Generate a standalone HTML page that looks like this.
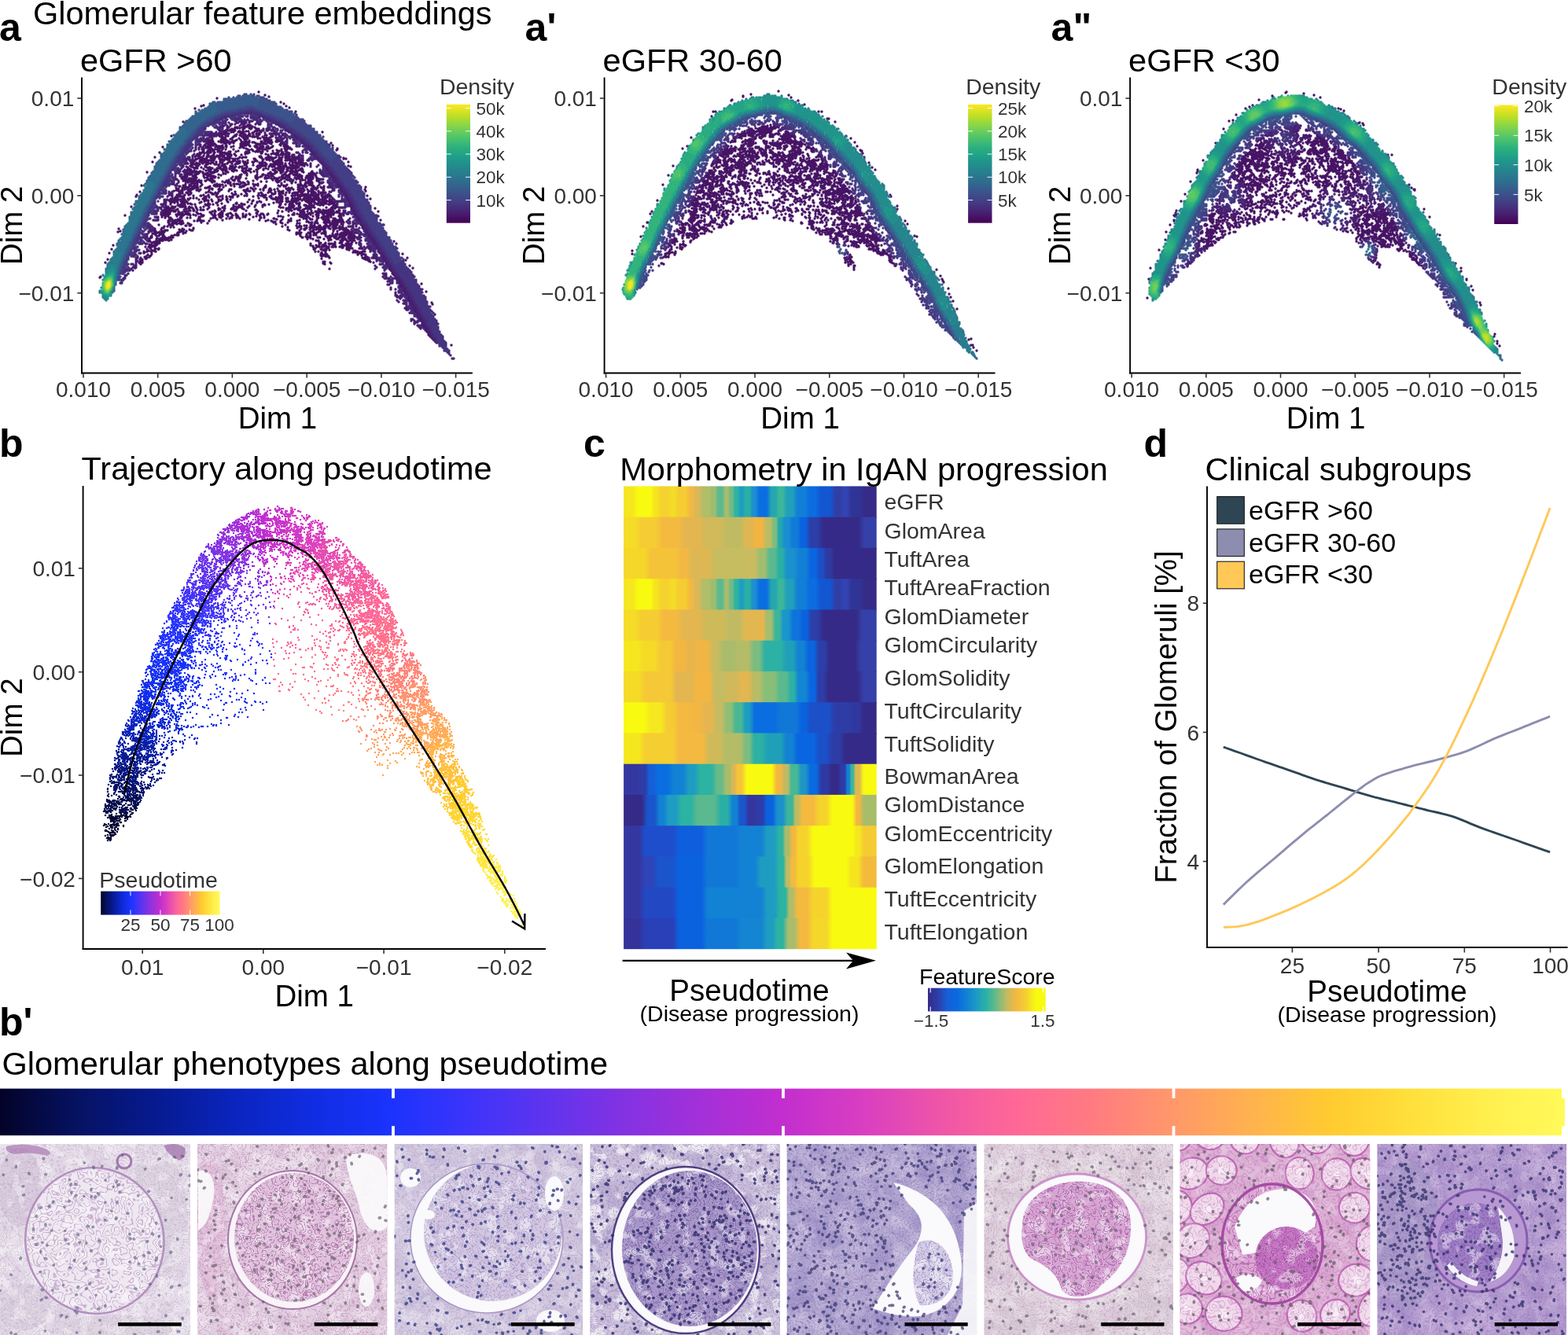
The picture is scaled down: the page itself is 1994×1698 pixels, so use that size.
<!DOCTYPE html><html><head><meta charset="utf-8"><style>html,body{margin:0;padding:0;background:#fff;overflow:hidden}svg{display:block}</style></head><body><svg width="1994" height="1698" viewBox="0 0 1994 1698" font-family='&quot;Liberation Sans&quot;, Arial, sans-serif'><defs><linearGradient id="vir" x1="0" y1="1" x2="0" y2="0"><stop offset="0%" stop-color="#440154"/><stop offset="9.1%" stop-color="#482173"/><stop offset="18.2%" stop-color="#433E85"/><stop offset="27.3%" stop-color="#38588C"/><stop offset="36.4%" stop-color="#2D708E"/><stop offset="45.5%" stop-color="#25858E"/><stop offset="54.5%" stop-color="#1E9B8A"/><stop offset="63.6%" stop-color="#2BB07F"/><stop offset="72.7%" stop-color="#51C56A"/><stop offset="81.8%" stop-color="#85D54A"/><stop offset="90.9%" stop-color="#C2DF23"/><stop offset="100%" stop-color="#FDE725"/></linearGradient></defs><rect width="1994" height="1698" fill="#fff"/><text x="-1" y="52" font-size="50" font-weight="bold">a</text><text x="667.6" y="52" font-size="50" font-weight="bold">a'</text><text x="1336.6" y="52" font-size="50" font-weight="bold">a"</text><text x="42" y="31.1" font-size="41.5">Glomerular feature embeddings</text><g stroke-linecap="round" fill="none"><path d="M329 117h0m8 4h0m5 2h0m-66 2h0m-20 10h0m3-1h0m98-4h0m4 2h0m-113 6h0m116-3h0m4 2h0m8 5h0m-143 13h0m62 9h0m1 1h0m2-1h0m1-2h0m0 1h0m0 0h0m2-1h0m1 0h0m0 1h0m3 0h0m3-1h0m1 0h0m1-1h0m0-1h0m0 1h0m1 1h0m0 1h0m1-2h0m0 0h0m1 0h0m1 0h0m1-2h0m1 0h0m1 2h0m0 2h0m1-4h0m0 4h0m1 0h0m0 1h0m1-2h0m0 1h0m1-2h0m3 1h0m1 1h0m2 1h0m2 0h0m-52 7h0m1-1h0m1-1h0m2 0h0m0 1h0m0-2h0m2 0h0m1-1h0m0 2h0m1 0h0m0-2h0m1 1h0m0 0h0m0-1h0m0 1h0m1 2h0m0 0h0m1-1h0m0-3h0m0 1h0m1-1h0m1 4h0m0 0h0m0 0h0m1 0h0m0-4h0m2-1h0m1 2h0m0 1h0m1-3h0m0 0h0m1 2h0m1-2h0m0 3h0m2-2h0m2 5h0m2-3h0m1-1h0m1 1h0m0-1h0m1 1h0m0 2h0m1 0h0m2-2h0m0-2h0m0-1h0m1 6h0m0-3h0m2 3h0m1-4h0m3 0h0m1 4h0m0-1h0m4-1h0m1 0h0m2-2h0m2-1h0m0 0h0m0 5h0m0-1h0m1-5h0m0 2h0m2 3h0m1 1h0m0-5h0m0 3h0m0-3h0m0 5h0m2-3h0m5 1h0m73-1h0m-192 5h0m51 2h0m1 1h0m2-3h0m1 0h0m1-1h0m1 1h0m4-2h0m0 2h0m2 1h0m1 0h0m0-1h0m0 4h0m1-6h0m0 3h0m0 3h0m1-2h0m1 2h0m1-6h0m0 5h0m0-1h0m1-3h0m1 1h0m2 0h0m3 4h0m2-1h0m1-1h0m1-1h0m1-1h0m1-1h0m1 1h0m4 3h0m1-4h0m2 1h0m1 1h0m1 0h0m0 0h0m1-2h0m0 1h0m0 3h0m1-3h0m1 3h0m0-2h0m0-1h0m1 0h0m2 2h0m0 1h0m0-3h0m1-1h0m2-1h0m0 2h0m3 1h0m0 0h0m1-2h0m0-1h0m0 1h0m1 2h0m1 0h0m3 0h0m1 2h0m0-1h0m0-2h0m3 3h0m0 0h0m3-2h0m1 1h0m1 1h0m0-1h0m1-3h0m1 4h0m1-1h0m0-3h0m2 5h0m1-1h0m1-1h0m2-1h0m0 0h0m1-1h0m1 0h0m4 2h0m1 1h0m0 1h0m0 0h0m-89 4h0m0 1h0m0-1h0m1 1h0m0-2h0m0 1h0m1-2h0m1 2h0m1 1h0m0-4h0m0 2h0m0-1h0m1 1h0m1 1h0m1 2h0m0-2h0m0-3h0m1 2h0m0 2h0m0 0h0m7-2h0m3 1h0m0 0h0m0-1h0m0-2h0m1 3h0m0 0h0m0 0h0m1-2h0m1 1h0m0-3h0m1 5h0m0 0h0m0-3h0m1-1h0m1 2h0m0-3h0m0 1h0m0 4h0m0-1h0m2 0h0m0-2h0m1 2h0m1-1h0m0 1h0m1 2h0m1-6h0m1 4h0m1-1h0m1-1h0m1 3h0m0 0h0m1-2h0m1-1h0m0 0h0m2-1h0m5 0h0m0 5h0m1 0h0m0-3h0m0 2h0m1 0h0m0 1h0m1-2h0m0 0h0m1 2h0m1-5h0m0 4h0m1-2h0m0 0h0m1-1h0m0 4h0m0-5h0m2 3h0m1 2h0m0-1h0m1-1h0m0-2h0m0 1h0m4 1h0m2 0h0m2 1h0m7-2h0m1 2h0m0-2h0m0 1h0m0 0h0m0 0h0m2 1h0m1-4h0m1 5h0m0-3h0m1 3h0m1-4h0m0-1h0m1 0h0m0 2h0m0 0h0m1 1h0m0-2h0m1 2h0m0 0h0m0-3h0m1 1h0m0 0h0m0 3h0m1 0h0m0-2h0m0-1h0m0 1h0m0-1h0m1 4h0m0-5h0m1 3h0m5-1h0m1 0h0m0-2h0m1 2h0m0-2h0m1 1h0m0-1h0m0 0h0m1 0h0m0 1h0m1-1h0m0 1h0m1 4h0m0 0h0m0-3h0m2 2h0m0-1h0m1 2h0m61-1h0m-214 5h0m51 1h0m2-3h0m1 0h0m0-1h0m1 4h0m0 0h0m1 0h0m1-1h0m0-1h0m0 2h0m0-1h0m1 0h0m0 0h0m0 1h0m0-4h0m1 4h0m0-4h0m0 5h0m1 0h0m0-2h0m0-2h0m0 1h0m0-2h0m1 4h0m0-3h0m0 1h0m1 3h0m2-6h0m0 2h0m1-1h0m1-1h0m1 1h0m0 3h0m1-2h0m1 1h0m1 0h0m2 2h0m0-2h0m0 1h0m1 1h0m1 0h0m0-2h0m2-1h0m0 3h0m0-1h0m1 1h0m3-2h0m0-3h0m1 4h0m0-2h0m6 2h0m3-1h0m8 2h0m1-3h0m1 0h0m1 2h0m1-1h0m0 1h0m1 1h0m1-3h0m2 4h0m0-4h0m1-1h0m1-1h0m1 0h0m1 2h0m1 1h0m6 0h0m0 0h0m1 1h0m1-3h0m0 0h0m0 1h0m1 3h0m0-2h0m1-3h0m0 5h0m2 0h0m0-4h0m0 5h0m1-3h0m0-3h0m1 6h0m0-2h0m1 2h0m1-3h0m0-1h0m1 2h0m4 2h0m0-2h0m0-4h0m2 5h0m0-2h0m3 2h0m2-1h0m1-1h0m9-2h0m0 0h0m0 0h0m1 1h0m4 1h0m1-1h0m0-2h0m0 6h0m1-1h0m0-4h0m1 3h0m0-3h0m0 4h0m1-3h0m0 3h0m1-2h0m1 2h0m1 0h0m1 0h0m0 0h0m20-2h0m34-1h0m6 4h0m-226 5h0m51 0h0m0 0h0m3-4h0m0 4h0m1-1h0m1 0h0m0-3h0m0-1h0m0 1h0m0 2h0m1 3h0m3-1h0m0 0h0m1 0h0m0-2h0m0 3h0m0-3h0m1 2h0m1-4h0m0-1h0m0 5h0m1-2h0m0-2h0m1 0h0m0 4h0m0-2h0m2-2h0m1 2h0m1 3h0m0-3h0m0 1h0m0 2h0m0-3h0m1-2h0m0 4h0m3-4h0m1 3h0m0-3h0m0-1h0m1 1h0m0-1h0m0 3h0m0 0h0m1 1h0m0-1h0m0-3h0m2 3h0m0 1h0m2 1h0m0-5h0m0 1h0m3 4h0m0 1h0m1 0h0m0-5h0m2 5h0m2-2h0m2 0h0m4-3h0m3 3h0m3-1h0m9 2h0m1-5h0m0 4h0m2 2h0m0-5h0m0 3h0m0 2h0m2-4h0m0 3h0m3-4h0m1 1h0m0 0h0m1 1h0m3 1h0m2-2h0m0 0h0m1 2h0m1-3h0m1 0h0m1 3h0m0 0h0m1 0h0m0 2h0m0-1h0m1 1h0m1-5h0m0 3h0m0-1h0m3-2h0m0 0h0m3 2h0m2-3h0m5 3h0m0 0h0m4 3h0m1-4h0m0 4h0m1-1h0m0-2h0m0 2h0m1 0h0m1-2h0m0 0h0m3-2h0m0 2h0m0 3h0m1 0h0m1-1h0m3-2h0m1 3h0m0-3h0m0-3h0m1 1h0m1-1h0m0 0h0m0 5h0m2 1h0m1-6h0m2 1h0m57 1h0m1-1h0m-232 10h0m51-1h0m2-1h0m1 0h0m0-2h0m2 5h0m0-2h0m1-4h0m0 2h0m0 2h0m0 1h0m1-4h0m2 4h0m2-2h0m4 1h0m0 2h0m1-4h0m0-1h0m1 0h0m0 3h0m0-3h0m2 3h0m2 0h0m1-1h0m0 3h0m1-2h0m0 1h0m0 0h0m1-4h0m0 2h0m2 2h0m2-2h0m1 1h0m2 1h0m0 1h0m0-3h0m0 2h0m1-3h0m0-1h0m1 1h0m0 1h0m1 0h0m1 1h0m0 0h0m0-1h0m0-3h0m2 3h0m0 2h0m3-4h0m1 4h0m0-3h0m1 0h0m0-1h0m0 1h0m1 0h0m0 1h0m1-2h0m0 3h0m0-4h0m0 5h0m1-4h0m1 1h0m0 1h0m4-2h0m1 1h0m1 1h0m5 2h0m2-3h0m2 3h0m3-4h0m0 4h0m0 0h0m1 0h0m17-1h0m1 0h0m0 1h0m1-1h0m6-3h0m0 5h0m2-1h0m1-3h0m0 3h0m0 0h0m1 0h0m0-1h0m2 1h0m0 0h0m1 0h0m0-4h0m2-1h0m1 0h0m1 6h0m1-5h0m1 4h0m1-3h0m2 0h0m1 3h0m0 0h0m2-3h0m2 3h0m1-5h0m0 2h0m3-1h0m0 3h0m1-2h0m0 2h0m0-1h0m2 2h0m1-3h0m0 4h0m0-2h0m0 1h0m1-1h0m0-3h0m3 3h0m1-2h0m0 3h0m2 0h0m0-3h0m2 3h0m0 0h0m1 0h0m1 1h0m2 0h0m0-2h0m0 1h0m0 0h0m0-2h0m1 2h0m0 1h0m16-5h0m40 5h0m-243 5h0m49 1h0m2-2h0m1 2h0m1-2h0m0-1h0m0 0h0m0 0h0m2-2h0m0 1h0m2-1h0m3 3h0m1-2h0m0 0h0m0 1h0m1 2h0m1 1h0m0-3h0m0-3h0m2 1h0m0 2h0m1-2h0m0 1h0m0 3h0m1-3h0m0-1h0m1 3h0m0 2h0m1-4h0m0 2h0m1 1h0m1-1h0m1-1h0m2 0h0m0-3h0m1 5h0m0-3h0m1 2h0m1 2h0m0-4h0m1 1h0m1-2h0m2 4h0m4-4h0m1 3h0m0-3h0m0 4h0m1 0h0m0-2h0m0 2h0m1-4h0m0 5h0m2-3h0m1-1h0m0 1h0m1-3h0m1 1h0m1 0h0m0-1h0m1 2h0m1 0h0m1-1h0m1 3h0m0-3h0m1-1h0m0 5h0m3-4h0m0 3h0m1 0h0m0-2h0m1 0h0m1-1h0m0 2h0m2 2h0m1-4h0m1 3h0m1 0h0m0-4h0m1 6h0m0-2h0m3-4h0m1 4h0m1 2h0m1 0h0m1-1h0m3-2h0m6 2h0m1 1h0m1-5h0m1 3h0m0-2h0m0-1h0m0 1h0m1 0h0m2 2h0m5 2h0m1-6h0m1 5h0m0-2h0m1-1h0m4 0h0m1 0h0m2-1h0m0 0h0m1 2h0m0-3h0m3 2h0m0-1h0m1 3h0m0-3h0m0-1h0m0 2h0m2-2h0m0 5h0m0-5h0m0 0h0m2 4h0m0 1h0m2 1h0m0-2h0m0-1h0m0 1h0m1 1h0m0-1h0m1 2h0m0-2h0m0-3h0m1 2h0m0 3h0m0-6h0m1 6h0m1-5h0m0 2h0m0-1h0m5-2h0m0 3h0m0 0h0m2 0h0m1-2h0m1 1h0m1-2h0m1 3h0m0-1h0m0 0h0m0 2h0m2-1h0m0 1h0m0-3h0m0 3h0m0 0h0m1 1h0m0-3h0m1-1h0m0-1h0m0 3h0m1-2h0m0 0h0m1 5h0m0-4h0m0-1h0m1 4h0m0-2h0m0-1h0m1 4h0m2-5h0m1 0h0m0 1h0m0 2h0m0 0h0m2-3h0m0 1h0m0 4h0m1-1h0m0-3h0m1 2h0m0 0h0m0 0h0m1-1h0m52-2h0m3 0h0m3 4h0m-201 5h0m1-3h0m0 4h0m1-3h0m0 3h0m1-3h0m1 0h0m0 4h0m0-4h0m0-1h0m0 1h0m2 0h0m2 0h0m0 3h0m0-2h0m0-3h0m0 4h0m0-1h0m1 1h0m1 0h0m1-3h0m1 1h0m2 4h0m2-5h0m3 3h0m0 1h0m1-3h0m0 3h0m2-3h0m0-1h0m1 0h0m0-1h0m0 1h0m3 0h0m5 1h0m2-1h0m0 1h0m3 1h0m0 1h0m1 2h0m0-4h0m3 2h0m1-2h0m0-2h0m1 3h0m0 1h0m1 2h0m1-4h0m0 0h0m1 3h0m2-4h0m0 0h0m1-1h0m3 5h0m0-1h0m0 2h0m1 0h0m1-5h0m1 4h0m0-1h0m2 2h0m1-4h0m1 3h0m1-4h0m1 0h0m1 0h0m2 4h0m3 0h0m3-2h0m0-2h0m1 1h0m1 1h0m1-2h0m0 4h0m1-5h0m7 3h0m5 2h0m1-1h0m0 0h0m2-1h0m0-3h0m1 4h0m0-3h0m1 0h0m0-1h0m0 1h0m1 3h0m0-1h0m1 0h0m0-3h0m0 4h0m1-1h0m1 1h0m1-4h0m1 2h0m0-1h0m0 0h0m0 1h0m0 2h0m1-2h0m3 3h0m0 0h0m1-1h0m1-2h0m1 2h0m0-2h0m1 3h0m1-3h0m0 3h0m2-5h0m0 4h0m1-3h0m1 1h0m1-2h0m0 1h0m1 1h0m1 2h0m1-4h0m1 1h0m0 2h0m1-1h0m0 0h0m0 3h0m1-4h0m1-1h0m0 1h0m0 0h0m1 3h0m2 0h0m1-3h0m0 1h0m0-1h0m1 3h0m0 1h0m4-4h0m1 2h0m1 1h0m0 2h0m1-1h0m0-2h0m1-3h0m1 6h0m0-3h0m1 1h0m0 0h0m0 1h0m1-1h0m0 0h0m0 1h0m0 0h0m0-5h0m1 4h0m1-2h0m0 2h0m0-3h0m1 0h0m0 3h0m2 1h0m0-5h0m0 1h0m0 0h0m1 1h0m1 0h0m0-1h0m1 2h0m1-3h0m1 3h0m0-3h0m0 2h0m2 1h0m0 1h0m0-3h0m1 1h0m1-1h0m54 3h0m3 1h0m-259 7h0m48-1h0m2 0h0m1-2h0m0 1h0m1-4h0m0 3h0m1 0h0m0 0h0m1 0h0m0 1h0m0 2h0m0-4h0m1 3h0m1 0h0m0-1h0m0-1h0m0 1h0m3-4h0m0 5h0m1-4h0m0 3h0m2-3h0m0-1h0m1 5h0m0 0h0m1-4h0m2 5h0m1-1h0m0 0h0m1 0h0m4-3h0m3 2h0m1-4h0m2 1h0m0 0h0m0 2h0m1-1h0m0 3h0m0-5h0m1 0h0m0 0h0m1 3h0m0 3h0m0 0h0m1-5h0m1 0h0m1 5h0m0 0h0m2-3h0m0 1h0m1 1h0m1-2h0m0 2h0m1-2h0m0-2h0m0 4h0m0-2h0m1 1h0m2-3h0m1-1h0m1 2h0m2 0h0m0 0h0m0 2h0m2-1h0m1 0h0m1 2h0m1-2h0m0 2h0m0-4h0m2 5h0m2-5h0m0 1h0m1-1h0m0 0h0m1 0h0m1-1h0m0 4h0m1-3h0m1 4h0m0-4h0m0 1h0m1-1h0m0 0h0m1 2h0m2 1h0m3-4h0m4 4h0m0-3h0m1 1h0m1 3h0m1-4h0m0 5h0m1-1h0m0-4h0m1 0h0m0 3h0m1-4h0m0 4h0m2 0h0m1-2h0m0 2h0m2-2h0m0 4h0m4-1h0m3-2h0m1 0h0m1-1h0m1-1h0m2-1h0m4 3h0m0-1h0m3-1h0m3 1h0m6 1h0m2 1h0m1 2h0m0-5h0m0 1h0m1-1h0m0 4h0m1 1h0m1-5h0m1-1h0m0 3h0m0-1h0m2 2h0m0-3h0m2 2h0m1-2h0m0 4h0m1 0h0m1-3h0m0-2h0m0 2h0m4 0h0m0 2h0m1 0h0m0-3h0m0 3h0m1-4h0m0 1h0m2 4h0m0-4h0m1 3h0m0-3h0m0 1h0m1 0h0m0-2h0m1 6h0m0-3h0m0-2h0m0 3h0m0-2h0m1-1h0m2 4h0m0 1h0m1-2h0m0 1h0m0-3h0m0 4h0m1-1h0m0-4h0m2 3h0m0-4h0m2 3h0m1-1h0m0 0h0m0 1h0m1 0h0m1 2h0m0-4h0m1 2h0m1 3h0m10 0h0m1-1h0m0 0h0m0 1h0m18-3h0m-180 8h0m0-2h0m0 1h0m0-3h0m0 1h0m0 1h0m1-1h0m0-1h0m0-1h0m0 2h0m0-1h0m0 1h0m2 1h0m0 0h0m0 2h0m0 1h0m0-5h0m1 0h0m0 0h0m2 2h0m1 0h0m1-1h0m0-1h0m1 1h0m1 3h0m1-5h0m0 6h0m1-2h0m1-1h0m1-2h0m0-1h0m0 4h0m1-3h0m1 1h0m1 0h0m1-1h0m1-1h0m0 0h0m4 0h0m0 1h0m1 4h0m0-2h0m2-1h0m1 0h0m0 1h0m2 2h0m0 1h0m0-5h0m0 0h0m1 4h0m0-2h0m0 1h0m1-1h0m1 1h0m0-1h0m1-1h0m0 1h0m2 2h0m0-5h0m1 1h0m1 4h0m0 0h0m1-5h0m5 3h0m3 1h0m3-2h0m0-1h0m3 1h0m9 4h0m4 0h0m5-2h0m1 2h0m1-3h0m3-3h0m1 1h0m2 0h0m1 1h0m0 2h0m0 0h0m11 1h0m2-2h0m0-3h0m6 5h0m1-2h0m0 1h0m1-1h0m3 1h0m0 1h0m0 0h0m3-1h0m0 0h0m0-2h0m1 3h0m1-4h0m1-1h0m0 2h0m1 3h0m1-2h0m0 1h0m0-2h0m1 3h0m2-3h0m0 0h0m1-1h0m7-1h0m0 1h0m0-1h0m1 0h0m1 4h0m0-4h0m1 4h0m1-1h0m2-2h0m1 3h0m0-4h0m3 4h0m1 1h0m0-2h0m1-1h0m2-1h0m2 2h0m0 0h0m2 1h0m1-2h0m1-2h0m1 1h0m0 3h0m0 1h0m1-1h0m2-1h0m0 3h0m0-1h0m1-1h0m2 1h0m6 0h0m2-1h0m1-2h0m0 3h0m1-3h0m0 3h0m1 0h0m1-1h0m0-2h0m0-2h0m1 4h0m0-3h0m0 4h0m0-4h0m1 1h0m0-1h0m0 5h0m2-3h0m0-1h0m1 2h0m0-1h0m1 2h0m17-2h0m2 2h0m-190 3h0m0-2h0m1 2h0m1-1h0m0-1h0m0 5h0m0-2h0m1-1h0m0 1h0m0 1h0m0-3h0m1 0h0m0 1h0m0 0h0m1 0h0m0 1h0m0-2h0m1 2h0m1 1h0m0 0h0m0 2h0m1 0h0m0-2h0m1-1h0m1-1h0m1 3h0m0-1h0m1-1h0m0-1h0m1 1h0m0 1h0m1 1h0m0 0h0m1-3h0m0-2h0m0 4h0m1 1h0m0-4h0m1 0h0m0 0h0m0 3h0m1-2h0m0-1h0m0 3h0m0-4h0m1 6h0m0-5h0m0 4h0m3-1h0m0 1h0m3 0h0m4-4h0m1 4h0m1 0h0m1-4h0m1 2h0m1 0h0m1 1h0m2-3h0m0-1h0m0 2h0m0 3h0m1 0h0m0-1h0m0 2h0m1-3h0m0 3h0m0-3h0m0-2h0m2-1h0m0 5h0m1-4h0m1-1h0m4 1h0m10 5h0m0-1h0m2 0h0m1-1h0m3-2h0m2 2h0m2 1h0m1-2h0m2-3h0m0 1h0m2 4h0m0-2h0m0 2h0m0-1h0m1-4h0m1 2h0m8 0h0m9 3h0m3-4h0m1 1h0m1-2h0m0 3h0m0-2h0m1 0h0m3-1h0m6 2h0m0-1h0m1 0h0m1 1h0m0 0h0m2-1h0m1 0h0m3 1h0m2 2h0m0-1h0m2-2h0m1 1h0m1 2h0m0 1h0m1-3h0m1 1h0m0 3h0m1-1h0m1 1h0m0-5h0m2 3h0m1-4h0m0 3h0m2-2h0m1 1h0m2-2h0m1 3h0m1 0h0m1 1h0m0 0h0m0-4h0m2 1h0m1 2h0m0 2h0m1-2h0m2 3h0m1-2h0m2-3h0m2 2h0m1-2h0m1-1h0m0 1h0m1 1h0m0-2h0m2 0h0m0 6h0m0-2h0m2-2h0m0 0h0m1 2h0m0 0h0m3 0h0m1-3h0m1 0h0m2 0h0m0 1h0m0 3h0m0 1h0m0-1h0m0-1h0m1-3h0m0 0h0m0 4h0m0-4h0m0 3h0m1 1h0m0-4h0m0 1h0m1 2h0m0 2h0m0-4h0m1 2h0m0 0h0m0-3h0m0 2h0m1-1h0m1 0h0m4-2h0m1 3h0m0-1h0m0 3h0m0-3h0m0 1h0m0 0h0m1-1h0m0 1h0m1 2h0m0 0h0m1-2h0m0 0h0m0 2h0m0 0h0m19 0h0m-245 6h0m49 1h0m4-1h0m2 0h0m0 1h0m1-3h0m0-3h0m3 1h0m2 3h0m0-4h0m0 5h0m1-1h0m1-1h0m1-2h0m0-1h0m1 2h0m1-2h0m0 2h0m1 0h0m0 2h0m1-2h0m2-1h0m0 4h0m1 0h0m0-5h0m0 3h0m2-3h0m2 6h0m0 0h0m0-5h0m1 1h0m0 0h0m1 2h0m13-3h0m2 4h0m0 0h0m1-1h0m0-4h0m1 6h0m0-2h0m1 0h0m1-1h0m0 3h0m0-2h0m1 1h0m2-1h0m0 0h0m1 0h0m3-4h0m0 4h0m3-3h0m1 4h0m3-4h0m0 1h0m1-1h0m2 0h0m0 3h0m0-1h0m0 1h0m1 1h0m3-2h0m1 0h0m0 3h0m3-3h0m2 0h0m2 1h0m0-4h0m2 2h0m1 4h0m1-5h0m0 4h0m1 0h0m0 1h0m1-4h0m1 2h0m1 0h0m2-4h0m1 1h0m0 2h0m6 0h0m1 3h0m2-2h0m3 1h0m0-2h0m4-3h0m6 5h0m1-5h0m13 0h0m1 1h0m1 4h0m1-5h0m1 6h0m2-4h0m0 2h0m3 2h0m0-1h0m0 1h0m1-6h0m2 5h0m1-1h0m6-2h0m0-1h0m5 0h0m0 0h0m3 3h0m1 1h0m2-1h0m0-2h0m1 2h0m1 1h0m3 0h0m1-1h0m0-1h0m1-2h0m1 1h0m2-1h0m1 0h0m0 3h0m0-2h0m1 2h0m0 0h0m1-3h0m0 2h0m0 0h0m0-2h0m1 4h0m1-3h0m0 3h0m0-4h0m1 4h0m6 1h0m2-2h0m0-3h0m1 1h0m2 0h0m20 3h0m-205 6h0m0-3h0m1 2h0m1 1h0m1 1h0m0-3h0m0 1h0m1-4h0m2 6h0m1-1h0m1-1h0m0-2h0m0 3h0m3-4h0m0 1h0m0 2h0m1-3h0m0-1h0m0 2h0m1-1h0m1 2h0m0-1h0m0 0h0m1 3h0m1-2h0m0 0h0m0-2h0m1-1h0m0 6h0m0 0h0m2-2h0m0-1h0m1 0h0m0 1h0m0-4h0m2 0h0m0 2h0m0 1h0m0 0h0m0-1h0m2-2h0m0 2h0m2 3h0m0 0h0m0-4h0m0 1h0m0-1h0m1 0h0m0 3h0m1-2h0m1 4h0m1-1h0m0 0h0m0 0h0m1-1h0m6-2h0m2 0h0m2-1h0m1 4h0m0-3h0m1-2h0m2 3h0m1 0h0m0 1h0m8 0h0m1-1h0m0-3h0m1 5h0m0-5h0m2 4h0m2-3h0m7 5h0m1-2h0m2 0h0m11-3h0m2 0h0m3 4h0m1 1h0m1-1h0m1 1h0m1-2h0m0 0h0m1-1h0m0 2h0m3 1h0m1-4h0m2 1h0m1 1h0m1-4h0m2 3h0m6 1h0m4 1h0m0-2h0m0 1h0m1-2h0m1-2h0m1 1h0m0-1h0m0 0h0m4 5h0m1-2h0m1 0h0m1 2h0m4-1h0m4-1h0m2 3h0m1-6h0m7 0h0m1 3h0m2 2h0m1 0h0m0-3h0m1 3h0m1 0h0m0-2h0m0 0h0m2-1h0m2 2h0m6 0h0m0-3h0m1 5h0m1-5h0m0 2h0m0-3h0m0 1h0m1 4h0m0 0h0m0 0h0m1-2h0m2 0h0m0 0h0m0-2h0m0 1h0m1 1h0m1 2h0m2-4h0m1-1h0m0 0h0m1 4h0m5 0h0m0-1h0m0 1h0m0 2h0m1-1h0m1-3h0m0 1h0m0 2h0m0-1h0m1-4h0m0 2h0m0-1h0m0 2h0m2-1h0m0 1h0m1 1h0m2-2h0m4-1h0m1 1h0m2 0h0m0 3h0m1 0h0m0-5h0m0 2h0m19-1h0m2 4h0m31-1h0m1 2h0m0-5h0m-291 10h0m4-4h0m43-1h0m4 6h0m0-1h0m1 0h0m0 0h0m1-5h0m0 5h0m0 0h0m1-4h0m0 2h0m1 1h0m0 1h0m0-2h0m3-3h0m0 1h0m0 2h0m3 2h0m2-3h0m2 1h0m0 0h0m0-1h0m1 3h0m0 0h0m0-1h0m2 0h0m0-3h0m1 1h0m0 1h0m3 3h0m9 0h0m1 0h0m3-1h0m3-3h0m3 3h0m0 1h0m0-5h0m3 1h0m2 1h0m0 1h0m0 0h0m2 0h0m2-2h0m1 1h0m1 1h0m1-1h0m1-2h0m1-1h0m4 6h0m12-3h0m2 2h0m2-4h0m0 3h0m1 0h0m7 0h0m4 2h0m1-6h0m0 1h0m1 2h0m1 1h0m2-4h0m7 0h0m5 6h0m1-3h0m0 2h0m3 1h0m0-4h0m1 1h0m2 2h0m3 0h0m3-3h0m3-1h0m2 2h0m2 1h0m2-3h0m0 2h0m4-3h0m1 2h0m0-1h0m0 3h0m1-3h0m1 2h0m1-2h0m1 1h0m1 1h0m0-3h0m3 5h0m1-3h0m4 0h0m4 4h0m0-3h0m2-1h0m1 3h0m1-3h0m2 3h0m0-3h0m0 0h0m0 1h0m1 2h0m1 0h0m0-4h0m1-1h0m2 2h0m0-2h0m0 5h0m0-2h0m0 0h0m2-2h0m0 3h0m1-4h0m1 5h0m1-1h0m1 1h0m2 0h0m0 0h0m0-1h0m1 0h0m0-3h0m1-1h0m2 5h0m0 1h0m1-4h0m1-2h0m0 3h0m1 0h0m1-1h0m0 3h0m0 1h0m0-5h0m2 5h0m0-4h0m1 4h0m0-2h0m3-4h0m0 5h0m0-4h0m0 3h0m3-2h0m0 1h0m1 1h0m0-1h0m1 3h0m0-1h0m1-2h0m0 0h0m0-2h0m2 2h0m1 3h0m0-4h0m2 3h0m0 0h0m1 0h0m1 0h0m0-1h0m1 1h0m16-4h0m-262 6h0m42 5h0m2-2h0m2-3h0m0 5h0m0-2h0m1 1h0m0 1h0m1-2h0m1 1h0m0-1h0m1-2h0m1 3h0m1 0h0m0-1h0m0-2h0m1 3h0m0-1h0m0 0h0m0-3h0m0 3h0m2-3h0m1 0h0m0 4h0m0 0h0m2 0h0m0-4h0m1 3h0m0-1h0m0 1h0m1 0h0m1-2h0m0 4h0m0-6h0m0 4h0m1 1h0m4-1h0m1 1h0m2-2h0m4 0h0m4 0h0m3 2h0m5-1h0m0 0h0m0 0h0m2 1h0m0-3h0m0 2h0m2-3h0m0 1h0m0 2h0m1 2h0m2 0h0m1-4h0m3 3h0m6-5h0m1 1h0m1 1h0m1 3h0m1 0h0m1-4h0m3 3h0m0-1h0m5-2h0m0 4h0m0-3h0m1 2h0m3-3h0m1 4h0m1-3h0m1-1h0m1 1h0m6-1h0m1-1h0m11 0h0m3 5h0m5-4h0m0 5h0m7-3h0m6-2h0m1 1h0m0 0h0m0-2h0m1 1h0m0 0h0m2 2h0m0 2h0m4-4h0m2-1h0m0 3h0m1 0h0m1 1h0m1 0h0m2 0h0m1-2h0m0 3h0m2-2h0m1 1h0m1-3h0m1 2h0m1-2h0m0-1h0m1 0h0m1 1h0m0 2h0m0 1h0m5 0h0m0-1h0m2 0h0m0 1h0m5 1h0m0-5h0m0 6h0m0-6h0m1 3h0m0 2h0m3-5h0m0 3h0m0 2h0m0 1h0m2-1h0m1-1h0m0-1h0m1-2h0m0 2h0m0 3h0m0-3h0m0-2h0m1 4h0m0-5h0m0 4h0m1-4h0m1 1h0m0 3h0m3-4h0m1 4h0m1 1h0m0-2h0m1-1h0m0-1h0m1 1h0m1-1h0m0 5h0m0-5h0m0 4h0m0-2h0m1 2h0m0-2h0m1 2h0m0-3h0m1-1h0m0 3h0m1 0h0m1-2h0m0 3h0m0-4h0m1 5h0m1-2h0m1-4h0m0 4h0m1-3h0m1 4h0m0-4h0m0 0h0m0 0h0m0 2h0m0 2h0m1-2h0m1-2h0m0 3h0m1-1h0m0 1h0m0-3h0m0 2h0m0 2h0m1 0h0m1-3h0m0 3h0m0 0h0m1-1h0m1 1h0m2-5h0m0 5h0m1-4h0m0 1h0m0-2h0m1 4h0m1-1h0m0-2h0m0 5h0m1-1h0m0-4h0m0 3h0m0 1h0m1-2h0m0-2h0m2 1h0m1-2h0m0 1h0m2 3h0m1-3h0m0-1h0m1 5h0m18-4h0m2 4h0m26-5h0m4 4h0m-260 8h0m4-6h0m1 1h0m1 2h0m0 0h0m0 2h0m0-5h0m1 0h0m1 2h0m2-1h0m1 1h0m0 1h0m1-2h0m2-1h0m0 1h0m1 2h0m0-3h0m0 3h0m2 3h0m2-1h0m0-4h0m1 5h0m0-4h0m1 0h0m0 2h0m1-3h0m2 2h0m0 2h0m2-4h0m0 0h0m1 1h0m1 2h0m3 0h0m2 1h0m4 0h0m6-2h0m2-1h0m4-1h0m1 4h0m0 0h0m0-5h0m1 6h0m2-1h0m1 1h0m0-3h0m2 2h0m3-4h0m1 4h0m4-2h0m1 0h0m1 3h0m1-5h0m3-1h0m1 4h0m7-3h0m1 1h0m10 2h0m1-1h0m0 1h0m3 2h0m3-2h0m2 1h0m2 0h0m0 0h0m4-3h0m5 2h0m1-3h0m6 2h0m0-1h0m3-1h0m2 1h0m4 3h0m1 1h0m5-1h0m6-2h0m4-1h0m1-2h0m2 3h0m1 3h0m0-5h0m0 0h0m1-1h0m0 5h0m1-3h0m1-1h0m4 4h0m1-4h0m1 1h0m0 0h0m2-1h0m1 4h0m1-3h0m0 1h0m1 3h0m0 0h0m0-3h0m2 1h0m0-3h0m1 1h0m0 0h0m3 0h0m1 2h0m0-3h0m2-1h0m0 4h0m2 0h0m0-1h0m3-3h0m0 0h0m3 6h0m1 0h0m1-5h0m0 5h0m2-4h0m0-1h0m1 1h0m0-2h0m0 2h0m1 0h0m0 2h0m1 1h0m1-4h0m0 1h0m0 0h0m0-1h0m1 3h0m0-1h0m0 3h0m2-5h0m0-1h0m1 0h0m1 2h0m0 1h0m2 1h0m2 1h0m1-3h0m0 3h0m0-2h0m1-2h0m1 5h0m1-3h0m1 2h0m0-3h0m1 3h0m1-1h0m0-4h0m0 6h0m0-3h0m0-1h0m1 1h0m0 0h0m0 1h0m1-2h0m0-1h0m0 3h0m1-4h0m0 3h0m0 0h0m1-3h0m0 4h0m1-3h0m2 4h0m0-4h0m1 3h0m0 1h0m0-3h0m1 2h0m0-3h0m0 3h0m1 0h0m0-4h0m1 1h0m2 4h0m0-2h0m1-1h0m0 3h0m0 0h0m1-3h0m1 4h0m1-1h0m15-4h0m2 4h0m-278 3h0m42 4h0m2-4h0m0 0h0m0 3h0m0-5h0m0 3h0m1 2h0m1-2h0m0 1h0m0 1h0m1-3h0m0 0h0m1 4h0m0 0h0m0-2h0m1 2h0m0-1h0m2 1h0m0-2h0m0-1h0m0 2h0m0 1h0m1-4h0m0 0h0m1 0h0m1 2h0m2-2h0m3 3h0m0-5h0m2 1h0m1 1h0m2 0h0m1 0h0m1-2h0m0 1h0m1 5h0m0-6h0m0 2h0m1-2h0m0 1h0m0 1h0m1 2h0m0-2h0m1 3h0m3-2h0m0 1h0m1 0h0m0-2h0m3 1h0m1 1h0m1 1h0m3-3h0m1 2h0m0 0h0m5 2h0m0-3h0m4-1h0m5 3h0m1-4h0m0-1h0m1 3h0m12 3h0m0-2h0m1 1h0m1 0h0m3-2h0m1 0h0m1 3h0m1-5h0m0 3h0m8 1h0m1 0h0m0-1h0m2-2h0m0-1h0m0-1h0m1 5h0m2-3h0m1 3h0m2-3h0m0 1h0m2-1h0m1-1h0m1 2h0m1 1h0m0-2h0m2 3h0m5-2h0m2-2h0m7 1h0m1-2h0m9 2h0m0-2h0m21 2h0m2 1h0m3 0h0m4 1h0m3-1h0m0 2h0m1-4h0m1 0h0m0 2h0m0 3h0m1-2h0m1-2h0m0-2h0m2 3h0m0-3h0m1 1h0m0 4h0m1 0h0m2-1h0m2 2h0m1-3h0m0-2h0m0 5h0m0-2h0m0 2h0m0-1h0m1-1h0m0-2h0m0-1h0m1 2h0m5 2h0m2-4h0m0 3h0m1-3h0m0 3h0m1-2h0m1 3h0m0 0h0m1-4h0m1 2h0m0 1h0m1 1h0m0-2h0m1-1h0m0 1h0m1-1h0m0 0h0m1 0h0m0 0h0m1-2h0m1 3h0m5 2h0m2 1h0m0 0h0m4 0h0m4-3h0m4 3h0m2-2h0m0 1h0m1-2h0m1-1h0m0 0h0m0 0h0m0 2h0m0 0h0m2-3h0m1 3h0m1-1h0m0-3h0m1 1h0m1 1h0m16-1h0m2 2h0m0 2h0m30-1h0m-271 6h0m1 0h0m0-1h0m0 2h0m1-4h0m0 3h0m1-2h0m0 2h0m1-3h0m0-1h0m0 0h0m1 4h0m1-2h0m0 3h0m2-4h0m0 2h0m1 0h0m0 0h0m1 2h0m0-5h0m1 0h0m0 2h0m1-1h0m3 1h0m0-1h0m2 1h0m1-2h0m1 6h0m2-3h0m0 1h0m0-2h0m1 1h0m2 2h0m1 0h0m0-1h0m1-1h0m0 0h0m0 1h0m3-2h0m0 0h0m1 3h0m0 0h0m1-2h0m0 2h0m0-3h0m0 2h0m0-2h0m2 2h0m1-3h0m1 4h0m1-4h0m4 0h0m1 0h0m3 2h0m1 1h0m0-4h0m1 5h0m3 0h0m1 1h0m1-6h0m2 0h0m8 3h0m2 2h0m1-3h0m3 2h0m0-3h0m1 1h0m4 4h0m2-2h0m2-2h0m1 3h0m0-1h0m2-3h0m5 4h0m3-1h0m1 1h0m4-4h0m2 4h0m0-4h0m9 4h0m0 0h0m4-4h0m4 4h0m8-5h0m1 0h0m0 4h0m1 1h0m1-3h0m4 3h0m2 0h0m6 1h0m1-1h0m12-1h0m1-3h0m5 1h0m5-2h0m3 2h0m4-1h0m3 3h0m0 2h0m4-1h0m0 0h0m3 1h0m1-5h0m0 0h0m0 2h0m1 3h0m1-4h0m0 0h0m1-2h0m0 4h0m0-1h0m0-2h0m0 4h0m1-5h0m0 2h0m1 1h0m2 3h0m2-4h0m0 4h0m1-1h0m2-1h0m1 2h0m1-5h0m0 3h0m0 0h0m2 0h0m3-2h0m1 0h0m1 2h0m0-2h0m1 4h0m0-3h0m0-1h0m1 2h0m0-2h0m0 2h0m1-4h0m1 3h0m0-1h0m1 0h0m1 1h0m1 2h0m0-1h0m1-3h0m1 2h0m0 1h0m0 1h0m1-4h0m1 0h0m1 3h0m0-3h0m0 0h0m0 1h0m0-1h0m1 0h0m0 4h0m1-1h0m0 2h0m0-4h0m1 0h0m0 4h0m0-6h0m0 4h0m1-3h0m0 2h0m1-3h0m0 4h0m1-3h0m0 3h0m0 2h0m1-6h0m1 4h0m1-2h0m0-1h0m0 1h0m1 2h0m0 0h0m3-1h0m0 0h0m0 0h0m0-1h0m1 1h0m0 0h0m1 0h0m1 0h0m0-2h0m0-1h0m1 1h0m0 5h0m1-1h0m16-4h0m0 2h0m2 2h0m30-3h0m-322 5h0m46-1h0m1 3h0m1-2h0m0 0h0m1-1h0m2 4h0m0-4h0m0 2h0m0 0h0m1 0h0m3 0h0m0-2h0m1 4h0m2 1h0m0-1h0m0 1h0m0 0h0m0 1h0m2 0h0m5-6h0m1 2h0m1 4h0m1-6h0m2 4h0m0 1h0m1-3h0m0-1h0m1 3h0m0-3h0m1 0h0m1 0h0m1-1h0m4 4h0m0 0h0m1-4h0m3 4h0m0-3h0m4-1h0m3 1h0m3 5h0m1-3h0m1 3h0m1-3h0m3-2h0m0 1h0m1-1h0m9 4h0m3-1h0m0-3h0m0 0h0m1 2h0m0-1h0m1-2h0m1 4h0m0-3h0m2 5h0m3-3h0m1-3h0m1 0h0m0 4h0m1-2h0m1 0h0m5-2h0m0 5h0m2-3h0m2 3h0m2-2h0m1 1h0m1-3h0m4 0h0m1 3h0m1-1h0m0-2h0m1 2h0m2 2h0m4-4h0m0 2h0m3 0h0m0-1h0m1-1h0m0-1h0m5 0h0m0 0h0m4 3h0m4-1h0m4-1h0m1 1h0m0 2h0m1 0h0m3-4h0m1 4h0m0-2h0m12 3h0m1 0h0m5-3h0m3 0h0m2 4h0m1-3h0m7-2h0m3 4h0m2-5h0m9 2h0m2 0h0m0 1h0m2 0h0m1-1h0m0 3h0m0-2h0m0 0h0m1-3h0m0 1h0m1 1h0m1 3h0m0 0h0m1-2h0m2 0h0m2 2h0m1 1h0m3-4h0m4-2h0m1 0h0m0 3h0m0 3h0m1-3h0m1-3h0m0 4h0m0-3h0m4 3h0m1-1h0m1 0h0m0 3h0m1-5h0m0 1h0m0 3h0m0-2h0m1 0h0m0 2h0m1 1h0m1-4h0m1 3h0m1-2h0m1-3h0m0 5h0m0-5h0m2 0h0m0 2h0m0-2h0m1 1h0m0 2h0m3-3h0m0 5h0m2 0h0m5-3h0m1 4h0m0-3h0m1 2h0m0-1h0m0 2h0m0-1h0m1-2h0m0-2h0m1 5h0m16-5h0m2 2h0m2 2h0m26-3h0m-267 6h0m0 2h0m0 0h0m1-3h0m0 3h0m0 0h0m1-2h0m3 1h0m2-1h0m0 3h0m0-2h0m1 1h0m0-2h0m1 1h0m0 1h0m0 1h0m0-4h0m1 3h0m1 2h0m0-3h0m2-2h0m0 0h0m1 4h0m0-3h0m0 3h0m1-2h0m0-1h0m1 1h0m0 3h0m1 0h0m0-4h0m1 1h0m0-1h0m0 1h0m1 2h0m6 0h0m2 1h0m6-4h0m4 0h0m2-1h0m2 0h0m0 1h0m1 2h0m1-2h0m2 0h0m5 3h0m2-3h0m17-1h0m34-1h0m13 1h0m8 1h0m3-1h0m4 1h0m2 1h0m1 1h0m2-1h0m2-3h0m5 3h0m0 1h0m0-2h0m2 3h0m7-1h0m1-3h0m1 1h0m2-2h0m0 2h0m8 0h0m0 3h0m3-4h0m0 4h0m9-5h0m0 3h0m2 0h0m0 0h0m1 1h0m3 0h0m1-4h0m0 4h0m4 0h0m0-1h0m0 0h0m0 1h0m1 0h0m1-4h0m0 2h0m1 3h0m8-1h0m0-3h0m0 0h0m1 0h0m0 0h0m1 4h0m0-1h0m1-2h0m0 2h0m0 1h0m1-4h0m1 2h0m1 1h0m0-1h0m0 1h0m1-2h0m0 0h0m0 2h0m2 1h0m0 0h0m2-3h0m0 0h0m0 1h0m1 1h0m1-3h0m0 3h0m0-3h0m0 2h0m0 0h0m1 1h0m0-4h0m0 2h0m1 0h0m0-2h0m1 4h0m0-1h0m0-1h0m1 3h0m1-1h0m0-2h0m0-1h0m1 2h0m0-1h0m0 0h0m1-1h0m1 1h0m1-1h0m0 2h0m0 2h0m0-4h0m1-1h0m1 2h0m1 2h0m18-3h0m2 2h0m27-2h0m-333 11h0m51-5h0m4 4h0m0 0h0m2 0h0m1-2h0m4 0h0m2-2h0m2 0h0m0 3h0m1-4h0m0 2h0m0 0h0m2-1h0m1 3h0m15-2h0m1 0h0m4-1h0m0 1h0m1 0h0m1-1h0m3 4h0m105-5h0m8 3h0m4-2h0m3 3h0m11-2h0m1 3h0m0 0h0m1-1h0m2-2h0m1 2h0m0-1h0m1 0h0m0 3h0m0 0h0m4-4h0m0 4h0m2-1h0m1 0h0m0-3h0m4 2h0m1 1h0m0-4h0m1 4h0m0-5h0m1 3h0m0-1h0m0 0h0m1 2h0m1 1h0m1-5h0m0 2h0m0-2h0m0 2h0m2 2h0m2 2h0m1-2h0m0-1h0m0 3h0m1-4h0m0 4h0m1-4h0m0 3h0m1-1h0m0 1h0m2 0h0m2-2h0m0 0h0m1 3h0m0-2h0m0 1h0m1 0h0m0-1h0m0-3h0m0 4h0m0-2h0m0-2h0m0 1h0m1 0h0m1 0h0m1 1h0m1 2h0m0-2h0m0 0h0m2-2h0m0 5h0m0-4h0m2-2h0m1 4h0m1-2h0m0-2h0m0 2h0m1 1h0m0 0h0m0-3h0m1 5h0m0-1h0m0-3h0m0 1h0m1-1h0m0 2h0m1 2h0m0-4h0m1 0h0m2 4h0m1-2h0m1 1h0m1-4h0m1 4h0m1-3h0m0 3h0m3 2h0m1-1h0m19-4h0m2 2h0m0 2h0m27-4h0m-338 9h0m3-1h0m42-1h0m1 1h0m0-1h0m1 3h0m0-5h0m1 3h0m2 2h0m2 0h0m1-1h0m0 1h0m1 0h0m1-4h0m0 3h0m2-1h0m0 2h0m1 0h0m0-1h0m1 0h0m0-1h0m1-1h0m1 0h0m2 0h0m13 3h0m1 0h0m1-4h0m0 3h0m1-1h0m0 1h0m2-1h0m0-1h0m1-2h0m1 3h0m0 1h0m0-3h0m1 0h0m2 4h0m1-2h0m4-2h0m2 1h0m2 0h0m1-2h0m120 1h0m2 1h0m9 3h0m2 0h0m1 0h0m1-3h0m1 3h0m1 0h0m4-4h0m1 0h0m4 4h0m2-4h0m0 5h0m1-2h0m2-1h0m1-1h0m1 3h0m0-4h0m0 3h0m3-3h0m1 4h0m2-1h0m1-2h0m0-2h0m0 1h0m1 2h0m1-2h0m3 0h0m0 4h0m1-4h0m0 5h0m0-2h0m1-2h0m0 0h0m1 2h0m0 2h0m0-1h0m10-3h0m0 1h0m0-2h0m2-1h0m3 3h0m3-3h0m0 1h0m0 0h0m1 5h0m0-6h0m2 0h0m0 5h0m0 1h0m0 0h0m0-1h0m1-5h0m0 1h0m0-1h0m1 0h0m0 5h0m0-4h0m1-1h0m0 4h0m0-3h0m1 3h0m0-2h0m0-2h0m1 2h0m0 0h0m0 1h0m1-2h0m0 4h0m0-2h0m1 0h0m1 1h0m0-2h0m0 3h0m0-1h0m1 1h0m1-1h0m0 0h0m0 1h0m0 1h0m2-2h0m16-3h0m2 4h0m-273 6h0m0-1h0m1 1h0m0-1h0m0-1h0m1-3h0m3 1h0m1 0h0m1 2h0m1 3h0m2-3h0m1-1h0m3-1h0m1 5h0m0-3h0m0 2h0m1-3h0m1 2h0m1 1h0m2 1h0m3-1h0m2 0h0m1-2h0m1 0h0m1 2h0m2-3h0m3-1h0m0 1h0m1 0h0m0-2h0m1 2h0m6-2h0m144 1h0m1-1h0m3 1h0m0 0h0m1 2h0m0-1h0m2 3h0m0 0h0m1 0h0m4-1h0m1 1h0m0-4h0m0 1h0m1 2h0m0 1h0m3-3h0m0 3h0m0-2h0m1-2h0m0 2h0m0 3h0m4-4h0m0-1h0m1 0h0m1-1h0m1 2h0m2 3h0m2 0h0m0 0h0m1 0h0m2-5h0m5 1h0m0 2h0m2 1h0m3-1h0m1 0h0m1 1h0m2-2h0m0-2h0m1 3h0m1 0h0m0 2h0m1 0h0m1-4h0m0 0h0m0 0h0m0 3h0m0 0h0m1-1h0m0-1h0m1-1h0m0-1h0m1 6h0m0 0h0m1-1h0m1-3h0m0 3h0m1-2h0m0-1h0m1 2h0m0 0h0m1-2h0m0-1h0m1 0h0m0 0h0m0 4h0m1-2h0m0-2h0m1 1h0m0-2h0m0 3h0m1 3h0m1-4h0m1-1h0m1-1h0m1 4h0m0 1h0m0-1h0m1-3h0m1 2h0m0 2h0m0-3h0m0 3h0m1-2h0m1 0h0m0-2h0m0 0h0m0 4h0m1 0h0m1-2h0m0-2h0m0 0h0m0-1h0m0 2h0m1 3h0m0 0h0m1-2h0m0 2h0m16-4h0m2 2h0m0 2h0m-280 5h0m0-1h0m1-2h0m0 1h0m0-1h0m1 3h0m0-4h0m4 5h0m1 0h0m1 0h0m1-1h0m0 2h0m0 0h0m1-3h0m0-2h0m1 3h0m0 0h0m0 0h0m1 0h0m1 1h0m0-2h0m0 0h0m1 3h0m0-5h0m1 2h0m1-3h0m1 3h0m1-2h0m0 2h0m1-1h0m1-1h0m1 1h0m1 0h0m2 0h0m0-2h0m1 0h0m0 2h0m1 1h0m0 0h0m2-3h0m1 2h0m173-1h0m0 0h0m7 0h0m4 2h0m3 0h0m0 1h0m2 2h0m1 0h0m4-5h0m5-1h0m1 0h0m0 3h0m1-1h0m0-2h0m1 1h0m1 1h0m5 3h0m1-5h0m1 1h0m0 0h0m2 0h0m2 5h0m1-3h0m0 0h0m2 2h0m0-4h0m1 2h0m1-1h0m3 0h0m1 1h0m1 3h0m1-2h0m0-4h0m2 1h0m0 2h0m1-3h0m0 2h0m1 1h0m0-1h0m0 1h0m1 0h0m0-3h0m0 1h0m0 4h0m2-4h0m1 2h0m20-2h0m2 4h0m28-1h0m-357 5h0m45 2h0m1 0h0m0-3h0m0 0h0m1 1h0m0 3h0m0 0h0m2-1h0m0-3h0m0 1h0m0 1h0m0-4h0m1 4h0m1 0h0m1-1h0m0 1h0m1 0h0m0-2h0m0-1h0m0 1h0m1-1h0m1 2h0m2-2h0m194 0h0m0 2h0m3 2h0m0-1h0m1 2h0m3-3h0m1 2h0m0-1h0m3-1h0m0 2h0m0-4h0m1 0h0m1-1h0m1 5h0m1-2h0m1 0h0m0 2h0m1-3h0m1 0h0m0 2h0m1-1h0m0-3h0m1 5h0m0-1h0m2 2h0m1-1h0m0 1h0m0-5h0m0 5h0m1-4h0m1-1h0m0 0h0m2 0h0m0 4h0m2 0h0m0-1h0m0-1h0m1-2h0m1 1h0m0-2h0m0 3h0m0-2h0m1 4h0m5 0h0m2-5h0m0 4h0m1 0h0m0-2h0m0 4h0m1-2h0m0 2h0m0-2h0m1-1h0m0 1h0m0-1h0m3-2h0m0 2h0m1-1h0m0 3h0m1-4h0m0 4h0m0 1h0m1-3h0m0-1h0m1-1h0m0 5h0m0-1h0m0-1h0m2 0h0m1-4h0m0 2h0m6-2h0m4 2h0m1 1h0m1 2h0m16-4h0m2 2h0m27-2h0m-362 7h0m41 4h0m0-1h0m4 0h0m0-3h0m2 2h0m2-3h0m1 4h0m1-2h0m0 2h0m3-1h0m1-2h0m0-1h0m0 2h0m0-2h0m1 4h0m0-4h0m3 1h0m0 0h0m1-1h0m0 0h0m0 1h0m197 0h0m1 0h0m1 3h0m0-4h0m4 4h0m3-3h0m1 0h0m2 1h0m2 1h0m0-2h0m1 4h0m0-2h0m1-3h0m0 2h0m1-2h0m2-1h0m1 3h0m17-3h0m5 2h0m0-1h0m1 1h0m2 1h0m1-2h0m1-1h0m2 1h0m1 5h0m0 0h0m1-2h0m0 1h0m0 0h0m2-1h0m1 1h0m0 0h0m2 0h0m2-4h0m2 5h0m0-5h0m0-1h0m0 1h0m1 5h0m0-5h0m1 4h0m0-4h0m3 4h0m15-4h0m2 4h0m-342 2h0m44 0h0m1-1h0m2 5h0m0 1h0m2-3h0m2 2h0m0 1h0m2-2h0m1-2h0m215 0h0m0 2h0m1-4h0m0 5h0m1-3h0m1 2h0m0 0h0m1 0h0m1-1h0m1-1h0m0 3h0m0 0h0m1 0h0m0-3h0m0 1h0m1 0h0m0 0h0m1 2h0m1 0h0m34-5h0m3 2h0m0 1h0m0-2h0m1-1h0m1 1h0m1-1h0m0 1h0m2 3h0m0-2h0m2 0h0m2 1h0m1 2h0m0-2h0m18-2h0m2 4h0m27-3h0m-375 7h0m41 0h0m1 1h0m1 0h0m0 0h0m1-1h0m0 2h0m3-5h0m1 2h0m1 0h0m1-1h0m222 1h0m4 4h0m6-5h0m42 0h0m2 0h0m0 1h0m1-1h0m1 2h0m1 0h0m0-2h0m1 0h0m0-1h0m0 2h0m1 2h0m0-1h0m1-1h0m0 1h0m0 2h0m1-1h0m1 2h0m16-5h0m0 2h0m2 2h0m27-1h0m2-3h0m-384 6h0m43 0h0m0 0h0m1-1h0m0 2h0m1 1h0m2-3h0m0 1h0m230-1h0m0 2h0m2 1h0m7-2h0m1 1h0m70 1h0m2 2h0m28 0h0m-349 3h0m247 1h0m76-2h0m0 2h0m2 2h0m28-3h0m-26 7h0m0-2h0m2 4h0m-374 3h0m1-1h0m375 2h0m2 2h0m2 2h0m0 2h0m2 2h0m27-1h0m-27 3h0m2 0h0m0 2h0m2 2h0m0 2h0m2 2h0m0 2h0m27-3h0m-25 5h0m2 2h0m0 2h0m0 2h0m2 2h0m0-2h0m2 4h0m26-1h0m-26 3h0m2 4h0m0-2h0m25-3h0m-23 7h0m0 2h0m2 2h0m0-2h0m2 4h0m0 2h0m2 2h0m20-4h0m-20 6h0m2 0h0m0 2h0m2 2h0m0 2h0m0 2h0m2 0h0m0 2h0m2 2h0m0 2h0m2 2h0m2 4h0m0-2h0m2 4h0m27 11h0" stroke="#461365" stroke-width="3.4"/><path d="M303 146h0m10-2h0m6 0h0m2 0h0m4 2h0m-44 6h0m6-2h0m8-2h0m20 4h0m14-4h0m2 0h0m4 2h0m4 2h0m2 0h0m-64 2h0m10 4h0m6 0h0m2 0h0m4 0h0m2-2h0m2 0h0m2-2h0m2 2h0m0 2h0m0-4h0m2 0h0m0 4h0m0-2h0m2 2h0m0-2h0m0-2h0m2 0h0m0 2h0m4-2h0m0 2h0m2-2h0m2 0h0m4 4h0m2-2h0m2 0h0m0 2h0m2 0h0m12-4h0m2 0h0m2 2h0m2 0h0m2 2h0m2 0h0m2 0h0m-94 6h0m16 0h0m2 0h0m0-2h0m2 0h0m2 0h0m0 2h0m0-4h0m2 0h0m4 4h0m0-4h0m0 2h0m2 0h0m2-2h0m12 0h0m14 0h0m16 4h0m4 0h0m2-2h0m0 2h0m2 0h0m4 0h0m8-4h0m4 2h0m4 2h0m-96 6h0m2-2h0m0 2h0m2 0h0m2 0h0m2 0h0m0-2h0m4 2h0m0-4h0m2 0h0m0 2h0m2 0h0m4-2h0m46 0h0m2 0h0m4 0h0m2 0h0m2 4h0m2 0h0m0-4h0m2 4h0m0-4h0m2 4h0m0-2h0m0-2h0m2 2h0m0 2h0m2 0h0m2 0h0m8-4h0m2 0h0m2 0h0m0 2h0m2 0h0m2 2h0m-112 6h0m4-4h0m0 4h0m2-4h0m0 4h0m2-4h0m0 2h0m2 0h0m0-2h0m2 0h0m2 0h0m2 0h0m70 0h0m6 0h0m2 4h0m2-4h0m0 2h0m2 2h0m0-2h0m2-2h0m0 4h0m2-4h0m0 4h0m2-2h0m2 2h0m8-4h0m2 0h0m0 2h0m2 0h0m0 2h0m2 0h0m-124 4h0m2-2h0m2 2h0m2-2h0m0 2h0m2 0h0m0-2h0m94 0h0m0 2h0m2 0h0m0-2h0m2 4h0m2-2h0m2-2h0m0 2h0m0 2h0m8 0h0m8-4h0m2 2h0m0-2h0m2 4h0m0-2h0m2 2h0m-138 6h0m4-4h0m0 4h0m2-4h0m0 2h0m2 2h0m2-2h0m2-2h0m116 0h0m0 2h0m2 0h0m8-2h0m2 0h0m2 2h0m2 0h0m0 2h0m-146 4h0m2-2h0m4 0h0m124 4h0m2 0h0m6 0h0m0-2h0m8-2h0m2 2h0m0-2h0m2 2h0m0 2h0m2 0h0m-158 6h0m4-2h0m0 2h0m2-4h0m134 0h0m2 2h0m2 0h0m0 2h0m14-4h0m2 0h0m0 2h0m0 2h0m2 0h0m-166 6h0m0-2h0m2-2h0m2 0h0m0 2h0m2 0h0m0 2h0m2-4h0m0 2h0m138-2h0m2 0h0m0 2h0m6 0h0m2-2h0m0 2h0m10-2h0m2 2h0m0-2h0m2 4h0m0-2h0m2 2h0m-176 6h0m0-2h0m2-2h0m2 0h0m0 4h0m2-4h0m150 0h0m2 2h0m4 0h0m0-2h0m0 4h0m8 0h0m6-4h0m2 0h0m0 2h0m2 0h0m0 2h0m2 0h0m-186 6h0m0-2h0m2-2h0m2 4h0m2-2h0m172 0h0m0 2h0m8-4h0m2 2h0m0-2h0m0 4h0m2 0h0m-192 2h0m2 2h0m0 2h0m2-2h0m4-2h0m168 0h0m4 0h0m2 0h0m0 2h0m2 2h0m0-2h0m2 2h0m6-4h0m2 0h0m0 2h0m2 0h0m0 2h0m2 0h0m-202 4h0m2 0h0m2 2h0m180-2h0m2 0h0m2 0h0m6 2h0m6-4h0m2 2h0m0-2h0m2 2h0m0 2h0m-208 4h0m2-2h0m0 2h0m2 2h0m2 0h0m0-2h0m2-2h0m182 0h0m2 0h0m6 0h0m2 2h0m0 2h0m0-4h0m2 4h0m6-4h0m2 2h0m0-2h0m2 2h0m0 2h0m2 0h0m-16 2h0m2 0h0m2 0h0m2 4h0m0-2h0m0-2h0m2 2h0m0 2h0m8-2h0m0-2h0m2 2h0m0-2h0m0 4h0m2 0h0m-222 6h0m0-4h0m0 2h0m2 0h0m0 2h0m2-2h0m0-2h0m0 4h0m200-4h0m2 0h0m16 0h0m0 2h0m2-2h0m0 2h0m0 2h0m2-2h0m0 2h0m-232 6h0m2 0h0m2-4h0m0 4h0m208-4h0m2 2h0m0 2h0m2 0h0m6-4h0m4 4h0m6-4h0m0 2h0m2 0h0m0 2h0m0-4h0m2 4h0m-240 6h0m2 0h0m2-4h0m0 4h0m0-2h0m2-2h0m0 2h0m216-2h0m2 2h0m0-2h0m0 4h0m2-4h0m2 0h0m2 0h0m10 2h0m0-2h0m2 2h0m0 2h0m-244 4h0m2 0h0m0 2h0m2-4h0m2 2h0m222 0h0m2 0h0m2 0h0m2 0h0m2 0h0m8-2h0m2 2h0m0 2h0m0-4h0m-250 10h0m6 0h0m0-2h0m2 0h0m0-2h0m228 4h0m2 0h0m0-2h0m0-2h0m2 2h0m0-2h0m2 4h0m2-2h0m0 2h0m8-2h0m0-2h0m2 4h0m0-2h0m-256 6h0m2 0h0m2 2h0m0-2h0m236-2h0m8 4h0m8-4h0m2 2h0m0-2h0m2 2h0m0 2h0m-262 2h0m2 0h0m2 0h0m2 0h0m240 2h0m2 2h0m0-4h0m2 4h0m0-2h0m4 0h0m0 2h0m2 0h0m6-4h0m2 4h0m0-4h0m0 2h0m2 2h0m-270 6h0m2-2h0m2 2h0m248-2h0m2 0h0m2 0h0m2 2h0m0-2h0m0-2h0m4 2h0m8-2h0m2 0h0m0 4h0m0-2h0m2 2h0m-276 6h0m0-2h0m2 0h0m0-2h0m2 2h0m0-2h0m254 0h0m2 2h0m2-2h0m0 4h0m2 0h0m0-4h0m0 2h0m2 2h0m0-4h0m2 2h0m2 2h0m6-4h0m0 2h0m2-2h0m0 4h0m0-2h0m2 2h0m-284 6h0m2-4h0m0 4h0m0-2h0m262-2h0m4 4h0m2 0h0m2-4h0m0 4h0m0-2h0m2-2h0m0 4h0m10-4h0m2 2h0m0 2h0m0-4h0m2 4h0m-290 6h0m2-4h0m2 2h0m2-2h0m266 0h0m2 4h0m0-4h0m2 2h0m6 0h0m8-2h0m0 2h0m2-2h0m0 2h0m0 2h0m2-2h0m0 2h0m-296 2h0m4 4h0m0-4h0m2 0h0m270 0h0m2 0h0m0 2h0m4 2h0m4-4h0m0 4h0m2-2h0m0 2h0m2 0h0m6-4h0m2 0h0m0 4h0m0-2h0m2 2h0m-18 4h0m2-2h0m4 0h0m2 2h0m0-2h0m0 4h0m2-2h0m8 0h0m0-2h0m2 4h0m0-4h0m0 2h0m2 2h0m-310 6h0m2-4h0m2 0h0m296 4h0m0-2h0m2 0h0m0 2h0m2 0h0m6-4h0m0 2h0m2 2h0m0-4h0m0 2h0m2 2h0m-316 6h0m0-2h0m0-2h0m2 4h0m0-4h0m4 0h0m290 0h0m4 0h0m2 0h0m2 0h0m2 4h0m0-4h0m0 2h0m2 0h0m8-2h0m0 2h0m2 2h0m0-4h0m0 2h0m2 2h0m-324 4h0m2 2h0m2-2h0m0-2h0m0 4h0m302-4h0m2 4h0m6-2h0m2 0h0m6-2h0m2 2h0m0-2h0m2 4h0m0-2h0m2 2h0m-332 6h0m2-2h0m2 2h0m0-4h0m2 0h0m2 0h0m304 2h0m2-2h0m8 0h0m2 2h0m0 2h0m8-4h0m0 2h0m2 2h0m0-2h0m-336 6h0m324 0h0m2 0h0m0 2h0m2 0h0m0-2h0m10-2h0m0 2h0m2 2h0m0-2h0m-16 4h0m2 2h0m2 0h0m0-2h0m2 2h0m2 0h0m0 2h0m2 0h0m6-4h0m2 0h0m0 2h0m2-2h0m0 4h0m0-2h0m2 2h0m-16 6h0m0-4h0m2 4h0m0-4h0m2 2h0m2 0h0m0-2h0m10 2h0m0-2h0m2 2h0m0-2h0m0 4h0m2 0h0m-16 6h0m0-2h0m6 2h0m10-2h0m0-2h0m2 4h0m0-2h0m-12 8h0m0-2h0m4-2h0m0 2h0m2 0h0m6-2h0m2 2h0m0 2h0m0-4h0m2 4h0m0-2h0m-16 4h0m2 0h0m0 2h0m2 0h0m2 2h0m0-4h0m0 2h0m2 0h0m0-2h0m8 0h0m2 2h0m0 2h0m0-4h0m2 4h0m-18 2h0m2 2h0m6-2h0m0 4h0m2 0h0m0-2h0m8-2h0m0 2h0m2 2h0m0-4h0m0 2h0m2 2h0m-12 6h0m2-4h0m0 4h0m0-2h0m2 2h0m6-4h0m2 2h0m0-2h0m0 4h0m2 0h0m0-2h0m-12 4h0m2 0h0m2 4h0m8-4h0m2 2h0m0 2h0m0-4h0m2 4h0m0 4h0m0-2h0m2 2h0m0 2h0m2 0h0m-14 2h0m0 2h0m2-2h0m2 2h0m0 2h0m2 0h0m8-4h0m0 2h0m2 0h0m0 2h0m-12 2h0m4 2h0m2 2h0m6-4h0m2 2h0m0-2h0m0 4h0m2 0h0m-8 2h0m8 0h0m0 2h0m2-2h0m0 4h0m0-2h0m2 2h0m0 4h0m0-2h0m2 4h0m0-2h0m0 4h0m2 0h0m0 2h0m2 2h0m0-2h0m2 4h0" stroke="#481e70" stroke-width="3.4"/><path d="M295 146h0m2 0h0m2 0h0m2 0h0m4-2h0m2 0h0m2 0h0m2 0h0m2-2h0m2 2h0m0-2h0m2 0h0m0 2h0m2-2h0m4 2h0m2 0h0m2 0h0m0 2h0m2 0h0m2 0h0m2 0h0m-56 6h0m2 0h0m2-2h0m2 0h0m2 0h0m0-2h0m2 0h0m2 0h0m0 4h0m2-4h0m2 0h0m2 4h0m2 0h0m2 0h0m0-2h0m2 2h0m0-2h0m2 2h0m0-2h0m2 2h0m0-2h0m2-2h0m0 4h0m2-4h0m2 4h0m2-4h0m2 0h0m4 2h0m0-2h0m2 0h0m0 2h0m2 0h0m0-2h0m0 4h0m2 0h0m0-2h0m2 2h0m0-2h0m2 0h0m2 2h0m2-4h0m2 0h0m2 2h0m0-2h0m2 2h0m2 0h0m2 2h0m2 0h0m2 0h0m-80 6h0m2 0h0m2-2h0m2 0h0m0-2h0m2 0h0m4 2h0m0 2h0m2-2h0m2 0h0m0 2h0m2-2h0m0-2h0m2 0h0m0 2h0m4 0h0m8-2h0m2 0h0m26 0h0m2 0h0m2 2h0m0-2h0m2 0h0m8 4h0m0-2h0m2 2h0m2 0h0m2-4h0m2 0h0m2 2h0m0-2h0m2 2h0m2 0h0m2 2h0m2 0h0m-100 6h0m2-2h0m4-2h0m8 2h0m2-2h0m0 2h0m2 0h0m4-2h0m60 0h0m2 2h0m2-2h0m2 2h0m2 0h0m2 2h0m2 0h0m4-4h0m2 0h0m2 0h0m0 2h0m2 0h0m2 2h0m2 0h0m-114 6h0m2-2h0m2-2h0m4 4h0m0-2h0m2 2h0m0-2h0m2 0h0m0 2h0m2-2h0m86-2h0m4 0h0m0 2h0m2-2h0m0 4h0m2 0h0m2 0h0m6-4h0m2 2h0m0-2h0m2 4h0m0-2h0m2 2h0m-128 6h0m2-2h0m2-2h0m4 4h0m2 0h0m0-4h0m2 2h0m0-2h0m2 0h0m102 0h0m2 0h0m2 2h0m2 2h0m0-2h0m2 0h0m2 2h0m0-2h0m2 2h0m2-4h0m2 0h0m0 2h0m2 0h0m0 2h0m2 0h0m-140 6h0m2-4h0m4 4h0m2-2h0m0-2h0m2 0h0m0 4h0m0-2h0m2-2h0m118 0h0m2 4h0m0-2h0m0-2h0m2 4h0m0-2h0m0-2h0m2 4h0m0-4h0m2 2h0m2 2h0m2-4h0m2 2h0m0-2h0m2 2h0m0 2h0m2 0h0m-152 4h0m2-2h0m4 4h0m4-2h0m0-2h0m2 0h0m130 2h0m0-2h0m4 2h0m2 0h0m2 2h0m2 0h0m0-4h0m2 0h0m2 4h0m0-2h0m2 2h0m-164 6h0m2-2h0m2-2h0m2 4h0m2-2h0m2-2h0m0 2h0m144-2h0m2 4h0m0-4h0m0 2h0m2-2h0m0 4h0m6-4h0m2 2h0m2 2h0m0-2h0m2 2h0m-174 6h0m2-2h0m4 2h0m2-4h0m2 4h0m156-4h0m0 4h0m2-2h0m2 0h0m0 2h0m4-4h0m0 2h0m2 2h0m0-2h0m2 2h0m-180 4h0m4 2h0m2-4h0m0 2h0m0 2h0m2-4h0m0 4h0m0-2h0m2-2h0m158 0h0m2 2h0m0-2h0m2 0h0m2 0h0m6 0h0m2 2h0m0-2h0m2 4h0m0-2h0m2 2h0m-190 4h0m6 0h0m0-2h0m2 0h0m0 4h0m0-2h0m174 0h0m6 2h0m2-4h0m2 0h0m0 2h0m2 0h0m0 2h0m2 0h0m-200 4h0m2-2h0m4 2h0m0 2h0m2 0h0m0-2h0m0-2h0m182 4h0m2 0h0m0-2h0m0-2h0m2 2h0m0-2h0m0 4h0m2 0h0m4-2h0m0-2h0m2 0h0m0 4h0m0-2h0m2 2h0m-208 6h0m2-4h0m6 2h0m0 2h0m0-4h0m2 0h0m186 0h0m2 2h0m0-2h0m2 2h0m0-2h0m0 4h0m2-4h0m0 2h0m0 2h0m6-4h0m2 2h0m0-2h0m2 4h0m-214 4h0m4 2h0m2 0h0m0-4h0m2 2h0m0 2h0m0-4h0m2 0h0m196 4h0m0-4h0m0 2h0m2-2h0m0 2h0m2 0h0m0 2h0m4-4h0m2 0h0m0 2h0m0 2h0m2-2h0m0 2h0m-222 6h0m0-2h0m2-2h0m4 4h0m0-2h0m2 0h0m2-2h0m202 2h0m0-2h0m2 0h0m0 2h0m0 2h0m2 0h0m0-4h0m2 4h0m0-2h0m4-2h0m2 0h0m0 2h0m2 2h0m0-2h0m2 2h0m-232 6h0m2-4h0m4 4h0m216-4h0m2 0h0m2 4h0m6-2h0m0-2h0m2 2h0m0 2h0m2 0h0m-238 4h0m6 0h0m0-2h0m2 2h0m0-2h0m220 4h0m0-4h0m2 2h0m0-2h0m2 2h0m0 2h0m2 0h0m4-4h0m2 2h0m0 2h0m2 0h0m-246 4h0m2-2h0m6 0h0m228 2h0m0-2h0m2 4h0m2-2h0m0 2h0m6-4h0m0 2h0m2 0h0m0 2h0m2 0h0m-254 6h0m2-2h0m240-2h0m2 2h0m0-2h0m0 4h0m2-4h0m0 4h0m2-2h0m0 2h0m4-4h0m2 0h0m0 4h0m0-2h0m2 2h0m-252 4h0m0-2h0m2 2h0m0 2h0m238-4h0m2 0h0m2 0h0m8 0h0m0 2h0m0 2h0m2-2h0m0 2h0m-264 6h0m2-2h0m0-2h0m4 4h0m2-2h0m0 2h0m0-4h0m2 2h0m0-2h0m2 0h0m244 2h0m2 2h0m0-4h0m0 2h0m2 2h0m4-4h0m2 0h0m0 2h0m0 2h0m2 0h0m-270 4h0m2-2h0m260 2h0m2 0h0m2 2h0m4-4h0m2 4h0m0-4h0m0 2h0m2 2h0m-278 6h0m2-2h0m4 2h0m262-4h0m2 4h0m0-4h0m0 2h0m2 2h0m0-2h0m2 2h0m4-4h0m0 2h0m2 2h0m0-2h0m2 2h0m-282 2h0m4 2h0m0 2h0m2-2h0m0-2h0m0 4h0m2-2h0m0-2h0m262 0h0m4 4h0m8-4h0m0 2h0m2 2h0m0-2h0m0-2h0m2 4h0m-284 2h0m278 2h0m6 0h0m0-2h0m2 0h0m0 2h0m0 2h0m2 0h0m-298 6h0m2-4h0m4 4h0m2 0h0m0-2h0m0-2h0m2 2h0m0-2h0m276 0h0m2 0h0m0 2h0m2 0h0m0-2h0m2 2h0m0 2h0m6-2h0m0-2h0m2 2h0m0 2h0m2 0h0m-304 4h0m6 0h0m0-2h0m0 4h0m2-2h0m284-2h0m2 0h0m0 2h0m2 0h0m0-2h0m0 4h0m2 0h0m0-2h0m6-2h0m2 4h0m0-2h0m2 2h0m-310 2h0m4 4h0m2-4h0m2 0h0m290 0h0m2 2h0m2 2h0m0-4h0m0 2h0m2 2h0m0-2h0m2 2h0m4-2h0m0-2h0m2 4h0m0-2h0m2 2h0m-318 6h0m2-4h0m4 2h0m0 2h0m2-2h0m2 0h0m296-2h0m2 0h0m0 2h0m0 2h0m2 0h0m0-4h0m0 2h0m8-2h0m0 2h0m2 2h0m0-2h0m2 2h0m-324 4h0m4 2h0m2-2h0m0 2h0m0-4h0m2 2h0m304-2h0m2 2h0m10-2h0m0 2h0m2 2h0m0-2h0m-330 8h0m2-4h0m318 0h0m2 2h0m0 2h0m0-4h0m2 0h0m0 4h0m0-2h0m2 2h0m6-4h0m0 2h0m2 0h0m0 2h0m18-2h0m0 2h0m-346 4h0m320 0h0m0-2h0m2 4h0m2 0h0m4-4h0m2 2h0m0-2h0m2 2h0m0 2h0m16-2h0m-358 4h0m4 4h0m0-2h0m2-2h0m0 4h0m2-2h0m324-2h0m2 0h0m0 2h0m2-2h0m6 0h0m2 0h0m0 2h0m0 2h0m2 0h0m0-2h0m16 0h0m2 2h0m-362 2h0m0 4h0m2 0h0m342-4h0m2 2h0m0 2h0m0-4h0m2 2h0m0 2h0m16-4h0m0 2h0m2 2h0m-370 6h0m2 0h0m0-2h0m2-2h0m0 2h0m338-2h0m2 2h0m0 2h0m2-2h0m8 0h0m0-2h0m2 2h0m0 2h0m2 0h0m12-4h0m2 0h0m2 4h0m-376 4h0m2-2h0m0 2h0m350-2h0m0 2h0m8 0h0m0-2h0m2 2h0m0 2h0m14-4h0m-22 8h0m0-2h0m2 4h0m0-2h0m2 2h0m4-4h0m2 2h0m0-2h0m0 4h0m2-2h0m0 2h0m14-4h0m0 2h0m2 2h0m2 0h0m-28 2h0m2 0h0m0 4h0m0-2h0m2 2h0m6-4h0m2 4h0m0-4h0m0 2h0m2 2h0m0-2h0m12-2h0m2 2h0m-24 4h0m2 0h0m0 2h0m2 0h0m0 2h0m6-4h0m0 2h0m2 0h0m0-2h0m0 4h0m2 0h0m12-4h0m2 4h0m0-2h0m-26 4h0m2 0h0m0 4h0m0-2h0m4 2h0m6-2h0m0-2h0m2 2h0m0 2h0m12-4h0m2 2h0m-24 6h0m2 0h0m0-2h0m0 4h0m2 0h0m0-2h0m6-2h0m2 0h0m0 2h0m0 2h0m2 0h0m12-2h0m2 0h0m-24 6h0m0-2h0m0 4h0m2-4h0m0 4h0m0-2h0m2 2h0m6-4h0m0 2h0m2 2h0m0-4h0m0 2h0m2 2h0m10-4h0m2 2h0m2 2h0m-24 4h0m0-2h0m2 2h0m0-2h0m2 4h0m4-4h0m2 0h0m0 2h0m2 2h0m0-2h0m2 2h0m10-2h0m-20 8h0m0-2h0m2 0h0m6-2h0m2 2h0m0 2h0m0-4h0m2 2h0m0 2h0m10-4h0m2 2h0m0 2h0m-22 4h0m2 0h0m0 2h0m2 0h0m6-4h0m0 2h0m2 0h0m0 2h0m2 0h0m8-4h0m2 0h0m0 4h0m-18 2h0m8 0h0m0 2h0m2 0h0m0 2h0m0 2h0m2 4h0m0-4h0m0 2h0m2 2h0m8-2h0m2 2h0m-10 2h0m2 0h0m0 4h0m0-2h0m8-2h0m2 4h0m-8 2h0m2 4h0m8-4h0m0 2h0m4 8h0m-2 2h0m2 2h0m0-2h0m2 4h0m2 4h0m2 0h0" stroke="#472978" stroke-width="3.4"/><path d="M313 140h0m4 0h0m2 0h0m2 0h0m2 0h0m-36 6h0m2 0h0m2 0h0m2 0h0m2-2h0m2 0h0m2 0h0m2 0h0m2 0h0m0-2h0m2 4h0m0-4h0m2 0h0m0 4h0m2-4h0m2 0h0m0 4h0m4 0h0m4 0h0m2-4h0m0 4h0m2-4h0m0 4h0m2-4h0m2 0h0m2 2h0m0-2h0m2 2h0m2 0h0m2 2h0m2 0h0m-64 6h0m2 0h0m2-2h0m2 0h0m2-2h0m2 0h0m0 4h0m4 0h0m6-2h0m2 0h0m2-2h0m0 2h0m2-2h0m4 0h0m2 0h0m20 0h0m2 0h0m8 4h0m2 0h0m2-4h0m2 0h0m2 2h0m0-2h0m2 2h0m2 0h0m2 2h0m2 0h0m-86 6h0m2-2h0m2 0h0m2-2h0m0 4h0m2 0h0m2-2h0m2 0h0m2-2h0m4 0h0m56 0h0m2 0h0m4 2h0m8-2h0m2 0h0m2 2h0m2 0h0m2 2h0m2 0h0m-106 4h0m0 2h0m2-2h0m2-2h0m2 0h0m8 0h0m86 2h0m4 2h0m2-4h0m2 2h0m0-2h0m2 2h0m2 2h0m0-2h0m2 2h0m2 0h0m-122 6h0m2-4h0m0 2h0m2-2h0m0 4h0m2 0h0m0-2h0m2 0h0m0-2h0m114 0h0m2 0h0m0 2h0m2 0h0m0 2h0m2 0h0m2 0h0m-136 6h0m2-2h0m2-2h0m0 4h0m2-2h0m0 2h0m2-4h0m2 0h0m116 0h0m10 0h0m2 0h0m0 2h0m2 0h0m0 2h0m2-2h0m0 2h0m2 0h0m-148 6h0m2-2h0m6 0h0m0-2h0m140 0h0m2 2h0m0-2h0m2 4h0m0-2h0m2 2h0m20 0h0m-180 6h0m2-2h0m0 2h0m2-4h0m0 4h0m2 0h0m0-2h0m2 0h0m0-2h0m2 0h0m150 0h0m2 2h0m0-2h0m2 4h0m0-2h0m18-2h0m2 2h0m0-2h0m4 4h0m-190 4h0m2-2h0m0 4h0m2 0h0m0-2h0m2 0h0m0-2h0m160 0h0m2 0h0m2 0h0m0 2h0m2 2h0m18-4h0m2 4h0m-198 6h0m2-2h0m2-2h0m0 4h0m2-4h0m0 4h0m0-2h0m2 0h0m170-2h0m2 0h0m0 2h0m2 0h0m0 2h0m2 0h0m18-2h0m2 2h0m0-2h0m2 2h0m-210 6h0m2-2h0m0 2h0m2 0h0m0-4h0m2 2h0m0-2h0m0 4h0m2-2h0m0-2h0m180 0h0m2 2h0m0-2h0m2 4h0m0-2h0m2 2h0m-198 6h0m2 0h0m2-4h0m0 4h0m2-2h0m2-2h0m190 0h0m2 2h0m2 2h0m16-4h0m-220 10h0m0-2h0m2-2h0m2 2h0m2 2h0m0-4h0m0 2h0m2-2h0m198 0h0m0 2h0m2 0h0m0 2h0m2 0h0m14-4h0m2 2h0m2 2h0m-232 6h0m2-4h0m0 2h0m2 2h0m2-2h0m0 2h0m208-4h0m0 2h0m2 0h0m0-2h0m0 4h0m2 0h0m14-4h0m2 0h0m0 2h0m2 2h0m-238 4h0m0 2h0m2-4h0m0 4h0m2-2h0m0-2h0m0 4h0m2-2h0m214-2h0m2 2h0m0 2h0m2 0h0m16-4h0m2 4h0m-246 6h0m2-4h0m2 2h0m0 2h0m2-2h0m0 2h0m0-4h0m2 0h0m220 0h0m2 2h0m0-2h0m2 4h0m16-4h0m2 4h0m-254 6h0m2-2h0m2 2h0m2-2h0m0 2h0m2-4h0m228 0h0m2 0h0m0 2h0m2 2h0m0-2h0m2 2h0m14-4h0m0 2h0m-258 6h0m0 2h0m2-4h0m2 2h0m2-2h0m0 2h0m236-2h0m2 2h0m0-2h0m2 4h0m0-2h0m16 0h0m0 2h0m-266 6h0m2-4h0m4 2h0m0-2h0m2 0h0m242 0h0m2 0h0m0 2h0m2 2h0m16 0h0m-272 4h0m2 2h0m0-4h0m4 0h0m250 2h0m0-2h0m2 0h0m0 4h0m0-2h0m2 2h0m12-4h0m2 2h0m0 2h0m-278 6h0m0-2h0m2 0h0m0-2h0m2 4h0m0-2h0m2-2h0m0 2h0m256-2h0m2 2h0m0 2h0m0-4h0m2 4h0m14-4h0m0 2h0m-282 6h0m4 0h0m0 2h0m0-4h0m2 2h0m0-2h0m262 2h0m0-2h0m2 0h0m0 4h0m0-2h0m2 2h0m-276 6h0m2-4h0m2 4h0m2 0h0m270-4h0m0 2h0m2 2h0m0-4h0m0 2h0m2 2h0m12-4h0m2 0h0m0 2h0m0 2h0m-296 4h0m2-2h0m0 4h0m2 0h0m0-4h0m276 0h0m2 0h0m0 2h0m2 2h0m0-2h0m16 2h0m-304 6h0m2-2h0m0-2h0m2 4h0m2-2h0m0-2h0m2 0h0m282 2h0m0-2h0m2 0h0m0 4h0m0-2h0m14-2h0m2 0h0m0 4h0m-310 4h0m0 2h0m2-4h0m0 4h0m2 0h0m0-2h0m2 0h0m290-2h0m0 2h0m2-2h0m0 2h0m0 2h0m2 0h0m14 0h0m-316 4h0m2 2h0m0-2h0m2 2h0m2-4h0m294 0h0m2 2h0m0-2h0m2 4h0m0-2h0m2 2h0m14 0h0m-324 6h0m2-4h0m2 2h0m0 2h0m0-4h0m2 4h0m0-4h0m302 0h0m2 2h0m0-2h0m2 2h0m0 2h0m2 0h0m-316 6h0m0-2h0m2 2h0m2-4h0m0 4h0m310-4h0m2 2h0m0-2h0m2 2h0m0 2h0m2 0h0m14 0h0m-336 4h0m4 2h0m0-4h0m0 2h0m2-2h0m314 0h0m2 2h0m0-2h0m2 4h0m0-2h0m12-2h0m2 0h0m-342 10h0m2-4h0m2 2h0m0 2h0m2-2h0m0-2h0m322 0h0m2 2h0m0-2h0m0 4h0m2 0h0m0-2h0m12-2h0m-346 8h0m334-2h0m2 2h0m0-2h0m0 4h0m2-2h0m0 2h0m12-4h0m0 4h0m-354 6h0m2-2h0m2 0h0m0 2h0m2-2h0m336-2h0m2 4h0m0-4h0m0 2h0m2 0h0m0 2h0m2-2h0m0 2h0m2-4h0m0 2h0m0 2h0m2-2h0m0-2h0m0 4h0m2-2h0m0-2h0m0 4h0m2-2h0m0 2h0m0-4h0m2 4h0m-360 6h0m2 0h0m2-2h0m0-2h0m0 4h0m344-4h0m2 4h0m0-2h0m0-2h0m2 4h0m0-2h0m0-2h0m2 2h0m0-2h0m0 4h0m2 0h0m0-2h0m0-2h0m2 0h0m0 2h0m0 2h0m2 0h0m0-4h0m0 2h0m2-2h0m0 4h0m0-2h0m2 2h0m-364 4h0m2 0h0m0-2h0m350 0h0m2 0h0m0 2h0m0 2h0m2 0h0m0-2h0m0-2h0m2 2h0m0-2h0m0 4h0m2-2h0m0 2h0m0-4h0m2 2h0m0 2h0m0-4h0m2 0h0m0 4h0m0-2h0m2-2h0m0 4h0m0-2h0m2 2h0m-370 6h0m358-4h0m2 0h0m0 2h0m2 0h0m0 2h0m0-4h0m2 0h0m0 4h0m0-2h0m2 2h0m0-4h0m0 2h0m2-2h0m0 2h0m0 2h0m2-2h0m0-2h0m0 4h0m2 0h0m0-2h0m2 2h0m-12 2h0m2 0h0m0 2h0m0 2h0m2-2h0m0-2h0m0 4h0m2-4h0m0 4h0m0-2h0m2 0h0m0-2h0m0 4h0m2-4h0m0 4h0m0-2h0m2 2h0m0-2h0m0-2h0m2 2h0m0 2h0m2 0h0m-12 2h0m2 2h0m0 2h0m0-4h0m2 0h0m0 4h0m0-2h0m2 2h0m0-2h0m0-2h0m2 4h0m0-2h0m0-2h0m2 0h0m0 4h0m0-2h0m2 2h0m0-2h0m0-2h0m2 4h0m-10 2h0m2 2h0m0-2h0m0 4h0m2 0h0m0-4h0m0 2h0m2 0h0m0 2h0m0-4h0m2 2h0m0-2h0m0 4h0m2 0h0m0-2h0m0-2h0m2 2h0m0 2h0m-8 4h0m0-2h0m2 0h0m0 4h0m0-2h0m2-2h0m0 4h0m0-2h0m2 0h0m0-2h0m0 4h0m2-2h0m0-2h0m0 4h0m2-4h0m0 2h0m0 2h0m2-2h0m0 2h0m-10 2h0m2 4h0m0-4h0m0 2h0m2 0h0m0 2h0m0-4h0m2 2h0m0-2h0m0 4h0m2-4h0m0 2h0m0 2h0m2 0h0m0-2h0m0-2h0m2 2h0m0 2h0m2 0h0m-10 2h0m0 2h0m2-2h0m0 4h0m0-2h0m2-2h0m0 2h0m0 2h0m2 0h0m0-2h0m0-2h0m2 4h0m0-2h0m0-2h0m2 0h0m0 2h0m0 2h0m2 0h0m-8 2h0m0 2h0m2-2h0m0 2h0m0 2h0m2 0h0m0-2h0m0-2h0m2 2h0m0-2h0m0 4h0m2-4h0m0 2h0m0 2h0m2-2h0m0 2h0m-8 2h0m2 2h0m0-2h0m2 0h0m0 4h0m0-2h0m2-2h0m0 2h0m0 2h0m2 0h0m0-2h0m0-2h0m2 2h0m0 2h0m0-4h0m2 4h0m-8 2h0m2 4h0m0-2h0m0-2h0m2 2h0m0-2h0m0 4h0m2-2h0m0 2h0m0-4h0m2 4h0m0-2h0m0-2h0m2 2h0m0 2h0m-8 2h0m2 0h0m0 2h0m2 0h0m0-2h0m0 4h0m2-4h0m0 4h0m0-2h0m2 0h0m0-2h0m0 4h0m2-2h0m0 2h0m-6 2h0m2 4h0m0-4h0m0 2h0m2 2h0m0-4h0m0 2h0m2 2h0m0-4h0m0 2h0m2 2h0m0-2h0m0-2h0m2 4h0m-6 2h0m0 2h0m2-2h0m0 4h0m0-2h0m2-2h0m0 4h0m0-2h0m2-2h0m0 2h0m0 2h0m2 0h0m-4 2h0m0 4h0m0-2h0m2 0h0m0-2h0m0 4h0m2-2h0m0 2h0m0-4h0m2 4h0m0-2h0m-4 4h0m0 2h0m2 0h0m0-2h0m0 4h0m2-2h0m0 2h0m0-4h0m2 4h0m0-2h0m0-2h0m2 4h0m-4 2h0m2 2h0m0-2h0m0 4h0m2 0h0m0-4h0m0 2h0m2 2h0m0-2h0" stroke="#45347f" stroke-width="3.4"/><path d="M303 140h0m2 0h0m2 0h0m2 0h0m2 0h0m4 0h0m0-2h0m2 0h0m2 0h0m2 0h0m2 0h0m2 2h0m2 0h0m38 0h0m-84 6h0m2 0h0m2-2h0m0 2h0m2-2h0m2 0h0m2 0h0m2 0h0m2-2h0m2 0h0m2 0h0m2 0h0m30 0h0m2 0h0m2 2h0m2 0h0m2 0h0m0 2h0m2 0h0m2 0h0m26-4h0m2 0h0m4 2h0m2 2h0m-106 6h0m2-2h0m2 0h0m2-2h0m2 0h0m66 0h0m2 0h0m2 0h0m0 2h0m2 0h0m2 2h0m2 0h0m2 0h0m28 0h0m-124 6h0m2-2h0m0 2h0m2-2h0m2-2h0m2 0h0m88 0h0m2 0h0m2 0h0m0 2h0m2 0h0m2 2h0m0-2h0m2 2h0m20-4h0m-134 10h0m2 0h0m0-2h0m4-2h0m108 0h0m2 0h0m2 0h0m0 2h0m2 0h0m2 2h0m18-4h0m2 0h0m4 4h0m-150 6h0m2-2h0m0-2h0m126 0h0m2 0h0m0 2h0m2 0h0m2 2h0m2 0h0m18-2h0m-160 8h0m2-2h0m2-2h0m138 0h0m2 0h0m2 2h0m2 2h0m2 0h0m14-4h0m4 2h0m-172 6h0m0 2h0m2-2h0m0-2h0m2 0h0m150 0h0m2 0h0m0 2h0m2 2h0m0-2h0m2 2h0m14-2h0m2 0h0m-182 8h0m2-2h0m2-2h0m162 0h0m2 0h0m0 2h0m0 2h0m2-2h0m0 2h0m2 0h0m-176 6h0m2 0h0m0-2h0m2-2h0m172 2h0m0-2h0m2 2h0m0 2h0m2 0h0m-184 6h0m2-2h0m2-2h0m180 0h0m2 2h0m0-2h0m2 2h0m0 2h0m2 0h0m12 0h0m2 0h0m-206 4h0m2-2h0m190 0h0m2 0h0m0 2h0m2 0h0m0 2h0m2 0h0m2 0h0m0-2h0m2-2h0m0 2h0m0 2h0m2-4h0m0 2h0m0 2h0m2-4h0m0 4h0m0-2h0m2 2h0m0-4h0m0 2h0m2 2h0m0-2h0m2 2h0m-216 4h0m2 0h0m0-2h0m198 0h0m2 0h0m0 2h0m2 0h0m0-2h0m0 4h0m2 0h0m0-2h0m0-2h0m2 2h0m0 2h0m0-4h0m2 0h0m0 4h0m0-2h0m2 0h0m0 2h0m0-4h0m2 4h0m0-2h0m0-2h0m2 0h0m0 2h0m0 2h0m2-2h0m0 2h0m2 0h0m-224 6h0m2-4h0m208 0h0m2 0h0m0 2h0m2 0h0m0 2h0m0-4h0m2 4h0m0-2h0m0-2h0m2 0h0m0 4h0m0-2h0m2-2h0m0 4h0m0-2h0m2-2h0m0 4h0m0-2h0m2-2h0m0 4h0m0-2h0m2 0h0m0 2h0m2 0h0m-232 6h0m2-2h0m218 0h0m0-2h0m2 2h0m0-2h0m0 4h0m2-4h0m0 2h0m0 2h0m2-4h0m0 4h0m0-2h0m2-2h0m0 2h0m0 2h0m2-2h0m0-2h0m0 4h0m2-4h0m0 4h0m0-2h0m2 2h0m0-2h0m2 2h0m-238 6h0m0-2h0m2-2h0m222 0h0m2 0h0m0 2h0m2-2h0m0 4h0m0-2h0m2-2h0m0 4h0m0-2h0m2 0h0m0-2h0m0 4h0m2-4h0m0 4h0m0-2h0m2-2h0m0 4h0m0-2h0m2 0h0m0 2h0m0-4h0m2 4h0m0-2h0m2 2h0m-246 6h0m2-4h0m0 2h0m232-2h0m0 2h0m2-2h0m0 2h0m0 2h0m2-4h0m0 4h0m0-2h0m2 0h0m0 2h0m0-4h0m2 4h0m0-2h0m0-2h0m2 0h0m0 4h0m0-2h0m2 2h0m0-2h0m0-2h0m2 0h0m0 4h0m0-2h0m2 2h0m-252 4h0m2-2h0m2 2h0m236-2h0m2 0h0m0 2h0m2 2h0m0-2h0m0-2h0m2 0h0m0 4h0m0-2h0m2 0h0m0 2h0m0-4h0m2 4h0m0-2h0m0-2h0m2 2h0m0 2h0m0-4h0m2 2h0m0-2h0m0 4h0m2 0h0m-260 6h0m2-4h0m2 4h0m244-4h0m2 2h0m0-2h0m0 4h0m2-2h0m0-2h0m0 4h0m2-2h0m0 2h0m0-4h0m2 2h0m0-2h0m0 4h0m2-2h0m0 2h0m0-4h0m2 0h0m0 4h0m0-2h0m2 2h0m0-4h0m0 2h0m-264 6h0m0-2h0m254 0h0m0 2h0m2 0h0m0-2h0m0 4h0m2-2h0m0 2h0m0-4h0m2 0h0m0 2h0m0 2h0m2-2h0m0-2h0m0 4h0m2-2h0m0-2h0m0 4h0m2-2h0m0-2h0m0 4h0m2 0h0m-272 6h0m0-2h0m2-2h0m260 0h0m0 2h0m2 2h0m0-2h0m0-2h0m2 4h0m0-4h0m0 2h0m2-2h0m0 2h0m0 2h0m2-4h0m0 2h0m0 2h0m2 0h0m0-2h0m0-2h0m2 2h0m0 2h0m-278 6h0m2-4h0m2 4h0m2-4h0m262 0h0m0 2h0m2 0h0m0-2h0m0 4h0m2 0h0m0-4h0m0 2h0m2 2h0m0-2h0m0-2h0m2 4h0m0-2h0m0-2h0m2 4h0m0-4h0m0 2h0m2 0h0m0 2h0m0-4h0m2 4h0m-284 6h0m0-2h0m2-2h0m272 2h0m0-2h0m2 0h0m0 2h0m0 2h0m2-4h0m0 2h0m0 2h0m2-2h0m0 2h0m0-4h0m2 2h0m0 2h0m0-4h0m2 2h0m0-2h0m0 4h0m2-2h0m0 2h0m2 0h0m-290 4h0m2 2h0m278-4h0m0 2h0m2 0h0m0 2h0m0-4h0m2 2h0m0 2h0m0-4h0m2 4h0m0-2h0m0-2h0m2 2h0m0-2h0m0 4h0m2-4h0m0 4h0m0-2h0m2 2h0m0-2h0m-296 8h0m0-2h0m2-2h0m284 0h0m2 0h0m0 2h0m0 2h0m2 0h0m0-4h0m0 2h0m2 2h0m0-2h0m0-2h0m2 2h0m0 2h0m0-4h0m2 2h0m0-2h0m0 4h0m2-4h0m0 4h0m0-2h0m2 2h0m-302 4h0m4 0h0m290-2h0m0 2h0m0 2h0m2-2h0m0-2h0m0 4h0m2-2h0m0 2h0m0-4h0m2 0h0m0 4h0m0-2h0m2-2h0m0 2h0m0 2h0m2-2h0m0-2h0m0 4h0m2-2h0m0 2h0m-310 6h0m2-4h0m300 2h0m0-2h0m2 4h0m0-4h0m0 2h0m2 2h0m0-2h0m0-2h0m2 2h0m0 2h0m0-4h0m2 2h0m0-2h0m0 4h0m2-2h0m0 2h0m0-4h0m2 4h0m0-2h0m-316 6h0m0 2h0m2-4h0m304 0h0m2 2h0m0-2h0m2 4h0m0-4h0m0 2h0m2 0h0m0 2h0m0-4h0m2 0h0m0 2h0m0 2h0m2-4h0m0 4h0m0-2h0m2 2h0m0-4h0m0 2h0m2 2h0m-322 2h0m0 2h0m2 2h0m310-4h0m2 0h0m0 2h0m2 2h0m0-2h0m0-2h0m2 2h0m0-2h0m0 4h0m2-2h0m0 2h0m0-4h0m2 2h0m0-2h0m0 4h0m2-4h0m0 2h0m0 2h0m2-2h0m0 2h0m-328 2h0m2 2h0m316-2h0m2 2h0m0-2h0m2 2h0m0-2h0m0 4h0m2 0h0m0-4h0m0 2h0m2-2h0m0 2h0m0 2h0m2-4h0m0 4h0m0-2h0m2 0h0m0 2h0m0-4h0m2 4h0m-336 6h0m0-2h0m2-2h0m324 0h0m2 4h0m0-2h0m0-2h0m2 0h0m0 2h0m0 2h0m2-2h0m0 2h0m0-4h0m2 0h0m0 4h0m0-2h0m2-2h0m0 2h0m0 2h0m2 0h0m0-2h0m2 2h0m-342 2h0m0 2h0m4-2h0m328 0h0m2 4h0m0-4h0m0 2h0m2 2h0m0-4h0m0 2h0m2 2h0m0-4h0m0 2h0m2 0h0m0 2h0m0-4h0m2 2h0m0 2h0m0-4h0m2 4h0m0-2h0m-348 8h0m2-4h0m2 2h0m336-2h0m2 0h0m0 4h0m0-2h0m2 0h0m0-2h0m0 4h0m2 0h0m0-2h0m0-2h0m2 0h0m0 4h0m0-2h0m2 0h0m0 2h0m0-4h0m-352 8h0m2-2h0m2 0h0m342 0h0m2 0h0m-350 8h0m2 0h0m-4 6h0m0-2h0m2 0h0m-4 8h0m0 2h0m2-4h0" stroke="#433e85" stroke-width="3.4"/><path d="M303 122h0m2 0h0m4 0h0m2-2h0m2 0h0m6 0h0m2 2h0m2 0h0m0-2h0m4 2h0m2 0h0m-42 4h0m4-2h0m6 0h0m34 0h0m2 0h0m2 0h0m2 2h0m2 0h0m2 2h0m2 0h0m4 2h0m2 0h0m2 2h0m-58 8h0m2 0h0m2 0h0m2 0h0m2 0h0m4-2h0m2 0h0m2 0h0m2-2h0m0 2h0m2 0h0m0-2h0m2 0h0m2 0h0m2 0h0m2 0h0m2 0h0m2 2h0m2 0h0m2 0h0m0 2h0m2 0h0m2 0h0m2 0h0m-58 6h0m2 0h0m2-2h0m2 0h0m4-2h0m2 0h0m2 0h0m2 0h0m42 0h0m2 0h0m2 0h0m2 2h0m2 0h0m2 2h0m0-2h0m2 2h0m2 0h0m-82 6h0m2-2h0m0 2h0m2-2h0m2-2h0m2 0h0m76 0h0m2 0h0m0 2h0m2-2h0m0 2h0m2 0h0m2 2h0m0-2h0m2 2h0m14 0h0m0-2h0m2 2h0m0-2h0m0-2h0m2 2h0m0 2h0m2 0h0m2 0h0m-126 6h0m2 0h0m2-2h0m2-2h0m2 0h0m98 0h0m2 0h0m2 2h0m2 0h0m0 2h0m2 0h0m0-2h0m2 0h0m0-2h0m0 4h0m2 0h0m0-2h0m0-2h0m2 4h0m0-2h0m0-2h0m2 4h0m0-2h0m0-2h0m2 0h0m0 4h0m0-2h0m2 0h0m0 2h0m0-4h0m2 0h0m0 4h0m0-2h0m2 0h0m0 2h0m2 0h0m-138 6h0m2-2h0m2-2h0m2 0h0m116 0h0m2 0h0m0 2h0m2 2h0m0-2h0m0-2h0m2 0h0m0 2h0m0 2h0m2-2h0m0-2h0m0 4h0m2-4h0m0 2h0m0 2h0m2-2h0m0 2h0m0-4h0m2 2h0m0-2h0m0 4h0m2-2h0m0-2h0m0 4h0m2-2h0m0-2h0m0 4h0m2-2h0m0 2h0m2-2h0m0 2h0m2 0h0m-152 6h0m2-2h0m0 2h0m2-2h0m0-2h0m132 0h0m2 0h0m0 2h0m2 0h0m0-2h0m2 2h0m0-2h0m0 4h0m2-2h0m0-2h0m0 4h0m2 0h0m0-2h0m0-2h0m2 2h0m0-2h0m0 4h0m2 0h0m0-4h0m0 2h0m2 2h0m0-4h0m0 2h0m2 2h0m0-2h0m0-2h0m2 2h0m0 2h0m2 0h0m-162 6h0m2-2h0m2-2h0m144 0h0m2 2h0m0-2h0m2 0h0m0 2h0m2 2h0m0-4h0m0 2h0m2 0h0m0-2h0m0 4h0m2-2h0m0-2h0m0 4h0m2-4h0m0 4h0m0-2h0m2-2h0m0 2h0m0 2h0m2 0h0m0-2h0m0-2h0m2 2h0m0 2h0m2 0h0m-172 4h0m0 2h0m2-4h0m158 0h0m2 2h0m0-2h0m2 4h0m0-4h0m0 2h0m2 0h0m0-2h0m0 4h0m2-4h0m0 2h0m0 2h0m2 0h0m0-4h0m0 2h0m2-2h0m0 2h0m0 2h0m2-4h0m0 4h0m0-2h0m2 2h0m-182 6h0m2-2h0m2-2h0m168 0h0m2 2h0m0-2h0m2 4h0m0-4h0m0 2h0m2 0h0m0 2h0m0-4h0m2 0h0m0 2h0m0 2h0m2-4h0m0 4h0m0-2h0m2 2h0m0-2h0m0-2h0m2 2h0m0 2h0m2 0h0m-190 4h0m2-2h0m176 0h0m2 2h0m0-2h0m2 4h0m0-2h0m0-2h0m2 0h0m0 2h0m0 2h0m2-2h0m0 2h0m0-4h0m2 0h0m0 2h0m0 2h0m2 0h0m0-4h0m0 2h0m2 2h0m0-2h0m0-2h0m2 4h0m0-2h0m-200 8h0m2-2h0m2-2h0m186 0h0m2 2h0m0-2h0m2 0h0m0 2h0m0 2h0m2-4h0m0 2h0m0 2h0m2-4h0m0 4h0m0-2h0m2 2h0m0-2h0m0-2h0m2 2h0m0 2h0m0-4h0m2 0h0m0 2h0m-206 6h0m0 2h0m2-4h0m196 0h0m2 0h0m0 2h0m2-2h0m-206 10h0m2-4h0m-6 10h0m2-2h0m-4 6h0m2-2h0m-6 10h0m2-4h0m-4 8h0m-4 6h0m0 2h0m2-4h0m-6 10h0m2-2h0m-4 8h0m0-2h0m-4 8h0m2-4h0m-4 8h0m-4 8h0m2-4h0m-4 10h0m0-2h0m2-2h0m-8 14h0m0 2h0m2-4h0m-4 8h0m-4 8h0m2-4h0m-4 8h0m0 2h0m-2 6h0m0-2h0m-2 4h0m-4 10h0m0-2h0m-4 8h0m2-2h0m-4 8h0m2-4h0m-4 10h0m2-4h0m-4 12h0" stroke="#3f4888" stroke-width="3.4"/><path d="M285 126h0m46 2h0m0-2h0m2 2h0m0-2h0m2 0h0m0 2h0m2 0h0m2 0h0m-72 4h0m2 0h0m2-2h0m2 0h0m40 4h0m2 0h0m2 0h0m2 0h0m2 0h0m2 0h0m6-2h0m0-2h0m0 4h0m2-4h0m0 4h0m0-2h0m2 2h0m0-4h0m0 2h0m2-2h0m0 4h0m0-2h0m2 0h0m0 2h0m0-4h0m2 2h0m0 2h0m0-4h0m2 2h0m0 2h0m0-4h0m2 0h0m0 2h0m0 2h0m2-4h0m0 4h0m0-2h0m2 2h0m0-2h0m2 2h0m0-2h0m2 2h0m-98 6h0m34 0h0m2 0h0m2 0h0m4-2h0m2 0h0m2 0h0m2 0h0m2 0h0m0-2h0m2 0h0m2 0h0m2 0h0m16 0h0m2 0h0m2 0h0m2 2h0m0-2h0m2 0h0m0 2h0m2-2h0m0 2h0m2 0h0m0 2h0m0-4h0m2 2h0m0-2h0m0 4h0m2 0h0m0-2h0m0-2h0m2 2h0m0-2h0m0 4h0m2-2h0m0-2h0m0 4h0m2 0h0m0-2h0m0-2h0m2 2h0m0 2h0m0-4h0m2 2h0m0 2h0m0-4h0m2 2h0m0-2h0m0 4h0m2-4h0m0 2h0m0 2h0m2-2h0m0-2h0m0 4h0m2-2h0m0 2h0m2 0h0m2 0h0m-114 4h0m0-2h0m24 4h0m2 0h0m2-2h0m2 0h0m2-2h0m2 0h0m2 0h0m56 0h0m2 0h0m2 0h0m2 0h0m0 2h0m2 0h0m0-2h0m2 2h0m0 2h0m0-4h0m2 0h0m0 4h0m0-2h0m2-2h0m0 2h0m0 2h0m2-4h0m0 2h0m0 2h0m2 0h0m0-4h0m0 2h0m2 2h0m0-4h0m0 2h0m2 2h0m0-2h0m0-2h0m2 2h0m0 2h0m0-4h0m2 0h0m0 2h0m0 2h0m2-2h0m0 2h0m2 0h0m0-2h0m2 2h0m-128 2h0m18 4h0m2 0h0m2-2h0m2-2h0m2 0h0m86 0h0m2 0h0m2 2h0m0-2h0m2 4h0m0-2h0m0-2h0m2 0h0m0 4h0m0-2h0m2 0h0m0 2h0m0-4h0m2 0h0m0 4h0m0-2h0m2-2h0m0 2h0m0 2h0m2-2h0m0-2h0m0 4h0m2-4h0m-140 10h0m0-2h0m2-2h0m18 4h0m2-2h0m2 0h0m2-2h0m106 0h0m2 0h0m2 0h0m-140 8h0m2-2h0m16 4h0m2-2h0m2-2h0m-10 10h0m2-2h0m2-2h0m-8 10h0m2-2h0m2-2h0m-8 10h0m0-2h0m2-2h0m-8 10h0m2-2h0m2-2h0m-6 8h0m0 2h0m2-4h0m-6 8h0m2-2h0m-6 10h0m0-2h0m2-2h0m-6 10h0m2-2h0m0-2h0m-4 8h0m2-2h0m-6 10h0m2-4h0m-6 10h0m2-4h0m0 2h0m-4 8h0m0-2h0m2-2h0m-6 10h0m2-4h0m-4 8h0m2-2h0m-6 10h0m0-2h0m2-2h0m-6 10h0m2-4h0m0 2h0m-4 6h0m0 2h0m2-4h0m-6 10h0m2-2h0m-4 8h0m0-2h0m2-2h0m-4 10h0m0-2h0m2-2h0m-6 10h0m2-4h0m-4 10h0m2-4h0m-6 10h0m2-4h0m0 2h0m-4 8h0m2-4h0m-4 10h0m0-2h0m2-2h0m-4 10h0m0-2h0m-4 8h0m2-4h0m-4 8h0m2-2h0m-4 8h0m0-2h0m-2 6h0m0 2h0m-2 8h0m0-2h0m0-2h0m-2 10h0m-2 6h0m-2 8h0" stroke="#3b528a" stroke-width="3.4"/><path d="M311 122h0m2 0h0m2 0h0m2 0h0m2 0h0m-34 6h0m2 0h0m2 0h0m0-2h0m2 2h0m0-2h0m2 0h0m0 2h0m2-2h0m0 2h0m2-2h0m0 2h0m2-2h0m0 2h0m2-2h0m0 2h0m0-4h0m2 4h0m0-2h0m0-2h0m2 4h0m0-2h0m0-2h0m2 0h0m0 4h0m0-2h0m2-2h0m0 2h0m0 2h0m2-4h0m0 2h0m0 2h0m2 0h0m0-2h0m0-2h0m2 2h0m0 2h0m0-4h0m2 0h0m0 4h0m0-2h0m2 0h0m0 2h0m0-4h0m2 0h0m0 4h0m0-2h0m2-2h0m0 4h0m0-2h0m2-2h0m0 2h0m0 2h0m2-4h0m0 2h0m0 2h0m2 0h0m0-2h0m-56 6h0m2 2h0m0-2h0m2-2h0m0 2h0m0 2h0m2 0h0m0-2h0m0-2h0m2 0h0m0 4h0m0-2h0m2-2h0m0 2h0m0 2h0m2-4h0m0 2h0m0 2h0m2 0h0m0-2h0m0-2h0m2 2h0m0-2h0m0 4h0m2-2h0m0 2h0m0-4h0m2 4h0m0-2h0m0-2h0m2 4h0m0-2h0m0-2h0m2 2h0m0 2h0m0-4h0m2 4h0m0-2h0m0-2h0m2 4h0m0-2h0m0-2h0m2 2h0m0-2h0m0 4h0m2-2h0m0-2h0m0 4h0m2-4h0m0 4h0m0-2h0m2 2h0m0-2h0m0-2h0m2 4h0m0-4h0m0 2h0m2-2h0m0 2h0m2-2h0m0 2h0m2 0h0m0-2h0m2 0h0m0 2h0m2-2h0m0 2h0m2-2h0m0 2h0m2 0h0m0-2h0m0 4h0m2 0h0m0-2h0m0-2h0m-52 6h0m0 2h0m2 2h0m0-4h0m0 2h0m2-2h0m0 4h0m0-2h0m2 0h0m0-2h0m0 4h0m2 0h0m0-4h0m0 2h0m2 2h0m0-4h0m0 2h0m2 0h0m0-2h0m2 2h0m0-2h0m2 2h0m0-2h0m2 0h0m0 2h0m2-2h0m2 0h0m2 0h0m2 0h0m-32 10h0m2 0h0m2-2h0m2-2h0m0 2h0m2-2h0m2 0h0m-18 10h0m2-2h0m2 0h0m0-2h0m2 0h0m-14 10h0m2-2h0m2-2h0m2 0h0m-30 8h0m0 2h0m18 0h0m2-2h0m2-2h0m-24 8h0m16 0h0m2-2h0m-24 6h0m2 0h0m14 4h0m2-2h0m2-2h0m-26 8h0m2 0h0m16 2h0m2-4h0m-22 8h0m0-2h0m16 2h0m2-2h0m-22 6h0m14 4h0m2-2h0m0 2h0m2-4h0m-22 6h0m0 2h0m16 2h0m2-4h0m-22 10h0m2-2h0m14 2h0m0-2h0m2-2h0m-22 10h0m2-2h0m0-2h0m14 4h0m2-2h0m-20 8h0m2-4h0m14 4h0m0-2h0m2-2h0m-22 10h0m2-4h0m14 4h0m2-2h0m0-2h0m-22 10h0m2-2h0m0-2h0m14 4h0m2-2h0m-22 8h0m2-2h0m2-2h0m14 4h0m0-2h0m2-2h0m-6 10h0m2-4h0m0 2h0m-4 8h0m0-2h0m2-2h0m-20 6h0m14 4h0m2-4h0m-4 8h0m-4 8h0m0-2h0m2-2h0m-4 8h0m2-2h0m-6 10h0m2-4h0m-4 10h0m2-4h0m-4 8h0m-4 8h0m2-4h0m0 2h0m-4 6h0m-4 8h0m2-2h0m-4 8h0m2-4h0m-4 10h0m0-2h0m2-2h0m-4 8h0m0-2h0m-4 10h0m2-4h0m-4 10h0m-2 6h0m-2 8h0m0 2h0" stroke="#375b8c" stroke-width="3.4"/><path d="M267 134h0m2 0h0m2 0h0m0-2h0m2 2h0m-16 6h0m2 0h0m2 0h0m0-2h0m2 0h0m0 2h0m2-4h0m0 4h0m0-2h0m2 2h0m0-4h0m0 2h0m2 0h0m0 2h0m0-4h0m2 0h0m0 4h0m0-2h0m2 2h0m0-2h0m0-2h0m2 4h0m-26 6h0m2-2h0m0 2h0m2 0h0m0-2h0m2 0h0m0-2h0m0 4h0m2-2h0m0 2h0m0-4h0m2 4h0m0-2h0m0-2h0m2 2h0m0 2h0m0-4h0m2 4h0m0-2h0m0-2h0m2 2h0m0 2h0m0-4h0m2 0h0m0 4h0m0-2h0m2-2h0m0 2h0m2 0h0m0-2h0m2 0h0m-32 10h0m2 0h0m0-2h0m2 0h0m0 2h0m2 0h0m0-4h0m0 2h0m2-2h0m0 4h0m0-2h0m2 2h0m0-4h0m0 2h0m2 2h0m0-4h0m0 2h0m2 0h0m0 2h0m0-4h0m2 4h0m0-4h0m0 2h0m2 0h0m0 2h0m0-4h0m2 0h0m0 2h0m2-2h0m-26 8h0m0 2h0m2 0h0m0-4h0m0 2h0m2 0h0m0-2h0m0 4h0m2 0h0m0-4h0m0 2h0m2 0h0m0 2h0m0-4h0m2 2h0m0 2h0m0-4h0m2 0h0m0 2h0m0 2h0m2-4h0m0 2h0m0 2h0m2-2h0m0-2h0m2 0h0m-22 8h0m2-2h0m0 4h0m0-2h0m2-2h0m0 4h0m0-2h0m2-2h0m0 4h0m0-2h0m2 0h0m0-2h0m0 4h0m2-4h0m0 2h0m0 2h0m2 0h0m0-2h0m0-2h0m2 2h0m0-2h0m2 0h0m-12 6h0m2 4h0m0-4h0m0 2h0m2-2h0m0 4h0m0-2h0m2-2h0m-8 10h0m2-2h0m0-2h0m2 0h0m-8 10h0m2-2h0m0-2h0m-6 8h0m0 2h0m2-4h0m-6 8h0m2-2h0m-6 10h0m0-2h0m2 0h0m0-2h0m-6 10h0m2-4h0m-6 10h0m2-2h0m2-2h0m-6 10h0m0-2h0m2-2h0m-6 10h0m2-2h0m0-2h0m-4 8h0m2-2h0m-6 10h0m2-4h0m-6 10h0m2-2h0m-4 8h0m0-2h0m2-2h0m-6 10h0m2-2h0m-20 8h0m2-4h0m0 2h0m14 2h0m2-4h0m-20 10h0m2-2h0m12 2h0m2-4h0m-18 10h0m0-2h0m14 2h0m0-2h0m2-2h0m-18 8h0m14 0h0m-4 8h0m2-2h0m0-2h0m-18 10h0m0-2h0m14 2h0m0-2h0m2-2h0m-18 8h0m0-2h0m14 0h0m0 2h0m-16 4h0m12 4h0m2-4h0m-18 10h0m0-2h0m2-2h0m12 2h0m2-2h0m-18 8h0m0-2h0m14 2h0m-18 8h0m14 0h0m2-4h0m-4 8h0m0 2h0m-16 4h0m14 0h0m-2 6h0m0-2h0m-2 6h0m0 2h0m-2 8h0m-2 10h0m-2 8h0m0-2h0" stroke="#33648d" stroke-width="3.4"/><path d="M231 164h0m2 0h0m-8 6h0m2 0h0m2 0h0m0-4h0m0 2h0m2 2h0m0-4h0m0 2h0m2-2h0m0 4h0m0-2h0m2 2h0m0-4h0m0 2h0m2 2h0m0-2h0m-16 8h0m2-2h0m0 2h0m2 0h0m0-4h0m0 2h0m2 2h0m0-4h0m0 2h0m2 0h0m0-2h0m0 4h0m2 0h0m0-4h0m0 2h0m2 0h0m0-2h0m0 4h0m2-2h0m0-2h0m-18 10h0m2 0h0m0-2h0m0-2h0m2 0h0m0 2h0m0 2h0m2-4h0m0 4h0m0-2h0m2 2h0m0-2h0m0-2h0m2 2h0m0 2h0m0-4h0m2 0h0m0 2h0m0 2h0m2-4h0m0 2h0m-18 8h0m2-4h0m0 4h0m0-2h0m2-2h0m0 2h0m0 2h0m2 0h0m0-4h0m0 2h0m2-2h0m0 2h0m0 2h0m2-4h0m0 2h0m0 2h0m2-2h0m0-2h0m0 4h0m2-4h0m-18 10h0m2 0h0m0-2h0m0-2h0m2 2h0m0 2h0m0-4h0m2 4h0m0-2h0m0-2h0m2 4h0m0-4h0m0 2h0m2-2h0m0 4h0m0-2h0m2 2h0m0-2h0m0-2h0m2 0h0m-18 10h0m2-2h0m0 2h0m0-4h0m2 4h0m0-4h0m0 2h0m2-2h0m0 4h0m0-2h0m2-2h0m0 2h0m0 2h0m2-4h0m0 2h0m0 2h0m2 0h0m0-2h0m0-2h0m2 0h0m-16 10h0m2-2h0m0 2h0m0-4h0m2 0h0m0 2h0m0 2h0m2-4h0m0 2h0m0 2h0m2-4h0m0 4h0m0-2h0m2 2h0m0-2h0m0-2h0m2 0h0m0 2h0m-16 8h0m2-4h0m0 4h0m0-2h0m2-2h0m0 2h0m0 2h0m2-2h0m0-2h0m0 4h0m2-4h0m0 2h0m0 2h0m2-2h0m0 2h0m0-4h0m2 2h0m0-2h0m2 0h0m-16 8h0m0 2h0m2-2h0m0-2h0m0 4h0m2-2h0m0-2h0m0 4h0m2 0h0m0-2h0m0-2h0m2 4h0m0-4h0m0 2h0m2 0h0m0-2h0m0 4h0m2-4h0m-16 8h0m0 2h0m2-4h0m0 2h0m0 2h0m2-4h0m0 4h0m0-2h0m2 0h0m0-2h0m0 4h0m2 0h0m0-2h0m0-2h0m2 4h0m0-2h0m0-2h0m2 2h0m0-2h0m-16 10h0m2-4h0m0 4h0m0-2h0m2-2h0m0 4h0m0-2h0m2 2h0m0-2h0m0-2h0m2 4h0m0-2h0m0-2h0m2 4h0m0-4h0m0 2h0m2 0h0m0-2h0m0 4h0m2-4h0m-8 6h0m2 0h0m0 4h0m0-2h0m2 0h0m0-2h0m-4 8h0m2-2h0m-6 10h0m2-4h0m-4 8h0m2-2h0m-6 10h0m2-4h0m0 2h0m-4 6h0m-2 4h0m-4 10h0m0-2h0m2-2h0m-4 8h0m-4 8h0m2-4h0m-4 10h0m0-2h0m-2 6h0m0-2h0m-4 10h0m2-4h0m-4 10h0m0-2h0m2-2h0m-4 8h0m0-2h0m-4 10h0m2-4h0m-4 10h0m2-4h0m-18 8h0m0 2h0m2-4h0m12 2h0m0 2h0m-16 6h0m0-2h0m2-2h0m12 4h0m0-2h0m0 6h0m0-2h0m-2 10h0m0 2h0" stroke="#2f6c8e" stroke-width="3.4"/><path d="M187 234h0m0 2h0m2 0h0m0-2h0m0-2h0m2 2h0m0 2h0m0-4h0m2 2h0m0-2h0m0 4h0m2-2h0m0 2h0m-12 6h0m2 0h0m0-4h0m0 2h0m2 0h0m0 2h0m0-4h0m2 2h0m0 2h0m0-4h0m2 2h0m0-2h0m0 4h0m2 0h0m0-2h0m0-2h0m2 0h0m-16 10h0m2 0h0m0-2h0m2 0h0m0 2h0m0-4h0m2 2h0m0-2h0m0 4h0m2-4h0m0 2h0m0 2h0m2 0h0m0-4h0m0 2h0m2-2h0m0 2h0m-14 8h0m0-2h0m2 2h0m0-4h0m0 2h0m2 0h0m0-2h0m0 4h0m2-2h0m0 2h0m0-4h0m2 4h0m0-2h0m0-2h0m2 2h0m0-2h0m0 4h0m2-4h0m-14 6h0m0 4h0m0-2h0m2 0h0m0 2h0m0-4h0m2 4h0m0-2h0m0-2h0m2 4h0m0-2h0m0-2h0m2 0h0m0 4h0m0-2h0m2-2h0m0 2h0m-14 8h0m2-2h0m0 2h0m0-4h0m2 4h0m0-4h0m0 2h0m2 2h0m0-2h0m0-2h0m2 0h0m0 4h0m0-2h0m2 2h0m0-4h0m0 2h0m2-2h0m-14 10h0m0-2h0m2 2h0m0-2h0m0-2h0m2 0h0m0 2h0m0 2h0m2 0h0m0-4h0m0 2h0m2 0h0m0 2h0m0-4h0m2 4h0m0-4h0m0 2h0m-14 8h0m2 0h0m0-4h0m0 2h0m2 0h0m0 2h0m0-4h0m2 2h0m0-2h0m0 4h0m2-4h0m0 4h0m0-2h0m2 0h0m0-2h0m0 4h0m2-4h0m-14 10h0m2-4h0m0 4h0m0-2h0m2 0h0m0-2h0m0 4h0m2-4h0m0 4h0m0-2h0m2 0h0m0-2h0m0 4h0m2-2h0m0-2h0m0 4h0m2-4h0m-14 8h0m0 2h0m0-4h0m2 2h0m0 2h0m0-4h0m2 0h0m0 4h0m0-2h0m2-2h0m0 2h0m0 2h0m2-4h0m0 4h0m0-2h0m2 0h0m0-2h0m-14 10h0m2 0h0m0-2h0m0-2h0m2 4h0m0-2h0m0-2h0m2 4h0m0-4h0m0 2h0m2 0h0m0 2h0m0-4h0m2 2h0m0-2h0m0 4h0m2-4h0m-14 10h0m2 0h0m0-2h0m0-2h0m2 0h0m0 2h0m0 2h0m2 0h0m0-2h0m0-2h0m2 2h0m0 2h0m0-4h0m2 4h0m0-4h0m0 2h0m-12 8h0m2-4h0m0 4h0m0-2h0m2-2h0m0 2h0m0 2h0m2-2h0m0-2h0m0 4h0m2 0h0m0-4h0m0 2h0m2-2h0m0 2h0m-12 8h0m0-2h0m0-2h0m2 2h0m0-2h0m0 4h0m2-4h0m0 4h0m0-2h0m2-2h0m0 2h0m0 2h0m2-4h0m0 4h0m0-2h0m2-2h0m-14 8h0m2 0h0m0-2h0m2 2h0m0-2h0m0 4h0m2-4h0m0 4h0m0-2h0m2 2h0m0-4h0m0 2h0m2-2h0m0 4h0m0-2h0m-2 6h0m-4 8h0m2-2h0m0-2h0m-4 10h0m2-4h0m-2 6h0m-18 10h0m16 2h0m0 2h0m-20 18h0m16-2h0m0 2h0m-12 6h0m2 2h0" stroke="#2b758e" stroke-width="3.4"/><path d="M147 320h0m2 0h0m-4 4h0m0 2h0m0-4h0m2 4h0m0-4h0m0 2h0m2 2h0m0-4h0m0 2h0m2 0h0m0 2h0m0-4h0m2 2h0m0 2h0m0-4h0m2 0h0m-14 10h0m2-4h0m0 4h0m0-2h0m2-2h0m0 4h0m0-2h0m2 2h0m0-2h0m0-2h0m2 0h0m0 2h0m0 2h0m2-4h0m0 2h0m-12 6h0m2-2h0m0 2h0m2-2h0m0 2h0m2-2h0m0 2h0m2 0h0m0-2h0m2 2h0m0-2h0m-2 8h0m0 8h0m0-2h0m0-2h0m-2 18h0m-18 6h0" stroke="#287c8e" stroke-width="3.4"/><path d="M139 338h0m2 0h0m2 0h0m2 0h0m2 0h0m-10 4h0m2 0h0m0-2h0m2 0h0m2 0h0m2 0h0m2 0h0m0 4h0m-16 12h0m14 6h0m0-2h0m-16 6h0m6 16h0" stroke="#25848e" stroke-width="3.4"/><path d="M137 344h0m2 0h0m2-2h0m0 2h0m2-2h0m2 2h0m0-2h0m-10 4h0m0 2h0m2-2h0m8 0h0m0 8h0m0-2h0m-2 16h0m-2 6h0m0-2h0m-10 4h0m2 2h0m2 0h0m0 2h0m2 0h0m4-4h0" stroke="#238c8d" stroke-width="3.4"/><path d="M143 344h0m-8 6h0m2-2h0m2-2h0m2 0h0m4 4h0m0-2h0m-12 4h0m12 4h0m0 2h0m-16 14h0m2 2h0m10-4h0m-8 6h0m2 0h0m2 2h0" stroke="#20948b" stroke-width="3.4"/><path d="M137 350h0m2-2h0m2 0h0m2-2h0m-10 8h0m10 12h0m-14 4h0m2 2h0m2 2h0m4 2h0m2 0h0" stroke="#1f9c89" stroke-width="3.4"/><path d="M139 350h0m4-2h0m0 2h0m-8 2h0m-4 18h0m4 4h0m4 0h0m0-2h0" stroke="#23a485" stroke-width="3.4"/><path d="M141 350h0m-6 4h0m2-2h0m6 0h0m0 12h0m-10 8h0m4 2h0" stroke="#28ab81" stroke-width="3.4"/><path d="M133 356h0m6-4h0m2 0h0m2 2h0m0 2h0m-12 6h0m0-2h0m12-2h0m-12 10h0m2 2h0" stroke="#31b37c" stroke-width="3.4"/><path d="M135 356h0m2-2h0m6 6h0m-12 4h0m0 2h0m10 2h0m-6 4h0m4-2h0" stroke="#3fbb74" stroke-width="3.4"/><path d="M141 354h0m-8 4h0m10 4h0m-10 6h0m8-2h0m-4 6h0" stroke="#4dc36c" stroke-width="3.4"/><path d="M137 356h0m2-2h0m-6 6h0m2-2h0m-2 8h0m2 4h0" stroke="#5ec962" stroke-width="3.4"/><path d="M139 356h0m2 0h0m-8 6h0m0 2h0m6 4h0m-2 2h0" stroke="#71cf56" stroke-width="3.4"/><path d="M141 358h0m0 6h0" stroke="#84d54b" stroke-width="3.4"/><path d="M137 358h0m4 4h0m0-2h0m-6 8h0" stroke="#9ad83c" stroke-width="3.4"/><path d="M135 362h0m0-2h0m0 6h0m2 2h0m2-2h0" stroke="#b1dc2e" stroke-width="3.4"/><path d="M139 358h0m-4 6h0" stroke="#c7e023" stroke-width="3.4"/><path d="M137 360h0" stroke="#dde324" stroke-width="3.4"/><path d="M137 362h0m2 0h0m0-2h0m-2 6h0m0-2h0m2 0h0" stroke="#f2e625" stroke-width="3.4"/></g><line x1="104" y1="98.5" x2="104" y2="475.4" stroke="#000" stroke-width="1.9"/><line x1="103.1" y1="474.5" x2="600.9" y2="474.5" stroke="#000" stroke-width="1.9"/><line x1="98.3" y1="125" x2="103.2" y2="125" stroke="#333333" stroke-width="1.6"/><text x="94.3" y="135.1" font-size="28" text-anchor="end" fill="#333333">0.01</text><line x1="98.3" y1="248.8" x2="103.2" y2="248.8" stroke="#333333" stroke-width="1.6"/><text x="94.3" y="258.9" font-size="28" text-anchor="end" fill="#333333">0.00</text><line x1="98.3" y1="372.7" x2="103.2" y2="372.7" stroke="#333333" stroke-width="1.6"/><text x="94.3" y="382.8" font-size="28" text-anchor="end" fill="#333333">−0.01</text><line x1="106" y1="475.3" x2="106" y2="480.6" stroke="#333333" stroke-width="1.6"/><text x="106" y="505.4" font-size="28" text-anchor="middle" fill="#333333">0.010</text><line x1="200.7" y1="475.3" x2="200.7" y2="480.6" stroke="#333333" stroke-width="1.6"/><text x="200.7" y="505.4" font-size="28" text-anchor="middle" fill="#333333">0.005</text><line x1="295.4" y1="475.3" x2="295.4" y2="480.6" stroke="#333333" stroke-width="1.6"/><text x="295.4" y="505.4" font-size="28" text-anchor="middle" fill="#333333">0.000</text><line x1="390.2" y1="475.3" x2="390.2" y2="480.6" stroke="#333333" stroke-width="1.6"/><text x="390.2" y="505.4" font-size="28" text-anchor="middle" fill="#333333">−0.005</text><line x1="484.9" y1="475.3" x2="484.9" y2="480.6" stroke="#333333" stroke-width="1.6"/><text x="484.9" y="505.4" font-size="28" text-anchor="middle" fill="#333333">−0.010</text><line x1="579.6" y1="475.3" x2="579.6" y2="480.6" stroke="#333333" stroke-width="1.6"/><text x="579.6" y="505.4" font-size="28" text-anchor="middle" fill="#333333">−0.015</text><text x="102" y="91.2" font-size="41.5">eGFR &gt;60</text><text x="353" y="545" font-size="38.5" text-anchor="middle">Dim 1</text><text x="27.9" y="286.8" font-size="38.5" text-anchor="middle" transform="rotate(-90 27.9 286.8)">Dim 2</text><rect x="567.8" y="132.8" width="30.2" height="150.8" fill="url(#vir)"/><line x1="567.8" y1="137.6" x2="573.8" y2="137.6" stroke="#fff" stroke-width="1.1" opacity="0.85"/><line x1="592" y1="137.6" x2="598" y2="137.6" stroke="#fff" stroke-width="1.1" opacity="0.85"/><text x="605.6" y="145.7" font-size="22.5" fill="#333333">50k</text><line x1="567.8" y1="166.8" x2="573.8" y2="166.8" stroke="#fff" stroke-width="1.1" opacity="0.85"/><line x1="592" y1="166.8" x2="598" y2="166.8" stroke="#fff" stroke-width="1.1" opacity="0.85"/><text x="605.6" y="174.9" font-size="22.5" fill="#333333">40k</text><line x1="567.8" y1="196" x2="573.8" y2="196" stroke="#fff" stroke-width="1.1" opacity="0.85"/><line x1="592" y1="196" x2="598" y2="196" stroke="#fff" stroke-width="1.1" opacity="0.85"/><text x="605.6" y="204.1" font-size="22.5" fill="#333333">30k</text><line x1="567.8" y1="225.3" x2="573.8" y2="225.3" stroke="#fff" stroke-width="1.1" opacity="0.85"/><line x1="592" y1="225.3" x2="598" y2="225.3" stroke="#fff" stroke-width="1.1" opacity="0.85"/><text x="605.6" y="233.4" font-size="22.5" fill="#333333">20k</text><line x1="567.8" y1="254.5" x2="573.8" y2="254.5" stroke="#fff" stroke-width="1.1" opacity="0.85"/><line x1="592" y1="254.5" x2="598" y2="254.5" stroke="#fff" stroke-width="1.1" opacity="0.85"/><text x="605.6" y="262.6" font-size="22.5" fill="#333333">10k</text><text x="558.9" y="119.5" font-size="28.5" fill="#333333">Density</text><g stroke-linecap="round" fill="none"><path d="M990 116h0m-45 7h0m0-1h0m10-2h0m48 1h0m-73 7h0m1-1h0m75-3h0m9 4h0m8 5h0m-116 9h0m0 0h0m3 0h0m131 0h0m4 0h0m-140 6h0m147 3h0m2 0h0m8 4h0m-108 9h0m1 0h0m0 0h0m1 0h0m5-1h0m3 1h0m2-1h0m1 0h0m1 1h0m1-2h0m0-1h0m2 0h0m0 3h0m1 0h0m0-3h0m0 0h0m0 0h0m0 2h0m1-1h0m0 2h0m0-3h0m1 1h0m1 1h0m0 1h0m1 0h0m0-4h0m0 2h0m2 2h0m0 0h0m2-5h0m0 3h0m0 2h0m0-2h0m0 2h0m1 1h0m0-3h0m1 1h0m1 1h0m1-1h0m0-1h0m0 0h0m0 0h0m0-1h0m1-1h0m0 1h0m0 2h0m1 0h0m0 0h0m1-2h0m0 1h0m1-1h0m2 1h0m6 2h0m-53 7h0m0-1h0m1 0h0m2-1h0m0 0h0m1-2h0m0 3h0m0-3h0m1 3h0m2-1h0m1-1h0m1 2h0m0-5h0m1 1h0m0 4h0m0 0h0m0-1h0m0 2h0m1 0h0m1-5h0m1 4h0m0-2h0m1-2h0m0 2h0m0 2h0m1-4h0m0 5h0m1-3h0m0-1h0m0 3h0m1-1h0m1-1h0m1-1h0m1 0h0m3-1h0m0 2h0m1 0h0m0 0h0m0 2h0m1-3h0m0 0h0m0-2h0m1 5h0m0-2h0m0-3h0m0 4h0m0 1h0m1-2h0m0-1h0m1 1h0m0-2h0m0 3h0m1 0h0m0-2h0m0 0h0m1-1h0m1 3h0m0 1h0m0-3h0m0 0h0m0-1h0m1 3h0m0-1h0m0-2h0m0-1h0m1 2h0m1 1h0m0 0h0m1-2h0m0-1h0m0 1h0m1 2h0m0 1h0m0-1h0m0-2h0m0 2h0m1-2h0m0 3h0m1 2h0m0-4h0m1 4h0m0 0h0m3 0h0m2-1h0m2 0h0m1-3h0m1 3h0m0-4h0m1-1h0m1 1h0m1-1h0m3 6h0m2-3h0m0 0h0m1 3h0m0-4h0m1 2h0m0-1h0m1 0h0m0 1h0m0 1h0m2 0h0m1 0h0m4 1h0m-130 4h0m54 1h0m1 0h0m2-2h0m1 1h0m3-3h0m0 3h0m0-4h0m1 2h0m1 1h0m0 0h0m1 0h0m0 2h0m1-5h0m2 1h0m0 1h0m1-2h0m0 0h0m1 2h0m0-1h0m4 0h0m0 0h0m1 0h0m0 5h0m1-5h0m1 0h0m0 1h0m1-1h0m1 2h0m0-1h0m0-1h0m1 1h0m0-1h0m1 5h0m0 0h0m1-2h0m1 1h0m1-3h0m0-1h0m2-1h0m1 0h0m1 3h0m0 0h0m0 1h0m2 1h0m1-3h0m0 0h0m0-1h0m1 0h0m0 2h0m3-1h0m0-1h0m6 0h0m0 0h0m0 2h0m1-2h0m1 2h0m0-2h0m0-1h0m1 0h0m0 0h0m1 2h0m0 1h0m2-3h0m5 0h0m1 6h0m2-4h0m2 1h0m0 1h0m1 0h0m0-2h0m0 3h0m1-1h0m0 1h0m1-3h0m0-2h0m1 1h0m0 1h0m1 1h0m0 3h0m0-5h0m0 4h0m0-2h0m0-3h0m1 2h0m0 0h0m0 3h0m1-4h0m0 3h0m1 1h0m0-1h0m0-3h0m1 3h0m0 1h0m0 0h0m0-4h0m1-1h0m1 3h0m0-3h0m2 1h0m1 2h0m0-1h0m1 2h0m0 0h0m0-3h0m1 3h0m0 0h0m0-1h0m0 0h0m65-1h0m6 3h0m-153 5h0m2-2h0m0 1h0m1 0h0m0 0h0m1 0h0m0 0h0m2 0h0m0-2h0m9 3h0m1-1h0m3 0h0m0-2h0m0 4h0m1 1h0m1-4h0m2 2h0m0-2h0m0-1h0m0 0h0m0 0h0m0 5h0m1-2h0m0-1h0m0 1h0m0-1h0m1 0h0m0-3h0m1 6h0m0-3h0m1 1h0m0-4h0m0 2h0m1 3h0m0-2h0m1 0h0m0 3h0m3-1h0m10-2h0m0-1h0m0 1h0m1-1h0m0 3h0m1 0h0m2-2h0m0 2h0m4 0h0m1 0h0m2 0h0m1-3h0m0 0h0m2 3h0m0 0h0m1 0h0m2 0h0m1-2h0m1 3h0m1-6h0m1 5h0m1 0h0m1-5h0m1 1h0m0 4h0m0-4h0m1 3h0m1-3h0m1 0h0m0 0h0m0 4h0m2-2h0m1-3h0m0 4h0m0-4h0m0 3h0m0 0h0m0 0h0m0-2h0m1 4h0m0-2h0m0 1h0m0 1h0m1-5h0m0 1h0m1 2h0m0-3h0m0 2h0m1-1h0m0 1h0m0 4h0m1-3h0m0-1h0m0 2h0m0-1h0m0 2h0m0-4h0m1 1h0m1 2h0m1 0h0m0-1h0m0 1h0m1 1h0m1-4h0m0 1h0m0 2h0m0-2h0m1 2h0m0-1h0m1 2h0m0-1h0m0 2h0m0-3h0m2 3h0m0-2h0m2 0h0m1 1h0m0 0h0m0-2h0m1 1h0m0 2h0m1 0h0m67-2h0m-219 8h0m6-3h0m48 3h0m0-1h0m2 0h0m0-3h0m1 1h0m0 2h0m1-2h0m4 0h0m5 1h0m1 1h0m6 0h0m0 0h0m1-3h0m0 3h0m1-1h0m0 0h0m1 1h0m0-3h0m1-1h0m0 1h0m5 1h0m1-2h0m0-1h0m0 1h0m2 2h0m1-1h0m1 4h0m0-4h0m5 3h0m0-1h0m1 1h0m0 0h0m1-1h0m1 1h0m0 0h0m1-1h0m0 1h0m0-1h0m9-3h0m0 5h0m0-2h0m2-1h0m1 2h0m0-2h0m0 2h0m0-1h0m2 0h0m2-3h0m2 5h0m0-5h0m1 1h0m2 0h0m1-1h0m0 1h0m0-2h0m1 3h0m2 0h0m0-2h0m0 1h0m2 2h0m0 0h0m0 2h0m0-4h0m0 2h0m1 1h0m0-4h0m4 5h0m0-3h0m1 0h0m1 1h0m1-2h0m0 2h0m1-1h0m6 0h0m1 3h0m0 0h0m1-2h0m0 1h0m0-1h0m1-3h0m0 4h0m0-2h0m1 1h0m0 1h0m0-3h0m1 3h0m0 0h0m1-5h0m0 4h0m1 1h0m1 0h0m1-4h0m0 0h0m0 0h0m1 1h0m0 1h0m1-3h0m1 2h0m0 0h0m0 1h0m2-3h0m3 1h0m2 3h0m2-2h0m0 3h0m1-1h0m5 1h0m56-2h0m-172 7h0m1 1h0m0 0h0m0-1h0m1 1h0m0-1h0m2-1h0m0-2h0m0 4h0m0-3h0m1 3h0m0-3h0m0 3h0m1-1h0m1 1h0m0-3h0m1 4h0m1-2h0m0-1h0m0 3h0m1-5h0m0 4h0m0-2h0m0 1h0m1-4h0m0 3h0m0 0h0m1 2h0m1 0h0m0-1h0m0-3h0m1 2h0m0-3h0m0 0h0m1 1h0m1-1h0m0 1h0m1 1h0m0 1h0m0-2h0m4 0h0m1 0h0m1 1h0m0 3h0m2 0h0m0 0h0m1-4h0m1 3h0m2-1h0m0-1h0m0-1h0m1-1h0m1 4h0m0 1h0m2-2h0m2 2h0m0-5h0m1 2h0m0 1h0m0 1h0m1-3h0m0 3h0m1-2h0m1-2h0m0 6h0m0-3h0m0 2h0m1-2h0m1 2h0m0-2h0m0 1h0m1 1h0m0 1h0m4-1h0m2-3h0m2-1h0m0 3h0m0-4h0m1 6h0m1-5h0m1 4h0m1-2h0m1 3h0m0-1h0m1-3h0m0 3h0m0-4h0m5 4h0m0-3h0m1 3h0m0-3h0m1 1h0m0 2h0m1 1h0m1-1h0m6-5h0m1 5h0m0 0h0m1 0h0m1 1h0m0 0h0m3-1h0m2-4h0m1 0h0m6 3h0m2-1h0m1 0h0m1 3h0m0-5h0m0 1h0m1 0h0m1 1h0m0-1h0m0-1h0m1 3h0m0 1h0m0-2h0m0 2h0m1-1h0m0-1h0m1 3h0m1-1h0m1 0h0m0-3h0m0 0h0m1 0h0m0 4h0m0-1h0m0-5h0m0 2h0m0 4h0m1-2h0m0-3h0m1 1h0m0 4h0m0-2h0m3 1h0m4-4h0m6-1h0m1 1h0m0 2h0m0 0h0m1-3h0m0 4h0m1-2h0m0-2h0m0 2h0m1 1h0m0 1h0m0-3h0m59 1h0m1 1h0m1 0h0m-184 9h0m1-1h0m2-3h0m1 0h0m1 1h0m1-3h0m1 4h0m1-1h0m0-2h0m1 5h0m1-5h0m1 4h0m0 0h0m0 0h0m0-3h0m1-1h0m0 0h0m1 1h0m1 0h0m0 2h0m0-2h0m1-2h0m2 0h0m1 0h0m0 0h0m3 4h0m1-1h0m2 1h0m2-3h0m1 2h0m2-2h0m0 3h0m1-1h0m0 2h0m1-1h0m1-1h0m0 1h0m1-2h0m0 3h0m2 0h0m1-4h0m0-1h0m1 2h0m0 2h0m1-2h0m1 2h0m1-2h0m1 2h0m0-3h0m1 4h0m1 1h0m0-3h0m1 2h0m1-3h0m0 4h0m1 0h0m0-1h0m1-1h0m1 0h0m1-2h0m0 0h0m1 4h0m0-1h0m1-4h0m0 1h0m0 1h0m2 2h0m3-5h0m1 1h0m1 2h0m0 0h0m1-1h0m0-1h0m1 1h0m1-2h0m1 4h0m1-2h0m0 1h0m0 0h0m0 2h0m0-3h0m5 3h0m3-3h0m0-1h0m0 4h0m0-4h0m1 3h0m0-1h0m1-2h0m1 0h0m1 3h0m1-2h0m1 2h0m0 2h0m0-3h0m1-2h0m2-1h0m0 3h0m2 1h0m0 0h0m1 2h0m1-5h0m0 2h0m0-1h0m1 0h0m1 1h0m0 1h0m1 1h0m0 0h0m1-1h0m2 0h0m0-1h0m1 1h0m0 2h0m0-2h0m1-3h0m0 2h0m0-1h0m0 3h0m1 1h0m0-3h0m1-2h0m1 0h0m0 1h0m0 2h0m1 0h0m0 0h0m0-2h0m0-1h0m1 0h0m1 3h0m0-4h0m2 1h0m0 0h0m0 5h0m0-4h0m1 1h0m0-3h0m2 0h0m1 1h0m1 0h0m0 0h0m4 2h0m1 2h0m0-1h0m5-3h0m1 2h0m1 3h0m9-1h0m2-1h0m1-2h0m0 2h0m2-3h0m1 4h0m0-2h0m0-1h0m0 0h0m1 3h0m0-2h0m52-3h0m2 5h0m-192 6h0m2 1h0m0 0h0m2-2h0m0 2h0m1-4h0m0 1h0m0 3h0m1-1h0m1 0h0m0-3h0m1 3h0m1-2h0m0 3h0m4-3h0m1 2h0m1-4h0m0-1h0m0 1h0m0 4h0m0-2h0m0-1h0m2 3h0m2-1h0m0-1h0m1-1h0m1 0h0m0-1h0m1 0h0m0 1h0m1 1h0m0-1h0m0-1h0m0 4h0m1-3h0m0 2h0m2 0h0m1-2h0m0 3h0m0-2h0m1 2h0m3 1h0m1-1h0m0 0h0m1-2h0m1 1h0m0-1h0m0-1h0m0 1h0m0 2h0m1-5h0m0 2h0m1-1h0m0 0h0m1 0h0m0 4h0m0 0h0m1-3h0m1 1h0m1 1h0m0-1h0m4-2h0m0 5h0m1 0h0m0-1h0m0 0h0m1 0h0m1-2h0m2 0h0m1-1h0m1 2h0m1-1h0m1 2h0m0-1h0m2-3h0m2-1h0m2 6h0m4-2h0m0 1h0m2 1h0m2-4h0m1 2h0m2 0h0m1-1h0m4-3h0m0 1h0m2 2h0m2-1h0m1 1h0m0-1h0m1 4h0m1-1h0m1-3h0m0 0h0m1 0h0m1 2h0m1-3h0m1 0h0m1 1h0m0 1h0m0 1h0m1-1h0m0 1h0m1-3h0m2 2h0m2 2h0m1-2h0m1-1h0m0-2h0m0 6h0m0-5h0m0-1h0m1 4h0m0 0h0m1 0h0m0 1h0m1-2h0m0 3h0m1-4h0m0-1h0m1 0h0m3 4h0m0-5h0m7 0h0m0 3h0m0-3h0m0 3h0m0-2h0m1 2h0m0 0h0m0-1h0m1 1h0m0 1h0m1 0h0m1-1h0m0-1h0m2 2h0m1 1h0m1-4h0m2 3h0m1 2h0m0-2h0m0-1h0m0 2h0m1 1h0m1-1h0m1-1h0m1-1h0m0 0h0m1 3h0m1-4h0m0 3h0m2-2h0m1 0h0m2 0h0m0 0h0m1-1h0m4 0h0m1 3h0m1-2h0m1 0h0m0 0h0m1-1h0m1 2h0m55 2h0m-249 4h0m49 0h0m0-1h0m1-2h0m1-1h0m0 2h0m1 4h0m3-1h0m0-2h0m1-3h0m3 5h0m3-2h0m2 1h0m1-3h0m0 0h0m0 2h0m0-3h0m0 1h0m1 0h0m0-1h0m1 4h0m0 2h0m0-4h0m0-1h0m1 5h0m0 0h0m0-4h0m0 4h0m0-4h0m0-2h0m1 6h0m0-3h0m0-1h0m4 4h0m1-1h0m0-1h0m0 2h0m1-3h0m1 1h0m0 1h0m3-2h0m0 0h0m0 3h0m1-4h0m1 4h0m1-3h0m0-1h0m0-1h0m1-1h0m1 6h0m0-3h0m1 0h0m0-3h0m2 3h0m0 1h0m0 0h0m1 1h0m0-4h0m1 0h0m1 5h0m0-4h0m1 0h0m0 2h0m1 0h0m0-2h0m1-2h0m1 3h0m1-3h0m0 0h0m1 1h0m0 0h0m2-1h0m1 1h0m0 0h0m0 0h0m2 3h0m3 1h0m3-4h0m0 1h0m1-2h0m3 2h0m3 0h0m0 0h0m2 0h0m7-2h0m2 1h0m2-1h0m0 1h0m1 2h0m0 2h0m3-5h0m0 5h0m3-3h0m1-1h0m4 4h0m2 0h0m0-2h0m0-2h0m0 4h0m0-2h0m1 3h0m0-4h0m0-1h0m0 2h0m1-1h0m0 3h0m2 0h0m0-3h0m1-1h0m0 3h0m2-1h0m0 1h0m0-4h0m1 3h0m1-2h0m0 0h0m2 0h0m0-1h0m1 2h0m3 4h0m0-3h0m2 0h0m0-2h0m3 2h0m2-2h0m1 3h0m3 2h0m3-1h0m0-5h0m1 3h0m0-2h0m1 1h0m1 0h0m1-1h0m0 3h0m0-1h0m1 2h0m0-3h0m0-1h0m1 3h0m0-3h0m0-1h0m0 3h0m1 2h0m2-3h0m0-1h0m0 5h0m0-2h0m0 1h0m0-5h0m0 1h0m1 5h0m1-3h0m0 0h0m0-2h0m1 2h0m3 2h0m1 1h0m0-1h0m1 0h0m0-3h0m0 3h0m1 1h0m0-3h0m1 1h0m0-1h0m0-2h0m0 3h0m0-1h0m1 1h0m0 1h0m0-4h0m1 3h0m1 0h0m1 0h0m0-3h0m0 3h0m1 0h0m1-3h0m0 3h0m2-1h0m56 3h0m-207 4h0m1 0h0m1 2h0m1-2h0m3-3h0m0 1h0m2 2h0m2-4h0m1 0h0m2 5h0m2 0h0m4-3h0m1 3h0m0-2h0m1 1h0m0 0h0m1-2h0m0 2h0m0-3h0m1 1h0m0 3h0m0 1h0m1 0h0m1-6h0m0 6h0m1-5h0m0 4h0m0-1h0m0-4h0m2 4h0m1-2h0m0 2h0m0-2h0m2 1h0m4-2h0m1-1h0m1 0h0m1 1h0m0 4h0m0 1h0m2-2h0m0-2h0m1-2h0m1 3h0m2 0h0m0-2h0m0 3h0m1-3h0m0 4h0m1 0h0m0 0h0m1-1h0m6-1h0m2-2h0m1 1h0m2 1h0m0 1h0m0-3h0m1 3h0m0 1h0m3-3h0m0 2h0m0-1h0m14 2h0m11 0h0m0 0h0m2-3h0m7 0h0m0 2h0m1 0h0m2-3h0m0 5h0m1-3h0m1 3h0m4-3h0m1 3h0m2-1h0m0-3h0m1 4h0m1-2h0m0 1h0m0-4h0m1 1h0m1 2h0m0 0h0m1-2h0m1-2h0m2 5h0m0-3h0m3-1h0m1 4h0m0-4h0m1 4h0m1-3h0m0 2h0m1 1h0m0-4h0m1 0h0m0 1h0m1-1h0m0 0h0m3 4h0m1-3h0m0 2h0m1-3h0m0 0h0m0-1h0m0 0h0m1 4h0m0-1h0m0 0h0m1-2h0m1 1h0m0 0h0m1 0h0m0-2h0m2 1h0m1 4h0m0-1h0m1-1h0m0-1h0m1 1h0m2-3h0m0 4h0m0-3h0m2 1h0m1-1h0m2 4h0m0 0h0m0-4h0m0 1h0m1-2h0m1 6h0m1 0h0m0-3h0m0 1h0m0 1h0m1-5h0m0 2h0m8 4h0m0-2h0m1 1h0m0 0h0m1 0h0m0 1h0m51-3h0m-263 7h0m47 1h0m0 1h0m1-2h0m1 2h0m1-3h0m1-1h0m0 2h0m0 2h0m0-5h0m2 1h0m0-2h0m1 1h0m0 0h0m1 1h0m1 3h0m0-1h0m1 1h0m0 1h0m0-6h0m1 0h0m0 3h0m4 2h0m3-3h0m0-1h0m1 1h0m1 3h0m1-5h0m0 4h0m2 2h0m0-5h0m1 5h0m1 0h0m1-2h0m1-3h0m0 5h0m3-3h0m1 0h0m0 0h0m1 1h0m0-3h0m3 5h0m2-1h0m1-1h0m0 1h0m0 1h0m4 0h0m1-2h0m1 1h0m1-3h0m1 2h0m0-4h0m1 4h0m2 2h0m0-3h0m1-2h0m0 0h0m1 4h0m1-4h0m4 1h0m1 0h0m7 2h0m1 0h0m1-3h0m3 1h0m5 0h0m0-1h0m2 0h0m2 2h0m2-3h0m0 2h0m2 0h0m0 1h0m5 1h0m0-3h0m0 5h0m2-4h0m1 1h0m2 2h0m0 0h0m2-1h0m4 1h0m2 0h0m1 1h0m6-5h0m2 3h0m1-4h0m1 5h0m0-4h0m2 5h0m1-5h0m1 4h0m1 1h0m2 0h0m1-4h0m1 2h0m0 0h0m0 2h0m0-2h0m1-3h0m0 4h0m0-5h0m0 1h0m1 1h0m0-1h0m1-1h0m3 4h0m3 1h0m2 1h0m0-2h0m1 0h0m1 1h0m2-3h0m0 0h0m4 0h0m0 3h0m1-3h0m0 3h0m0-1h0m1 0h0m1 0h0m0-1h0m0 1h0m1-1h0m0-2h0m0 3h0m1 0h0m0 0h0m2 0h0m5-2h0m2-2h0m2 5h0m2-4h0m1 2h0m0 2h0m1-3h0m0 0h0m2 2h0m1 0h0m0-3h0m1-1h0m0 1h0m3 2h0m0 1h0m0 1h0m1-3h0m0 1h0m0-1h0m-170 10h0m0-1h0m1-3h0m0 3h0m2 0h0m2 1h0m1-2h0m0-3h0m0 0h0m1 1h0m1-1h0m1 0h0m0 1h0m0-2h0m1 3h0m2 1h0m0-4h0m2 2h0m0-1h0m0 3h0m2-2h0m0-1h0m1 5h0m0-6h0m1 3h0m1 3h0m0-1h0m0-5h0m1 0h0m2 4h0m0 0h0m1-1h0m0 3h0m0-1h0m0-5h0m1 5h0m0-1h0m0-3h0m1 1h0m1 3h0m0-3h0m1 2h0m0-3h0m10 1h0m8 0h0m2 1h0m3 3h0m2-4h0m0-2h0m1 2h0m4 0h0m4 2h0m5 1h0m6-2h0m1-2h0m7 5h0m1-3h0m1 2h0m1 0h0m1-3h0m1 4h0m0-1h0m2-5h0m1 1h0m1 1h0m1 2h0m1-4h0m0 3h0m2 1h0m0 0h0m1 1h0m0-1h0m1-1h0m1 0h0m1 0h0m1-1h0m1 3h0m2 0h0m0-5h0m1 2h0m3-1h0m0 3h0m2 2h0m0-1h0m2-2h0m1-3h0m1 0h0m0 0h0m0 5h0m1 0h0m0-1h0m3 0h0m0 1h0m1-1h0m0 1h0m1-1h0m0-3h0m0-1h0m1 3h0m1-1h0m0 1h0m1 2h0m1-4h0m0 4h0m2-4h0m0 3h0m0-2h0m1 4h0m1-3h0m0-1h0m1 3h0m1 0h0m1-1h0m3-1h0m1 0h0m0-2h0m1 0h0m1 2h0m1-2h0m1 1h0m1 0h0m0 3h0m0-1h0m2 0h0m0 1h0m2-4h0m1 4h0m1-2h0m1-1h0m1-1h0m1 1h0m1 0h0m2-1h0m2 4h0m0-2h0m1-1h0m1 3h0m0-1h0m0 0h0m1 0h0m0-1h0m0 2h0m3-2h0m1 1h0m0-3h0m1 0h0m0 3h0m0 1h0m1 0h0m0 0h0m0-4h0m1 0h0m0 0h0m0 5h0m0-1h0m1-4h0m0 1h0m2 0h0m3-2h0m0 5h0m0-5h0m1 3h0m4-1h0m1 0h0m0 0h0m0 2h0m1-2h0m1 2h0m1 2h0m1-1h0m-228 5h0m47 1h0m3 0h0m0 0h0m0 0h0m1-1h0m0-4h0m1 5h0m0-4h0m1 0h0m1 4h0m0-1h0m0 0h0m1-2h0m0 1h0m0-1h0m1 2h0m0-3h0m0 0h0m1-1h0m0 2h0m1 1h0m0 0h0m0 0h0m1 1h0m1-2h0m0 2h0m1 1h0m2-5h0m0 4h0m0-2h0m2-2h0m2 5h0m1-2h0m0 1h0m0-3h0m1 5h0m0-6h0m0 4h0m0-2h0m0 1h0m3 2h0m1-1h0m1-3h0m1 3h0m1 1h0m0 1h0m7-6h0m0 2h0m1-2h0m1 4h0m1 2h0m1-2h0m2-1h0m0-1h0m2 1h0m2 1h0m0 1h0m2-5h0m0 4h0m1 0h0m1-2h0m0 2h0m1-1h0m0-1h0m1-1h0m0-1h0m1 1h0m0 2h0m2 2h0m0-2h0m1-2h0m0 4h0m1 1h0m1-3h0m1-2h0m1 1h0m1 0h0m0 3h0m1-3h0m0 4h0m1 0h0m4-4h0m6-1h0m2-1h0m0 1h0m2 1h0m2 4h0m3-2h0m6-2h0m0 2h0m5-3h0m1 3h0m2-3h0m4 1h0m1 2h0m0-1h0m1-2h0m1 4h0m3-2h0m0-1h0m2 1h0m1 2h0m3 1h0m1-5h0m2-1h0m0 4h0m2 0h0m1-2h0m0 0h0m1 3h0m0-3h0m1-2h0m0 1h0m3 0h0m0 1h0m2 0h0m5 2h0m0 0h0m1-1h0m0-1h0m1 3h0m0-2h0m1 0h0m1-1h0m9 2h0m0-4h0m0 1h0m0 3h0m1 1h0m0-3h0m0 3h0m1 1h0m0-5h0m2 3h0m0-4h0m1 1h0m0 2h0m1 0h0m0 2h0m0-2h0m1 0h0m0-2h0m0 3h0m2-4h0m1 1h0m1 1h0m0 3h0m0 1h0m2-5h0m1 5h0m0-1h0m1 0h0m1-2h0m0 1h0m0-4h0m0 2h0m2 0h0m2 2h0m1-2h0m0-1h0m0 1h0m1 0h0m0 2h0m1-1h0m1-2h0m1 5h0m1-1h0m2-1h0m0-2h0m1 4h0m2-5h0m1 1h0m0 4h0m1-4h0m1-1h0m1 2h0m1 1h0m0 1h0m1-4h0m0 4h0m2 0h0m1 0h0m0-1h0m2 2h0m-188 6h0m1 0h0m1-5h0m0-1h0m0 1h0m2 0h0m0 4h0m1 0h0m0-5h0m0 0h0m1 0h0m0 3h0m0 1h0m1-2h0m0 0h0m4 0h0m3 2h0m0 2h0m0-2h0m1-3h0m0 4h0m1-5h0m0 4h0m1-4h0m0 2h0m0 0h0m0 1h0m1 2h0m0-3h0m1 0h0m1-1h0m0 2h0m3-3h0m6 3h0m0 0h0m1 2h0m0 1h0m1-5h0m1 1h0m1 0h0m0 2h0m0 1h0m0 0h0m0-1h0m0-1h0m1 0h0m0 0h0m1 2h0m2-2h0m1 2h0m0 0h0m3-4h0m1-1h0m1 3h0m0 0h0m6-2h0m1 0h0m0 3h0m0 2h0m1-3h0m1 3h0m0-1h0m0 0h0m8-3h0m0 4h0m1-3h0m1-3h0m0 2h0m2 4h0m2-1h0m0-4h0m6-1h0m4 5h0m3 0h0m1 1h0m0-1h0m8-3h0m6-2h0m1 3h0m4 1h0m2-2h0m1 3h0m1-3h0m0-1h0m2 2h0m4 0h0m2 1h0m3 2h0m5-2h0m1-1h0m2 1h0m0-3h0m0 2h0m2 2h0m1 1h0m5-6h0m3 2h0m2 0h0m1-1h0m1 4h0m2 0h0m1 0h0m0 0h0m2-4h0m0 1h0m1-1h0m1 4h0m0-5h0m0 1h0m3 2h0m1 3h0m1 0h0m0-1h0m1 0h0m6 0h0m1-4h0m1 1h0m1 1h0m1-2h0m1 2h0m1-1h0m1 4h0m4-1h0m1 0h0m1-1h0m1 0h0m1 0h0m0-2h0m0 1h0m0 1h0m1 0h0m1-4h0m0 5h0m3 1h0m2-4h0m0 1h0m0 1h0m0 0h0m1 1h0m0-2h0m0 2h0m0-1h0m0 1h0m1-2h0m0 0h0m0 1h0m1 2h0m0-2h0m2 0h0m0-1h0m0 1h0m1-4h0m0 1h0m0 0h0m1 3h0m0 1h0m0 0h0m0-3h0m0 1h0m1 0h0m0-3h0m1 2h0m0-1h0m0 4h0m0-4h0m0 1h0m0 1h0m1 3h0m0-2h0m1 0h0m1 0h0m0-1h0m1 2h0m0-1h0m2 2h0m-195 5h0m1-3h0m1 0h0m0-1h0m1 1h0m1-2h0m1 0h0m0 2h0m1 0h0m2-1h0m1 5h0m1-1h0m0-3h0m0 3h0m0-5h0m1 5h0m0 0h0m1-1h0m1-1h0m0 0h0m1 0h0m1 3h0m1-6h0m0 6h0m1-5h0m0 4h0m0-1h0m1 1h0m0 0h0m1-2h0m1-1h0m1 1h0m1 0h0m2 2h0m0-3h0m2 3h0m0-2h0m0 1h0m1 0h0m2 1h0m0-4h0m3 1h0m0 0h0m1 2h0m1-3h0m1 3h0m0-3h0m4 2h0m0 1h0m1 0h0m2 0h0m1 1h0m0-5h0m2 4h0m1-3h0m1 3h0m0 0h0m1-1h0m0 0h0m4-1h0m0 0h0m0-2h0m11 3h0m6 2h0m0-2h0m2 0h0m5-1h0m0 1h0m1 2h0m1-4h0m2 2h0m1 3h0m2-3h0m6-2h0m2 0h0m4 0h0m0 0h0m3 4h0m8-4h0m3 2h0m2-1h0m1 3h0m0 0h0m0-3h0m0 0h0m1 2h0m2-3h0m3 2h0m2 2h0m1-1h0m2-4h0m1 0h0m3 3h0m1-3h0m1 3h0m11 1h0m3-4h0m5 4h0m0 2h0m1-1h0m2-2h0m1-3h0m2 1h0m0 0h0m1 4h0m2-3h0m3 4h0m0-1h0m2-4h0m0 1h0m2-1h0m1 3h0m0 2h0m1-6h0m0 2h0m0 1h0m1 0h0m0 2h0m1-1h0m0-4h0m1 0h0m0 4h0m0 1h0m0-4h0m0 2h0m1-1h0m0-1h0m1 2h0m1 1h0m2-2h0m1 3h0m0 0h0m0 0h0m0 1h0m1-5h0m0 3h0m0-1h0m0-1h0m1 1h0m0 0h0m2 0h0m1 1h0m0-2h0m0-1h0m2 3h0m1-2h0m0 4h0m1-2h0m1-1h0m0-1h0m1-1h0m0 0h0m0 4h0m1-3h0m1 0h0m1 4h0m1-5h0m0 4h0m3-4h0m2 1h0m0 1h0m1-3h0m0 0h0m51 5h0m-296 7h0m45 0h0m1-4h0m0 1h0m0 1h0m1-2h0m0 1h0m1 1h0m0 0h0m0-1h0m0 3h0m2-2h0m0 1h0m1-1h0m0 2h0m0-2h0m0 2h0m1-5h0m2 3h0m0-2h0m2 2h0m0 0h0m3-4h0m0 2h0m0-1h0m0 1h0m0 1h0m0-2h0m4 3h0m1 0h0m1-3h0m0 2h0m1-1h0m1 2h0m1-3h0m0 4h0m2-5h0m0 5h0m2-4h0m3 2h0m0-1h0m3 1h0m0 0h0m1 0h0m0 2h0m0-5h0m1 5h0m0-2h0m1 0h0m4-1h0m1 4h0m5-2h0m2 0h0m1-3h0m2 3h0m1 2h0m1 0h0m1 0h0m2-5h0m2 3h0m0 1h0m4-2h0m1 3h0m0-2h0m1 0h0m8 0h0m1-2h0m0 0h0m6 1h0m2 2h0m7-5h0m16 6h0m3 0h0m3-2h0m0 1h0m3-3h0m0 0h0m2-2h0m1 2h0m1 3h0m1 0h0m0-4h0m3 4h0m0 0h0m3-5h0m3 1h0m0 0h0m3 1h0m0 3h0m1-1h0m2 1h0m0-1h0m3-1h0m1 2h0m1 0h0m2-5h0m1 3h0m1-2h0m0 0h0m1 0h0m0 2h0m2-1h0m3-1h0m0 4h0m1-4h0m0 2h0m0 0h0m3-3h0m1 6h0m9-2h0m3 0h0m4-1h0m0-2h0m0 0h0m2 2h0m3 1h0m3 1h0m1-2h0m0-2h0m1 0h0m0 3h0m1 1h0m2-4h0m0 3h0m2 0h0m2-2h0m1 1h0m2 1h0m0-4h0m1 1h0m0 0h0m1 2h0m0 3h0m1-5h0m0 3h0m2-4h0m0 1h0m0 4h0m2-5h0m0 3h0m0-2h0m1 3h0m0 1h0m1-2h0m0-1h0m3 3h0m0 1h0m0-3h0m0-2h0m0 0h0m0 4h0m1-4h0m0 1h0m0 2h0m0-1h0m0-3h0m0 5h0m1 1h0m0-1h0m1-1h0m0 0h0m0-1h0m3 3h0m45-5h0m-257 11h0m2-2h0m1 0h0m0-3h0m1 3h0m0-3h0m1 0h0m0 1h0m1-2h0m1 6h0m0-2h0m2 1h0m0-2h0m1 3h0m1-2h0m0-3h0m0 2h0m2 1h0m2 2h0m0 0h0m1-1h0m1-1h0m0-1h0m1 2h0m1 0h0m0-2h0m1 0h0m2 2h0m2-1h0m4-2h0m1 0h0m1 2h0m0 2h0m1-4h0m1 2h0m1 0h0m0-1h0m1-2h0m1 1h0m1-2h0m1 5h0m4 1h0m1-5h0m1 0h0m1 3h0m0-3h0m4 3h0m0-1h0m1-2h0m1 1h0m1 0h0m1 0h0m3 0h0m1 1h0m1 0h0m2-3h0m0 1h0m1 3h0m2 1h0m4-1h0m2-4h0m1 4h0m1-2h0m2 4h0m1-1h0m5-2h0m5-1h0m4 2h0m1-2h0m0 3h0m1 0h0m0-2h0m5-1h0m3 1h0m3 0h0m8 1h0m0-1h0m0 3h0m1-1h0m5 0h0m1 0h0m1-4h0m3 1h0m0 1h0m2 0h0m8 3h0m3-1h0m2-4h0m2 2h0m2-2h0m3 0h0m1 4h0m1-4h0m0 0h0m1 1h0m3 3h0m0-4h0m1 2h0m0 0h0m10-1h0m1 1h0m8 0h0m1-1h0m0 3h0m0-1h0m1 0h0m0-3h0m2 2h0m0 3h0m1 0h0m0 0h0m1 0h0m0 0h0m1-4h0m1-2h0m0 3h0m3-1h0m0 4h0m0-1h0m1-4h0m1 2h0m0 1h0m2 0h0m3 0h0m0-3h0m3-1h0m1 2h0m2-2h0m4 3h0m2 2h0m1-2h0m0 2h0m1-3h0m0-1h0m3 4h0m2 0h0m1-1h0m1 1h0m0-4h0m1 1h0m0 3h0m0-3h0m0 2h0m1-2h0m0-1h0m3 3h0m0 0h0m1-2h0m1 0h0m1 4h0m-214 1h0m0-1h0m0 2h0m2-2h0m2 4h0m1-4h0m1 4h0m1-3h0m0 0h0m1 4h0m0-5h0m0 1h0m0 0h0m1 3h0m0-3h0m0 0h0m1 4h0m0-5h0m1 1h0m0-1h0m3 5h0m0-3h0m1 1h0m0 2h0m1-1h0m2 0h0m0 1h0m0-1h0m1-1h0m0 1h0m1 2h0m1 0h0m0-6h0m1 0h0m1 2h0m1 0h0m2-1h0m1 3h0m2 0h0m1-2h0m1 0h0m1 1h0m1-3h0m0 1h0m1 1h0m0 2h0m1 1h0m0-4h0m1-1h0m0 2h0m1-1h0m0 0h0m2 2h0m2 3h0m0-6h0m1 2h0m2 2h0m0-1h0m12 2h0m0-4h0m0 0h0m1 2h0m5 0h0m0 3h0m1-2h0m5-3h0m0 0h0m7-1h0m1 5h0m3-1h0m5 1h0m6-1h0m0 2h0m1-6h0m3 4h0m8-3h0m2 2h0m1 0h0m3 1h0m3-1h0m2-2h0m0 1h0m7 3h0m0-3h0m2 4h0m3-3h0m1 1h0m1 0h0m2 1h0m7-1h0m1 0h0m7 2h0m0-1h0m6 0h0m2-4h0m0 4h0m2-3h0m1-1h0m3 5h0m1-5h0m0 0h0m5 1h0m6-1h0m1 0h0m2 0h0m2 0h0m0 0h0m0 0h0m0 1h0m0 0h0m1 1h0m1-2h0m1 0h0m1 2h0m0 1h0m0-4h0m2 2h0m1 0h0m1 1h0m0-1h0m1 2h0m2 0h0m2-1h0m1 1h0m1 0h0m0 1h0m1 1h0m1-1h0m0-2h0m2-1h0m0 2h0m0 0h0m2-4h0m0 1h0m1 0h0m0 0h0m1 3h0m0-3h0m0 2h0m0-2h0m1 3h0m1 2h0m1-5h0m1 0h0m1-1h0m2 3h0m0-2h0m0 1h0m0 0h0m0-1h0m1 0h0m0 0h0m1 1h0m0-1h0m2-1h0m3 4h0m0-1h0m1 1h0m1-2h0m1 0h0m0 3h0m0-2h0m1-1h0m0 4h0m0 0h0m1-2h0m0-1h0m1 1h0m47-3h0m0 4h0m-314 6h0m2-3h0m43 1h0m4-2h0m0 1h0m2 0h0m0 3h0m1-2h0m1 2h0m0-2h0m1 0h0m1 2h0m0-3h0m0 3h0m1 0h0m0-5h0m0 2h0m0-1h0m0 2h0m1-2h0m0 4h0m1-2h0m0-2h0m1 1h0m5-2h0m3 3h0m1-1h0m2 2h0m3 1h0m1-2h0m1 0h0m1-3h0m1 0h0m3 0h0m1 0h0m3 0h0m1 3h0m3 1h0m0-3h0m4 3h0m0 1h0m1-2h0m0-1h0m1 4h0m2-5h0m0 0h0m1 3h0m1-2h0m1-1h0m0 5h0m3-4h0m3 4h0m4-4h0m2-1h0m8 1h0m7 0h0m3 2h0m0-4h0m7 5h0m6-5h0m1 4h0m6-2h0m0 1h0m0 1h0m10-4h0m1 3h0m3-2h0m3 1h0m3-1h0m3 4h0m3-5h0m1 1h0m1-1h0m2 1h0m1 2h0m5-1h0m2-2h0m1 1h0m5 4h0m0 1h0m2-4h0m2 1h0m5 0h0m1 1h0m7-2h0m0 3h0m1-5h0m1 1h0m2 1h0m0 3h0m0-5h0m1 3h0m1 3h0m1 0h0m2-6h0m0 2h0m0 0h0m3-1h0m2 2h0m0-2h0m2 3h0m5 1h0m0-4h0m1 3h0m0 1h0m0-2h0m1-2h0m1 4h0m1-3h0m0 1h0m1 0h0m1-2h0m2 3h0m0 0h0m1 1h0m1-2h0m0 2h0m1-5h0m2 3h0m0 1h0m3-1h0m0 1h0m0-1h0m0 1h0m1 0h0m0-1h0m1-2h0m0 0h0m0 4h0m0-1h0m1 0h0m0-3h0m1 3h0m0 1h0m1 1h0m1 0h0m0-1h0m2-1h0m0 1h0m0-2h0m0 0h0m1-2h0m0 3h0m0-2h0m1 2h0m1 0h0m1-1h0m0 0h0m0-1h0m2 3h0m0-4h0m1 0h0m0 3h0m2-2h0m0-1h0m0 3h0m0 0h0m0 1h0m2-1h0m0-2h0m0 0h0m1 3h0m0-1h0m0-3h0m2 3h0m0 2h0m-219 6h0m1-1h0m0 1h0m1-3h0m0-2h0m0 5h0m0-1h0m0-5h0m1 1h0m1 5h0m0-4h0m0 3h0m0-2h0m1-3h0m0 4h0m0-3h0m0 4h0m0 1h0m1-1h0m0-4h0m0 0h0m1 3h0m0 1h0m2-4h0m1 3h0m1-3h0m0 2h0m4-2h0m0 3h0m3-3h0m1 1h0m5-2h0m3 3h0m0-1h0m1 3h0m4 0h0m3-4h0m2 3h0m0-4h0m4 1h0m1 1h0m0 0h0m2 3h0m1-2h0m0 1h0m0 0h0m1-1h0m1 2h0m1-2h0m0-1h0m15-2h0m4 3h0m0 2h0m2-4h0m1 3h0m3-1h0m0 0h0m2-2h0m2 2h0m2-2h0m0 1h0m0-1h0m1 4h0m2 0h0m2-2h0m1 2h0m22-1h0m3-1h0m0 0h0m1-2h0m3 4h0m3-5h0m3 4h0m1 0h0m6-2h0m0-2h0m2 5h0m0-4h0m2 1h0m16 1h0m1 1h0m4 0h0m0-3h0m1 3h0m6 1h0m1-3h0m3 1h0m0 1h0m0 0h0m4 1h0m2-2h0m1-1h0m1-1h0m2 4h0m1-1h0m6 1h0m8-1h0m1 0h0m1 2h0m1-6h0m1 4h0m0 0h0m1 2h0m1-5h0m2 0h0m1 4h0m0-2h0m1 2h0m0-2h0m1 0h0m1 0h0m2 3h0m0-3h0m0-2h0m0 2h0m0-2h0m0 4h0m1-3h0m1-1h0m1 2h0m0-1h0m0 3h0m1-3h0m0 0h0m4 4h0m0-5h0m0 5h0m1-2h0m1-3h0m0 0h0m0-1h0m1 2h0m0-2h0m1 1h0m0-1h0m3 1h0m2 4h0m2-4h0m0 4h0m1 0h0m1 0h0m0-1h0m1 1h0m-278 5h0m1 0h0m43 1h0m5 0h0m2 0h0m0 0h0m2-4h0m1 1h0m0 0h0m1 1h0m2 1h0m0-1h0m0 2h0m0 0h0m2-3h0m1-1h0m3 4h0m2-2h0m1 0h0m1-1h0m1 2h0m1-2h0m3 0h0m1 0h0m0 1h0m0-3h0m7 5h0m1-2h0m0 1h0m2-1h0m0-2h0m1 3h0m2 0h0m0-2h0m1-1h0m8 3h0m1-2h0m2 1h0m0-2h0m2 4h0m6 0h0m1 0h0m0-3h0m0-1h0m2 2h0m65-3h0m1 1h0m7 0h0m3 1h0m11 3h0m0-1h0m1 1h0m9-2h0m1 3h0m0-4h0m0-1h0m1 2h0m1 1h0m1-2h0m0 1h0m1 0h0m0 2h0m1-1h0m4 0h0m4 0h0m2-2h0m1 2h0m0 0h0m3-3h0m2 3h0m2-3h0m7 3h0m1 0h0m1-3h0m8 4h0m0 1h0m0-6h0m0 5h0m1-2h0m0-1h0m0 3h0m1-3h0m0 1h0m1-1h0m1 2h0m0-4h0m0 6h0m3-1h0m2 1h0m2-4h0m0-1h0m0 0h0m6 0h0m2 0h0m1 4h0m7 1h0m5-4h0m0 0h0m2 3h0m0-1h0m1 2h0m46-4h0m-333 7h0m47 2h0m2-4h0m0-1h0m1 0h0m0 2h0m0-2h0m0 4h0m1-4h0m0 3h0m1 2h0m1 0h0m1-4h0m4 1h0m0-1h0m1 5h0m0-4h0m0 3h0m3 0h0m0 1h0m0-2h0m1-1h0m0-1h0m0 2h0m1 0h0m0 0h0m1-2h0m0 0h0m1 3h0m0-4h0m2 0h0m2-1h0m1 3h0m0 0h0m0-1h0m1 2h0m0 0h0m1 2h0m2-1h0m0-1h0m2 0h0m1-3h0m1 0h0m1 4h0m1-4h0m0 0h0m1 1h0m2 0h0m0-2h0m1 1h0m0 0h0m0-1h0m3 3h0m6-3h0m2 4h0m1 0h0m0-3h0m2 3h0m0-2h0m1 0h0m1-1h0m5 0h0m103 4h0m0 0h0m2-5h0m3 1h0m0 2h0m0 2h0m1 1h0m0-4h0m1 3h0m0-2h0m4 2h0m3 1h0m1 0h0m7-3h0m2 3h0m0-5h0m6 5h0m2-5h0m2 0h0m3 3h0m1-3h0m1 4h0m1-4h0m4 3h0m0 2h0m1-3h0m0-3h0m3 5h0m0-2h0m0 3h0m1-3h0m1-2h0m1-1h0m3 3h0m2-3h0m1 3h0m0-1h0m0-1h0m1 0h0m0 4h0m1-2h0m0-2h0m2 3h0m0-2h0m0 1h0m1 1h0m1-4h0m0 5h0m0-2h0m1 3h0m1-3h0m0 1h0m0 0h0m1-2h0m0 0h0m1 3h0m2-5h0m3 6h0m2-2h0m0-3h0m1 4h0m1 1h0m0-4h0m1 2h0m0 0h0m1 0h0m1 0h0m0-3h0m2 3h0m1 2h0m0-1h0m45-5h0m-293 9h0m1-1h0m1 1h0m0 1h0m0-1h0m1 1h0m0-1h0m1 2h0m0-1h0m0 0h0m1 1h0m1-5h0m0 5h0m0 0h0m1-2h0m0 1h0m1-1h0m0-1h0m0-1h0m1 4h0m1-3h0m3 4h0m3-5h0m0-1h0m0 6h0m1 0h0m1-5h0m0 0h0m0-1h0m1 2h0m0-2h0m2 3h0m0-2h0m0-1h0m1 1h0m0 1h0m1 0h0m0 0h0m1 3h0m0-2h0m0 1h0m0-4h0m0 5h0m1-1h0m0 1h0m1-3h0m1 0h0m1 0h0m2 4h0m0-6h0m2 0h0m2 1h0m0-1h0m1 2h0m0-1h0m0 2h0m2 0h0m2-2h0m2 2h0m0 0h0m3 1h0m3-4h0m127 1h0m3 4h0m2-3h0m0 0h0m2 0h0m0 3h0m0-1h0m0 0h0m3-1h0m1-1h0m0 2h0m0-1h0m0-1h0m3 0h0m0 3h0m0-3h0m3 2h0m0-1h0m1-3h0m1 5h0m1-1h0m0 0h0m0-3h0m1 3h0m1 2h0m0-3h0m1-2h0m0 4h0m1-1h0m0-4h0m2 2h0m1 4h0m1 0h0m3-1h0m1-5h0m1 3h0m3 1h0m2-1h0m1 0h0m0-3h0m3 2h0m0 0h0m1 1h0m1 3h0m1-3h0m0-2h0m3 4h0m0-4h0m0 2h0m1 0h0m2 3h0m1-2h0m0 1h0m0-3h0m1 2h0m0 2h0m2-2h0m0 2h0m0-6h0m1 1h0m1 2h0m0-3h0m1 0h0m0 3h0m4 2h0m1 0h0m0-4h0m1 3h0m1-4h0m1 2h0m0-1h0m3 0h0m1 0h0m1 1h0m2 1h0m1-3h0m0 1h0m0-1h0m1 5h0m0-5h0m0 2h0m1 1h0m-296 7h0m43 2h0m5-5h0m5 3h0m0-1h0m0 3h0m1-3h0m0-1h0m4-1h0m0 1h0m1 3h0m1-1h0m0-2h0m0 2h0m1-1h0m0 2h0m2-3h0m2-1h0m0 3h0m2 0h0m0 2h0m0-1h0m0-5h0m1 3h0m0-2h0m0 5h0m0-5h0m1 4h0m1-4h0m1 4h0m1-4h0m0 1h0m1 1h0m5-3h0m3 0h0m147 1h0m2 0h0m5 0h0m2 0h0m3 0h0m1 1h0m0 4h0m0-3h0m1 1h0m6 0h0m1 1h0m0-3h0m1 0h0m1-1h0m1 2h0m1-3h0m1 2h0m0-2h0m0 0h0m1 4h0m1-1h0m0-1h0m1 2h0m0-1h0m3 2h0m1-1h0m2 0h0m1-4h0m1 0h0m1 1h0m3 0h0m1 1h0m1 0h0m0 3h0m1-5h0m1 2h0m1 2h0m0 0h0m1-2h0m0 0h0m1 0h0m0-1h0m0 0h0m0 2h0m1-2h0m0-1h0m0 4h0m1-1h0m0 0h0m2-2h0m0-1h0m0 4h0m2-1h0m0 1h0m1-3h0m0-1h0m0 3h0m1 2h0m0-3h0m2 0h0m1 1h0m1-1h0m0 1h0m0 0h0m0 1h0m0-1h0m1-2h0m2 2h0m0 2h0m1-2h0m0 1h0m2-1h0m0 0h0m1 1h0m0-3h0m0 0h0m0 3h0m1-2h0m0 3h0m1-4h0m0 0h0m0 0h0m0 2h0m1 2h0m0-1h0m0 2h0m2-3h0m0-1h0m0 4h0m0 0h0m48-3h0m3 1h0m-313 6h0m1 1h0m0-3h0m0 1h0m0 2h0m1-2h0m1 2h0m0-2h0m0-1h0m1 3h0m0 0h0m1 0h0m0-2h0m1-1h0m1-1h0m1 3h0m0 0h0m8 0h0m9 0h0m0 1h0m1-2h0m3-2h0m174 3h0m3-3h0m0 5h0m1-5h0m0 4h0m0 0h0m0-1h0m1-3h0m1 1h0m0-2h0m1 1h0m0 1h0m0-1h0m2 0h0m0 2h0m8-2h0m3 3h0m1-2h0m1 1h0m0-2h0m4 3h0m2 1h0m2-1h0m2 2h0m0-1h0m2 0h0m1-4h0m1 1h0m1 2h0m0 1h0m1 1h0m0-2h0m1 1h0m0-3h0m1 1h0m1-3h0m0 3h0m1-1h0m0 0h0m1 4h0m0-1h0m0-2h0m1-1h0m0 0h0m1 0h0m1 3h0m0 0h0m0 1h0m1-5h0m0 2h0m0 2h0m0-3h0m1 4h0m0-3h0m1 1h0m2 0h0m1-3h0m0-1h0m1 1h0m1 1h0m0 0h0m2 0h0m0 0h0m0-2h0m1 3h0m0-1h0m0 3h0m0-1h0m1-2h0m1 2h0m1-4h0m1 1h0m0 0h0m0 1h0m1 1h0m1-1h0m-268 7h0m1 0h0m0-1h0m1 2h0m1 1h0m1-5h0m3 2h0m3 4h0m4-2h0m0-2h0m0 4h0m0 0h0m1 0h0m1 0h0m1-4h0m1-1h0m0 0h0m1 2h0m1 0h0m0 1h0m1-1h0m212-3h0m0 2h0m2 2h0m0 0h0m1-3h0m1 0h0m1 3h0m0 1h0m0-3h0m1 3h0m0-2h0m2 2h0m0-1h0m10-1h0m1 1h0m1 0h0m2-2h0m0 1h0m2-3h0m0 1h0m1 2h0m0-1h0m0 2h0m1-2h0m1 4h0m1-2h0m2-3h0m0-1h0m0 0h0m0 4h0m1 1h0m2-2h0m4 0h0m-317 7h0m47 1h0m1-2h0m1 3h0m0-4h0m1 0h0m5 3h0m2-5h0m4 1h0m2 1h0m1-2h0m237 2h0m1-1h0m1 1h0m1 0h0m2-2h0m0 2h0m1 0h0m0 2h0m0-1h0m2 0h0m1 1h0m1-3h0m0 4h0m0-5h0m1 1h0m1 0h0m0 3h0m5 2h0m1-2h0m0 1h0m0-2h0m1 1h0m1 2h0m0-2h0m0 2h0m0-1h0m-321 3h0m40 4h0m2-2h0m0-2h0m1 0h0m0 3h0m1-4h0m0 0h0m1 0h0m0 0h0m1 0h0m0 4h0m1-3h0m0-1h0m4-1h0m3 2h0m0 1h0m0-2h0m1 0h0m221 4h0m1-1h0m0 1h0m35-4h0m1 0h0m2-1h0m0 2h0m0-2h0m1 3h0m1-1h0m0 1h0m0 0h0m1-2h0m1-1h0m0 3h0m2-2h0m1 0h0m1 0h0m0 1h0m0 0h0m1 0h0m2 2h0m2 0h0m-285 2h0m3 0h0m225 4h0m0-2h0m1 1h0m1 0h0m1 3h0m1-4h0m2 3h0m0-3h0m0 2h0m0 2h0m1-2h0m1 1h0m0-5h0m48 1h0m0 3h0m1 1h0m0 1h0m0-4h0m0 3h0m0-3h0m1-2h0m0 5h0m0-1h0m1 0h0m-293 4h0m1 0h0m2 1h0m231-2h0m4 4h0m0-2h0m3 0h0m1-3h0m2 1h0m1 4h0m1 0h0m47-4h0m2 1h0m2 3h0m1 0h0m-53 1h0m0 2h0m0 2h0m105 0h0m5 8h0m2 4h0m1 2h0m1 2h0m6 8h0m1 7h0m2 4h0m3 5h0m5 10h0m15 39h0m3-1h0m0 8h0m2 0h0m1 3h0m4 4h0" stroke="#461365" stroke-width="3.4"/><path d="M1064 306h0m1 3h0m9-1h0m-14 1h0m14 0h0m5 4h0m4-1h0m-6 15h0m4-3h0m0 2h0m-7 2h0" stroke="#481e70" stroke-width="3.4"/><path d="M964 158h0m2 0h0m4 0h0m1 0h0m13 0h0m0-2h0m1 0h0m0 2h0m3 0h0m1 0h0m-37 4h0m8-2h0m27 0h0m4 0h0m3 4h0m1-2h0m1 2h0m2-2h0m1 0h0m0 2h0m3 0h0m1 0h0m-65 6h0m6-2h0m6-2h0m56 4h0m2-2h0m1 2h0m2-2h0m-78 6h0m3 0h0m1 0h0m1-2h0m80 4h0m-96 6h0m4-2h0m0-2h0m94 0h0m2 0h0m1 0h0m0 2h0m3 2h0m2-4h0m1 4h0m2 0h0m-114 6h0m3-2h0m2 2h0m0-2h0m1-2h0m1 2h0m104-2h0m3 0h0m2 0h0m-119 10h0m1-4h0m0 4h0m2 0h0m0-4h0m0 2h0m2-2h0m117 0h0m2 2h0m0-2h0m1 2h0m3 2h0m2 0h0m0-2h0m-136 8h0m2 0h0m0-2h0m134-2h0m1 2h0m4 2h0m-141 6h0m0-2h0m2 0h0m0-2h0m137 0h0m2 2h0m0-2h0m2 4h0m5 4h0m0 2h0m4 0h0m0-2h0m2 2h0m4 6h0m-168 2h0m1 0h0m166 0h0m3 2h0m1 0h0m2 2h0m-181 6h0m1 0h0m1-2h0m1-2h0m1 2h0m2-2h0m175 2h0m2 0h0m-184 4h0m1 4h0m186-4h0m2 0h0m0 2h0m-194 6h0m2-2h0m0 2h0m1 0h0m193-2h0m4 2h0m-201 4h0m199 0h0m1 0h0m2 2h0m2 0h0m-210 6h0m2-2h0m1 2h0m0 2h0m2-4h0m0 2h0m206 0h0m0-2h0m3 4h0m-215 2h0m1 0h0m1 4h0m1-4h0m213 0h0m1 4h0m-222 4h0m3-2h0m2 0h0m218 2h0m-226 8h0m1 0h0m3-2h0m0-2h0m227 4h0m3-2h0m1 2h0m-240 6h0m3-4h0m2 2h0m0 2h0m1-4h0m232 4h0m4-2h0m0 2h0m-244 6h0m0-2h0m2-2h0m1 2h0m2 0h0m238 0h0m0-2h0m2 4h0m-242 2h0m244 2h0m2 2h0m1 0h0m3 0h0m-256 4h0m3-2h0m250 2h0m3 2h0m-262 6h0m1-2h0m3-2h0m0 2h0m1 0h0m0-2h0m257 0h0m2 0h0m2 4h0m0-4h0m1 4h0m1-2h0m-268 8h0m0-2h0m2 0h0m211 3h0m55-3h0m2-2h0m1 2h0m-275 8h0m2 0h0m0-4h0m214 0h0m1 1h0m60-1h0m-279 8h0m1-2h0m231 5h0m50-3h0m1 2h0m1-4h0m1 2h0m0 2h0m2 0h0m-55 3h0m54 1h0m2 2h0m0-4h0m-292 6h0m294 0h0m1 0h0m-299 10h0m300-2h0m2 0h0m6 4h0m0 2h0m2 2h0m3 8h0m2 2h0m0 2h0m3 0h0m1 2h0m1 2h0m2 2h0m-1 2h0m5 4h0m2 6h0m2 2h0m2 4h0m1 0h0m1 4h0m2 4h0m4 4h0m4 8h0m26 24h0" stroke="#472978" stroke-width="3.4"/><path d="M976 152h0m4 0h0m8 0h0m10-2h0m6 2h0m-54 6h0m6 0h0m0-2h0m1 0h0m1 2h0m1 0h0m2-2h0m3-2h0m2 0h0m0 2h0m1 0h0m2 0h0m4 0h0m0-2h0m2 0h0m3 0h0m5 0h0m5 0h0m0 2h0m1-2h0m3 4h0m2 0h0m1 0h0m5 0h0m7-4h0m4 2h0m-71 8h0m6-4h0m3 0h0m49 0h0m1 0h0m2 0h0m0 2h0m2-2h0m1 2h0m1 2h0m1-2h0m1 0h0m0 2h0m2 0h0m9-4h0m8 4h0m-97 6h0m2 0h0m3 0h0m76-4h0m2 0h0m1 0h0m3 2h0m0-2h0m2 2h0m0-2h0m1 4h0m1-2h0m2 2h0m12 0h0m-111 6h0m2-2h0m1 2h0m6-4h0m90 0h0m1 0h0m1 2h0m2 0h0m0-2h0m2 4h0m2 0h0m1 0h0m5-4h0m4 2h0m2 2h0m-124 6h0m2 0h0m1-4h0m3 0h0m106 0h0m1 2h0m1-2h0m1 0h0m1 4h0m0-2h0m4 2h0m12 0h0m-137 4h0m1 2h0m2-4h0m1 2h0m129 2h0m5-4h0m3 2h0m2 2h0m-148 6h0m2 0h0m1 0h0m0-4h0m2 2h0m133-2h0m2 0h0m2 2h0m-147 8h0m3-2h0m2-2h0m0 2h0m146 2h0m0-2h0m1 0h0m1 2h0m5-4h0m2 2h0m2 2h0m-11 2h0m2 0h0m5 4h0m7-4h0m1 2h0m-173 8h0m2-2h0m1-2h0m161 0h0m2 2h0m0-2h0m1 0h0m1 2h0m2 0h0m8 0h0m-182 8h0m1-2h0m2 2h0m1-2h0m0-2h0m1 0h0m170 2h0m1-2h0m1 4h0m2-2h0m7-2h0m2 2h0m2 2h0m-191 6h0m2-2h0m0-2h0m177 0h0m1 2h0m2 2h0m2 0h0m10 0h0m-199 6h0m1-2h0m1 2h0m201 0h0m-207 6h0m2-4h0m2 0h0m1 0h0m194 2h0m2 0h0m-203 6h0m1 0h0m2-2h0m202 4h0m3 0h0m0-2h0m0-2h0m10 4h0m-223 6h0m1-2h0m1 0h0m0 2h0m1-4h0m1 0h0m208 0h0m3 4h0m2-2h0m1 2h0m7-4h0m2 2h0m-227 6h0m0-2h0m1 4h0m216-4h0m13 2h0m1 2h0m-235 2h0m1 4h0m0-2h0m2-2h0m222 0h0m2 2h0m0-2h0m2 2h0m0-2h0m8 2h0m-241 8h0m1-4h0m1 2h0m241-2h0m1 2h0m1 2h0m-249 6h0m1-2h0m1 2h0m0-2h0m1-2h0m238 0h0m2 0h0m2 4h0m5-2h0m2 2h0m-256 6h0m2-4h0m1 4h0m1-2h0m244 2h0m1-2h0m2 2h0m8-2h0m-259 4h0m1 2h0m0 2h0m253 0h0m7-4h0m-267 10h0m271-4h0m2 4h0m-275 6h0m1-2h0m1-2h0m264 0h0m5 4h0m5-4h0m2 2h0m1 2h0m-280 4h0m1-2h0m2 0h0m271 4h0m8-4h0m2 4h0m-288 6h0m2 0h0m0-4h0m0 2h0m275-2h0m3 2h0m2-2h0m0 4h0m1-2h0m-285 6h0m1 0h0m0-2h0m1 4h0m2-4h0m219 1h0m6 1h0m1-1h0m1 1h0m53-2h0m2 2h0m2 2h0m1-2h0m6-2h0m3 4h0m-302 6h0m1-4h0m3 0h0m287 0h0m3 0h0m1 2h0m9-2h0m-306 8h0m2 0h0m1 0h0m233 0h0m1-1h0m2-2h0m59 1h0m1 4h0m3 0h0m2-2h0m5-2h0m-312 6h0m5 0h0m301 0h0m10 0h0m0 2h0m-7 6h0m2 0h0m0-2h0m3 4h0m7-2h0m2 2h0m-328 6h0m318-2h0m1-2h0m2 0h0m1 2h0m7 0h0m2 2h0m-5 4h0m1 2h0m5-4h0m3 4h0m-9 4h0m1 2h0m1-4h0m2 2h0m7 0h0m3 2h0m-11 4h0m0-2h0m5 4h0m2 0h0m6-2h0m1 2h0m-9 2h0m1 0h0m0 4h0m3 0h0m0-2h0m8 0h0m-10 4h0m6 2h0m5-2h0m-4 8h0m0-2h0m1 4h0m1 0h0m6-4h0m2 4h0m-10 2h0m3 2h0m0-2h0m1 2h0m2 2h0m6-2h0m-8 4h0m2 2h0m0-2h0m1 4h0m1 0h0m0-2h0m7-2h0m1 4h0m-7 4h0m2-2h0m0 4h0m1 0h0m7-2h0m-8 4h0m2 2h0m1 2h0m0-2h0m2 2h0m4-4h0m3 2h0m-7 4h0m2 4h0m7-4h0m1 2h0m-3 6h0m6-2h0m2 4h0m1 2h0m1 2h0m1 2h0m3 4h0" stroke="#45347f" stroke-width="3.4"/><path d="M968 146h0m1 0h0m7-2h0m1 0h0m3 0h0m2 0h0m2 0h0m2 0h0m3 2h0m-45 6h0m1 0h0m6-2h0m6-2h0m3 0h0m12 2h0m6 0h0m9 0h0m2 2h0m5-4h0m6 2h0m2 0h0m3 2h0m-71 6h0m8-4h0m5 2h0m3 0h0m4 0h0m0-2h0m2 0h0m1 0h0m2 0h0m2 0h0m34 0h0m2 2h0m1-2h0m1 2h0m1-2h0m1 2h0m3 2h0m1 0h0m2 0h0m2-4h0m4 2h0m3 2h0m2 0h0m-93 6h0m3-2h0m5 2h0m3 0h0m5-4h0m3 0h0m61 0h0m3 0h0m1 2h0m1-2h0m1 2h0m9-2h0m1 0h0m3 2h0m3 2h0m-110 6h0m3-2h0m8 2h0m6-4h0m85 0h0m3 2h0m0-2h0m1 2h0m1 2h0m1-2h0m0 2h0m3 0h0m2-4h0m2 2h0m2 0h0m1 2h0m-111 4h0m2-2h0m102 0h0m1 0h0m0 2h0m4 2h0m1-2h0m4-2h0m-121 6h0m0 2h0m124 2h0m1-2h0m2 2h0m2-4h0m2 2h0m-142 4h0m6 2h0m0 2h0m1-4h0m131 0h0m1 0h0m0 2h0m2 0h0m2 0h0m1 2h0m-142 2h0m0 2h0m2-2h0m144 2h0m1 2h0m3-4h0m2 2h0m1 2h0m-161 6h0m1 0h0m3-2h0m2-2h0m149 0h0m2 2h0m1-2h0m0 4h0m6-4h0m-166 8h0m2 0h0m0-2h0m164 2h0m0 2h0m8 0h0m-179 6h0m2-4h0m2 0h0m173 4h0m4-4h0m2 2h0m1 2h0m-187 6h0m0-2h0m4-2h0m176 0h0m2 0h0m2 0h0m6 0h0m-192 6h0m1 2h0m190 0h0m3 2h0m2-4h0m2 2h0m-208 6h0m6 0h0m0 2h0m1-2h0m1-2h0m195 2h0m1-2h0m2 4h0m4-4h0m1 2h0m-209 6h0m0 2h0m1-2h0m0-2h0m206 4h0m1-2h0m4-2h0m1 2h0m2 2h0m-219 6h0m1-2h0m2-2h0m213 4h0m4-4h0m1 2h0m3 2h0m-226 6h0m2-4h0m218 2h0m1 2h0m1-4h0m0 2h0m2 2h0m6 0h0m-241 6h0m7 0h0m3-4h0m227 4h0m1 0h0m0-2h0m5-2h0m-240 10h0m1 0h0m0-2h0m1-2h0m233 0h0m1 2h0m2-2h0m4 0h0m1 4h0m1-2h0m-246 8h0m1-2h0m1-2h0m238 0h0m2 2h0m5-2h0m2 4h0m-258 4h0m5 2h0m2-2h0m245-2h0m2 0h0m0 2h0m1 2h0m4-4h0m-256 8h0m1-2h0m1 2h0m252 0h0m2 2h0m0-2h0m4-2h0m1 4h0m-263 2h0m258 0h0m2 0h0m6 0h0m0 2h0m2 2h0m-272 6h0m0-2h0m2 0h0m264 0h0m0-2h0m1 0h0m6 0h0m1 2h0m2 2h0m-284 4h0m6 2h0m0-4h0m2 0h0m280 4h0m-287 6h0m283-2h0m2 2h0m4-2h0m2 2h0m-293 4h0m0 2h0m1-4h0m288 0h0m4 0h0m2 2h0m1 2h0m-298 6h0m1-2h0m223 2h0m69-4h0m1 0h0m1 2h0m6 0h0m1 2h0m-306 6h0m239-2h0m0 1h0m64-3h0m0 2h0m2 2h0m3-4h0m1 2h0m1 2h0m-311 6h0m0-2h0m2-2h0m236 0h0m67 0h0m2 0h0m0 2h0m0 2h0m3 0h0m3-2h0m2 2h0m-318 2h0m1 2h0m312 0h0m2 2h0m0-2h0m6 0h0m0 2h0m-330 4h0m6 0h0m319 0h0m0-2h0m3 4h0m0-2h0m1 2h0m3-4h0m1 2h0m-331 8h0m2-4h0m328 4h0m3-4h0m-335 10h0m1-4h0m331 0h0m2 0h0m0 2h0m1 0h0m0 2h0m4-4h0m2 2h0m-346 8h0m3-4h0m0 2h0m0 2h0m338-4h0m1 0h0m1 2h0m2 2h0m2 0h0m1-4h0m-349 8h0m0 2h0m2-4h0m346 2h0m1 2h0m5-4h0m1 2h0m-357 4h0m354 4h0m2-2h0m3-2h0m3 4h0m-6 2h0m3 2h0m5 0h0m-2 8h0m0-2h0m2 2h0m4-2h0m-6 4h0m1 0h0m1 2h0m2 2h0m4-4h0m2 4h0m-4 4h0m6 0h0m-4 6h0m0-2h0m2 2h0m0 2h0m2 0h0m2-4h0m2 4h0m-6 2h0m1 2h0m1-2h0m2 2h0m0 2h0m5 0h0m-5 2h0m1 2h0m1 2h0m1 0h0m6 0h0m-6 2h0m2 0h0m1 4h0m2 0h0m4-2h0m-2 6h0m7 4h0m3 4h0" stroke="#433e85" stroke-width="3.4"/><path d="M962 146h0m2 0h0m2 0h0m5-2h0m3 0h0m8-2h0m6 2h0m4 2h0m2 0h0m-47 4h0m2 0h0m1 2h0m5-4h0m1 4h0m4-2h0m13-2h0m3 0h0m1 0h0m3 0h0m9 0h0m1 2h0m1 0h0m3 0h0m2-2h0m1 0h0m1 4h0m1 0h0m1-4h0m3 2h0m-65 6h0m2 2h0m0-4h0m2 4h0m2-2h0m2 0h0m1-2h0m2 0h0m55 0h0m2 2h0m1 0h0m3 2h0m2-4h0m1 4h0m3-2h0m3 2h0m-95 6h0m5 0h0m1-4h0m1 4h0m1-2h0m2 0h0m1-2h0m2 0h0m76 0h0m3 2h0m0-2h0m4 2h0m0 2h0m2 0h0m4-2h0m4 2h0m-109 2h0m1 4h0m1 0h0m5-4h0m96 0h0m4 2h0m2 2h0m1 0h0m1-4h0m3 2h0m2 2h0m-126 6h0m2-2h0m2-2h0m2 4h0m2-4h0m0 2h0m3-2h0m109 0h0m3 0h0m2 2h0m3-2h0m0 4h0m3-2h0m1 0h0m1 2h0m-137 6h0m3-4h0m5 0h0m125 0h0m1 0h0m2 2h0m2 2h0m2-4h0m1 4h0m1-2h0m3 2h0m-149 4h0m5 2h0m139-4h0m4 2h0m1 2h0m1 0h0m1-4h0m2 2h0m2 2h0m-158 4h0m3 2h0m1-2h0m1 0h0m1-2h0m149 2h0m1-2h0m1 2h0m1 2h0m2-4h0m2 2h0m1 2h0m-169 6h0m1-2h0m1-2h0m163 0h0m1 2h0m1 2h0m1-2h0m1 2h0m3-2h0m1 2h0m-172 4h0m3-2h0m166 0h0m1 0h0m1 2h0m2 2h0m1-4h0m0 4h0m3-2h0m1 2h0m-185 4h0m2 2h0m2-2h0m0 2h0m1-4h0m179 2h0m1 2h0m2-4h0m2 2h0m2 2h0m-195 4h0m1-2h0m3 4h0m187-4h0m1 2h0m2 2h0m3-4h0m1 2h0m2 2h0m-205 6h0m7-4h0m194 0h0m1 0h0m1 2h0m4-2h0m2 4h0m-206 6h0m1-4h0m201 0h0m3 4h0m2-4h0m2 4h0m-214 4h0m2-2h0m209 0h0m5 0h0m-223 10h0m2-4h0m3 0h0m2 0h0m214 0h0m3 0h0m0 2h0m2 2h0m2-4h0m2 2h0m-232 6h0m2 2h0m1 0h0m227-4h0m0 2h0m4-2h0m2 2h0m1 2h0m-241 4h0m2-2h0m2 4h0m1-4h0m0 2h0m235 2h0m0-2h0m4 0h0m0 2h0m-247 2h0m4 0h0m240 0h0m3 4h0m2-4h0m1 4h0m-253 4h0m6-2h0m244 0h0m0 2h0m5 0h0m-259 8h0m1-4h0m3 4h0m2-2h0m251 0h0m0-2h0m3 4h0m2-2h0m0-2h0m2 4h0m-267 4h0m6-2h0m257 0h0m2 4h0m4-2h0m-271 4h0m4 0h0m1 2h0m264-2h0m1 2h0m1 2h0m4-2h0m1 2h0m-275 4h0m1-2h0m270 0h0m2 4h0m5-2h0m-286 8h0m288-4h0m1 2h0m-291 8h0m3 0h0m287-2h0m2 2h0m2-4h0m2 2h0m-299 6h0m5 0h0m0 2h0m0-4h0m295 0h0m3 2h0m-306 8h0m1-2h0m1-2h0m231 4h0m71-2h0m0-2h0m2 2h0m0 2h0m1-4h0m2 2h0m-312 8h0m311-2h0m6 0h0m1 2h0m-319 4h0m3 2h0m238-4h0m74 2h0m0-2h0m2 4h0m1-2h0m1 2h0m1-4h0m1 2h0m-325 8h0m2-4h0m1 4h0m2-2h0m1-2h0m316 0h0m2 2h0m0-2h0m2 4h0m2-4h0m1 2h0m1 2h0m-329 2h0m0 2h0m325-2h0m2 0h0m1 4h0m5 0h0m-340 6h0m0-2h0m1-2h0m335 0h0m2 4h0m4-2h0m1 2h0m-345 4h0m4 0h0m0 2h0m339 0h0m1-2h0m2 2h0m3 0h0m-352 4h0m1-2h0m1 4h0m3-2h0m0-2h0m344 0h0m2 0h0m0 2h0m4 0h0m1 2h0m-356 6h0m0-2h0m3-2h0m350 0h0m2 0h0m4 0h0m1 4h0m-361 2h0m0 2h0m359-2h0m1 2h0m0 2h0m2 0h0m2-2h0m2 2h0m-4 2h0m4 0h0m1 2h0m1 2h0m-2 4h0m0-2h0m1 2h0m0 2h0m2-4h0m3 4h0m-4 2h0m1 2h0m1-2h0m4 2h0m-3 6h0m2 0h0m2-2h0m3 4h0m-4 2h0m2 2h0m0-2h0m1 4h0m3-2h0m2 4h0m2 2h0m1 2h0m-4 2h0m2 4h0m1-2h0m2-2h0m2 2h0m-3 6h0m3 0h0m0 2h0m1-4h0m3 4h0m-3 2h0m1 2h0m2 2h0m2-2h0m2 2h0m1 4h0m2 4h0" stroke="#3f4888" stroke-width="3.4"/><path d="M958 146h0m1 0h0m6-2h0m2 0h0m2 0h0m5 2h0m2 0h0m2 0h0m0-4h0m2 0h0m4 0h0m2 0h0m4 2h0m2 0h0m3 2h0m-54 6h0m5-2h0m1 2h0m3-4h0m1 0h0m2 2h0m1-2h0m8 0h0m30 0h0m9 0h0m1 4h0m3-2h0m3 2h0m2 0h0m-78 6h0m3-2h0m1 2h0m2 0h0m2-2h0m1 0h0m2-2h0m63 0h0m4 2h0m4-2h0m4 2h0m2 0h0m1 2h0m-100 6h0m5-2h0m2 2h0m1-2h0m5-2h0m87 2h0m3 2h0m0-4h0m1 0h0m3 2h0m-113 8h0m3-2h0m1 2h0m1-4h0m108 0h0m2 2h0m4-2h0m-120 10h0m2 0h0m1-2h0m1-2h0m120 2h0m4-2h0m4 4h0m2 0h0m-142 6h0m2-2h0m4-2h0m132 0h0m1 2h0m5-2h0m1 2h0m3 2h0m-152 6h0m2-4h0m152 0h0m2 2h0m1 2h0m-162 6h0m1-2h0m1 2h0m0-4h0m2 2h0m0 2h0m159 0h0m-164 6h0m2-2h0m168-2h0m1 2h0m3 2h0m-181 6h0m1-2h0m2-2h0m2 2h0m0-2h0m2 0h0m172 2h0m3-2h0m2 2h0m-188 8h0m3-4h0m2 2h0m181-2h0m4 4h0m2-4h0m-196 10h0m5 0h0m198-2h0m2 2h0m-207 4h0m2-2h0m0 4h0m2-4h0m1 2h0m204 0h0m-212 8h0m2 0h0m0-4h0m2 2h0m2-2h0m210 2h0m-220 8h0m1-2h0m2 2h0m1-2h0m1-2h0m216 4h0m3-2h0m1 2h0m-227 4h0m3 0h0m1-2h0m228 4h0m-236 6h0m1-4h0m237 0h0m2 2h0m-242 4h0m1 4h0m1-2h0m2-2h0m240 0h0m1 4h0m1-2h0m-251 8h0m5-2h0m0-2h0m247 0h0m1 2h0m-252 8h0m253-4h0m3 4h0m-262 4h0m2 2h0m1-4h0m1 2h0m259 0h0m-265 4h0m1 2h0m2-2h0m261 0h0m4 0h0m2 4h0m-275 6h0m275 0h0m1-4h0m-279 10h0m1-2h0m3 2h0m2-4h0m278 0h0m1 2h0m1 2h0m-287 2h0m1 4h0m287-4h0m2 4h0m-294 4h0m2 2h0m2-4h0m292 0h0m3 4h0m-302 6h0m2-4h0m1 2h0m298 2h0m3-4h0m2 4h0m-304 2h0m305 0h0m3 4h0m-315 4h0m3 2h0m233 0h0m77-2h0m1 2h0m3-4h0m1 2h0m-321 8h0m2 0h0m1 0h0m237-4h0m83 0h0m3 4h0m-329 4h0m2 2h0m1-2h0m2-2h0m328 4h0m-337 6h0m3-4h0m2 2h0m0-2h0m332 0h0m2 2h0m-339 8h0m340-4h0m2 2h0m-347 8h0m2-4h0m1 4h0m1-4h0m343 2h0m2-2h0m2 2h0m-353 8h0m2 0h0m2-2h0m0-2h0m352 0h0m1 2h0m2 2h0m-359 6h0m0-2h0m1-2h0m360 2h0m-363 6h0m366-2h0m4 6h0m2 4h0m2 4h0m1 2h0m1 2h0m1 4h0m3 4h0m2 4h0m2 4h0m1 2h0m2 2h0m4 8h0m2 4h0m3 4h0m1 2h0m3 4h0m1 4h0m2 4h0" stroke="#3b528a" stroke-width="3.4"/><path d="M981 140h0m-27 6h0m1 0h0m8-2h0m5-2h0m4 0h0m1 0h0m2 0h0m13 0h0m6 2h0m4 2h0m-58 6h0m4-2h0m4-2h0m56 0h0m3 2h0m5 2h0m2 0h0m-85 6h0m5-2h0m2-2h0m1 0h0m79 0h0m7 4h0m-99 4h0m3-2h0m101 0h0m1 2h0m3 2h0m2 0h0m1 2h0m3 2h0m2 2h0m2 0h0m-132 6h0m1-2h0m2-2h0m2 2h0m129-2h0m1 2h0m-139 6h0m2-2h0m145 2h0m2 2h0m-155 6h0m2-2h0m-6 8h0m166-4h0m1 2h0m3 2h0m-174 6h0m2-2h0m173-2h0m2 2h0m2 2h0m-183 6h0m4-2h0m181-2h0m3 4h0m-192 6h0m1-2h0m194 0h0m3 2h0m-200 4h0m1-2h0m201 0h0m2 2h0m1 2h0m-210 6h0m3-4h0m2 2h0m206-2h0m1 4h0m1-2h0m-214 6h0m0-2h0m3 0h0m212 0h0m3 4h0m-222 4h0m2-2h0m2 0h0m220 0h0m2 2h0m2 2h0m-232 6h0m4-2h0m228-2h0m2 2h0m2 2h0m-238 4h0m1 2h0m239-4h0m2 4h0m-247 6h0m-2 4h0m1-2h0m2 2h0m251 2h0m1-2h0m-259 8h0m1-2h0m1-2h0m0 4h0m3-4h0m255 0h0m1 2h0m-262 4h0m263 0h0m2 4h0m-270 6h0m3 0h0m2-4h0m267 0h0m1 2h0m2 2h0m-276 4h0m278 0h0m2 2h0m-283 2h0m1 4h0m2-4h0m281 0h0m3 4h0m-291 4h0m292-2h0m1 2h0m2 2h0m-298 6h0m1-4h0m298 0h0m1 2h0m1 2h0m-303 4h0m1 2h0m3-4h0m302 2h0m2 2h0m-311 4h0m1-2h0m311 2h0m2 2h0m-317 6h0m2-4h0m1 2h0m1-2h0m234 3h0m1-2h0m-240 5h0m324 2h0m-329 8h0m2-4h0m330 0h0m2 2h0m-336 6h0m337-2h0m2 4h0m4 6h0m-349 4h0m354 2h0m-356 4h0m358-2h0m1 2h0m-361 6h0m2-2h0m362 0h0m1 2h0m0 2h0m-367 6h0m2-4h0m368 0h0m0 2h0m2 2h0m2 4h0m1 2h0m1 2h0m4 8h0m1 4h0m3 4h0m2 4h0m2 2h0m1 2h0m3 6h0m2 2h0m2 4h0m2 4h0m1 2h0m3 4h0m2 4h0m2 4h0m1 2h0m1 2h0" stroke="#375b8c" stroke-width="3.4"/><path d="M973 140h0m2 0h0m3 0h0m1 0h0m5 0h0m2 0h0m-36 6h0m2 0h0m8-2h0m1 0h0m9-2h0m20 0h0m2 0h0m4 2h0m4 2h0m1 0h0m-63 6h0m4-2h0m1-2h0m3 0h0m60 0h0m1 0h0m2 2h0m3 0h0m3 2h0m-88 6h0m91-4h0m1 0h0m3 2h0m4 2h0m-107 6h0m3-2h0m3-2h0m104 0h0m3 2h0m-118 8h0m1-2h0m3-2h0m122 2h0m3 2h0m-131 2h0m134 0h0m2 2h0m1 2h0m-145 6h0m148-4h0m-150 6h0m155 0h0m3 2h0m2 2h0m-164 2h0m165 0h0m3 2h0m2 2h0m-177 4h0m3-2h0m175 0h0m3 2h0m-183 4h0m187 2h0m2 2h0m-192 2h0m193 0h0m3 2h0m2 2h0m-205 6h0m206-4h0m2 2h0m-209 6h0m212-2h0m-216 10h0m0-2h0m219 0h0m3 2h0m2 2h0m-230 8h0m1-2h0m233 0h0m2 2h0m2 2h0m-242 6h0m2-4h0m242 2h0m2 2h0m-250 6h0m2-2h0m248-2h0m2 2h0m0 2h0m-255 6h0m1-2h0m256-2h0m-260 10h0m1-4h0m263 4h0m-267 6h0m1-2h0m267 0h0m-271 8h0m2-2h0m274 0h0m-278 8h0m1-4h0m279 0h0m2 2h0m-284 6h0m0-2h0m287 2h0m-291 8h0m1-4h0m295 2h0m2 2h0m-300 4h0m302 0h0m-306 8h0m308-4h0m2 2h0m-312 8h0m314-4h0m1 2h0m3 4h0m2 2h0m0 2h0m-326 6h0m1-2h0m327-2h0m2 4h0m-332 4h0m336 2h0m2 4h0m-345 8h0m1-2h0m1-2h0m345 0h0m2 2h0m1 2h0m1 2h0m1 2h0m2 2h0m-357 2h0m362 4h0m-365 6h0m366-4h0m3 4h0m2 4h0m1 2h0m1 2h0m3 6h0m1 2h0m2 2h0m-1 2h0m7 12h0m2 2h0m3 6h0m1 2h0m2 2h0m2 4h0m1 2h0m1 2h0m4 6h0m2 4h0m2 4h0m4 8h0m13 4h0m3 8h0m1 0h0m1 2h0m1 2h0m1 2h0m2 2h0" stroke="#33648d" stroke-width="3.4"/><path d="M967 140h0m3 0h0m1 0h0m7-2h0m8 0h0m2 2h0m2 0h0m-42 6h0m6-2h0m3 0h0m5-2h0m1 0h0m2 0h0m29 0h0m3 2h0m6 2h0m-64 4h0m71-2h0m3 2h0m5 2h0m-88 4h0m1 0h0m2-2h0m89 0h0m2 2h0m1 0h0m3 2h0m1 0h0m-111 6h0m6-4h0m108 0h0m2 2h0m2 2h0m2 0h0m-124 4h0m2-2h0m122 0h0m2 0h0m2 2h0m4 2h0m-138 6h0m2-2h0m137-2h0m3 2h0m2 2h0m-148 4h0m2-2h0m148 0h0m2 2h0m2 2h0m-158 4h0m159-2h0m2 2h0m2 2h0m-169 6h0m2-2h0m172 0h0m-179 8h0m3-4h0m182 4h0m-189 6h0m2-2h0m1-2h0m187 0h0m3 2h0m2 2h0m-196 4h0m198-2h0m2 2h0m2 2h0m-206 4h0m1-2h0m209 4h0m-214 6h0m215-2h0m1 2h0m2 2h0m-225 10h0m1-2h0m1-2h0m229 2h0m1 2h0m-235 6h0m238-4h0m2 2h0m1 2h0m-243 4h0m243-2h0m3 2h0m-250 6h0m1-2h0m251 0h0m1 2h0m1 2h0m-258 6h0m259-2h0m1 2h0m2 2h0m0 2h0m-266 4h0m268 0h0m2 4h0m-273 2h0m277 4h0m-281 4h0m283-2h0m2 4h0m-288 6h0m289-4h0m2 2h0m1 2h0m2 2h0m-300 10h0m1-4h0m303 0h0m1 2h0m1 2h0m-307 2h0m309 0h0m1 2h0m1 2h0m1 2h0m3 4h0m-321 4h0m323-2h0m2 4h0m-328 4h0m1-2h0m328 0h0m1 2h0m1 2h0m1 2h0m1 0h0m0 2h0m2 2h0m-341 6h0m0-2h0m1-2h0m340 0h0m2 2h0m1 2h0m-350 12h0m2-4h0m354 0h0m2 2h0m16 0h0m0-2h0m-376 10h0m362-4h0m2 2h0m16 0h0m2 2h0m-382 2h0m383 4h0m3 0h0m-388 4h0m372-2h0m17 4h0m0-2h0m-13 4h0m0 2h0m2 2h0m14-2h0m-12 6h0m15 0h0m1 2h0m-14 4h0m0 2h0m17-2h0m-15 4h0m0 2h0m1 2h0m15-4h0m0 2h0m2 2h0m-13 6h0m14-4h0m1 4h0m0-2h0m-10 8h0m11-4h0m1 2h0m1 2h0m-11 4h0m11-2h0m3 4h0m-10 4h0m0 2h0m10-4h0m-9 6h0m2 4h0m11-2h0m1 2h0m-10 4h0m10-2h0m-7 6h0m1 2h0m1 2h0m9 0h0m-7 4h0" stroke="#2f6c8e" stroke-width="3.4"/><path d="M966 140h0m5-2h0m4 0h0m5 0h0m1 0h0m3 0h0m3 0h0m4 2h0m-48 6h0m3 0h0m6-2h0m3 0h0m5-2h0m39 2h0m2 0h0m5 2h0m2 0h0m-72 6h0m2-2h0m4-2h0m70 0h0m3 2h0m2 0h0m3 2h0m-95 6h0m3-2h0m4-2h0m92 0h0m4 2h0m3 2h0m-112 4h0m2-2h0m113 0h0m2 2h0m23-2h0m2 2h0m5 2h0m-154 6h0m130-4h0m2 2h0m-137 6h0m3-2h0m140 0h0m1 2h0m3 2h0m-152 6h0m153-4h0m4 4h0m19-4h0m2 4h0m-183 6h0m3-4h0m182 0h0m4 4h0m-191 2h0m171 0h0m4 4h0m18-4h0m0 2h0m2 2h0m-200 4h0m181-2h0m2 2h0m3 2h0m16-4h0m3 0h0m0 4h0m1-2h0m-19 4h0m2 2h0m2 2h0m18-4h0m0 2h0m1 2h0m-218 6h0m1-4h0m201 0h0m2 2h0m15-2h0m4 4h0m1-2h0m-228 8h0m210-4h0m1 2h0m17-2h0m-231 8h0m2-2h0m214 0h0m3 4h0m16-4h0m-238 10h0m2-4h0m221 0h0m1 2h0m1 2h0m3 2h0m1 2h0m3 2h0m18 0h0m0-2h0m2 2h0m-257 2h0m239 0h0m18 0h0m0 2h0m-262 8h0m2-4h0m245 0h0m3 4h0m15-4h0m1 2h0m0 2h0m-15 2h0m3 4h0m14-4h0m1 0h0m-275 8h0m1-2h0m258 0h0m2 2h0m1 2h0m-265 4h0m266 0h0m1 2h0m16-2h0m2 2h0m0-2h0m-288 8h0m272-2h0m17 0h0m1-2h0m-292 8h0m0-2h0m276 0h0m1 2h0m2 2h0m17 0h0m0-2h0m1 2h0m-301 6h0m2-4h0m284 2h0m2 2h0m14-4h0m2 4h0m-306 4h0m292-2h0m2 4h0m14-4h0m1 2h0m1 2h0m-313 4h0m1-2h0m297 2h0m1-2h0m2 4h0m14-2h0m1 2h0m1-2h0m-320 6h0m305-2h0m3 4h0m14-2h0m2 2h0m-327 4h0m315 2h0m15-2h0m0 2h0m-332 4h0m1-2h0m318 0h0m0 2h0m2 2h0m14-2h0m0-2h0m-338 10h0m2-4h0m324 2h0m1 2h0m14-2h0m-11 6h0m13-2h0m3 2h0m-353 8h0m2-4h0m338 2h0m15 0h0m2 2h0m-12 6h0m13-4h0m1 2h0m1 2h0m-366 6h0m2-4h0m349 0h0m2 2h0m1 2h0m14-4h0m0 2h0m-369 6h0m359 2h0m-361 4h0m363-2h0m3 4h0m1 2h0m1 2h0m1 2h0m-371 2h0m374 2h0m2 2h0m-379 2h0m1 2h0m380 0h0m2 4h0m2 6h0m2 4h0m13-2h0m-11 6h0m1 4h0m3 2h0m1 2h0m1 2h0m2 2h0m2 4h0m1 2h0m1 2h0m2 2h0m1 4h0m3 4h0m2 4h0m2 4h0m1 2h0m3 6h0m2 4h0m1 2h0" stroke="#2b758e" stroke-width="3.4"/><path d="M972 122h0m2 0h0m2-2h0m1 2h0m1-2h0m8 2h0m8 0h0m16 8h0m2 0h0m4 2h0m1 2h0m3 0h0m1 0h0m-58 6h0m7-2h0m3 0h0m2-2h0m5 0h0m1 0h0m3 0h0m1 0h0m9 4h0m34-2h0m1 2h0m-81 4h0m1 0h0m7-2h0m2 0h0m38 0h0m2 0h0m6 2h0m5 2h0m27-4h0m2 2h0m3 2h0m-107 6h0m5-4h0m75 0h0m2 0h0m6 4h0m24-4h0m2 4h0m-125 6h0m102-4h0m5 2h0m22-2h0m2 2h0m-139 8h0m3-2h0m117-2h0m3 2h0m2 2h0m24 0h0m-154 6h0m2-2h0m2-2h0m129 0h0m2 2h0m2 2h0m23 0h0m-165 6h0m2-4h0m145 0h0m1 2h0m21 0h0m2 0h0m-174 6h0m1-2h0m155 2h0m-160 6h0m163-2h0m3 2h0m2 2h0m-174 6h0m1-2h0m174-2h0m3 2h0m2 2h0m-184 6h0m186-4h0m2 2h0m2 2h0m-195 6h0m3-2h0m193-2h0m2 2h0m-199 6h0m203-2h0m3 4h0m-209 2h0m210 0h0m3 4h0m1 4h0m2 2h0m-223 4h0m226 0h0m1 2h0m-232 6h0m1-2h0m1-2h0m-4 8h0m1-2h0m242 2h0m2 2h0m-248 4h0m249-2h0m1 2h0m2 2h0m-256 6h0m2-4h0m256 2h0m1 4h0m-265 10h0m2-4h0m265 0h0m3 4h0m-273 4h0m273-2h0m1 4h0m-277 6h0m279-4h0m-282 8h0m287-2h0m1 2h0m2 2h0m-292 2h0m294 2h0m2 2h0m-300 6h0m302-2h0m2 2h0m-305 2h0m308 2h0m-310 4h0m312 0h0m2 2h0m1 2h0m-320 6h0m322-2h0m2 4h0m3 2h0m1 4h0m2 2h0m1 2h0m-339 4h0m342 2h0m-345 6h0m1-4h0m345 0h0m1 2h0m-349 6h0m352-2h0m-354 6h0m358 0h0m2 2h0m2 2h0m-364 2h0m365 2h0m3 2h0m1 4h0m3 4h0m2 2h0m1 4h0m3 4h0m1 4h0m1 2h0m1 4h0m0-2h0m3 6h0m2 4h0m2 2h0m4 6h0m2 4h0m1 2h0m5 8h0m1 2h0m0-2h0m2 2h0m1-2h0m1 0h0m1 2h0m0-4h0m1 4h0m0-2h0m-5 4h0m1 4h0m1-2h0m0-2h0m1 0h0m1 2h0m0 2h0m2-2h0m0-2h0m0 4h0m2 0h0m0-2h0m0-2h0m1 4h0m-6 2h0m0 2h0m2 0h0m0 2h0m1-4h0m1 0h0m0 2h0m1 2h0m1 0h0m1-4h0m0 2h0m1 2h0m1-2h0m-4 6h0m0 2h0m0-4h0m2 0h0m0 2h0m0 2h0m1 0h0m1-4h0m0 2h0m1 2h0m0-2h0m1-2h0m-5 6h0m1 2h0m1 0h0m1-2h0m0 4h0m2-4h0m0 2h0m0 2h0m1-4h0m1 4h0m0-2h0m1 2h0m-3 2h0m2 4h0m0-4h0m0 2h0m2-2h0m0 4h0m0-2h0m1 2h0m1-2h0m-2 4h0m1 0h0m3 2h0m2 2h0" stroke="#287c8e" stroke-width="3.4"/><path d="M944 128h0m5-2h0m5 0h0m2-2h0m2 0h0m4 0h0m39 2h0m5 2h0m2 0h0m-80 6h0m1 0h0m5-2h0m5-2h0m21 10h0m2 0h0m3-2h0m2 0h0m5-2h0m1 0h0m5 0h0m9 0h0m2 2h0m-49 8h0m1 0h0m5-2h0m7-2h0m52 2h0m3 0h0m4 2h0m2 0h0m-78 4h0m2-2h0m80 0h0m1 2h0m2 0h0m3 2h0m1 0h0m-103 6h0m3-2h0m5-2h0m98 0h0m1 0h0m3 2h0m2 2h0m-121 6h0m3-2h0m3-2h0m119 0h0m1 2h0m2 2h0m-129 2h0m135 2h0m3 2h0m-145 4h0m148-2h0m3 4h0m-156 6h0m2-4h0m155 0h0m3 2h0m1 2h0m-166 6h0m3-4h0m170 4h0m-176 4h0m2-2h0m176 0h0m2 2h0m2 2h0m-184 2h0m186 0h0m-192 8h0m2-2h0m195 0h0m2 2h0m1 2h0m2 0h0m-207 6h0m3-4h0m205 2h0m2 2h0m-213 6h0m1-2h0m214 0h0m3 2h0m-221 6h0m2-4h0m219 0h0m1 2h0m-225 8h0m2-4h0m226 0h0m1 2h0m-231 4h0m234 0h0m2 2h0m1 0h0m1 2h0m1 0h0m-244 6h0m245-4h0m1 2h0m-249 8h0m2-4h0m252 2h0m-256 6h0m257-2h0m3 4h0m-265 6h0m2-4h0m264 2h0m1 2h0m-268 4h0m269 0h0m-273 8h0m1-4h0m274 0h0m1 2h0m1 2h0m-279 4h0m281 0h0m3 2h0m-286 2h0m288 0h0m6 4h0m1 0h0m1-2h0m1 2h0m0-2h0m1-2h0m1 0h0m0 4h0m1-2h0m1 0h0m1 2h0m-307 6h0m1-2h0m296-2h0m1 2h0m1-2h0m1 2h0m0 2h0m0-4h0m2 2h0m1-2h0m0 4h0m2 0h0m0-4h0m0 2h0m1 0h0m0-2h0m1 4h0m1-4h0m0 2h0m0 2h0m3 0h0m-313 4h0m303-2h0m1 0h0m0 2h0m2 0h0m0 2h0m1-4h0m1 4h0m0-2h0m1-2h0m2 4h0m0-2h0m0-2h0m1 2h0m0-2h0m1 4h0m1-2h0m0 2h0m1-4h0m1 4h0m-319 6h0m309-4h0m2 0h0m1 4h0m0-2h0m1-2h0m0 2h0m1 2h0m1-4h0m1 2h0m0 2h0m1-2h0m0-2h0m0 4h0m3-4h0m0 2h0m0 2h0m1-4h0m1 2h0m0 2h0m1 0h0m-326 6h0m1-2h0m316-2h0m1 0h0m0 2h0m2 2h0m0-4h0m1 2h0m1 2h0m1-2h0m0-2h0m2 4h0m0-4h0m0 2h0m1 2h0m1-2h0m0-2h0m1 2h0m1-2h0m0 4h0m1 0h0m-331 4h0m0-2h0m322 0h0m1 0h0m1 2h0m0 2h0m2-2h0m0 2h0m0-4h0m1 0h0m1 2h0m0 2h0m1-2h0m1-2h0m0 4h0m1-2h0m1 2h0m0-4h0m1 2h0m0 2h0m1-4h0m1 4h0m-337 4h0m327-2h0m3 4h0m0-2h0m0-2h0m1 4h0m0-2h0m1-2h0m1 4h0m0-4h0m1 2h0m1 0h0m0-2h0m0 4h0m2-2h0m1 2h0m0-4h0m2 2h0m0 2h0m1 0h0m-346 6h0m2-4h0m335 0h0m1 2h0m1-2h0m0 4h0m1 0h0m0-2h0m1-2h0m2 2h0m0-2h0m0 4h0m1 0h0m1-4h0m0 2h0m1 0h0m1-2h0m2 2h0m-10 4h0m2 2h0m0-2h0m-346 8h0m348-2h0m-352 10h0m1-4h0m355 2h0m2 2h0m12 0h0m-372 6h0m361-4h0m5 4h0m1 0h0m2-2h0m1 2h0m1-4h0m0 4h0m1-2h0m2-2h0m0 2h0m0 2h0m2 0h0m-10 2h0m2 0h0m0 2h0m1-2h0m1 4h0m0-2h0m1-2h0m1 2h0m0 2h0m1 0h0m0-2h0m1-2h0m1 2h0m0-2h0m1 4h0m2-2h0m0-2h0m0 4h0m-381 6h0m373-4h0m1 0h0m0 4h0m1-2h0m1 2h0m1-4h0m0 2h0m1 2h0m1-4h0m0 2h0m2-2h0m0 2h0m0 2h0m1-4h0m1 2h0m0 2h0m2 0h0m-387 6h0m379-4h0m1 0h0m1 2h0m0 2h0m1-2h0m1-2h0m0 4h0m1-2h0m0 2h0m1-4h0m1 4h0m1-2h0m0-2h0m1 4h0m0-4h0m0 2h0m2 2h0m-8 4h0m1-2h0m1 0h0m1 4h0m0-2h0m1-2h0m1 2h0m0 2h0m1 0h0m1-2h0m0-2h0m1 2h0m1 2h0m0-4h0m1 0h0m1 2h0m0 2h0m1 0h0m-9 2h0m2 0h0m0 2h0m0 2h0m1-4h0m2 0h0m2 0h0m0 2h0m2-2h0m1 2h0m1 0h0m1 2h0m-8 6h0m8-4h0m1 2h0m1-2h0m0 4h0m-8 4h0m1 2h0m7 0h0m0-4h0m0 2h0m1 0h0m1-2h0m0 4h0m1 0h0m-7 4h0m1 0h0m1-2h0m0 4h0m1-4h0m0 4h0m1-2h0m1-2h0m0 2h0m1 2h0m1-4h0m0 4h0m1-2h0m2 2h0m0-2h0m-7 6h0m1-2h0m1 2h0m1 2h0m0-4h0m1 0h0m1 4h0m0-2h0m1-2h0m0 4h0m0-2h0m3 2h0m0-4h0m0 2h0m2 2h0m-6 4h0m0-2h0m0 4h0m1 0h0m1-4h0m0 2h0m2-2h0m0 2h0m0 2h0m1-4h0m1 2h0m0 2h0m1-2h0m1 2h0m-7 2h0m3 0h0m2 0h0" stroke="#25848e" stroke-width="3.4"/><path d="M978 134h0m2 0h0m1 0h0m3 0h0m-63 6h0m0-2h0m3 0h0m2-2h0m31 4h0m13-4h0m19 0h0m3 2h0m1 0h0m3 2h0m-86 6h0m2-2h0m3-2h0m3 0h0m23 2h0m2 0h0m3-2h0m2 0h0m2 0h0m2 0h0m48 0h0m2 0h0m2 0h0m6 2h0m2 0h0m4 2h0m-113 6h0m3-2h0m26 2h0m2-2h0m85-2h0m5 2h0m3 2h0m-127 6h0m24-2h0m3-2h0m106 2h0m3 2h0m-142 4h0m0 2h0m2-2h0m1-2h0m20 0h0m125 2h0m2 2h0m16-2h0m-152 8h0m1-2h0m137-2h0m4 2h0m1 2h0m-148 6h0m3-4h0m150 2h0m2 2h0m20 6h0m-182 4h0m168-2h0m1 2h0m11 0h0m0 2h0m1-4h0m1 4h0m0-2h0m1 2h0m0-2h0m1-2h0m1 4h0m1-2h0m2 2h0m-195 6h0m185-2h0m0-2h0m2 4h0m0-4h0m0 2h0m1-2h0m1 4h0m0-2h0m1 0h0m1-2h0m0 4h0m1-2h0m0-2h0m0 4h0m2 0h0m1-4h0m0 2h0m1 2h0m0-2h0m1-2h0m2 4h0m-202 6h0m1-2h0m191 0h0m0-2h0m2 0h0m0 2h0m0 2h0m2 0h0m0-2h0m0-2h0m2 0h0m0 4h0m0-2h0m1 2h0m1-4h0m0 2h0m1 0h0m0-2h0m1 4h0m2 0h0m0-2h0m0-2h0m1 4h0m1-2h0m1 0h0m0 2h0m-211 6h0m202-4h0m1 2h0m1-2h0m1 4h0m1-4h0m0 2h0m2 0h0m0 2h0m0-4h0m2 2h0m0-2h0m0 4h0m1-2h0m1-2h0m0 4h0m2 0h0m0-4h0m0 2h0m1 2h0m1-2h0m-218 6h0m208-2h0m1 0h0m1 2h0m1-2h0m0 2h0m1 2h0m1-2h0m0 2h0m1-4h0m1 4h0m1-2h0m0-2h0m2 2h0m0-2h0m0 4h0m1-4h0m1 2h0m0 2h0m1-2h0m1 2h0m2 0h0m-228 4h0m2-2h0m213 0h0m2 0h0m1 2h0m1 0h0m1-2h0m2 2h0m0-2h0m2 2h0m0-2h0m2 0h0m0 2h0m0 2h0m1-4h0m1 2h0m0 2h0m2-2h0m0 2h0m2 0h0m-235 4h0m222-2h0m3 4h0m5-4h0m2 4h0m1-4h0m0 2h0m2 0h0m0 2h0m0-4h0m1 2h0m1 2h0m2 0h0m-242 4h0m231 2h0m2 0h0m3-4h0m0 4h0m0-2h0m2 2h0m0-4h0m0 2h0m1-2h0m1 2h0m0 2h0m1 0h0m1-4h0m0 2h0m1-2h0m0 4h0m1-2h0m2 2h0m-250 6h0m238-4h0m2 0h0m1 2h0m1-2h0m2 0h0m0 2h0m0 2h0m1 0h0m1-4h0m0 2h0m2 0h0m0-2h0m0 4h0m1-4h0m1 2h0m0 2h0m2 0h0m0-4h0m0 2h0m2 2h0m-258 6h0m1-2h0m247-2h0m2 4h0m0-2h0m0-2h0m2 0h0m0 4h0m0-2h0m1 2h0m1-2h0m0-2h0m1 4h0m1-2h0m0-2h0m2 0h0m0 2h0m0 2h0m1-2h0m1-2h0m0 4h0m2 0h0m-264 4h0m253-2h0m2 4h0m1-2h0m0-2h0m1 4h0m1-2h0m0-2h0m1 2h0m1 2h0m0-4h0m1 0h0m1 4h0m0-2h0m2 0h0m0-2h0m0 4h0m2 0h0m0-2h0m-270 8h0m2-4h0m260 0h0m0 2h0m1 2h0m1-4h0m0 2h0m1 0h0m0 2h0m1-4h0m2 4h0m0-4h0m0 2h0m2-2h0m0 2h0m0 2h0m1-4h0m0 2h0m1 2h0m1 0h0m-275 4h0m266-2h0m1 2h0m1-2h0m0 4h0m1 0h0m1-2h0m0-2h0m1 4h0m1-4h0m0 2h0m1 0h0m0-2h0m1 4h0m1-2h0m0 2h0m1-4h0m1 0h0m1 2h0m0 2h0m-283 6h0m3-4h0m270 0h0m1 0h0m1 2h0m0 2h0m2-4h0m2 0h0m1 0h0m1 2h0m2-2h0m0 2h0m2 2h0m0-2h0m0-2h0m1 4h0m-288 4h0m288-2h0m0 2h0m1 2h0m1-4h0m1 2h0m0 2h0m-294 6h0m283-4h0m2 2h0m2 2h0m2 0h0m0-2h0m1-2h0m1 0h0m1 2h0m0 2h0m1 0h0m1-2h0m0-2h0m2 2h0m0-2h0m0 4h0m2-2h0m0 2h0m-301 6h0m1-2h0m292-2h0m0 2h0m2-2h0m0 4h0m0-2h0m1-2h0m1 2h0m2-2h0m-305 16h0m1-2h0m1-2h0m-4 8h0m-1 4h0m-6 16h0m1-4h0m-3 8h0m346 2h0m1 0h0m2 0h0m-354 6h0m1-2h0m2-2h0m343 2h0m1 2h0m0-4h0m1 0h0m1 4h0m0-2h0m2 2h0m0-2h0m0-2h0m1 4h0m1-4h0m0 2h0m1 0h0m0-2h0m1 4h0m1 0h0m-359 6h0m1-4h0m351 0h0m0 2h0m0 2h0m8-4h0m1 0h0m1 2h0m1 2h0m-365 4h0m355-2h0m5 4h0m2 0h0m1 0h0m1-2h0m1-2h0m1 4h0m0-2h0m1-2h0m1 2h0m0 2h0m-370 4h0m364-2h0m0 2h0m2-2h0m0 2h0m1-2h0m1 2h0m2-2h0m-372 8h0m0 6h0m0-2h0m-3 16h0m-9 6h0m398-2h0m0 2h0m2 0h0m0-2h0m2 2h0m2 0h0m-7 4h0m1-2h0m2 0h0m0 2h0m1-2h0m1 4h0m0-2h0m2 2h0m0-4h0m0 2h0m1 0h0m1 2h0m-7 2h0m3 2h0m0-2h0m1 0h0m1 4h0m0-2h0m1-2h0m0 4h0m0-2h0m-2 4h0" stroke="#238c8d" stroke-width="3.4"/><path d="M976 122h0m3 0h0m3 0h0m2 0h0m-17 2h0m3 2h0m0 2h0m0-4h0m2 2h0m0 2h0m0-4h0m1 4h0m1-2h0m0-2h0m1 0h0m1 2h0m0 2h0m1-4h0m1 2h0m0 2h0m1-2h0m1-2h0m0 4h0m1-4h0m0 4h0m1-2h0m1 2h0m1-2h0m0-2h0m1 0h0m0 4h0m1-2h0m1-2h0m1 2h0m0 2h0m1-4h0m1 2h0m1-2h0m3 0h0m-23 6h0m1 4h0m0-2h0m2 0h0m0-2h0m0 4h0m1-4h0m0 4h0m1-2h0m1 0h0m1-2h0m1 0h0m1 2h0m1 0h0m1-2h0m1 2h0m1-2h0m2 0h0m0 2h0m0 2h0m2-4h0m0 2h0m0 2h0m24-2h0m2 2h0m1 0h0m-61 6h0m1 0h0m6-2h0m2 0h0m3-2h0m2 0h0m30 4h0m2 0h0m12-2h0m0 2h0m1-4h0m1 4h0m0-2h0m1 2h0m1-2h0m0-2h0m1 4h0m1-2h0m0-2h0m1 4h0m1-2h0m0-2h0m1 2h0m1 2h0m2 0h0m0-2h0m2 2h0m2 0h0m-90 6h0m1-2h0m5-2h0m62 0h0m6 0h0m2 0h0m0 2h0m2-2h0m0 2h0m1 0h0m1-2h0m0 4h0m1-2h0m0-2h0m0 4h0m2-2h0m1-2h0m0 4h0m1-2h0m0-2h0m1 4h0m1-4h0m1 2h0m0 2h0m1-2h0m1-2h0m0 4h0m1-4h0m0 4h0m1-2h0m1-2h0m0 2h0m1 2h0m1 0h0m1-4h0m0 2h0m1 2h0m1-2h0m2 2h0m1 0h0m-109 6h0m6-4h0m85 0h0m2 0h0m2 0h0m1 2h0m1-2h0m1 2h0m1 0h0m1 2h0m0-4h0m1 2h0m1 2h0m0-4h0m1 0h0m1 4h0m0-2h0m1 0h0m0 2h0m1-4h0m1 0h0m0 4h0m1-2h0m1 2h0m1-2h0m0-2h0m1 4h0m1-2h0m0-2h0m1 4h0m1-2h0m1 2h0m-125 6h0m2-2h0m109-2h0m3 0h0m1 0h0m0 2h0m2-2h0m0 4h0m1-2h0m2 2h0m0-4h0m0 2h0m1 2h0m1-4h0m0 2h0m1-2h0m1 4h0m0-2h0m1 0h0m1-2h0m0 4h0m1-4h0m0 2h0m1 2h0m1 0h0m0-4h0m0 2h0m2 2h0m0-2h0m3 2h0m-143 6h0m2-2h0m3-2h0m123 0h0m2 0h0m2 2h0m1-2h0m1 2h0m0-2h0m1 4h0m1-2h0m0 2h0m1-4h0m1 0h0m0 4h0m0-2h0m2-2h0m0 4h0m1-2h0m1 0h0m0-2h0m1 4h0m1-4h0m1 4h0m0-2h0m1 2h0m1-4h0m0 2h0m2 2h0m1 0h0m-173 6h0m20-2h0m2-2h0m138 0h0m2 0h0m1 0h0m0 2h0m2 2h0m1-4h0m0 2h0m1 0h0m1-2h0m0 4h0m2-2h0m0-2h0m0 4h0m1-2h0m1-2h0m0 4h0m2-4h0m0 2h0m0 2h0m2-2h0m0-2h0m0 4h0m1-2h0m1 2h0m1 0h0m1-2h0m-182 4h0m16 4h0m1-2h0m152-2h0m3 2h0m0-2h0m1 2h0m1-2h0m2 0h0m2 0h0m2 0h0m2 0h0m1 0h0m1 2h0m1 2h0m0-4h0m0 2h0m3 2h0m-176 6h0m1-2h0m1-2h0m160 0h0m1 2h0m3 2h0m8 0h0m1 0h0m1-2h0m0-2h0m2 4h0m0-2h0m0-2h0m2 2h0m-202 8h0m0-2h0m18 2h0m2-4h0m170 0h0m2 2h0m1 2h0m1-2h0m2-2h0m0 2h0m0 2h0m2-2h0m0 2h0m0-4h0m1 0h0m-204 10h0m4-4h0m16 0h0m181 0h0m-203 8h0m1-2h0m17 0h0m-21 10h0m1-4h0m15 2h0m2-2h0m-21 8h0m15 2h0m2-4h0m216 10h0m1 0h0m2 0h0m-228 6h0m2-4h0m225 0h0m0 2h0m1-2h0m0 4h0m1-2h0m1 0h0m1 2h0m0-4h0m1 2h0m1 2h0m-252 6h0m2-2h0m13 2h0m233-4h0m1 0h0m1 2h0m2 0h0m0-2h0m-254 10h0m16-2h0m-21 6h0m0 2h0m17-2h0m2-2h0m-20 8h0m13 2h0m3-4h0m-4 8h0m-20 8h0m1 0h0m15 0h0m-18 6h0m2-4h0m14 2h0m275 2h0m1-2h0m1 0h0m1 2h0m2 0h0m1 0h0m-300 6h0m1-2h0m15-2h0m278 0h0m1 2h0m2 0h0m0 2h0m0-4h0m1 2h0m1-2h0m0 4h0m1-2h0m0-2h0m1 4h0m1-2h0m1-2h0m0 4h0m-305 4h0m16-2h0m285 0h0m2 2h0m0-2h0m-306 10h0m2-4h0m-6 10h0m15 0h0m2-4h0m-19 10h0m2-2h0m-4 6h0m15-2h0m-15 6h0m12 4h0m-2 6h0m-2 4h0m-19 6h0m15 2h0m1-4h0m-22 16h0m1-4h0m1 2h0m1-2h0m12 2h0m353 0h0m1-2h0m0 4h0m1-2h0m1-2h0m0 4h0m1-4h0m1 2h0m0 2h0m1 0h0m0-2h0m3 2h0m-380 6h0m2 0h0m0-2h0m1-2h0m371 2h0m0-2h0m2 2h0m0-2h0m2 0h0m0 2h0m1-2h0m-381 10h0m2 0h0m0-2h0m12 2h0m0 6h0m-18 12h0m2 6h0m12-4h0m391 16h0" stroke="#20948b" stroke-width="3.4"/><path d="M962 126h0m1 2h0m1-2h0m1 0h0m0-2h0m1 4h0m1-2h0m0 2h0m23 0h0m1 0h0m1-2h0m1 2h0m0-2h0m3 0h0m2 0h0m1 0h0m-63 6h0m2 0h0m27-2h0m0 2h0m1 2h0m1 0h0m0-4h0m1 2h0m1-2h0m1 4h0m0-2h0m19-2h0m1 2h0m0 2h0m2-4h0m15 0h0m2 2h0m1 2h0m2 0h0m-62 6h0m2 0h0m8-2h0m3-2h0m28 0h0m4 2h0m13 2h0m2 0h0m0-2h0m0-2h0m1 0h0m-69 6h0m65 0h0m3 0h0m-79 8h0m3-2h0m-17 10h0m8-4h0m-20 16h0m3-4h0m-5 6h0m157 4h0m2-2h0m0 2h0m1-2h0m1 2h0m1 0h0m1-2h0m2 0h0m0 2h0m2 0h0m-188 2h0m0 2h0m1-2h0m179 0h0m3 4h0m2-2h0m0 2h0m1-4h0m1 4h0m0-4h0m1 2h0m2-2h0m0 2h0m-195 6h0m16 0h0m174-2h0m3 0h0m-181 8h0m-6 8h0m2-2h0m1-2h0m-6 10h0m-19 6h0m16-2h0m-16 4h0m12 4h0m3-4h0m-22 10h0m1 0h0m16-2h0m-2 4h0m-6 10h0m-9 18h0m2-4h0m-4 8h0m1-2h0m-5 10h0m2-4h0m-5 10h0m1-2h0m-2 6h0m-4 8h0m2-4h0m-4 8h0m0-2h0m-4 10h0m1-4h0m-4 10h0m-15 4h0m14 0h0m-18 8h0m2-2h0m0-2h0m14 2h0m0-2h0m-18 8h0m2-2h0m12 4h0m-7 12h0m3-4h0m-9 16h0m3-4h0m-4 8h0m1-2h0m-2 6h0m-2 14h0m-14 4h0m12 2h0m1 2h0m0 2h0" stroke="#1f9c89" stroke-width="3.4"/><path d="M948 128h0m2 0h0m2 0h0m4 0h0m2-2h0m0 2h0m1 0h0m1-2h0m1 2h0m35 0h0m1 0h0m2 0h0m3 0h0m2 0h0m-71 6h0m3 0h0m2 0h0m2 0h0m0-2h0m2 2h0m0-4h0m0 2h0m1-2h0m1 2h0m0 2h0m1 0h0m0-2h0m1-2h0m1 0h0m12 0h0m2 0h0m1 4h0m0-2h0m1-2h0m1 4h0m0-2h0m27 2h0m1-2h0m2 0h0m0-2h0m1 0h0m11 2h0m0-2h0m1 4h0m1-2h0m-81 6h0m1-2h0m1 2h0m1-2h0m2 2h0m0-2h0m1 4h0m0-4h0m1 2h0m1 0h0m0 2h0m1-4h0m1 2h0m1-2h0m0 4h0m2-4h0m0 2h0m0 2h0m1-4h0m1 2h0m0 2h0m1-4h0m0 2h0m1 2h0m1-2h0m1-2h0m0 4h0m2 0h0m10-2h0m4-2h0m32 0h0m7 4h0m3 0h0m1-2h0m1 2h0m1-4h0m1 2h0m-72 8h0m0-4h0m1 0h0m0 2h0m2-2h0m-33 10h0m2 0h0m0-2h0m1 2h0m1-4h0m0 2h0m18 2h0m2-2h0m-27 4h0m3 0h0m1 2h0m1-2h0m1 0h0m6 4h0m3-2h0m1 0h0m4-2h0m-13 10h0m1-2h0m3-2h0m-10 10h0m-4 6h0m1-2h0m1-2h0m-6 10h0m1-2h0m166-2h0m1 2h0m2-2h0m0 2h0m-175 8h0m-4 6h0m-3 4h0m-2 4h0m-7 10h0m-17 6h0m2-2h0m13 0h0m-18 6h0m3-2h0m12 4h0m1-4h0m-3 8h0m-4 6h0m1-2h0m-6 10h0m2-4h0m-4 8h0m-3 6h0m-4 8h0m-2 4h0m-7 14h0m2-4h0m-3 8h0m0-2h0m-5 10h0m-1 4h0m-3 6h0m1-2h0m-2 6h0m-5 12h0m-4 8h0m-4 6h0m-4 8h0m2-4h0m-3 8h0m-18 20h0m-1 4h0m15-2h0" stroke="#23a485" stroke-width="3.4"/><path d="M953 128h0m-6 6h0m0-2h0m2 2h0m1-4h0m0 2h0m1 0h0m1-2h0m2 2h0m0-2h0m1 2h0m0-2h0m2 0h0m0 2h0m1 2h0m2 0h0m0-2h0m34 2h0m2 0h0m0-2h0m1-2h0m1 2h0m2-2h0m2 0h0m0 2h0m1 0h0m1 2h0m0-4h0m2 4h0m-83 6h0m2-2h0m1 2h0m2 0h0m2 0h0m2 0h0m15-2h0m1-2h0m1 2h0m1-2h0m2 2h0m1 0h0m3 0h0m1-2h0m3 0h0m36 0h0m1 2h0m2 0h0m3 0h0m2 0h0m0-2h0m1 0h0m-92 10h0m2-2h0m0 2h0m2 0h0m0-2h0m3-2h0m0 2h0m1-2h0m3 0h0m6 0h0m2 0h0m2 0h0m0 2h0m0 2h0m2-2h0m-25 8h0m0-2h0m1-2h0m2 0h0m0 4h0m0-2h0m2 0h0m0 2h0m0-4h0m1 4h0m0-4h0m8 4h0m7-4h0m-31 10h0m2-2h0m1 2h0m1-2h0m0 2h0m2 0h0m3-2h0m0 2h0m1 0h0m0-2h0m1-2h0m1 2h0m0 2h0m1-4h0m2 2h0m0-2h0m1 0h0m5 0h0m-26 10h0m1-2h0m0 2h0m2-4h0m0 2h0m0 2h0m3-2h0m0-2h0m0 4h0m2-2h0m0-2h0m0 4h0m1-2h0m1-2h0m0 4h0m1-4h0m0 2h0m0 2h0m3-4h0m0 2h0m1-2h0m-21 10h0m2 0h0m1-2h0m1 2h0m0-4h0m1 0h0m0 2h0m0 2h0m3-2h0m0 2h0m0-4h0m1 4h0m0-4h0m1 2h0m1 0h0m1 2h0m0-4h0m2 2h0m0-2h0m1 2h0m0-2h0m-12 6h0m2 4h0m1-2h0m0-2h0m1 4h0m1-2h0m0-2h0m1 0h0m1 2h0m-4 6h0m1-2h0m-3 6h0m-20 10h0m2 0h0m11-2h0m3-2h0m-21 10h0m3-2h0m0 2h0m0-4h0m1 4h0m0-4h0m1 2h0m1 2h0m0-2h0m1-2h0m1 2h0m1-2h0m0 4h0m1-2h0m1-2h0m0 4h0m2 0h0m0-2h0m-14 6h0m0 2h0m1 0h0m1-2h0m0-2h0m1 4h0m1-2h0m0-2h0m2 2h0m0-2h0m0 4h0m1-2h0m1-2h0m0 4h0m1 0h0m0-2h0m1-2h0m2 2h0m0-2h0m-11 6h0m2 0h0m1 2h0m1-2h0m0 4h0m1-2h0m1-2h0m1 2h0m2-2h0m-4 6h0m-9 16h0m2-4h0m-5 10h0m-3 4h0m-4 8h0m1-2h0m2-2h0m-6 10h0m-2 4h0m2-2h0m-6 10h0m-3 6h0m1-2h0m1-2h0m-3 8h0m-5 8h0m-1 4h0m-4 8h0m-2 6h0m-2 6h0m-3 6h0m-1 4h0m-5 8h0m3-4h0m-7 10h0m3-4h0m-5 8h0m-3 8h0m2-4h0m-3 6h0m-1 8h0m0-2h0m-11 26h0m3 2h0m0-2h0m2 0h0m0 2h0" stroke="#28ab81" stroke-width="3.4"/><path d="M952 134h0m2 0h0m2 0h0m41 0h0m2 0h0m0-2h0m3 2h0m-50 2h0m2 0h0m2 0h0m42 0h0m2 0h0m2 0h0m-82 10h0m1 0h0m1-2h0m1 0h0m3 0h0m0-2h0m1 0h0m1 2h0m1 0h0m2 2h0m1-2h0m-14 6h0m1-2h0m0 2h0m1 2h0m2-4h0m1 4h0m4-2h0m-8 4h0m-32 20h0m2 2h0m1-4h0m0 2h0m1 2h0m1-4h0m0 2h0m1 0h0m1 2h0m-2 2h0m1 2h0m1 2h0m0-4h0m2 0h0m-18 10h0m12 0h0m1-2h0m-15 6h0m1-2h0m1 4h0m0-2h0m1 2h0m1-2h0m0-2h0m2 4h0m0-2h0m2 0h0m0 2h0m1 0h0m1-2h0m-4 4h0m2 0h0m-20 16h0m1 0h0m0-2h0m0-2h0m2 4h0m0-4h0m1 2h0m1 2h0m1-2h0m2 2h0m-6 2h0m1 2h0m1-2h0m1 2h0m1-2h0m0 4h0m1 0h0m0-2h0m1-2h0m-4 10h0m1-4h0m1 2h0m-17 8h0m3 0h0m2 0h0m2 0h0m2 0h0m1 0h0m2-2h0m-13 6h0m0 2h0m1-4h0m1 4h0m0-2h0m1-2h0m0 4h0m1-2h0m1-2h0m1 4h0m0-2h0m1 0h0m1-2h0m0 4h0m1-4h0m1 2h0m1-2h0m-15 10h0m0-2h0m1 2h0m1-2h0m0-2h0m1 4h0m0-4h0m1 2h0m2 0h0m0-2h0m0 4h0m1-4h0m1 4h0m0-2h0m1 0h0m0 2h0m1-4h0m2 0h0m-16 10h0m1-2h0m1 2h0m1-4h0m1 2h0m0 2h0m1-2h0m1 2h0m0-4h0m1 4h0m1-2h0m0-2h0m1 4h0m1-4h0m0 2h0m1-2h0m-13 8h0m0 2h0m2 0h0m0-4h0m0 2h0m1 0h0m0 2h0m1-4h0m1 2h0m1 2h0m0-4h0m2 2h0m0-2h0m0 4h0m1-4h0m1 2h0m2-2h0m-14 10h0m0-4h0m0 2h0m1 2h0m1-2h0m0-2h0m1 2h0m1-2h0m0 4h0m1 0h0m0-2h0m1-2h0m1 0h0m1 2h0m0 2h0m1-4h0m-13 10h0m0-2h0m2-2h0m0 2h0m0 2h0m1-2h0m0 2h0m0-4h0m2 2h0m1 2h0m0-4h0m1 2h0m0-2h0m1 4h0m2-2h0m0-2h0m2 0h0m-15 8h0m0 2h0m1-4h0m1 2h0m0-2h0m1 4h0m1 0h0m0-4h0m1 2h0m1-2h0m0 2h0m1 2h0m1 0h0m0-4h0m1 2h0m1-2h0m-13 10h0m1-2h0m1 2h0m0-4h0m1 0h0m1 4h0m0-2h0m2 0h0m0-2h0m0 4h0m1-4h0m1 2h0m0 2h0m1 0h0m0-2h0m0-2h0m2 0h0m-14 8h0m1 2h0m1-2h0m1-2h0m0 4h0m1 0h0m1-4h0m0 2h0m1-2h0m0 4h0m1-2h0m1 0h0m1 2h0m0-4h0m1 2h0m1-2h0m-12 6h0m0 4h0m0-2h0m1-2h0m1 4h0m0-2h0m1-2h0m1 2h0m0 2h0m1-2h0m0-2h0m1 4h0m1-4h0m1 4h0m0-2h0m2-2h0m-15 10h0m2-4h0m0 4h0m1-2h0m2 0h0m0-2h0m0 4h0m2-2h0m0-2h0m0 4h0m1-2h0m1 2h0m0-4h0m1 2h0m1-2h0m1 0h0m-13 8h0m0 2h0m1-4h0m1 2h0m0 2h0m1-2h0m1-2h0m0 4h0m1-2h0m0 2h0m1-4h0m2 0h0m0 4h0m0-2h0m1 0h0m1-2h0m-10 6h0m1 0h0m2 0h0m1 2h0m1 0h0m0-2h0m2 2h0m1-2h0m-2 8h0m-4 8h0m-13 4h0m1 2h0m0-4h0m2 2h0m0 2h0m2 0h0m2 0h0m2 0h0m1-2h0m-13 8h0m1-2h0m0-2h0m1 4h0m1-4h0m1 2h0m0 2h0m1 0h0m0-4h0m1 2h0m1-2h0m0 4h0m1-2h0m2-2h0m0 2h0m-12 8h0m1 0h0m1-2h0m0-2h0m1 4h0m1-4h0m0 2h0m1-2h0m1 2h0m0 2h0m1-4h0m1 4h0m0-2h0m2-2h0m-13 8h0m1 2h0m1-4h0m0 2h0m1 2h0m1-4h0m0 4h0m1-2h0m2 2h0m0-4h0m0 2h0m2-2h0m0 2h0m-11 6h0m0 2h0m2-2h0m1-2h0m2 2h0m0-2h0m2 0h0m0 2h0m1 2h0m0-2h0m1-2h0m0 10h0m-1 6h0m1-4h0m-3 10h0m-12 4h0m3 2h0m8-2h0m0 2h0m-8 2h0m1 0h0m3 0h0m2 0h0m2 2h0m0-2h0" stroke="#31b37c" stroke-width="3.4"/><path d="M924 146h0m2 0h0m1 0h0m3 0h0m-9 4h0m1 2h0m1-4h0m0 2h0m3 0h0m0-2h0m1 0h0m2 0h0m-44 28h0m3 0h0m-3 2h0m3 0h0m1 4h0m1-2h0m0-2h0m1 2h0m0 2h0m-12 6h0m0-4h0m1 2h0m1 2h0m0-2h0m3 2h0m1 0h0m2 0h0m0-2h0m2 0h0m1-2h0m1 0h0m-9 6h0m2 0h0m2 0h0m2 0h0m-25 26h0m1-2h0m2 4h0m0-2h0m2 2h0m-2 4h0m0 2h0m0-4h0m1 0h0m0 2h0m-12 6h0m1-2h0m2 0h0m0 2h0m1 0h0m1-2h0m1 0h0m1 2h0m1-2h0m1 2h0m1-2h0m-48 80h0m0 2h0m3-2h0m0 2h0m1-2h0m1 2h0m2 0h0m2 0h0m-10 2h0m7 0h0m2 0h0m-14 10h0m2 0h0m10-4h0m-11 6h0m1 0h0m0 2h0m3 0h0m0-2h0m2 0h0m0 2h0m2-2h0m-18 28h0m1 0h0m3 0h0m-8 2h0m9 8h0m-11 12h0m2 2h0m2 0h0m2 0h0m2-4h0" stroke="#3fbb74" stroke-width="3.4"/><path d="M881 182h0m2 0h0m1-2h0m1 2h0m1-2h0m2 0h0m0 2h0m-6 2h0m1 2h0m1-2h0m1 2h0m1-2h0m1 0h0m-27 34h0m2 0h0m0-2h0m2 2h0m-7 6h0m1-2h0m1-2h0m1 2h0m0 2h0m1 0h0m0-4h0m1 2h0m1 2h0m0-2h0m1-2h0m-50 94h0m2 0h0m0-2h0m1 2h0m1-4h0m0 2h0m1 0h0m1-2h0m2 4h0m0-2h0m0-2h0m1 2h0m1 2h0m-10 4h0m0-2h0m1 0h0m1 2h0m0 2h0m1 0h0m0-2h0m2 2h0m1-2h0m2 0h0m0-2h0m-24 38h0m1-2h0m0 2h0m2-2h0m3 0h0m2 0h0m-12 16h0m12-2h0m-11 4h0m2 2h0" stroke="#4dc36c" stroke-width="3.4"/><path d="M820 314h0m-2 2h0m1 0h0m-22 40h0m-1 2h0m-1 8h0m2 4h0m3 2h0m2 0h0" stroke="#5ec962" stroke-width="3.4"/><path d="M801 354h0m3 0h0m2 0h0m-10 8h0m0-2h0m0 4h0m0 4h0m8 0h0m-5 2h0m3 0h0" stroke="#71cf56" stroke-width="3.4"/><path d="M799 356h0m3 0h0m3 0h0m-8 2h0m9 0h0m0 2h0m0 2h0m-9 6h0m8-4h0" stroke="#84d54b" stroke-width="3.4"/><path d="M797 362h0m0-2h0m0 6h0" stroke="#9ad83c" stroke-width="3.4"/><path d="M804 356h0m-4 2h0m-2 6h0m2 4h0m4-2h0" stroke="#b1dc2e" stroke-width="3.4"/><path d="M799 360h0m3-2h0m-3 8h0m2 2h0m3-4h0" stroke="#c7e023" stroke-width="3.4"/><path d="M800 362h0m3-4h0" stroke="#dde324" stroke-width="3.4"/><path d="M801 360h0m1 2h0m1-2h0m0 2h0m-3 2h0m1 2h0m1-2h0" stroke="#f2e625" stroke-width="3.4"/></g><line x1="768.6" y1="98.5" x2="768.6" y2="475.4" stroke="#000" stroke-width="1.9"/><line x1="767.7" y1="474.5" x2="1265.5" y2="474.5" stroke="#000" stroke-width="1.9"/><line x1="762.9" y1="125" x2="767.8" y2="125" stroke="#333333" stroke-width="1.6"/><text x="758.9" y="135.1" font-size="28" text-anchor="end" fill="#333333">0.01</text><line x1="762.9" y1="248.8" x2="767.8" y2="248.8" stroke="#333333" stroke-width="1.6"/><text x="758.9" y="258.9" font-size="28" text-anchor="end" fill="#333333">0.00</text><line x1="762.9" y1="372.7" x2="767.8" y2="372.7" stroke="#333333" stroke-width="1.6"/><text x="758.9" y="382.8" font-size="28" text-anchor="end" fill="#333333">−0.01</text><line x1="770.6" y1="475.3" x2="770.6" y2="480.6" stroke="#333333" stroke-width="1.6"/><text x="770.6" y="505.4" font-size="28" text-anchor="middle" fill="#333333">0.010</text><line x1="865.3" y1="475.3" x2="865.3" y2="480.6" stroke="#333333" stroke-width="1.6"/><text x="865.3" y="505.4" font-size="28" text-anchor="middle" fill="#333333">0.005</text><line x1="960" y1="475.3" x2="960" y2="480.6" stroke="#333333" stroke-width="1.6"/><text x="960" y="505.4" font-size="28" text-anchor="middle" fill="#333333">0.000</text><line x1="1054.8" y1="475.3" x2="1054.8" y2="480.6" stroke="#333333" stroke-width="1.6"/><text x="1054.8" y="505.4" font-size="28" text-anchor="middle" fill="#333333">−0.005</text><line x1="1149.5" y1="475.3" x2="1149.5" y2="480.6" stroke="#333333" stroke-width="1.6"/><text x="1149.5" y="505.4" font-size="28" text-anchor="middle" fill="#333333">−0.010</text><line x1="1244.2" y1="475.3" x2="1244.2" y2="480.6" stroke="#333333" stroke-width="1.6"/><text x="1244.2" y="505.4" font-size="28" text-anchor="middle" fill="#333333">−0.015</text><text x="766.6" y="91.2" font-size="41.5">eGFR 30-60</text><text x="1017.6" y="545" font-size="38.5" text-anchor="middle">Dim 1</text><text x="692.5" y="286.8" font-size="38.5" text-anchor="middle" transform="rotate(-90 692.5 286.8)">Dim 2</text><rect x="1231.1" y="132.8" width="30.4" height="150.8" fill="url(#vir)"/><line x1="1231.1" y1="137.6" x2="1237.1" y2="137.6" stroke="#fff" stroke-width="1.1" opacity="0.85"/><line x1="1255.5" y1="137.6" x2="1261.5" y2="137.6" stroke="#fff" stroke-width="1.1" opacity="0.85"/><text x="1269.1" y="145.7" font-size="22.5" fill="#333333">25k</text><line x1="1231.1" y1="166.8" x2="1237.1" y2="166.8" stroke="#fff" stroke-width="1.1" opacity="0.85"/><line x1="1255.5" y1="166.8" x2="1261.5" y2="166.8" stroke="#fff" stroke-width="1.1" opacity="0.85"/><text x="1269.1" y="174.9" font-size="22.5" fill="#333333">20k</text><line x1="1231.1" y1="196" x2="1237.1" y2="196" stroke="#fff" stroke-width="1.1" opacity="0.85"/><line x1="1255.5" y1="196" x2="1261.5" y2="196" stroke="#fff" stroke-width="1.1" opacity="0.85"/><text x="1269.1" y="204.1" font-size="22.5" fill="#333333">15k</text><line x1="1231.1" y1="225.3" x2="1237.1" y2="225.3" stroke="#fff" stroke-width="1.1" opacity="0.85"/><line x1="1255.5" y1="225.3" x2="1261.5" y2="225.3" stroke="#fff" stroke-width="1.1" opacity="0.85"/><text x="1269.1" y="233.4" font-size="22.5" fill="#333333">10k</text><line x1="1231.1" y1="254.5" x2="1237.1" y2="254.5" stroke="#fff" stroke-width="1.1" opacity="0.85"/><line x1="1255.5" y1="254.5" x2="1261.5" y2="254.5" stroke="#fff" stroke-width="1.1" opacity="0.85"/><text x="1269.1" y="262.6" font-size="22.5" fill="#333333">5k</text><text x="1228.2" y="119.5" font-size="28.5" fill="#333333">Density</text><g stroke-linecap="round" fill="none"><path d="M1636 117h0m-18 5h0m17-4h0m23 1h0m13 2h0m-70 6h0m18-3h0m0 0h0m60 0h0m-86 10h0m0 0h0m-9 4h0m5-2h0m113 2h0m3 1h0m4 2h0m-137 5h0m-4 7h0m-5 1h0m86 5h0m78-2h0m2-1h0m4 1h0m1 2h0m-178 5h0m92-5h0m1 1h0m0 1h0m3 1h0m0-2h0m0 1h0m2-1h0m-3 6h0m10 0h0m0-1h0m2 1h0m0 0h0m7 1h0m2 2h0m4 2h0m0 0h0m0 0h0m-73 5h0m1 1h0m1-1h0m2 0h0m2-4h0m1 0h0m2 1h0m42 3h0m0 0h0m2 0h0m1-1h0m1-1h0m0-2h0m1 3h0m1 1h0m1-4h0m0 3h0m0-2h0m1 0h0m0 1h0m0-1h0m0 0h0m1 2h0m1-1h0m1-2h0m1 2h0m1-1h0m6 3h0m2 0h0m0-3h0m0 0h0m1 1h0m0-1h0m1 1h0m0 1h0m0 1h0m0-4h0m0 4h0m1-1h0m0-1h0m0-2h0m1 2h0m1-1h0m1 2h0m1 2h0m0-1h0m0-1h0m1 1h0m0 1h0m1-2h0m-138 7h0m52-3h0m1 1h0m0-2h0m2 0h0m2 0h0m0 0h0m0 5h0m1-1h0m0-1h0m2 2h0m2-1h0m0-3h0m1 2h0m1-2h0m0 2h0m0-1h0m0 1h0m1-1h0m2 1h0m42-3h0m1 0h0m5 3h0m2-1h0m0 2h0m1-3h0m0-1h0m0 2h0m0 0h0m1-2h0m1 3h0m0-4h0m2 4h0m1 0h0m1 0h0m0 1h0m1-3h0m0 4h0m1-3h0m2 2h0m0-2h0m0-1h0m1 3h0m0-4h0m1 5h0m1-3h0m1 0h0m0 0h0m1-3h0m1 3h0m0 2h0m0-5h0m0 3h0m1 2h0m1-4h0m0 3h0m0-2h0m0 2h0m1-4h0m1 5h0m0-4h0m0 2h0m1-1h0m0 0h0m1 2h0m1-1h0m5 0h0m1 2h0m-96 3h0m1-1h0m1 1h0m2 2h0m0 2h0m1-5h0m0 2h0m0-1h0m1 0h0m0-2h0m0 4h0m0-1h0m1 2h0m0-3h0m0 0h0m1-2h0m0 4h0m1-3h0m0 0h0m0 5h0m1-4h0m2 3h0m0 1h0m1-2h0m1 0h0m0-2h0m1 0h0m0-1h0m0 1h0m1 2h0m0 1h0m1 1h0m0-3h0m2 3h0m36-6h0m2 2h0m1 2h0m1 0h0m7-4h0m4 2h0m1 0h0m0-1h0m1 2h0m0 0h0m1 0h0m1-1h0m1-1h0m0 4h0m0-4h0m1 4h0m4-3h0m0 0h0m3-1h0m0 0h0m1 1h0m1-2h0m0 1h0m1-1h0m1 1h0m0 0h0m0 2h0m0-2h0m1 2h0m0 1h0m0-2h0m1-1h0m0 1h0m0 1h0m0-2h0m0 4h0m0 0h0m0-2h0m1-1h0m1-2h0m0 4h0m0-2h0m1 1h0m0 0h0m2 3h0m6-2h0m1-2h0m0 1h0m0 3h0m1-2h0m0 1h0m-115 7h0m2 0h0m3-1h0m1-1h0m0-3h0m0 3h0m1 0h0m0 2h0m0-3h0m1 0h0m0 0h0m1-1h0m1 2h0m0 0h0m2-3h0m0 2h0m0 1h0m0 0h0m1-4h0m0 5h0m1 0h0m0 0h0m0 1h0m2-1h0m1-1h0m1-4h0m1 3h0m1 2h0m0-1h0m1 0h0m3-3h0m2 1h0m1 1h0m1 3h0m2-3h0m31 0h0m1 0h0m4 2h0m0-1h0m2-1h0m3-3h0m1 4h0m2-2h0m1-1h0m0 1h0m4 4h0m0-1h0m1-2h0m1 2h0m1 0h0m0-4h0m0 4h0m0-2h0m0-2h0m1 2h0m2-3h0m0 2h0m1 0h0m0 3h0m0-1h0m0 1h0m0-1h0m1-1h0m0 1h0m1-1h0m0-1h0m0-1h0m1 4h0m0-4h0m0 1h0m2 1h0m1 1h0m0 2h0m1-1h0m1 0h0m1-3h0m0 4h0m1-5h0m1 3h0m0 2h0m1-3h0m0 2h0m1-2h0m0-1h0m0-2h0m1 1h0m0 3h0m0-1h0m0 1h0m1-3h0m0 0h0m0 0h0m1 2h0m0-1h0m0 3h0m1-3h0m0 2h0m0 2h0m2-5h0m0 0h0m2 0h0m3 2h0m1-2h0m2-1h0m0 3h0m0 1h0m0-3h0m1 0h0m0-1h0m3 3h0m0 3h0m1-5h0m0 3h0m1 0h0m0-1h0m0 0h0m0 0h0m1 1h0m0-1h0m0 2h0m0-2h0m1-1h0m0 4h0m0-3h0m0-1h0m2 3h0m0-2h0m0 0h0m0 3h0m1-1h0m0 0h0m0 0h0m-128 6h0m1-1h0m0 1h0m0 1h0m2-1h0m0 0h0m1-2h0m0-2h0m1-1h0m0 2h0m2-1h0m0 3h0m0-4h0m0 2h0m3-1h0m2 2h0m0 3h0m1-5h0m1 2h0m0-2h0m0 4h0m2-4h0m1 3h0m1 0h0m0-1h0m1 0h0m0 2h0m2-5h0m0 1h0m0 1h0m0-1h0m1 4h0m0-2h0m0 1h0m2 1h0m0-4h0m0 3h0m1-3h0m0 4h0m1-5h0m0 3h0m1-1h0m0-2h0m0 5h0m2-5h0m1 2h0m3 1h0m3 0h0m1-2h0m1 4h0m2-4h0m1 0h0m4 2h0m1 3h0m4-3h0m1 1h0m0 1h0m2-3h0m0 2h0m1 1h0m0 1h0m3-5h0m1 3h0m2-3h0m1 3h0m4 1h0m1 1h0m0 0h0m1 0h0m0-3h0m2 3h0m0-1h0m0-4h0m1 4h0m2-4h0m0-1h0m10 6h0m2-5h0m2 0h0m1 0h0m4 0h0m3 0h0m1 1h0m1 2h0m1-1h0m1 1h0m1 1h0m3 0h0m0 0h0m3-2h0m1-2h0m1 3h0m0-4h0m0 4h0m0 2h0m2-5h0m0 2h0m1 1h0m7-2h0m1 4h0m1-5h0m2 0h0m1-1h0m0 5h0m1-1h0m0-2h0m0 0h0m1 1h0m0-3h0m0 3h0m1-1h0m0 4h0m0-4h0m1 0h0m0-1h0m0 3h0m1-1h0m0-2h0m0 2h0m1 2h0m0-3h0m0-2h0m1 3h0m0 3h0m1-3h0m1 0h0m0 0h0m4 2h0m0 1h0m50-4h0m5 0h0m-240 7h0m46 2h0m2 1h0m1-4h0m0-1h0m1 5h0m0-5h0m0 5h0m0-2h0m0-4h0m0 1h0m1 3h0m0 1h0m1-4h0m0 3h0m0 1h0m1-2h0m0 3h0m0-1h0m0-4h0m0 0h0m1 4h0m0-4h0m1 1h0m0 0h0m0-1h0m1 3h0m2-2h0m1 2h0m1 0h0m0-1h0m2 0h0m1-1h0m0 3h0m0-2h0m0-3h0m1 5h0m0-3h0m0-1h0m1-1h0m2 1h0m2 4h0m1-3h0m2 2h0m1-3h0m0-1h0m0 2h0m2 0h0m0 0h0m0 0h0m1-2h0m4 6h0m0-6h0m0 5h0m0-1h0m1-1h0m0-2h0m1-1h0m0 3h0m2-2h0m4 4h0m0 1h0m2-1h0m0-5h0m2 4h0m2-4h0m0 1h0m0 2h0m0-2h0m2 1h0m7 0h0m1 1h0m1 1h0m1 2h0m2-3h0m1-1h0m0 4h0m0-6h0m0 6h0m1-6h0m1 4h0m1 1h0m0-4h0m1 2h0m1 2h0m0-3h0m2 3h0m1-3h0m0 2h0m1-2h0m0 3h0m0-1h0m1 1h0m2-4h0m0 0h0m1 0h0m0 0h0m2-1h0m1 3h0m0-2h0m2 2h0m3 0h0m0 1h0m5 0h0m0-3h0m0 0h0m2 3h0m0 0h0m0 0h0m1-1h0m1-1h0m0-1h0m0 1h0m0-1h0m1 4h0m4-4h0m2 3h0m0-1h0m0-1h0m0 0h0m2-1h0m2 0h0m0 3h0m1 1h0m1-3h0m1 1h0m2 1h0m2-2h0m0-2h0m0 3h0m1 1h0m0 0h0m1-3h0m3 3h0m1-3h0m0 3h0m2-2h0m0 1h0m1 2h0m0 1h0m0 0h0m0-4h0m1 0h0m2 2h0m0-3h0m1 4h0m1 1h0m0 0h0m1-1h0m2-5h0m1 5h0m1-5h0m1 1h0m0 4h0m2-3h0m1 0h0m1 0h0m0-2h0m0 2h0m0 4h0m1-2h0m1 2h0m0-3h0m1 1h0m0 2h0m1-2h0m0-4h0m0 5h0m0-5h0m1 1h0m0 0h0m0 0h0m0 2h0m0-1h0m2 2h0m0 2h0m1-2h0m0 1h0m-146 6h0m1-3h0m1 1h0m0 1h0m1-1h0m0 0h0m0 0h0m1-2h0m0 3h0m1 2h0m0-4h0m1 2h0m0-1h0m0 1h0m0-1h0m0 0h0m0-1h0m1 3h0m2-4h0m1 1h0m1-1h0m0 3h0m0-3h0m1 4h0m1-1h0m1 1h0m1-2h0m1-1h0m0 3h0m1-5h0m1 0h0m1 2h0m1-2h0m1 1h0m1 3h0m0-3h0m1 0h0m0 3h0m0 1h0m2 0h0m0-2h0m1-1h0m0 1h0m0 0h0m1-1h0m1-1h0m0 4h0m2-2h0m1 1h0m1-4h0m0 3h0m0-1h0m1-1h0m1 0h0m0 4h0m0-2h0m2 0h0m0 2h0m0-1h0m1 0h0m0-3h0m1 3h0m0-3h0m1 1h0m0-1h0m0 2h0m0 3h0m0 0h0m1-1h0m1 0h0m3-4h0m1 5h0m1-2h0m0-1h0m1-1h0m4-2h0m1 5h0m0-1h0m1 1h0m2-4h0m0 3h0m1-1h0m0 3h0m1-2h0m0-3h0m4 1h0m2-2h0m1 3h0m5 2h0m1-4h0m0 1h0m1 0h0m1 2h0m1-2h0m1 1h0m6 0h0m0 0h0m0 3h0m1-3h0m1-1h0m0 0h0m1-1h0m2-1h0m1 5h0m2-1h0m0 1h0m1-1h0m1-3h0m0 1h0m2 4h0m0-2h0m4-3h0m0 0h0m3 1h0m6-2h0m0 5h0m0 1h0m1-6h0m0 2h0m2 0h0m0 1h0m1 1h0m1 1h0m6-1h0m0 1h0m0-4h0m1 4h0m1 0h0m1-1h0m1 0h0m0 2h0m0-5h0m1 0h0m0 2h0m0 2h0m1-3h0m0 0h0m1 3h0m0-3h0m1-1h0m0 5h0m1-1h0m1 0h0m0 0h0m0-2h0m2 0h0m0 0h0m1 2h0m3 1h0m1-1h0m0 0h0m1-1h0m0-4h0m1 1h0m0 5h0m0-2h0m3-4h0m2 2h0m0 0h0m0 1h0m2-3h0m3 0h0m2 4h0m0-3h0m0 0h0m0 0h0m1 4h0m0-4h0m0 1h0m0 1h0m0-2h0m1 4h0m1-2h0m0 1h0m0 2h0m0-1h0m0-1h0m1 2h0m-201 5h0m0-2h0m47 3h0m2-3h0m1 0h0m1 0h0m1 2h0m1-1h0m0-4h0m0 1h0m1 3h0m0-2h0m0 3h0m1-4h0m0 1h0m1 1h0m0 2h0m0-1h0m1-2h0m0 0h0m3 4h0m0-1h0m2-4h0m0 0h0m0 4h0m1-1h0m0-1h0m0 1h0m1-1h0m0-2h0m0 3h0m0 0h0m1 0h0m1 0h0m0-1h0m1 0h0m0 2h0m1 1h0m0-2h0m5-3h0m2 2h0m1-1h0m0-2h0m0 4h0m0-4h0m1 4h0m2 0h0m3-1h0m0 2h0m0-2h0m1 1h0m1-3h0m1 3h0m0-3h0m2 4h0m0-5h0m1 4h0m8-1h0m1-1h0m0 1h0m1-2h0m0 1h0m1-2h0m1 1h0m0 4h0m1-2h0m0-1h0m0 1h0m0-2h0m0 1h0m1 3h0m1 0h0m0-3h0m1 4h0m0 0h0m0 0h0m3-5h0m0 2h0m0 2h0m0-5h0m1 1h0m1 1h0m2-1h0m2 1h0m0 0h0m3 1h0m1 1h0m2-2h0m0 2h0m0-2h0m1 2h0m0 1h0m1-2h0m13-1h0m1 2h0m0 1h0m0-1h0m1-2h0m1-1h0m0 5h0m1-6h0m1 0h0m0 5h0m0-3h0m0 1h0m1 1h0m0 0h0m1 0h0m1-2h0m1 2h0m0 1h0m3-3h0m2-2h0m2 4h0m1 0h0m10-2h0m2 2h0m3-2h0m0 2h0m0-2h0m1 4h0m1-2h0m0-3h0m0 3h0m0 0h0m0-2h0m1 2h0m0 0h0m1-2h0m0-2h0m1 2h0m0-1h0m1 4h0m1-2h0m0 2h0m2-4h0m0 4h0m1-2h0m0-3h0m0 4h0m1 0h0m3-3h0m0 1h0m0 1h0m0 3h0m0-1h0m0 1h0m1-3h0m1-3h0m1 1h0m1 0h0m1 3h0m0-4h0m3 5h0m1 0h0m3-1h0m3 1h0m0-2h0m1-1h0m3-1h0m0 3h0m1-2h0m0 3h0m1-3h0m1 3h0m1 0h0m1 0h0m1 1h0m0 0h0m0 0h0m-206 1h0m44 5h0m1-4h0m1 2h0m1-1h0m0 2h0m0-4h0m1 2h0m2 2h0m1 0h0m1 0h0m0 1h0m1-1h0m0-1h0m1-3h0m0 0h0m0 0h0m1 1h0m0 0h0m0 0h0m0 0h0m3 2h0m0-3h0m0 3h0m1-3h0m1 2h0m0-1h0m1 0h0m0-2h0m5 6h0m1 0h0m1-2h0m1 1h0m1-4h0m0 2h0m1 0h0m0 0h0m1 0h0m1 2h0m7 0h0m1-1h0m1 0h0m0-2h0m1 3h0m3-4h0m3 5h0m0 0h0m2-6h0m2 4h0m6 2h0m1-2h0m1 1h0m2-2h0m2-2h0m2 3h0m1-1h0m0-2h0m1 0h0m0 3h0m0-4h0m1 3h0m0 1h0m0 0h0m1-1h0m0 2h0m1-4h0m0 2h0m1-1h0m4 0h0m2-2h0m0 3h0m1 2h0m1-3h0m0 2h0m2-1h0m1-1h0m0 4h0m9-4h0m1-1h0m2 1h0m2 0h0m1 3h0m3-1h0m0-1h0m1 3h0m3-4h0m1 2h0m0 1h0m1-1h0m2-3h0m1 1h0m0-1h0m2 4h0m4 0h0m3 0h0m1 0h0m1 1h0m1-1h0m1-1h0m1 0h0m0 1h0m1-2h0m0-1h0m1-1h0m9 5h0m2-4h0m0-1h0m0 1h0m2 0h0m1 3h0m1-3h0m0 4h0m3-4h0m0 3h0m0-5h0m0 1h0m0 5h0m1-1h0m1-1h0m1-1h0m0-1h0m1 0h0m1-2h0m1 5h0m0 1h0m0-1h0m0 0h0m4 1h0m1-3h0m2-2h0m0 5h0m1-3h0m4-2h0m1 3h0m2-2h0m1 0h0m-215 10h0m54-5h0m1 0h0m1 2h0m0-2h0m1-1h0m2 3h0m1 1h0m2 1h0m2-1h0m0-2h0m2 0h0m0 4h0m0-3h0m0 1h0m2-4h0m1 1h0m1 2h0m1-1h0m1 0h0m0-2h0m2 2h0m1 2h0m0-4h0m1 0h0m1 3h0m1 3h0m1 0h0m1-1h0m0-1h0m1 1h0m0-4h0m2 0h0m1 1h0m0 1h0m1 0h0m2 0h0m1 2h0m1-3h0m1 0h0m1 1h0m0 1h0m2 1h0m0-2h0m2 3h0m0-1h0m1-2h0m0-2h0m1 3h0m0 1h0m1-1h0m2 0h0m0-3h0m4 2h0m2-2h0m1 1h0m1 2h0m6-1h0m2-1h0m2 0h0m5 1h0m0 0h0m1 1h0m11 1h0m1-1h0m3 2h0m3-1h0m2-2h0m1 0h0m1 2h0m2-5h0m0 0h0m1 0h0m1 2h0m0 2h0m0 1h0m4-5h0m1 3h0m1-1h0m2-1h0m1 0h0m2 1h0m2 3h0m2 1h0m2-5h0m3 0h0m2-1h0m0 4h0m0-1h0m2 2h0m0 0h0m2-5h0m0 5h0m2-5h0m1 2h0m7 4h0m1 0h0m2-2h0m0-3h0m2 2h0m2 0h0m0 0h0m2-2h0m1-1h0m0 5h0m1-5h0m0 2h0m4 4h0m4-5h0m2 5h0m0-4h0m0 0h0m0 2h0m1 0h0m2 2h0m1-2h0m0-2h0m1 3h0m0-3h0m0 0h0m0 4h0m1 0h0m0-3h0m0-2h0m0 5h0m1-4h0m0-2h0m0 3h0m1 2h0m0-1h0m2-4h0m-152 6h0m0 1h0m1-1h0m2 3h0m0 3h0m1-1h0m1-1h0m0 1h0m0-1h0m2-1h0m1 1h0m1 0h0m1-1h0m1-1h0m1 0h0m0 3h0m0-2h0m3 2h0m0-1h0m1 0h0m0-3h0m1 4h0m0-2h0m1-2h0m0 3h0m1-2h0m1 3h0m0-2h0m0 2h0m1 0h0m0-3h0m2 2h0m0 2h0m1-3h0m1-3h0m2 0h0m1 1h0m0 1h0m2 2h0m1 0h0m1 1h0m0-5h0m0 4h0m5-1h0m1-2h0m1 3h0m5-4h0m0 4h0m5-2h0m2-2h0m0 0h0m3 1h0m1 5h0m2-2h0m1-2h0m3 0h0m2-1h0m0-1h0m4 2h0m1 0h0m1-1h0m1 0h0m2 4h0m3-3h0m1-1h0m0 4h0m5-5h0m0 2h0m1 0h0m1 1h0m8-2h0m3 3h0m0-4h0m1 3h0m0 0h0m1 0h0m0 1h0m0 1h0m0-4h0m1 1h0m1-2h0m1 4h0m0 1h0m4-4h0m0 4h0m1-4h0m0 1h0m1 3h0m0-5h0m1 1h0m1 0h0m1 5h0m0-2h0m0-4h0m1 1h0m1 4h0m0-2h0m1 1h0m0 0h0m1-1h0m0 0h0m1-1h0m2 3h0m4-2h0m0 1h0m1 1h0m0-2h0m0 3h0m6-2h0m1 2h0m4-5h0m1 2h0m1-3h0m2 4h0m1 2h0m0-2h0m0-2h0m1 2h0m0 0h0m1-1h0m1 2h0m4-4h0m4 4h0m0-1h0m1-4h0m1 1h0m64 3h0m-208 7h0m0-5h0m1 3h0m0 0h0m3 0h0m0-2h0m1 4h0m1-2h0m2 1h0m1-3h0m1 3h0m0 0h0m5-3h0m0 2h0m1 1h0m1-1h0m1 1h0m1-3h0m0-1h0m2 1h0m7-1h0m2 5h0m1 0h0m0-3h0m1-2h0m1 5h0m2-5h0m3 3h0m3 3h0m1 0h0m3-1h0m1-2h0m0 2h0m2-4h0m0-1h0m4 5h0m1-4h0m2-1h0m10 5h0m3 1h0m4-4h0m1 2h0m1 0h0m0 1h0m3 1h0m3 0h0m4 0h0m8-5h0m2 0h0m3 4h0m3-3h0m0 3h0m0-2h0m1 1h0m1-3h0m8-1h0m3 2h0m0-1h0m1 2h0m0 2h0m1 1h0m2 0h0m1-1h0m8-2h0m0 3h0m1-4h0m1-1h0m1 2h0m2-1h0m0 2h0m4-2h0m1 1h0m0 1h0m2 0h0m0-1h0m1 3h0m0-4h0m7 0h0m65 0h0m3 2h0m1 0h0m0 1h0m-292 5h0m79-1h0m4 2h0m2-4h0m5 1h0m0-1h0m1 4h0m0-4h0m1-1h0m6 4h0m2 0h0m3-2h0m9 3h0m3-3h0m1 2h0m4 1h0m1-1h0m6-1h0m0 1h0m0-2h0m1 0h0m1 2h0m0-1h0m1 1h0m1 0h0m6 0h0m2-2h0m2 3h0m1-4h0m5 0h0m2 3h0m2-1h0m3-3h0m0 6h0m1-5h0m0 1h0m1 1h0m1 1h0m1-4h0m12 6h0m2-5h0m6 0h0m2-1h0m16 1h0m7 3h0m1-3h0m1 2h0m0 1h0m0 0h0m4-2h0m0-2h0m3 3h0m1 3h0m1-4h0m0 1h0m1 1h0m1-3h0m0 2h0m2 3h0m0-4h0m5 3h0m2 0h0m-147 6h0m1-1h0m2-4h0m1 1h0m1 5h0m0-3h0m1 1h0m1-3h0m1 0h0m0 0h0m13-1h0m2 0h0m1 2h0m1 3h0m1-2h0m0-2h0m0 1h0m2 4h0m0-4h0m2-2h0m0 2h0m1 2h0m1 1h0m0-5h0m1 1h0m3 4h0m0-5h0m0 0h0m2 1h0m6 2h0m0 0h0m2 3h0m0-4h0m3-2h0m4 2h0m1 1h0m2 3h0m1-5h0m1 0h0m0 3h0m1-1h0m3-3h0m10 1h0m2-1h0m2 4h0m0 0h0m2-1h0m0-1h0m1 3h0m2-3h0m1 4h0m0-1h0m50-2h0m4-2h0m6 5h0m0-5h0m9 5h0m-234 1h0m83 1h0m0-1h0m2 4h0m0-1h0m0-2h0m3 0h0m0-2h0m1 6h0m1-4h0m0 2h0m0-3h0m1 4h0m2 0h0m2-1h0m3-2h0m3 0h0m1 4h0m0-5h0m1 1h0m0-2h0m0 1h0m0 3h0m1-4h0m2 6h0m0-4h0m2 3h0m1-4h0m0 3h0m1-2h0m0 0h0m0-1h0m1 0h0m1 4h0m1 0h0m0-3h0m2 0h0m2 3h0m0 0h0m1-3h0m2 2h0m2 0h0m4 0h0m0-3h0m2 1h0m6 0h0m3 3h0m8-5h0m2 3h0m2 0h0m0 1h0m1 0h0m0-1h0m3-2h0m5 2h0m11 3h0m0-5h0m0 0h0m1-1h0m51 6h0m1-3h0m5 0h0m11 1h0m-197 8h0m4-3h0m37 2h0m0-5h0m2 4h0m1-3h0m2 0h0m2 0h0m2 3h0m4-1h0m2 0h0m0-2h0m3 2h0m1-1h0m0 1h0m1 2h0m0-2h0m2 0h0m2-3h0m1 3h0m2 3h0m1 0h0m5-5h0m4 2h0m9-3h0m0 3h0m2-1h0m4 1h0m5-2h0m2 3h0m0 0h0m2-1h0m1-3h0m0 0h0m3 1h0m9 4h0m1 1h0m0-1h0m3 1h0m1-2h0m0 1h0m2-1h0m0 0h0m1-2h0m2 0h0m1-1h0m52 1h0m1 0h0m6 3h0m0 0h0m2-3h0m0 2h0m2-1h0m1 1h0m1-2h0m0-1h0m3 2h0m4 0h0m2-1h0m3 4h0m7-1h0m0-1h0m3 0h0m3 1h0m52 0h0m-316 5h0m1-3h0m45 0h0m0 4h0m1 0h0m2 0h0m1 0h0m3-4h0m0 0h0m1 2h0m0 0h0m1-1h0m1 2h0m3 1h0m1-1h0m6 2h0m8-1h0m2 0h0m2-2h0m4 2h0m8-1h0m1 2h0m4-6h0m1 2h0m1-1h0m3 3h0m0-2h0m0 0h0m0 1h0m0-1h0m8 0h0m6 0h0m5 2h0m1-2h0m0-1h0m3 2h0m1-1h0m2 2h0m1 1h0m1 1h0m0-4h0m1-1h0m0 3h0m0 2h0m0-4h0m1 2h0m6-3h0m2 2h0m3-2h0m3 1h0m3 2h0m11 1h0m4 1h0m0-2h0m1-2h0m0 3h0m0-3h0m3 0h0m1 4h0m4-5h0m57-1h0m0 2h0m3-2h0m1 6h0m2-3h0m1 1h0m1-1h0m0 3h0m1-2h0m1-2h0m1-1h0m0 2h0m1-1h0m1 0h0m1 4h0m1 0h0m1-5h0m0 4h0m0-3h0m3 4h0m1-6h0m1 2h0m1 2h0m0-1h0m1 2h0m0-2h0m2 1h0m0 1h0m0 1h0m0-2h0m1 0h0m0 1h0m1-1h0m0 2h0m0-5h0m1 2h0m0 0h0m1 2h0m0 0h0m2-1h0m0-1h0m1 2h0m1-4h0m0 2h0m1-2h0m0 0h0m1 4h0m0 1h0m1-4h0m1 1h0m1 2h0m0 0h0m0-4h0m0 3h0m2 2h0m0-2h0m2-4h0m0 3h0m1 1h0m1 2h0m-274 1h0m1 1h0m2-2h0m42 5h0m0-4h0m0 1h0m1 2h0m0-3h0m0 2h0m1 1h0m0 2h0m1-2h0m0-3h0m0 5h0m0 0h0m1-5h0m1 1h0m0 4h0m1-6h0m6 4h0m2-2h0m1-1h0m0-1h0m0 4h0m1-1h0m4 1h0m0-2h0m2-1h0m1 1h0m2 2h0m3-4h0m0 4h0m2 1h0m1-2h0m0 2h0m1 1h0m1-3h0m4 0h0m3 1h0m2 1h0m2-4h0m2 3h0m3 2h0m2-1h0m0-3h0m0-1h0m1 1h0m0 3h0m3 1h0m2-1h0m0-2h0m4 3h0m1-2h0m1 2h0m0 0h0m1-3h0m1-3h0m2 5h0m1 1h0m2 0h0m2-3h0m3-3h0m3 6h0m2 0h0m5-3h0m9 3h0m1 0h0m19-4h0m2-1h0m0 0h0m4 1h0m1-1h0m2 4h0m1-4h0m8 1h0m52-1h0m2 4h0m0-3h0m1 3h0m0 0h0m1-2h0m1 0h0m0-1h0m2 4h0m0-4h0m5 3h0m1-4h0m1 1h0m2 3h0m0-2h0m0 0h0m0-1h0m1-1h0m0 1h0m1 2h0m1 2h0m0-4h0m0 0h0m1-1h0m1 0h0m0 2h0m0-1h0m0 0h0m2 0h0m1 3h0m1-5h0m1 1h0m0 0h0m0 1h0m1-1h0m1 1h0m0 1h0m2-1h0m0 0h0m1 3h0m1 0h0m0-2h0m1 3h0m0-6h0m1 1h0m0 2h0m0-2h0m1-1h0m1 5h0m0 0h0m1-2h0m0-2h0m0 2h0m1 0h0m1-1h0m0-2h0m0 1h0m0 2h0m0 3h0m0-2h0m1-1h0m0-2h0m0 3h0m0-3h0m1-1h0m1 5h0m0-5h0m54 3h0m-325 5h0m0-1h0m40 5h0m5-6h0m1 2h0m1 1h0m0-3h0m1 3h0m0-1h0m0 2h0m1 0h0m0-2h0m0 3h0m0-1h0m1-1h0m4 1h0m0-3h0m2 0h0m1 2h0m0-1h0m1 0h0m1 0h0m0 1h0m3-1h0m0 3h0m0-3h0m0-1h0m2 1h0m0-1h0m1-1h0m2 4h0m1-3h0m2 4h0m5-4h0m2 4h0m0-5h0m1 2h0m0-1h0m1 3h0m3 0h0m0-4h0m3 3h0m2 0h0m1 1h0m0-2h0m3-2h0m2 3h0m0 1h0m1 2h0m2-1h0m5-3h0m0 2h0m1 1h0m0 1h0m1-4h0m0 4h0m3-4h0m2 2h0m6-3h0m0 0h0m1 1h0m54-1h0m59 1h0m1 1h0m2 2h0m0-4h0m1 5h0m0 0h0m1-1h0m1-1h0m1-3h0m0 1h0m5-2h0m1 1h0m1 4h0m1-2h0m0-2h0m2 3h0m0 1h0m0 1h0m1-4h0m1 4h0m5-1h0m4-5h0m1 2h0m1 2h0m1-2h0m0 3h0m0-2h0m1-1h0m1 1h0m1 0h0m0 0h0m0-2h0m0 0h0m2 4h0m2-3h0m1-1h0m0 1h0m0 2h0m0 0h0m0 0h0m1 1h0m0-1h0m2-3h0m0 3h0m1-1h0m1 3h0m2-1h0m1 0h0m0 0h0m1-3h0m1 0h0m0 4h0m0-3h0m0 1h0m0-4h0m1 2h0m0 4h0m1-3h0m0 1h0m2 1h0m-286 2h0m44 0h0m0 0h0m0 1h0m1-2h0m1 2h0m0-1h0m1 5h0m0-5h0m5 2h0m1 0h0m0 0h0m3 0h0m0-1h0m0 0h0m1 3h0m0-1h0m1-1h0m1 1h0m0 2h0m0-1h0m0-4h0m1 1h0m0-1h0m1 0h0m0 4h0m1 0h0m0-5h0m0 0h0m3 2h0m1 2h0m0 1h0m1 0h0m6-4h0m1 2h0m0 1h0m1 1h0m1-1h0m1-3h0m2 1h0m2 2h0m0 0h0m2-2h0m1 0h0m0-2h0m1 4h0m3 0h0m0-3h0m1 2h0m9-1h0m127 3h0m9-1h0m1-4h0m1 0h0m0 2h0m1 4h0m0-5h0m0 0h0m1 1h0m0 2h0m2-3h0m2 1h0m1 1h0m1-3h0m0 5h0m1-2h0m3-3h0m2 2h0m0-2h0m0 4h0m1-2h0m1 0h0m0-1h0m2 0h0m2 0h0m0-1h0m1 5h0m1-2h0m1 2h0m0 0h0m1-2h0m1 3h0m0-1h0m0-3h0m1-1h0m0 2h0m0-1h0m1 2h0m1-1h0m0 1h0m0-3h0m0 0h0m0 1h0m1 2h0m0-2h0m0 3h0m0-4h0m1 2h0m0 0h0m1-1h0m5 0h0m0 3h0m1 0h0m1 1h0m1-1h0m1 0h0m0-3h0m0 2h0m0-1h0m1 2h0m0-4h0m1 4h0m0-2h0m0-3h0m0 1h0m1 0h0m0 4h0m0-3h0m0 1h0m1-3h0m0 5h0m1-1h0m1 1h0m0 1h0m0-2h0m0-3h0m0 3h0m2 0h0m1 0h0m0-3h0m1 5h0m0-2h0m0-1h0m1 0h0m2 2h0m0-1h0m0 2h0m-294 4h0m44 2h0m0-1h0m1-1h0m0 1h0m1-2h0m0 2h0m5 0h0m1 1h0m0-4h0m1 2h0m1-2h0m1 3h0m0 0h0m0-2h0m1-2h0m0 1h0m1 3h0m0-1h0m1-3h0m0 2h0m1 0h0m1 1h0m0-2h0m0 4h0m0-1h0m0-2h0m2 0h0m1-2h0m1 4h0m4-5h0m1 3h0m0 0h0m2 0h0m0 0h0m0 1h0m1-1h0m0 1h0m2-1h0m1 0h0m6-2h0m0 4h0m5-1h0m2 0h0m137-1h0m4 0h0m2 1h0m4-2h0m2 3h0m4-4h0m3 2h0m0 3h0m0-3h0m0 0h0m1-3h0m0 3h0m4 0h0m0-2h0m2 3h0m0-2h0m2 3h0m1-2h0m1 0h0m0 0h0m1 3h0m0-4h0m1 2h0m1-3h0m1 2h0m0 0h0m2 1h0m1-3h0m0 4h0m0-4h0m0 1h0m1 3h0m1-3h0m0-1h0m1-1h0m2 3h0m0 0h0m0-3h0m1 3h0m0 0h0m1-2h0m2 0h0m1 0h0m0 0h0m0 0h0m0 1h0m1 1h0m3 2h0m0-2h0m0 1h0m0 2h0m1-2h0m0-4h0m1 5h0m0 0h0m0-3h0m1 1h0m1-2h0m1 2h0m0 1h0m1-2h0m0 0h0m1-2h0m0 6h0m2-3h0m2-2h0m1 5h0m0 0h0m0 0h0m0-3h0m0-2h0m1 0h0m1 0h0m1 1h0m2 3h0m1-3h0m-243 7h0m1-2h0m1 2h0m0-3h0m3 5h0m0-5h0m0 2h0m0 2h0m0-3h0m2 0h0m0 3h0m0 2h0m1-1h0m0-1h0m3 0h0m4 2h0m4-1h0m1-4h0m1 4h0m1-2h0m2-2h0m5-1h0m164 4h0m2-2h0m2 3h0m0-2h0m0 1h0m1-3h0m0 3h0m0-4h0m1 3h0m0-2h0m1 1h0m0 4h0m4 0h0m1-5h0m1 0h0m0 4h0m1-5h0m0 1h0m2 3h0m2 0h0m3 1h0m0-4h0m0 3h0m0-2h0m0 2h0m1 1h0m0-4h0m1 0h0m0 3h0m0 2h0m4-1h0m0-1h0m1-1h0m1 0h0m0 0h0m0 1h0m1-3h0m0 2h0m0 0h0m1 0h0m0-1h0m1 0h0m0 1h0m0-1h0m1 0h0m0 0h0m1-1h0m0-1h0m1 4h0m0-2h0m0 0h0m1 1h0m0 0h0m0 1h0m1 1h0m1-1h0m0 0h0m1 0h0m0-2h0m1 0h0m2 0h0m0 0h0m0-2h0m1 0h0m1 6h0m1-5h0m1 5h0m0-3h0m2-1h0m0 0h0m2 3h0m0-3h0m3 2h0m1-2h0m1 0h0m1 0h0m48 0h0m-349 6h0m44 2h0m1-1h0m1-3h0m1 3h0m0-1h0m1 1h0m1 2h0m0-4h0m3 3h0m0-2h0m1 3h0m2-3h0m0 2h0m0-3h0m0 4h0m0-5h0m0 3h0m1-2h0m2 3h0m0-3h0m3 3h0m0 0h0m1 0h0m0 0h0m1 2h0m1-1h0m1-4h0m2 1h0m1 0h0m1-2h0m174 1h0m0 3h0m0-4h0m0 1h0m5 0h0m0 1h0m6-2h0m9 1h0m2-1h0m0 2h0m0 0h0m1 1h0m2 1h0m0-1h0m1-2h0m0-1h0m2 5h0m0-4h0m1 0h0m0 5h0m1-1h0m1-3h0m0-1h0m2 2h0m0 2h0m1-3h0m1 1h0m0 2h0m1 0h0m1-1h0m0 1h0m1-5h0m3 1h0m1 1h0m0-1h0m0-1h0m1 3h0m1 0h0m0 2h0m1-4h0m0-1h0m0 0h0m3 3h0m0-2h0m1 2h0m0 2h0m1-2h0m1 2h0m2 0h0m1-1h0m0 0h0m1-3h0m0 5h0m0-4h0m0 2h0m1-2h0m0 0h0m1 2h0m1-1h0m-252 8h0m2-1h0m1 2h0m1-2h0m0-1h0m0 1h0m0-3h0m0 4h0m1-3h0m1 2h0m0 0h0m0-4h0m2 3h0m1 0h0m0-1h0m1-1h0m1 2h0m3-3h0m210 1h0m1 1h0m1 3h0m1-2h0m0-2h0m1 3h0m1-3h0m1 1h0m0 1h0m1 2h0m2-1h0m1 1h0m0-3h0m2 3h0m1-3h0m3 1h0m4-2h0m1-1h0m3 1h0m0 1h0m0 0h0m1-1h0m0 0h0m1 2h0m0 0h0m0-2h0m0 4h0m0-5h0m1 4h0m1-1h0m0-2h0m0 2h0m0-3h0m1 2h0m0 1h0m1-1h0m-311 7h0m61-2h0m0 0h0m242 1h0m1 1h0m0-1h0m1 2h0m1-2h0m0 1h0m1-2h0m1 0h0m0 0h0m1 0h0m2 3h0m4 1h0m4 6h0m0-2h0m0 0h0m0-1h0m1-2h0m1 6h0m0-3h0m2-2h0m0 2h0m1-2h0m2 3h0m1 1h0m-53 6h0m1-1h0m1-3h0m45-1h0m1 3h0m1 0h0m1-2h0m0 2h0m0 0h0m1 0h0m1 1h0m0-1h0m1 2h0m0-1h0m1-3h0m-292 10h0m241-2h0m1-2h0m0 0h0m2 2h0m1 1h0m47-3h0m1 0h0m1 2h0m0 0h0m1 0h0m0-1h0m0 2h0m3 1h0m43-3h0m-388 6h0m291-1h0m0-1h0m56 2h0m48 0h0m0 4h0m-397 10h0m404 1h0m0-1h0m6 9h0m2 5h0m-414 10h0m423 6h0m1 3h0m17 40h0m1-3h0m3 9h0m0 3h0m3 3h0" stroke="#461365" stroke-width="3.4"/><path d="M1650 159h0m-16 3h0m1-1h0m0 1h0m2 0h0m1 0h0m2 0h0m1-1h0m1 0h0m1 0h0m0 1h0m1 1h0m1 1h0m0-4h0m0 0h0m0 3h0m1-1h0m0-3h0m0 4h0m0 0h0m1-2h0m0 1h0m0 2h0m0 0h0m0-3h0m1-1h0m1 5h0m1-5h0m0 1h0m0 3h0m2-1h0m1 0h0m-42 7h0m2 0h0m0-1h0m1 0h0m0 0h0m1 1h0m0-1h0m0 1h0m1-2h0m1 2h0m0-3h0m1 0h0m0 1h0m0-1h0m0 0h0m3 0h0m1 1h0m22-3h0m1 2h0m1 1h0m1-1h0m1-1h0m0 2h0m1 2h0m0-1h0m0-2h0m-38 5h0m2 0h0m1 5h0m1-5h0m0-1h0m2 2h0m1-1h0m29 5h0m1-5h0m0 4h0m1-3h0m0 4h0m1-2h0m0-4h0m1 2h0m3 4h0m5-4h0m1 3h0m2-2h0m-54 6h0m3 0h0m1 0h0m0 2h0m1 0h0m1 1h0m0-2h0m1-2h0m0 2h0m1-2h0m0 0h0m1-2h0m1 2h0m1 2h0m0-2h0m1 2h0m1-2h0m0 0h0m1-1h0m26 2h0m0 0h0m1-2h0m1 4h0m2-1h0m2-1h0m3 2h0m-45 6h0m0-3h0m1-2h0m0 5h0m1 0h0m0-2h0m1-1h0m1 1h0m0-1h0m1 1h0m1 1h0m0-3h0m1 0h0m1 4h0m10 0h0m14-2h0m0 0h0m1 1h0m2-2h0m2-1h0m1-1h0m-37 11h0m3-5h0m1 4h0m5-1h0m2 2h0m2 0h0m1-1h0m2 1h0m1-5h0m0 5h0m1-2h0m0-2h0m0 1h0m0 4h0m3-1h0m0-1h0m2-1h0m0 0h0m1-2h0m1 1h0m0 1h0m4-1h0m0 3h0m2-1h0m2 1h0m1-4h0m0 4h0m5-1h0m2 0h0m-32 3h0m4 2h0m2-2h0m2 2h0m0-2h0m0 0h0m1 1h0m0 0h0m7-2h0m2 2h0m4 0h0m0-2h0m1 1h0m4 0h0m-12 5h0m-71 23h0m1 0h0m4 1h0m1-1h0m154 1h0m4 0h0m-168 5h0m2-2h0m5-1h0m1 0h0m3 2h0m1 1h0m149-1h0m3 0h0m2 0h0m4-4h0m2 5h0m1 0h0m1 1h0m2-3h0m-176 4h0m13 3h0m1-4h0m0 0h0m0 5h0m0-5h0m0 1h0m1 0h0m0 2h0m0 1h0m2 0h0m0 0h0m1 1h0m0-4h0m2-1h0m1 6h0m140-1h0m3-1h0m1 1h0m0 0h0m2-2h0m0 0h0m0-2h0m1 0h0m0 4h0m1-1h0m2 1h0m0-1h0m0 0h0m1-1h0m0-2h0m2 3h0m3-2h0m0 0h0m-163 9h0m0-3h0m0-1h0m2-1h0m3 1h0m4 4h0m0-2h0m1 0h0m2 0h0m2 0h0m0 3h0m95 0h0m1-3h0m10 2h0m1 1h0m16-1h0m14 0h0m4-5h0m1 1h0m0 1h0m1 0h0m1 0h0m0 1h0m4 1h0m-156 3h0m2 0h0m1-1h0m94 5h0m4-1h0m2-2h0m2 1h0m0-2h0m1 2h0m0 1h0m9 0h0m6 1h0m4-4h0m1 4h0m1-1h0m2-3h0m4 1h0m2 4h0m1-3h0m1 1h0m1-1h0m1 1h0m1 0h0m1-1h0m0 1h0m5 0h0m3 1h0m5 1h0m-155 1h0m0 0h0m0-1h0m0 5h0m5-5h0m1 0h0m1 3h0m0-3h0m2 1h0m0 0h0m0 2h0m83 2h0m5-1h0m1-2h0m0 3h0m1-4h0m0 0h0m0 1h0m3 2h0m0-2h0m2-1h0m24 1h0m0 2h0m2-1h0m2 0h0m2-1h0m0 1h0m2 1h0m0-4h0m3 1h0m7 1h0m3 2h0m1-3h0m0 0h0m3 0h0m0 3h0m2-1h0m2-1h0m0 4h0m0-3h0m4 0h0m0-2h0m0 5h0m1-1h0m1 0h0m1-1h0m-198 6h0m4 0h0m26-2h0m2 1h0m0 0h0m1 1h0m1 1h0m0-1h0m1-4h0m1 0h0m0 6h0m0-3h0m1-1h0m4 2h0m82 1h0m6-2h0m2 1h0m36-3h0m1 4h0m2 0h0m0-3h0m1 0h0m0 0h0m0-1h0m0 1h0m2 1h0m1-2h0m1 1h0m11 4h0m1-6h0m4 2h0m0 4h0m0-3h0m0-2h0m5 0h0m0 0h0m1 3h0m4 0h0m0-2h0m1 1h0m4 2h0m1 1h0m0-1h0m1 1h0m2-1h0m1 0h0m1-1h0m-215 4h0m0 0h0m1 0h0m1 0h0m2 1h0m0-2h0m2 5h0m0-4h0m2 0h0m0 2h0m1 0h0m1 0h0m0 2h0m2-3h0m6 3h0m14-1h0m2-4h0m2 1h0m3-2h0m0 4h0m0-2h0m89-1h0m1 0h0m44 4h0m0 0h0m2 1h0m0-6h0m1 1h0m0 0h0m0 4h0m3 0h0m2 0h0m8-5h0m7 5h0m3-4h0m2 1h0m6 3h0m2-2h0m1-1h0m0-1h0m1 2h0m0-2h0m0 3h0m0-1h0m1 2h0m1-3h0m0-2h0m2 2h0m1-2h0m2 5h0m-215 3h0m2-2h0m1 4h0m0-4h0m3 2h0m0 2h0m0 1h0m0-5h0m0 4h0m1-1h0m2 1h0m1-3h0m0 0h0m1 2h0m0 1h0m1 0h0m1-1h0m0-3h0m0 2h0m0-1h0m1 1h0m1-1h0m2 1h0m1-2h0m3 2h0m1 0h0m1-2h0m3 2h0m0 3h0m0-2h0m2 1h0m4-1h0m0 0h0m90 2h0m5-1h0m1 1h0m47-2h0m5-1h0m11 0h0m7 0h0m1 2h0m5 0h0m1-2h0m0 1h0m2 0h0m1 1h0m4-2h0m-203 6h0m2-2h0m0 3h0m8-1h0m1 3h0m1-5h0m0 1h0m3 0h0m99 3h0m2-1h0m0-2h0m1 3h0m45 0h0m1 1h0m2-1h0m1 0h0m0 1h0m0-1h0m1-3h0m2 3h0m0 0h0m-48 5h0m2 2h0m2 1h0m32-3h0m1 1h0m3-1h0m0-1h0m4-1h0m1 4h0m2-3h0m-17 9h0m1-3h0m5-1h0m0-1h0m7 1h0m1 2h0m-21 4h0m5 0h0m5-1h0m0 1h0m0 0h0m1-1h0m34 11h0m36-5h0m1 2h0m1 0h0m0 0h0m2 4h0m0 0h0m-261 3h0m0 3h0m0-3h0m1 2h0m4-1h0m1 0h0m202 0h0m2-3h0m1 1h0m1-1h0m0 1h0m1 1h0m1-2h0m3 0h0m5 2h0m1 2h0m0 0h0m31-4h0m1 3h0m1 1h0m1 0h0m3-3h0m0 1h0m2-2h0m0 0h0m0 2h0m2 3h0m-267 1h0m1 2h0m0-2h0m0 0h0m1 3h0m0 1h0m2-3h0m0 2h0m6 1h0m197-5h0m24 4h0m39-1h0m1 0h0m-268 7h0m2-2h0m1 1h0m0 1h0m1 2h0m0-5h0m0 4h0m0 0h0m2-3h0m2 0h0m0 2h0m1-3h0m218 4h0m36-2h0m4-3h0m1 5h0m-269 3h0m0-1h0m2 3h0m225 0h0m45-2h0m-284 9h0m5 1h0m227-3h0m1 2h0m3-1h0m1-3h0m-238 11h0m0-1h0m0-3h0m1 1h0m1-2h0m2 1h0m232-1h0" stroke="#481e70" stroke-width="3.4"/><path d="M1626 164h0m2 1h0m7-2h0m1 0h0m0 0h0m0-1h0m1 2h0m0-1h0m1-2h0m0 1h0m2 1h0m0 2h0m1 0h0m1-1h0m1-1h0m-25 6h0m0-2h0m2 1h0m0 0h0m1 2h0m0-2h0m2 2h0m0-4h0m2 2h0m4-3h0m1 1h0m0 4h0m1-2h0m0-1h0m2 4h0m4-3h0m3 2h0m1-4h0m0 0h0m0 1h0m0 1h0m0 2h0m1 0h0m0-4h0m0 3h0m1-2h0m0 0h0m1 2h0m1 1h0m0 1h0m-27 1h0m1 0h0m2 4h0m0 0h0m1 0h0m14 0h0m5-1h0m0-2h0m1 0h0m1-1h0m1 0h0m1 0h0m0 0h0m0 4h0m0-5h0m0 1h0m1 2h0m0 2h0m1-4h0m1 0h0m-31 6h0m3 2h0m1-3h0m0 3h0m2-1h0m0-1h0m1 4h0m0-2h0m4 2h0m3 1h0m3-4h0m1 0h0m3 0h0m2 2h0m0 1h0m0-1h0m1-1h0m0-1h0m0 3h0m1 0h0m1-1h0m0-1h0m2-1h0m0-2h0m1 1h0m-20 6h0m2 0h0m1 0h0m0 3h0m1-1h0m0-1h0m1-1h0m2 4h0m1 1h0m2-5h0m5 3h0m1-2h0m5 0h0m-14 4h0m-72 47h0m1 0h0m1 0h0m2-4h0m0 4h0m7 0h0m2-1h0m164-1h0m3 2h0m0 1h0m2-4h0m0 1h0m0 3h0m0 0h0m-186 4h0m0-1h0m0-1h0m0-1h0m0 3h0m1 1h0m0-2h0m5-2h0m1-1h0m1 2h0m0-1h0m6 1h0m1 0h0m1 0h0m0 0h0m2-1h0m0 4h0m1 0h0m0-1h0m2 1h0m160-1h0m0-1h0m2 2h0m0-4h0m0 4h0m0 0h0m1-2h0m1 1h0m0-1h0m1 0h0m0 1h0m0 1h0m1-2h0m0 2h0m0-3h0m0-2h0m1 3h0m0-3h0m-193 12h0m1-2h0m0 1h0m2 0h0m1-2h0m18-3h0m0 3h0m0-1h0m1 1h0m1 1h0m1-2h0m1 4h0m0-5h0m161 0h0m1 2h0m0-2h0m2 0h0m0 4h0m1-1h0m1-3h0m1 4h0m2-2h0m0 0h0m5 1h0m-204 7h0m3-1h0m0-3h0m1 5h0m0-4h0m23 0h0m1 4h0m1-5h0m0 4h0m2-1h0m112-2h0m0 3h0m3-4h0m2 4h0m10-2h0m1 3h0m1 0h0m0-3h0m1 0h0m28-3h0m1 1h0m7 2h0m0 1h0m0-3h0m2 2h0m1 2h0m4-1h0m1-3h0m2 3h0m1 1h0m-208 6h0m0-5h0m2 0h0m1 2h0m1-2h0m1 0h0m1 0h0m7 5h0m1 1h0m4-3h0m3-1h0m6-2h0m1 0h0m0 3h0m1-1h0m2-1h0m1 0h0m98 1h0m2 3h0m29-5h0m3 4h0m1-1h0m0 1h0m0 1h0m0 0h0m30-4h0m12-1h0m-200 6h0m1 2h0m1 2h0m0 1h0m1-1h0m0-2h0m1 1h0m1-2h0m1 2h0m1-2h0m0 1h0m1 0h0m0 3h0m1-1h0m116-2h0m0 2h0m0-1h0m-122 4h0m117 0h0m2 4h0m2-1h0m1 0h0m0 0h0m33 1h0m5-1h0m-41 2h0m34 5h0m-29 4h0m2 2h0m0-1h0m1-1h0m3 2h0m18 1h0m0-1h0m5-1h0m1-1h0m0 1h0m-24 4h0m9 3h0m1-1h0m33 20h0m5-3h0m1 1h0m0-1h0m3 1h0m-220 5h0m1 3h0m2-4h0m209-2h0m17 2h0m-229 9h0m0 0h0m1-1h0m0 1h0m1 0h0m0-4h0m0 1h0m1 1h0m1-3h0m0 3h0m226 0h0m0-1h0m1 2h0m0-2h0m-233 5h0m2 3h0m1 1h0m1-3h0m1 1h0m0 2h0m224 1h0m2-3h0m1-2h0m0 1h0m0 0h0m-236 6h0m0 0h0m0 4h0m1 0h0m0-2h0m0-2h0m0-1h0m0 3h0m0 1h0m1-2h0m1 0h0m1 1h0m0-3h0m1 0h0m221 0h0m1 2h0m4-3h0" stroke="#472978" stroke-width="3.4"/><path d="M1648 156h0m2 2h0m24-4h0m8 4h0m2 0h0m-32 2h0m12 4h0m0-4h0m0 2h0m2 2h0m2 0h0m0-2h0m2 2h0m4 0h0m12-4h0m8 4h0m-94 6h0m4-2h0m4 0h0m2 0h0m0 2h0m2 0h0m0-2h0m17 2h0m5-3h0m1 4h0m0-3h0m1 3h0m2-1h0m1 0h0m27-4h0m4 0h0m4 4h0m0-2h0m2 0h0m2 2h0m0-2h0m6 0h0m0 2h0m-90 6h0m4-4h0m0 4h0m2 0h0m0-4h0m2 4h0m2-4h0m2 0h0m0 2h0m19 2h0m5-4h0m1 1h0m1 3h0m1-1h0m1-1h0m0 0h0m2-1h0m2 3h0m1-4h0m1 3h0m1 0h0m37-3h0m2 0h0m2 0h0m0 2h0m2 0h0m2-2h0m2 0h0m0 2h0m2-2h0m0 2h0m0 2h0m2-2h0m2 2h0m2 0h0m-108 6h0m2 0h0m0-2h0m8-2h0m29 1h0m4-1h0m2 2h0m1 0h0m1 3h0m0-4h0m1 0h0m0-2h0m0 0h0m2 2h0m1 1h0m49-2h0m6 2h0m2-2h0m0 2h0m2 0h0m0 2h0m2 0h0m0-2h0m2 2h0m-130 6h0m12 0h0m2 0h0m0-4h0m0 2h0m2 2h0m0-4h0m2 0h0m0 2h0m2-2h0m104 0h0m2 0h0m4 4h0m0-4h0m0 2h0m4-2h0m-138 8h0m2-2h0m12 4h0m2 0h0m130 0h0m2 0h0m-152 4h0m2-2h0m10 4h0m0-2h0m2 0h0m136 0h0m0-2h0m2 0h0m0 2h0m2-2h0m2 2h0m0 2h0m2 0h0m8-4h0m2 2h0m2 2h0m-160 2h0m2 0h0m162 2h0m-172 8h0m2 0h0m2-4h0m2 2h0m152 2h0m2-4h0m0 4h0m2-2h0m0 2h0m2-2h0m2 2h0m-168 6h0m0-4h0m0 2h0m2 0h0m0-2h0m2 0h0m2 0h0m160 2h0m0 2h0m0-4h0m2 0h0m0 2h0m2 0h0m0 2h0m12-4h0m2 2h0m-180 4h0m164 0h0m2 0h0m0 2h0m2 0h0m-172 4h0m192 2h0m2 2h0m-202 11h0m2 0h0m2 1h0m1 1h0m8 0h0m1 0h0m172-1h0m1-2h0m1-1h0m0-1h0m1 4h0m-192 5h0m1-1h0m1 2h0m0 1h0m1-1h0m1 0h0m1-2h0m0 2h0m0-1h0m0-2h0m0 3h0m0-5h0m1 4h0m0-2h0m0 0h0m0 0h0m1 1h0m0-2h0m0 3h0m1-4h0m0 2h0m0 1h0m6-2h0m1 1h0m0 4h0m1-4h0m0 3h0m1-5h0m1 1h0m0 2h0m0 2h0m179-3h0m18-1h0m-214 11h0m0-3h0m1 1h0m0 0h0m0-3h0m0 2h0m0-1h0m1 4h0m1-5h0m0-1h0m1 0h0m1 1h0m4 3h0m0 0h0m1 0h0m0-1h0m0 2h0m2-2h0m0 3h0m0 0h0m1-1h0m0 0h0m0-1h0m1 1h0m1-1h0m1-1h0m0-2h0m0 3h0m2-2h0m0-1h0m120 3h0m0 1h0m2-1h0m1 1h0m-139 2h0m4 4h0m5-3h0m1-1h0m2-1h0m0 0h0m1 1h0m1 0h0m118 4h0m1-1h0m2-2h0m12 0h0m-161 7h0m0 2h0m21-4h0m120-1h0m81 3h0m2 2h0m14 0h0m-256 4h0m10 2h0m0-2h0m4-2h0m142 0h0m1 2h0m2 2h0m28 0h0m57-2h0m0-2h0m0 4h0m2 0h0m2-2h0m10 0h0m-252 8h0m2 0h0m0-4h0m2 0h0m0 4h0m2-4h0m146 2h0m1 1h0m1-2h0m84-1h0m2 4h0m2 0h0m0-4h0m2 0h0m12 4h0m-258 2h0m2 0h0m2 0h0m2 0h0m152 3h0m2 2h0m10-1h0m7-3h0m2-1h0m69 4h0m2-4h0m0 4h0m2 0h0m8-4h0m-264 10h0m2-2h0m2 0h0m0 2h0m246-4h0m4 2h0m0 2h0m2 0h0m2 0h0m10-4h0m-280 8h0m10 0h0m2 0h0m0-2h0m0 4h0m2-4h0m272 4h0m-290 6h0m2-4h0m12 2h0m0-2h0m2 0h0m0 2h0m260 0h0m16-2h0m2 4h0m-296 6h0m0-2h0m16-2h0m218 5h0m0-1h0m66 0h0m-302 4h0m0-2h0m239-1h0m4 3h0m61-2h0m2 4h0m-310 6h0m2-4h0m16 0h0m3 3h0m227 1h0m48-2h0m-282 7h0m1-3h0m0 1h0m2-1h0m1 0h0m230-1h0m0 2h0m0-2h0m56 3h0m12-2h0m-322 10h0m20-5h0m2 0h0m290 5h0m0-2h0m2 0h0m0 2h0m2-2h0m0 2h0m12 0h0m-318 6h0m302-4h0m2 0h0m2 4h0m2 0h0m0-2h0m2 0h0m0 2h0m10-2h0m-320 4h0m2 0h0m306 2h0m2-2h0m-318 10h0m2-4h0m316 0h0m2 2h0m0-2h0m2 4h0m2-2h0m0 2h0m2 0h0m-338 4h0m8 2h0m4-4h0m324 0h0m2 2h0m0-2h0m2 2h0m0-2h0m2 4h0m0 6h0m2-4h0m0 4h0m2-2h0m-2 4h0m4 0h0m0 4h0m2-2h0m0 2h0m2 6h0m0-2h0m2 2h0m-2 4h0m2 0h0m2 0h0m0 6h0m14 0h0m-12 4h0m2 4h0m2-2h0m0-2h0m0 4h0m10-4h0m-6 10h0m0 2h0m2 0h0m0 2h0m2 0h0" stroke="#45347f" stroke-width="3.4"/><path d="M1656 146h0m-42 6h0m4-2h0m2 0h0m42-2h0m6 2h0m4 2h0m-68 6h0m6-4h0m8 4h0m2 0h0m2 0h0m8 0h0m2-2h0m0 2h0m2-2h0m0 2h0m2-2h0m2 2h0m0-4h0m0 2h0m2 0h0m2 2h0m2 0h0m0-2h0m2 2h0m16-4h0m2 2h0m2 0h0m2 2h0m0-2h0m2 2h0m6-4h0m4 2h0m2 0h0m4 2h0m-94 6h0m4-2h0m8 2h0m6-2h0m4 0h0m2 0h0m0-2h0m0 4h0m2-4h0m0 4h0m0-2h0m4 2h0m0-2h0m2 0h0m0-2h0m2 2h0m2 0h0m6-2h0m2 0h0m2 0h0m2 0h0m4 0h0m26 0h0m2 0h0m2 2h0m2-2h0m4 2h0m4 2h0m4-4h0m4 2h0m4 2h0m-110 6h0m2-2h0m2-2h0m4 4h0m4 0h0m0-2h0m2 0h0m2-2h0m0 2h0m2-2h0m2 0h0m2 0h0m2 0h0m2 0h0m2 0h0m6 0h0m64 0h0m2 2h0m0-2h0m2 4h0m2-2h0m2 2h0m6-4h0m2 2h0m2 2h0m-122 6h0m2-2h0m8 2h0m0-2h0m2 0h0m2 0h0m2-2h0m96 0h0m2 2h0m4 2h0m2 0h0m2 0h0m2-4h0m4 2h0m2 2h0m-134 6h0m8 0h0m2-4h0m2 0h0m112 0h0m2 2h0m2 2h0m4 0h0m8-2h0m2 2h0m-148 6h0m2-2h0m2-2h0m4 4h0m2 0h0m4-4h0m126 0h0m2 0h0m2 2h0m6-2h0m2 2h0m2 2h0m-158 6h0m10-2h0m2 0h0m2-2h0m136 0h0m2 2h0m0 2h0m2 0h0m0-2h0m2 2h0m4-4h0m2 2h0m2 2h0m-168 6h0m2-4h0m6 4h0m0-2h0m150-2h0m4 4h0m0-2h0m8-2h0m-174 10h0m2-4h0m0 2h0m168 2h0m2 0h0m0-2h0m2 2h0m4-4h0m4 4h0m-184 4h0m2-2h0m6 2h0m0 2h0m168-2h0m0-2h0m2 4h0m2 0h0m6-4h0m2 2h0m-192 6h0m2-2h0m6 2h0m2 0h0m0 2h0m0-4h0m172 0h0m2 2h0m0-2h0m2 4h0m0-4h0m0 2h0m2 2h0m10 0h0m-202 6h0m2-4h0m188 2h0m0-2h0m14 0h0m2 4h0m-210 6h0m2-2h0m8 0h0m2 2h0m0-2h0m2 2h0m2 0h0m178-4h0m4 4h0m0-4h0m14 0h0m-214 8h0m2-2h0m14 0h0m202 0h0m2 4h0m-224 6h0m2-4h0m224 0h0m2 2h0m-230 6h0m24 1h0m1 2h0m209-3h0m2 2h0m-240 6h0m2-4h0m6 4h0m2 0h0m4 0h0m13-3h0m1-1h0m1 0h0m1 1h0m0-2h0m1 3h0m2 2h0m1-1h0m206-3h0m2 4h0m0-2h0m-244 6h0m0-2h0m12 0h0m0 4h0m149 0h0m1 0h0m6-2h0m2 1h0m1 0h0m1 2h0m60-5h0m2 0h0m0 2h0m4 2h0m8-4h0m2 4h0m-252 6h0m0-2h0m6 2h0m2 0h0m0-4h0m152 4h0m6-4h0m10 0h0m1 0h0m1 1h0m1 0h0m61-1h0m2 0h0m2 4h0m2-2h0m8 0h0m-258 8h0m2-4h0m4 4h0m2 0h0m0-2h0m2 2h0m0-2h0m2-2h0m150 0h0m23 1h0m0 0h0m65-1h0m2 0h0m0 4h0m2 0h0m6-4h0m2 4h0m-264 4h0m6 0h0m2-2h0m0 4h0m0-2h0m2-2h0m156 3h0m2 0h0m88-1h0m0-2h0m10 2h0m2 2h0m-272 6h0m2-4h0m6 2h0m0 2h0m2-2h0m161-2h0m3 0h0m1 2h0m6 1h0m0-1h0m1-2h0m1-1h0m0 1h0m81 2h0m2 2h0m2 0h0m6-2h0m2 2h0m-278 4h0m6 2h0m2 0h0m0-2h0m2-2h0m0 2h0m258 0h0m2 2h0m0-4h0m10 2h0m0 2h0m-284 6h0m2-4h0m6 4h0m0-2h0m2-2h0m264 0h0m2 2h0m10-2h0m2 2h0m-280 4h0m0 4h0m2-4h0m0 4h0m266-4h0m2 4h0m14-2h0m-296 4h0m10 0h0m2 0h0m0 4h0m2-2h0m266-2h0m2 0h0m16 0h0m2 2h0m-76 8h0m4-3h0m62 3h0m2 0h0m12-2h0m-62 3h0m48 1h0m4 2h0m0-2h0m0 4h0m6 0h0m6-4h0m2 2h0m-71 8h0m61-4h0m2 2h0m2 2h0m2 0h0m8-2h0m-324 6h0m2-2h0m10 4h0m304-4h0m2 2h0m0 2h0m0-4h0m4 4h0m4-4h0m-328 8h0m6 2h0m4 0h0m6-2h0m310 0h0m0 2h0m8 0h0m-338 6h0m10-4h0m320 0h0m2 4h0m2-2h0m0 2h0m6-2h0m-342 6h0m6 2h0m2 0h0m2-4h0m326 2h0m2 0h0m0 2h0m8-2h0m-348 4h0m4 4h0m2 0h0m0-2h0m0-2h0m2 0h0m0 2h0m2-2h0m332 2h0m2-2h0m2 4h0m-348 2h0m4 4h0m2-4h0m2 0h0m342 2h0m2 2h0m6-2h0m-6 4h0m2 4h0m0-4h0m2 4h0m6-2h0m-6 4h0m2 0h0m0 4h0m0-2h0m6-2h0m2 2h0m0 2h0m-6 2h0m0 2h0m2 0h0m6-2h0m2 4h0m-6 6h0m10 0h0m-8 4h0m0-2h0m2 2h0m0-2h0m2 4h0m6 0h0m-8 2h0m2 2h0m0 2h0m8-4h0m0 2h0m2 2h0m-6 4h0m0-2h0m0 4h0m2-2h0m0 2h0m2 2h0m2 6h0m0 2h0m2 0h0m0-2h0m2 4h0" stroke="#433e85" stroke-width="3.4"/><path d="M1638 146h0m2 0h0m6-2h0m2 0h0m2 0h0m2 0h0m2 0h0m4 2h0m2 0h0m-48 6h0m4-2h0m10-2h0m2 0h0m4 4h0m2 0h0m2 0h0m2-2h0m0 2h0m2 0h0m2-2h0m6-2h0m10 2h0m2 2h0m2 0h0m2-4h0m2 0h0m4 2h0m4 2h0m-72 6h0m2-2h0m2 0h0m4 2h0m4-2h0m0 2h0m2 0h0m0-2h0m2 0h0m2-2h0m0 2h0m2 0h0m0-2h0m2 0h0m2 2h0m2 0h0m0-2h0m4 0h0m2 0h0m2 0h0m32 0h0m2 2h0m8 2h0m0-4h0m2 0h0m4 2h0m4 2h0m-94 4h0m4-2h0m0 4h0m2 0h0m2 0h0m4-4h0m0 2h0m2-2h0m70 0h0m2 0h0m2 0h0m2 2h0m4 2h0m2-4h0m2 0h0m2 2h0m4 2h0m-112 4h0m2-2h0m8 2h0m0-2h0m92 0h0m2 0h0m2 2h0m2 0h0m6-2h0m2 2h0m2 2h0m-120 2h0m2 4h0m2-2h0m0-2h0m112 2h0m2 0h0m2 2h0m2-4h0m-132 10h0m2-2h0m2-2h0m4 2h0m130 2h0m2-4h0m0 4h0m-142 2h0m4 4h0m142 0h0m2 0h0m4-2h0m2 2h0m-162 6h0m2-2h0m2-2h0m2 4h0m2-2h0m2 0h0m2-2h0m144 0h0m4 4h0m2 0h0m2-4h0m2 2h0m2 2h0m-170 4h0m4 2h0m2 0h0m156-4h0m2 0h0m2 2h0m6 0h0m2 2h0m-174 6h0m2-2h0m0-2h0m0 4h0m2-2h0m166 0h0m2 2h0m4-4h0m2 2h0m-186 8h0m2-4h0m4 4h0m0-2h0m2-2h0m172 0h0m2 0h0m2 4h0m2 0h0m4-4h0m2 4h0m-188 4h0m2-2h0m180 0h0m2 2h0m2 2h0m4-4h0m2 2h0m-202 6h0m4 2h0m2-4h0m0 4h0m2-2h0m186-2h0m2 2h0m0 2h0m0-4h0m2 4h0m0-2h0m8 0h0m-208 4h0m6 4h0m192 0h0m0-2h0m14 0h0m-218 8h0m2-4h0m8 0h0m0 2h0m4 0h0m192-2h0m16 2h0m2 2h0m-226 4h0m6 2h0m2 0h0m2 0h0m0-4h0m2 0h0m0 4h0m0-2h0m2 0h0m0-2h0m2 2h0m0-2h0m2 0h0m212 2h0m0 2h0m-234 6h0m0-2h0m2-2h0m4 4h0m2 0h0m0-2h0m2 2h0m0-2h0m0-2h0m2 4h0m0-4h0m2 2h0m0-2h0m2 0h0m4 0h0m198 2h0m4 2h0m2 0h0m12-4h0m2 2h0m-240 6h0m0-2h0m4 4h0m4-4h0m2 0h0m2 0h0m212 2h0m0-2h0m2 0h0m2 2h0m0 2h0m4-2h0m0 2h0m2 0h0m2 0h0m6-4h0m2 4h0m-248 6h0m4 0h0m2 0h0m160 1h0m76-5h0m0 2h0m2 2h0m2 0h0m4-2h0m-254 8h0m2-4h0m2 4h0m2 0h0m0-2h0m2-2h0m159 4h0m3-5h0m4 1h0m1 3h0m2-3h0m0 1h0m71-1h0m2 0h0m2 4h0m0-2h0m4-2h0m-258 8h0m4 2h0m0-2h0m2 0h0m2-2h0m159 4h0m11 1h0m2-4h0m3 1h0m0 1h0m71-3h0m2 0h0m2 4h0m4-2h0m2 2h0m-268 6h0m2-4h0m4 2h0m0-2h0m2 0h0m164 0h0m0 1h0m0 0h0m7 2h0m2 1h0m1 0h0m2 0h0m78-4h0m0 2h0m2 2h0m0-2h0m4-2h0m2 2h0m-272 6h0m4 2h0m2 0h0m0-4h0m262 0h0m0 2h0m2 2h0m0-2h0m4-2h0m-278 10h0m0-2h0m2-2h0m6 2h0m0-2h0m266 0h0m0 2h0m2 2h0m0-2h0m6-2h0m2 4h0m-286 4h0m6-2h0m272 0h0m0 2h0m10-2h0m2 4h0m-294 6h0m2-2h0m0-2h0m6 2h0m0 2h0m274-4h0m2 0h0m14 4h0m-300 6h0m10 0h0m2-2h0m290-2h0m2 4h0m-306 6h0m18-2h0m212 2h0m1-1h0m8-2h0m4 2h0m55-1h0m0 2h0m10-4h0m2 4h0m-312 4h0m0-2h0m246 0h0m1 2h0m55-2h0m2 0h0m2 2h0m2 2h0m6-4h0m2 2h0m0 2h0m-320 6h0m2-4h0m12 4h0m230-1h0m68-3h0m10 0h0m2 4h0m-328 6h0m2-4h0m10 4h0m0-4h0m2 2h0m2 0h0m0-2h0m2 2h0m306 0h0m2 2h0m4-2h0m2 2h0m-334 6h0m0-2h0m2-2h0m2 4h0m324-4h0m2 4h0m0-2h0m2 2h0m2-4h0m2 2h0m-340 8h0m2-2h0m0-2h0m6 4h0m0-2h0m328-2h0m2 2h0m0 2h0m4-4h0m2 4h0m-346 6h0m2-4h0m4 4h0m0-4h0m-8 10h0m0-2h0m4 0h0m0 2h0m344-2h0m0-2h0m2 4h0m0-2h0m2 2h0m2-2h0m2 2h0m-358 6h0m4-2h0m0 2h0m2-2h0m348 0h0m0-2h0m2 4h0m0-2h0m2 2h0m4 0h0m-358 2h0m354 0h0m2 4h0m2 0h0m2-4h0m2 4h0m-368 2h0m364 0h0m0 2h0m2 0h0m0 2h0m6 0h0m-6 2h0m2 0h0m0 2h0m6 0h0m-4 4h0m0 2h0m2 2h0m0-2h0m4-2h0m-2 6h0m0 2h0m2 2h0m0-2h0m4-2h0m0 2h0m2 2h0m-4 2h0m2 4h0m0 2h0m2 0h0m0 2h0m0 2h0m2 0h0m2-2h0m-2 4h0m0 2h0m2 2h0m0-2h0m2 2h0m0-4h0m0 6h0m0 2h0m2 0h0m2 4h0m2 4h0" stroke="#3f4888" stroke-width="3.4"/><path d="M1634 146h0m2 0h0m8-2h0m10 2h0m2-2h0m2 0h0m4 2h0m-52 6h0m4-2h0m4 2h0m2-4h0m2 0h0m0 4h0m2-2h0m0 2h0m0-4h0m2 4h0m0-2h0m2 0h0m6-2h0m0 2h0m2-2h0m0 2h0m2-2h0m2 0h0m2 0h0m14 0h0m4 0h0m4 2h0m2 0h0m0 2h0m2-4h0m0 4h0m4-2h0m2 0h0m2 2h0m-76 6h0m8-4h0m2 2h0m4-2h0m2 0h0m66 0h0m4 2h0m4 2h0m-98 4h0m2 2h0m2 0h0m0-4h0m2 2h0m2 0h0m4-2h0m86 4h0m2 0h0m4-2h0m-112 8h0m4 0h0m2 0h0m4-4h0m108 0h0m2 2h0m-126 8h0m2-2h0m2-2h0m0 4h0m2 0h0m0-2h0m2 0h0m0-2h0m116 0h0m4 4h0m0-2h0m2 2h0m0-4h0m2 2h0m2 2h0m-2 2h0m2 0h0m0 2h0m4 2h0m4 0h0m-152 6h0m2-2h0m4 0h0m0 2h0m144-4h0m4 0h0m0 4h0m2-4h0m-156 10h0m160 0h0m2-4h0m-170 10h0m0-2h0m2-2h0m166 0h0m2 2h0m2 2h0m2-4h0m2 2h0m2 2h0m-182 6h0m2-2h0m0-2h0m2 4h0m174-4h0m0 2h0m2 0h0m0 2h0m2 0h0m4 0h0m2 0h0m-190 4h0m6-2h0m178 0h0m2 2h0m0-2h0m6 2h0m2 2h0m-198 6h0m2-4h0m0 4h0m2 0h0m188-4h0m2 2h0m2 2h0m4-4h0m2 4h0m-206 6h0m4 0h0m2-4h0m194 0h0m2 2h0m0 2h0m0-4h0m-206 10h0m2-2h0m0-2h0m4 2h0m200-2h0m12 4h0m-222 6h0m2-2h0m4 2h0m2 0h0m0-4h0m0 2h0m2-2h0m200 0h0m2 4h0m2 0h0m10-4h0m-226 10h0m2-4h0m2 4h0m2 0h0m0-2h0m0-2h0m2 2h0m2-2h0m204 0h0m4 4h0m0-2h0m2 2h0m10-4h0m2 0h0m2 4h0m-232 6h0m0-2h0m2-2h0m2 0h0m212 0h0m2 0h0m0 2h0m2-2h0m2 4h0m2-2h0m10-2h0m2 4h0m-244 6h0m4-2h0m2-2h0m2 0h0m228 2h0m2 0h0m2 2h0m0-2h0m2 2h0m4-4h0m0 2h0m-248 6h0m2 2h0m242-4h0m0 2h0m2 0h0m4-2h0m-254 8h0m4-2h0m0 2h0m2-2h0m248 2h0m0 2h0m4-2h0m0 2h0m-262 6h0m2-4h0m2 4h0m2-4h0m165 5h0m0-4h0m1 1h0m0-3h0m88 3h0m0-2h0m2 4h0m-264 4h0m2 2h0m2-4h0m176 1h0m84-1h0m2 0h0m0 2h0m4-2h0m2 4h0m-276 6h0m2-4h0m2 4h0m0-2h0m2-2h0m266 0h0m2 2h0m0 2h0m4-2h0m2 2h0m-282 2h0m2 4h0m2-4h0m2 0h0m270 0h0m2 0h0m0 2h0m0 2h0m6-2h0m2 2h0m-290 6h0m2-4h0m4 0h0m276 0h0m0 2h0m2 0h0m0 2h0m8-2h0m-294 6h0m4 2h0m0-2h0m2 2h0m0-2h0m282 2h0m8-4h0m2 2h0m2 2h0m-302 4h0m0-2h0m6 0h0m0 4h0m2-4h0m0 4h0m0-2h0m296 0h0m0-2h0m2 4h0m-308 4h0m0-2h0m8 2h0m0-2h0m0 4h0m2-2h0m0-2h0m2 2h0m231 2h0m57-2h0m2 2h0m8-4h0m0 2h0m2 2h0m-316 6h0m12-4h0m235 4h0m1 0h0m0-4h0m0 5h0m0-4h0m60-1h0m2 2h0m0-2h0m2 4h0m8 0h0m-322 4h0m4 2h0m4-2h0m0 2h0m2 0h0m0-2h0m2 0h0m4-2h0m229 2h0m73 0h0m2 2h0m4-2h0m2 2h0m-322 2h0m2 0h0m316 0h0m2 2h0m2-2h0m2 2h0m-336 8h0m2-4h0m4 0h0m328 0h0m0 2h0m2 2h0m2-4h0m2 4h0m-342 4h0m4 0h0m336 0h0m4-2h0m0 2h0m-346 6h0m2 2h0m2 0h0m0-4h0m0 2h0m340-2h0m2 4h0m2-4h0m2 4h0m-352 2h0m2 4h0m348-4h0m2 2h0m2-2h0m0 4h0m-356 4h0m2 0h0m2-2h0m352 0h0m2 0h0m0 2h0m2-2h0m2 2h0m2 2h0m-366 6h0m362-4h0m2 2h0m2 2h0m2-2h0m-2 4h0m2 2h0m2-2h0m2 2h0m-2 6h0m4-2h0m2 2h0m0 2h0m-2 4h0m0 2h0m2 0h0m2-4h0m0 2h0m2 2h0m-4 2h0m2 2h0m0 2h0m4-2h0m-2 6h0m2 2h0m2-2h0m0 6h0m0-2h0m2 0h0m0 4h0m2 0h0m-2 2h0m2 2h0m2 2h0m0 2h0m2 2h0m4 8h0m0-2h0m2 4h0m2 2h0" stroke="#3b528a" stroke-width="3.4"/><path d="M1628 146h0m2 0h0m2 0h0m8-2h0m2 2h0m0-2h0m8-2h0m10 2h0m4 2h0m-52 4h0m4 2h0m0-4h0m2 0h0m4 2h0m8-2h0m40 0h0m0 4h0m6-2h0m2 2h0m2 0h0m-78 4h0m4-2h0m78 0h0m2 0h0m2 2h0m4 2h0m-102 6h0m100-2h0m4-2h0m2 0h0m2 2h0m2 2h0m-116 4h0m2-2h0m120 4h0m8 6h0m-142 6h0m2-2h0m2-2h0m140 0h0m2 2h0m4 2h0m-154 4h0m2-2h0m156 2h0m2 2h0m-166 6h0m2-2h0m2-2h0m166 2h0m2 2h0m-176 6h0m178-4h0m2 2h0m2 2h0m-184 4h0m184-2h0m2 2h0m-188 4h0m188 2h0m4-2h0m2 2h0m2 2h0m-200 4h0m202 0h0m-206 6h0m2-2h0m2 2h0m202 2h0m2-4h0m2 4h0m-214 4h0m216-2h0m2 2h0m-220 4h0m4 2h0m208-2h0m2 0h0m2 4h0m8-2h0m2 2h0m-230 4h0m4 0h0m216 0h0m0-2h0m2 4h0m0-2h0m2 2h0m2 0h0m8-2h0m-238 8h0m2-4h0m2 4h0m2-4h0m222 0h0m6 4h0m2 0h0m6-2h0m2 2h0m-246 4h0m240-2h0m2 2h0m6 2h0m-252 6h0m2-4h0m246 0h0m6 4h0m0-2h0m-258 8h0m2-4h0m254 0h0m6 4h0m-264 4h0m264-2h0m2 2h0m2 2h0m-272 6h0m2-4h0m272 2h0m2 2h0m-280 6h0m2-2h0m278-2h0m2 2h0m-284 8h0m282-2h0m0 2h0m4-4h0m2 2h0m-290 6h0m0-2h0m284 0h0m2 4h0m8 0h0m-298 6h0m2-4h0m288 2h0m10-2h0m-302 10h0m-2 6h0m6-2h0m2-2h0m233 3h0m61-3h0m2 2h0m0-2h0m2 4h0m0-2h0m2 2h0m6-2h0m2 2h0m-318 4h0m6-2h0m2 0h0m2 0h0m0 2h0m237-2h0m65 0h0m2 2h0m2 2h0m2-4h0m-322 10h0m2-4h0m4 2h0m2 0h0m235 0h0m3 0h0m80-2h0m2 2h0m-330 6h0m332-2h0m2 4h0m-338 4h0m340 0h0m4 8h0m-350 6h0m2-4h0m350 2h0m-354 8h0m358-2h0m-358 4h0m-2 8h0m368-2h0m2 2h0m0 2h0m2 2h0m2 4h0m2 2h0m2 4h0m2 4h0m2 4h0m2 6h0m2 4h0m12 24h0" stroke="#375b8c" stroke-width="3.4"/><path d="M1622 146h0m2 0h0m2 0h0m12-2h0m8-2h0m2 0h0m4 0h0m2 0h0m2 0h0m2 0h0m4 2h0m4 2h0m2 0h0m-60 6h0m2-2h0m4-2h0m58 0h0m6 2h0m4 2h0m2 0h0m-86 6h0m6-4h0m86 2h0m4 2h0m-106 6h0m2-2h0m4-2h0m106 2h0m2 2h0m-120 6h0m122-4h0m2 2h0m2 2h0m-130 4h0m2-2h0m130 0h0m2 2h0m6 4h0m2 2h0m-154 8h0m160-4h0m2 2h0m2 2h0m-168 4h0m2-2h0m170 2h0m2 2h0m-178 4h0m2-2h0m178 0h0m-184 10h0m2-4h0m186 0h0m2 2h0m2 2h0m-194 6h0m196-4h0m-198 6h0m202 0h0m2 4h0m-210 6h0m212-2h0m2 2h0m-218 6h0m2-4h0m212 4h0m2 0h0m4-4h0m2 4h0m-226 6h0m2-2h0m0-2h0m220 0h0m0 4h0m0-2h0m2 2h0m4-4h0m2 2h0m2 2h0m-234 6h0m2-4h0m222 0h0m2 2h0m0-2h0m2 0h0m0 2h0m2 0h0m0 2h0m6-4h0m2 4h0m-240 4h0m234-2h0m8 0h0m-246 10h0m2-4h0m248 2h0m-252 6h0m254-2h0m-258 8h0m260-2h0m2 2h0m-266 8h0m2-4h0m266 0h0m-270 8h0m274-2h0m2 2h0m-280 6h0m2-2h0m280 0h0m-286 10h0m2-2h0m288-2h0m-292 10h0m0-2h0m288 0h0m0-2h0m2 4h0m4-4h0m4 4h0m-300 4h0m292 0h0m0-2h0m2 2h0m0 2h0m8-2h0m2 2h0m-306 4h0m0-2h0m298 0h0m2 4h0m8-2h0m2 2h0m-312 4h0m0-2h0m4 4h0m237 0h0m65-4h0m2 2h0m6-2h0m-318 10h0m2-4h0m320 0h0m0 2h0m2 2h0m-326 4h0m248-2h0m80 0h0m2 4h0m-334 6h0m2-4h0m334 2h0m-340 8h0m2-4h0m340 0h0m2 4h0m-346 6h0m0-2h0m2-2h0m346 2h0m-350 6h0m0-2h0m352 0h0m2 4h0m-356 4h0m0-2h0m358 0h0m2 4h0m-362 6h0m364-4h0m2 2h0m-366 4h0m372 4h0m-374 2h0m376 2h0m4 6h0m2 4h0m2 4h0m2 4h0m0 2h0m2 4h0m2 6h0m2 6h0m2 4h0m10 16h0" stroke="#33648d" stroke-width="3.4"/><path d="M1654 140h0m-36 6h0m2 0h0m14-2h0m2 0h0m4-2h0m2 0h0m2 0h0m16 0h0m4 2h0m-58 8h0m6-4h0m62 0h0m6 2h0m6 2h0m-90 6h0m2-2h0m2 0h0m88-2h0m2 0h0m2 2h0m4 2h0m-110 6h0m2-2h0m4-2h0m106 0h0m4 2h0m2 2h0m-122 4h0m2-2h0m124 2h0m-132 8h0m136-4h0m4 4h0m-146 6h0m2-2h0m2-2h0m148 2h0m2 2h0m-160 6h0m2-2h0m2-2h0m164 4h0m-172 6h0m172-4h0m6 4h0m-182 6h0m2-4h0m182 2h0m2 2h0m-188 4h0m190-2h0m2 2h0m2 2h0m-196 4h0m198 0h0m2 2h0m-204 6h0m0-2h0m206 0h0m-210 6h0m2-2h0m210 0h0m-216 8h0m222 0h0m2 2h0m2 2h0m2 2h0m2 2h0m-236 4h0m0-2h0m238 2h0m2 2h0m-244 6h0m2-4h0m244 2h0m-248 6h0m250-2h0m2 4h0m-256 6h0m2-4h0m256 2h0m0 2h0m-262 6h0m2-4h0m264 4h0m-268 4h0m270 0h0m2 2h0m-276 6h0m2-4h0m278 4h0m-284 6h0m2-4h0m284 2h0m0 2h0m-288 4h0m2-2h0m290 4h0m2 2h0m0 2h0m-300 8h0m2-4h0m294 0h0m2 4h0m6-4h0m-4 6h0m2 2h0m6-2h0m2 2h0m2 2h0m-316 6h0m318-2h0m2 2h0m-322 4h0m324 0h0m2 2h0m-330 6h0m2-4h0m330 2h0m-334 6h0m336-2h0m2 2h0m0 2h0m-342 4h0m344 0h0m2 2h0m-348 2h0m348 0h0m2 4h0m-354 6h0m356-2h0m4 6h0m-362 6h0m0-2h0m366 0h0m2 4h0m-370 6h0m372-4h0m-372 8h0m376-2h0m2 2h0m0 2h0m2 2h0m2 4h0m2 4h0m2 4h0m2 4h0m0 2h0m2 6h0m2 6h0m4 8h0m2 4h0m4 6h0m28 28h0m2 0h0m0 2h0m0 2h0m2 2h0" stroke="#2f6c8e" stroke-width="3.4"/><path d="M1646 140h0m4 0h0m2 0h0m4 0h0m-40 6h0m8-2h0m2 0h0m2 0h0m2 0h0m2 0h0m30-2h0m4 2h0m4 2h0m2 0h0m-64 4h0m68-2h0m2 0h0m4 2h0m6 2h0m-94 6h0m8-4h0m90 0h0m2 2h0m2 0h0m2 2h0m-108 2h0m110 0h0m-120 10h0m126-4h0m4 4h0m-136 6h0m2-2h0m2-2h0m136 2h0m-146 8h0m2-2h0m2-2h0m148 0h0m4 2h0m2 2h0m-164 6h0m4-4h0m162 0h0m2 2h0m-172 8h0m2-2h0m2-2h0m172 0h0m2 2h0m-180 6h0m184-2h0m2 2h0m2 2h0m-192 6h0m2-4h0m192 0h0m-196 10h0m2-4h0m198 0h0m2 2h0m-206 8h0m208-4h0m2 4h0m-214 6h0m216-2h0m2 2h0m-222 6h0m2-4h0m222 0h0m2 2h0m2 2h0m-232 6h0m2-2h0m254 2h0m-258 6h0m0-2h0m240-2h0m2 2h0m2 2h0m-246 4h0m246-2h0m2 2h0m0 2h0m2 4h0m-256 6h0m258-2h0m2 6h0m-268 10h0m2-4h0m270 0h0m2 2h0m2 2h0m-280 6h0m2-2h0m0-2h0m278 0h0m2 2h0m-284 6h0m286-2h0m2 4h0m-292 6h0m2-4h0m292 2h0m-296 8h0m2-4h0m298 2h0m2 2h0m-304 4h0m306 0h0m2 2h0m16-2h0m2-2h0m-328 10h0m0-2h0m0-2h0m312 0h0m18 0h0m2 4h0m-334 4h0m318-2h0m2 2h0m18 2h0m-98 6h0m2-3h0m80-1h0m16 0h0m2 0h0m0 2h0m-346 6h0m332-2h0m2 2h0m0 2h0m14-4h0m2 2h0m0 2h0m-354 6h0m2-4h0m338 0h0m2 4h0m14-4h0m-360 10h0m346-4h0m-348 8h0m0 2h0m352-2h0m-354 6h0m0-2h0m356 0h0m2 4h0m-360 4h0m0 2h0m364 0h0m4 4h0m2 2h0m16 0h0m-388 4h0m374 0h0m2 2h0m16-2h0m0 2h0m-14 2h0m2 4h0m2 4h0m14-2h0m0 2h0m2 0h0m0 2h0m-14 2h0m2 2h0m0 2h0m14-2h0m2 0h0m-14 6h0m2 6h0m0 2h0m4 12h0m6 10h0m2 2h0m2 4h0m24 18h0m0 2h0" stroke="#2b758e" stroke-width="3.4"/><path d="M1690 134h0m-42 6h0m10 0h0m2 0h0m32-4h0m2 2h0m0-2h0m2 2h0m2 2h0m0-2h0m-86 8h0m2 0h0m6-2h0m2 0h0m14-2h0m2 0h0m30 2h0m34-2h0m4 2h0m2 0h0m2 2h0m-106 6h0m6-4h0m70 0h0m4 2h0m2 0h0m4 2h0m22-4h0m2 0h0m0 2h0m2 0h0m-124 8h0m8-4h0m94 0h0m4 2h0m2 2h0m-116 6h0m2-2h0m2-2h0m114 0h0m2 2h0m2 2h0m-126 4h0m2-2h0m126 0h0m2 2h0m2 2h0m2 2h0m2 2h0m2 2h0m-170 6h0m4-4h0m170 0h0m24 0h0m2 4h0m2 0h0m-204 4h0m18 0h0m166-2h0m2 2h0m2 2h0m16-4h0m2 0h0m-210 8h0m16 0h0m2-2h0m176 0h0m2 2h0m2 2h0m18-2h0m-204 8h0m0-2h0m2-2h0m188 2h0m18 0h0m0-2h0m2 4h0m0-2h0m2 2h0m-214 4h0m196 0h0m2 2h0m16-4h0m-216 8h0m202-2h0m2 4h0m-228 6h0m22-4h0m208 2h0m-232 8h0m2-4h0m16 2h0m2-2h0m214 0h0m20 0h0m4 4h0m-260 2h0m16 2h0m246-2h0m-250 8h0m2-2h0m232 0h0m2 2h0m2 2h0m2 2h0m16 0h0m2 0h0m-14 6h0m2 4h0m-254 6h0m2-4h0m252 0h0m2 4h0m16-4h0m2 2h0m-16 8h0m16-4h0m-298 10h0m16 0h0m2-2h0m266 0h0m2 2h0m-290 6h0m2-4h0m14 4h0m2-2h0m0-2h0m294 2h0m-314 6h0m2 0h0m14 0h0m282-2h0m2 4h0m14-4h0m2 2h0m-318 8h0m2-4h0m12 4h0m2-4h0m288 2h0m-292 6h0m294-2h0m2 2h0m0 2h0m18 0h0m-332 6h0m2-4h0m0 2h0m14 0h0m300-2h0m20 0h0m0 2h0m0 2h0m-324 6h0m2-4h0m306 0h0m2 2h0m2 2h0m2 4h0m2 2h0m-320 6h0m2-4h0m320 0h0m2 4h0m-326 6h0m2-4h0m326 0h0m0 2h0m2 2h0m-348 4h0m0 2h0m14 0h0m338 0h0m-356 6h0m16-2h0m342 0h0m14 0h0m-374 6h0m0 2h0m14-2h0m2-2h0m346 0h0m0 2h0m16-2h0m2 2h0m0 2h0m-368 2h0m352 0h0m2 4h0m16-2h0m-386 6h0m2-2h0m370 2h0m18-2h0m0 2h0m-378 4h0m362 0h0m2 2h0m18-2h0m0 2h0m-384 8h0m0 2h0m374 0h0m2 2h0m2 2h0m2 4h0m2 4h0m2 4h0m4 8h0m14 0h0m0 2h0m-12 4h0m2 8h0m0 2h0m6 12h0m6 8h0m22 18h0m0 2h0" stroke="#287c8e" stroke-width="3.4"/><path d="M1656 122h0m2 0h0m16 4h0m-68 4h0m2 0h0m72 0h0m-38 10h0m2 0h0m4-2h0m2 0h0m2 0h0m2 0h0m2 0h0m-76 6h0m30 2h0m6-2h0m2 0h0m14-2h0m2 0h0m30 0h0m6 2h0m4 2h0m2 0h0m2 0h0m-104 4h0m28 2h0m4-2h0m2-2h0m74 0h0m2 0h0m4 2h0m4 2h0m24 0h0m-144 2h0m18 4h0m6-2h0m100-2h0m26 0h0m-140 10h0m2-2h0m122 0h0m-128 8h0m2-4h0m156 0h0m-182 8h0m0-2h0m2 0h0m16 4h0m2-2h0m2-2h0m144 4h0m20-4h0m-174 10h0m2-2h0m2-2h0m156 2h0m2 2h0m-168 6h0m2-2h0m2-2h0m170 2h0m-194 8h0m16 0h0m2-4h0m180 0h0m2 2h0m-204 6h0m2 0h0m2-2h0m202 0h0m4 4h0m-194 2h0m196 0h0m2 2h0m2 2h0m16 0h0m-220 6h0m2-4h0m204 2h0m16-2h0m2 0h0m0 2h0m2 2h0m-230 6h0m2-2h0m210-2h0m2 4h0m16-4h0m2 2h0m-236 8h0m220-2h0m2 2h0m-226 6h0m0-2h0m2-2h0m226 0h0m2 2h0m2 2h0m-248 2h0m12 4h0m2-4h0m236 0h0m4 4h0m-242 2h0m244 2h0m2 2h0m-250 6h0m2-4h0m250 2h0m2 6h0m-260 8h0m2-4h0m260 2h0m2 2h0m-268 4h0m2-2h0m266 0h0m2 2h0m-274 6h0m276-2h0m2 2h0m-282 8h0m2-4h0m284 2h0m-288 6h0m290-2h0m2 4h0m14-4h0m2 2h0m0 2h0m-312 6h0m2-4h0m312 2h0m-316 8h0m0-2h0m2-2h0m302 2h0m-320 8h0m0-2h0m14 0h0m-2 8h0m316-4h0m2 2h0m2 2h0m-322 4h0m324 0h0m2 2h0m-344 6h0m16-2h0m332 2h0m-348 2h0m12 2h0m2-2h0m334 0h0m2 2h0m-342 8h0m2-4h0m342 0h0m2 4h0m-350 6h0m2-4h0m350 4h0m-354 6h0m0-2h0m356-2h0m0 2h0m-370 8h0m12 0h0m0-2h0m360-2h0m2 4h0m4 6h0m-368 4h0m370-2h0m2 2h0m2 2h0m2 2h0m2 2h0m2 4h0m2 4h0m-392 6h0m394-2h0m-394 4h0m396 0h0m2 4h0m2 2h0m0 2h0m0 2h0m14 2h0m2 2h0m0-2h0m2 4h0m-16 2h0m2 8h0m2 4h0m10 18h0m22 20h0" stroke="#25848e" stroke-width="3.4"/><path d="M1652 122h0m-40 6h0m64 0h0m-78 6h0m2 0h0m-14 6h0m52 0h0m2 0h0m6-2h0m12 0h0m2 0h0m2 2h0m-80 4h0m26 2h0m4-2h0m2 0h0m6-2h0m2 0h0m2 0h0m2 0h0m2 0h0m2 0h0m36 0h0m2 0h0m4 2h0m2 0h0m6 2h0m-76 4h0m82-2h0m2 0h0m2 2h0m4 2h0m-126 4h0m0 2h0m26-2h0m4-2h0m100 0h0m2 2h0m2 2h0m22 0h0m0-2h0m2 2h0m-140 2h0m118 0h0m4 4h0m22-2h0m0-2h0m2 4h0m2 0h0m-176 4h0m20 0h0m132-2h0m2 2h0m2 2h0m20-4h0m-16 8h0m6 4h0m6 4h0m-170 4h0m172-2h0m4 4h0m-180 4h0m184-2h0m2 4h0m-206 6h0m16 0h0m2-4h0m190 0h0m2 2h0m2 2h0m-198 6h0m200-4h0m4 6h0m2 4h0m-210 2h0m212 2h0m-218 6h0m2-2h0m218 0h0m2 2h0m-228 8h0m250 0h0m-266 4h0m14 0h0m240 0h0m2 0h0m6 2h0m2-2h0m0-2h0m0 4h0m2-4h0m0 2h0m0 2h0m2-4h0m0 4h0m0-2h0m2 2h0m-258 6h0m246-4h0m2 2h0m-250 6h0m252-2h0m2 4h0m-256 4h0m256-2h0m2 4h0m-278 2h0m0 4h0m0-2h0m16 0h0m262-2h0m-268 10h0m274 0h0m-278 6h0m282-2h0m0 2h0m-284 4h0m286-2h0m2 4h0m-292 6h0m0-2h0m2-2h0m292 2h0m-296 6h0m298-2h0m2 4h0m-304 6h0m308 0h0m-308 2h0m310 0h0m2 2h0m2 2h0m8 0h0m2 0h0m0-2h0m2 2h0m-342 4h0m2-2h0m12 2h0m0-2h0m318 0h0m2 2h0m0-2h0m2 4h0m0-2h0m0-2h0m2 2h0m0-2h0m0 4h0m2-4h0m0 2h0m0 2h0m2 0h0m0-2h0m0-2h0m2 4h0m0-4h0m0 2h0m2 2h0m-350 6h0m16-4h0m324 0h0m2 2h0m0-2h0m2 2h0m0-2h0m0 4h0m2 0h0m0-4h0m0 2h0m2-2h0m0 2h0m0 2h0m2-2h0m0 2h0m0-4h0m2 4h0m0-4h0m0 2h0m2 2h0m-354 4h0m12 2h0m2-4h0m330 0h0m0 2h0m2-2h0m0 2h0m2 0h0m0-2h0m0 4h0m2-4h0m0 2h0m0 2h0m2 0h0m0-2h0m0-2h0m2 2h0m0-2h0m0 4h0m2-2h0m0 2h0m2 0h0m-10 2h0m2 4h0m0-2h0m0-2h0m2 4h0m0-4h0m0 2h0m2-2h0m0 2h0m0 2h0m2 0h0m0-4h0m0 2h0m2 0h0m0 2h0m0-4h0m2 2h0m0 2h0m-354 4h0m346-2h0m0 2h0m2-2h0m2 0h0m2 0h0m2 0h0m2 0h0m-360 8h0m352 0h0m0-2h0m-354 6h0m358 4h0m-360 2h0m362 2h0m-376 6h0m0 2h0m12-2h0m366-2h0m2 2h0m2 2h0m-384 2h0m14 0h0m372 0h0m2 2h0m2 2h0m10 0h0m-6 6h0m2 0h0m0-2h0m2 2h0m0-2h0m0-2h0m2 4h0m0-4h0m0 2h0m2 2h0m0-4h0m0 2h0m2 0h0m0 2h0m-404 6h0m12-4h0m384 2h0m0-2h0m2 2h0m0 2h0m0-4h0m2 2h0m0-2h0m0 4h0m2 0h0m0-4h0m0 2h0m2 2h0m0-4h0m0 2h0m2-2h0m0 2h0m0 2h0m2 0h0m-10 2h0m2 2h0m0 2h0m0-4h0m2 0h0m0 2h0m0 2h0m2 0h0m0-4h0m0 2h0m2-2h0m0 2h0m0 2h0m2-4h0m0 4h0m0-2h0m2 2h0m-8 2h0m0 2h0m2 0h0m0 2h0m0-4h0m2 0h0m0 4h0m0-2h0m2 0h0m0-2h0m0 4h0m2-4h0m0 4h0m0-2h0m2 2h0m0-4h0m0 2h0m2 2h0m-8 6h0m0-4h0m0 8h0m0-2h0m0 4h0m14 0h0m2 2h0m-14 6h0m2 4h0m18 2h0m-14 6h0m2 2h0m4 8h0m2 4h0m16 14h0m2 0h0m-2 2h0m2 0h0m2 0h0" stroke="#238c8d" stroke-width="3.4"/><path d="M1618 126h0m2-2h0m-30 14h0m2 0h0m2-2h0m2 0h0m54 0h0m2 0h0m2 0h0m2 0h0m2 0h0m6 4h0m24-4h0m2 0h0m0 4h0m0-2h0m2 0h0m0 2h0m2 0h0m2 0h0m-78 2h0m58 2h0m6 2h0m2 0h0m2 0h0m2-4h0m0 2h0m0 2h0m2 0h0m0-2h0m0-2h0m2 2h0m0 2h0m0-4h0m2 0h0m0 2h0m0 2h0m2 0h0m0-4h0m0 2h0m2-2h0m0 2h0m0 2h0m2-4h0m0 2h0m0 2h0m2 0h0m0-2h0m2 0h0m0 2h0m2 0h0m-106 6h0m6-4h0m84 0h0m2 2h0m0-2h0m2 0h0m0 2h0m2 0h0m0-2h0m0 4h0m2-2h0m0 2h0m0-4h0m2 4h0m0-4h0m0 2h0m2 0h0m0 2h0m0-4h0m2 2h0m0 2h0m0-4h0m2 0h0m0 4h0m0-2h0m2 0h0m0 2h0m0-4h0m2 0h0m0 2h0m2 0h0m-124 8h0m2-2h0m2 0h0m4-2h0m104 0h0m2 0h0m0 2h0m2-2h0m0 2h0m0 2h0m2-4h0m-142 8h0m2-2h0m14 4h0m2-2h0m2-2h0m122 0h0m2 2h0m2 2h0m-134 6h0m136-4h0m-142 10h0m146-4h0m2 0h0m2 2h0m2 2h0m20 0h0m-192 6h0m2-2h0m0 2h0m2 0h0m0-2h0m0-2h0m2 4h0m2 0h0m6 0h0m2-2h0m2-2h0m158 0h0m2 2h0m2 0h0m8 2h0m2 0h0m0-2h0m0-2h0m2 2h0m0 2h0m0-4h0m2 0h0m0 2h0m0 2h0m2-2h0m0 2h0m-200 6h0m2 0h0m0-2h0m0-2h0m2 0h0m0 4h0m0-2h0m2 0h0m0 2h0m0-4h0m2 2h0m0 2h0m0-4h0m2 0h0m0 4h0m0-2h0m2 0h0m0 2h0m0-4h0m2 0h0m2 0h0m172 0h0m2 2h0m2-2h0m0 4h0m0-2h0m2 2h0m0-4h0m0 2h0m2 2h0m0-4h0m0 2h0m2-2h0m0 2h0m0 2h0m2-2h0m0-2h0m0 4h0m2-4h0m0 4h0m0-2h0m2 0h0m0 2h0m2 0h0m-208 4h0m0-2h0m2 0h0m0 2h0m2 0h0m0-2h0m0 4h0m2 0h0m0-4h0m0 2h0m2-2h0m0 2h0m0 2h0m2-4h0m0 4h0m0-2h0m2-2h0m186 2h0m0-2h0m2 0h0m0 2h0m0 2h0m2-4h0m0 2h0m0 2h0m2-2h0m0 2h0m0-4h0m2 4h0m0-4h0m0 2h0m2 2h0m0-2h0m0-2h0m2 2h0m0 2h0m0-4h0m2 4h0m2 0h0m-206 2h0m0 2h0m194-2h0m2 0h0m0 2h0m2 2h0m0-2h0m0-2h0m2 2h0m0 2h0m0-4h0m2 4h0m0-2h0m0-2h0m2 4h0m0-2h0m0-2h0m2 2h0m0 2h0m0-4h0m2 0h0m0 2h0m0 2h0m2 0h0m-228 6h0m16-2h0m202 0h0m0-2h0m2 4h0m0-2h0m0-2h0m2 2h0m0-2h0m2 0h0m2 0h0m2 0h0m2 0h0m-232 6h0m0 2h0m14 2h0m2-2h0m0-2h0m208 2h0m4 8h0m-234 6h0m12 0h0m226 0h0m14 0h0m2 0h0m-256 2h0m2 0h0m2 0h0m2 2h0m2 2h0m4-4h0m230 0h0m2 2h0m2 2h0m2 0h0m2 0h0m2 0h0m0-2h0m2 0h0m0 2h0m0-4h0m2 4h0m0-4h0m0 2h0m2-2h0m0 4h0m0-2h0m-266 8h0m2 0h0m12 0h0m2-4h0m240 0h0m2 0h0m2 0h0m0 4h0m0-2h0m2 2h0m0-4h0m0 2h0m2 0h0m0-2h0m-264 6h0m14 0h0m0 2h0m248-2h0m2 0h0m0 4h0m0-2h0m2 0h0m0-2h0m0 4h0m2-2h0m0 2h0m0-4h0m2 0h0m0 4h0m0-2h0m2 2h0m0-4h0m0 2h0m2 0h0m0 2h0m2 0h0m0-2h0m-264 4h0m254 0h0m0 2h0m2 0h0m0-2h0m2 0h0m2 0h0m2 0h0m2 0h0m2 0h0m-270 10h0m2-4h0m258 2h0m-276 4h0m12 4h0m266-2h0m-282 8h0m14-4h0m270 0h0m2 2h0m10 2h0m0-2h0m2 0h0m0 2h0m2 0h0m-302 6h0m0-2h0m2-2h0m0 2h0m0 2h0m2 0h0m0-2h0m0-2h0m2 4h0m0-4h0m0 2h0m2 2h0m0-2h0m2 0h0m2-2h0m278 0h0m4 4h0m0-2h0m2 2h0m0-2h0m0-2h0m2 4h0m0-2h0m0-2h0m2 2h0m0-2h0m0 4h0m2 0h0m0-4h0m0 2h0m2 2h0m0-2h0m2 2h0m-310 6h0m2-2h0m0 2h0m0-4h0m2 4h0m0-4h0m0 2h0m2 2h0m0-4h0m0 2h0m2-2h0m0 4h0m0-2h0m2 0h0m0-2h0m0 4h0m2-4h0m288 0h0m0 2h0m2 2h0m0-4h0m0 2h0m2-2h0m0 2h0m2-2h0m0 2h0m2-2h0m0 2h0m2-2h0m-312 10h0m0-2h0m2 0h0m0 2h0m0-4h0m2 4h0m0-2h0m0-2h0m2 2h0m0-2h0m0 4h0m2 0h0m0-4h0m0 2h0m2-2h0m294 0h0m2 4h0m-308 4h0m0 2h0m2-2h0m0 2h0m0-4h0m2 2h0m0-2h0m0 4h0m2-4h0m0 4h0m0-2h0m2 2h0m0-4h0m0 2h0m2-2h0m300 2h0m-314 8h0m2-2h0m0-2h0m0 4h0m2-2h0m0 2h0m0-4h0m2 0h0m0 4h0m0-2h0m2 2h0m0-2h0m0-2h0m2 2h0m0-2h0m2 0h0m304 0h0m2 2h0m2 2h0m10 0h0m0-2h0m2 0h0m0 2h0m-330 2h0m2 0h0m2 0h0m0 2h0m2-2h0m0 4h0m0-2h0m314-2h0m2 2h0m2 2h0m0-2h0m0-2h0m2 2h0m0 2h0m0-4h0m2 4h0m0-2h0m0-2h0m2 2h0m0-2h0m2 0h0m-328 10h0m-14 2h0m0 2h0m2-2h0m8 8h0m-4 8h0m2-4h0m-16 10h0m2-4h0m0 4h0m0-2h0m2 2h0m0-4h0m0 2h0m2 2h0m0-2h0m2 2h0m0-2h0m2 2h0m0-2h0m2-2h0m348 2h0m0 2h0m2-2h0m0 2h0m2 0h0m0-2h0m2 2h0m0-2h0m2 2h0m0-2h0m2 2h0m-372 6h0m0-2h0m2-2h0m0 2h0m0 2h0m2-4h0m0 4h0m0-2h0m2 0h0m0-2h0m0 4h0m2 0h0m0-2h0m0-2h0m2 0h0m354 4h0m0-2h0m0-2h0m2 0h0m2 0h0m0 2h0m2-2h0m2 0h0m0 2h0m2 0h0m0-2h0m2 4h0m-378 6h0m0-4h0m0 2h0m2 0h0m0 2h0m0-4h0m2 2h0m0-2h0m0 4h0m2 0h0m0-4h0m0 2h0m2-2h0m0 4h0m0-2h0m360 0h0m12-2h0m-382 8h0m2-2h0m0 2h0m2 0h0m0-2h0m2 0h0m0 2h0m2 0h0m0 2h0m0-4h0m364 0h0m2 4h0m14 0h0m-380 6h0m0-4h0m370 2h0m8 2h0m2-4h0m0 2h0m0 2h0m2-2h0m0-2h0m0 4h0m2 0h0m-398 4h0m390 0h0m2-2h0m0 4h0m0-2h0m2 2h0m0-4h0m0 2h0m2-2h0m0 2h0m0 2h0m2-2h0m0 2h0m0-4h0m2 2h0m-388 8h0m380-4h0m2 2h0m0-2h0m2 0h0m-384 8h0m0 2h0m394 16h0m2-2h0m0 4h0m0-2h0m2-2h0m0 4h0m0-2h0m2-2h0m0 2h0m2 0h0m0-2h0m2 4h0m-8 8h0m0 2h0m0 2h0m18 4h0m-14 6h0m2 2h0m14-2h0m0 2h0m-10 6h0m2 4h0m18 8h0m-2 12h0m2-2h0" stroke="#20948b" stroke-width="3.4"/><path d="M1642 122h0m-22 4h0m2 0h0m36-2h0m2 0h0m2 0h0m22 10h0m-50 6h0m2 0h0m6-2h0m2 0h0m4-2h0m12 0h0m2 2h0m4 2h0m18-4h0m0 2h0m0 2h0m2 0h0m0-4h0m0 2h0m2 2h0m0-2h0m-82 8h0m4-2h0m2-2h0m2 0h0m2 0h0m54 0h0m2 0h0m6 2h0m2 0h0m2 0h0m2 0h0m0-2h0m2 2h0m0-2h0m-112 10h0m2-2h0m0 2h0m2-4h0m20 4h0m4-2h0m2-2h0m106 4h0m2 0h0m2 0h0m-128 6h0m8-4h0m112 4h0m0-2h0m2 0h0m0-2h0m0 4h0m2-4h0m0 4h0m0-2h0m2 0h0m0-2h0m2 0h0m2 0h0m2 0h0m-136 6h0m126 0h0m-132 8h0m2-2h0m138 4h0m22 0h0m-184 6h0m2 0h0m16-2h0m2-2h0m150 4h0m14 0h0m0-4h0m0 2h0m2 0h0m0 2h0m-184 4h0m0-2h0m2 0h0m0 2h0m2 0h0m0 2h0m2 0h0m170 0h0m2 0h0m2 0h0m0-2h0m0-2h0m2 2h0m0-2h0m-2 6h0m-194 10h0m2 0h0m2 0h0m-4 2h0m2 0h0m2 0h0m0 2h0m2-2h0m0 2h0m2 2h0m0-4h0m0 2h0m0 4h0m206 4h0m2 0h0m0-2h0m2 0h0m0 2h0m2-2h0m0 2h0m2-2h0m0 2h0m2-2h0m0 2h0m-10 2h0m2 4h0m0-4h0m-230 10h0m14 0h0m2-2h0m214-2h0m18 4h0m-250 4h0m2 2h0m0-4h0m0 2h0m2 0h0m0 2h0m0-4h0m2 4h0m0-2h0m2 2h0m2 0h0m4-4h0m222 0h0m2 2h0m2 2h0m8 0h0m2-2h0m0 2h0m0-4h0m2 2h0m-256 8h0m2-2h0m0 2h0m2 0h0m0-2h0m2 2h0m0-2h0m2-2h0m0 4h0m2-2h0m0-2h0m2 2h0m0-2h0m234 0h0m2 2h0m2 0h0m0-2h0m2 2h0m0-2h0m2 0h0m-252 6h0m2 0h0m2 0h0m0 2h0m2 0h0m0-2h0m-14 8h0m12 2h0m-2 6h0m258 0h0m2 0h0m0-2h0m2 2h0m0-2h0m2 2h0m0-2h0m2 2h0m0-2h0m2 0h0m0 2h0m-270 4h0m260-2h0m8 0h0m2 0h0m2 0h0m0 2h0m2 2h0m-278 4h0m2-2h0m264 0h0m2 4h0m10 0h0m0-4h0m0 2h0m2 0h0m0 2h0m-294 6h0m0-2h0m2 0h0m0 2h0m2 0h0m2 0h0m2 0h0m2-2h0m274-2h0m2 4h0m2 0h0m2-2h0m0 2h0m2-2h0m0 2h0m0-4h0m2 0h0m-290 6h0m2 0h0m282 0h0m2 0h0m6 10h0m2 0h0m2 0h0m2 0h0m0-2h0m2 0h0m0 2h0m2 0h0m-10 2h0m0 2h0m2 0h0m0-2h0m2 0h0m2 0h0m2 0h0m2 0h0m2 2h0m-10 4h0m2 4h0m10 0h0m2 0h0m-6 6h0m2 0h0m0-2h0m2 2h0m0-2h0m0-2h0m2 0h0m0 4h0m0-2h0m2-2h0m-332 8h0m2 0h0m0-2h0m0 4h0m2 0h0m0-2h0m2 0h0m0 2h0m2 0h0m318-4h0m-320 6h0m2 0h0m0 2h0m-2 8h0m-16 12h0m0-2h0m2 2h0m0-2h0m2 2h0m2 0h0m2 0h0m2-2h0m-8 4h0m2 0h0m2 0h0m354 8h0m0 2h0m2 0h0m2-2h0m0 2h0m2 0h0m2 0h0m-8 2h0m2 0h0m4 0h0m2 0h0m2 2h0m0-2h0m0 4h0m2 0h0m0-2h0m2 2h0m-384 6h0m2 0h0m2 0h0m2 0h0m368-2h0m8 0h0m0-2h0m2 0h0m0 4h0m0-2h0m2-2h0m0 2h0m0 2h0m-388 2h0m378 0h0m4 4h0m2 0h0m2-4h0m0 4h0m0-2h0m2 0h0m0-2h0m-4 6h0m2 0h0m-390 8h0m12 0h0m0 10h0m400 16h0m2 0h0m-6 4h0m0 2h0m0-4h0m6 0h0m2 0h0m-6 14h0m20 12h0m4 24h0m2 0h0m2-2h0" stroke="#1f9c89" stroke-width="3.4"/><path d="M1630 122h0m8 0h0m16 0h0m-28 2h0m2 0h0m26 0h0m0 2h0m2-2h0m0 4h0m0-2h0m2 2h0m0-2h0m2 0h0m0 2h0m2-2h0m0 2h0m2-2h0m0 2h0m2 0h0m0-2h0m2 2h0m0-2h0m2 2h0m-66 6h0m0-2h0m2 2h0m0-2h0m2 0h0m0 2h0m2-2h0m0-2h0m0 4h0m2-4h0m0 2h0m40 2h0m2 0h0m2 0h0m0-4h0m2 2h0m0-2h0m2 0h0m2 0h0m16 0h0m2 2h0m0 2h0m2 0h0m0-2h0m-66 8h0m2 0h0m6 0h0m8 0h0m8-2h0m4-2h0m2 0h0m16 0h0m2 2h0m4 2h0m12 0h0m0-2h0m2 2h0m0-4h0m0 2h0m-74 6h0m66-2h0m6 0h0m2 0h0m-104 10h0m0-2h0m2-2h0m0 4h0m0-2h0m20 0h0m-28 6h0m2 0h0m0-2h0m2 0h0m0 2h0m2 0h0m0 2h0m0-4h0m2 4h0m0-4h0m0 2h0m2 0h0m0 2h0m2 0h0m4-2h0m4-2h0m120 4h0m2 0h0m0-2h0m2 0h0m2 0h0m2 0h0m-142 8h0m2-2h0m0-2h0m130 2h0m0-2h0m2 4h0m0-4h0m2 8h0m20 0h0m2 2h0m-180 4h0m2 0h0m0-2h0m0 4h0m2 0h0m10-2h0m2-2h0m150 2h0m4 2h0m8 0h0m0-2h0m2 0h0m0-2h0m0 4h0m-176 2h0m2 0h0m0 2h0m2 0h0m0-2h0m2 0h0m162 0h0m4 0h0m0 2h0m2 0h0m0-2h0m-194 20h0m2 0h0m2 0h0m2 2h0m2 0h0m0 6h0m0-2h0m0-2h0m-2 8h0m212 0h0m2 0h0m0-2h0m2 0h0m2 0h0m2 2h0m0-2h0m2 0h0m0 2h0m2 0h0m0 2h0m2 0h0m-242 4h0m0-2h0m0 4h0m2 0h0m12-4h0m216 0h0m0 2h0m2 2h0m10 0h0m0-2h0m0-2h0m2 4h0m0-2h0m-242 4h0m2 2h0m0-2h0m2 2h0m2 0h0m226-2h0m6 4h0m2-4h0m0 4h0m0-2h0m2 0h0m0-2h0m-4 6h0m-250 8h0m2-2h0m0 2h0m2 0h0m0 2h0m2-2h0m0 2h0m2 0h0m-14 6h0m14-2h0m0-2h0m-16 6h0m14 2h0m-16 4h0m14 0h0m262 0h0m0 4h0m0-2h0m2 0h0m0-2h0m0 4h0m2-4h0m0 2h0m0 2h0m2 0h0m0-2h0m2 0h0m0 2h0m2 0h0m-278 6h0m270-2h0m4-2h0m0 4h0m0-2h0m2-2h0m0 2h0m0 2h0m2-2h0m0-2h0m0 4h0m-290 2h0m2 0h0m2 2h0m0-2h0m2 2h0m2 0h0m278 0h0m0-2h0m2 0h0m0 2h0m2-2h0m8 22h0m2-2h0m0 2h0m2-2h0m0 2h0m2-2h0m0 2h0m2 0h0m0-2h0m2 2h0m-8 2h0m0 2h0m2 0h0m0-2h0m0 4h0m2 0h0m0-4h0m2 4h0m0-4h0m0 2h0m2 0h0m0 2h0m0-4h0m2 0h0m0 2h0m-8 4h0m2 2h0m0-2h0m2 0h0m0 2h0m2-2h0m-326 10h0m0 2h0m2 0h0m2 2h0m0-2h0m2 4h0m0-2h0m0 6h0m0-2h0m-14 10h0m10 0h0m2-4h0m-12 6h0m2 0h0m0 2h0m2-2h0m0 2h0m2 0h0m0-2h0m2 0h0m352 22h0m0-2h0m2-2h0m0 2h0m2 2h0m0-2h0m2 2h0m0-2h0m-4 4h0m2 4h0m2-4h0m2 2h0m0-2h0m0 4h0m2 0h0m-384 4h0m2-2h0m2 0h0m2 0h0m2 0h0m0 2h0m372-2h0m2 2h0m0-2h0m2 2h0m0-2h0m-376 10h0m0-2h0m0 4h0m-2 6h0m-6 8h0m2 0h0m0 2h0m2 0h0m402 14h0m2 0h0m0 2h0m2 0h0m2 0h0m2 0h0m-6 16h0m4 6h0m6 12h0m2 4h0m12-4h0m0 2h0m-10 4h0m12 4h0m-4 2h0m2 0h0" stroke="#23a485" stroke-width="3.4"/><path d="M1648 122h0m2 0h0m-34 6h0m14-4h0m20 0h0m0 2h0m2-2h0m0 4h0m0-2h0m2 2h0m18 0h0m-70 6h0m10 0h0m2 0h0m0-4h0m0 2h0m2-2h0m32 4h0m2 0h0m2-4h0m0 2h0m2-2h0m0 2h0m2 0h0m2 2h0m2 0h0m0-2h0m2 0h0m0 2h0m2-2h0m0 2h0m0-4h0m2 0h0m0 2h0m2-2h0m2 0h0m2 0h0m2 0h0m0 2h0m2 0h0m0-2h0m2 2h0m0 2h0m-78 2h0m2 0h0m2 0h0m2 0h0m0 2h0m2-2h0m0 2h0m0 2h0m2-2h0m0 2h0m0-4h0m2 0h0m0 4h0m0-2h0m2 2h0m0-4h0m0 2h0m6 2h0m2 0h0m4 0h0m2 0h0m2 0h0m8-2h0m28 0h0m4 2h0m8-4h0m0 2h0m0 2h0m2-4h0m-98 10h0m2 0h0m0-2h0m26-2h0m66 0h0m2 0h0m-96 8h0m0-2h0m0 4h0m2 0h0m12 0h0m-26 6h0m2 0h0m2 0h0m2 0h0m6-4h0m2 2h0m0-2h0m2 2h0m4-2h0m126 4h0m2 0h0m2 0h0m2 0h0m-148 2h0m2 0h0m0 2h0m2 0h0m0-2h0m134 2h0m2 0h0m0-2h0m2 0h0m2 0h0m6 0h0m2 0h0m2 2h0m2 2h0m-170 6h0m14 0h0m2-4h0m138 0h0m2 2h0m2 2h0m14 0h0m0-2h0m0-2h0m2 4h0m-174 4h0m0-2h0m2 4h0m0-2h0m2 2h0m2 0h0m2 0h0m152-4h0m8 4h0m2 0h0m2-4h0m0 4h0m0-2h0m2-2h0m-4 6h0m-192 22h0m2 0h0m2 0h0m2 0h0m-6 2h0m2 0h0m4 0h0m2 0h0m-14 10h0m12 0h0m216 0h0m2 0h0m0-2h0m2 2h0m0-2h0m2 2h0m2 0h0m-236 2h0m0 2h0m2 2h0m0-2h0m2 2h0m4 0h0m2-2h0m220-2h0m4 0h0m2 2h0m0 2h0m0-4h0m2 4h0m0-4h0m0 2h0m-234 4h0m2 0h0m228 2h0m2 0h0m0-2h0m0 4h0m2-2h0m0-2h0m-250 16h0m2 0h0m0 2h0m2 0h0m2 2h0m0-2h0m0 4h0m-2 6h0m2-4h0m-4 10h0m-14 4h0m0 2h0m2 0h0m2 0h0m8-4h0m268 0h0m2 4h0m0-2h0m0-2h0m-278 6h0m2 0h0m2 0h0m294 26h0m-324 18h0m0 2h0m2 0h0m0-2h0m2 2h0m0-2h0m2 2h0m-2 2h0m0 2h0m2 2h0m0-4h0m0 2h0m-10 8h0m0-2h0m2 2h0m0-2h0m2 0h0m0 2h0m2-2h0m0 2h0m2-4h0m0 2h0m352 26h0m2 4h0m0-2h0m2 2h0m0 2h0m-378 4h0m2 0h0m2 0h0m2 2h0m0 2h0m-2 10h0m0 4h0m-8 4h0m6 2h0m2 0h0m400 18h0m6 2h0m2 0h0m-8 6h0m10-4h0m-10 6h0m4 8h0m4 6h0m2 4h0m14 4h0m2 12h0m-4 2h0" stroke="#28ab81" stroke-width="3.4"/><path d="M1646 122h0m-28 6h0m28-4h0m2 0h0m0 2h0m2 2h0m-34 6h0m0-2h0m2-2h0m0 2h0m0 2h0m28 0h0m4-4h0m0 2h0m16 2h0m2 0h0m0-2h0m2 2h0m0-2h0m2 2h0m0-2h0m2 2h0m2 0h0m-86 6h0m6-2h0m2-2h0m2 2h0m2 0h0m2 2h0m0-2h0m2 2h0m10-4h0m0 2h0m2 0h0m0-2h0m16 2h0m2 0h0m6-2h0m22 0h0m2 0h0m2 2h0m0-2h0m2 0h0m2 4h0m0-4h0m2 2h0m0 2h0m0-4h0m2 0h0m0 4h0m0-2h0m-90 8h0m0-4h0m0 2h0m2-2h0m16 4h0m2-4h0m0 2h0m2-2h0m-24 6h0m0 2h0m2 0h0m0-2h0m0 4h0m12-2h0m4-2h0m-16 6h0m2 0h0m-22 8h0m2-2h0m2 0h0m0 2h0m2 0h0m0-2h0m2 4h0m0-2h0m2 2h0m138 0h0m2 0h0m0-2h0m2 0h0m2 0h0m0-2h0m2 2h0m0-2h0m2 2h0m2 0h0m0 2h0m2 0h0m-166 4h0m0-2h0m0 4h0m10 0h0m2-2h0m142-2h0m12 0h0m2 4h0m0-4h0m0 2h0m-168 4h0m2 2h0m2 0h0m2 0h0m154-2h0m2 2h0m2 0h0m2 0h0m0-2h0m2 2h0m0-2h0m-194 34h0m2-2h0m2 0h0m2-2h0m0 2h0m2 0h0m0 2h0m2-2h0m0 2h0m-12 4h0m0 2h0m0-4h0m12 0h0m-12 6h0m2 2h0m0-2h0m2 4h0m0-2h0m2 0h0m222 0h0m2-2h0m0 2h0m0 2h0m2-2h0m0 2h0m0 2h0m-248 18h0m2 0h0m2 2h0m2 2h0m0-2h0m-2 12h0m-12 6h0m0-2h0m2 2h0m2 0h0m0 2h0m2-2h0m0 2h0m2-2h0m-34 54h0m0 2h0m2-4h0m0 4h0m0-2h0m2 2h0m0-4h0m0 2h0m2 2h0m-8 2h0m2 0h0m2 0h0m2 0h0m-22 40h0m2 0h0m2 0h0m2 0h0m-6 2h0m-4 12h0m0 2h0m2 2h0m2 0h0m6 0h0m-6 2h0m2 0h0m2 0h0m2 0h0m400 22h0m2 0h0m2 0h0m-4 4h0m0-2h0m8 0h0m-6 10h0m4 6h0m2 2h0m2 4h0m2 6h0m2 4h0m4 6h0m2 2h0m4 0h0m2-2h0" stroke="#31b37c" stroke-width="3.4"/><path d="M1644 122h0m-24 6h0m24-4h0m2 4h0m0-2h0m2 2h0m-28 2h0m0 4h0m0-2h0m28 0h0m0-2h0m-56 10h0m2 0h0m0-2h0m4 2h0m0-2h0m2 2h0m2 0h0m18-2h0m0-2h0m2 2h0m2 0h0m2 0h0m4 0h0m10-2h0m30 2h0m2 0h0m-84 8h0m0-2h0m2-2h0m12 0h0m0 4h0m2-4h0m0 2h0m-16 6h0m0-2h0m0 4h0m4 0h0m2 0h0m2-2h0m4-2h0m-36 16h0m2 0h0m2 0h0m0-2h0m2 2h0m2 0h0m146 0h0m2 0h0m2 0h0m2 0h0m-160 2h0m0 4h0m0-2h0m2 0h0m0-2h0m0 4h0m2 0h0m0-4h0m2 4h0m0-2h0m0-2h0m2 2h0m0-2h0m2 0h0m144 0h0m0 2h0m2 2h0m0-4h0m2 0h0m2 2h0m0-2h0m0 4h0m2 0h0m0-4h0m0 2h0m2 0h0m0 2h0m-164 2h0m2 0h0m2 0h0m2 0h0m154 0h0m2 0h0m-188 34h0m2 0h0m2 0h0m-6 2h0m0 2h0m0 2h0m2-2h0m0-2h0m0 4h0m2-4h0m0 4h0m0-2h0m2 2h0m0-4h0m0 2h0m2 0h0m0-2h0m-6 6h0m2 0h0m2 0h0m-24 26h0m2 0h0m2 2h0m0 2h0m2 2h0m0-2h0m-14 10h0m10 0h0m-8 2h0m2 0h0m2 0h0m2 0h0m-54 106h0m0-2h0m4-2h0m-6 10h0m10-2h0m-8 4h0m0 2h0m4 2h0m2 0h0m404 26h0m2 0h0m2 0h0m4 2h0m2 2h0m-10 4h0m10-2h0m2 2h0m0 2h0m-10 2h0m12 2h0m0 2h0m2 2h0m-2 16h0m6 6h0m4-4h0" stroke="#3fbb74" stroke-width="3.4"/><path d="M1622 128h0m20-4h0m2 4h0m0-2h0m-22 4h0m0 4h0m0-2h0m22 2h0m2-4h0m0 2h0m-50 8h0m26-4h0m6 2h0m4 0h0m6-2h0m-48 10h0m0-2h0m2-2h0m0 2h0m2-2h0m2 0h0m2 0h0m2 2h0m0-2h0m2 2h0m-12 8h0m0-2h0m0-2h0m-22 20h0m152 0h0m2 2h0m0-2h0m-206 74h0m2 0h0m2 0h0m-2 2h0m2 2h0m0-2h0m0 4h0m2-2h0m0 2h0m-10 2h0m0 2h0m0 2h0m2-2h0m0 2h0m2 0h0m0-2h0m2 0h0m0 2h0m2-2h0m0-2h0m2 0h0m-56 110h0m4-2h0m0 2h0m2-2h0m0 4h0m0-2h0m-8 8h0m0-4h0m0 2h0m8-2h0m-6 6h0m0 2h0m2 0h0m2-2h0m0 2h0m410 30h0m2 2h0m-8 2h0m10 2h0m2 4h0m0 2h0m0 2h0m-4 4h0m6-2h0m2 2h0m2 2h0m-8 4h0m14 8h0m-6 4h0m4 0h0" stroke="#4dc36c" stroke-width="3.4"/><path d="M1624 128h0m2-2h0m8-2h0m2 0h0m2 0h0m2 0h0m0 2h0m2 2h0m0-2h0m-18 8h0m0-4h0m0 2h0m18-2h0m0 4h0m2-2h0m0-2h0m-20 6h0m12 0h0m-44 10h0m2 0h0m0-2h0m2 2h0m0-2h0m2 0h0m0 2h0m2 0h0m-8 2h0m0 2h0m2-2h0m0 2h0m2-2h0m2 0h0m-86 100h0m2 0h0m0-2h0m2 0h0m0-2h0m0 4h0m2 0h0m0-2h0m-4 4h0m2 0h0m2 0h0m-52 112h0m2-2h0m0 2h0m-2 4h0m0 2h0m0-4h0m4 4h0m-2 2h0m406 32h0m0 2h0m2-2h0m2 0h0m2 2h0m-4 6h0m6-4h0m2 4h0m-6 4h0m2 2h0m4-4h0m2 6h0m2 2h0m-4 4h0m2 6h0m8 8h0m2-2h0" stroke="#5ec962" stroke-width="3.4"/><path d="M1626 128h0m2-2h0m0 2h0m2-2h0m2 0h0m0-2h0m2 2h0m2 0h0m2 0h0m2 2h0m-14 2h0m0 2h0m0 2h0m14 0h0m0-4h0m0 2h0m2 0h0m-16 4h0m2 0h0m2 0h0m2 0h0m2 0h0m-164 226h0m-2 6h0m0-2h0m0-2h0m2 0h0m0 2h0m408 38h0m2 2h0m2 4h0m0-2h0m2 6h0m0 2h0m-2 2h0m2 0h0m0 4h0m0-2h0m2 2h0m0-2h0m2 2h0m2 0h0m2 2h0m4 10h0m-6 2h0m4 0h0" stroke="#71cf56" stroke-width="3.4"/><path d="M1630 128h0m2 0h0m2 0h0m2 0h0m2 0h0m-10 6h0m0-2h0m0-2h0m2 4h0m0-4h0m0 2h0m6-2h0m2 4h0m0-2h0m0-2h0m238 274h0m2 8h0m2 2h0m2-2h0m0 2h0m0 2h0m4 8h0m0 4h0m4-4h0m4 2h0m0 2h0m-6 4h0m8-2h0m0 2h0m-4 4h0" stroke="#84d54b" stroke-width="3.4"/><path d="M1632 132h0m0 2h0m0-4h0m2 2h0m0-2h0m0 4h0m2 0h0m0-2h0m240 274h0m0 2h0m2-2h0m2 2h0m0 2h0m0 2h0m8 12h0m4 2h0m0 8h0m2-4h0m0 4h0m0-2h0" stroke="#9ad83c" stroke-width="3.4"/><path d="M1878 410h0m0-2h0m8 18h0m2 0h0m2 0h0m2 2h0m-4 2h0m2 4h0m2-4h0m0 2h0" stroke="#b1dc2e" stroke-width="3.4"/><path d="M1888 428h0m2 0h0m0 4h0m0-2h0" stroke="#c7e023" stroke-width="3.4"/></g><line x1="1437.1" y1="98.5" x2="1437.1" y2="475.4" stroke="#000" stroke-width="1.9"/><line x1="1436.2" y1="474.5" x2="1934" y2="474.5" stroke="#000" stroke-width="1.9"/><line x1="1431.4" y1="125" x2="1436.3" y2="125" stroke="#333333" stroke-width="1.6"/><text x="1427.4" y="135.1" font-size="28" text-anchor="end" fill="#333333">0.01</text><line x1="1431.4" y1="248.8" x2="1436.3" y2="248.8" stroke="#333333" stroke-width="1.6"/><text x="1427.4" y="258.9" font-size="28" text-anchor="end" fill="#333333">0.00</text><line x1="1431.4" y1="372.7" x2="1436.3" y2="372.7" stroke="#333333" stroke-width="1.6"/><text x="1427.4" y="382.8" font-size="28" text-anchor="end" fill="#333333">−0.01</text><line x1="1439.1" y1="475.3" x2="1439.1" y2="480.6" stroke="#333333" stroke-width="1.6"/><text x="1439.1" y="505.4" font-size="28" text-anchor="middle" fill="#333333">0.010</text><line x1="1533.8" y1="475.3" x2="1533.8" y2="480.6" stroke="#333333" stroke-width="1.6"/><text x="1533.8" y="505.4" font-size="28" text-anchor="middle" fill="#333333">0.005</text><line x1="1628.5" y1="475.3" x2="1628.5" y2="480.6" stroke="#333333" stroke-width="1.6"/><text x="1628.5" y="505.4" font-size="28" text-anchor="middle" fill="#333333">0.000</text><line x1="1723.3" y1="475.3" x2="1723.3" y2="480.6" stroke="#333333" stroke-width="1.6"/><text x="1723.3" y="505.4" font-size="28" text-anchor="middle" fill="#333333">−0.005</text><line x1="1818" y1="475.3" x2="1818" y2="480.6" stroke="#333333" stroke-width="1.6"/><text x="1818" y="505.4" font-size="28" text-anchor="middle" fill="#333333">−0.010</text><line x1="1912.7" y1="475.3" x2="1912.7" y2="480.6" stroke="#333333" stroke-width="1.6"/><text x="1912.7" y="505.4" font-size="28" text-anchor="middle" fill="#333333">−0.015</text><text x="1435.1" y="91.2" font-size="41.5">eGFR &lt;30</text><text x="1686.1" y="545" font-size="38.5" text-anchor="middle">Dim 1</text><text x="1361" y="286.8" font-size="38.5" text-anchor="middle" transform="rotate(-90 1361 286.8)">Dim 2</text><rect x="1900.2" y="133.5" width="30.3" height="151.5" fill="url(#vir)"/><line x1="1900.2" y1="134.6" x2="1906.2" y2="134.6" stroke="#fff" stroke-width="1.1" opacity="0.85"/><line x1="1924.5" y1="134.6" x2="1930.5" y2="134.6" stroke="#fff" stroke-width="1.1" opacity="0.85"/><text x="1938.1" y="142.7" font-size="22.5" fill="#333333">20k</text><line x1="1900.2" y1="172.3" x2="1906.2" y2="172.3" stroke="#fff" stroke-width="1.1" opacity="0.85"/><line x1="1924.5" y1="172.3" x2="1930.5" y2="172.3" stroke="#fff" stroke-width="1.1" opacity="0.85"/><text x="1938.1" y="180.4" font-size="22.5" fill="#333333">15k</text><line x1="1900.2" y1="209.6" x2="1906.2" y2="209.6" stroke="#fff" stroke-width="1.1" opacity="0.85"/><line x1="1924.5" y1="209.6" x2="1930.5" y2="209.6" stroke="#fff" stroke-width="1.1" opacity="0.85"/><text x="1938.1" y="217.7" font-size="22.5" fill="#333333">10k</text><line x1="1900.2" y1="247.4" x2="1906.2" y2="247.4" stroke="#fff" stroke-width="1.1" opacity="0.85"/><line x1="1924.5" y1="247.4" x2="1930.5" y2="247.4" stroke="#fff" stroke-width="1.1" opacity="0.85"/><text x="1938.1" y="255.5" font-size="22.5" fill="#333333">5k</text><text x="1897.3" y="119.5" font-size="28.5" fill="#333333">Density</text><g stroke-linecap="round" fill="none"><path d="M134 1037h0m3 3h0m2-3h0m0 2h0m1 1h0m1 0h0m0-1h0m0 0h0m0-2h0m1 2h0m0 0h0m0-1h0m0 3h0m0-1h0m0-2h0m0-2h0m1 4h0m1 1h0m0 0h0m0-2h0m2 1h0m1 0h0m0-2h0m1-3h0m0 6h0m0-1h0m1 0h0m0 0h0m0-2h0m2 0h0m1 2h0m0-1h0m1-1h0m1-2h0m1 3h0m0-2h0m0 1h0m1-1h0m1 0h0m2 4h0m0-3h0m1-2h0m0 3h0m0-2h0m0-1h0m1-1h0m0 3h0m0 2h0m0-1h0m0-2h0m0 1h0m2 1h0m2-1h0m1 1h0m0-3h0m2-1h0m-28 6h0m1 4h0m0-2h0m1-1h0m0 0h0m1 2h0m0-3h0m0 3h0m0-1h0m1 2h0m0-4h0m1 1h0m0 4h0m0-3h0m0-1h0m1 3h0m0 0h0m0 1h0m0-4h0m0 0h0m2 1h0m0 1h0m1 3h0m1-6h0m0 3h0m2 0h0m0-1h0m1 3h0m0-4h0m1 4h0m5-5h0m0 3h0m1 0h0m2-3h0m0 1h0m-30 8h0m1-2h0m0 1h0m2 3h0m0-3h0m0 3h0m2-1h0m1-3h0m0 0h0m2 2h0m1 2h0m0-3h0m0 1h0m1 3h0m0-3h0m1 2h0m0-3h0m1-1h0m1 1h0m0-2h0m0 0h0m0 3h0m1-1h0m1 3h0m0 0h0m1-2h0m0-2h0m0 2h0m0 0h0m0 2h0m1-3h0m0 0h0m0-2h0m1 3h0m0-1h0m0-2h0m0 1h0m1 2h0m6 1h0m0-1h0m-23 7h0m0-1h0m0 0h0m1 0h0m1 1h0m0 0h0m2 1h0m1-4h0m2 5h0m1-3h0m0-3h0m1 0h0m0 5h0m1 0h0m0-1h0m0 1h0m2-5h0m0 2h0m1 1h0m2 2h0m1-4h0m0 1h0m-16 8h0m3-1h0m1 3h0m1-6h0m1 1h0m0 2h0m1 3h0m0-3h0m0 1h0m1 0h0m0-4h0m0 3h0m1 0h0m1-3h0m0 4h0m0 0h0m0-1h0m1 0h0m1-3h0m0 2h0m0-2h0m1 2h0m-11 5h0m1 3h0m0-4h0m1 2h0m0-1h0m0-1h0m1 1h0m1 2h0m0-2h0m0 3h0m0-2h0m1 1h0m0 0h0m0-2h0" stroke="#040635" stroke-width="2.5"/><path d="M136 1017h0m2-4h0m12 3h0m1-3h0m1 1h0m0-1h0m1 4h0m1-1h0m1 1h0m1-1h0m1-2h0m1 3h0m2-2h0m0-2h0m1 1h0m1-1h0m0 0h0m0 1h0m0 0h0m0 0h0m0 1h0m1-1h0m1 1h0m0 1h0m1 1h0m1-1h0m0-3h0m1 4h0m0-2h0m2 1h0m0 0h0m0-1h0m1-1h0m0-1h0m1 2h0m0-1h0m0 1h0m0-2h0m1 0h0m1 3h0m0 0h0m0-1h0m1-2h0m0 0h0m0 1h0m1 2h0m1 1h0m0-2h0m1 0h0m0-1h0m0 2h0m0-3h0m-41 6h0m0-1h0m1 2h0m1-2h0m1 0h0m0 3h0m0-2h0m0 0h0m1 0h0m1 1h0m0 1h0m1 1h0m0-2h0m1-1h0m0 3h0m1-4h0m1 2h0m0 2h0m1 1h0m0-1h0m0-4h0m1 5h0m1-2h0m0-2h0m1 1h0m1-1h0m0 3h0m0 0h0m1 0h0m0-2h0m0-1h0m1 3h0m0-1h0m2 2h0m0-3h0m1 0h0m0-1h0m1-2h0m1 1h0m2 0h0m1 0h0m0 4h0m1-3h0m1-2h0m0 1h0m2 0h0m1 1h0m2 4h0m0-4h0m0 2h0m1-3h0m2 1h0m0-1h0m0 3h0m0-1h0m0 2h0m0 0h0m2-1h0m0-2h0m0 1h0m1-1h0m0-1h0m0 2h0m2 1h0m0-3h0m0 5h0m1-2h0m2-1h0m-44 7h0m0-4h0m0 2h0m0-1h0m1 3h0m1-2h0m0 4h0m2-5h0m0 2h0m0 2h0m0-2h0m0-1h0m1 0h0m0-2h0m1 2h0m1 1h0m0 1h0m0 2h0m1-2h0m0-3h0m0 1h0m1 1h0m0-3h0m1 5h0m1-5h0m0 2h0m0 4h0m1-1h0m0-3h0m1-2h0m0 0h0m1 1h0m0 1h0m0 3h0m1-2h0m2-3h0m0 0h0m1 4h0m0-4h0m0 4h0m0-4h0m3 4h0m0 1h0m1 1h0m0-4h0m2 3h0m0-4h0m0 0h0m1 5h0m0-1h0m1-1h0m0 0h0m1 1h0m1-1h0m1-3h0m2 0h0m1 4h0m1 0h0m2-3h0m1 1h0m0-1h0m0 1h0m1-3h0m0 5h0m1 1h0m0-1h0m0-2h0m0-1h0m0 2h0m1 1h0m0-2h0m0-1h0m0 3h0m0-5h0m0 2h0m1-1h0m0-1h0m0 1h0m0 4h0m0 0h0m0-4h0m1 0h0m1-1h0m-44 9h0m1-1h0m0 0h0m0-2h0m1 3h0m0-1h0m0 1h0m1 1h0m0-1h0m0 2h0m1-5h0m1 3h0m0 2h0m1-3h0m1 1h0m1-3h0m0 2h0m0-1h0m0 1h0m1 2h0m0-3h0m0 1h0m0-2h0m1 2h0m1 0h0m0 0h0m4-1h0m5 3h0m0-3h0m1 4h0m0-2h0m1 0h0m0 2h0m0-4h0m0 1h0m0 3h0m0-4h0m1 1h0m0 2h0m0-1h0m1-2h0m0 0h0m1 3h0m0-3h0m0 2h0m1 1h0m1-3h0m0 4h0m0 0h0m0-2h0m0 2h0m0 1h0m1-3h0m0-3h0m1 1h0m0 3h0m1-3h0m0 4h0m1-4h0m2 2h0m1 0h0m0-3h0m0 3h0m1-3h0m1 1h0m0 4h0m1 0h0m0 0h0m0-4h0m0 4h0m0-4h0m4 1h0m-15 4h0m1 0h0" stroke="#050d50" stroke-width="2.5"/><path d="M140 991h0m10 1h0m4 1h0m-16 5h0m2-4h0m2-1h0m0 3h0m1-1h0m0 1h0m2 0h0m0-2h0m1 5h0m0-4h0m1 3h0m1 0h0m0-3h0m1 4h0m1-4h0m0 0h0m0 3h0m0 0h0m1-1h0m0-2h0m0 4h0m1-6h0m1 3h0m0 0h0m1-3h0m1 4h0m1 1h0m2-2h0m1-1h0m1 4h0m1-4h0m1 2h0m0-2h0m2 2h0m0-1h0m0 1h0m1 1h0m0-1h0m0 1h0m1 0h0m2 0h0m1-1h0m1 2h0m0-2h0m6 1h0m-39 6h0m0-1h0m4-3h0m4 1h0m0 0h0m0 1h0m0 3h0m0-1h0m1-5h0m0 4h0m0-1h0m0 1h0m0 0h0m1 1h0m0-2h0m0-2h0m1 4h0m0-2h0m0-3h0m0 5h0m0-2h0m1-1h0m0 0h0m0 1h0m3 0h0m0 1h0m0-2h0m1 3h0m1-4h0m0-1h0m1 2h0m0-2h0m1 4h0m0 0h0m1-1h0m1-1h0m0 3h0m1 0h0m0-1h0m1 1h0m2 0h0m0-4h0m0 3h0m1 1h0m0-2h0m1-1h0m1 2h0m0-1h0m1 3h0m0-1h0m0-1h0m1-4h0m1 3h0m0-2h0m0 0h0m0 4h0m1 0h0m0-4h0m0 5h0m0 0h0m0-5h0m1 4h0m0-1h0m0 2h0m0-4h0m1 2h0m0-2h0m0-1h0m0 3h0m1 2h0m0-3h0m0-1h0m0-2h0m0 2h0m1 2h0m0-1h0m0 1h0m1 1h0m4-4h0m1 3h0m0-3h0m1 2h0m1 2h0m0-2h0m1 3h0m1-2h0m2-2h0m1 2h0m1 0h0m0-1h0m1-1h0m1 1h0m1 1h0m-53 4h0m1 3h0m7-1h0m0 1h0m1-5h0m0 3h0m1-2h0m4 1h0m2 0h0m2 0h0m0-1h0m1 1h0m0 2h0m1 0h0m1 1h0m0 0h0m0-4h0m1-1h0m0 2h0m1 0h0m0-1h0m1 0h0m1 1h0m0-2h0m0 0h0m0 4h0m0 0h0m0-4h0m1 2h0m0 0h0m0 0h0m1 3h0m0-4h0m1 2h0m0 3h0m0-3h0m1-2h0m0 4h0m0-5h0m0 5h0m0-5h0m1 5h0m1 1h0m1-4h0m0 1h0m0-2h0m1 5h0m0-6h0m0 1h0m0 4h0m0-1h0m1-4h0m1 4h0m0-1h0m0 1h0m0-4h0m1 6h0m0-4h0m0-1h0m0 0h0m2 5h0m0-4h0m0-1h0m0 0h0m2 1h0m1 1h0m2 0h0m0-2h0m1 2h0m0 0h0m1 2h0m1-2h0m0-1h0m-46 5h0m5 0h0m6-1h0m10 0h0m1 1h0m3-1h0m0 1h0m1 0h0m0 0h0m0 0h0m0 0h0m2 0h0m4 0h0m3 0h0m1-1h0m5 0h0m0 5h0m1-3h0m0 2h0m1 0h0m2-3h0m-3 6h0" stroke="#061368" stroke-width="2.5"/><path d="M146 972h0m1 0h0m0 1h0m1 2h0m1-1h0m1-2h0m2 3h0m0-1h0m0 0h0m2-1h0m0 0h0m1 2h0m4-1h0m1 0h0m-17 4h0m1 3h0m2-5h0m0 2h0m1 1h0m1-3h0m0 1h0m1-1h0m1 0h0m0 4h0m0-5h0m1 4h0m0-1h0m0 0h0m0 2h0m0 1h0m0-1h0m1 0h0m0-2h0m0 1h0m1 2h0m0-1h0m0-3h0m0-1h0m2 1h0m0 3h0m0-3h0m0 1h0m0 1h0m1-1h0m0 2h0m0-2h0m1-2h0m0 4h0m0-2h0m0 1h0m0-2h0m0 0h0m1 2h0m1-2h0m0 2h0m0 0h0m0-2h0m0 3h0m0-1h0m1-1h0m1-2h0m0 0h0m0 0h0m0 3h0m1-1h0m0 2h0m0 0h0m0-2h0m1 3h0m0-4h0m1-1h0m1 2h0m0 1h0m1-2h0m0-1h0m0 3h0m0 0h0m2 1h0m1-3h0m1 3h0m0 1h0m1-3h0m0 2h0m0-3h0m1 1h0m2 3h0m0 0h0m0-2h0m1 0h0m0-1h0m2 3h0m2-1h0m5 1h0m1 0h0m-45 5h0m2-1h0m6 2h0m1-2h0m1-3h0m1 5h0m0-1h0m1-5h0m0 1h0m0 0h0m1 0h0m0 1h0m0 2h0m0-4h0m1 3h0m0-3h0m1 0h0m0 1h0m0-1h0m2 6h0m0-2h0m0 1h0m0-2h0m0 2h0m0-1h0m1-4h0m0 2h0m0 3h0m1-2h0m1 2h0m0-3h0m1 2h0m0-3h0m0 3h0m1-3h0m1 1h0m0 2h0m1-2h0m2 0h0m1 0h0m1 0h0m0 0h0m1-1h0m0 2h0m0-1h0m0 0h0m1 2h0m0-2h0m0-2h0m0 5h0m1 0h0m1-3h0m0 4h0m0 0h0m1-6h0m1 6h0m0-2h0m0 1h0m0-2h0m1-1h0m0 2h0m0 0h0m0-3h0m0 4h0m0-1h0m2-2h0m0-2h0m2 0h0m0 4h0m1 1h0m0-3h0m2-1h0m0 4h0m1-4h0m1 2h0m0-1h0m1 1h0m9 1h0m-54 4h0m1-2h0m2 1h0m0 1h0m1 0h0m0-1h0m0 2h0m2-2h0m2 1h0m0-2h0m0 2h0m2 2h0m1-2h0m0 0h0m0 3h0m0-3h0m1 3h0m0-3h0m0-1h0m0 0h0m2 2h0m0 1h0m0 0h0m0 1h0m0-1h0m1-4h0m0 1h0m0 4h0m1-3h0m1 3h0m0-4h0m1 2h0m0 2h0m0-5h0m0 1h0m3 3h0m2 1h0m0 0h0m1-1h0m0-1h0m0 2h0m1-3h0m0 2h0m1-3h0m0 4h0m0-5h0m1 0h0m0 2h0m0 4h0m1-3h0m0-2h0m0 2h0m1 0h0m0 1h0m0-3h0m1 4h0m0 0h0m1-3h0m0 0h0m0-1h0m1 4h0m0-2h0m0 3h0m0 0h0m0-4h0m0 0h0m1 0h0m0 2h0m2-3h0m5 1h0m9-1h0m1 1h0m2 0h0m1 3h0m0-2h0m0 0h0m1-1h0m1-1h0m1 3h0m4 0h0m1 1h0m2-2h0m2 0h0m-45 4h0m3 1h0m2-1h0m1 0h0m1 0h0m1 1h0m0 0h0m1-2h0m0 0h0m0 0h0m0 2h0m2-1h0m0 0h0m1-1h0m0 2h0m0 1h0m1 0h0m1-1h0m0 2h0m0-1h0m0 0h0m0-2h0m0 1h0m1 0h0m0 2h0m1-1h0m3 1h0m0-1h0m0 0h0m1-2h0m0 3h0m1 2h0m2-4h0m1 3h0m4 0h0m1 1h0m1 0h0m1-1h0m0 0h0m0-1h0m1-3h0m3 5h0m2-4h0m2-2h0m-7 7h0m0 0h0" stroke="#06177d" stroke-width="2.5"/><path d="M148 955h0m3 1h0m0-3h0m3 3h0m0 0h0m1-2h0m0 3h0m2-3h0m0 1h0m1-2h0m0 0h0m1 0h0m3 1h0m1 1h0m1 0h0m4 1h0m-19 1h0m0 2h0m1 2h0m1-4h0m0 4h0m1 1h0m1 0h0m0 0h0m1-2h0m0 3h0m0-3h0m1 0h0m0 0h0m1 3h0m0-4h0m0 3h0m0 0h0m1-2h0m0-1h0m0 3h0m0-5h0m0 1h0m0 3h0m1-1h0m0 1h0m0-3h0m1 0h0m0 4h0m1-1h0m0 2h0m0-3h0m0 0h0m0-2h0m0 4h0m1-2h0m0 3h0m0-3h0m0 1h0m2 1h0m2-2h0m2-1h0m0-1h0m1 0h0m0 5h0m1-5h0m1 1h0m1 0h0m1 0h0m1 1h0m1 1h0m1 1h0m0-2h0m1 0h0m1 2h0m0-3h0m2 4h0m1-3h0m0 1h0m1 0h0m0 1h0m3 0h0m0 1h0m1 0h0m3 0h0m-42 1h0m0 3h0m2-2h0m2-1h0m1 2h0m0 0h0m0-3h0m0 5h0m1-1h0m0-1h0m3-2h0m0 1h0m1 0h0m0 3h0m1-2h0m0-1h0m0 2h0m0 0h0m0-1h0m1 1h0m0 1h0m0-1h0m0-2h0m0-1h0m0 3h0m0 2h0m1-3h0m0 1h0m0-1h0m1-1h0m0-2h0m0 1h0m1 0h0m0 1h0m0 0h0m0-1h0m0 5h0m0-5h0m1 4h0m0-5h0m0 4h0m1-3h0m0 2h0m0 0h0m0-1h0m1 0h0m0 1h0m2 3h0m0-2h0m0-3h0m0 1h0m2 0h0m2 3h0m1 1h0m0-4h0m0 4h0m1 0h0m2-3h0m0-2h0m0 0h0m1 0h0m0 4h0m0-3h0m0-2h0m0 1h0m1 0h0m1 3h0m0-3h0m0 3h0m1 2h0m0-3h0m0-3h0m0 2h0m1 0h0m0 3h0m2 0h0m1-2h0m0-2h0m0 0h0m0 1h0m1-2h0m0 1h0m0 0h0m0 1h0m1 1h0m1 1h0m0 0h0m1-1h0m0-2h0m1 5h0m0-5h0m1 2h0m0-2h0m0 3h0m0-3h0m1-1h0m2 6h0m0-1h0m1 0h0m1 0h0m0 0h0m2-1h0m0-2h0m5 2h0m-50 3h0m1-1h0m0 3h0m2-1h0m0 0h0m0-1h0m1 1h0m2-2h0m0 0h0m0 3h0m2 0h0m0-1h0m1 1h0m0-2h0m0 0h0m0 0h0m0 2h0m0-2h0m1 3h0m0 0h0m0-1h0m2 2h0m0 0h0m0-5h0m3 3h0m1-1h0m0-1h0m1 4h0m1-4h0m2 4h0m0-1h0m0-1h0m1 2h0m0-4h0m0 2h0m1 2h0m0-3h0m0 4h0m0-5h0m1 0h0m0-1h0m0 4h0m1 0h0m0-4h0m1 2h0m3 0h0m1 1h0m2-3h0m4 1h0m2 2h0m1-1h0m0 0h0m1-1h0m2 0h0m1 3h0m1-3h0m1 0h0m0 4h0m1-5h0m1 1h0m0 0h0m0 3h0m0 0h0m2 0h0m0-1h0m2-2h0m0 2h0m1-2h0m0 1h0m1-1h0m1-1h0m0 0h0m4 4h0m1 0h0m1-1h0m1 2h0m0 0h0m-45 1h0m7 1h0m1 0h0m1 1h0m0-1h0m0 0h0m0 1h0m1 0h0m0 0h0m0-1h0m1 1h0m3 0h0m3 1h0m2-1h0m1 1h0m1 2h0m0 0h0m1-1h0m0 1h0m0-4h0m1 1h0m0-1h0m3 0h0m0 0h0m2 3h0m0 0h0m0-3h0m3 2h0m6 2h0m5 0h0m-17 1h0m0 0h0m1 0h0m9 3h0m2 0h0m1-2h0m3 1h0m3 0h0" stroke="#061a92" stroke-width="2.5"/><path d="M156 932h0m0-1h0m-2 7h0m2-4h0m1-1h0m1 2h0m2 4h0m0-3h0m0-3h0m1 1h0m1 1h0m0-1h0m1 2h0m2-1h0m0 0h0m0-1h0m2 3h0m1-1h0m2 0h0m0 1h0m0 0h0m1 2h0m2-1h0m0 0h0m1 1h0m2 0h0m-25 5h0m1-1h0m0 2h0m0-3h0m0 2h0m1-4h0m0 0h0m1-1h0m1 0h0m1 2h0m2 3h0m0-1h0m1 2h0m7-6h0m0 1h0m2 2h0m1-2h0m0 0h0m0 2h0m0-3h0m1 3h0m1 0h0m0-3h0m0 1h0m1 3h0m0-3h0m1 2h0m0 1h0m1 0h0m0-2h0m0-1h0m0 4h0m0-3h0m1 1h0m0 0h0m1 2h0m0-1h0m0-2h0m1 2h0m0-1h0m0-1h0m0 3h0m0-4h0m0 0h0m0 0h0m1 2h0m0 2h0m0-1h0m0 0h0m1 0h0m0-2h0m0-1h0m1 0h0m0 4h0m1-3h0m0 3h0m1 1h0m1-2h0m0 2h0m1-1h0m0-2h0m0 0h0m0 1h0m0-1h0m2 0h0m0 1h0m0 1h0m1 0h0m2-1h0m0 1h0m2 0h0m-42 5h0m2 1h0m0-4h0m1 4h0m1-5h0m0 3h0m2-1h0m1 0h0m0-1h0m0 2h0m1 1h0m0 2h0m3-1h0m3-4h0m4 5h0m0-1h0m2-1h0m0 1h0m0-1h0m1 0h0m0 0h0m1 2h0m0-3h0m1 0h0m0 1h0m0-3h0m1 2h0m1 1h0m1-2h0m1 4h0m1-2h0m0 0h0m0-3h0m0 5h0m0-1h0m1-4h0m0 4h0m1-1h0m0 2h0m0-3h0m1-1h0m2 1h0m1-1h0m0-1h0m0 4h0m0-2h0m1 1h0m0 1h0m0 0h0m1-1h0m0-1h0m0 1h0m0-2h0m0-1h0m1 2h0m0 2h0m0-4h0m0 2h0m0 0h0m1 3h0m0-4h0m0 3h0m0-1h0m1-4h0m1 5h0m0 0h0m0-1h0m0-3h0m1 4h0m1 0h0m0-5h0m1 5h0m0-2h0m1 1h0m0-1h0m0 2h0m0-2h0m1-2h0m0-1h0m0 1h0m0 4h0m1 1h0m0-2h0m0 0h0m0 1h0m1-3h0m0 1h0m-35 5h0m2 0h0m0-1h0m2 0h0m1 0h0m0 1h0m0 1h0m1-3h0m1 1h0m0 4h0m0-2h0m1 0h0m0-2h0m0 0h0m0 3h0m0-1h0m1-1h0m0 1h0m0-2h0m1-1h0m1 2h0m1 3h0m1 0h0m0 0h0m1-3h0m1 2h0m0-3h0m1-1h0m0 1h0m0 4h0m1-1h0m0-2h0m0-2h0m0 2h0m2-1h0m0 1h0m0 1h0m1-3h0m0 2h0m2 0h0m1-1h0m0 1h0m0-1h0m1 1h0m2-1h0m0 3h0m0-3h0m0 0h0m1 3h0m1 1h0m0 0h0m0-4h0m1 2h0m1 0h0m1 2h0m1-4h0m0 0h0m0 1h0m2-1h0m0 3h0m1 2h0m0-4h0m1-1h0m1 4h0m1 1h0m6-4h0m3 0h0m2 0h0m0 0h0m-36 5h0m3 0h0m2 0h0m0 1h0m5 2h0m2-3h0m0 1h0m1 3h0m1-2h0m0-2h0m1 2h0m0 1h0m0 1h0m1-1h0m1 1h0m0-2h0m1-3h0m1 4h0m0-1h0m1 0h0m0 2h0m2-1h0m1 1h0m1-2h0m0 0h0m1-1h0m0 0h0m2 1h0m3 0h0m0-2h0m1 2h0m0 0h0m1-1h0m2-2h0m10 0h0m1 3h0m1-1h0m-22 5h0m8-1h0m6 2h0m0-1h0m1 0h0" stroke="#0820a7" stroke-width="2.5"/><path d="M161 920h0m2-4h0m1 1h0m3 0h0m0 2h0m0 0h0m1 0h0m1-1h0m1 1h0m0-1h0m1 3h0m0-1h0m1 1h0m2 0h0m-14 2h0m0-1h0m2 2h0m1-2h0m1 1h0m0 3h0m1-1h0m1 0h0m0-1h0m1-2h0m0 4h0m0-2h0m0 2h0m0 1h0m0-6h0m0 6h0m0-3h0m0 1h0m1 1h0m0-2h0m0 0h0m1-1h0m0-1h0m1 3h0m0-4h0m0 6h0m0-6h0m1 2h0m0 0h0m1 0h0m1-1h0m0 1h0m1-1h0m4 1h0m1 3h0m7 0h0m0 1h0m1-1h0m1 0h0m-30 5h0m1-3h0m1 2h0m0 0h0m0 1h0m0 0h0m0 0h0m1-1h0m1-3h0m0 4h0m1 2h0m0-3h0m0 2h0m0 0h0m1 0h0m0-4h0m0 2h0m0-3h0m1 0h0m0 4h0m1-2h0m2-2h0m0 1h0m1 0h0m1 0h0m0 4h0m6-1h0m0 1h0m1-2h0m1 2h0m1 1h0m0-1h0m2-4h0m0 3h0m1-2h0m0 0h0m0 3h0m1-3h0m0-1h0m0 0h0m0-1h0m1 6h0m0-5h0m0 2h0m0-2h0m0 2h0m1 2h0m0 0h0m0-3h0m0-2h0m0 3h0m1 1h0m0-1h0m0-1h0m0 2h0m0 2h0m0-1h0m1-3h0m1 0h0m0 1h0m0 1h0m0-2h0m1 2h0m0-3h0m2 4h0m3-3h0m1 2h0m4 0h0m-36 2h0m2 0h0m0 1h0m2-1h0m1 0h0m1 2h0m0-1h0m1-1h0m2 1h0m3 0h0m3 1h0m0 1h0m0 1h0m0 1h0m1 1h0m1-5h0m0 4h0m0-4h0m1 2h0m0 0h0m0 1h0m1-2h0m0 2h0m0-4h0m0 2h0m1 0h0m0 2h0m0-3h0m1 0h0m0-1h0m1 4h0m0 2h0m0-3h0m1 0h0m0 3h0m1-2h0m0 2h0m0-5h0m0 0h0m1 4h0m0 0h0m1 1h0m0-3h0m0 1h0m1 1h0m0-1h0m0 0h0m0 1h0m0 1h0m1-1h0m1-4h0m0 2h0m0 0h0m1 0h0m1 1h0m0-2h0m0 4h0m0-6h0m1 0h0m0 3h0m0-2h0m1-1h0m0 0h0m1 4h0m0 0h0m2 1h0m0-1h0m0-4h0m0 2h0m4 1h0m3 0h0m3 2h0m1-3h0m9 3h0m-37 2h0m1 0h0m1 0h0m3 1h0m1-1h0m1 3h0m0-3h0m1 3h0m2-1h0m0-3h0m0 0h0m0 5h0m1-1h0m1-1h0m1 1h0m2-1h0m1 2h0m0-4h0m0 4h0m1 1h0m0-5h0m0 1h0m3 2h0m1-3h0m0 0h0m5 4h0m5-1h0m1-1h0m1-3h0m3 5h0m2-2h0m2 0h0m2 1h0m5 0h0m0 1h0m4 1h0m-37 1h0m0 0h0m3 0h0m7 1h0m1 1h0m0 1h0m1-1h0m0 0h0m2 3h0m0 0h0m2-4h0m0 3h0m1-2h0m2-3h0m3 2h0m1-1h0m13 5h0m1-5h0m-21 6h0m6 3h0m1-4h0m0 3h0m1 1h0m4-1h0" stroke="#0a24bc" stroke-width="2.5"/><path d="M169 901h0m3 1h0m4 1h0m-8 5h0m0-4h0m1 1h0m0 2h0m2-2h0m0 4h0m1-1h0m0 0h0m0-1h0m0 2h0m1-1h0m0-4h0m0 3h0m0-3h0m1 1h0m0 3h0m2-1h0m1 2h0m0-5h0m0 1h0m0 1h0m0 0h0m2 1h0m1-2h0m1 0h0m1 0h0m1 2h0m3 0h0m1 0h0m0 1h0m0-1h0m1 2h0m-22 3h0m3 3h0m0-2h0m1 2h0m0-4h0m1 2h0m0-2h0m1 0h0m1-1h0m1 3h0m0-1h0m0 3h0m0-1h0m0-1h0m1 1h0m1-2h0m1 2h0m1-4h0m0-1h0m1 4h0m0-1h0m1-3h0m1 5h0m0-4h0m0 2h0m1 3h0m1-2h0m0 0h0m1 1h0m0-3h0m0 1h0m1 1h0m0 0h0m1-2h0m0 0h0m1 3h0m0-4h0m3 1h0m0 3h0m1-5h0m0 0h0m0 3h0m0-2h0m1-1h0m0 0h0m1 2h0m0-1h0m0 1h0m0 2h0m1-3h0m0 2h0m0-1h0m0-1h0m0 1h0m1 0h0m1 0h0m1 1h0m-30 3h0m1 1h0m1-1h0m2 1h0m0 1h0m2 0h0m0-2h0m0 2h0m0 0h0m0-1h0m1 1h0m2 0h0m0 0h0m0 2h0m1-1h0m0 1h0m1-2h0m0-1h0m1 0h0m0 0h0m0 2h0m0-2h0m1-1h0m0 5h0m1-4h0m1-1h0m1 3h0m0-3h0m0 2h0m1 2h0m0-2h0m0 0h0m1-1h0m0 0h0m2 0h0m3 4h0m0-4h0m1 4h0m0 0h0m3 0h0m1-2h0m2 0h0m5 1h0m1 0h0m1-4h0m0 2h0m0 1h0m0 0h0m0 2h0m1 0h0m1-3h0m1-1h0m0 3h0m1-1h0m0 0h0m0 0h0m1 1h0m1 0h0m4 0h0m2 0h0m-30 5h0m0-2h0m1-1h0m2 3h0m1 0h0m0 2h0m1-1h0m0-3h0m0 3h0m0-1h0m1 2h0m1-1h0m0-1h0m1-3h0m0 5h0m1-2h0m1-1h0m4-1h0m1 2h0m1 0h0m0 1h0m0 0h0m0-2h0m0-1h0m0 1h0m1 1h0m1-1h0m1 0h0m0-1h0m1 2h0m0-2h0m0 4h0m1-1h0m0-1h0m0 0h0m0 0h0m1 1h0m1 2h0m0-1h0m0-2h0m0-3h0m0 5h0m1 0h0m2-3h0m1 4h0m0-1h0m1-5h0m2 4h0m0-2h0m8 0h0m0 3h0m0-1h0m2 1h0m5 0h0m-35 2h0m3 1h0m10 3h0m5-1h0m2-1h0m6-1h0m2-1h0m3-1h0m0 4h0m1-2h0m1-2h0m2 1h0m1 0h0m0 0h0m-5 5h0m6 1h0m2 2h0m6 2h0m3-3h0m4 4h0m-16 4h0m3-2h0m12-1h0m3 4h0m1-5h0m-1 7h0" stroke="#0c28cd" stroke-width="2.5"/><path d="M176 890h0m0-5h0m0 3h0m0 2h0m2 0h0m1-1h0m0 0h0m0-2h0m1-1h0m3 3h0m0 1h0m1 0h0m0-2h0m0 1h0m1 2h0m1-2h0m1 1h0m1-1h0m-15 5h0m1-1h0m0-1h0m1 1h0m0 4h0m1-5h0m0 1h0m0 0h0m0 1h0m0-1h0m1 2h0m0-3h0m0 2h0m0 1h0m1-2h0m0 4h0m0-1h0m1-1h0m1-2h0m0 2h0m0-1h0m0 3h0m0-5h0m2 4h0m1 1h0m0-1h0m0-2h0m1 3h0m0 0h0m1-6h0m0 4h0m0 2h0m0-2h0m0-3h0m1-1h0m0 3h0m1 1h0m0-2h0m0-2h0m0 2h0m0 0h0m1-2h0m1 4h0m0-1h0m0 1h0m0 0h0m0 2h0m1-1h0m0-3h0m0 1h0m1 2h0m1 0h0m1-2h0m6 2h0m2 0h0m2 0h0m-30 1h0m2 0h0m0 1h0m1 0h0m0 0h0m0 2h0m2-1h0m1-1h0m0 2h0m0-1h0m0 2h0m0-4h0m1 2h0m0 1h0m1 3h0m0-1h0m0-2h0m1 1h0m0 0h0m1-1h0m0-2h0m0 4h0m0 1h0m0-1h0m0 0h0m0-1h0m1 1h0m0-3h0m0 0h0m0 3h0m0-2h0m1-2h0m1 2h0m0 1h0m0 1h0m0-2h0m1 0h0m0-1h0m0 3h0m1-1h0m0 1h0m0 1h0m1-3h0m0 2h0m1-1h0m0-4h0m0 1h0m1 1h0m0 2h0m0 2h0m1-5h0m2 4h0m2 0h0m2 1h0m1-3h0m1 2h0m5-5h0m1 5h0m0 0h0m3-2h0m5 1h0m4 1h0m1 1h0m-40 1h0m1 0h0m5 2h0m0-3h0m1 2h0m1 1h0m1-2h0m1 0h0m0 1h0m1 3h0m1-1h0m0-4h0m0 2h0m0-1h0m1 3h0m0 2h0m1 0h0m0-4h0m1 3h0m0-5h0m0 2h0m1 1h0m0 3h0m1-4h0m0 1h0m0 2h0m1-4h0m2 2h0m0 2h0m1-1h0m1-2h0m1 3h0m0-4h0m4-1h0m1 1h0m1 0h0m1 2h0m2 1h0m1-2h0m0-1h0m1 1h0m1 3h0m2-5h0m0 2h0m2 3h0m1-3h0m0 0h0m1-1h0m1 0h0m0 2h0m0 1h0m1 1h0m2 1h0m1-3h0m5 2h0m-37 1h0m1 1h0m1 0h0m2 1h0m0-1h0m1-1h0m1 0h0m0 1h0m7 4h0m1 0h0m0-1h0m2-4h0m3 6h0m2-3h0m2 2h0m1 0h0m0-4h0m0-1h0m2 2h0m1 0h0m0 2h0m3 1h0m0-4h0m0 4h0m0-5h0m1 5h0m0-3h0m0 1h0m0-2h0m2 2h0m1 3h0m0-4h0m1 3h0m2-3h0m-22 4h0m0 0h0m2 0h0m5 2h0m3-1h0m0 0h0m6 0h0m0 1h0m2 1h0m10-2h0m-14 5h0m3 0h0m0 2h0m2 0h0m0 0h0m4 0h0m3 1h0m3 1h0m1 0h0m1-2h0m0 1h0m4 1h0m0 0h0m3-1h0m3-2h0m4 3h0m3-1h0m2 0h0m6 0h0" stroke="#0f2cdd" stroke-width="2.5"/><path d="M186 855h0m-1 1h0m1 4h0m2-2h0m4 0h0m0-2h0m1 4h0m0 0h0m0-1h0m1-1h0m0 1h0m1 0h0m2 1h0m0-1h0m1 1h0m1 0h0m0 1h0m1 0h0m0-1h0m-19 6h0m1 0h0m3-2h0m4 1h0m0 0h0m0 1h0m4 1h0m0-6h0m1 3h0m0-2h0m0 1h0m0 2h0m0-1h0m1-2h0m1 3h0m0 1h0m1-3h0m0 0h0m1 0h0m0 0h0m0 1h0m1-1h0m0 0h0m1 1h0m0 0h0m2-3h0m0 1h0m1 4h0m1-4h0m0 3h0m2-3h0m0 1h0m1 4h0m3-1h0m-30 5h0m2-3h0m1 2h0m0-1h0m1 3h0m0-2h0m1-1h0m0 1h0m1 1h0m0 2h0m0-5h0m0 0h0m1 3h0m1-1h0m0-2h0m0 1h0m0 4h0m0-1h0m1-1h0m0 1h0m0-1h0m0 0h0m1 2h0m0-5h0m1 2h0m0-2h0m1 1h0m0 1h0m0-2h0m1-1h0m0 5h0m1-1h0m0 0h0m0-2h0m0 4h0m0-2h0m0-2h0m1 3h0m0-5h0m1 2h0m0-2h0m2 2h0m1 0h0m2 0h0m0 1h0m0 1h0m0 0h0m2 0h0m0-2h0m0 3h0m0-1h0m1 1h0m0-1h0m0 0h0m0 2h0m0-4h0m1-2h0m0 4h0m1-1h0m0 0h0m0-1h0m0 2h0m1-2h0m0 4h0m0-4h0m1-1h0m1 2h0m1-2h0m0 3h0m1 1h0m0-1h0m1 2h0m0-5h0m1 2h0m0 0h0m0 0h0m1-2h0m1 2h0m0-1h0m0 1h0m1-1h0m1-1h0m1 2h0m2 3h0m2-3h0m1 0h0m0 2h0m1 0h0m1-1h0m2 1h0m-47 6h0m1-4h0m0 5h0m1-5h0m1 3h0m0 0h0m1 0h0m0 0h0m0-3h0m1 5h0m1-1h0m0-3h0m0-2h0m0 6h0m0-1h0m0-4h0m0 0h0m1 1h0m3 0h0m1 1h0m1 3h0m0-1h0m0 0h0m0 1h0m3-4h0m2 1h0m0-2h0m1 4h0m0 0h0m0-1h0m1-3h0m2 3h0m1-1h0m0-1h0m1-2h0m2 2h0m0 1h0m1 1h0m0-2h0m1 2h0m0-1h0m1-1h0m0 2h0m2-1h0m0-3h0m2 2h0m2 0h0m2 1h0m1-2h0m2 0h0m1 0h0m0 3h0m0 2h0m1-1h0m0-5h0m0 3h0m2 1h0m0 1h0m1-4h0m0 4h0m1-4h0m0 1h0m0 2h0m1 2h0m1-2h0m0-3h0m3 2h0m0 2h0m1 1h0m0-2h0m1 0h0m0-1h0m1 3h0m0-3h0m3 1h0m0 0h0m-60 2h0m1 0h0m1 4h0m0 1h0m1 0h0m0 1h0m0-2h0m1-1h0m1-3h0m0 3h0m0 0h0m1-1h0m0 0h0m0 0h0m1-1h0m0 1h0m0 3h0m1-2h0m0 2h0m0 1h0m1-6h0m0 3h0m0-1h0m1 4h0m0-3h0m0 2h0m0-1h0m0 1h0m0-2h0m0-2h0m0 4h0m1-5h0m1 4h0m0-2h0m0 2h0m0-3h0m1 1h0m0-1h0m0-1h0m0 5h0m0-5h0m1 3h0m1-1h0m0 0h0m0 0h0m0 4h0m0-1h0m0 0h0m1 1h0m0-6h0m0 4h0m1-2h0m0 3h0m1-5h0m0 6h0m2-5h0m1 3h0m0 2h0m1-5h0m0 3h0m4-1h0m1 1h0m1-2h0m1 3h0m0 1h0m1-3h0m1 2h0m0-4h0m1 4h0m1 0h0m0-3h0m3-2h0m2 3h0m3 0h0m10-2h0m2 4h0m0-2h0m16 3h0m8 0h0m-71 1h0m1-1h0m0 2h0m1 0h0m0-1h0m1-1h0m0 1h0m1-1h0m0 2h0m1 1h0m1 0h0m0-2h0m0 2h0m1 0h0m0-1h0m1-1h0m3 1h0m1 2h0m0-1h0m1-2h0m1 2h0m1-2h0m2 2h0m2-1h0m1 4h0m1-6h0m2 1h0m3 3h0m0 1h0m1-4h0m0 1h0m1 3h0m0-4h0m2 5h0m1-1h0m1-4h0m6 2h0m1 1h0m1 1h0m6-5h0m3 1h0m0 2h0m5-3h0m3 4h0m2-3h0m4 0h0m10 2h0m10 2h0m-65 4h0m2-1h0m0 1h0m0-1h0m1 2h0m1-1h0m1-3h0m0 4h0m1-3h0m1 3h0m0 1h0m1-1h0m0 1h0m0-5h0m1 1h0m0-1h0m0 0h0m2 3h0m1-1h0m0-1h0m0 4h0m0-3h0m1 0h0m2 4h0m0-2h0m14 1h0m1-2h0m0 2h0m2-2h0m1 1h0m2-4h0m1 2h0m1 2h0m5-3h0m3 3h0m0 2h0m3-3h0m0 2h0m-36 2h0m2 0h0m1 1h0m3-2h0m0 1h0m0-1h0m0 1h0m0 0h0m0 2h0m0-2h0m1 1h0m0-1h0m1-1h0m6 0h0m1 5h0m1 0h0m0 0h0m1-1h0m0-4h0m1 2h0m1 0h0m0 0h0m2 0h0m1 2h0m5 0h0m2-1h0m0 0h0m2-1h0m8-2h0m7 2h0m2 1h0m3-3h0m2 4h0m19 2h0m-56 3h0m4 2h0m6-2h0m4 0h0m8 2h0m49 1h0m-54 4h0m22-1h0m3-3h0m7 1h0m11 3h0m1 0h0m9-2h0m5 1h0m-22 8h0m0-4h0m-12 5h0m2 2h0m1-1h0m3 1h0m0-1h0m16 0h0" stroke="#142feb" stroke-width="2.5"/><path d="M198 820h0m3 0h0m0 4h0m1 0h0m0 0h0m0-2h0m2 0h0m3 2h0m0 0h0m1 0h0m1 1h0m-15 6h0m2-5h0m0 4h0m2-2h0m0-3h0m1 1h0m1 3h0m4 0h0m0 1h0m6-2h0m2-1h0m0 4h0m1-3h0m0 3h0m0-2h0m1-1h0m0-1h0m0 1h0m1 0h0m0 2h0m0-3h0m1 4h0m2-3h0m1 0h0m2 2h0m-28 5h0m0 0h0m0 2h0m1-3h0m0-2h0m1 0h0m0 1h0m0 1h0m2 2h0m0-1h0m1 1h0m0 0h0m0-3h0m0 3h0m2 0h0m0-4h0m0 3h0m1-3h0m0 2h0m1 2h0m0-1h0m0-3h0m1 0h0m0 1h0m2-1h0m1 1h0m1 0h0m0 4h0m1 0h0m0-1h0m2-4h0m0 0h0m1 4h0m0 0h0m2-4h0m0 2h0m0 3h0m0-6h0m0 1h0m1 1h0m1-2h0m0 3h0m0-1h0m0-1h0m1 1h0m1 3h0m0 0h0m0 0h0m1-5h0m0 4h0m0-3h0m0 1h0m1-1h0m0 4h0m0-3h0m0 1h0m0 1h0m1-1h0m1-3h0m0 5h0m0-4h0m1 0h0m1 1h0m2-1h0m4 5h0m3-2h0m-40 6h0m1-3h0m0 2h0m0-3h0m0 4h0m0-3h0m1 0h0m0-1h0m0 1h0m1 4h0m1-1h0m1 0h0m0 1h0m0-2h0m1 1h0m0 0h0m1 2h0m0-5h0m1 5h0m0-4h0m0 3h0m1-1h0m1 0h0m0-2h0m0 2h0m1-1h0m0 3h0m1-3h0m1-2h0m0 4h0m0-4h0m0 0h0m1 5h0m0-4h0m1 0h0m0 3h0m0 1h0m0-3h0m0 3h0m0-2h0m1 1h0m0 0h0m0-5h0m1 5h0m0-2h0m1 2h0m0 0h0m1-2h0m0 0h0m0-3h0m1 2h0m1 1h0m0 3h0m1-2h0m0-2h0m1 3h0m2-1h0m1-4h0m0 0h0m2 2h0m0 4h0m2-6h0m0 2h0m1 3h0m0-3h0m2 4h0m1 0h0m0-3h0m1 3h0m0-1h0m0-1h0m1 1h0m1 0h0m0-1h0m1 2h0m1-4h0m1 1h0m1 2h0m0-1h0m0-1h0m0-1h0m1 3h0m4-4h0m1 1h0m5 3h0m-56 6h0m2-1h0m0 1h0m1 0h0m3 0h0m0-1h0m1-2h0m0-1h0m1 4h0m0-3h0m0 1h0m0 0h0m1 0h0m1 3h0m0 0h0m0-6h0m1 3h0m0 2h0m1-4h0m0 0h0m0 2h0m1-2h0m0 2h0m0-1h0m0 0h0m1 1h0m0-2h0m0 4h0m0-4h0m1 3h0m1 0h0m2 1h0m1-2h0m0-2h0m0 0h0m1 1h0m1-1h0m0 2h0m1 0h0m0-3h0m0 3h0m0-1h0m0 0h0m1-2h0m0 5h0m0 0h0m0 0h0m1 0h0m0 0h0m0-5h0m0 2h0m1-2h0m0 4h0m1 1h0m1-4h0m0-1h0m1 3h0m0 0h0m0 0h0m1 1h0m1-4h0m0 1h0m0 4h0m0 1h0m1-2h0m2-2h0m1-1h0m0 5h0m0-4h0m0 2h0m0 0h0m2 0h0m0 0h0m0 0h0m0 0h0m0-1h0m2-2h0m0 1h0m1 1h0m2-2h0m0 2h0m0-2h0m1 3h0m0-1h0m0 0h0m0 3h0m0-4h0m0-1h0m1 4h0m1-1h0m0 1h0m0-3h0m0 2h0m0-3h0m0 0h0m0 0h0m1-1h0m0 3h0m0 3h0m0-2h0m1 0h0m0-4h0m0 1h0m1 0h0m0 4h0m0-2h0m0 1h0m0-1h0m1-1h0m0-2h0m0 3h0m1 0h0m2-1h0m0 2h0m0-1h0m2 0h0m1 0h0m0 1h0m1 2h0m1 0h0m2-5h0m3 2h0m0 1h0m5-1h0m-68 6h0m1-1h0m2-1h0m0-1h0m0 0h0m2 5h0m0-4h0m1 3h0m0 1h0m0-5h0m0 2h0m1 0h0m0 2h0m1-1h0m0-1h0m2 3h0m0-1h0m0-1h0m1 0h0m1 2h0m0 1h0m0-1h0m1 0h0m1-3h0m1 0h0m0 1h0m1 2h0m0 0h0m1-3h0m1-1h0m0 1h0m2 3h0m0-1h0m0 0h0m0-1h0m1 0h0m0 1h0m2-2h0m1-2h0m0 4h0m0-3h0m0 3h0m0 1h0m0-4h0m1 0h0m1 1h0m0 1h0m0 3h0m1-4h0m0 3h0m0 0h0m0 0h0m0-2h0m1 0h0m0 1h0m0 2h0m0-2h0m0-1h0m0-2h0m0 3h0m1-2h0m0 1h0m0 3h0m0-3h0m0 1h0m0 2h0m0-1h0m1-3h0m0 3h0m0-3h0m1-2h0m0 4h0m0 0h0m1-1h0m0 3h0m0-5h0m1 3h0m0-2h0m0 2h0m1-4h0m0 5h0m0-3h0m0-2h0m1 5h0m0 1h0m0 0h0m1-3h0m0 0h0m1 2h0m0 0h0m0-1h0m0-1h0m0 0h0m1-3h0m1 0h0m0 5h0m0-1h0m1-2h0m0 1h0m0-1h0m1 0h0m0 3h0m1-1h0m0-4h0m1 4h0m2-1h0m1-2h0m2 0h0m0-1h0m2 0h0m1 0h0m2 2h0m0-2h0m5 1h0m3 0h0m6 0h0m4 2h0m3-3h0m1 1h0m1 4h0m-68 3h0m1 0h0m2-1h0m0 0h0m1 2h0m0-3h0m1 1h0m2 0h0m0 1h0m0 1h0m1 0h0m1 0h0m1-2h0m1 1h0m0-1h0m0-1h0m0 5h0m0-2h0m1 1h0m0-2h0m0 2h0m0 0h0m1-3h0m0 5h0m1-4h0m1 2h0m0 2h0m0-2h0m1-2h0m0-2h0m0 3h0m0 2h0m0-4h0m1 2h0m1 1h0m0-3h0m1 3h0m1-4h0m0 0h0m1 4h0m2-3h0m0 0h0m1-1h0m0 1h0m0 1h0m1 0h0m1-1h0m1 0h0m1 4h0m0-1h0m1-3h0m0 1h0m0 1h0m0-3h0m1 4h0m1 1h0m0-3h0m0 1h0m0 2h0m1-1h0m0 0h0m1-4h0m0 0h0m1 1h0m0 5h0m0-4h0m2-1h0m5 0h0m4 2h0m1 1h0m1 1h0m5 0h0m15-2h0m6 2h0m3-2h0m4 2h0m-69 1h0m3 1h0m2 0h0m0 1h0m0-1h0m1 0h0m2 3h0m1-4h0m2 1h0m0-1h0m1 4h0m0 0h0m1-3h0m0 1h0m3 3h0m1 1h0m0-5h0m1 3h0m1-1h0m1 1h0m0-2h0m1 1h0m0 1h0m0-1h0m0 0h0m1 0h0m1-2h0m0 3h0m1-2h0m0 2h0m0-2h0m1-1h0m0 4h0m0 0h0m0-5h0m1 4h0m1 2h0m1-6h0m1 5h0m1-2h0m1 0h0m0 1h0m0-1h0m1-3h0m1 2h0m1 4h0m0-4h0m1 1h0m0 2h0m0-2h0m1-3h0m0 0h0m2 5h0m0 0h0m2 0h0m0-3h0m0 4h0m0-6h0m5 6h0m2-1h0m0-4h0m1 0h0m1 1h0m6-1h0m8 0h0m18 1h0m-67 5h0m4-1h0m0 1h0m2 1h0m0 0h0m1 1h0m0-1h0m0 0h0m1-1h0m0 3h0m1-3h0m0 3h0m0 0h0m1-4h0m1 3h0m0 3h0m0-5h0m1 0h0m0 0h0m1 5h0m0-5h0m0 4h0m0-4h0m1 0h0m0 5h0m1-3h0m1 1h0m1 2h0m1-2h0m2-4h0m6 4h0m2-2h0m2 0h0m1-1h0m2 4h0m1-4h0m1 3h0m3 1h0m18-1h0m-41 4h0m2 0h0m7-1h0m0 4h0m3 0h0m0 0h0m2-4h0m2 0h0m0 2h0m2-3h0m0 1h0m24 2h0m4-2h0m4 2h0m14 0h0m17 2h0m-67 2h0m6 3h0m14 0h0m5 0h0m7-3h0m2 3h0m11-3h0m8 2h0m7 0h0m15 0h0m-55 7h0m7-2h0m3-1h0m3 5h0m11-6h0m1 1h0m8 4h0m3 0h0m3-3h0m5 2h0m-27 7h0m2-2h0m1 0h0m7-1h0m16-1h0m1 1h0m2 1h0m10-2h0m1 1h0m6 0h0m3 2h0m5-2h0m-33 9h0m6-2h0m1 3h0m7-6h0m-16 9h0m4 0h0m27-3h0m-20 9h0" stroke="#1932f7" stroke-width="2.5"/><path d="M215 787h0m0 1h0m1-2h0m1 0h0m1 1h0m0 1h0m1 1h0m0-1h0m-10 5h0m3-2h0m0-1h0m6 5h0m1-3h0m0-2h0m1 0h0m0 5h0m0-1h0m1 0h0m0-3h0m0 0h0m0 2h0m0 0h0m1 1h0m1 1h0m0-4h0m0-2h0m0 4h0m1-3h0m0 4h0m0-4h0m0 4h0m0-4h0m1 1h0m0 3h0m0 0h0m0 1h0m1-4h0m1 1h0m1 1h0m0 0h0m0-1h0m1 2h0m1 0h0m-23 5h0m5 0h0m2-1h0m1 0h0m2 2h0m1-2h0m1-3h0m0 2h0m0 0h0m0-2h0m0 3h0m1 1h0m0-1h0m0 1h0m0-1h0m2 2h0m0-3h0m0 0h0m0 1h0m1 3h0m0-5h0m0 0h0m1 4h0m0 1h0m1-4h0m0 0h0m0 1h0m1-1h0m0-2h0m0 4h0m1-3h0m0-1h0m2 2h0m0 4h0m1-4h0m1-1h0m1 0h0m2 1h0m2 3h0m2-3h0m5 3h0m-37 4h0m0 0h0m1 3h0m1-1h0m0-2h0m0 2h0m1-4h0m0 5h0m0-3h0m4 1h0m3 0h0m0-2h0m0 3h0m1 0h0m0-1h0m0 2h0m0-2h0m1-1h0m1 0h0m1-3h0m0 4h0m0 1h0m0-2h0m0-1h0m1 1h0m1 0h0m0-2h0m0 5h0m1-1h0m0-1h0m1-3h0m0-1h0m2 4h0m0 2h0m0-1h0m0 1h0m0-3h0m1 2h0m0 0h0m0-2h0m0 2h0m1-2h0m0 2h0m1 1h0m0-5h0m0 5h0m0-1h0m0 0h0m1 0h0m0-2h0m3 0h0m0 0h0m2 2h0m2-4h0m0 4h0m0-4h0m1 5h0m1-1h0m1-4h0m0 2h0m0-2h0m1 1h0m1 3h0m0-3h0m1-2h0m2 3h0m1 0h0m2 2h0m1 0h0m0-3h0m1 4h0m3-1h0m-50 3h0m1 3h0m0-1h0m1-2h0m1 4h0m0-3h0m0 1h0m1-2h0m0 4h0m0-3h0m1 2h0m0 0h0m0-3h0m2 0h0m0 2h0m0-3h0m0 2h0m0 1h0m0 0h0m1 2h0m0-5h0m0 1h0m0 0h0m1-2h0m0 2h0m1-1h0m1 3h0m0-1h0m0 2h0m0-5h0m0 3h0m0 1h0m1 1h0m1-2h0m0 3h0m0-3h0m1 0h0m1-1h0m0 1h0m0-2h0m2 5h0m0-5h0m3 3h0m0-1h0m0 1h0m0 1h0m0-3h0m1 3h0m1 0h0m0 0h0m0-2h0m0 0h0m1-2h0m0 4h0m1-2h0m0 0h0m1 1h0m0-4h0m1 5h0m0-3h0m0 1h0m1 0h0m0-3h0m0 2h0m0 3h0m1-4h0m0 0h0m0 4h0m1-2h0m0-2h0m0 1h0m0 3h0m2-2h0m1-1h0m0 3h0m1-1h0m0 0h0m0-4h0m1 4h0m0 0h0m0-4h0m1 1h0m0 5h0m0-3h0m1-3h0m0 3h0m1 0h0m0-3h0m1 4h0m0-4h0m0 1h0m1 4h0m0-1h0m1-2h0m0 2h0m0-2h0m0 1h0m1 2h0m0-2h0m1-2h0m1 0h0m0 1h0m0-1h0m0 4h0m2 0h0m1-4h0m2 0h0m7 2h0m9 2h0m-67 7h0m0-1h0m1 1h0m1-4h0m1 3h0m0 0h0m1 1h0m1-1h0m0-2h0m0 3h0m1-3h0m0-2h0m1 1h0m0 1h0m0-2h0m0-1h0m1 4h0m0-4h0m1 1h0m2-1h0m0 4h0m1 1h0m0-5h0m0 0h0m0 6h0m0-1h0m1-1h0m1-1h0m1 2h0m0-5h0m0 4h0m0 1h0m0-3h0m0-2h0m0 6h0m0-6h0m1 2h0m0 1h0m1-1h0m0-2h0m0 3h0m2-1h0m1 4h0m1-5h0m1 2h0m0-2h0m1 2h0m1 2h0m1-1h0m0-3h0m0 3h0m1-2h0m0-1h0m0 0h0m1 4h0m0-3h0m1 0h0m1 0h0m1 1h0m0-2h0m1 2h0m0-2h0m2 0h0m1 3h0m0 1h0m0-3h0m0 1h0m1-2h0m1 2h0m0-3h0m1 0h0m0 0h0m0 3h0m0 2h0m1-4h0m1 1h0m1 3h0m0-5h0m0 0h0m0 4h0m1-1h0m0 2h0m0-5h0m0 4h0m1 0h0m0-3h0m1 4h0m0 0h0m1-3h0m0-1h0m1 3h0m1 0h0m1-1h0m2-1h0m4-1h0m0-1h0m0 5h0m4-1h0m1-2h0m6 0h0m0 3h0m2 0h0m0 0h0m1-4h0m6 2h0m0 1h0m-72 3h0m5 1h0m0-1h0m1 0h0m0 0h0m1 3h0m1-2h0m0-1h0m1 0h0m1 1h0m1-1h0m2 4h0m0-4h0m0 4h0m0 0h0m0-2h0m1 0h0m0-1h0m0-2h0m1 6h0m1 0h0m1-3h0m1-1h0m13-1h0m0 0h0m1 5h0m2-1h0m0-4h0m1 0h0m0 3h0m2-2h0m1 4h0m0 0h0m1-3h0m0-2h0m0 0h0m0 0h0m1 3h0m0-2h0m1 1h0m0 3h0m1-2h0m0 0h0m0 1h0m0-1h0m1 1h0m0-2h0m0-2h0m1 3h0m8-3h0m2 1h0m2 2h0m1-1h0m3 1h0m1 0h0m1 2h0m3-4h0m0 2h0m2 1h0m0 1h0m1-5h0m1 2h0m0-2h0m2 4h0m4-4h0m0 4h0m1-5h0m1 4h0m3-1h0m0-1h0m3 3h0m-69 2h0m0 0h0m4 2h0m0-2h0m4 2h0m0 2h0m0 0h0m0-3h0m1 2h0m0 1h0m0-3h0m1 2h0m1-4h0m0 4h0m2 2h0m0-5h0m0 2h0m1 0h0m0 1h0m0-2h0m1 3h0m1 1h0m1-1h0m0 1h0m1-1h0m2-1h0m1 1h0m1-3h0m1 0h0m0 2h0m1-3h0m0 2h0m1-2h0m0 1h0m0-1h0m1 4h0m0-2h0m0 0h0m1-1h0m1 1h0m0 2h0m1-2h0m0 1h0m0-1h0m1-2h0m0 2h0m1 0h0m0 1h0m3 0h0m1 0h0m1-4h0m2 4h0m2 0h0m4-3h0m3 3h0m2-3h0m3 3h0m2-4h0m0 1h0m1-1h0m5 2h0m1 2h0m7-3h0m0 3h0m5-3h0m-57 7h0m2-1h0m0 1h0m1-1h0m0 1h0m0 0h0m1-2h0m0 1h0m1 2h0m1-2h0m0 2h0m1 0h0m1 1h0m1-4h0m1 3h0m0 1h0m1 1h0m0-5h0m0 3h0m2 2h0m4-1h0m7-4h0m9 0h0m8 2h0m4-1h0m1 2h0m9 3h0m1-3h0m1 2h0m1-2h0m-49 4h0m3 2h0m1 1h0m3 0h0m1-1h0m1 3h0m8-1h0m4-3h0m19-2h0m7 2h0m1-1h0m5 2h0m1 1h0m8-2h0m10 3h0m4-2h0m-61 6h0m2-1h0m4 0h0m2 2h0m6-2h0m2 2h0m3 2h0m2-5h0m2 4h0m2-1h0m29-2h0m0 1h0m10-1h0m7-2h0m-54 11h0m5-5h0m1 3h0m3 0h0m0 0h0m13 0h0m31 0h0m-41 6h0m2-2h0m1 2h0m1-2h0m11 1h0m1 3h0m6-1h0m5-1h0m14-1h0m0-2h0m-33 7h0m3-1h0m1 5h0m1-2h0m2 1h0m1-2h0m0-2h0m3 4h0m14-2h0m2 2h0m2 1h0m13-1h0m3-3h0m-11 8h0m12-1h0m5 0h0" stroke="#2333fc" stroke-width="2.5"/><path d="M225 765h0m-3 2h0m0 3h0m1 0h0m2 1h0m0-1h0m0-4h0m0 3h0m0 1h0m2-4h0m0 4h0m1-2h0m0-1h0m0 4h0m1-5h0m0 4h0m2 0h0m2 1h0m0-1h0m1-1h0m-15 4h0m2-1h0m0 1h0m0 4h0m1-1h0m1 0h0m0-2h0m1 3h0m0-4h0m0-1h0m0 1h0m1 1h0m0 1h0m1-2h0m0 4h0m1-2h0m1 1h0m0-1h0m1-2h0m0 3h0m0 0h0m1 0h0m0 1h0m1-5h0m0 0h0m0 1h0m1 0h0m0 4h0m1-1h0m0 0h0m1-2h0m0-1h0m0 0h0m1 2h0m0 0h0m1 0h0m3-1h0m4 3h0m2-1h0m-31 7h0m1-1h0m0 0h0m1-1h0m0-1h0m1-2h0m1 2h0m1 0h0m1-3h0m0 4h0m0 1h0m0-3h0m0 0h0m0 4h0m1-1h0m0 0h0m0 0h0m1 1h0m1 0h0m0-3h0m3 1h0m0-3h0m1 1h0m2-2h0m0 1h0m2 3h0m0-1h0m0 2h0m1-2h0m0-1h0m1-2h0m0 5h0m0-1h0m1-4h0m0 3h0m1-1h0m0-1h0m0 1h0m0 3h0m2-1h0m2 2h0m0-5h0m0 3h0m0 2h0m1-3h0m1-1h0m0 0h0m1 0h0m0 0h0m0-1h0m0 2h0m1 0h0m0-1h0m0 3h0m1-4h0m0 3h0m0-1h0m1-1h0m0-2h0m0 5h0m1-4h0m0 0h0m0 3h0m0-2h0m0 1h0m0 3h0m0-4h0m0 0h0m0 4h0m1-6h0m0 6h0m0-2h0m1-3h0m1 0h0m0 1h0m1 0h0m0 3h0m1-1h0m0 2h0m0-2h0m1 1h0m0-3h0m0 3h0m1 0h0m0 0h0m1-2h0m0 0h0m1 0h0m0 1h0m0 1h0m0 0h0m0 1h0m1-3h0m0 2h0m0-2h0m0 0h0m1 1h0m1 0h0m0 1h0m0-1h0m0 0h0m3 2h0m-47 1h0m0 1h0m2 0h0m3 1h0m0 1h0m1 0h0m0-3h0m0 4h0m0-1h0m0-1h0m0-1h0m1 0h0m0 0h0m0 0h0m0 2h0m1-3h0m0 2h0m1 0h0m0 2h0m0-4h0m0 2h0m0 2h0m0-3h0m1 4h0m1-1h0m0-3h0m2 2h0m2 0h0m1-3h0m0 0h0m1 1h0m1 0h0m1 3h0m0-5h0m0 3h0m1-2h0m1 2h0m0 1h0m0 2h0m0-2h0m1 0h0m1 0h0m0-3h0m0 3h0m1 0h0m1-2h0m1 0h0m0 2h0m1 1h0m0-5h0m0 1h0m2 2h0m1-2h0m0 2h0m0-2h0m1 0h0m0 2h0m0-1h0m0 4h0m1-3h0m0-2h0m1 3h0m0 0h0m1 2h0m0 0h0m0-6h0m0 2h0m0 1h0m0 1h0m0 0h0m1-4h0m0 4h0m0-2h0m1 4h0m0-1h0m1 1h0m1-5h0m0 3h0m1 0h0m1-3h0m0 2h0m1-3h0m1 5h0m0-4h0m0 0h0m1 2h0m0 0h0m0-1h0m0 0h0m0 3h0m0 0h0m0-1h0m0-1h0m1 2h0m0-4h0m1 0h0m1-1h0m2 2h0m1 0h0m1 0h0m0-1h0m3 1h0m2 1h0m-45 3h0m1 1h0m1-1h0m1 0h0m0 2h0m3 0h0m2 0h0m0 2h0m2-2h0m0 2h0m0 0h0m0-1h0m1-3h0m0 1h0m0 1h0m0 2h0m1 0h0m0 0h0m1-4h0m0 3h0m0 2h0m0-4h0m1 3h0m2 0h0m2 2h0m1-3h0m1 3h0m0-2h0m0 0h0m1-2h0m0 2h0m0 0h0m0 1h0m0 0h0m1-4h0m0 0h0m0 0h0m0 3h0m1-1h0m0 1h0m0 0h0m0-3h0m1-1h0m0 5h0m1-2h0m0 1h0m0 1h0m0-1h0m0-2h0m0 0h0m0-1h0m1 5h0m1-3h0m0 0h0m1-1h0m1 0h0m0 0h0m0-2h0m1 3h0m0-2h0m1 1h0m1-2h0m1 4h0m0-1h0m1 2h0m0 0h0m0-3h0m1-2h0m0 1h0m0 0h0m0 1h0m1-2h0m0 3h0m0 0h0m1 2h0m0-4h0m0 0h0m1 4h0m0-2h0m1-3h0m0 3h0m2 0h0m0-2h0m0 2h0m2 1h0m1 0h0m0-3h0m0 5h0m4-5h0m5 5h0m5-3h0m-45 5h0m3 0h0m2-2h0m2 2h0m0-1h0m1 2h0m0 0h0m1 1h0m0-3h0m0-1h0m1 5h0m0-3h0m0 3h0m1-2h0m1 1h0m0 0h0m0-3h0m0 0h0m1 4h0m0-4h0m1 3h0m0 2h0m0-3h0m1 3h0m1-2h0m0 1h0m1 1h0m2-1h0m0 1h0m1-1h0m0-4h0m1 0h0m1 5h0m1-1h0m0-4h0m1-1h0m3 2h0m0-1h0m3 1h0m1-1h0m0 1h0m0-2h0m5 5h0m10-1h0m2 0h0m-33 3h0m0 1h0m1 0h0m1 0h0m0 1h0m0-1h0m1 0h0m0 0h0m0 0h0m1 1h0m0 1h0m2 0h0m1-3h0m2 3h0m1-1h0m3 3h0m3-5h0m2 1h0m4 3h0m1-2h0m1 2h0m0-1h0m2 1h0m4-2h0m16 1h0m-37 3h0m1 0h0m2 0h0m2 1h0m1-1h0m1 1h0m5 0h0m2 3h0m2-1h0m4-2h0m22 0h0m1-2h0m0 0h0m-26 8h0m4 2h0m1-1h0m9 2h0m0 0h0m7 0h0m0 0h0m2-5h0m18 2h0m8 1h0m1 1h0m2 2h0m3 0h0m-48 1h0m13 2h0m1 1h0m2-1h0m0 0h0m4-2h0m13 1h0m0 0h0m11 0h0m5 3h0m-26 1h0m0 1h0m3 1h0m32 1h0m-32 4h0m9 4h0m11-4h0m14 0h0m0 4h0m-26 2h0m15 2h0m5 0h0m1 4h0" stroke="#3234fb" stroke-width="2.5"/><path d="M231 751h0m2 0h0m0-1h0m0 0h0m1-1h0m2 3h0m1-1h0m0-1h0m0 2h0m0 0h0m2-2h0m0 2h0m1 0h0m1 0h0m-11 6h0m2-4h0m2 2h0m0 1h0m1-3h0m1-1h0m0 6h0m0-4h0m1 3h0m0-4h0m1 4h0m0 1h0m0-2h0m0-3h0m0 0h0m1 0h0m0-1h0m0 3h0m0-2h0m1-1h0m0 1h0m0 4h0m1 0h0m0-3h0m0-2h0m0 2h0m1 4h0m0-1h0m1-1h0m0 1h0m1-2h0m0-2h0m1 1h0m0 2h0m1-2h0m0 3h0m1-4h0m0 4h0m0-2h0m0 1h0m2 1h0m1 0h0m0 0h0m3-1h0m3 2h0m-30 2h0m1 2h0m5-2h0m0 2h0m0-2h0m1 2h0m0-3h0m1 4h0m0-1h0m0-1h0m1-1h0m0-2h0m0 2h0m0 4h0m1-1h0m1-1h0m0 0h0m0 0h0m1 2h0m0-4h0m1 1h0m0 0h0m1 0h0m1 1h0m0-3h0m1 0h0m0 5h0m0-3h0m1-1h0m0 3h0m0-3h0m1-2h0m0 2h0m0 3h0m1-3h0m0 0h0m1-2h0m0 2h0m0-2h0m1 1h0m2 3h0m0-1h0m1 2h0m0-2h0m0-3h0m2 5h0m1 1h0m0-3h0m1-2h0m0 1h0m0 0h0m1-1h0m0 3h0m0-3h0m1 2h0m0 0h0m0 2h0m1 0h0m0 0h0m0-4h0m0 1h0m1 2h0m0 0h0m0-3h0m0 4h0m0 0h0m1-2h0m0 2h0m2 0h0m0-2h0m0 3h0m2-1h0m0 1h0m0-1h0m0 0h0m1 0h0m-31 3h0m1-1h0m2 0h0m0 3h0m1-4h0m0 1h0m0 0h0m0 0h0m2 2h0m0 0h0m1-1h0m0 4h0m1-3h0m1-3h0m1 2h0m0 0h0m1 2h0m1 1h0m4 0h0m1-2h0m2 0h0m1-2h0m1 3h0m0-1h0m0 2h0m1 0h0m1-5h0m0 3h0m0 0h0m0 3h0m1 0h0m0 0h0m0-3h0m0 3h0m1-2h0m0 0h0m1 1h0m0-3h0m1-2h0m1 3h0m0 2h0m0 0h0m0-4h0m1 1h0m0 3h0m1-3h0m0-1h0m0 1h0m1 1h0m0-3h0m1 6h0m0-5h0m0 2h0m0-3h0m1 5h0m0-4h0m2 0h0m1 4h0m1 0h0m1 0h0m1-2h0m1 0h0m-31 4h0m4-1h0m5 0h0m3 1h0m1 2h0m1 1h0m0-2h0m0 0h0m0 3h0m0-4h0m1 3h0m0-3h0m1 0h0m0 3h0m0 2h0m0-6h0m0 2h0m1 1h0m0 0h0m0-3h0m0 4h0m1-2h0m0 0h0m1 4h0m0-6h0m0 5h0m1-3h0m0 4h0m0-6h0m1 3h0m0-2h0m1 5h0m0-2h0m1-3h0m0 0h0m0 5h0m0-1h0m0-2h0m1 0h0m0-1h0m2-1h0m0 2h0m0-1h0m1 3h0m0-1h0m0-3h0m0 2h0m2 3h0m0-5h0m1 3h0m0-2h0m0 0h0m2-1h0m1 0h0m1 0h0m0 1h0m0 1h0m1-2h0m1 2h0m0-1h0m1 4h0m2-2h0m1-2h0m2 4h0m0-2h0m-27 2h0m1 0h0m0 3h0m0 0h0m0-1h0m1 1h0m1 0h0m0-2h0m1 2h0m0 0h0m1 1h0m0 1h0m2 1h0m1-2h0m1-1h0m0-3h0m3 1h0m0 3h0m1-2h0m0 2h0m1 0h0m1-2h0m0 2h0m2 2h0m1-4h0m1 4h0m1-3h0m2 1h0m2 0h0m0-1h0m3 3h0m0-4h0m1 2h0m0-1h0m0 0h0m5-3h0m5 6h0m-28 0h0m0 1h0m2-1h0m1 0h0m1 1h0m0-1h0m0 1h0m2 2h0m0-2h0m2-1h0m0 3h0m2-1h0m1 4h0m1-4h0m1-1h0m1 1h0m0-1h0m0 3h0m1-3h0m0 4h0m1-3h0m0 0h0m1 0h0m0 0h0m1 4h0m1-2h0m3 0h0m1 1h0m4-3h0m2 4h0m1-1h0m1-3h0m0 0h0m-13 6h0m1 0h0m0 0h0m1-1h0m13 0h0m4-1h0m2 1h0m3 1h0m-17 5h0m0 1h0m9 2h0m0-3h0m19 2h0m2 9h0m2-2h0m0 2h0m3-1h0m-6 6h0" stroke="#4234f8" stroke-width="2.5"/><path d="M243 734h0m0-2h0m0-2h0m1 0h0m0 1h0m2-1h0m6 4h0m-13 5h0m0-1h0m0 1h0m1-1h0m0 2h0m1-5h0m1 3h0m2-3h0m3 5h0m2 0h0m0-1h0m0 2h0m1-2h0m3-1h0m1 0h0m0 3h0m1-3h0m1 1h0m1 0h0m0 1h0m0 0h0m0-1h0m1 1h0m0-1h0m1 2h0m0-2h0m-21 7h0m0-5h0m0 2h0m0 0h0m1 3h0m0 0h0m3-5h0m2 1h0m1 0h0m0 2h0m1 2h0m0-2h0m0 1h0m1-2h0m0 1h0m0-1h0m0 4h0m1-3h0m1-2h0m0 2h0m0-2h0m0 2h0m3 3h0m1 0h0m0-1h0m2 1h0m0 0h0m1-1h0m0 1h0m1-2h0m0 2h0m1-1h0m0 1h0m0-5h0m1 3h0m0 0h0m1 0h0m0-3h0m1 3h0m0 0h0m0 0h0m1 1h0m0-5h0m0 2h0m1-1h0m0 4h0m0-4h0m1 2h0m0 0h0m1 3h0m1-3h0m0 3h0m0-2h0m1 1h0m2-1h0m-35 2h0m4 0h0m1 3h0m1-3h0m0 0h0m0 3h0m1 0h0m0-1h0m3 1h0m0-3h0m1 0h0m0 5h0m0 1h0m1-6h0m0 2h0m2 3h0m1-1h0m0-3h0m0 3h0m0-3h0m1 1h0m0 0h0m1-1h0m0 2h0m0-2h0m1 0h0m1 5h0m1-5h0m0 3h0m1-1h0m0-1h0m0 0h0m1 0h0m0-1h0m1 0h0m1 1h0m1 1h0m0-2h0m0 0h0m1 0h0m1-1h0m0 0h0m2 0h0m0 5h0m0 0h0m0-4h0m3-1h0m0 0h0m0 2h0m0-2h0m1 4h0m0-2h0m0 2h0m0-4h0m0 2h0m1 3h0m1 1h0m0-2h0m0-4h0m0 0h0m1 6h0m0-4h0m0 0h0m1-2h0m0 2h0m1 0h0m0 2h0m1 1h0m1-1h0m0-2h0m1 3h0m0 0h0m0-2h0m0 1h0m0 1h0m0-1h0m0 1h0m0 1h0m1-1h0m0 0h0m0-2h0m0 1h0m0 2h0m1-2h0m0 1h0m-30 2h0m2 0h0m0 0h0m1 2h0m2 0h0m1-2h0m1 1h0m1-2h0m0 4h0m0-3h0m0 4h0m1-3h0m1 1h0m0-1h0m0-2h0m1 3h0m0 3h0m0-5h0m0 0h0m1 1h0m0 2h0m0-2h0m1 2h0m0-3h0m1 4h0m0 0h0m0-3h0m0 3h0m2 0h0m1-2h0m0-1h0m1-2h0m0 0h0m0 3h0m0-2h0m1 3h0m0-4h0m0 2h0m1-1h0m0-1h0m0 5h0m1-4h0m0 1h0m1 0h0m0 0h0m0-1h0m0 4h0m0-1h0m0-1h0m1 1h0m0 1h0m1 1h0m0-2h0m1 2h0m1-3h0m1 0h0m0 3h0m1-5h0m1-1h0m0 1h0m0 2h0m2-1h0m0 0h0m1 3h0m0 1h0m0-2h0m1-3h0m0 1h0m1 0h0m1-1h0m-24 5h0m1 1h0m3 1h0m3 2h0m0 0h0m1-3h0m0 2h0m0 1h0m1-1h0m1-1h0m0 0h0m0 1h0m1 1h0m0 1h0m0-2h0m0 2h0m1 0h0m0-3h0m0 2h0m0-2h0m0 2h0m0-1h0m0-1h0m1 1h0m2-1h0m0-1h0m1 3h0m1-4h0m0 3h0m10 1h0m4-2h0m2 1h0m1 0h0m0-1h0m3 3h0m-26 2h0m5 1h0m3 2h0m0-2h0m0 3h0m0-2h0m1 2h0m3-1h0m2 1h0m0 0h0m0-2h0m0 1h0m1-3h0m0 4h0m0 0h0m0-4h0m1 4h0m1-1h0m1-3h0m4 0h0m2 1h0m2 3h0m8 0h0m-19 4h0m1-2h0m2 1h0m3 2h0m4 0h0m2 2h0m3-2h0m3-1h0m3 0h0m1 2h0m0-3h0m7 3h0m-17 2h0m2 3h0m0-1h0m2 0h0m4 3h0m11-2h0m2-2h0m-10 6h0m6-2h0m1 4h0m5-1h0m9 3h0m0 3h0" stroke="#5234f3" stroke-width="2.5"/><path d="M253 711h0m-3 3h0m3-1h0m1-1h0m0 1h0m1 1h0m2 2h0m0 0h0m0-2h0m3 2h0m1 1h0m-14 5h0m1-2h0m0-1h0m2-2h0m2 4h0m1 2h0m0-3h0m0 2h0m1-4h0m1 1h0m0 3h0m1 0h0m1-4h0m0 2h0m0 3h0m0-3h0m1 2h0m0-2h0m1 3h0m0 0h0m1-4h0m0-1h0m1 4h0m2 1h0m1-3h0m1 1h0m1-1h0m1 2h0m1 0h0m-22 4h0m0-1h0m3 3h0m1-3h0m0-2h0m1 2h0m6 2h0m0-2h0m0 0h0m0-1h0m1 0h0m0 1h0m0 1h0m0 1h0m0-1h0m1-1h0m0 1h0m1 2h0m0-2h0m1 2h0m1-1h0m0 1h0m0-4h0m1 3h0m1 1h0m0 0h0m0-3h0m3 3h0m1-3h0m1 2h0m0-2h0m0 1h0m1 1h0m1-1h0m2 2h0m-22 4h0m4-2h0m0 5h0m2 0h0m1-1h0m0-1h0m1-1h0m0 2h0m1-4h0m0 0h0m1 3h0m0-3h0m0 0h0m0 2h0m1-1h0m0 2h0m2-2h0m0 4h0m1-1h0m1-1h0m2-2h0m0 1h0m1 2h0m0-3h0m2 2h0m0-3h0m1 4h0m0 0h0m0-4h0m1-1h0m0 4h0m3-3h0m0 2h0m0-2h0m0 5h0m1-1h0m0-1h0m0-1h0m0 1h0m1-1h0m1-2h0m1 4h0m0-1h0m0 0h0m1-1h0m-25 3h0m1 1h0m1 1h0m0-1h0m1 2h0m1 0h0m0-2h0m0 3h0m1 0h0m0-3h0m2 2h0m1 2h0m1-1h0m0 1h0m0-2h0m1 3h0m1-5h0m1 4h0m1-3h0m1 1h0m0 1h0m0-3h0m1 2h0m0 2h0m0 0h0m0-1h0m1 0h0m1-3h0m0 0h0m1 1h0m0 0h0m1 0h0m1 3h0m0-4h0m1 0h0m0 1h0m0-1h0m0 0h0m1 0h0m0 2h0m0 2h0m1-3h0m0 4h0m0-6h0m1 2h0m1 3h0m0-3h0m0 3h0m1-5h0m0 1h0m0 1h0m1 2h0m0-1h0m2 0h0m1 1h0m0-3h0m0 3h0m1-2h0m0 1h0m1 2h0m-25 1h0m3 2h0m0 0h0m1 0h0m0-2h0m1 2h0m0 0h0m1 1h0m1-3h0m0 2h0m1 0h0m0 2h0m0 0h0m1 0h0m0-3h0m0 0h0m1-1h0m0 2h0m2 3h0m0-5h0m1 5h0m1 0h0m1 0h0m1-4h0m0 4h0m0-2h0m1 2h0m0-3h0m0 0h0m1 4h0m0-5h0m0 0h0m0 4h0m2 1h0m0-3h0m1 2h0m0 0h0m0-2h0m0 3h0m0-4h0m1 1h0m1 0h0m0 3h0m0-6h0m1 0h0m0 5h0m1 0h0m0-4h0m0 3h0m1 0h0m0-2h0m1 3h0m0 0h0m0-2h0m2 1h0m-17 4h0m0 0h0m1 0h0m1-1h0m0-1h0m0 2h0m0 1h0m2 0h0m1 0h0m2 2h0m0-5h0m3 2h0m5-1h0m1 1h0m2 1h0m2 0h0m2-2h0m1 3h0m2-1h0m0 3h0m1-2h0m1-2h0m-10 9h0m5-1h0m0-3h0m1 1h0m2 3h0m5 0h0m0-1h0m1 2h0m8-1h0m-16 2h0m0 2h0m9-3h0m6 2h0m0 0h0m2 2h0m0-2h0m4 3h0m-14 4h0m2-1h0m4-2h0m8 4h0m1 1h0m9 0h0m-4 4h0m-2 5h0m3 3h0m2-2h0m14 5h0m1 8h0" stroke="#6234ed" stroke-width="2.5"/><path d="M262 696h0m1-1h0m1 0h0m1 0h0m0 1h0m1 2h0m0 0h0m1-1h0m2 1h0m-13 7h0m0-1h0m4-2h0m1-1h0m8-1h0m0 2h0m1-2h0m0 2h0m0-1h0m1 1h0m0 2h0m1 0h0m0-3h0m1 1h0m0 1h0m1 0h0m2 1h0m1 1h0m-24 4h0m2 0h0m0-3h0m1 0h0m1 2h0m0 3h0m0-5h0m0 2h0m1 1h0m0-1h0m0 2h0m0-4h0m1 2h0m0-3h0m1 2h0m0 0h0m0 0h0m1 1h0m0 1h0m0 1h0m1-1h0m0 1h0m1-2h0m1 3h0m2-5h0m6 1h0m0-2h0m0 2h0m1 2h0m1 2h0m0-6h0m5 5h0m2-1h0m0 2h0m-26 0h0m0 0h0m3 2h0m0 0h0m1-1h0m0 0h0m0-1h0m1 4h0m1 0h0m0-2h0m1 2h0m1-3h0m0 1h0m1 0h0m0 3h0m2 0h0m1 1h0m2-2h0m0 2h0m1-5h0m0 3h0m0 0h0m1-4h0m4 3h0m0 3h0m0-2h0m0-2h0m1 1h0m0-2h0m0 1h0m1 0h0m1 0h0m1 0h0m0 2h0m1-2h0m0-1h0m1 3h0m1-2h0m0-1h0m2 1h0m0 3h0m0 0h0m0-3h0m3 0h0m0 2h0m1 1h0m-25 2h0m5 0h0m0 0h0m4 2h0m1 3h0m0-6h0m0 2h0m0 1h0m1 3h0m0 0h0m0-1h0m1-1h0m0-3h0m2 3h0m3 1h0m1-5h0m1 1h0m6 1h0m3 0h0m0 0h0m2 2h0m0-3h0m3 5h0m0-1h0m-24 1h0m1 2h0m1-1h0m1-1h0m3 4h0m2-1h0m0-3h0m0 3h0m1 0h0m0 0h0m0 0h0m1 0h0m1 0h0m1-2h0m0 0h0m1 1h0m0 1h0m1-2h0m0 2h0m1-1h0m0 2h0m1 2h0m1-1h0m0-2h0m0-1h0m1 0h0m0-1h0m1-1h0m0 4h0m0-1h0m4-2h0m0 4h0m0-2h0m1 2h0m3-4h0m0 1h0m1 4h0m1-2h0m1 1h0m1 1h0m0 0h0m1-1h0m-24 3h0m0-1h0m1 1h0m1-1h0m2 1h0m0-1h0m0 1h0m2 2h0m0-2h0m1-1h0m0 5h0m0-6h0m0 1h0m1 2h0m1 0h0m1 2h0m0-2h0m1 1h0m1-3h0m0-1h0m1 1h0m1 2h0m9 2h0m1 0h0m0-3h0m2 3h0m0-1h0m-16 3h0m8 1h0m4-1h0m1 4h0m2 1h0m1-3h0m2 1h0m10 1h0m-19 5h0m1 0h0m1 0h0m1-3h0m2 1h0m0-2h0m2 2h0m1 2h0m5-2h0m4 0h0m1 3h0m1-4h0m0 4h0m3 1h0m1 5h0m-11 1h0m8 4h0m1-3h0m2-1h0m4 6h0m1-1h0m2-1h0m2-3h0m1 4h0m-11 2h0m17 1h0m-3 8h0m8-3h0m-5 6h0m0 2h0m6-2h0m4-1h0" stroke="#7233e8" stroke-width="2.5"/><path d="M277 684h0m2 2h0m0 0h0m1 1h0m0-1h0m0 0h0m0 0h0m1 0h0m-16 6h0m8-1h0m3-3h0m0 2h0m0 1h0m1-1h0m0-2h0m0 4h0m1-2h0m0 0h0m0 2h0m1-3h0m0 0h0m0 2h0m1-1h0m0 3h0m0-4h0m1 2h0m0-1h0m0 1h0m0 1h0m0-4h0m1 1h0m3 2h0m1 0h0m-21 3h0m3 2h0m1-3h0m0 0h0m1 5h0m1-1h0m1-1h0m0-1h0m0 1h0m1-1h0m0 3h0m0-3h0m1 0h0m1-1h0m0-1h0m1 3h0m0 2h0m0 0h0m1-3h0m0 1h0m1 3h0m1-4h0m0 0h0m0 1h0m1 1h0m0 2h0m0-5h0m1 4h0m0-2h0m1-2h0m0 0h0m1 5h0m1-2h0m-12 2h0m1 2h0m0-2h0m0 1h0m1 1h0m1 2h0m1-2h0m0 2h0m0-3h0m1 4h0m0-3h0m0 0h0m0 2h0m0-2h0m1-2h0m0 1h0m0 3h0m0-2h0m1 1h0m0-2h0m0 3h0m1-1h0m0 3h0m0-5h0m1 2h0m1 1h0m1-2h0m0 3h0m0-1h0m1 0h0m1 0h0m1-1h0m0 0h0m1-1h0m0 3h0m1 0h0m0-2h0m0 2h0m1 0h0m0-2h0m0-2h0m1 5h0m0 0h0m0-2h0m0-1h0m1 0h0m1 1h0m1-2h0m1 3h0m1-3h0m1 0h0m0 3h0m1 1h0m2-2h0m-17 2h0m0 2h0m1-1h0m1 2h0m0 2h0m1 1h0m0-4h0m1 2h0m0-2h0m0 2h0m1-3h0m1 1h0m0 4h0m0-1h0m0-2h0m1-3h0m1 3h0m0 2h0m0-2h0m0 0h0m0 2h0m1-3h0m0 0h0m1-1h0m0 5h0m0-3h0m1-2h0m1 0h0m1 4h0m0-3h0m0 1h0m0-2h0m1 1h0m1 3h0m0-1h0m1 0h0m0-1h0m1-1h0m1-1h0m0 1h0m1 4h0m3 0h0m-17 0h0m0 2h0m0 0h0m2-1h0m0 2h0m0-1h0m0 2h0m1-3h0m0 1h0m1 0h0m1-1h0m0-1h0m1 1h0m0 1h0m2-1h0m0 5h0m1-4h0m0 4h0m1-4h0m0 0h0m0 1h0m1 1h0m0 1h0m0-1h0m1 0h0m1-3h0m0 0h0m1 0h0m0 1h0m1 1h0m0-2h0m2 0h0m0 3h0m2 0h0m1 0h0m1-1h0m0 0h0m0 2h0m0-2h0m1 1h0m1 0h0m1 1h0m1 0h0m-19 1h0m0 1h0m0 0h0m1 1h0m0-1h0m1 1h0m1-1h0m0 1h0m1 1h0m0-2h0m2 1h0m2 4h0m0-1h0m1 0h0m0 1h0m1-5h0m0 0h0m1 3h0m0-2h0m0-2h0m0 4h0m0 0h0m2 1h0m4-2h0m0-1h0m2-1h0m2 0h0m2 3h0m-15 3h0m1 1h0m4 0h0m0 2h0m1 1h0m1-2h0m0 0h0m1 1h0m1-4h0m0 4h0m4-1h0m0 3h0m4-4h0m-12 4h0m6 6h0m16-2h0m1 1h0m-4 2h0m3 1h0m0 2h0m3 1h0m-2 7h0m0-4h0m0-1h0m3 0h0m3 3h0m2-1h0m2 0h0m-8 4h0m14 2h0m-5 3h0m2 6h0" stroke="#8232e3" stroke-width="2.5"/><path d="M284 673h0m1 0h0m1 0h0m0 0h0m1 1h0m0-1h0m-10 7h0m3-3h0m1 0h0m1 1h0m2-1h0m0 1h0m0 2h0m0-1h0m0-1h0m1 0h0m0 1h0m1-4h0m0 4h0m0 0h0m0 1h0m3-3h0m1-1h0m1 1h0m-13 4h0m3 5h0m0 0h0m1-3h0m0 4h0m1-2h0m0-2h0m1-1h0m0 4h0m0 0h0m0-1h0m1-1h0m1 2h0m0-1h0m0 1h0m1-1h0m1-3h0m0 4h0m0 1h0m0-3h0m0 2h0m0 0h0m0-1h0m2-2h0m1 4h0m0-5h0m0 3h0m2 2h0m0-2h0m0-1h0m2-1h0m1 3h0m0-3h0m1 1h0m0 2h0m2 0h0m-16 1h0m0 0h0m3 0h0m1 3h0m1-2h0m1 1h0m0 3h0m0-4h0m1 3h0m0 1h0m0-3h0m1 2h0m0-4h0m1 3h0m0 1h0m0-2h0m1-2h0m1 2h0m0 0h0m0 0h0m0 0h0m1 2h0m0-2h0m0 1h0m0 2h0m0 1h0m1-4h0m0 4h0m1-6h0m0 0h0m0 6h0m1-6h0m0 5h0m1-3h0m0 3h0m0-1h0m0 2h0m0-5h0m1 2h0m0 3h0m0-3h0m0 0h0m1 0h0m0-1h0m0 0h0m2 2h0m1 1h0m-12 1h0m0 0h0m2 0h0m1 3h0m1 2h0m1 0h0m1-4h0m0 0h0m0-1h0m1 2h0m0 3h0m0-2h0m2 0h0m0-3h0m4 5h0m1 0h0m-9 1h0m2 4h0m1-2h0m0 2h0m1-1h0m0-2h0m1 4h0m1-1h0m1 1h0m0 0h0m0-3h0m0 3h0m1-1h0m0-1h0m3 3h0m0 0h0m0 0h0m1 0h0m0-1h0m2-2h0m1 2h0m0 0h0m-10 2h0m5 0h0m1 3h0m0 2h0m0 0h0m0-2h0m0 2h0m1-2h0m0-1h0m1-1h0m0-1h0m1 0h0m0 4h0m0-1h0m0 2h0m0-5h0m1 0h0m1 1h0m0-2h0m2 6h0m1-2h0m1-2h0m-9 4h0m2 1h0m0-1h0m1 2h0m0 2h0m0-2h0m2 0h0m0-2h0m0 6h0m2-5h0m6 3h0m-5 3h0m5 2h0m2 0h0m5 8h0m1 1h0m0-3h0m2-2h0m3 4h0m0-1h0m-4 6h0m3 1h0m3-2h0m3 8h0m0-1h0m1 0h0m-1 2h0m1 0h0m4 3h0" stroke="#9131de" stroke-width="2.5"/><path d="M300 662h0m0 1h0m0-1h0m-9 6h0m1 1h0m0-2h0m1 2h0m2-1h0m0 1h0m1-4h0m1 3h0m1-4h0m0 4h0m0-3h0m0-1h0m0 2h0m1-1h0m1 4h0m1-1h0m0-1h0m0-2h0m0 4h0m1-5h0m1 2h0m0 1h0m-14 6h0m0-2h0m0 2h0m1 1h0m1-2h0m0 3h0m1-6h0m1 3h0m0-2h0m0 2h0m1 2h0m0-3h0m1 0h0m1 4h0m0-2h0m2-1h0m0 3h0m1-4h0m0 1h0m0-3h0m1 2h0m1 0h0m0 3h0m0 1h0m0-6h0m0 0h0m1 1h0m0 1h0m0 2h0m1-3h0m0 3h0m0-1h0m2-2h0m0 1h0m1 0h0m0 2h0m1 1h0m0-1h0m0 0h0m-16 3h0m6 2h0m6-3h0m0 5h0m0-4h0m2 3h0m2-3h0m0 3h0m1-3h0m0 5h0m0-2h0m1 0h0m0-2h0m0 1h0m-10 8h0m1-4h0m0 4h0m0-5h0m0 2h0m0 3h0m1 0h0m0 0h0m0-2h0m0 0h0m0 1h0m1-2h0m1 0h0m0 1h0m0-1h0m1 3h0m0-2h0m1-1h0m0 1h0m2 1h0m0-3h0m1 1h0m0 3h0m0-2h0m0-1h0m0-1h0m1 1h0m0 1h0m0 1h0m1 2h0m0-4h0m0 0h0m0 4h0m0-1h0m0-2h0m0-1h0m1 0h0m1 0h0m1 0h0m0-1h0m0 2h0m1 0h0m0 0h0m-8 7h0m4-3h0m1 0h0m1 5h0m0 0h0m1-3h0m1 2h0m0-2h0m0 3h0m0-6h0m3 4h0m-8 6h0m0 0h0m1 0h0m1 2h0m0-1h0m0-4h0m1 2h0m1 1h0m0-1h0m0-1h0m1 1h0m1-2h0m0 0h0m0 2h0m0-2h0m3 0h0m-5 6h0m0 2h0m2 2h0m0-4h0m0 5h0m2-2h0m0 1h0m0-3h0m1 2h0m0-1h0m0 1h0m0 0h0m1 1h0m4 0h0m-1 1h0m3 3h0m3 0h0m0 2h0m1 1h0m1 2h0m7 15h0m3 2h0" stroke="#a030d9" stroke-width="2.5"/><path d="M313 656h0m1-2h0m0 2h0m2-3h0m1 4h0m1-3h0m1-2h0m1 1h0m1-1h0m-19 9h0m1 0h0m0 1h0m0 0h0m0-1h0m0 0h0m1-1h0m0 0h0m1 1h0m2-3h0m0 4h0m0 0h0m1 0h0m1-3h0m0-1h0m1 3h0m1 0h0m0-3h0m0 1h0m1 0h0m0-1h0m0 0h0m2-1h0m0 3h0m0-2h0m1-1h0m0 1h0m7 3h0m-18 3h0m1 3h0m1-1h0m1 0h0m1 2h0m0-1h0m1 1h0m0 0h0m2-3h0m3 2h0m0 2h0m0-1h0m0-2h0m1 0h0m1-3h0m1 5h0m1 1h0m0-2h0m0-1h0m1-1h0m0 1h0m1-2h0m1 3h0m2 0h0m0-1h0m1 0h0m-17 5h0m0-2h0m0 2h0m0-2h0m1 0h0m0 4h0m1 2h0m0-4h0m0 3h0m1-5h0m0 1h0m0 2h0m1-1h0m0 3h0m0 1h0m1-6h0m0 4h0m1 1h0m0-5h0m0 1h0m1 0h0m0 5h0m0-5h0m0 3h0m1-2h0m0-1h0m0 4h0m1-1h0m0 1h0m1-2h0m0 2h0m1-4h0m3 0h0m2 5h0m0-2h0m0-2h0m-13 5h0m0 0h0m0-1h0m2 3h0m2-2h0m0 4h0m0-3h0m0 4h0m0-1h0m0-4h0m0 1h0m0 3h0m0-4h0m1 0h0m0 1h0m0 3h0m1-3h0m0 3h0m1-4h0m0 4h0m0-4h0m0 3h0m2-3h0m0 0h0m1 2h0m0-1h0m1 0h0m0 2h0m1 2h0m2 0h0m0-4h0m0 4h0m1-1h0m1 1h0m0-6h0m0 4h0m0 0h0m1 2h0m0 0h0m-14 1h0m1-1h0m1 3h0m0 1h0m1-2h0m0-1h0m0 0h0m0 5h0m0-5h0m1 0h0m0 3h0m1 1h0m0-4h0m0 2h0m2 3h0m0-2h0m1 2h0m1-5h0m1-1h0m0 6h0m1-1h0m1 0h0m1-5h0m1 0h0m0 2h0m0-1h0m1 0h0m-11 6h0m0 0h0m1-1h0m0 2h0m1 1h0m0-1h0m0 1h0m0 1h0m1-2h0m0 1h0m1 0h0m0 0h0m0-3h0m1 3h0m0 3h0m0-2h0m0 1h0m1-4h0m1 1h0m0 0h0m0-2h0m1 4h0m0-1h0m0-3h0m1 1h0m0 1h0m0 0h0m0 1h0m0-2h0m3 1h0m-8 4h0m0 2h0m1 1h0m0 0h0m0-2h0m1 3h0m0-3h0m0 1h0m1 1h0m2 1h0m0-1h0m0 2h0m1-2h0m0 0h0m1 0h0m0 1h0m0-4h0m0 1h0m0 0h0m0 2h0m1 3h0m0 0h0m1 0h0m0-4h0m1 3h0m-2 7h0m1-3h0m1-3h0m0 4h0m1-2h0m0-1h0m1 4h0m-2 2h0m2 3h0m-2 3h0m3 2h0m0-3h0m1 5h0m1 4h0m0-2h0" stroke="#ae2fd5" stroke-width="2.5"/><path d="M322 650h0m3 0h0m1 1h0m0-2h0m2 2h0m0-3h0m1 2h0m0-2h0m0 2h0m7-2h0m-14 6h0m1-2h0m0 1h0m1 1h0m1 0h0m0-3h0m0 4h0m1 1h0m0-4h0m0 2h0m0-3h0m0 4h0m0-2h0m1-2h0m1 3h0m0 0h0m1-2h0m0 0h0m0 2h0m2 0h0m3 2h0m0 0h0m2 0h0m0-2h0m1-1h0m0 3h0m-12 2h0m0 0h0m0 3h0m3 0h0m0-2h0m0-1h0m0-1h0m1 3h0m0 3h0m1-2h0m0-4h0m2 2h0m0-1h0m0-1h0m0 5h0m1-1h0m1-3h0m0 2h0m0 1h0m0 1h0m0-2h0m0-2h0m0 4h0m2-2h0m0 0h0m0 0h0m0-1h0m0 3h0m0-3h0m0-2h0m1 2h0m0-2h0m0 0h0m0 0h0m1 5h0m-13 2h0m1 1h0m1-2h0m0 1h0m1 1h0m1 2h0m0-1h0m1 1h0m0-2h0m1 1h0m0 0h0m2-1h0m0-1h0m0 2h0m1-2h0m0 0h0m0-1h0m1 2h0m0 1h0m0 0h0m0-3h0m1 1h0m1 1h0m0 1h0m0-1h0m1 4h0m-12 1h0m0 4h0m1-2h0m0 2h0m1-2h0m0-2h0m1 4h0m1-2h0m1 1h0m2 1h0m2 0h0m2 0h0m0 1h0m1 0h0m-11 1h0m0 2h0m1-3h0m0 0h0m1 5h0m0-3h0m0 0h0m0 3h0m1-4h0m0 0h0m0 2h0m1-3h0m0 2h0m0 2h0m3-3h0m0 2h0m1 2h0m0 0h0m1-4h0m0 0h0m0 1h0m0 1h0m0 1h0m0-2h0m1-1h0m0 4h0m0-1h0m1-3h0m0 4h0m1 0h0m0-1h0m-10 5h0m0-1h0m2-2h0m0 2h0m1 0h0m0-1h0m1 2h0m1 1h0m0 1h0m0-4h0m1 0h0m0 1h0m0-2h0m1 2h0m0 3h0m0 0h0m0-1h0m0-2h0m1 2h0m0 0h0m0 1h0m0-4h0m0 3h0m1-3h0m-8 7h0m1 2h0m1-2h0m0 0h0m0 4h0m1-1h0m0-1h0m1 0h0m1 0h0m0-4h0m0 4h0m0 2h0m1-4h0m0 2h0m0-4h0m0 2h0m1 0h0m0 2h0m0-2h0m1 2h0m0 1h0m0 0h0m1-4h0m0 0h0m0 1h0m0-1h0m1 2h0m-9 5h0m0 0h0m1-1h0m0 2h0m1-3h0m0 3h0m1-3h0m0 0h0m1 3h0m0 2h0m0-3h0m1 2h0m1 0h0m0-4h0m0 0h0m1 2h0m-5 9h0m1-2h0m2 0h0m1-2h0m1 3h0m-4 6h0m1 2h0m1-5h0m0 10h0m0 1h0m0-4h0m2-1h0m0 5h0m0-2h0m1-2h0m1 1h0m0 1h0m0-4h0m2 12h0m-1 5h0m1 1h0" stroke="#bb2ed1" stroke-width="2.5"/><path d="M353 644h0m-13 6h0m1-4h0m2 3h0m1 0h0m6-1h0m0-1h0m1 3h0m1-1h0m0 0h0m1 0h0m0 2h0m2-2h0m0-3h0m0 2h0m1 0h0m2-1h0m0 0h0m0 3h0m2-3h0m3 4h0m0-1h0m2 0h0m-27 2h0m0 2h0m0 2h0m1-2h0m0-2h0m0 1h0m0 0h0m1 2h0m0 1h0m4-3h0m5 4h0m3-6h0m1 4h0m2 2h0m2-5h0m1 0h0m0 1h0m1-2h0m0 2h0m0 0h0m2 1h0m1 1h0m0 1h0m1 1h0m0-6h0m0 1h0m1 1h0m0 4h0m0-3h0m0 0h0m1 3h0m0 0h0m0-3h0m-27 7h0m1 1h0m0-2h0m0-1h0m0 1h0m1 0h0m1 0h0m0-1h0m0 3h0m1-1h0m0-1h0m1 2h0m1-2h0m0 0h0m1 0h0m0 2h0m1 1h0m1-3h0m1-1h0m1 2h0m0-2h0m0 0h0m0 2h0m1-3h0m0 3h0m0 1h0m1-3h0m0-1h0m1 4h0m0 0h0m0-2h0m1 0h0m1 0h0m1 2h0m0-4h0m1 1h0m0 3h0m2 1h0m0 0h0m1-6h0m1 6h0m3-1h0m0 1h0m0-3h0m-25 5h0m2 2h0m2 2h0m1-3h0m2 3h0m2-3h0m0-1h0m0 2h0m0-2h0m0 3h0m3-3h0m0 0h0m1-1h0m0 1h0m0 2h0m0 0h0m1-4h0m0 6h0m0-5h0m0 2h0m1 2h0m0-2h0m1-3h0m0 3h0m0-2h0m2 2h0m0-2h0m1-1h0m0 4h0m1-1h0m0 3h0m0-6h0m0 1h0m1 0h0m1 2h0m0 3h0m0-4h0m1 0h0m0 3h0m1-2h0m0-2h0m0 1h0m1 0h0m0-1h0m0 5h0m1-6h0m0 1h0m-25 8h0m1 3h0m0-6h0m3 4h0m0-3h0m7 5h0m0-1h0m0-2h0m0 0h0m1 1h0m1-4h0m0 1h0m1 1h0m0 3h0m1-3h0m1-2h0m0 2h0m1 2h0m0 1h0m0 0h0m1 0h0m1-4h0m0 4h0m2 0h0m1-4h0m1 4h0m0-4h0m-23 8h0m0-3h0m1 1h0m0 2h0m0-1h0m0 4h0m1-1h0m1-4h0m0 4h0m1-2h0m0 0h0m0 3h0m0-1h0m1-1h0m0-3h0m2 5h0m0-4h0m2 0h0m1 0h0m1 0h0m0 0h0m0-1h0m2 2h0m0 0h0m0 1h0m1 1h0m0-5h0m1 2h0m1 3h0m0-2h0m1-1h0m1-2h0m0 3h0m0 0h0m1-2h0m0 2h0m0-3h0m1 1h0m1-1h0m0 1h0m1 4h0m0-3h0m1-2h0m-22 12h0m0-5h0m0 3h0m0 1h0m1-4h0m1 0h0m0 5h0m1-1h0m0-1h0m0 2h0m0 0h0m1-6h0m0 4h0m0-3h0m2 4h0m0-3h0m0 1h0m0 2h0m1-1h0m1 1h0m0-1h0m0 0h0m3 1h0m1-4h0m1 4h0m2-2h0m3-2h0m1 3h0m0-3h0m-18 8h0m0 2h0m1-4h0m0 3h0m1-2h0m0 1h0m1 0h0m0 0h0m1 2h0m0 0h0m0-3h0m0-1h0m0 3h0m1 1h0m1 1h0m0-5h0m1 4h0m1-2h0m0 0h0m1-2h0m0 4h0m2-2h0m0 0h0m0 2h0m1 0h0m0 1h0m0-4h0m2 4h0m1-2h0m2 0h0m1-1h0m0-1h0m-18 5h0m2 4h0m1 1h0m0-4h0m1 2h0m1-2h0m0 4h0m1-3h0m0 0h0m1-1h0m0 1h0m0-3h0m2 2h0m0-1h0m2 2h0m2-3h0m2 0h0m0 5h0m1-2h0m-14 5h0m0 0h0m2-1h0m1 1h0m0-1h0m3-1h0m5 0h0m1 1h0m2 0h0m-13 7h0m2 2h0m2 1h0m3 1h0m2-3h0m-5 4h0m1-1h0m1 3h0m2 3h0m0-6h0m-3 10h0m-5 12h0m1 1h0m-1 5h0m1-2h0" stroke="#c732cc" stroke-width="2.5"/><path d="M370 649h0m0-3h0m0 3h0m1-3h0m0 5h0m1-1h0m0-2h0m0 3h0m1 0h0m2-3h0m0 0h0m4 2h0m1 0h0m2 1h0m-16 4h0m1 0h0m0-1h0m0 0h0m1 1h0m0 2h0m0-3h0m0 0h0m1 2h0m0 1h0m1-6h0m0 3h0m0 0h0m0-2h0m2 1h0m0 3h0m2 0h0m2 0h0m8 0h0m6-1h0m3 1h0m1 1h0m-27 4h0m0-3h0m0 4h0m0 0h0m0-2h0m0-3h0m1 5h0m0-1h0m0 0h0m1 1h0m8-3h0m1 0h0m4 2h0m4-3h0m1 1h0m0 1h0m2 2h0m1-2h0m0-2h0m1 2h0m0 0h0m1-2h0m1-1h0m1 0h0m4 6h0m-34 5h0m0-1h0m1 1h0m0-4h0m0 3h0m0-1h0m1-1h0m0-1h0m2 1h0m2 1h0m0 1h0m1-1h0m3 1h0m1-3h0m1 3h0m0 1h0m1 1h0m6-3h0m2 1h0m7 0h0m2-1h0m0 2h0m1-1h0m1-3h0m-32 8h0m1 1h0m0 1h0m0 0h0m1-2h0m0 2h0m0 0h0m0-3h0m1 1h0m1-1h0m1 3h0m0 0h0m0 1h0m0-6h0m1 0h0m1 3h0m0 2h0m1 0h0m1 1h0m0 0h0m1-2h0m0-2h0m0 0h0m1-1h0m0 5h0m0-5h0m1 5h0m1-1h0m0-3h0m1-1h0m0 1h0m0 1h0m1 2h0m0-4h0m0 0h0m0 4h0m0-4h0m0 3h0m0 2h0m0-1h0m1-4h0m1 3h0m0 2h0m0-1h0m1 1h0m0-2h0m0 1h0m1-4h0m0 3h0m0-2h0m2 0h0m0 1h0m2 1h0m2-2h0m3 0h0m1 0h0m-31 6h0m2-2h0m0 2h0m0-1h0m0 3h0m1-2h0m1-1h0m0 0h0m1 4h0m1-5h0m1 2h0m3 3h0m1-4h0m0 4h0m1-4h0m0 3h0m1 1h0m1 0h0m0 1h0m0-2h0m0-2h0m1 3h0m0-2h0m1 2h0m0 0h0m0-4h0m0 1h0m1 4h0m0-4h0m0-1h0m0 2h0m1 2h0m0-4h0m0 0h0m0 5h0m1-1h0m0-4h0m0-1h0m0 1h0m1 1h0m1 3h0m0-5h0m4 2h0m-27 9h0m1 0h0m2 1h0m1-5h0m1 0h0m0 3h0m1-3h0m0 3h0m3 0h0m3 1h0m3 1h0m0-3h0m1-2h0m0 0h0m0 1h0m1 2h0m0 0h0m0-2h0m0 1h0m0-3h0m1 2h0m0 0h0m2 0h0m0 1h0m0 3h0m0-3h0m0 1h0m0 2h0m1-5h0m0 2h0m0-1h0m0 1h0m0 2h0m1-4h0m0 3h0m0-3h0m1 1h0m0 1h0m0 2h0m0-4h0m2 2h0m-25 6h0m0 3h0m0-4h0m1 3h0m1-3h0m2 0h0m0 4h0m0-5h0m1-1h0m0 6h0m0-2h0m0 1h0m0 0h0m0-5h0m1 2h0m3 2h0m0 1h0m0-2h0m1 2h0m1-1h0m1 0h0m0-1h0m0 1h0m1-1h0m1 1h0m0-1h0m1 3h0m0-2h0m2 1h0m0-3h0m0 3h0m0-5h0m0 4h0m1-4h0m0 2h0m0 0h0m0 1h0m1 0h0m0 2h0m0-4h0m1 3h0m0-1h0m1-2h0m-20 7h0m1 0h0m0 1h0m1 2h0m0-5h0m1 4h0m2-1h0m1 1h0m2-2h0m1 3h0m1-4h0m0 2h0m3 1h0m1-3h0m0-1h0m1 6h0m0-2h0m2-2h0m0-2h0m-21 10h0m2-1h0m1 2h0m0-1h0m1-1h0m2 2h0m1 0h0m3 0h0m1-2h0m1-1h0m1-1h0m1 2h0m1 1h0m2-3h0m-14 6h0m3-1h0m2 1h0m0 0h0m1 2h0m1 1h0m0-2h0m1-1h0m1 0h0m-5 10h0m-8 14h0m-5 5h0m-4 8h0" stroke="#d139c6" stroke-width="2.5"/><path d="M401 662h0m4 0h0m0 0h0m-9 7h0m1-3h0m3-1h0m2-1h0m2 1h0m0 4h0m1-1h0m1-1h0m1-1h0m0 0h0m1 3h0m0-1h0m0-1h0m2-1h0m0-1h0m-17 7h0m1-2h0m1 5h0m0-5h0m0 1h0m0 2h0m0 1h0m1 0h0m2-3h0m0 3h0m6-2h0m3-1h0m2-1h0m0 1h0m0 2h0m0-3h0m3 2h0m0 1h0m1-1h0m3-2h0m-26 10h0m1-1h0m0-2h0m2-1h0m0 3h0m1 0h0m1 2h0m0-3h0m7 1h0m2 0h0m0 1h0m0 0h0m2 0h0m0-1h0m0-3h0m0 4h0m1-3h0m0-1h0m1 0h0m0 2h0m1-1h0m1 3h0m0-2h0m0 2h0m0-1h0m1 0h0m0-4h0m0 1h0m1 3h0m0-1h0m1 1h0m-24 7h0m1-2h0m1-1h0m0-2h0m0 4h0m1 1h0m0-1h0m0-4h0m1 2h0m0 4h0m1-3h0m0 1h0m1-2h0m0 3h0m2 0h0m1-4h0m1 0h0m0-1h0m1 6h0m1-5h0m0 2h0m1 3h0m0-5h0m1 3h0m0-1h0m2 1h0m0-2h0m1 0h0m0 4h0m0 0h0m0-2h0m1 2h0m0 0h0m1 0h0m1-4h0m0 4h0m0-5h0m0 1h0m0-1h0m1 4h0m0 0h0m1 1h0m0-1h0m0-3h0m2 3h0m-32 6h0m1 1h0m1-4h0m0-1h0m1 0h0m1 5h0m0-6h0m0 1h0m3 4h0m1-2h0m1-2h0m0 2h0m1 3h0m0-5h0m0 3h0m1 2h0m0-5h0m0 2h0m1 1h0m0-1h0m0-2h0m1 1h0m1-2h0m0 2h0m0 2h0m0 1h0m0-4h0m1 1h0m0-1h0m0 1h0m0 2h0m0 0h0m0 2h0m0-5h0m1 4h0m0-1h0m1 2h0m1-2h0m0-1h0m0-1h0m0 3h0m0-3h0m0 2h0m0 1h0m1-1h0m1 0h0m0-4h0m1 4h0m0-1h0m0 1h0m2-3h0m0 1h0m0-2h0m0 3h0m1 1h0m0 2h0m1-5h0m0 4h0m2 0h0m0-5h0m1 1h0m1 2h0m0-1h0m0-1h0m2 0h0m-34 8h0m0 2h0m1-2h0m0 0h0m1 2h0m0 1h0m0-6h0m1 3h0m2 0h0m1 2h0m0-1h0m0 0h0m0-4h0m0 3h0m1-1h0m1 0h0m0 2h0m1-2h0m0-1h0m0 3h0m0 2h0m0-2h0m0-1h0m1 0h0m0 1h0m1 0h0m0-1h0m1 1h0m2 0h0m0-1h0m0 1h0m2 2h0m0-4h0m1 2h0m1-1h0m0 0h0m1 0h0m0-2h0m0 5h0m0-4h0m0-2h0m0 2h0m0-2h0m1 5h0m0-4h0m0 5h0m0-3h0m1 2h0m0-1h0m0 1h0m0 1h0m1-1h0m0-4h0m0 2h0m1-1h0m0-1h0m0-1h0m1 0h0m0 0h0m1 3h0m0-2h0m1-1h0m-29 8h0m0 0h0m1 0h0m3 3h0m4-1h0m1 1h0m0 0h0m0-3h0m0 1h0m1 1h0m0-4h0m1 1h0m0-1h0m1 2h0m0 1h0m1-2h0m1 2h0m0-1h0m2-1h0m0 0h0m2 1h0m0-2h0m1 3h0m1 2h0m0-4h0m1 1h0m0-2h0m0 5h0m2-3h0m2-1h0m0 0h0m1-1h0m-30 8h0m4 2h0m5 0h0m5-1h0m0-3h0m3 1h0m2 0h0m0 1h0m2-2h0m0 1h0m1 0h0m0 0h0m1 0h0m-29 10h0m1-1h0m0 2h0m2-1h0m0-4h0m2 4h0m8-5h0m3 5h0m8-5h0m-25 8h0m5 0h0m6 3h0m0 0h0m2 0h0m-14 1h0m7 6h0m0-4h0m2 0h0m-15 10h0m0-1h0m5-1h0m7-3h0m0 0h0m-11 5h0m3 5h0m2-4h0m-12 9h0m6-3h0m0 0h0m1 1h0m-5 9h0m0 1h0m3-3h0m-9 4h0m3 1h0" stroke="#db41be" stroke-width="2.5"/><path d="M427 684h0m1 0h0m0 3h0m2-1h0m1 0h0m0 0h0m-22 7h0m1-2h0m0 2h0m1-2h0m0-2h0m1 1h0m0 1h0m0-2h0m1 2h0m0-2h0m1 0h0m1 1h0m1-1h0m0 1h0m0-1h0m0 0h0m1 1h0m1-2h0m0-1h0m1 2h0m1-2h0m1 1h0m1 5h0m0 0h0m0-1h0m2-4h0m0-1h0m1 2h0m3 4h0m2-5h0m3 1h0m1 0h0m2 3h0m1 0h0m-33 5h0m0 0h0m2-2h0m1 2h0m0-3h0m1 2h0m1 1h0m0-2h0m0 0h0m0 3h0m1-2h0m0 0h0m1 0h0m1 1h0m0-3h0m0-1h0m0 4h0m1-2h0m0-1h0m1 0h0m0 4h0m0-2h0m1 1h0m0-1h0m1 0h0m3-2h0m8 2h0m4 1h0m1-3h0m4 0h0m5 2h0m-42 8h0m0-1h0m1-1h0m0 1h0m1-1h0m0 1h0m0-3h0m0 3h0m0 1h0m1 0h0m0 1h0m1-2h0m0 0h0m0 0h0m1 1h0m0-1h0m1-3h0m0 1h0m0 0h0m0 0h0m1 3h0m0 1h0m1-4h0m0-1h0m0 2h0m1 3h0m1-3h0m0-1h0m0-1h0m0 4h0m0-2h0m1 0h0m0 0h0m1 3h0m0-3h0m0-1h0m0 4h0m0-1h0m0-4h0m1 3h0m0 2h0m0 0h0m0-1h0m1-2h0m0 2h0m0-3h0m0-1h0m0 1h0m0-1h0m1 0h0m0 2h0m0-2h0m0 4h0m1-4h0m0 1h0m0-1h0m0 1h0m1 2h0m0-1h0m0-1h0m1 3h0m2 0h0m1 0h0m1-1h0m1 0h0m2 1h0m0-1h0m0-1h0m1 3h0m0-1h0m1-3h0m0 2h0m0 1h0m1-4h0m2 3h0m0-3h0m1-1h0m6 4h0m2 0h0m0-2h0m1-1h0m0 2h0m1-2h0m1 0h0m1-1h0m1 2h0m1 0h0m-51 7h0m1 1h0m1-2h0m1 2h0m0-1h0m4 0h0m1-2h0m0 2h0m1-2h0m1 3h0m0-2h0m0 4h0m1-4h0m0 1h0m0 0h0m1 2h0m0-4h0m1 3h0m0 1h0m1-5h0m0 2h0m0-1h0m0-1h0m1 4h0m0-2h0m1-1h0m0-1h0m0 1h0m0 5h0m1-3h0m0 0h0m0-2h0m0 4h0m0-1h0m1-4h0m0 4h0m0-2h0m1 3h0m0 0h0m0-2h0m0-2h0m0 0h0m1 0h0m0 0h0m1 0h0m0 0h0m1 3h0m0 2h0m0-1h0m2-3h0m1 1h0m1 2h0m0-3h0m0 0h0m1 3h0m0-1h0m0-3h0m0 1h0m1 3h0m0 0h0m1 0h0m0-2h0m1 0h0m0-2h0m0 2h0m0-1h0m1 4h0m0-3h0m1 2h0m0 0h0m0-4h0m2 1h0m0 1h0m0-1h0m1 1h0m0 2h0m1-5h0m0 1h0m0 5h0m0-2h0m2 0h0m0 1h0m1-4h0m-46 9h0m0 1h0m1-2h0m1 0h0m1-1h0m0 3h0m2-3h0m1 4h0m0-5h0m3 5h0m2-1h0m0 0h0m1-1h0m1 0h0m6 1h0m1-3h0m1 4h0m0-2h0m2 1h0m0-2h0m1-2h0m0 0h0m1 2h0m0-2h0m0 3h0m1-2h0m0 2h0m0 1h0m1 0h0m0-3h0m1-1h0m1 5h0m0 0h0m0-5h0m1 2h0m0 0h0m0-2h0m1 0h0m0-1h0m0 2h0m0 2h0m2-4h0m1 2h0m1 4h0m4-3h0m-45 8h0m2-2h0m0 0h0m3-2h0m2 5h0m0-5h0m1 2h0m1-1h0m0 3h0m1 1h0m1-2h0m0-3h0m0 4h0m1-4h0m0-1h0m0 2h0m1 2h0m1-4h0m2 3h0m0 0h0m0-2h0m0 3h0m1 0h0m0-3h0m0 2h0m1 1h0m1 2h0m1-5h0m0 1h0m0-1h0m1 0h0m1 1h0m0 4h0m1 0h0m0-1h0m1-2h0m0 0h0m0 1h0m1 2h0m0-5h0m1 2h0m0-3h0m1 3h0m0 1h0m1 0h0m0 0h0m1-1h0m0 1h0m1 0h0m0-1h0m1 1h0m0-2h0m0 3h0m1-3h0m0 0h0m0 0h0m0 1h0m0 2h0m1-4h0m0 3h0m2 0h0m0-2h0m1-1h0m0 0h0m2-1h0m2 0h0m-46 11h0m2-1h0m1-1h0m0-1h0m1 2h0m1 1h0m1-3h0m4-1h0m1-1h0m2 3h0m1 0h0m0-1h0m1 1h0m2-2h0m6 4h0m0-4h0m0 0h0m2-1h0m0 6h0m0-6h0m1 1h0m1 0h0m0 2h0m0-2h0m1 3h0m0-3h0m0 0h0m2 1h0m1-1h0m1 2h0m0-2h0m2-1h0m0 1h0m2 0h0m-40 9h0m2 0h0m0 1h0m1-5h0m1 0h0m1 1h0m5 1h0m0 0h0m1 2h0m1-4h0m3 2h0m1 1h0m0 0h0m2 3h0m3-3h0m6-1h0m0 0h0m3-2h0m-33 7h0m1 3h0m2 1h0m0-4h0m2 1h0m1 0h0m1 2h0m10-1h0m1-1h0m1-2h0m6 1h0m-18 10h0m-12 3h0m7 1h0m-14 5h0m6 1h0m-7 5h0m-5 4h0" stroke="#e54cb3" stroke-width="2.5"/><path d="M444 702h0m1 1h0m0-1h0m-13 8h0m3 0h0m2-1h0m1-3h0m1 1h0m0 3h0m0-2h0m1-1h0m0-2h0m1 5h0m0 0h0m1-1h0m3-3h0m0 2h0m1-2h0m0-1h0m0 3h0m1 0h0m1 0h0m1 2h0m1-2h0m0 1h0m-27 6h0m2 0h0m0 1h0m0-1h0m1 1h0m0-2h0m1 2h0m1 1h0m0 0h0m1-5h0m1 2h0m1 2h0m0-1h0m0 2h0m1-3h0m1 0h0m0 2h0m2 1h0m0-3h0m1 0h0m1 1h0m1-3h0m1 5h0m0-4h0m0 1h0m1 3h0m0-1h0m1-2h0m0 1h0m0-3h0m1 2h0m0 0h0m1-2h0m2 0h0m2 4h0m4-1h0m0-2h0m1-1h0m0-1h0m0 5h0m3-4h0m2 4h0m0-1h0m1 1h0m0-1h0m1 1h0m-45 7h0m0-1h0m3 1h0m0-3h0m2-1h0m0 0h0m1 3h0m1-2h0m2 1h0m2 0h0m0 1h0m0-3h0m0-2h0m1 3h0m0 1h0m1-3h0m0 5h0m1-1h0m0-3h0m0 4h0m0-2h0m0 0h0m0 0h0m1 2h0m0 0h0m0-4h0m0 3h0m0-3h0m0 0h0m1-1h0m0-1h0m1 4h0m0 1h0m0-2h0m1-2h0m1 3h0m1 2h0m0-5h0m0 3h0m0-3h0m2 2h0m0 1h0m1-2h0m0-2h0m2 0h0m1 5h0m1 0h0m1-1h0m0-2h0m1 3h0m0-2h0m2 2h0m0-1h0m6 0h0m1-2h0m1 4h0m0-3h0m1 1h0m1-1h0m0-3h0m0 5h0m1-2h0m0 2h0m1-1h0m0-4h0m0 5h0m2 1h0m0-2h0m0-3h0m0 1h0m1-1h0m0 2h0m0 3h0m1-5h0m1 3h0m2 1h0m0-1h0m-60 7h0m4-1h0m0-1h0m2 1h0m0-2h0m1-1h0m0 5h0m0-5h0m1 3h0m1 0h0m1-2h0m0 0h0m0 1h0m0 2h0m1-1h0m1 0h0m0-2h0m0-1h0m1 1h0m0 3h0m1-3h0m0-2h0m1 4h0m1-3h0m3 2h0m1-1h0m1-1h0m2 0h0m0-1h0m1 1h0m1 1h0m1 2h0m0-2h0m1-1h0m0 4h0m0-4h0m1 3h0m2-1h0m1 0h0m0 3h0m1-1h0m1 0h0m0-4h0m0 2h0m2 1h0m3-1h0m3-2h0m0 2h0m1 2h0m1-1h0m1 2h0m0-2h0m0-3h0m0 4h0m2-5h0m4 1h0m2 2h0m2-2h0m1-1h0m0 2h0m0 1h0m1 1h0m0-1h0m0 2h0m1 0h0m0-2h0m0 2h0m1-2h0m1-2h0m0 2h0m2 0h0m-67 8h0m0 1h0m0-2h0m1-1h0m0 2h0m0-1h0m1 1h0m1 1h0m10-1h0m0-1h0m1-1h0m0 2h0m1-1h0m1-4h0m0 0h0m0 2h0m0 3h0m0-2h0m0 0h0m1 0h0m0-3h0m0 4h0m1-1h0m0-1h0m1 0h0m1 0h0m0 1h0m0-1h0m1 0h0m0 3h0m0 1h0m1-1h0m0-4h0m0 5h0m1-2h0m0-2h0m0 1h0m0 3h0m0-1h0m0 0h0m1 0h0m0-1h0m1-2h0m0-2h0m0 6h0m0-2h0m1-1h0m0-1h0m1 1h0m1-2h0m1 0h0m0 1h0m1 2h0m1 0h0m3-1h0m1-2h0m0 2h0m0 2h0m1-3h0m0-2h0m1 2h0m1 2h0m0-2h0m1-1h0m0 3h0m2 1h0m1-1h0m1-4h0m1 4h0m1 2h0m1-1h0m0-1h0m0 0h0m0-2h0m0-1h0m1-1h0m1 4h0m0-2h0m0 3h0m2-4h0m1 1h0m0 1h0m0 2h0m0 1h0m1-4h0m0 2h0m1 1h0m0-2h0m0-1h0m0 0h0m5 0h0m3-1h0m-64 7h0m1 3h0m1-3h0m0-2h0m2 2h0m0-1h0m8 0h0m4 5h0m2-2h0m2 0h0m5-2h0m1-2h0m0 2h0m2 0h0m6 3h0m2-1h0m1-2h0m0 4h0m0-1h0m2 1h0m0 0h0m0-1h0m1-3h0m0 4h0m2 0h0m1 0h0m0-1h0m0-2h0m1-2h0m0 4h0m0-1h0m1-3h0m1-1h0m1 1h0m0 2h0m1 0h0m0 0h0m0-2h0m1 0h0m0 0h0m1 0h0m2-1h0m1 0h0m-68 10h0m4-2h0m2-1h0m4 1h0m14 4h0m1-4h0m5 3h0m3-1h0m1-1h0m0 0h0m0 1h0m1-1h0m3-2h0m2 2h0m1 3h0m1-5h0m1 0h0m6 2h0m3-2h0m0 0h0m-54 8h0m0-2h0m4-1h0m9 1h0m2 1h0m9 4h0m4-2h0m3-4h0m0 1h0m1 4h0m1-5h0m0 3h0m2 0h0m0-1h0m1 1h0m1 2h0m1-5h0m0 2h0m1 0h0m1 2h0m0-2h0m1 1h0m1 0h0m1-3h0m-56 11h0m4-2h0m14-3h0m11 1h0m3 1h0m4-2h0m10 0h0m-44 7h0m32-1h0m-20 9h0m1-2h0m-31 7h0m10 1h0" stroke="#ef56a7" stroke-width="2.5"/><path d="M463 729h0m3 0h0m2-3h0m1 2h0m-14 7h0m0 0h0m1-3h0m2 0h0m0 2h0m1 0h0m0 0h0m1 1h0m0-2h0m1 1h0m0-1h0m0-4h0m0 4h0m1 1h0m0-1h0m0-2h0m0 2h0m0-3h0m1 2h0m0-1h0m1 4h0m0-1h0m1-5h0m0 1h0m0 4h0m0-2h0m1-2h0m0 3h0m0 0h0m1-1h0m1 0h0m0 2h0m0-3h0m1 4h0m0-2h0m0-1h0m0-3h0m2 5h0m0-2h0m1 1h0m2-2h0m-34 10h0m1 0h0m2-1h0m1-1h0m0-1h0m1 0h0m1 2h0m0 0h0m1-1h0m1 1h0m1 0h0m0-1h0m2-4h0m1 4h0m1-1h0m0 1h0m0-3h0m1 3h0m1-4h0m0 4h0m0 2h0m1-1h0m0-2h0m1 2h0m0-1h0m1 2h0m0-5h0m0 2h0m1 1h0m0 0h0m0-1h0m1 0h0m0 3h0m0-3h0m1 3h0m1-3h0m1 2h0m1 0h0m1-1h0m0-1h0m0-3h0m1 3h0m0-1h0m0 3h0m0 0h0m1-5h0m2 6h0m0-6h0m0 3h0m2 1h0m1 0h0m0 0h0m0 0h0m1-2h0m0 1h0m0 1h0m0 1h0m1-5h0m0 3h0m2 2h0m0 0h0m1-2h0m1 1h0m2-1h0m-45 6h0m1-1h0m1 0h0m1-1h0m0 0h0m1 2h0m0-1h0m0 2h0m1-1h0m1 1h0m0-3h0m1 1h0m0-2h0m1 1h0m2 3h0m0 1h0m0-3h0m1-2h0m0 1h0m1-1h0m0 3h0m1 0h0m2 0h0m0-1h0m0 0h0m0 4h0m0-1h0m1-4h0m0 2h0m1-2h0m0 2h0m1-3h0m0 5h0m0-4h0m1 3h0m0 0h0m0-3h0m0 1h0m0 1h0m0-2h0m1 5h0m0 0h0m1-3h0m0 3h0m1 0h0m1-5h0m0 1h0m0 2h0m1 0h0m1-4h0m1 2h0m0 1h0m0 2h0m0-4h0m0 2h0m1-1h0m0 1h0m0 1h0m0-1h0m0-3h0m2 3h0m0 1h0m0 0h0m1 1h0m0-2h0m0 0h0m1 0h0m1 2h0m3-1h0m1-1h0m0-2h0m2 2h0m0-3h0m1 0h0m0 1h0m0 3h0m0 1h0m0 0h0m1-3h0m0 3h0m0-1h0m2-3h0m1-1h0m2 5h0m1 0h0m0 0h0m0-2h0m1-2h0m0 5h0m0-4h0m4 1h0m-68 9h0m1-1h0m2-2h0m1 1h0m2-1h0m1 3h0m1-2h0m1-1h0m0 1h0m1 0h0m2 0h0m1-3h0m14 3h0m0 0h0m1-2h0m1 3h0m3-2h0m1-2h0m0 1h0m1 1h0m0-2h0m0 3h0m1-2h0m0-2h0m0 3h0m0 1h0m1-2h0m0 1h0m0 0h0m1 0h0m0 0h0m0 0h0m1-2h0m0 0h0m0 4h0m0-2h0m2-2h0m0 4h0m2-4h0m0 5h0m1-4h0m1-1h0m0 3h0m0-1h0m1 3h0m0-6h0m0 3h0m1-1h0m0 2h0m1-3h0m0 0h0m0 4h0m0 0h0m4 1h0m0-5h0m1 4h0m1 0h0m1-4h0m0-1h0m0 5h0m2-3h0m0-1h0m0 0h0m0 1h0m0 1h0m1-1h0m0 0h0m2 0h0m0 0h0m1 1h0m3 0h0m0 1h0m0-2h0m0 2h0m0-2h0m0 0h0m1 1h0m1-2h0m4 0h0m-75 8h0m2 1h0m1 2h0m0-2h0m0-1h0m3-2h0m1 1h0m0 0h0m0 3h0m2 1h0m3-1h0m0-5h0m0 2h0m1 0h0m0-1h0m1 0h0m0 0h0m2 3h0m1 0h0m0 2h0m1-3h0m1 1h0m2 1h0m1-2h0m0 2h0m2-1h0m3 2h0m1-4h0m1 3h0m0 0h0m1-3h0m0 4h0m1-1h0m1-2h0m0 0h0m0 2h0m0 0h0m0-2h0m1-1h0m1 1h0m0-3h0m0 4h0m1 1h0m0 0h0m1-3h0m0 2h0m0 2h0m0-6h0m0 3h0m0 0h0m1 3h0m0-2h0m0-2h0m0 2h0m1-1h0m0 2h0m0-1h0m0-1h0m0 3h0m1-1h0m0-4h0m0 1h0m0 1h0m0-3h0m0 3h0m1-1h0m2-2h0m0 3h0m1 1h0m0 1h0m1-5h0m0 2h0m0 3h0m1-3h0m2-1h0m0 3h0m1-1h0m0 0h0m2-1h0m0 0h0m0 1h0m2 2h0m0-4h0m0 2h0m1 2h0m0-4h0m1 0h0m0-1h0m0 1h0m0 1h0m1 0h0m0 1h0m0 2h0m1-5h0m0 3h0m0 0h0m0 2h0m1-4h0m0 3h0m0-1h0m0-2h0m1 1h0m0-2h0m0 3h0m2 0h0m2-2h0m-71 9h0m4-2h0m0 1h0m1-2h0m4 2h0m2 1h0m2-2h0m3 4h0m1-1h0m1-3h0m0 3h0m0-4h0m1 5h0m0-1h0m0-2h0m1 1h0m4 0h0m0-1h0m1-3h0m4 2h0m2-1h0m0 2h0m1 3h0m0-4h0m2 1h0m0 2h0m1-2h0m0 1h0m1-4h0m3 5h0m1-4h0m0 2h0m1-3h0m0 2h0m0-1h0m0 2h0m1 1h0m3-3h0m0 2h0m1 0h0m0 1h0m1-4h0m0 1h0m0-1h0m1 5h0m0-4h0m1 1h0m0 4h0m0-6h0m1 5h0m0-2h0m1 2h0m0-1h0m1-1h0m1 0h0m0-2h0m0 3h0m2-3h0m2 0h0m-71 7h0m2-1h0m2 3h0m2-1h0m2 1h0m1-1h0m1 0h0m2 1h0m5-4h0m9 3h0m3 0h0m8 0h0m0 2h0m2-1h0m3 0h0m1-1h0m0 3h0m1-1h0m1-2h0m0 0h0m0 2h0m2-2h0m2 1h0m2-4h0m0 4h0m0-2h0m1 4h0m0-1h0m2-5h0m1 3h0m0 1h0m1-3h0m1 0h0m1 2h0m1-1h0m2-1h0m0 0h0m1 0h0m0 0h0m-70 6h0m8 3h0m2 1h0m18-2h0m8-3h0m2 3h0m1-2h0m2 3h0m2-1h0m1-2h0m3 1h0m0-1h0m2 2h0m1-1h0m1 0h0m2 0h0m-48 9h0m1-4h0m1 1h0m4 0h0m0 1h0m13 2h0m-47 5h0m8 2h0m8-4h0m9 4h0m11-4h0m-44 8h0m1 1h0m17 4h0m0-1h0m5 4h0m0-5h0m2 3h0m-5 5h0m5-3h0m-28 12h0" stroke="#f65e9f" stroke-width="2.5"/><path d="M482 752h0m1 1h0m0-1h0m2 1h0m2-1h0m0-1h0m1 0h0m2-2h0m0 2h0m1 1h0m0 0h0m-23 6h0m3-1h0m1 0h0m1 1h0m1-1h0m0 1h0m1 0h0m2 1h0m1-5h0m0 4h0m3-4h0m0 1h0m1 0h0m2 1h0m0-3h0m0 2h0m0 2h0m1 0h0m0-4h0m0 6h0m1-5h0m1 1h0m1 3h0m0-2h0m1 2h0m0-4h0m1 3h0m0 0h0m0 0h0m1-1h0m1 3h0m1-3h0m1 3h0m-38 6h0m1 0h0m2-1h0m1 1h0m4-1h0m0-4h0m1 5h0m0-4h0m0 2h0m0 1h0m2-2h0m2 1h0m0-1h0m2-1h0m0-1h0m0 0h0m1 1h0m0 2h0m0-2h0m0 0h0m1 4h0m0-1h0m0-5h0m0 4h0m1-2h0m1-1h0m0-1h0m0 0h0m1 5h0m0-3h0m0 0h0m1 3h0m0-1h0m0 0h0m1 1h0m1 0h0m0-1h0m0 0h0m0-2h0m1-1h0m0 4h0m0 0h0m0 1h0m0-3h0m1 0h0m0 2h0m1 0h0m0-1h0m0 2h0m4-4h0m1 0h0m0-2h0m1 1h0m2 1h0m1-2h0m1 1h0m1 0h0m1 0h0m-47 9h0m1 0h0m0 2h0m1-3h0m1 2h0m0-3h0m0-1h0m0 1h0m2 0h0m0 0h0m1-1h0m1-1h0m1 2h0m0-1h0m1-1h0m0 1h0m1 0h0m0 0h0m0 4h0m0-3h0m1-1h0m1 2h0m0 3h0m1-5h0m1 1h0m1 3h0m2-3h0m1 0h0m1 2h0m0-3h0m0 0h0m0 4h0m1-1h0m1-1h0m0-2h0m0-1h0m1 4h0m0-3h0m1 3h0m1-2h0m0-1h0m1 0h0m0 3h0m1-1h0m0 0h0m0-2h0m0 2h0m1-2h0m0 0h0m2 1h0m0 3h0m0-3h0m1-1h0m0 0h0m0 4h0m1-1h0m0-2h0m0 0h0m1 2h0m0 1h0m0-2h0m0 1h0m1-2h0m0 1h0m1-3h0m0 5h0m0 0h0m1 1h0m0-4h0m0-1h0m2 1h0m0-2h0m2 2h0m1 1h0m0 2h0m1 0h0m3-1h0m0 0h0m0 2h0m1-4h0m1 1h0m1 3h0m0-2h0m-62 8h0m4-2h0m3-2h0m2-1h0m1 4h0m0-4h0m1 2h0m1 1h0m1 1h0m0-3h0m1 1h0m0-1h0m0 2h0m4-2h0m0 4h0m0-4h0m1 1h0m0 0h0m2-2h0m1 1h0m2-2h0m2 5h0m5-2h0m4-3h0m0 1h0m1 1h0m0 0h0m0 4h0m1-6h0m0 5h0m0-2h0m1 2h0m0-2h0m1 3h0m1 0h0m1-2h0m2 1h0m0-4h0m3 1h0m0 0h0m1 1h0m0 1h0m0-4h0m0 1h0m1 1h0m0 4h0m0-5h0m2 0h0m4 2h0m2 0h0m0-1h0m2 3h0m0 0h0m0 0h0m0-1h0m1 2h0m1-6h0m0 3h0m1 3h0m1-2h0m0-2h0m1 1h0m1 0h0m0-2h0m0 4h0m-61 6h0m1-3h0m10 3h0m2-4h0m2 4h0m3 0h0m1 0h0m0 0h0m0 1h0m2-6h0m0 0h0m1 2h0m1-2h0m0 6h0m0-3h0m1 0h0m0 2h0m1 0h0m0-2h0m1 3h0m0 0h0m1-2h0m1 1h0m0-1h0m0-1h0m1 1h0m1-2h0m1 1h0m0 1h0m1-2h0m0 2h0m0 1h0m0-2h0m2-1h0m0 2h0m1-3h0m0-1h0m0 1h0m1 1h0m0-1h0m0 3h0m1 0h0m1 0h0m0-4h0m0 2h0m1 0h0m0 2h0m0-3h0m0 5h0m1-5h0m2-1h0m0 5h0m1 0h0m0-3h0m1 1h0m0 3h0m0-5h0m0 5h0m2-4h0m0 3h0m0-1h0m1-1h0m0 1h0m1-3h0m3-1h0m0 3h0m0-1h0m3 2h0m1-4h0m1 4h0m0 0h0m1-3h0m0-1h0m0 0h0m0 2h0m2 1h0m0 0h0m2-2h0m0 2h0m2-2h0m-88 11h0m23-5h0m3 2h0m1 0h0m2 1h0m1-1h0m4-1h0m1 4h0m2-2h0m1 1h0m2-1h0m1 1h0m0-4h0m1 4h0m1 0h0m1-4h0m1 4h0m0-3h0m1 1h0m0 0h0m1 0h0m0 2h0m0-5h0m2 6h0m0-5h0m0 3h0m1-1h0m0 2h0m0-1h0m1-3h0m0 0h0m0 5h0m1-1h0m0 1h0m1-6h0m0 1h0m1-1h0m0 0h0m0 3h0m2 0h0m0-2h0m0 0h0m1 0h0m0 2h0m1-1h0m0-2h0m0 2h0m1-1h0m0 5h0m0-4h0m0 1h0m1-1h0m1-2h0m0 3h0m1-2h0m0-1h0m1 3h0m0-1h0m0-1h0m1 5h0m1-2h0m1-4h0m0 5h0m0 1h0m0-4h0m0-1h0m1 3h0m0-4h0m1 1h0m0 5h0m1-3h0m0-2h0m1 1h0m0 2h0m0-3h0m0 1h0m1 0h0m0 0h0m0 0h0m0 0h0m1-2h0m0 4h0m2-2h0m0-1h0m1 1h0m-89 9h0m26 0h0m5-4h0m4 1h0m1-1h0m4 2h0m6 1h0m1 0h0m0 1h0m2-2h0m0 2h0m1-1h0m0-1h0m0-3h0m1 2h0m1-1h0m1 2h0m1-2h0m0 4h0m2-5h0m0 4h0m2 0h0m0-2h0m1 2h0m3-2h0m1-1h0m2 0h0m0 1h0m1-1h0m0 1h0m1-1h0m0 1h0m1 0h0m0 3h0m1-5h0m0 3h0m1 1h0m0-3h0m1-1h0m0 0h0m1 0h0m0 2h0m3 0h0m1-1h0m2 1h0m1-1h0m0 0h0m-73 5h0m18 1h0m1 4h0m1-4h0m2 3h0m8 2h0m1-5h0m2 1h0m2 1h0m4-2h0m1 3h0m0-2h0m1 3h0m1-1h0m2 0h0m0-1h0m2 3h0m1 0h0m1-6h0m1 5h0m1-2h0m0 2h0m9-4h0m-82 5h0m28 3h0m4 2h0m3-3h0m4 2h0m2-1h0m4-1h0m2-2h0m4 1h0m1 0h0m10 0h0m3 0h0m0 0h0m6-1h0m-71 10h0m18-2h0m6 4h0m12-4h0m4 1h0m1 0h0m0 1h0m5-3h0m-78 10h0m5-2h0m14 1h0m1 2h0m3-1h0m0-1h0m10-3h0m20 4h0m0-4h0m7 1h0m8 2h0m5-2h0m-72 8h0m10 1h0m7-3h0m0 0h0m4 2h0m3-2h0m4 3h0m0-4h0m16 5h0m5-1h0m4-3h0m-51 10h0m13-3h0m11 2h0m7-4h0m1 0h0m7 1h0m-25 4h0m3 6h0m1-6h0m-20 8h0m13-1h0m-12 9h0" stroke="#fe6797" stroke-width="2.5"/><path d="M495 783h0m3-2h0m1-1h0m1 2h0m-20 7h0m1-1h0m0 0h0m1-1h0m1 1h0m1 1h0m1-2h0m1 1h0m1-1h0m1 1h0m0-3h0m0 3h0m0 0h0m1 0h0m1-1h0m1 0h0m0 0h0m1 1h0m0-2h0m1-1h0m1-1h0m0 0h0m0 0h0m1 5h0m2-1h0m0-3h0m0 1h0m1 1h0m0 0h0m0-4h0m0 0h0m1 6h0m0-2h0m1 0h0m0-4h0m1 1h0m2 5h0m-29 5h0m2 0h0m0-3h0m1-1h0m0 4h0m0-3h0m0 0h0m0 0h0m1 0h0m0 1h0m0 1h0m1 1h0m0-2h0m0 0h0m0 2h0m1 1h0m0-4h0m0 2h0m1-3h0m0 2h0m0-1h0m1 0h0m0-1h0m1 2h0m0 2h0m0-3h0m0 3h0m0-5h0m0 6h0m0-1h0m1-3h0m1 0h0m0 2h0m0-1h0m1 2h0m0 0h0m1-2h0m1-2h0m1 2h0m0 0h0m0-2h0m1 4h0m0 1h0m0-1h0m1-4h0m0 2h0m1 0h0m1 2h0m0 1h0m0-3h0m0 3h0m1-2h0m1-4h0m0 5h0m0 1h0m1-1h0m0-1h0m1 0h0m0-2h0m0-1h0m1 3h0m1-1h0m0-2h0m1 4h0m0-2h0m1-2h0m0 0h0m0 4h0m1 0h0m1-2h0m1-1h0m1 1h0m-48 8h0m2 0h0m1-1h0m2-1h0m1-1h0m1 3h0m0-2h0m2-1h0m0 3h0m1-3h0m0 1h0m1 0h0m1 2h0m0 0h0m1-2h0m1-3h0m0 5h0m2 1h0m0-2h0m0 2h0m1-3h0m3 3h0m0-1h0m1-1h0m1-3h0m0 2h0m1 2h0m0-4h0m1 1h0m0-2h0m1 1h0m0 3h0m1 1h0m0-4h0m0 0h0m1 2h0m2-3h0m0 1h0m0 0h0m2 3h0m1 1h0m0-3h0m0 1h0m1 1h0m0-3h0m0 1h0m1-1h0m0 5h0m0-3h0m0-1h0m0 4h0m0-1h0m1 0h0m0-1h0m0 0h0m0-1h0m1 0h0m0-1h0m0 3h0m1 1h0m0-4h0m0 1h0m0 0h0m1-3h0m1 2h0m0 3h0m1 0h0m0-5h0m0 2h0m1 2h0m1-1h0m0 0h0m0 2h0m0-1h0m0-3h0m1 2h0m1 1h0m2 0h0m1-1h0m-60 9h0m2-2h0m1 0h0m3-2h0m6-1h0m1 4h0m1-4h0m0 5h0m1-4h0m1-2h0m0 5h0m2 0h0m0-1h0m0 0h0m1-1h0m1 1h0m2 1h0m1-1h0m0 0h0m0 0h0m0-3h0m1 3h0m0-1h0m2-1h0m0 2h0m1 1h0m0-4h0m0 4h0m1 0h0m0 0h0m0 0h0m1-3h0m0 2h0m1-2h0m0-2h0m0 1h0m1 2h0m0-1h0m0 3h0m0-3h0m1 4h0m1-5h0m0 5h0m0-2h0m0 0h0m0 0h0m1 1h0m0-1h0m0 0h0m0-1h0m0 2h0m1-4h0m1 0h0m2 1h0m0-2h0m1 2h0m0 3h0m1-4h0m0 0h0m1 3h0m0-3h0m0 5h0m0-5h0m2 3h0m0-1h0m0-2h0m1 4h0m0 1h0m0-5h0m0 5h0m3-1h0m0-3h0m0-1h0m0 3h0m1-3h0m0 0h0m1 4h0m1-4h0m0 5h0m0-5h0m1-1h0m2 0h0m0 5h0m0-4h0m0 0h0m1-1h0m0 2h0m0 3h0m0-2h0m0 2h0m0-4h0m1 3h0m0 1h0m1-3h0m1 1h0m1 3h0m1-1h0m0 0h0m1-1h0m6 2h0m0-6h0m1 5h0m0-3h0m0 0h0m1 2h0m0 1h0m-69 5h0m0-1h0m4 2h0m6-2h0m3-3h0m1 5h0m1-4h0m5 3h0m0-3h0m0-1h0m1 1h0m0 2h0m1-2h0m1 0h0m2-1h0m7 3h0m2 2h0m0 0h0m1 0h0m0 0h0m0-5h0m0 0h0m1 3h0m0-2h0m0 1h0m1 0h0m1-1h0m0 3h0m0-1h0m1 2h0m0-2h0m0-1h0m1 2h0m0-1h0m0 0h0m0-1h0m0 2h0m0 2h0m1-3h0m0-1h0m0 0h0m1 2h0m0 1h0m0-1h0m0-1h0m0-1h0m1-1h0m0 2h0m0 1h0m1 2h0m0-3h0m0 1h0m0-3h0m1 1h0m0 0h0m0 1h0m0 1h0m1 1h0m0-1h0m0-1h0m1-3h0m0 2h0m0 3h0m0-1h0m1-4h0m1 4h0m0-1h0m1-1h0m1 2h0m3 0h0m0-1h0m1-2h0m0 1h0m0 1h0m0 2h0m1-4h0m0 1h0m1-1h0m1 2h0m0-3h0m0 5h0m0-3h0m1-1h0m0 2h0m3-1h0m1 1h0m0 0h0m4-2h0m-92 11h0m0 0h0m12 0h0m8-2h0m0 1h0m1 0h0m0-2h0m2-3h0m9 3h0m1 3h0m3-3h0m1 2h0m1-2h0m1-3h0m10 3h0m0 2h0m2 0h0m1-3h0m1-1h0m0 4h0m0 0h0m1 0h0m2-1h0m3-3h0m1-1h0m0 0h0m3 3h0m0 0h0m1 2h0m1-5h0m0 6h0m0-1h0m1-1h0m0-1h0m1-2h0m0-1h0m1 2h0m1-1h0m0 2h0m1-1h0m0 0h0m0 2h0m0-2h0m1-1h0m0 3h0m0-3h0m0 4h0m1-1h0m0-2h0m0 0h0m0 2h0m1 0h0m0-3h0m1 1h0m0-1h0m0 2h0m1-2h0m1 1h0m0-2h0m0 2h0m1 1h0m1 0h0m2-3h0m-92 9h0m2 1h0m8 1h0m2 0h0m12-4h0m20 3h0m3-1h0m10 1h0m0 0h0m2-1h0m1 0h0m0 0h0m1 2h0m0-1h0m1-2h0m1-2h0m0 1h0m1 3h0m0-1h0m1-1h0m0-1h0m0 1h0m1-2h0m0 6h0m0-1h0m0 0h0m2-2h0m0-2h0m0 5h0m1-2h0m0-3h0m1 2h0m0 1h0m1 0h0m3-4h0m1 2h0m0 1h0m1-1h0m1 2h0m1-2h0m0-2h0m0 2h0m2-1h0m3 0h0m1-1h0m-93 7h0m11 0h0m2 3h0m1 1h0m3 0h0m17-2h0m0 0h0m2-1h0m0-1h0m3 0h0m0 0h0m1 2h0m2-2h0m2 1h0m9 2h0m6-3h0m0 0h0m1 1h0m0 1h0m3-2h0m1 3h0m0 2h0m3-4h0m0-1h0m0 1h0m1 3h0m1-5h0m0 6h0m1-2h0m1 0h0m0-3h0m0 2h0m0-3h0m0 2h0m1 4h0m1-4h0m1 3h0m1-4h0m0 3h0m2-1h0m1-1h0m0-1h0m0 1h0m1 0h0m0 0h0m2 0h0m-95 9h0m14 0h0m4-3h0m12 0h0m2 3h0m1-2h0m10 2h0m9-2h0m12 1h0m1-3h0m1 0h0m1 1h0m0 0h0m0-1h0m1 3h0m2-2h0m5 3h0m2-3h0m2-1h0m1 2h0m0-2h0m6 0h0m2-1h0m-59 7h0m14 5h0m2-4h0m1 1h0m1-2h0m9 1h0m9 1h0m3 3h0m1-4h0m-76 6h0m11 4h0m8-1h0m2 1h0m2-5h0m16 1h0m2 1h0m6 0h0m4-1h0m4 1h0m16-2h0m3-1h0m-80 9h0m15-3h0m15 5h0m12-3h0m5 0h0m5-1h0m1 2h0m2 1h0m4-4h0m-75 8h0m19 0h0m3 0h0m10 1h0m11 3h0m-49 3h0m2 0h0m25 3h0m13-3h0m4 2h0m9-3h0m4 4h0m3-1h0m-51 2h0m2 3h0m10-1h0m34 1h0m-48 2h0m0 6h0m12-2h0m1 1h0m4-4h0m-16 5h0m27 4h0" stroke="#ff708d" stroke-width="2.5"/><path d="M507 810h0m2 1h0m4-3h0m-19 10h0m5 1h0m1 0h0m0-3h0m1-2h0m0 1h0m1 0h0m0 3h0m1 0h0m1-3h0m0-1h0m1 2h0m0 1h0m0 1h0m1-4h0m0 3h0m0 1h0m1-1h0m0-1h0m1-1h0m0-1h0m3 0h0m3 4h0m1-3h0m0 2h0m1 1h0m1 0h0m-30 5h0m0-1h0m2-1h0m0 0h0m1 3h0m1 0h0m0-4h0m0 4h0m2-3h0m0 2h0m4 0h0m2-4h0m1 4h0m0-3h0m1 0h0m0 0h0m1 0h0m0 0h0m3-1h0m0 1h0m0 1h0m0 3h0m1-4h0m4 0h0m4 1h0m1-1h0m-40 10h0m1-1h0m0 2h0m1-3h0m1 3h0m0-4h0m2 3h0m0 1h0m0-5h0m1 5h0m0-3h0m0 1h0m1-2h0m1 0h0m3 0h0m0 2h0m0 1h0m0 0h0m2-1h0m0 0h0m1-2h0m1 2h0m0-4h0m0 2h0m0 1h0m1-1h0m0-1h0m0-1h0m1 3h0m0 0h0m1 2h0m0-5h0m1 5h0m1-3h0m2 3h0m0-1h0m1 1h0m2-4h0m4 3h0m2 0h0m0 0h0m4 0h0m1-3h0m3 2h0m8 2h0m-55 5h0m1 1h0m2-3h0m2 3h0m2-3h0m0-1h0m1-1h0m1 0h0m0 4h0m1 1h0m1-5h0m3 3h0m1-3h0m0 3h0m2-1h0m0 0h0m0-1h0m0-1h0m0 0h0m2 1h0m2 0h0m0-1h0m2 4h0m1-1h0m1 1h0m0-3h0m1 1h0m0-2h0m0 1h0m0-1h0m1 4h0m0 1h0m0 0h0m1-1h0m1-4h0m0 2h0m1-2h0m0 4h0m0-2h0m1 0h0m0 1h0m0-1h0m0 3h0m0-1h0m0 0h0m1 2h0m0 0h0m0-4h0m0 0h0m0-2h0m1 5h0m0 0h0m2-4h0m0 1h0m1 3h0m2-1h0m7-3h0m0 3h0m1-4h0m0 2h0m1 4h0m1-4h0m0 1h0m0 3h0m1-3h0m0-1h0m1 0h0m0 0h0m0 0h0m1-1h0m4 1h0m0-2h0m1 3h0m0-2h0m1 1h0m1 1h0m0-3h0m1 2h0m-70 10h0m0 0h0m2-2h0m3 0h0m0 1h0m5-3h0m1-1h0m0 4h0m0 0h0m3 0h0m0 1h0m2-1h0m0-4h0m0 0h0m0 1h0m1-1h0m1-1h0m0 2h0m1 2h0m0 0h0m3 0h0m1 0h0m0 2h0m1-3h0m1 2h0m0 1h0m0-6h0m1 4h0m1-3h0m1 3h0m1 0h0m0-3h0m1 3h0m2-4h0m6 0h0m1 5h0m1-5h0m0 4h0m3-2h0m1 2h0m3-1h0m1 0h0m0-1h0m0 4h0m2-4h0m5 2h0m1-1h0m4 0h0m0-1h0m2 3h0m0-1h0m2-2h0m0 1h0m1 0h0m0-2h0m3-1h0m-81 12h0m1-1h0m4-2h0m6 0h0m4-3h0m1 4h0m2-4h0m0 5h0m2-1h0m1-2h0m0-1h0m1 0h0m0 4h0m1-1h0m1 2h0m0-4h0m0-1h0m2 1h0m2 3h0m1-5h0m1 4h0m0-1h0m2 2h0m1-3h0m0 0h0m1 2h0m1-4h0m1 5h0m1-1h0m2 1h0m0-2h0m1-3h0m1 5h0m1-2h0m0-2h0m2 0h0m3 3h0m6-1h0m1 2h0m0-1h0m1 0h0m0-3h0m1 3h0m0-3h0m1 1h0m0 1h0m0-2h0m0 0h0m1 0h0m1 1h0m3-2h0m10 1h0m0-1h0m0 1h0m-73 5h0m9 2h0m1-1h0m2 1h0m3 1h0m2-2h0m2 3h0m2-2h0m1 2h0m0 1h0m6-2h0m0 1h0m1 0h0m0 0h0m2 1h0m1-3h0m1-2h0m3 3h0m0-1h0m0-2h0m2 2h0m1 0h0m0 3h0m1-1h0m1 1h0m2-2h0m0 2h0m1-1h0m3 0h0m2-3h0m1 3h0m0 0h0m1-2h0m1 3h0m0-2h0m0-2h0m1 4h0m1-1h0m0-4h0m0 2h0m1-1h0m0 0h0m2 3h0m0-2h0m0-1h0m0 0h0m2 0h0m0 1h0m-71 9h0m0-2h0m8-2h0m1 2h0m2 0h0m1 1h0m0 0h0m10-3h0m3 2h0m1 1h0m0-3h0m3 0h0m0 3h0m3-4h0m1 5h0m2-4h0m2 5h0m2-2h0m0-3h0m1 1h0m1-1h0m1 2h0m1 3h0m1-6h0m3 1h0m5 1h0m0 3h0m1-1h0m1-4h0m0 5h0m0-3h0m1 1h0m2 3h0m-70 4h0m3-3h0m29 1h0m1-2h0m6 2h0m10 0h0m0 0h0m3 2h0m1-4h0m1 6h0m2-6h0m2 1h0m1-1h0m3 3h0m-64 9h0m9-1h0m22-3h0m3 4h0m2-6h0m1 2h0m8 0h0m6-2h0m2 2h0m2-1h0m4-1h0m2 1h0m-71 11h0m16-6h0m2 0h0m5 6h0m1-3h0m1 3h0m4 0h0m22-1h0m7-5h0m-70 9h0m26 2h0m5 0h0m2-2h0m17-2h0m4 1h0m2 3h0m-63 3h0m2 3h0m12-2h0m13 1h0m0-1h0m-21 9h0m18-3h0m4 0h0m4-3h0m-16 12h0m19-4h0m-14 6h0m2 2h0" stroke="#ff7983" stroke-width="2.5"/><path d="M521 842h0m0-1h0m2 0h0m0 0h0m0 1h0m1-1h0m0 0h0m0 1h0m2-1h0m0 1h0m1 0h0m3-2h0m0 1h0m1 2h0m-18 5h0m1 0h0m0-1h0m0-1h0m1-1h0m0 0h0m2 2h0m0-3h0m0 2h0m0 2h0m1-2h0m0-3h0m0 4h0m1-1h0m0-1h0m0 2h0m0 0h0m1 1h0m0-1h0m1-3h0m0 1h0m1 1h0m0-3h0m0 3h0m1 1h0m0-2h0m1 4h0m0-5h0m0 2h0m0-1h0m1 1h0m0 0h0m2 3h0m0-3h0m1 2h0m1 0h0m0-1h0m0-1h0m1-1h0m1 2h0m1-3h0m1 0h0m0 0h0m2 2h0m-27 6h0m0 1h0m0-2h0m0 4h0m0-5h0m1 2h0m0 1h0m0-3h0m1 3h0m0-1h0m0-1h0m0 2h0m0-2h0m1 1h0m0-1h0m0-1h0m0 2h0m0 0h0m1 1h0m0 0h0m2 0h0m0 1h0m0-4h0m0 4h0m1-4h0m0 3h0m2 0h0m0 0h0m1-3h0m1 3h0m1-1h0m0-2h0m1 2h0m0 2h0m2-2h0m0-2h0m3 2h0m0 0h0m1 1h0m0 0h0m0-2h0m1 1h0m0-2h0m0 5h0m1-2h0m1 0h0m0 0h0m1-3h0m0 1h0m0-2h0m0 5h0m1 0h0m0-4h0m1 4h0m-40 5h0m2 2h0m0-3h0m1 3h0m2-4h0m0 4h0m0-4h0m1 4h0m0 0h0m0-3h0m0 0h0m1-1h0m0 4h0m1-5h0m0 3h0m1 0h0m0 1h0m0 0h0m2-1h0m0 1h0m0-2h0m1 1h0m0-3h0m1 2h0m0-1h0m1 2h0m0-3h0m1 5h0m0-3h0m0 2h0m1 0h0m1 1h0m2 0h0m0-1h0m2-3h0m0 4h0m1-2h0m0-2h0m0-1h0m0-1h0m1 6h0m1-4h0m0 4h0m0-6h0m1 0h0m0 1h0m0 2h0m0 1h0m0-3h0m6 4h0m2-4h0m1 5h0m0-2h0m1-1h0m0-2h0m2-1h0m1 4h0m0-2h0m1-1h0m1 0h0m0 0h0m0 0h0m1 0h0m0-1h0m1 3h0m0 0h0m1-2h0m3 3h0m0 1h0m-54 4h0m2 2h0m1 1h0m1-1h0m2-2h0m4 0h0m1-3h0m0 4h0m0 0h0m1-3h0m1 0h0m0-1h0m0 4h0m1-1h0m1 3h0m0-4h0m1 0h0m0 3h0m1-1h0m1-1h0m2 2h0m0-2h0m0 0h0m1-1h0m0 2h0m1 0h0m0-1h0m1-3h0m0 4h0m1 2h0m1-5h0m0 1h0m1 4h0m1-2h0m1-1h0m0 0h0m0 2h0m0-4h0m0 2h0m0-1h0m1 0h0m0 3h0m2-4h0m3 4h0m2-3h0m2 3h0m0 0h0m0-5h0m1 5h0m0-4h0m0 2h0m1-1h0m0 4h0m1-1h0m0 0h0m0 1h0m0-1h0m1 1h0m0-5h0m0 0h0m0 0h0m0-1h0m1 1h0m1 0h0m2 1h0m1-2h0m-59 11h0m3 0h0m1-3h0m0-1h0m6 0h0m0 4h0m3 0h0m1-5h0m2 5h0m3-5h0m2 5h0m1-4h0m2 2h0m1-1h0m0 1h0m1-1h0m2-1h0m1 2h0m0 1h0m0-3h0m0 4h0m2 0h0m0-4h0m0-1h0m1 5h0m0-5h0m1 1h0m1-1h0m0 4h0m0-3h0m1 2h0m1 1h0m0-2h0m0 1h0m0 1h0m0 0h0m0 1h0m1-4h0m0 2h0m0 2h0m1-2h0m0 1h0m0 1h0m0-2h0m1 2h0m0-3h0m0 3h0m5-1h0m0-2h0m1 3h0m2-1h0m0-2h0m1-1h0m3-1h0m1 0h0m0 0h0m0 1h0m0 0h0m1 1h0m1-2h0m-61 12h0m2-4h0m2 2h0m1 0h0m1-1h0m6 1h0m1 1h0m0 0h0m2 0h0m2-4h0m0 0h0m1 0h0m3 1h0m3 2h0m2-4h0m1 0h0m2 3h0m1 2h0m1-5h0m1 5h0m0-4h0m0 3h0m1-3h0m2 1h0m0 3h0m0-5h0m1 5h0m0-1h0m0-3h0m1 3h0m1-4h0m0 4h0m1-2h0m0-1h0m1 2h0m0 1h0m0 1h0m1 0h0m0-4h0m0 0h0m1 4h0m0-4h0m2 0h0m1 1h0m0 3h0m1 0h0m1-5h0m1 2h0m0 1h0m1 0h0m1-2h0m-59 10h0m8 1h0m1-5h0m0 4h0m2-2h0m2 0h0m1-1h0m8 3h0m0 1h0m1-5h0m1-1h0m0 4h0m6 2h0m2-2h0m1-3h0m1 4h0m2 0h0m2-3h0m0-1h0m4 0h0m1 0h0m1 4h0m0-1h0m0 0h0m1 1h0m2-1h0m3-2h0m0-1h0m-51 9h0m5 0h0m0 0h0m0 1h0m1-1h0m2-2h0m0 2h0m2 1h0m2 0h0m4-1h0m5 1h0m1-2h0m2-1h0m0 2h0m2 1h0m0-3h0m3 0h0m0 2h0m1 1h0m0-3h0m1 4h0m2-5h0m1 2h0m0-2h0m3 1h0m-50 6h0m1 0h0m3 3h0m10-4h0m5-1h0m3 2h0m1 2h0m17 1h0m2-2h0m0 0h0m-54 9h0m6-6h0m16 3h0m7 2h0m7-3h0m1 4h0m4-5h0m-35 6h0m25-1h0m-40 6h0m24 2h0m4 4h0m6-3h0m-20 5h0m4 0h0m2-1h0m1-1h0" stroke="#ff8579" stroke-width="2.5"/><path d="M535 865h0m1-1h0m3-1h0m0 0h0m1 3h0m0-3h0m1 0h0m0-2h0m1 4h0m-19 8h0m0-1h0m1-1h0m1-1h0m0 2h0m1-2h0m1 2h0m0-2h0m1 0h0m0 1h0m0 1h0m0 1h0m2-4h0m0 1h0m0-1h0m8-1h0m0 2h0m1-1h0m2 1h0m0-2h0m0 1h0m3 1h0m-29 6h0m2 1h0m0 0h0m0 1h0m4-3h0m0-1h0m0 2h0m1 3h0m1-5h0m1 0h0m2 0h0m4 5h0m1-5h0m1 4h0m1-4h0m0 0h0m0 5h0m0-4h0m2 0h0m0-1h0m0 3h0m0-1h0m1 2h0m0-4h0m0 0h0m0 1h0m0 4h0m1-1h0m1 0h0m0-5h0m0 0h0m0 3h0m1-3h0m0 5h0m1 0h0m0-4h0m2 3h0m1 0h0m0 2h0m0-5h0m-35 7h0m0 0h0m3 0h0m1 1h0m0 2h0m1-4h0m0 1h0m0 0h0m0-1h0m1 2h0m0 0h0m0-1h0m0 3h0m1 0h0m0-3h0m0 3h0m0-1h0m1 0h0m0 2h0m1-4h0m0 1h0m0-2h0m1 2h0m0 3h0m0-4h0m1 1h0m1 1h0m0 0h0m1 2h0m0-1h0m0 0h0m1 0h0m0-1h0m2 1h0m1 0h0m1-1h0m1-2h0m0 4h0m0-4h0m1 2h0m0 0h0m1-1h0m0 0h0m0 1h0m0 0h0m1 0h0m0 2h0m1-2h0m0 1h0m0-1h0m0-2h0m0 3h0m1-1h0m0 1h0m0-5h0m3 3h0m0 3h0m1-1h0m0-2h0m0-1h0m0 4h0m2-1h0m0-4h0m0 1h0m0 0h0m0 0h0m1 0h0m1 2h0m0-2h0m0-2h0m1 5h0m0-4h0m0 4h0m1-1h0m1-1h0m1 2h0m1-4h0m-49 9h0m2-1h0m2 3h0m0-5h0m1-1h0m1 2h0m1 0h0m1 0h0m0 1h0m0 0h0m3-3h0m2 3h0m0-2h0m1 1h0m1-2h0m0 1h0m0 2h0m1-3h0m1 5h0m0-1h0m0 0h0m0-3h0m1-1h0m0 3h0m0-2h0m0 3h0m1-1h0m0-2h0m1 1h0m0 2h0m0-3h0m2 0h0m1 5h0m0-4h0m0 3h0m1-4h0m1-1h0m1 1h0m2 0h0m0 4h0m1-3h0m1 1h0m1 2h0m0-2h0m1 1h0m0-1h0m1 1h0m1-3h0m0-1h0m2 2h0m2 2h0m0 1h0m1-4h0m0 4h0m2-3h0m0 3h0m0-4h0m0 1h0m0 3h0m0-2h0m2 1h0m0-3h0m1 3h0m1 1h0m1 0h0m0 1h0m-57 5h0m2 0h0m4-2h0m2-2h0m1-1h0m3 3h0m1-1h0m0 0h0m1 4h0m2-1h0m2-1h0m1 2h0m1-2h0m0-2h0m1 1h0m0 0h0m0 2h0m3-3h0m1 3h0m3-4h0m1 2h0m1-3h0m1 0h0m1 5h0m1-1h0m1-1h0m0-1h0m0 4h0m0-4h0m0 3h0m1 0h0m2 0h0m0-1h0m3 1h0m0 0h0m1-4h0m0 4h0m1-4h0m1 5h0m0-6h0m2 6h0m3-5h0m0 1h0m1 0h0m1 0h0m0 1h0m0-3h0m1 3h0m1-1h0m1-1h0m1-1h0m0 1h0m-62 10h0m13-5h0m0 1h0m0 0h0m3 1h0m6-1h0m0 3h0m0-1h0m2-3h0m2 3h0m0-2h0m0 0h0m0 1h0m2-1h0m0 2h0m1-3h0m0 6h0m0-1h0m2-3h0m0-1h0m1 0h0m1-1h0m0 2h0m0-1h0m0 1h0m2-1h0m1 0h0m1 2h0m0 1h0m0-3h0m3 2h0m1-1h0m2-1h0m2 2h0m0 2h0m0-2h0m1 1h0m0 0h0m1-1h0m0-2h0m0 0h0m0-1h0m1 3h0m0-1h0m1 1h0m0-2h0m1 1h0m1 1h0m-38 3h0m3 1h0m3 3h0m0-3h0m0 4h0m1-2h0m3-2h0m10-1h0m2 2h0m1 2h0m1 1h0m0-3h0m3 2h0m0-1h0m-53 5h0m16 3h0m0-3h0m0 1h0m1 0h0m3-3h0m1 2h0m1 0h0m2 4h0m2-2h0m1 0h0m4-1h0m0-2h0m2 1h0m2 0h0m0 3h0m5 0h0m1 0h0m0 0h0m1 0h0m0-1h0m3-3h0m-56 6h0m30 4h0m4 0h0m5-3h0m5-1h0m6 0h0m-49 8h0m4 1h0m17-2h0m7 4h0m-26 3h0m1 1h0m2-4h0m1 2h0m12-1h0m4 3h0m2-2h0m4 0h0m-16 6h0m0 2h0m1-1h0" stroke="#ff926f" stroke-width="2.5"/><path d="M544 891h0m2-1h0m-12 7h0m1-1h0m2-1h0m0 2h0m0-2h0m0-1h0m2 3h0m0-2h0m0-1h0m1 3h0m0-1h0m2-2h0m0 0h0m0 2h0m0 0h0m1-3h0m1-1h0m0 2h0m1 2h0m0-3h0m2-2h0m0 1h0m0-1h0m1 2h0m-22 9h0m2-1h0m0 0h0m3-3h0m1 4h0m2-4h0m0 2h0m0 2h0m1-1h0m1 0h0m1-4h0m1 0h0m1 6h0m0-3h0m2-1h0m0 4h0m1-4h0m0 1h0m0-1h0m0 1h0m0-1h0m1-1h0m0 0h0m1 4h0m0-1h0m1 1h0m0-4h0m0 0h0m0 3h0m0-1h0m0-2h0m1 3h0m0-2h0m0 1h0m2 0h0m0 3h0m0 0h0m1-5h0m0 3h0m3-1h0m0 1h0m-36 7h0m1 0h0m1 0h0m0 0h0m1 0h0m3-2h0m1 3h0m1-1h0m0-2h0m2 1h0m1 2h0m1-3h0m0 2h0m0-5h0m3 6h0m0-2h0m1-3h0m0 4h0m2 1h0m0-1h0m0 0h0m1-3h0m0-2h0m1 4h0m0-1h0m1-1h0m1 2h0m0 1h0m1-3h0m0-1h0m0 3h0m1-2h0m0 3h0m0 0h0m0-2h0m1 2h0m1-1h0m0-2h0m0 1h0m0 2h0m1-3h0m2-2h0m0 4h0m0-3h0m1-1h0m0 1h0m1 4h0m1-4h0m0 3h0m0-2h0m0 0h0m0 0h0m1 4h0m0-3h0m1-2h0m0 2h0m1 1h0m0 1h0m1-5h0m1 5h0m0 0h0m1-1h0m1-1h0m3 1h0m1 2h0m2-1h0m-49 6h0m1-3h0m0 0h0m1 1h0m1 0h0m1 0h0m0 2h0m0 1h0m1-1h0m0-2h0m1-2h0m0-1h0m1 0h0m1 6h0m0 0h0m1-2h0m0-2h0m3 1h0m1 1h0m0-2h0m1 1h0m1-3h0m0 3h0m3 0h0m1-1h0m0-1h0m0 3h0m1 0h0m0-1h0m0 3h0m1-1h0m0-4h0m0 5h0m1-4h0m1-1h0m0 0h0m2 0h0m10 2h0m0 0h0m1-2h0m0 2h0m1-2h0m2 0h0m0-1h0m1 1h0m0 4h0m0 0h0m2 1h0m0-5h0m1 5h0m0 0h0m0-1h0m0-3h0m1 2h0m0 1h0m1-2h0m0-2h0m1 0h0m2 1h0m2-2h0m-61 11h0m2-4h0m1 1h0m0-2h0m2 5h0m1-3h0m0-1h0m2 0h0m0 5h0m1-5h0m0 4h0m1-5h0m1 4h0m2-4h0m1 5h0m0-3h0m0 0h0m1 3h0m0-2h0m1-2h0m0 1h0m0 1h0m1-2h0m0 4h0m0-5h0m2 2h0m0 0h0m0-2h0m1 5h0m0-3h0m1 2h0m2 1h0m0 0h0m0-3h0m2 2h0m1-3h0m1 0h0m1 2h0m0 0h0m1 0h0m1-3h0m0 3h0m0-2h0m1 1h0m0 3h0m1-2h0m0 0h0m0 3h0m0-1h0m0-1h0m1-1h0m0 2h0m1-1h0m0-2h0m0-2h0m1 4h0m0 0h0m0 2h0m0 0h0m0-2h0m1 0h0m0 0h0m1 2h0m6-1h0m3-4h0m3 0h0m2 1h0m0-1h0m1 0h0m0 0h0m0-1h0m2 0h0m-59 12h0m8-1h0m7 1h0m1-4h0m0-2h0m2 3h0m1-3h0m1 2h0m1 0h0m0-1h0m0 2h0m1-1h0m1 0h0m0-1h0m1 3h0m1 2h0m3-1h0m1 0h0m0-4h0m1 3h0m0 0h0m0 0h0m1-2h0m0 0h0m0 1h0m1 0h0m0 0h0m1 3h0m1-3h0m1 2h0m0-3h0m1 1h0m0-3h0m1 1h0m1-1h0m1 2h0m0-1h0m1 3h0m0-1h0m0-2h0m1 0h0m0-1h0m0 1h0m0 0h0m0 3h0m2-3h0m1 0h0m0-1h0m2 1h0m0-1h0m0 1h0m-63 10h0m5-3h0m2-1h0m3 3h0m1 0h0m1-3h0m8 5h0m3-5h0m1 1h0m6 2h0m3-3h0m10 0h0m3 0h0m1 0h0m1 3h0m0-4h0m1 5h0m0-2h0m1-1h0m0 1h0m0 1h0m1 0h0m1-3h0m0 2h0m1-1h0m-51 10h0m4-2h0m3-3h0m1 4h0m0-1h0m1 1h0m5 0h0m1-3h0m4 0h0m8 1h0m0 3h0m1-3h0m2-1h0m1 1h0m2-1h0m0 3h0m1-4h0m2 5h0m-52 2h0m8-1h0m1 5h0m2-4h0m2 0h0m2 3h0m7-3h0m5 0h0m4 4h0m9-2h0m1-2h0m3 3h0m1-2h0m2-3h0m-53 7h0m17 4h0m0-3h0m4 1h0m10-2h0m2 4h0m-25 5h0m2-2h0m3-1h0m5 5h0m4-4h0m1 4h0m1-3h0m2 1h0m6-1h0m3-2h0m-15 11h0m2-3h0" stroke="#ff9e64" stroke-width="2.5"/><path d="M557 915h0m2 0h0m3-3h0m0 2h0m3 0h0m0-1h0m-16 7h0m2-2h0m0 3h0m1-4h0m0 1h0m1 0h0m1-2h0m1 0h0m0 4h0m0-2h0m1-2h0m0 1h0m0-1h0m1 4h0m0-1h0m1-3h0m0 3h0m2 2h0m3-2h0m2-3h0m2 3h0m0-3h0m1 0h0m3 5h0m0-1h0m-31 6h0m0-1h0m1 0h0m1 1h0m0 0h0m1-1h0m0 0h0m0-1h0m1 2h0m0-2h0m0-1h0m0 1h0m5 1h0m2-1h0m3-2h0m0-1h0m0 4h0m0-3h0m0-1h0m1 1h0m0 0h0m0 5h0m1-3h0m0-2h0m1 3h0m0 1h0m0-3h0m0 3h0m0-2h0m0 2h0m2-3h0m0 3h0m0 0h0m1-3h0m0 4h0m0-5h0m0-1h0m1 0h0m0 2h0m0 4h0m2-2h0m0-3h0m0 1h0m0 0h0m0 0h0m1 2h0m2 1h0m0 1h0m3 0h0m0-2h0m3-1h0m-44 9h0m3-1h0m1-2h0m1 0h0m0 0h0m1 2h0m1-1h0m0-1h0m0-1h0m1 3h0m1-5h0m1 1h0m0 3h0m1 2h0m0 0h0m2-1h0m0-5h0m0 0h0m1 4h0m0-2h0m3-1h0m2 3h0m1 1h0m1-2h0m0 0h0m1-1h0m0 4h0m0-1h0m1-5h0m0 1h0m0 4h0m1 1h0m0-2h0m0 0h0m0-2h0m0 2h0m1 0h0m0 1h0m0-4h0m1-1h0m0 4h0m1-3h0m0 5h0m0-6h0m1 3h0m0 0h0m0 1h0m0-1h0m1 2h0m0-1h0m0 2h0m0-2h0m1-2h0m0-1h0m1 0h0m0 0h0m0 1h0m0 0h0m0-1h0m1 4h0m0-5h0m0 4h0m0-1h0m2 0h0m1-1h0m0-2h0m0 1h0m0 0h0m1 3h0m0-4h0m1 1h0m0 3h0m0 0h0m0-2h0m0 1h0m0-2h0m0 1h0m0-2h0m1 2h0m0 0h0m1 1h0m0 2h0m0-4h0m0 5h0m2-3h0m0 1h0m3 2h0m0-5h0m2 3h0m-54 7h0m2 0h0m3-2h0m0 2h0m1-4h0m1 0h0m1 4h0m0 0h0m0-3h0m1 3h0m0-5h0m1 3h0m1-3h0m0 2h0m1 0h0m1 3h0m0-4h0m0 2h0m2 2h0m0-1h0m0-3h0m0-1h0m1 2h0m0 3h0m1-3h0m0-1h0m1-1h0m3 0h0m2 0h0m1 2h0m0 2h0m0 0h0m1-3h0m1 0h0m1-1h0m0 3h0m1 2h0m0-3h0m1 2h0m0 1h0m1-4h0m0-1h0m1 2h0m0 1h0m0-2h0m0 1h0m0-2h0m0 5h0m1 0h0m0 1h0m0-3h0m0 0h0m0 1h0m1 0h0m0 1h0m1 0h0m0-3h0m0 3h0m0-4h0m1 0h0m0 4h0m0-4h0m1 0h0m0 2h0m0-1h0m2-1h0m1 3h0m0 0h0m0-1h0m1 1h0m0-3h0m0 2h0m1 1h0m0 0h0m1 0h0m0-2h0m0 1h0m1 0h0m0-1h0m1 0h0m0-2h0m0 4h0m0 0h0m0 1h0m0-3h0m1-1h0m0 0h0m0 4h0m1 0h0m0-2h0m0-2h0m1 4h0m0-1h0m0 1h0m0-2h0m1-2h0m1 0h0m0 3h0m4-2h0m0-1h0m-58 9h0m2 2h0m2-2h0m0-1h0m1 0h0m5 1h0m1-3h0m0 5h0m0-4h0m2-2h0m1 5h0m0-1h0m0-3h0m0 0h0m1 1h0m1 0h0m0-1h0m1 0h0m0 3h0m1-3h0m0 4h0m1 0h0m0-5h0m1 6h0m0-5h0m1 1h0m0 3h0m3-2h0m1 1h0m2 1h0m1 0h0m1-5h0m4 2h0m1 4h0m1-2h0m1-2h0m0-1h0m0 4h0m3-3h0m0 1h0m0-1h0m1 4h0m0-3h0m0-3h0m0 4h0m1-3h0m1 3h0m0 0h0m1-2h0m0 3h0m0-2h0m0 1h0m1 0h0m0-2h0m1 1h0m0-2h0m0 1h0m1 1h0m0-1h0m-47 10h0m1-3h0m2-2h0m2 1h0m1 3h0m1-3h0m1 1h0m1-3h0m2 1h0m2 5h0m2-3h0m2 0h0m4-1h0m4 3h0m1-3h0m0-2h0m0 4h0m0 2h0m1-2h0m0 0h0m1-3h0m0 3h0m1-3h0m1 1h0m0 2h0m0 2h0m1-6h0m0 4h0m0-1h0m0 1h0m0 1h0m1 0h0m0-1h0m1-2h0m1 3h0m0-3h0m0 1h0m0-1h0m1-1h0m0 4h0m0-1h0m1 0h0m0-2h0m1-1h0m2 0h0m1 1h0m1-1h0m-45 10h0m2-3h0m6-1h0m4 0h0m2 5h0m2-3h0m0-3h0m4 1h0m1 5h0m0-3h0m5-2h0m3 0h0m1 0h0m2 1h0m0-1h0m1 1h0m1-1h0m1-1h0m-58 9h0m1-1h0m8 1h0m4-2h0m4 0h0m3 0h0m4 2h0m2-2h0m8 1h0m6-2h0m4 0h0m2 0h0m-40 10h0m10 1h0m12-3h0m-38 4h0m3 4h0m3-2h0m0 2h0m3 0h0m7 1h0m3-3h0m9-1h0m-12 7h0m-6 9h0" stroke="#ffaa57" stroke-width="2.5"/><path d="M568 938h0m1 0h0m1 1h0m2-2h0m1-1h0m2 0h0m-17 9h0m1 0h0m1-1h0m6 0h0m0-3h0m2 4h0m0-5h0m1 1h0m0 0h0m0-1h0m0 3h0m1-3h0m1 3h0m0-3h0m0 3h0m0-1h0m1 0h0m0 1h0m2-1h0m0 0h0m1-1h0m-27 10h0m3-1h0m1-1h0m1 1h0m2-3h0m0 0h0m0 2h0m0-1h0m1 1h0m0-2h0m0 4h0m0-1h0m1-2h0m0-3h0m1 4h0m0-3h0m0 1h0m0 1h0m0 0h0m1 0h0m0 1h0m0 1h0m1-2h0m0 1h0m0 0h0m1-1h0m1 1h0m1-2h0m0 0h0m1-1h0m1 5h0m0-3h0m1-2h0m0 1h0m1 3h0m0-1h0m0-3h0m1 2h0m0 1h0m0 1h0m1-4h0m0 0h0m1 0h0m0 4h0m0 0h0m1-2h0m0 0h0m0-2h0m1 1h0m1 4h0m0-4h0m1-1h0m0 3h0m0 0h0m2 0h0m1 1h0m0-3h0m-35 9h0m1-2h0m1 1h0m1 0h0m1 1h0m0 0h0m0 1h0m0 0h0m1-1h0m0-3h0m0 0h0m1 3h0m0-2h0m1 0h0m0 1h0m0-1h0m0 2h0m0-2h0m1-1h0m0-1h0m1 4h0m0-2h0m1 0h0m0-2h0m0 0h0m0 0h0m1 1h0m0-1h0m1 0h0m1 4h0m1-3h0m1 0h0m0 0h0m0-1h0m3 1h0m0 1h0m0 0h0m2-2h0m2 0h0m0 1h0m0 1h0m1-1h0m2 2h0m1-4h0m8 1h0m0 4h0m-43 5h0m5-2h0m6 2h0m1 2h0m0-4h0m1 0h0m0 0h0m1 0h0m1 1h0m0-2h0m0-1h0m1 5h0m0-4h0m0 2h0m1 3h0m0-3h0m1-3h0m0 2h0m3 3h0m1-4h0m4 4h0m1 0h0m0-3h0m0 3h0m0 1h0m0-2h0m1 2h0m1-3h0m0 0h0m0 0h0m0 3h0m2-2h0m1 0h0m0 2h0m2-4h0m3 4h0m0-5h0m0 3h0m1-3h0m1 4h0m2-4h0m0 3h0m1 0h0m1 1h0m1-1h0m-43 6h0m2-1h0m1 0h0m6 3h0m1-1h0m1-5h0m0 1h0m1 0h0m2 3h0m0-3h0m0-1h0m0 3h0m0 1h0m1-2h0m0 2h0m0-3h0m0 1h0m1 1h0m0 0h0m0-2h0m1 2h0m0 3h0m1-2h0m1 0h0m6-4h0m1 2h0m1 2h0m1 1h0m0-2h0m1 1h0m0 1h0m0-4h0m2 1h0m0 3h0m2-4h0m4-1h0m1 3h0m3-3h0m-45 12h0m3-4h0m8 2h0m1 1h0m0-3h0m1-1h0m1 1h0m0 3h0m0 1h0m0-4h0m1 2h0m0 1h0m0 1h0m0 0h0m1-4h0m0 0h0m1-1h0m0 4h0m2-4h0m1 0h0m0 4h0m2-4h0m6 3h0m0-2h0m2-2h0m2 1h0m0 2h0m2-3h0m-31 7h0m6 2h0m3-3h0m0 1h0m1 5h0m2-6h0m0 0h0m0 1h0m6 0h0m3 0h0m-19 6h0m1 2h0m1-1h0m1 4h0m0-3h0m0 0h0m4-2h0m0 2h0m2-3h0m1 0h0" stroke="#ffb54a" stroke-width="2.5"/><path d="M576 968h0m3-2h0m2 3h0m1-3h0m-20 8h0m1-1h0m0 0h0m1-1h0m0 1h0m0-1h0m0 2h0m1-1h0m0 1h0m1-3h0m1 4h0m1-3h0m1 1h0m1-4h0m3 5h0m1 1h0m0-1h0m1 1h0m0-3h0m1 3h0m1-3h0m1-2h0m0-1h0m0 4h0m1-1h0m1-3h0m2 3h0m2 3h0m-32 4h0m1 0h0m1 1h0m0 1h0m0 0h0m1-3h0m0 2h0m2 1h0m2-2h0m0-1h0m1 2h0m0-3h0m1 3h0m0-2h0m1 3h0m0 0h0m0-5h0m0 4h0m1-3h0m0 3h0m0-1h0m1-3h0m0 0h0m0 2h0m0-2h0m1 4h0m0-4h0m0 2h0m0-3h0m0 2h0m0 3h0m0 0h0m1-3h0m0 1h0m0 1h0m1 0h0m0-1h0m0-2h0m1 2h0m0-2h0m1 3h0m0-4h0m1 1h0m1 1h0m0 0h0m0 1h0m0 2h0m1-1h0m0-4h0m1 1h0m0 3h0m0 1h0m1 1h0m1-5h0m0 1h0m1 1h0m1-1h0m0 1h0m0 1h0m0-3h0m1-1h0m1 5h0m1 0h0m0-4h0m0 2h0m0-2h0m1 5h0m0-2h0m0-1h0m0 1h0m1 0h0m2-3h0m3 3h0m1 1h0m-46 7h0m0-2h0m5 2h0m0 0h0m1 0h0m0-4h0m1 3h0m3-4h0m1 1h0m0 4h0m0-2h0m0-3h0m0 0h0m0 0h0m2 3h0m0-4h0m0 1h0m1 3h0m0 0h0m0 0h0m0-1h0m0-2h0m0 1h0m0 2h0m1 0h0m0-2h0m1 2h0m0 2h0m1-4h0m0 3h0m1 0h0m1-3h0m1-1h0m1 2h0m1 1h0m0 1h0m0 0h0m1 1h0m0-2h0m0-1h0m0 3h0m1-3h0m0-2h0m1 3h0m0-2h0m1-1h0m0 2h0m1 0h0m0-3h0m0 6h0m1-3h0m1 3h0m0-2h0m0 0h0m0-4h0m0 4h0m1-4h0m0 5h0m0-2h0m0 3h0m0-3h0m0-2h0m1-1h0m0 5h0m0-3h0m0 2h0m0 1h0m0-1h0m0 0h0m0-2h0m1 1h0m0 0h0m0-1h0m0 1h0m0-3h0m0 3h0m1-1h0m0 3h0m0 1h0m0-2h0m1-2h0m1-1h0m2 2h0m0 0h0m0-2h0m0 3h0m3-3h0m0 0h0m0-1h0m0 2h0m5 1h0m0 3h0m2-3h0m0-1h0m-45 9h0m0-2h0m1 1h0m3 1h0m1-1h0m2 0h0m0-1h0m1 2h0m0 1h0m0-5h0m0 2h0m1-2h0m1 2h0m0-3h0m0 2h0m2 1h0m0-3h0m0 1h0m1 4h0m2 0h0m0-1h0m0-2h0m1 2h0m0-4h0m2 5h0m0-1h0m0-4h0m1 2h0m0 1h0m0 0h0m1-1h0m0 0h0m0 4h0m0-1h0m0-4h0m1 0h0m0 0h0m2 0h0m0 0h0m0 2h0m2-2h0m0 0h0m1 3h0m0 1h0m1-1h0m0-3h0m0 3h0m0 1h0m0-3h0m1 3h0m0-5h0m0 4h0m1-1h0m0-1h0m0 0h0m0 0h0m0 0h0m0-2h0m0 2h0m1 3h0m0 0h0m1-3h0m2-2h0m0 5h0m2 0h0m0 1h0m0 0h0m0-2h0m0 0h0m1-1h0m0-2h0m0 1h0m1 3h0m0-1h0m0-1h0m1 2h0m0-3h0m0 3h0m0-4h0m2-1h0m0 1h0m0 0h0m0 0h0m1 2h0m0 0h0m0-1h0m0-1h0m1 1h0m1 0h0m-47 4h0m3 2h0m1 2h0m0-3h0m0 4h0m1-2h0m1 1h0m1-3h0m2 4h0m1 1h0m0-6h0m1 5h0m0-3h0m0 4h0m0-2h0m1-2h0m0 0h0m1 0h0m0-1h0m1 0h0m4-1h0m0 2h0m0 3h0m1-1h0m0 1h0m0-1h0m1 0h0m0 0h0m0-2h0m1 2h0m0-4h0m0 1h0m1 2h0m2 1h0m1-2h0m0 1h0m0-2h0m2 2h0m2 2h0m1 0h0m0 0h0m0-2h0m1 1h0m0 0h0m0-3h0m0 4h0m1 0h0m0-1h0m0 0h0m0 0h0m1-1h0m0-2h0m0-1h0m0 3h0m1-3h0m1 0h0m0 2h0m0-2h0m0 0h0m0 2h0m1 1h0m0-2h0m1 0h0m2-1h0m1 0h0m-33 8h0m0-2h0m1 5h0m0-4h0m0 3h0m1 2h0m0-1h0m0-2h0m5 3h0m0-1h0m1-2h0m2 1h0m2-3h0m0 5h0m2-4h0m6-2h0m1 1h0m0 0h0m2-1h0m1 0h0m-20 8h0m2 0h0m2 1h0m1-3h0m1 1h0m0 0h0m1 1h0m1-1h0" stroke="#ffc13c" stroke-width="2.5"/><path d="M582 993h0m1 0h0m1-1h0m1 0h0m2-1h0m1 1h0m0-1h0m1 1h0m2-5h0m0 2h0m1 2h0m1 1h0m2 1h0m-23 6h0m4-2h0m0 1h0m0 0h0m0 0h0m1-1h0m0-1h0m4-2h0m1 3h0m0-2h0m0 0h0m1 1h0m0 2h0m0-4h0m1 0h0m0-1h0m1 2h0m0 1h0m0-1h0m0 2h0m1 1h0m1-3h0m0 3h0m0-4h0m1 0h0m0 1h0m1-2h0m0 4h0m0 1h0m1-3h0m0 3h0m0-4h0m0 3h0m1 2h0m1-2h0m3-3h0m-29 11h0m2-1h0m1-2h0m0 1h0m0 1h0m0-2h0m0 0h0m0-1h0m0 4h0m2-2h0m0 1h0m0-3h0m1 0h0m1 2h0m0 0h0m1 0h0m0-1h0m1 0h0m1 0h0m1 1h0m1 0h0m0-1h0m0 3h0m1-1h0m0-4h0m0 0h0m1 5h0m0-3h0m2-1h0m1 0h0m1-1h0m0-1h0m0 2h0m1 0h0m2-1h0m0 0h0m1-1h0m1 1h0m0 0h0m1 0h0m1 2h0m0 0h0m0 1h0m0 2h0m0-4h0m1 1h0m0 2h0m0-1h0m1 2h0m0-5h0m1 3h0m4 1h0m2 0h0m-41 4h0m2-1h0m0 0h0m0-1h0m3 3h0m2-3h0m0 3h0m3 0h0m0 0h0m2-3h0m0 0h0m0 5h0m0-2h0m0-4h0m1 4h0m0 1h0m0-3h0m1 1h0m0 2h0m0-2h0m1 1h0m1-1h0m0 3h0m0-2h0m1-3h0m0-1h0m0 2h0m1 4h0m0-4h0m0 3h0m1-1h0m0 0h0m0 0h0m0-3h0m1 4h0m0 0h0m0 0h0m2-1h0m0 0h0m3-3h0m1 2h0m1 0h0m1 3h0m0-1h0m1-3h0m1 2h0m0 0h0m0 1h0m0 0h0m1-5h0m0 5h0m1-2h0m0-2h0m0 3h0m0 0h0m1-3h0m0 1h0m0-1h0m0 1h0m1-2h0m0 0h0m0 2h0m1 1h0m0-2h0m0-1h0m0 1h0m0 2h0m0-3h0m1 0h0m0 3h0m1 2h0m1-1h0m0-4h0m4 5h0m0 1h0m1-3h0m-42 3h0m3 4h0m1-1h0m1 2h0m1-1h0m0-2h0m0 1h0m0 0h0m1-1h0m1 0h0m1 1h0m0-1h0m1 1h0m1 3h0m1 0h0m0-1h0m0-2h0m1 1h0m0 0h0m1-2h0m1 4h0m1 0h0m0-4h0m1 3h0m0-1h0m1 2h0m0-4h0m1 0h0m0 2h0m0-1h0m0 0h0m1-2h0m0 0h0m1 1h0m0 3h0m0-3h0m0 1h0m0 0h0m0 2h0m1-3h0m0-1h0m0 0h0m1 5h0m0-6h0m0 1h0m1 3h0m0-1h0m0-2h0m0 3h0m1-2h0m0-1h0m0 0h0m0 5h0m1-3h0m0 1h0m0-4h0m0 4h0m0 1h0m1-3h0m0 2h0m0 2h0m1-4h0m0-1h0m0 4h0m1-1h0m0 1h0m0-1h0m1 1h0m0-5h0m0 1h0m1-1h0m0 1h0m0 2h0m0 0h0m1-1h0m0 0h0m0 4h0m3 0h0m0-3h0m4-2h0m-38 9h0m5-4h0m0 1h0m2 1h0m1-2h0m2 0h0m0 5h0m0-3h0m1-1h0m0 5h0m1-1h0m0 1h0m1-2h0m0 1h0m1 0h0m0 1h0m1-2h0m0-3h0m1 5h0m0 0h0m0-3h0m0 2h0m0-5h0m0 0h0m1 4h0m0 1h0m0-2h0m0-1h0m0 2h0m1-2h0m0-1h0m0 4h0m0-4h0m1 2h0m0-2h0m0 3h0m1-2h0m0 0h0m0-1h0m1 3h0m1-4h0m1 1h0m0 3h0m0-3h0m1-1h0m0 5h0m1-2h0m0 0h0m0-1h0m1 0h0m1 1h0m0 0h0m1 0h0m1 0h0m0-1h0m1 1h0m1-3h0m0 2h0m-28 7h0m1-3h0m1 2h0m1 0h0m1-2h0m0 3h0m2 1h0m2-1h0m0-1h0m1 3h0m1 0h0m0-4h0m0 1h0m0-1h0m1 2h0m0-2h0m1 4h0m1-5h0m0 3h0m0-2h0m1 0h0m0 2h0m0 1h0m1-1h0m1-2h0m0 0h0m0 1h0m0 1h0m1-1h0m0 0h0m0-1h0m3 0h0m1-1h0m-19 6h0m3 3h0m0-3h0" stroke="#ffcc30" stroke-width="2.5"/><path d="M588 1023h0m2 0h0m0-2h0m1 2h0m1-2h0m0 0h0m0 2h0m1 0h0m0 0h0m3-1h0m2-2h0m0 3h0m0-3h0m1 2h0m0 1h0m0-1h0m0 0h0m2 1h0m0 0h0m-22 5h0m0 1h0m1-3h0m1 2h0m0-2h0m0 2h0m0 1h0m1-3h0m1 1h0m1 0h0m0-1h0m0-2h0m0 1h0m0 3h0m2 0h0m0-1h0m0-1h0m0-2h0m1 0h0m1 4h0m0 0h0m0-3h0m0 4h0m0-5h0m1-1h0m0 5h0m1 1h0m0-5h0m0 0h0m0 0h0m1 5h0m0-1h0m1-4h0m0 2h0m1 0h0m0-2h0m0 1h0m1-1h0m0 2h0m0-3h0m0 5h0m0-3h0m0-1h0m0 3h0m1-4h0m0 5h0m0-4h0m0-1h0m2 3h0m0-2h0m1 3h0m0-1h0m0 0h0m0 3h0m1-2h0m1 1h0m0-4h0m0 1h0m1 3h0m0 0h0m0-1h0m1-2h0m1 3h0m0 0h0m2-1h0m1 1h0m1-1h0m-38 5h0m2 2h0m0 0h0m1 0h0m2-1h0m1 0h0m1 0h0m0 2h0m0-1h0m0-4h0m0 1h0m1 2h0m1-1h0m0 1h0m0-1h0m0 2h0m0-1h0m1 0h0m0-2h0m0 3h0m1-1h0m0-2h0m0 4h0m0-6h0m0 5h0m1-2h0m1 0h0m0-3h0m0 3h0m1-2h0m0 0h0m0 0h0m1 2h0m0 0h0m0-1h0m0 3h0m1 0h0m0-1h0m0-3h0m0 0h0m0-1h0m0 4h0m0 0h0m0-2h0m1 1h0m0-3h0m1 3h0m0 2h0m1-2h0m0-1h0m0 0h0m1 3h0m0-5h0m0 3h0m1-2h0m0 5h0m0-5h0m0 5h0m0-5h0m0 2h0m1-2h0m0 3h0m2-4h0m0 4h0m0 0h0m0-3h0m0 1h0m1-1h0m0 4h0m0 0h0m0-3h0m1 3h0m0-5h0m0 6h0m0-2h0m3 0h0m0-3h0m1 3h0m0-1h0m0 0h0m0 2h0m0 1h0m1-1h0m0 0h0m0 1h0m0-2h0m0 2h0m0-2h0m0 2h0m1-1h0m0-5h0m0 3h0m1 2h0m0-5h0m0 5h0m0-4h0m3 4h0m1 1h0m0-1h0m1 1h0m0 0h0m2-1h0m1 1h0m-38 1h0m0 1h0m2-2h0m0 1h0m0 0h0m0 4h0m1-1h0m0-1h0m0 1h0m1-4h0m0 5h0m0 1h0m0-4h0m0 1h0m1-2h0m0 3h0m0-3h0m1 2h0m0 2h0m1-1h0m1 2h0m0-3h0m1-2h0m0 3h0m1-2h0m0 3h0m1-2h0m0 1h0m0 0h0m0 2h0m1 0h0m0-6h0m0 1h0m1 3h0m0 0h0m0 0h0m0-1h0m1 1h0m0-1h0m0-1h0m0 0h0m1-2h0m0 5h0m0-3h0m0-1h0m2 2h0m1 0h0m0 1h0m0-4h0m1 3h0m0 0h0m0 1h0m0 1h0m1-1h0m0 1h0m0-4h0m0-1h0m1 1h0m0 0h0m1-1h0m0 2h0m0 3h0m1-4h0m1 0h0m0 1h0m0-1h0m1 3h0m0 0h0m0 2h0m1-2h0m0-3h0m0 2h0m1 1h0m0 1h0m0-3h0m0 2h0m0-3h0m0 5h0m1-1h0m0-1h0m0-1h0m1 0h0m0 1h0m1-3h0m0 5h0m0-3h0m0 1h0m1 0h0m0-3h0m0 0h0m0-1h0m0 5h0m0-5h0m1 3h0m0-3h0m0 1h0m1-1h0m0 3h0m0-1h0m0 1h0m0 0h0m2-2h0m1 3h0m1 0h0m0-3h0m1-1h0m0 2h0m0 0h0m1 4h0m0-2h0m-35 2h0m1 1h0m0 3h0m2-3h0m0 0h0m1 1h0m0-2h0m1 1h0m0-1h0m1 5h0m0-3h0m0 1h0m0-1h0m1-2h0m1 2h0m0 4h0m0 0h0m1-1h0m1-1h0m0 1h0m1-5h0m2 4h0m0 0h0m2 1h0m1 1h0m0-3h0m0 3h0m0 0h0m0-1h0m1 1h0m0-4h0m0 3h0m0-5h0m1 4h0m0 0h0m1 1h0m1-4h0m0 2h0m1-3h0m0 4h0m0 2h0m1-5h0m0 2h0m0 3h0m2-3h0m0-2h0m0 2h0m1 1h0m0-3h0m0 2h0m0 1h0m1-1h0m2 1h0m0-2h0m2-1h0m-27 5h0m1 1h0m1-1h0m2 0h0m3 3h0m1-1h0m0 4h0m3-3h0m0 0h0m3-2h0m2-1h0m2 0h0" stroke="#ffd535" stroke-width="2.5"/><path d="M604 1046h0m0-1h0m1 0h0m0 1h0m4-2h0m1 0h0m2-2h0m1 3h0m-19 7h0m0 0h0m1-2h0m5-2h0m2 1h0m2 1h0m0 0h0m1 2h0m0-3h0m0 1h0m3-3h0m0 3h0m1 3h0m0-2h0m1 2h0m0-5h0m0 2h0m1 0h0m0-2h0m1 3h0m1 0h0m-27 6h0m2 1h0m1 0h0m1-1h0m0-1h0m0-1h0m0 3h0m0-1h0m3 0h0m0-1h0m0 0h0m1 2h0m0-4h0m1 0h0m0 4h0m1 0h0m0-1h0m1 1h0m2 1h0m1-4h0m1 2h0m2 1h0m0-2h0m1-1h0m2-1h0m4 0h0m0-1h0m4 3h0m1-1h0m1 0h0m-27 6h0m0 0h0m1 0h0m0-1h0m0 0h0m1 4h0m0-3h0m0-2h0m0 0h0m1 3h0m0 2h0m0-1h0m0-1h0m1-3h0m0 2h0m0 0h0m1-1h0m0 3h0m0-1h0m1 3h0m0-4h0m0 3h0m1 0h0m0-1h0m1-1h0m0 3h0m2-6h0m1 6h0m0-2h0m0-4h0m1 4h0m0 1h0m0-2h0m2-1h0m1-2h0m0 4h0m0 0h0m0-2h0m1 0h0m0 0h0m2 2h0m0-3h0m0 1h0m2 0h0m0 0h0m1-1h0m0 1h0m1 3h0m0-5h0m1 5h0m6-3h0m1 0h0m-27 6h0m0-2h0m1 2h0m0 0h0m1 3h0m0 0h0m0 1h0m1 0h0m0 0h0m1 0h0m0-2h0m0-2h0m0 0h0m1 2h0m0 0h0m0-2h0m1 2h0m0-2h0m1-1h0m0 1h0m2-1h0m0 0h0m0 0h0m0 1h0m1 3h0m0-3h0m1 4h0m0-6h0m0 2h0m1 0h0m1 1h0m1 1h0m0-1h0m1-2h0m0 4h0m0-3h0m1 1h0m1-2h0m0 3h0m1-1h0m1-2h0m0 4h0m0-2h0m0-1h0m1 1h0m1-1h0m0 3h0m4-3h0m4 0h0m-26 6h0m1 2h0m1 1h0m0-3h0m0 0h0m0 2h0m1 0h0m0 1h0m2 0h0m1-3h0m2 0h0m1 2h0m1-1h0m1 1h0m2-1h0m4-2h0m-14 6h0m2 0h0m0 0h0" stroke="#ffde3a" stroke-width="2.5"/><path d="M619 1069h0m1 1h0m-10 6h0m0-2h0m1 3h0m1-3h0m2 2h0m7-1h0m-21 6h0m0 1h0m1-1h0m0 2h0m5-2h0m1-2h0m0 4h0m0-4h0m2 4h0m0-1h0m0-3h0m1 0h0m0 1h0m0 1h0m0-1h0m0-2h0m1 0h0m0 5h0m1-5h0m1 2h0m1-1h0m1 0h0m0 3h0m0 1h0m1-4h0m0 4h0m0 0h0m1-2h0m1-2h0m4 4h0m-20 1h0m1 1h0m2 1h0m3 2h0m0-3h0m1-1h0m1-1h0m0 0h0m0 2h0m1 3h0m0 0h0m0-3h0m0 0h0m0 1h0m1 0h0m1-3h0m0 2h0m1 0h0m0 1h0m0-2h0m1 0h0m0 3h0m2-2h0m0-2h0m0 2h0m1-1h0m0 2h0m2-2h0m3 2h0m0 3h0m1-1h0m3 1h0m1-1h0m-21 4h0m0 2h0m1 0h0m0-2h0m0-2h0m0 5h0m1-3h0m0 0h0m0 1h0m1-2h0m0 4h0m1-2h0m0-1h0m1-1h0m0 0h0m0 2h0m0-3h0m1 0h0m0 2h0m0 1h0m1 1h0m0-4h0m0 2h0m1-2h0m0-1h0m0 4h0m1 2h0m0-3h0m0 1h0m0 2h0m0-1h0m2-5h0m0 4h0m0 1h0m0-2h0m0-2h0m1 1h0m1 0h0m0 2h0m1 0h0m0-3h0m0 1h0m1 0h0m0 4h0m0-1h0m0-5h0m1 5h0m0 0h0m0-4h0m0 3h0m0-3h0m0 3h0m0 1h0m1-1h0m0 1h0m0-5h0m1 4h0m0-4h0m0 3h0m1 2h0m0-4h0m0 4h0m1-5h0m4 4h0m-23 2h0m1 2h0m0 0h0m1 1h0m0-1h0m1 3h0m0-5h0m0 6h0m0-2h0m0 1h0m1-1h0m0 2h0m1-5h0m0 1h0m1 1h0m0-2h0m0 4h0m1 1h0m0-2h0m0 1h0m0-4h0m0 4h0m1-2h0m1-2h0m0 5h0m0-4h0m0 2h0m1-3h0m0 0h0m0 1h0m1 3h0m0-4h0m0 4h0m2-2h0m0-3h0m0 2h0m1 1h0m1-2h0m0 2h0m1 1h0m0 0h0m1 0h0m0 0h0m2-2h0m1-1h0m-15 6h0m1 0h0m0-1h0m1 3h0m0-2h0m1 1h0m1 0h0m1 0h0m0-1h0m1 0h0" stroke="#ffe642" stroke-width="2.5"/><path d="M623 1101h0m1-1h0m2 0h0m2-1h0m4 0h0m0-2h0m1 1h0m1 3h0m-20 5h0m1-1h0m3-1h0m1 0h0m1-1h0m0 1h0m2 1h0m0 2h0m1-1h0m0-3h0m1 1h0m0 2h0m2-2h0m1 1h0m1-3h0m1 0h0m0 5h0m0-2h0m1-1h0m0-2h0m0 1h0m1 0h0m0-1h0m1 1h0m1 3h0m1-2h0m0 0h0m0-1h0m1 1h0m1-1h0m0 0h0m0-2h0m0 4h0m0-1h0m-21 4h0m1 1h0m2 2h0m1 2h0m2-5h0m1 0h0m0 0h0m2 3h0m0 0h0m0-2h0m1-1h0m0 2h0m1-1h0m1 1h0m0-1h0m0-2h0m1 4h0m0-2h0m0 1h0m1 3h0m0-2h0m1-2h0m0 1h0m1 2h0m0-1h0m0-3h0m1 2h0m0-1h0m1-1h0m1 1h0m0-2h0m2 1h0m0-1h0m2 5h0m1 1h0m0-2h0m0-3h0m0 2h0m-19 7h0m0-3h0m1 1h0m1 0h0m0 1h0m1 1h0m1-2h0m0 3h0m2-1h0m2 1h0m0 0h0m0 1h0m1-5h0m1 1h0m1-1h0m0 4h0m0-1h0m0 0h0m1 1h0m0-2h0m0 2h0m0 0h0m1-3h0m0 3h0m0-1h0m0-1h0m1-2h0m1 4h0m1-3h0m1-2h0m0 0h0m1 0h0m4 5h0m0-3h0m0 1h0m0 0h0m0 3h0m0-2h0m1 1h0m-20 2h0m1 1h0m0-2h0m0 1h0m0 2h0m0-2h0m1 4h0m0 0h0m0-4h0m0 3h0m0 1h0m1-1h0m0 2h0m2-2h0m0 0h0m1-3h0m0 2h0m1 0h0m0-1h0m1-2h0m0 1h0m0 2h0m0-1h0m2 0h0m0 1h0m1 0h0m0 3h0m0-1h0m0-3h0m1-1h0m0 0h0m0 2h0m1-3h0m1 3h0m2 0h0m1 0h0m2-2h0m0 2h0m1-1h0m1-1h0m-16 7h0m1 0h0m2 0h0m0 1h0m0 1h0m1-3h0m0-1h0m0 1h0m1 2h0m1-3h0m1 0h0m2 0h0m1 0h0" stroke="#ffed4b" stroke-width="2.5"/><path d="M643 1123h0m-13 8h0m2-2h0m1 1h0m2 1h0m1-1h0m0-3h0m2 2h0m0 1h0m1-5h0m0 1h0m1 1h0m0 3h0m0-2h0m0-1h0m0 2h0m3 0h0m-11 6h0m1 2h0m1-5h0m5 3h0m0-3h0m2 1h0m0 1h0m0 1h0m0-2h0m1 3h0m0 0h0m0-2h0m0 2h0m0-1h0m1 0h0m0 0h0m1 1h0m1-1h0m1 1h0m2 0h0m-11 5h0m2 2h0m0 0h0m2-4h0m1-2h0m1 0h0m0 1h0m1 5h0m4 0h0m2-5h0m0 5h0m3-4h0m1 4h0m-16 2h0m1 1h0m1 0h0m0-3h0m0 2h0m1 3h0m1 0h0m0-1h0m1 1h0m0 1h0m1-3h0m1 0h0m1-1h0m2 2h0m1-2h0m1 2h0m1-1h0m1 2h0m1-5h0m1 6h0m1-1h0m0-2h0m-12 5h0m1 2h0m1-3h0m0 3h0m1-2h0m0-1h0m5 1h0" stroke="#fff252" stroke-width="2.5"/><path d="M651 1154h0m2-1h0m2-3h0m1 0h0m1 0h0m0 4h0m0-4h0m0 5h0m1-2h0m-9 2h0m1 4h0m2 1h0m1 0h0m0-4h0m0-1h0m1 6h0m0-1h0m0 0h0m0-1h0m0 0h0m1-3h0m0-1h0m1 3h0m0 2h0m0 0h0m1-3h0m1 2h0m0 0h0m1-2h0m1 3h0m1-2h0m0 2h0m0 1h0m-9 1h0m1 0h0m0-1h0m1 0h0m0 2h0m1 3h0m0-2h0m0 1h0m0-2h0m1 1h0m1 2h0m0 0h0m1-2h0m2 1h0m2-4h0m0 2h0m-5 4h0m1 1h0m6 4h0m0-1h0m0 5h0m1-3h0m2 2h0m0 2h0" stroke="#fff857" stroke-width="2.5"/></g><path d="M158 1010 L158.9 1006.1 L160.1 1001 L161.5 994.8 L163.1 988 L164.9 980.7 L166.8 973.3 L168.9 966 L171 959 L173.3 952.2 L175.8 945.4 L178.4 938.4 L181.2 931.4 L184.1 924.3 L187 917.2 L190 910.1 L193 903 L196 895.9 L199.2 888.8 L202.4 881.7 L205.6 874.5 L208.9 867.3 L212.3 860.2 L215.6 853.1 L219 846 L222.4 838.9 L226 831.6 L229.6 824.4 L233.2 817.1 L236.8 810 L240.3 803.1 L243.7 796.4 L247 790 L250.1 784 L253 778.2 L255.8 772.6 L258.5 767.2 L261.2 762 L264 757 L266.9 752 L270 747 L273.3 742 L276.8 737.1 L280.4 732.2 L284.1 727.5 L287.7 722.9 L291.3 718.6 L294.8 714.6 L298 711 L301.1 707.7 L304 704.7 L306.8 702 L309.5 699.6 L312.2 697.4 L314.8 695.4 L317.4 693.6 L320 692 L322.6 690.7 L325.1 689.6 L327.5 688.8 L329.9 688.2 L332.4 687.7 L334.8 687.4 L337.4 687.2 L340 687 L342.8 686.9 L345.7 686.8 L348.7 686.9 L351.7 687.1 L354.7 687.4 L357.6 687.8 L360.4 688.4 L363 689 L365.4 689.8 L367.8 690.8 L370 691.9 L372.1 693.1 L374.2 694.4 L376.2 695.7 L378.1 696.9 L380 698 L381.8 699 L383.4 699.8 L385 700.5 L386.5 701.3 L388 702.2 L389.6 703.2 L391.2 704.4 L393 706 L394.9 707.8 L396.9 709.8 L399 711.9 L401.1 714.2 L403.2 716.8 L405.4 719.6 L407.7 722.7 L410 726 L412.4 729.7 L414.8 733.8 L417.3 738.2 L419.9 742.8 L422.4 747.5 L425 752.3 L427.5 757.2 L430 762 L432.5 766.9 L435 772.1 L437.6 777.5 L440.1 782.8 L442.6 788.1 L444.9 793.1 L447.1 797.8 L449 802 L450.5 805.5 L451.7 808.3 L452.5 810.7 L453.3 812.9 L454.2 815.2 L455.3 817.8 L456.9 821 L459 825 L461.8 829.9 L465.1 835.5 L468.8 841.6 L472.8 848 L476.9 854.6 L481 861.3 L485.1 867.8 L489 874 L492.7 879.9 L496.4 885.8 L500.1 891.6 L503.8 897.3 L507.5 903.1 L511.3 908.9 L515.1 914.9 L519 921 L523 927.3 L527.2 933.9 L531.5 940.5 L535.8 947.2 L540 953.9 L544.2 960.5 L548.2 966.9 L552 973 L555.5 978.7 L558.8 984 L562 989 L565 994 L568 999 L571.2 1004.3 L574.5 1009.9 L578 1016 L581.8 1022.7 L585.8 1029.9 L589.9 1037.4 L594.1 1045.2 L598.3 1053 L602.6 1060.9 L606.8 1068.6 L611 1076 L615.2 1083.3 L619.5 1090.5 L623.8 1097.8 L628.1 1104.9 L632.4 1112 L636.5 1118.9 L640.4 1125.6 L644 1132 L647.5 1138.5 L651 1145.1 L654.4 1151.7 L657.6 1158 L660.5 1163.9 L663.1 1169.2 L665.3 1173.6 L667 1177" fill="none" stroke="#000" stroke-width="2.4" stroke-linejoin="round"/><path d="M651 1171.5 L667.2 1181.3 L667.4 1162" fill="none" stroke="#000" stroke-width="2.4" stroke-linejoin="miter"/><line x1="105.6" y1="617.9" x2="105.6" y2="1207.9" stroke="#000" stroke-width="1.9"/><line x1="104.7" y1="1207" x2="694" y2="1207" stroke="#000" stroke-width="1.9"/><line x1="99.9" y1="722.8" x2="104.7" y2="722.8" stroke="#333333" stroke-width="1.6"/><text x="95.9" y="732.9" font-size="28" text-anchor="end" fill="#333333">0.01</text><line x1="99.9" y1="854.7" x2="104.7" y2="854.7" stroke="#333333" stroke-width="1.6"/><text x="95.9" y="864.8" font-size="28" text-anchor="end" fill="#333333">0.00</text><line x1="99.9" y1="986" x2="104.7" y2="986" stroke="#333333" stroke-width="1.6"/><text x="95.9" y="996.1" font-size="28" text-anchor="end" fill="#333333">−0.01</text><line x1="99.9" y1="1117.4" x2="104.7" y2="1117.4" stroke="#333333" stroke-width="1.6"/><text x="95.9" y="1127.5" font-size="28" text-anchor="end" fill="#333333">−0.02</text><line x1="181.2" y1="1207.8" x2="181.2" y2="1213" stroke="#333333" stroke-width="1.6"/><text x="181.2" y="1239.8" font-size="28" text-anchor="middle" fill="#333333">0.01</text><line x1="334.8" y1="1207.8" x2="334.8" y2="1213" stroke="#333333" stroke-width="1.6"/><text x="334.8" y="1239.8" font-size="28" text-anchor="middle" fill="#333333">0.00</text><line x1="488.1" y1="1207.8" x2="488.1" y2="1213" stroke="#333333" stroke-width="1.6"/><text x="488.1" y="1239.8" font-size="28" text-anchor="middle" fill="#333333">−0.01</text><line x1="641.8" y1="1207.8" x2="641.8" y2="1213" stroke="#333333" stroke-width="1.6"/><text x="641.8" y="1239.8" font-size="28" text-anchor="middle" fill="#333333">−0.02</text><text x="-1" y="581" font-size="50" font-weight="bold">b</text><text x="103.5" y="610.2" font-size="41.5">Trajectory along pseudotime</text><text x="399.7" y="1280" font-size="38.5" text-anchor="middle">Dim 1</text><text x="27.9" y="912.7" font-size="38.5" text-anchor="middle" transform="rotate(-90 27.9 912.7)">Dim 2</text><defs><linearGradient id="ptg" x1="0" x2="1" y1="0" y2="0"><stop offset="0%" stop-color="#030328"/><stop offset="5%" stop-color="#061262"/><stop offset="10%" stop-color="#061A90"/><stop offset="15%" stop-color="#0A25BE"/><stop offset="20%" stop-color="#102DE2"/><stop offset="25%" stop-color="#1B33FD"/><stop offset="30%" stop-color="#3D34FA"/><stop offset="35%" stop-color="#6034EE"/><stop offset="40%" stop-color="#8432E2"/><stop offset="45%" stop-color="#A430D8"/><stop offset="50%" stop-color="#C22ECF"/><stop offset="55%" stop-color="#D83EC2"/><stop offset="60%" stop-color="#EE55A8"/><stop offset="65%" stop-color="#FF6896"/><stop offset="70%" stop-color="#FF7C80"/><stop offset="75%" stop-color="#FF986A"/><stop offset="80%" stop-color="#FFB24E"/><stop offset="85%" stop-color="#FFCB30"/><stop offset="90%" stop-color="#FFDF3A"/><stop offset="95%" stop-color="#FFEF4E"/><stop offset="100%" stop-color="#FFFA5A"/></linearGradient></defs><rect x="128.2" y="1133.6" width="151.3" height="30" fill="url(#ptg)"/><line x1="166" y1="1133.6" x2="166" y2="1139.6" stroke="#fff" stroke-width="1.1" opacity="0.85"/><line x1="166" y1="1157.6" x2="166" y2="1163.6" stroke="#fff" stroke-width="1.1" opacity="0.85"/><line x1="204" y1="1133.6" x2="204" y2="1139.6" stroke="#fff" stroke-width="1.1" opacity="0.85"/><line x1="204" y1="1157.6" x2="204" y2="1163.6" stroke="#fff" stroke-width="1.1" opacity="0.85"/><line x1="241.6" y1="1133.6" x2="241.6" y2="1139.6" stroke="#fff" stroke-width="1.1" opacity="0.85"/><line x1="241.6" y1="1157.6" x2="241.6" y2="1163.6" stroke="#fff" stroke-width="1.1" opacity="0.85"/><text x="166" y="1184.2" font-size="22.5" text-anchor="middle" fill="#333333">25</text><text x="204" y="1184.2" font-size="22.5" text-anchor="middle" fill="#333333">50</text><text x="241.6" y="1184.2" font-size="22.5" text-anchor="middle" fill="#333333">75</text><text x="278.9" y="1184.2" font-size="22.5" text-anchor="middle" fill="#333333">100</text><text x="126.3" y="1128.7" font-size="28.5" fill="#333333">Pseudotime</text><defs><linearGradient id="h0"><stop offset="1%" stop-color="#F5E620"/><stop offset="3.5%" stop-color="#F5E620"/><stop offset="5.7%" stop-color="#F8FA10"/><stop offset="10.7%" stop-color="#F8FA10"/><stop offset="12.3%" stop-color="#F5E41E"/><stop offset="13.3%" stop-color="#F5E41E"/><stop offset="14.8%" stop-color="#F5D22E"/><stop offset="17.5%" stop-color="#F5D22E"/><stop offset="19%" stop-color="#F4DD26"/><stop offset="20%" stop-color="#F4DD26"/><stop offset="21.6%" stop-color="#F5CC32"/><stop offset="24.6%" stop-color="#F5CC32"/><stop offset="26.2%" stop-color="#F3B841"/><stop offset="27.2%" stop-color="#F3B841"/><stop offset="28.2%" stop-color="#D9B857"/><stop offset="29.8%" stop-color="#D9B857"/><stop offset="31.4%" stop-color="#B0BD69"/><stop offset="33.7%" stop-color="#B0BD69"/><stop offset="35%" stop-color="#9CBD70"/><stop offset="36.2%" stop-color="#9CBD70"/><stop offset="37.3%" stop-color="#5AB98F"/><stop offset="39%" stop-color="#5AB98F"/><stop offset="40.2%" stop-color="#A7BC6C"/><stop offset="41.3%" stop-color="#A7BC6C"/><stop offset="42.2%" stop-color="#6FBA86"/><stop offset="43.2%" stop-color="#6FBA86"/><stop offset="44%" stop-color="#2DB3A1"/><stop offset="45.2%" stop-color="#2DB3A1"/><stop offset="46%" stop-color="#1D9DC3"/><stop offset="47%" stop-color="#1D9DC3"/><stop offset="48.1%" stop-color="#2AAFA5"/><stop offset="49.8%" stop-color="#2AAFA5"/><stop offset="51%" stop-color="#1C8ED0"/><stop offset="52.1%" stop-color="#1C8ED0"/><stop offset="53.7%" stop-color="#0A6EE2"/><stop offset="56.6%" stop-color="#0A6EE2"/><stop offset="58.4%" stop-color="#24A7B0"/><stop offset="60.1%" stop-color="#24A7B0"/><stop offset="61.4%" stop-color="#3CB79A"/><stop offset="63%" stop-color="#3CB79A"/><stop offset="64.5%" stop-color="#21A0BA"/><stop offset="66.8%" stop-color="#21A0BA"/><stop offset="68.8%" stop-color="#117ED7"/><stop offset="71.6%" stop-color="#117ED7"/><stop offset="73.5%" stop-color="#0C6DE0"/><stop offset="75.8%" stop-color="#0C6DE0"/><stop offset="77.9%" stop-color="#1356D2"/><stop offset="81.7%" stop-color="#1356D2"/><stop offset="83.7%" stop-color="#2F3FA6"/><stop offset="85.7%" stop-color="#2F3FA6"/><stop offset="87%" stop-color="#3443B2"/><stop offset="88.3%" stop-color="#3443B2"/><stop offset="90%" stop-color="#2F3596"/><stop offset="92.8%" stop-color="#2F3596"/><stop offset="95.2%" stop-color="#362C88"/><stop offset="98.8%" stop-color="#362C88"/></linearGradient><linearGradient id="h1"><stop offset="1.2%" stop-color="#F5DC26"/><stop offset="4.6%" stop-color="#F5DC26"/><stop offset="7%" stop-color="#F5CC34"/><stop offset="12.8%" stop-color="#F5CC34"/><stop offset="15.2%" stop-color="#F4BA40"/><stop offset="21.5%" stop-color="#F4BA40"/><stop offset="23.9%" stop-color="#E4B650"/><stop offset="29.8%" stop-color="#E4B650"/><stop offset="32.2%" stop-color="#D2B95A"/><stop offset="38%" stop-color="#D2B95A"/><stop offset="40.4%" stop-color="#C0BB62"/><stop offset="46.2%" stop-color="#C0BB62"/><stop offset="48.3%" stop-color="#E0B652"/><stop offset="50.6%" stop-color="#E0B652"/><stop offset="52.4%" stop-color="#F3B441"/><stop offset="54.8%" stop-color="#F3B441"/><stop offset="56.3%" stop-color="#BCBC64"/><stop offset="58.1%" stop-color="#BCBC64"/><stop offset="59.2%" stop-color="#7DBD7E"/><stop offset="60.3%" stop-color="#7DBD7E"/><stop offset="61.3%" stop-color="#22A8AE"/><stop offset="62.4%" stop-color="#22A8AE"/><stop offset="63.5%" stop-color="#1A8ED0"/><stop offset="65.3%" stop-color="#1A8ED0"/><stop offset="66.7%" stop-color="#127AD8"/><stop offset="68.8%" stop-color="#127AD8"/><stop offset="70.2%" stop-color="#0A62DF"/><stop offset="72%" stop-color="#0A62DF"/><stop offset="73.8%" stop-color="#2C3FA8"/><stop offset="76.6%" stop-color="#2C3FA8"/><stop offset="79%" stop-color="#352A87"/><stop offset="92.8%" stop-color="#352A87"/><stop offset="95.2%" stop-color="#3540A8"/><stop offset="98.8%" stop-color="#3540A8"/></linearGradient><linearGradient id="h2"><stop offset="1.2%" stop-color="#F5D72A"/><stop offset="8.2%" stop-color="#F5D72A"/><stop offset="10.6%" stop-color="#F5C338"/><stop offset="20.5%" stop-color="#F5C338"/><stop offset="22.6%" stop-color="#F2B843"/><stop offset="24.9%" stop-color="#F2B843"/><stop offset="27%" stop-color="#DDB754"/><stop offset="33.9%" stop-color="#DDB754"/><stop offset="36.3%" stop-color="#C6BC60"/><stop offset="46.2%" stop-color="#C6BC60"/><stop offset="48.6%" stop-color="#C9BC60"/><stop offset="51.9%" stop-color="#C9BC60"/><stop offset="53.9%" stop-color="#A0BD70"/><stop offset="55.9%" stop-color="#A0BD70"/><stop offset="57.6%" stop-color="#5BB98E"/><stop offset="59.9%" stop-color="#5BB98E"/><stop offset="61.4%" stop-color="#2AB0A3"/><stop offset="62.8%" stop-color="#2AB0A3"/><stop offset="64.5%" stop-color="#1A90CC"/><stop offset="67.4%" stop-color="#1A90CC"/><stop offset="69.5%" stop-color="#127FD6"/><stop offset="72.1%" stop-color="#127FD6"/><stop offset="73.9%" stop-color="#0A66E0"/><stop offset="76%" stop-color="#0A66E0"/><stop offset="77.3%" stop-color="#1B4FC8"/><stop offset="78.8%" stop-color="#1B4FC8"/><stop offset="80%" stop-color="#2E3AA0"/><stop offset="81.7%" stop-color="#2E3AA0"/><stop offset="83.6%" stop-color="#352A87"/><stop offset="98.8%" stop-color="#352A87"/></linearGradient><linearGradient id="h3"><stop offset="1%" stop-color="#F5E620"/><stop offset="3.5%" stop-color="#F5E620"/><stop offset="5.7%" stop-color="#F8FA10"/><stop offset="10.7%" stop-color="#F8FA10"/><stop offset="12.3%" stop-color="#F5E41E"/><stop offset="13.3%" stop-color="#F5E41E"/><stop offset="14.8%" stop-color="#F5D22E"/><stop offset="17.5%" stop-color="#F5D22E"/><stop offset="19%" stop-color="#F4DD26"/><stop offset="20%" stop-color="#F4DD26"/><stop offset="21.6%" stop-color="#F5CC32"/><stop offset="24.6%" stop-color="#F5CC32"/><stop offset="26.2%" stop-color="#F3B841"/><stop offset="27.2%" stop-color="#F3B841"/><stop offset="28.2%" stop-color="#D9B857"/><stop offset="29.8%" stop-color="#D9B857"/><stop offset="31.4%" stop-color="#B0BD69"/><stop offset="33.7%" stop-color="#B0BD69"/><stop offset="35%" stop-color="#9CBD70"/><stop offset="36.2%" stop-color="#9CBD70"/><stop offset="37.3%" stop-color="#5AB98F"/><stop offset="39%" stop-color="#5AB98F"/><stop offset="40.2%" stop-color="#A7BC6C"/><stop offset="41.3%" stop-color="#A7BC6C"/><stop offset="42.2%" stop-color="#6FBA86"/><stop offset="43.2%" stop-color="#6FBA86"/><stop offset="44%" stop-color="#2DB3A1"/><stop offset="45.2%" stop-color="#2DB3A1"/><stop offset="46%" stop-color="#1D9DC3"/><stop offset="47%" stop-color="#1D9DC3"/><stop offset="48.1%" stop-color="#2AAFA5"/><stop offset="49.8%" stop-color="#2AAFA5"/><stop offset="51%" stop-color="#1C8ED0"/><stop offset="52.1%" stop-color="#1C8ED0"/><stop offset="53.7%" stop-color="#0A6EE2"/><stop offset="56.6%" stop-color="#0A6EE2"/><stop offset="58.4%" stop-color="#24A7B0"/><stop offset="60.1%" stop-color="#24A7B0"/><stop offset="61.4%" stop-color="#3CB79A"/><stop offset="63%" stop-color="#3CB79A"/><stop offset="64.5%" stop-color="#21A0BA"/><stop offset="66.8%" stop-color="#21A0BA"/><stop offset="68.8%" stop-color="#117ED7"/><stop offset="71.6%" stop-color="#117ED7"/><stop offset="73.5%" stop-color="#0C6DE0"/><stop offset="75.8%" stop-color="#0C6DE0"/><stop offset="77.9%" stop-color="#1356D2"/><stop offset="81.7%" stop-color="#1356D2"/><stop offset="83.7%" stop-color="#2F3FA6"/><stop offset="85.7%" stop-color="#2F3FA6"/><stop offset="87%" stop-color="#3443B2"/><stop offset="88.3%" stop-color="#3443B2"/><stop offset="90%" stop-color="#2F3596"/><stop offset="92.8%" stop-color="#2F3596"/><stop offset="95.2%" stop-color="#362C88"/><stop offset="98.8%" stop-color="#362C88"/></linearGradient><linearGradient id="h4"><stop offset="1.2%" stop-color="#F5DC26"/><stop offset="4.6%" stop-color="#F5DC26"/><stop offset="7%" stop-color="#F5CD33"/><stop offset="13.3%" stop-color="#F5CD33"/><stop offset="15.7%" stop-color="#F4BA40"/><stop offset="21%" stop-color="#F4BA40"/><stop offset="23.4%" stop-color="#E3B650"/><stop offset="29.8%" stop-color="#E3B650"/><stop offset="32.2%" stop-color="#CFBA5A"/><stop offset="39%" stop-color="#CFBA5A"/><stop offset="41.4%" stop-color="#C0BB62"/><stop offset="45.7%" stop-color="#C0BB62"/><stop offset="48.1%" stop-color="#E2B751"/><stop offset="52.4%" stop-color="#E2B751"/><stop offset="54.1%" stop-color="#E8B54D"/><stop offset="55.2%" stop-color="#E8B54D"/><stop offset="56.5%" stop-color="#A5BD6E"/><stop offset="58.5%" stop-color="#A5BD6E"/><stop offset="59.9%" stop-color="#3CB59A"/><stop offset="61.7%" stop-color="#3CB59A"/><stop offset="63.1%" stop-color="#1996CA"/><stop offset="65.2%" stop-color="#1996CA"/><stop offset="66.9%" stop-color="#0E74DB"/><stop offset="69.2%" stop-color="#0E74DB"/><stop offset="70.7%" stop-color="#0A62DF"/><stop offset="72.5%" stop-color="#0A62DF"/><stop offset="74.2%" stop-color="#2C3FA8"/><stop offset="76.8%" stop-color="#2C3FA8"/><stop offset="79%" stop-color="#352A87"/><stop offset="92%" stop-color="#352A87"/><stop offset="94.4%" stop-color="#3540A8"/><stop offset="98.8%" stop-color="#3540A8"/></linearGradient><linearGradient id="h5"><stop offset="1.2%" stop-color="#F5E71E"/><stop offset="5.6%" stop-color="#F5E71E"/><stop offset="8%" stop-color="#F5DA28"/><stop offset="12.3%" stop-color="#F5DA28"/><stop offset="14.7%" stop-color="#F5C836"/><stop offset="18.5%" stop-color="#F5C836"/><stop offset="20.8%" stop-color="#F3B641"/><stop offset="23.7%" stop-color="#F3B641"/><stop offset="25.5%" stop-color="#E8B54C"/><stop offset="27.2%" stop-color="#E8B54C"/><stop offset="29.1%" stop-color="#F0B545"/><stop offset="33.4%" stop-color="#F0B545"/><stop offset="35.4%" stop-color="#C8BB60"/><stop offset="37.4%" stop-color="#C8BB60"/><stop offset="39.4%" stop-color="#A8BC6C"/><stop offset="43.1%" stop-color="#A8BC6C"/><stop offset="45.5%" stop-color="#B5BC68"/><stop offset="49.3%" stop-color="#B5BC68"/><stop offset="51.4%" stop-color="#7CBC80"/><stop offset="53.7%" stop-color="#7CBC80"/><stop offset="55.8%" stop-color="#2CB1A4"/><stop offset="62.2%" stop-color="#2CB1A4"/><stop offset="64.4%" stop-color="#20A0B8"/><stop offset="67%" stop-color="#20A0B8"/><stop offset="68.9%" stop-color="#1482D2"/><stop offset="71.2%" stop-color="#1482D2"/><stop offset="73%" stop-color="#0A66E0"/><stop offset="75.3%" stop-color="#0A66E0"/><stop offset="77.1%" stop-color="#2C3FA8"/><stop offset="79.4%" stop-color="#2C3FA8"/><stop offset="81.5%" stop-color="#352A87"/><stop offset="91.5%" stop-color="#352A87"/><stop offset="93.9%" stop-color="#3540A8"/><stop offset="98.8%" stop-color="#3540A8"/></linearGradient><linearGradient id="h6"><stop offset="1.2%" stop-color="#F5DA26"/><stop offset="6.1%" stop-color="#F5DA26"/><stop offset="8.5%" stop-color="#F5C838"/><stop offset="18.5%" stop-color="#F5C838"/><stop offset="20.9%" stop-color="#E3B650"/><stop offset="26.7%" stop-color="#E3B650"/><stop offset="29.1%" stop-color="#F3B642"/><stop offset="33.9%" stop-color="#F3B642"/><stop offset="36.2%" stop-color="#C4BB62"/><stop offset="39.1%" stop-color="#C4BB62"/><stop offset="41.4%" stop-color="#CFB95A"/><stop offset="44.2%" stop-color="#CFB95A"/><stop offset="46.5%" stop-color="#E2B650"/><stop offset="49.4%" stop-color="#E2B650"/><stop offset="51.4%" stop-color="#B8BC66"/><stop offset="53.7%" stop-color="#B8BC66"/><stop offset="55.8%" stop-color="#88BE78"/><stop offset="59.6%" stop-color="#88BE78"/><stop offset="61.8%" stop-color="#5AB98E"/><stop offset="64.4%" stop-color="#5AB98E"/><stop offset="66%" stop-color="#2CB1A4"/><stop offset="67.4%" stop-color="#2CB1A4"/><stop offset="69.1%" stop-color="#1285D3"/><stop offset="72%" stop-color="#1285D3"/><stop offset="73.8%" stop-color="#0A66E0"/><stop offset="75.6%" stop-color="#0A66E0"/><stop offset="77%" stop-color="#2E3DA8"/><stop offset="79%" stop-color="#2E3DA8"/><stop offset="81%" stop-color="#352A87"/><stop offset="92.5%" stop-color="#352A87"/><stop offset="94.9%" stop-color="#3540A8"/><stop offset="98.8%" stop-color="#3540A8"/></linearGradient><linearGradient id="h7"><stop offset="1.2%" stop-color="#F8FA10"/><stop offset="8.2%" stop-color="#F8FA10"/><stop offset="10.6%" stop-color="#F5E820"/><stop offset="14.8%" stop-color="#F5E820"/><stop offset="17.1%" stop-color="#F5CB34"/><stop offset="19.7%" stop-color="#F5CB34"/><stop offset="21.8%" stop-color="#F4BA40"/><stop offset="24.7%" stop-color="#F4BA40"/><stop offset="27%" stop-color="#F3B642"/><stop offset="29.8%" stop-color="#F3B642"/><stop offset="32.1%" stop-color="#E5B650"/><stop offset="35%" stop-color="#E5B650"/><stop offset="36.9%" stop-color="#C4BB62"/><stop offset="38.9%" stop-color="#C4BB62"/><stop offset="40.5%" stop-color="#90BE76"/><stop offset="42.5%" stop-color="#90BE76"/><stop offset="44.2%" stop-color="#4AB794"/><stop offset="46.5%" stop-color="#4AB794"/><stop offset="48.1%" stop-color="#1E9CC2"/><stop offset="49.8%" stop-color="#1E9CC2"/><stop offset="51.7%" stop-color="#0A6EE0"/><stop offset="59.6%" stop-color="#0A6EE0"/><stop offset="62%" stop-color="#1178D8"/><stop offset="68.3%" stop-color="#1178D8"/><stop offset="70.2%" stop-color="#0A62DF"/><stop offset="72%" stop-color="#0A62DF"/><stop offset="73.8%" stop-color="#1B50C9"/><stop offset="81.2%" stop-color="#1B50C9"/><stop offset="83.6%" stop-color="#2E3CA6"/><stop offset="88.9%" stop-color="#2E3CA6"/><stop offset="90.9%" stop-color="#3038A0"/><stop offset="92.9%" stop-color="#3038A0"/><stop offset="94.9%" stop-color="#352A87"/><stop offset="98.8%" stop-color="#352A87"/></linearGradient><linearGradient id="h8"><stop offset="1.2%" stop-color="#F5E71E"/><stop offset="6.1%" stop-color="#F5E71E"/><stop offset="8.5%" stop-color="#F5CE32"/><stop offset="19.5%" stop-color="#F5CE32"/><stop offset="21.9%" stop-color="#F4B940"/><stop offset="31.3%" stop-color="#F4B940"/><stop offset="33.7%" stop-color="#CFBA5A"/><stop offset="38%" stop-color="#CFBA5A"/><stop offset="40.4%" stop-color="#B4BC68"/><stop offset="46.2%" stop-color="#B4BC68"/><stop offset="48.1%" stop-color="#7CBC80"/><stop offset="49.8%" stop-color="#7CBC80"/><stop offset="51.6%" stop-color="#2CB1A4"/><stop offset="54.5%" stop-color="#2CB1A4"/><stop offset="56.9%" stop-color="#20A0B8"/><stop offset="62.2%" stop-color="#20A0B8"/><stop offset="64.3%" stop-color="#1482D2"/><stop offset="66.6%" stop-color="#1482D2"/><stop offset="68.7%" stop-color="#0A66E0"/><stop offset="75%" stop-color="#0A66E0"/><stop offset="77.4%" stop-color="#1B50C9"/><stop offset="80.2%" stop-color="#1B50C9"/><stop offset="82.5%" stop-color="#2E3CA6"/><stop offset="85.4%" stop-color="#2E3CA6"/><stop offset="87.7%" stop-color="#352A87"/><stop offset="98.8%" stop-color="#352A87"/></linearGradient><linearGradient id="h9"><stop offset="1.2%" stop-color="#3537A0"/><stop offset="5.1%" stop-color="#3537A0"/><stop offset="7%" stop-color="#2E3DA8"/><stop offset="8.7%" stop-color="#2E3DA8"/><stop offset="10%" stop-color="#1560D8"/><stop offset="11.8%" stop-color="#1560D8"/><stop offset="13.6%" stop-color="#0A6EE0"/><stop offset="17.4%" stop-color="#0A6EE0"/><stop offset="19.8%" stop-color="#1282D4"/><stop offset="23.6%" stop-color="#1282D4"/><stop offset="25.7%" stop-color="#1E9CC2"/><stop offset="28%" stop-color="#1E9CC2"/><stop offset="30.1%" stop-color="#2CB3A2"/><stop offset="34.9%" stop-color="#2CB3A2"/><stop offset="36.9%" stop-color="#68BA88"/><stop offset="38.9%" stop-color="#68BA88"/><stop offset="40.4%" stop-color="#A8BC6C"/><stop offset="42.1%" stop-color="#A8BC6C"/><stop offset="43.1%" stop-color="#DDB752"/><stop offset="44%" stop-color="#DDB752"/><stop offset="45%" stop-color="#F5C438"/><stop offset="46.7%" stop-color="#F5C438"/><stop offset="48.6%" stop-color="#F8FA10"/><stop offset="58.6%" stop-color="#F8FA10"/><stop offset="60.5%" stop-color="#F3B641"/><stop offset="62.2%" stop-color="#F3B641"/><stop offset="63.4%" stop-color="#C0BB62"/><stop offset="64.9%" stop-color="#C0BB62"/><stop offset="66.3%" stop-color="#46B896"/><stop offset="68.6%" stop-color="#46B896"/><stop offset="70.2%" stop-color="#1D96C6"/><stop offset="72%" stop-color="#1D96C6"/><stop offset="73.7%" stop-color="#0A6AE0"/><stop offset="76.2%" stop-color="#0A6AE0"/><stop offset="78.2%" stop-color="#2E3AA4"/><stop offset="80.5%" stop-color="#2E3AA4"/><stop offset="82.3%" stop-color="#352A87"/><stop offset="84.6%" stop-color="#352A87"/><stop offset="86.1%" stop-color="#2D3CA8"/><stop offset="87.5%" stop-color="#2D3CA8"/><stop offset="88.4%" stop-color="#1282D4"/><stop offset="89.3%" stop-color="#1282D4"/><stop offset="89.9%" stop-color="#3CB59A"/><stop offset="90.8%" stop-color="#3CB59A"/><stop offset="91.7%" stop-color="#DDB752"/><stop offset="93.2%" stop-color="#DDB752"/><stop offset="94.9%" stop-color="#F8FA10"/><stop offset="98.8%" stop-color="#F8FA10"/></linearGradient><linearGradient id="h10"><stop offset="1.2%" stop-color="#352A87"/><stop offset="7.1%" stop-color="#352A87"/><stop offset="9.5%" stop-color="#1A55CC"/><stop offset="12.3%" stop-color="#1A55CC"/><stop offset="14.2%" stop-color="#1282D4"/><stop offset="15.9%" stop-color="#1282D4"/><stop offset="17.7%" stop-color="#1E9CC2"/><stop offset="20.6%" stop-color="#1E9CC2"/><stop offset="22.9%" stop-color="#2CB3A2"/><stop offset="26.7%" stop-color="#2CB3A2"/><stop offset="29.1%" stop-color="#5AB98E"/><stop offset="35.9%" stop-color="#5AB98E"/><stop offset="38.3%" stop-color="#2AAFA5"/><stop offset="41.2%" stop-color="#2AAFA5"/><stop offset="43%" stop-color="#1282D4"/><stop offset="44.7%" stop-color="#1282D4"/><stop offset="46%" stop-color="#1A55CC"/><stop offset="47.8%" stop-color="#1A55CC"/><stop offset="49.4%" stop-color="#3535A0"/><stop offset="51.7%" stop-color="#3535A0"/><stop offset="53.3%" stop-color="#2D3CA8"/><stop offset="55%" stop-color="#2D3CA8"/><stop offset="56.6%" stop-color="#0A62DF"/><stop offset="58.9%" stop-color="#0A62DF"/><stop offset="60.7%" stop-color="#1A90CC"/><stop offset="63%" stop-color="#1A90CC"/><stop offset="64.7%" stop-color="#3CB59A"/><stop offset="66.7%" stop-color="#3CB59A"/><stop offset="67.9%" stop-color="#C0BB62"/><stop offset="69.1%" stop-color="#C0BB62"/><stop offset="70.7%" stop-color="#F4BA40"/><stop offset="75%" stop-color="#F4BA40"/><stop offset="77.4%" stop-color="#F5D32C"/><stop offset="80.2%" stop-color="#F5D32C"/><stop offset="82.6%" stop-color="#F8FA10"/><stop offset="90.5%" stop-color="#F8FA10"/><stop offset="92.1%" stop-color="#F3B641"/><stop offset="93.3%" stop-color="#F3B641"/><stop offset="94.9%" stop-color="#A8BD6A"/><stop offset="98.8%" stop-color="#A8BD6A"/></linearGradient><linearGradient id="h11"><stop offset="1.2%" stop-color="#3537A0"/><stop offset="6.1%" stop-color="#3537A0"/><stop offset="8.5%" stop-color="#1E4ECC"/><stop offset="19.5%" stop-color="#1E4ECC"/><stop offset="21.9%" stop-color="#0F5EDD"/><stop offset="30.8%" stop-color="#0F5EDD"/><stop offset="33.2%" stop-color="#1178D8"/><stop offset="44.2%" stop-color="#1178D8"/><stop offset="46.6%" stop-color="#1482D4"/><stop offset="54.5%" stop-color="#1482D4"/><stop offset="56.8%" stop-color="#1E9CC2"/><stop offset="59.7%" stop-color="#1E9CC2"/><stop offset="61.4%" stop-color="#2CB3A2"/><stop offset="62.8%" stop-color="#2CB3A2"/><stop offset="63.9%" stop-color="#A8BC6C"/><stop offset="65.4%" stop-color="#A8BC6C"/><stop offset="66.4%" stop-color="#F3B641"/><stop offset="67.6%" stop-color="#F3B641"/><stop offset="69.2%" stop-color="#F5D32C"/><stop offset="72.5%" stop-color="#F5D32C"/><stop offset="74.9%" stop-color="#F8FA10"/><stop offset="90.5%" stop-color="#F8FA10"/><stop offset="92.1%" stop-color="#F5E71E"/><stop offset="93.3%" stop-color="#F5E71E"/><stop offset="94.9%" stop-color="#F5CB32"/><stop offset="98.8%" stop-color="#F5CB32"/></linearGradient><linearGradient id="h12"><stop offset="1.2%" stop-color="#3537A0"/><stop offset="6.1%" stop-color="#3537A0"/><stop offset="8.4%" stop-color="#2E44B8"/><stop offset="11.3%" stop-color="#2E44B8"/><stop offset="13.6%" stop-color="#1A55CC"/><stop offset="19.5%" stop-color="#1A55CC"/><stop offset="21.9%" stop-color="#0A62DF"/><stop offset="30.8%" stop-color="#0A62DF"/><stop offset="33.2%" stop-color="#1178D8"/><stop offset="44.2%" stop-color="#1178D8"/><stop offset="46.6%" stop-color="#1282D4"/><stop offset="51.9%" stop-color="#1282D4"/><stop offset="54.3%" stop-color="#1E9CC2"/><stop offset="59.6%" stop-color="#1E9CC2"/><stop offset="61.5%" stop-color="#2CB3A2"/><stop offset="63.2%" stop-color="#2CB3A2"/><stop offset="64.3%" stop-color="#C0BB62"/><stop offset="65.5%" stop-color="#C0BB62"/><stop offset="66.4%" stop-color="#F4BA40"/><stop offset="67.6%" stop-color="#F4BA40"/><stop offset="69.2%" stop-color="#F5D32C"/><stop offset="73%" stop-color="#F5D32C"/><stop offset="75.4%" stop-color="#F8FA10"/><stop offset="87.9%" stop-color="#F8FA10"/><stop offset="90.1%" stop-color="#F5E41E"/><stop offset="92.7%" stop-color="#F5E41E"/><stop offset="94.9%" stop-color="#F4BA3C"/><stop offset="98.8%" stop-color="#F4BA3C"/></linearGradient><linearGradient id="h13"><stop offset="1.2%" stop-color="#3537A0"/><stop offset="6.1%" stop-color="#3537A0"/><stop offset="8.5%" stop-color="#2248C4"/><stop offset="19.5%" stop-color="#2248C4"/><stop offset="21.9%" stop-color="#0A62DF"/><stop offset="30.8%" stop-color="#0A62DF"/><stop offset="33.2%" stop-color="#1282D4"/><stop offset="44.2%" stop-color="#1282D4"/><stop offset="46.6%" stop-color="#1482D4"/><stop offset="54.5%" stop-color="#1482D4"/><stop offset="56.8%" stop-color="#1E9CC2"/><stop offset="59.7%" stop-color="#1E9CC2"/><stop offset="61.7%" stop-color="#2CB3A2"/><stop offset="64%" stop-color="#2CB3A2"/><stop offset="65.5%" stop-color="#B0BC68"/><stop offset="66.9%" stop-color="#B0BC68"/><stop offset="68.7%" stop-color="#F4BA40"/><stop offset="72.5%" stop-color="#F4BA40"/><stop offset="74.9%" stop-color="#F5D32C"/><stop offset="80.2%" stop-color="#F5D32C"/><stop offset="82.6%" stop-color="#F8FA10"/><stop offset="98.8%" stop-color="#F8FA10"/></linearGradient><linearGradient id="h14"><stop offset="1.2%" stop-color="#35339A"/><stop offset="6.1%" stop-color="#35339A"/><stop offset="8.5%" stop-color="#2A40B8"/><stop offset="19.5%" stop-color="#2A40B8"/><stop offset="21.9%" stop-color="#0A62DF"/><stop offset="30.8%" stop-color="#0A62DF"/><stop offset="33.2%" stop-color="#1178D8"/><stop offset="44.2%" stop-color="#1178D8"/><stop offset="46.6%" stop-color="#1485D2"/><stop offset="54.5%" stop-color="#1485D2"/><stop offset="56.6%" stop-color="#1E9CC2"/><stop offset="58.9%" stop-color="#1E9CC2"/><stop offset="60.7%" stop-color="#2CB3A2"/><stop offset="63%" stop-color="#2CB3A2"/><stop offset="64.9%" stop-color="#A8BC6C"/><stop offset="67.5%" stop-color="#A8BC6C"/><stop offset="69.7%" stop-color="#F4B840"/><stop offset="72.5%" stop-color="#F4B840"/><stop offset="74.9%" stop-color="#F5D62A"/><stop offset="80.2%" stop-color="#F5D62A"/><stop offset="82.6%" stop-color="#F8FA10"/><stop offset="98.8%" stop-color="#F8FA10"/></linearGradient></defs><rect x="793.1" y="618.4" width="321.6" height="40.5" fill="url(#h0)"/><rect x="793.1" y="657.7" width="321.6" height="40.5" fill="url(#h1)"/><rect x="793.1" y="696.9" width="321.6" height="40.5" fill="url(#h2)"/><rect x="793.1" y="736.2" width="321.6" height="40.5" fill="url(#h3)"/><rect x="793.1" y="775.4" width="321.6" height="40.5" fill="url(#h4)"/><rect x="793.1" y="814.7" width="321.6" height="40.5" fill="url(#h5)"/><rect x="793.1" y="853.9" width="321.6" height="40.5" fill="url(#h6)"/><rect x="793.1" y="893.2" width="321.6" height="40.5" fill="url(#h7)"/><rect x="793.1" y="932.4" width="321.6" height="40.5" fill="url(#h8)"/><rect x="793.1" y="971.7" width="321.6" height="40.5" fill="url(#h9)"/><rect x="793.1" y="1010.9" width="321.6" height="40.5" fill="url(#h10)"/><rect x="793.1" y="1050.2" width="321.6" height="40.5" fill="url(#h11)"/><rect x="793.1" y="1089.4" width="321.6" height="40.5" fill="url(#h12)"/><rect x="793.1" y="1128.7" width="321.6" height="40.5" fill="url(#h13)"/><rect x="793.1" y="1167.9" width="321.6" height="39.3" fill="url(#h14)"/><text x="1124.5" y="648.4" font-size="28.5" fill="#333333">eGFR</text><text x="1124.5" y="685" font-size="28.5" fill="#333333">GlomArea</text><text x="1124.5" y="721.2" font-size="28.5" fill="#333333">TuftArea</text><text x="1124.5" y="757.3" font-size="28.5" fill="#333333">TuftAreaFraction</text><text x="1124.5" y="793.6" font-size="28.5" fill="#333333">GlomDiameter</text><text x="1124.5" y="830.1" font-size="28.5" fill="#333333">GlomCircularity</text><text x="1124.5" y="871.7" font-size="28.5" fill="#333333">GlomSolidity</text><text x="1124.5" y="913.7" font-size="28.5" fill="#333333">TuftCircularity</text><text x="1124.5" y="955.7" font-size="28.5" fill="#333333">TuftSolidity</text><text x="1124.5" y="996.8" font-size="28.5" fill="#333333">BowmanArea</text><text x="1124.5" y="1032.9" font-size="28.5" fill="#333333">GlomDistance</text><text x="1124.5" y="1069.7" font-size="28.5" fill="#333333">GlomEccentricity</text><text x="1124.5" y="1111.2" font-size="28.5" fill="#333333">GlomElongation</text><text x="1124.5" y="1152.8" font-size="28.5" fill="#333333">TuftEccentricity</text><text x="1124.5" y="1194.8" font-size="28.5" fill="#333333">TuftElongation</text><text x="742" y="581" font-size="50" font-weight="bold">c</text><text x="788.3" y="610.5" font-size="41.5">Morphometry in IgAN progression</text><line x1="791.6" y1="1221.8" x2="1090" y2="1221.8" stroke="#000" stroke-width="2.2"/><path d="M1114 1221.8 L1076 1211.4 L1085 1221.8 L1076 1232.4 Z" fill="#000"/><text x="953" y="1272.7" font-size="38.5" text-anchor="middle">Pseudotime</text><text x="953" y="1298.9" font-size="28.5" text-anchor="middle">(Disease progression)</text><text x="1169" y="1251.8" font-size="28.5">FeatureScore</text><defs><linearGradient id="fsg"><stop offset="0%" stop-color="#352A87"/><stop offset="8.3%" stop-color="#2E3DA8"/><stop offset="16.7%" stop-color="#1560D8"/><stop offset="25%" stop-color="#0A6AE0"/><stop offset="33.3%" stop-color="#1282D4"/><stop offset="41.7%" stop-color="#1E9CC2"/><stop offset="50%" stop-color="#2CB3A2"/><stop offset="58.3%" stop-color="#6DBA86"/><stop offset="66.7%" stop-color="#C0BB62"/><stop offset="75%" stop-color="#F4B840"/><stop offset="83.3%" stop-color="#F5CF32"/><stop offset="91.7%" stop-color="#F8FA10"/><stop offset="100%" stop-color="#F8FA10"/></linearGradient></defs><rect x="1180" y="1256.7" width="149.7" height="29.7" fill="url(#fsg)"/><line x1="1183.2" y1="1256.7" x2="1183.2" y2="1262.5" stroke="#fff" stroke-width="1.1"/><line x1="1183.2" y1="1280.6" x2="1183.2" y2="1286.4" stroke="#fff" stroke-width="1.1"/><line x1="1326.6" y1="1256.7" x2="1326.6" y2="1262.5" stroke="#fff" stroke-width="1.1"/><line x1="1326.6" y1="1280.6" x2="1326.6" y2="1286.4" stroke="#fff" stroke-width="1.1"/><text x="1184" y="1306.2" font-size="22.5" text-anchor="middle" fill="#333333">−1.5</text><text x="1326" y="1306.2" font-size="22.5" text-anchor="middle" fill="#333333">1.5</text><path d="M1555.8 950.1 L1559.7 951.5 L1564.9 953.4 L1571.1 955.6 L1578 958 L1585.1 960.6 L1592.2 963.1 L1598.7 965.5 L1604.5 967.5 L1609.5 969.3 L1614.2 970.9 L1618.5 972.4 L1622.7 973.9 L1626.8 975.3 L1630.8 976.7 L1635 978.1 L1639.2 979.6 L1643.5 981.1 L1647.9 982.7 L1652.2 984.2 L1656.6 985.8 L1661 987.4 L1665.3 988.9 L1669.7 990.4 L1674 991.8 L1678.3 993.2 L1682.7 994.5 L1687 995.8 L1691.4 997.1 L1695.7 998.4 L1700 999.6 L1704.4 1000.9 L1708.7 1002.2 L1713 1003.5 L1717.4 1004.8 L1721.7 1006.2 L1726.1 1007.5 L1730.5 1008.8 L1734.8 1010.1 L1739.2 1011.4 L1743.5 1012.6 L1747.8 1013.8 L1752.2 1014.9 L1756.5 1016 L1760.9 1017.1 L1765.2 1018.1 L1769.5 1019.2 L1773.9 1020.2 L1778.2 1021.3 L1782.5 1022.4 L1786.9 1023.5 L1791.2 1024.6 L1795.6 1025.6 L1800 1026.7 L1804.3 1027.8 L1808.7 1028.9 L1813 1030 L1817.3 1031.1 L1821.7 1032.1 L1826 1033 L1830.4 1034 L1834.7 1035.1 L1839 1036.2 L1843.4 1037.4 L1847.7 1038.7 L1852 1040.2 L1856.4 1041.8 L1860.7 1043.6 L1865.1 1045.4 L1869.5 1047.3 L1873.8 1049.1 L1878.2 1050.9 L1882.5 1052.6 L1886.7 1054.2 L1890.7 1055.6 L1894.7 1057 L1898.7 1058.4 L1902.8 1059.8 L1907.2 1061.3 L1911.9 1063 L1917.2 1064.8 L1923.4 1067 L1930.6 1069.5 L1938.4 1072.3 L1946.3 1075.1 L1954 1077.8 L1961 1080.3 L1966.8 1082.4 L1971.1 1083.9" fill="none" stroke="#2E4553" stroke-width="2.9"/><path d="M1555.8 1150.6 L1558.2 1148.3 L1561.3 1145.1 L1565.1 1141.4 L1569.3 1137.3 L1573.7 1132.9 L1578.3 1128.5 L1582.8 1124.3 L1587.1 1120.3 L1591.3 1116.6 L1595.6 1112.9 L1599.9 1109.2 L1604.3 1105.5 L1608.7 1101.8 L1613.1 1098.2 L1617.5 1094.5 L1621.9 1090.8 L1626.2 1087.1 L1630.6 1083.4 L1634.9 1079.7 L1639.2 1075.9 L1643.6 1072.2 L1647.9 1068.6 L1652.3 1064.9 L1656.6 1061.3 L1660.9 1057.7 L1665.3 1054.2 L1669.6 1050.8 L1674 1047.3 L1678.4 1043.9 L1682.7 1040.4 L1687.1 1037 L1691.4 1033.5 L1695.9 1029.9 L1700.5 1026.2 L1705.2 1022.4 L1709.8 1018.6 L1714.4 1015 L1718.6 1011.6 L1722.6 1008.4 L1726.1 1005.7 L1729.1 1003.4 L1731.7 1001.5 L1733.9 999.8 L1735.9 998.4 L1737.7 997.1 L1739.6 995.9 L1741.4 994.8 L1743.5 993.5 L1745.6 992.3 L1747.4 991.1 L1749.3 990.1 L1751.1 989 L1753.1 988 L1755.3 987 L1757.9 985.9 L1760.9 984.8 L1764.4 983.6 L1768.4 982.3 L1772.6 980.9 L1777.2 979.6 L1781.8 978.3 L1786.5 976.9 L1791.1 975.6 L1795.6 974.4 L1799.9 973.2 L1804.3 972.1 L1808.6 971.1 L1812.9 970 L1817.3 969 L1821.6 968 L1826 966.9 L1830.3 965.7 L1834.6 964.5 L1839 963.3 L1843.3 962.2 L1847.7 960.9 L1852.1 959.7 L1856.4 958.3 L1860.8 956.9 L1865.1 955.3 L1869.4 953.6 L1873.8 951.7 L1878.1 949.8 L1882.5 947.7 L1886.8 945.7 L1891.1 943.6 L1895.5 941.6 L1899.8 939.7 L1904.1 937.9 L1908.5 936.1 L1912.8 934.4 L1917.1 932.7 L1921.4 931 L1925.8 929.3 L1930.2 927.6 L1934.6 925.8 L1939.3 923.9 L1944.5 921.9 L1949.8 919.7 L1955 917.6 L1960 915.6 L1964.5 913.8 L1968.3 912.3 L1971.1 911.2" fill="none" stroke="#8D8DAF" stroke-width="2.9"/><path d="M1555.8 1179.4 L1558.1 1179.2 L1560.9 1179.2 L1564.3 1179.1 L1568.2 1178.9 L1572.5 1178.6 L1577.1 1178 L1582 1177.2 L1587.1 1176 L1592.6 1174.4 L1598.7 1172.5 L1605.1 1170.3 L1611.8 1167.8 L1618.7 1165.2 L1625.7 1162.4 L1632.5 1159.6 L1639.2 1156.8 L1645.8 1153.9 L1652.7 1150.7 L1659.5 1147.5 L1666.4 1144.1 L1673.1 1140.7 L1679.6 1137.3 L1685.7 1134 L1691.4 1130.8 L1696.6 1127.8 L1701.3 1124.9 L1705.7 1122 L1709.8 1119.2 L1713.8 1116.3 L1717.8 1113.3 L1721.9 1110 L1726.1 1106.5 L1730.4 1102.7 L1734.8 1098.7 L1739.1 1094.5 L1743.5 1090.2 L1747.9 1085.7 L1752.2 1081.1 L1756.6 1076.5 L1760.9 1071.7 L1765.2 1066.9 L1769.6 1062 L1773.9 1057 L1778.3 1051.9 L1782.6 1046.7 L1786.9 1041.3 L1791.3 1035.8 L1795.6 1030 L1799.9 1024.1 L1804.3 1018.1 L1808.6 1012 L1812.9 1005.7 L1817.3 999.2 L1821.6 992.4 L1826 985.3 L1830.3 977.9 L1834.6 970.1 L1839 962 L1843.3 953.6 L1847.7 944.9 L1852.1 936 L1856.4 926.9 L1860.8 917.7 L1865.1 908.4 L1869.4 899 L1873.8 889.3 L1878.1 879.5 L1882.5 869.5 L1886.8 859.4 L1891.1 849.2 L1895.5 838.9 L1899.8 828.5 L1904.1 818 L1908.5 807.5 L1912.8 796.8 L1917.1 786 L1921.4 775.1 L1925.8 764.1 L1930.2 752.9 L1934.6 741.6 L1939.3 729.4 L1944.5 716.1 L1949.8 702.2 L1955 688.4 L1960 675.3 L1964.5 663.5 L1968.3 653.5 L1971.1 646.1" fill="none" stroke="#FFC857" stroke-width="2.9"/><line x1="1535" y1="618.4" x2="1535" y2="1205.9" stroke="#000" stroke-width="1.9"/><line x1="1534.1" y1="1205" x2="1993.5" y2="1205" stroke="#000" stroke-width="1.9"/><line x1="1529.8" y1="767.2" x2="1534.1" y2="767.2" stroke="#333333" stroke-width="1.6"/><text x="1525.2" y="777.3" font-size="28" text-anchor="end" fill="#333333">8</text><line x1="1529.8" y1="931.4" x2="1534.1" y2="931.4" stroke="#333333" stroke-width="1.6"/><text x="1525.2" y="941.5" font-size="28" text-anchor="end" fill="#333333">6</text><line x1="1529.8" y1="1095.6" x2="1534.1" y2="1095.6" stroke="#333333" stroke-width="1.6"/><text x="1525.2" y="1105.7" font-size="28" text-anchor="end" fill="#333333">4</text><line x1="1643.4" y1="1205.9" x2="1643.4" y2="1211.5" stroke="#333333" stroke-width="1.6"/><text x="1643.4" y="1237.8" font-size="28" text-anchor="middle" fill="#333333">25</text><line x1="1753.1" y1="1205.9" x2="1753.1" y2="1211.5" stroke="#333333" stroke-width="1.6"/><text x="1753.1" y="1237.8" font-size="28" text-anchor="middle" fill="#333333">50</text><line x1="1862.3" y1="1205.9" x2="1862.3" y2="1211.5" stroke="#333333" stroke-width="1.6"/><text x="1862.3" y="1237.8" font-size="28" text-anchor="middle" fill="#333333">75</text><line x1="1971.5" y1="1205.9" x2="1971.5" y2="1211.5" stroke="#333333" stroke-width="1.6"/><text x="1971.5" y="1237.8" font-size="28" text-anchor="middle" fill="#333333">100</text><text x="1764" y="1274" font-size="38.5" text-anchor="middle">Pseudotime</text><text x="1764" y="1299.5" font-size="28.5" text-anchor="middle">(Disease progression)</text><text x="1496" y="912" font-size="38.5" text-anchor="middle" transform="rotate(-90 1496 912)">Fraction of Glomeruli [%]</text><text x="1454.5" y="581" font-size="50" font-weight="bold">d</text><text x="1532.5" y="610.8" font-size="41.5">Clinical subgroups</text><rect x="1547.7" y="631.6" width="34.6" height="34.6" fill="#2E4553" stroke="#1a1a1a" stroke-width="1.1"/><text x="1588" y="661" font-size="34">eGFR &gt;60</text><rect x="1547.7" y="672.9" width="34.6" height="34.6" fill="#8D8DAF" stroke="#1a1a1a" stroke-width="1.1"/><text x="1588" y="701.6" font-size="34">eGFR 30-60</text><rect x="1547.7" y="714.2" width="34.6" height="34.6" fill="#FFC857" stroke="#1a1a1a" stroke-width="1.1"/><text x="1588" y="742.3" font-size="34">eGFR &lt;30</text><text x="-1" y="1317.1" font-size="50" font-weight="bold">b'</text><text x="2.5" y="1366.7" font-size="41.5">Glomerular phenotypes along pseudotime</text><defs><linearGradient id="ptg2" x1="0" x2="1" y1="0" y2="0"><stop offset="0%" stop-color="#030328"/><stop offset="5%" stop-color="#061262"/><stop offset="10%" stop-color="#061A90"/><stop offset="15%" stop-color="#0A25BE"/><stop offset="20%" stop-color="#102DE2"/><stop offset="25%" stop-color="#1B33FD"/><stop offset="30%" stop-color="#3D34FA"/><stop offset="35%" stop-color="#6034EE"/><stop offset="40%" stop-color="#8432E2"/><stop offset="45%" stop-color="#A430D8"/><stop offset="50%" stop-color="#C22ECF"/><stop offset="55%" stop-color="#D83EC2"/><stop offset="60%" stop-color="#EE55A8"/><stop offset="65%" stop-color="#FF6896"/><stop offset="70%" stop-color="#FF7C80"/><stop offset="75%" stop-color="#FF986A"/><stop offset="80%" stop-color="#FFB24E"/><stop offset="85%" stop-color="#FFCB30"/><stop offset="90%" stop-color="#FFDF3A"/><stop offset="95%" stop-color="#FFEF4E"/><stop offset="100%" stop-color="#FFFA5A"/></linearGradient></defs><rect x="0" y="1384.6" width="1990" height="59.6" fill="url(#ptg2)"/><rect x="498.1" y="1384.2" width="3.8" height="12.6" fill="#fff"/><rect x="498.1" y="1432.2" width="3.8" height="12.6" fill="#fff"/><rect x="994.1" y="1384.2" width="3.8" height="12.6" fill="#fff"/><rect x="994.1" y="1432.2" width="3.8" height="12.6" fill="#fff"/><rect x="1490.6" y="1384.2" width="3.8" height="12.6" fill="#fff"/><rect x="1490.6" y="1432.2" width="3.8" height="12.6" fill="#fff"/><rect x="1986.1" y="1384.2" width="3.8" height="12.6" fill="#fff"/><rect x="1986.1" y="1432.2" width="3.8" height="12.6" fill="#fff"/><defs><filter id="mot" x="0" y="0" width="1" height="1" color-interpolation-filters="sRGB"><feTurbulence type="fractalNoise" baseFrequency="0.03" numOctaves="3" seed="11"/><feColorMatrix type="matrix" values="0 0 0 0 0  0 0 0 0 0  0 0 0 0 0  0 0 0 2.2 -0.55"/><feComposite in="SourceGraphic" operator="in"/></filter><filter id="mem0" x="0" y="0" width="1" height="1" color-interpolation-filters="sRGB"><feTurbulence type="fractalNoise" baseFrequency="0.1" numOctaves="2" seed="31"/><feColorMatrix type="matrix" values="0 0 0 0 0  0 0 0 0 0  0 0 0 0 0  1 0 0 0 0"/><feComponentTransfer><feFuncA type="table" tableValues="0 0 0 0 0 0 .9 0 0 0 0 .9 0 0 0 0 .9 0 0 0 0 .9 0 0 0 0 0 0"/></feComponentTransfer><feComposite in="SourceGraphic" operator="in"/></filter><filter id="mem1" x="0" y="0" width="1" height="1" color-interpolation-filters="sRGB"><feTurbulence type="fractalNoise" baseFrequency="0.14" numOctaves="2" seed="37"/><feColorMatrix type="matrix" values="0 0 0 0 0  0 0 0 0 0  0 0 0 0 0  1 0 0 0 0"/><feComponentTransfer><feFuncA type="table" tableValues="0 0 0 0 0 0 .9 0 0 0 0 .9 0 0 0 0 .9 0 0 0 0 .9 0 0 0 0 0 0"/></feComponentTransfer><feComposite in="SourceGraphic" operator="in"/></filter><filter id="mem2" x="0" y="0" width="1" height="1" color-interpolation-filters="sRGB"><feTurbulence type="fractalNoise" baseFrequency="0.075" numOctaves="2" seed="41"/><feColorMatrix type="matrix" values="0 0 0 0 0  0 0 0 0 0  0 0 0 0 0  1 0 0 0 0"/><feComponentTransfer><feFuncA type="table" tableValues="0 0 0 0 0 0 .9 0 0 0 0 .9 0 0 0 0 .9 0 0 0 0 .9 0 0 0 0 0 0"/></feComponentTransfer><feComposite in="SourceGraphic" operator="in"/></filter><filter id="hol" x="0" y="0" width="1" height="1" color-interpolation-filters="sRGB"><feTurbulence type="fractalNoise" baseFrequency="0.06" numOctaves="2" seed="71"/><feColorMatrix type="matrix" values="0 0 0 0 0  0 0 0 0 0  0 0 0 0 0  0 -9 0 0 4.3"/><feComposite in="SourceGraphic" operator="in"/></filter></defs><clipPath id="tc0"><rect x="0" y="1455" width="242.2" height="243"/></clipPath><g clip-path="url(#tc0)"><rect x="0" y="1455" width="242.2" height="243" fill="#EEE9F0"/><rect x="0" y="1455" width="242.2" height="243" fill="#C8B6D0" filter="url(#mot)" opacity="0.4"/><ellipse cx="200" cy="1545" rx="38" ry="80" fill="#DCD4E0"/><ellipse cx="25" cy="1510" rx="28" ry="50" fill="#D9CCDD"/><ellipse cx="150" cy="1690" rx="70" ry="18" fill="#DDD4E0"/><ellipse cx="30" cy="1662" rx="35" ry="30" fill="#DCD2E0"/><rect x="0" y="1455" width="242.2" height="243" fill="#FBFAFB" filter="url(#hol)" opacity="0.4"/><rect x="0" y="1455" width="242.2" height="243" fill="#B99AC4" filter="url(#mem0)" opacity="0.55"/><clipPath id="tf0_0"><ellipse cx="120.4" cy="1578" rx="86" ry="91" fill="none" transform="rotate(-10 120.4 1578)"/></clipPath><g clip-path="url(#tf0_0)"><rect x="0" y="1455" width="242.2" height="243" fill="#EEE8F0"/><rect x="0" y="1455" width="242.2" height="243" fill="#FBFAFB" filter="url(#hol)" opacity="0.45"/><rect x="0" y="1455" width="242.2" height="243" fill="#B48EC0" filter="url(#mem2)" opacity="0.85"/></g><ellipse cx="120.4" cy="1578" rx="88" ry="93" fill="none" stroke="#B08ABC" stroke-width="2.4" transform="rotate(-10 120.4 1578)" opacity="0.95"/><path d="M8 1458 Q30 1452 55 1460 Q70 1466 60 1470 Q40 1464 20 1468 Q5 1466 8 1458 Z" fill="#A878B0" opacity="0.7"/><path d="M208 1457 Q225 1452 235 1460 Q238 1472 228 1476 Q214 1470 208 1457 Z" fill="#A070A8" opacity="0.75"/><ellipse cx="158" cy="1477" rx="9" ry="9" fill="none" stroke="#9460A0" stroke-width="3" opacity="0.8"/><path d="M98.9 1569.8l0.7 0.8M242 1506.9l-0.9 1M171.4 1599.2l1.1 1.1M0.3 1641.5l0 0.3M57.2 1692.9l0 0.2M204.6 1585.5l0 0M230.3 1493.7l-1.1 0.8M58.2 1650.4l1.3 0.1M47 1582.6l-1.1 0.7M148.4 1502.3l-0.1 1.3M227.9 1693.6l-1.6 0M97.2 1646.7l0.1 0.1M134 1529.3l-0.3 0.2M116.1 1512.6l-0.2 0.7M232.2 1676.2l0 1.4M97.4 1663.4l1.1 0.4M101.8 1579.8l-0.7 0.4M98.1 1669.5l-0.7 0.3M134 1501.1l0.1 0M13.9 1621.5l0.1 0M88.7 1500.4l-0.1 0.1M190.2 1682.5l-0.2 0M91 1516.9l-0.1 0.6M82.7 1565.5l0 0M199.6 1622.3l-0.1 1.1M211 1673l0.1 0.6M175.7 1520.8l0 0.2M129.6 1601.7l1.3 0.4M118.8 1484.2l0.4 1.4M127.1 1694.9l-0.4 0.1M231.4 1470.4l1.2 0.4M107.4 1479l0 0.1M59.8 1583.8l-0.1 0.3M121.5 1521.8l-0.7 1.3M78.4 1673l-1.1 0.8M88.4 1612.5l1.2 0M42.6 1563.1l0 1.2M148.1 1548.9l-0.5 1.4M95.9 1506.4l1.1 0.1M189.3 1515.2l-0.7 0.3M151.6 1506.8l-1.4 0.7M184 1614.2l-1.3 0M199.3 1599.7l-0.3 0M55.6 1473.3l-0.1 1M165.7 1575l0.3 0.8M165.2 1605.3l0.3 0.2M106.9 1607l-0.1 0M62.9 1533.5l-0.7 1M114.6 1632.1l-0.8 1.1M124.6 1517.8l1 1.2M90.4 1506l-0.8 1.2M203.1 1473.7l-1.2 0.5M14 1695l0.3 0.6M225.6 1575.7l0.1 0.9M138.3 1618.7l0 0.3M68.2 1609.1l0.1 0.2M144.3 1509.4l0 0M221.7 1471.5l0.9 0.6M106.8 1521.6l-0.1 0M217.2 1592.3l-0.3 1M133.4 1551.6l0.4 0.6M188.5 1592.9l1.4 0.7M57.9 1557.1l0 1.4M141 1642.4l0.3 0.6M109.7 1613.1l-0.2 0.9M176.6 1607.3l0.4 0.4M125.7 1578.4l1.4 0.7M202.2 1572.5l-0.1 0.1M53.2 1652.9l-1 0.7M36.8 1492.2l0.5 1M68 1528.4l-0.6 1.1M187.7 1578.7l-1.1 0.8M210.7 1551.8l0 0.3M129.9 1483.2l-0.1 0.5M53.8 1580.4l0.3 0M172.3 1638.9l0.8 0.6M171.7 1697.2l-1.1 0.1M41.9 1574.1l-0.1 0.1M202.2 1647.4l0 0M124.9 1615.4l0.6 0.7M66.8 1640.9l0.1 0.4M109.7 1581.1l-0.1 0.1M87.1 1582.3l0.1 0M4.1 1494.3l0.3 0.1M110.4 1638.5l-0.8 0.8M88.1 1527.4l-0.5 0.7M82 1535.1l0.1 0.1M218.7 1636.5l-1.2 1M241.8 1495.3l-0.8 0.2M184.9 1486.7l-0.5 0.4M155.8 1469.4l0.1 0M57.5 1600.6l1.3 0.5M201.8 1693.6l-1.4 0.3M99.5 1636.7l-0.3 0.9M118.4 1560.4l-0.4 0.4M122.2 1647.3l-0.1 0M228.8 1634.9l-1.2 0.1M52.1 1535.6l-0.7 0.8M58.3 1493.6l-0.5 0.4M182.7 1597l0.4 0.6M20.4 1483.3l-0.1 1.2M141.8 1540.1l0.3 0.4M193.3 1569l1.3 1M85.2 1674.6l-1 0.8M30.4 1519.9l-0.8 0.2M8.5 1475.1l0 0.6M170.1 1575.8l0.1 0.3M53.2 1640.4l0.8 0.4M65.9 1565.1l-0.4 0.1M26.4 1599.9l-0.4 1.1M237.1 1525.6l0.1 0M148.9 1484.7l-0.5 1.4M116.5 1521.7l0.1 0.2M164.9 1569.5l-0.1 0.2M95.5 1667.8l0.1 0.1M162 1543.3l1 0.2M124.9 1664.7l0.7 0.2M198.5 1555.3l0.4 0.6M83.1 1576.2l0.3 1.6M51.9 1591.6l-0.1 1M112.3 1559.6l-1.2 0.2M80.6 1634.3l-0.1 0.5M20.2 1696.8l-1 0.9M148.9 1528.6l-0.1 1.3M115.5 1590.9l0.9 0.2M218.2 1523.5l0 0M97.5 1694.7l0 0.2M46.5 1546.6l-0.4 0.7M181.7 1565.9l0.3 0.2M94.6 1602.8l-0.3 0.8M133.6 1660.7l0.4 0.7M127.1 1679.2l0.1 0.2M198.8 1602l-0.6 1M97 1520.2l-1.2 0.9M51.8 1617.8l-0.9 0.2M29.7 1508.8l-0.5 0.2M153.3 1516.3l-1.3 0M191 1633.2l-0.2 0.4" stroke="#5A5882" stroke-width="3.6" stroke-linecap="round" opacity="0.62" fill="none"/></g><rect x="150.1" y="1682.1" width="80.6" height="4.6" fill="#000"/><clipPath id="tc1"><rect x="250.8" y="1455" width="241.7" height="243"/></clipPath><g clip-path="url(#tc1)"><rect x="250.8" y="1455" width="241.7" height="243" fill="#EADDE9"/><rect x="250.8" y="1455" width="241.7" height="243" fill="#C8A0C4" filter="url(#mot)" opacity="0.4"/><ellipse cx="268" cy="1560" rx="18" ry="90" fill="#E0C0DA"/><ellipse cx="475" cy="1600" rx="22" ry="60" fill="#E2CCE0"/><rect x="250.8" y="1455" width="241.7" height="243" fill="#FBFAFB" filter="url(#hol)" opacity="0.35"/><rect x="250.8" y="1455" width="241.7" height="243" fill="#B27AAC" filter="url(#mem0)" opacity="0.6"/><path d="M440 1470 C470 1462 492 1470 492 1500 L492 1560 C480 1575 462 1560 458 1540 C452 1510 440 1495 440 1470 Z" fill="#FAF9FB" opacity="0.95"/><path d="M252 1490 C262 1485 275 1495 272 1520 C268 1545 262 1560 252 1565 Z" fill="#FAF9FB" opacity="0.95"/><ellipse cx="372" cy="1577" rx="82" ry="88" fill="#F8F4F8"/><clipPath id="tf1_3"><ellipse cx="374" cy="1574" rx="76" ry="82" fill="none"/></clipPath><g clip-path="url(#tf1_3)"><rect x="250.8" y="1455" width="241.7" height="243" fill="#E0C2DC"/><rect x="250.8" y="1455" width="241.7" height="243" fill="#FBFAFB" filter="url(#hol)" opacity="0.45"/><rect x="250.8" y="1455" width="241.7" height="243" fill="#9C5A98" filter="url(#mem0)" opacity="0.9"/></g><ellipse cx="372" cy="1577" rx="82" ry="88" fill="none" stroke="#A06AA0" stroke-width="2.0" opacity="0.9"/><ellipse cx="466" cy="1640" rx="10" ry="22" fill="#FAF9FB" opacity="0.9"/><path d="M486.1 1663.5l0.3 1.1M267.2 1651.5l-0.1 0.2M477.7 1566.1l-0.5 1.2M270.4 1657.6l0 0.1M373.3 1609.9l-0.4 1.4M327.5 1476.2l0.4 0.3M434.8 1558.3l0.2 0M375 1547.4l0.4 1.4M387.2 1623.9l-1.3 0.3M480.2 1609.5l-0.5 1.4M326.9 1458l0.6 0.2M411.7 1526.7l-0.3 0.6M269.8 1663.4l0.7 1.1M376.6 1653.4l-1.2 0.6M392.3 1491.7l-0.1 0.6M420.9 1494.1l-0.7 0.8M330.5 1491.3l-0.5 1.4M384.4 1607.2l0.4 0M437.1 1546.2l1.2 0.9M374.8 1578.1l-0.4 0.5M268.3 1679.5l0 1.6M334.8 1655.8l-0.3 0.1M439.8 1472l-1.1 0.3M379.8 1461.5l-0.6 0.3M396.8 1527.1l0.5 0.9M329.2 1688.2l1.1 0.6M425.5 1600.7l-0.4 0.9M343.8 1687.8l1.3 0.3M358.6 1530.8l-0.4 0.6M255.9 1502.5l-1.3 0.1M305.1 1587.2l0.1 0.3M317.9 1691.5l0 0.1M400.8 1621.3l0.6 0.9M349.8 1519.7l0.6 0.3M345.3 1620.3l-0.5 1.3M260.2 1510.6l-0.9 0.7M422.6 1486.2l0.1 1M387.6 1506.8l0.2 0.2M440.5 1586.6l0 0.5M418.9 1477.5l-0.6 1M283.9 1497.4l-0.6 1.3M363 1683.3l0 0M416.7 1569.2l1.2 0.9M447.1 1576.3l-0.8 1M261.5 1618.7l0.6 0.5M396.8 1540.2l-1.2 0.9M312.8 1539.4l-1.1 0.1M343.5 1615.5l0.3 0.4M422.6 1465.9l-0.9 0.6M453.8 1642l0 0M284.2 1630.7l0.7 0.6M272.1 1609.8l-1.5 0.4M330 1563.8l-0.7 0.2M380.1 1515.3l1.4 0.2M274.4 1544.8l-1.4 0.8M417 1456.9l0.6 1.1M290.7 1475.8l0.2 0.3M450.8 1680.3l0.5 0.9M424 1520.9l-0.1 0.7M369.8 1552l0 0.1M330 1533.8l-0.1 0.4M487.5 1470.4l-0.6 0.6M353.9 1563.7l-1.4 0.4M298.4 1646l1.2 0.6M481.2 1654.2l-0.3 0.1M441.6 1685.5l0.7 0.3M461.8 1462.8l-0.7 1.2M327.2 1584.7l-0.4 0.4M347.9 1537.6l-0.5 0M431.1 1571.4l0.9 0.5M383.2 1480.1l0 0.8M428.2 1478.7l-0.4 1.2M271.7 1552.6l0.6 0.5M285.4 1639.6l-1.1 0.8M341.1 1669l0.3 0.5M386.6 1613.2l-0.2 1.4M389.5 1486.3l0.2 0.9M389.6 1636.7l0.2 0.1M385.5 1652.8l-0.2 0M450.6 1623.8l-0.1 0.1M282.5 1622.2l-1.1 0.1M314.1 1575.3l-0.3 0.3M454.6 1579l-1 0.9M272 1647.8l-0.3 0.4M274.5 1498.3l0.5 0.4M435.8 1506.5l-0.3 0.5M380.1 1590.1l-0.7 0.9M308.7 1662.2l0.1 0.6M355.4 1674.8l0.8 0.5M251.4 1487.9l0 0.2M252.5 1501.6l0.2 0.4M365.7 1474.8l1.2 0.8M294.5 1688.1l0.2 0M463.3 1655l0 0M353.4 1648.3l0.2 0.1M337.4 1556.6l-0.8 0.1M410.4 1532.1l-0.2 0M464.4 1613.2l0.7 1M360 1573l0.3 0.8M294.8 1480.4l-0.8 0.3M450.2 1635.5l-0.3 0.9M420.3 1661.1l0.1 0M271.9 1624.4l1.2 0.6M428.2 1557.8l0.1 0.2M353.3 1600.9l-1.1 0.7M490 1552.3l1.3 0.2M320.7 1658.1l-0.7 0.9M329.5 1546.4l0.8 0.2M343.9 1606.8l-1 0M421.9 1598.9l0.3 1.1M457.4 1470.4l-0.5 0.8M388.3 1521.5l-1.5 0.7M477.1 1460.4l-0.3 0.4M303 1660l0.1 0.1M447 1479.3l0.3 1.5M404.2 1474.7l0.8 1.1M438.4 1609.7l-1.4 0.2M265.4 1567.7l0 0M360.3 1513.8l0.3 1.2M463.2 1570.1l-0.7 0.4M268 1587.4l-0.1 0.1M364.6 1485.7l0 0.6M418 1681.5l0.3 0.9M261.4 1488.8l0.8 1.1M431.9 1532.2l0.4 0.7M428.3 1524.2l-0.5 0.1M393.3 1552.4l0.6 0.1M379.6 1548.8l0.5 0.3M287.1 1653.7l0 0.8M483.6 1548.9l-1.4 0.2M414.5 1583.1l0.2 0.1M481.1 1575.6l0 0M408.9 1587.8l0 0.1M301.7 1516.8l0 0M376.3 1531.9l0.5 0.7M425.3 1568.3l-0.2 0.7M358.1 1604.1l1.1 0M423.5 1462l0 0M416.3 1591.8l-0.1 0.4M378.9 1634.6l-0.7 0.9M299.8 1508.7l0 0M323.7 1492.9l0.4 0.3M361.7 1637.3l0 0.2M359.5 1497.6l0.1 0.1M336 1581.8l0 0.1M344.8 1628l0.4 0.2M391.3 1585.7l-0.9 0.4M327.9 1563.7l-0.4 1.5M286.7 1493.9l-0.5 0.4M287.9 1476.7l-0.2 0.3M300.3 1488.3l-0.1 0.7M375.1 1575.3l-0.5 1.4M352.5 1586.1l-0.5 0.6M340.6 1596.5l0 0.1M445.2 1468.4l-0.3 0.6M281.5 1645l0.7 0.8M446.3 1590.1l0.7 1.4M253.9 1661.3l1.5 0M423.2 1559.5l0 0M338.3 1664.6l0.1 0.6M480.5 1636.8l0.4 1.3M412.2 1614.5l0.8 1.2M363.8 1563.9l-0.3 1.1M333.6 1525.1l-0.8 0.1M367.1 1683.6l-1.1 0.8M274.5 1608.9l-0.9 0.8M404.4 1563.9l0.3 0.2M328.5 1533.1l-0.1 0.7M399.1 1645.1l0.5 0.6M297.3 1528.9l0.2 1.3M441.6 1635.1l-0.1 0.4M452.7 1610.3l0.4 0.2M354.7 1526.4l1.4 0.1M439.3 1656.7l0 1.2M330.5 1581.3l-0.8 0.4M370.2 1636.8l0 0.3M367.5 1629l-1 0.5M410.2 1628.8l0.6 1.4M411 1496.6l0.5 1.5M296.4 1634.7l0.2 0.1M288.3 1510.6l0.3 1M268 1598.1l-0.9 0M456.3 1572.1l-0.3 0.8M417.6 1672.3l-0.6 0.3M273.7 1564l-1 0.3M476.9 1619.5l-0.4 0.3M261.9 1467.8l0.6 0.7M371.8 1584.3l0.3 1M481.1 1600l0.5 0.3M417.3 1613l0.4 0.2M323.3 1614.6l0.1 1M416.6 1607.2l-0.3 0.4M273 1557.7l0.7 0.3M429.7 1521.4l0.5 0.2M419.3 1571.6l-0.4 0.2M417.8 1543.3l-0.7 0.3M428.2 1482l0.4 1.1M295.9 1503.8l0.7 0.1M378.6 1615l-1.2 0.1M309.2 1596.5l-0.7 0.6M383.3 1499l0.4 0.2M393.9 1514.7l-0.9 0.3M350.6 1537l-0.8 0.6M332.6 1613.2l1.4 0.7M430.3 1527.8l-0.2 0.3M302 1581.2l-0.4 0.6M411.8 1657.1l0.7 0.5M416 1564.2l0 0.1M274.3 1539.7l0.8 0M373.7 1537l0.8 1.1M281.8 1584.2l0.4 0.4M460.3 1646.2l1.1 0.1M346.1 1547.6l-1.3 0.6M432.7 1568.1l0 0.2M381.4 1481.8l-0.4 0.5M408.6 1691.8l0.6 0.4M275.2 1679l1.5 0.3M272.6 1666.5l-1.1 0.7M419 1514.6l0.4 0.2M455.1 1660.9l-0.2 1.4M370.4 1496.7l0.8 0.7M490.2 1533.9l-0.8 1.4M341.2 1627.9l-0.1 0.2" stroke="#6E6070" stroke-width="3.6" stroke-linecap="round" opacity="0.7" fill="none"/></g><rect x="399.7" y="1682.1" width="80.7" height="4.6" fill="#000"/><clipPath id="tc2"><rect x="501.5" y="1455" width="239.7" height="243"/></clipPath><g clip-path="url(#tc2)"><rect x="501.5" y="1455" width="239.7" height="243" fill="#DDD4E5"/><rect x="501.5" y="1455" width="239.7" height="243" fill="#B4A4CC" filter="url(#mot)" opacity="0.45"/><ellipse cx="530" cy="1500" rx="22" ry="30" fill="#D0C6DE"/><ellipse cx="600" cy="1470" rx="35" ry="15" fill="#D2C8DE"/><ellipse cx="715" cy="1600" rx="28" ry="60" fill="#CFC4DC"/><rect x="501.5" y="1455" width="239.7" height="243" fill="#FBFAFB" filter="url(#hol)" opacity="0.3"/><rect x="501.5" y="1455" width="239.7" height="243" fill="#9E90C4" filter="url(#mem0)" opacity="0.5"/><ellipse cx="618.9" cy="1575" rx="97" ry="95" fill="#FAF9FB"/><clipPath id="tf2_1"><ellipse cx="627" cy="1567" rx="88" ry="88" fill="none"/></clipPath><g clip-path="url(#tf2_1)"><rect x="501.5" y="1455" width="239.7" height="243" fill="#D2C6E0"/><rect x="501.5" y="1455" width="239.7" height="243" fill="#FBFAFB" filter="url(#hol)" opacity="0.45"/><rect x="501.5" y="1455" width="239.7" height="243" fill="#9A88C2" filter="url(#mem0)" opacity="0.8"/></g><ellipse cx="618.9" cy="1575" rx="97" ry="95" fill="none" stroke="#A898C6" stroke-width="1.6"/><ellipse cx="705" cy="1518" rx="12" ry="22" fill="#FAF9FB"/><ellipse cx="522" cy="1498" rx="13" ry="12" fill="#FAF9FB"/><ellipse cx="700" cy="1680" rx="18" ry="14" fill="#FAF9FB"/><ellipse cx="545" cy="1545" rx="8" ry="6" fill="#FAF9FB"/><path d="M710 1581l0.1 0.3M631.9 1485.4l0.9 0.9M564.7 1461.2l0.4 1.4M662.8 1485.6l0.1 1.1M561.2 1697.8l0.5 0.6M718.1 1472l0 0M525.3 1627l0.3 0.4M737.6 1479.7l0 0.1M519.6 1554.7l-0.3 0.3M621.1 1681.8l-1.4 0.3M556.1 1690.6l-0.1 0.1M519.1 1618.1l0.5 0.1M655.7 1580.7l-0.3 0.7M583.5 1540.9l-0.1 0M581.5 1689.1l-0.3 0.1M608.6 1525.8l1 0.6M631.5 1619.3l-0.8 1M531.1 1645.3l0.5 1M709.5 1526.9l0.4 0.2M601.3 1507.2l0.8 1.2M638 1492.7l-0.1 0.2M714.5 1513.2l-0.4 0.7M730.8 1473.9l-1.1 0.3M666.3 1570.8l-0.1 1.4M607.7 1679.1l0.1 0.1M511.8 1615.9l0 0M639.3 1696.4l-0.1 0.8M612.1 1647.3l-0.5 0.6M703.3 1519.7l-0.9 1M587.5 1528.2l0.7 0.9M708.4 1512.4l0.7 0.2M687 1625.8l-0.5 0.4M587.2 1612.2l0.7 1.1M687.5 1612.5l0 0.1M515.5 1578.4l0.9 0.1M654.8 1637.3l-0.5 0.3M657 1478l0.9 0.3M645.7 1693.9l0.6 0.1M671.9 1696.2l-0.8 0.2M576 1539l1.1 0.1M557.4 1611.1l-0.3 0.3M686.1 1652.6l0.9 1.1M647.2 1491l-0.5 0.1M701.5 1681.6l-0.8 0.4M667.2 1634.7l0.5 0.5M565.7 1601.5l0.1 0.1M551.6 1471.7l-1.4 0.3M600.8 1622.8l-0.3 0.8M733.4 1675l0.6 0.8M719 1673l0.4 1.1M519 1546l-0.1 0.9M619.7 1502.6l-0.2 0.7M569.7 1561.6l-0.9 0.7M519.5 1683.2l-0.9 0.2M522.3 1498.6l1.3 0.1M517.2 1657.5l-1.2 1M561.3 1536.7l0.6 0.2M632.9 1546.9l-0.7 0.6M688 1695.7l0.7 0.1M521.3 1637.3l0.1 0.8M729.5 1616.2l0 0.1M530.9 1491.6l-0.6 1M692 1680.4l0 1.1M674.6 1565.1l0 0M694.7 1570.4l0 0.7M683.5 1500.3l-0.1 0.5M630.9 1503.5l0.4 0.3M610.9 1693.5l-1.4 0.3M697.9 1639.6l-0.7 0.3M633.9 1572.2l0 0.5M668.9 1478.1l-0.5 0.9M617.7 1521.1l-0.7 1.1M683.2 1595.1l0 0M659.7 1482.7l1.2 0.5M532.3 1500l0.1 1M551.5 1566.3l-0.9 1.2M542.4 1462.6l0.6 0.4M694.1 1478.3l-0.1 1.4M626.5 1566.9l0.2 0.7M520.1 1474.9l0.1 0.2M583.7 1494.2l-0.7 0.2M665.6 1688.9l-0.2 0.6M724.5 1566.6l0 0M622.3 1617l1.6 0M560 1690.1l-0.2 0M554.1 1684.7l0.9 0.8M569.3 1480.7l0.1 1.5M732.8 1648.3l0 0.6M591.8 1584.3l-0.1 1.1M579.3 1498.5l0.6 0.7M671.9 1598.5l-0.8 1.3M608.2 1644.1l-0.1 0.4M634 1560.1l-0.5 1.4M725.2 1499.6l0.1 0.1M570.8 1630.7l-0.1 0.2M587.8 1628.2l-0.1 0M590.8 1463.8l0.7 0.7M594.5 1511.8l0.6 0.3M568.8 1519.3l0.8 0.8M608 1540.3l0.2 0.4M676.1 1546.3l-0.6 1.4M626.1 1535.5l0.8 0.9M692.9 1579.9l0.7 0.6M604.7 1597.7l0.9 0.3M630.6 1611l0.5 0.3M576.5 1630.9l0.5 0M732.8 1531.3l-0.3 0.4M671.1 1496.9l0.7 0.5M553.5 1529.7l0.5 0.2M609.7 1635.9l-0.1 0.7M603.5 1545.3l1.5 0.2M527.8 1684.3l-0.4 1.1M635.2 1683.2l0.4 0M718.2 1688.8l-0.8 0.8M579.9 1545.1l0.9 0.9M726 1659.1l-0.3 0.3M715.5 1638.7l0 0.5M519.4 1594.1l0.3 0.5M684.3 1612.4l0.3 0M593.8 1579.3l0.1 0.3M651 1581.7l0.2 0.2M632.3 1463l-0.4 0.4M721.3 1637.6l-1 0.3M651.7 1525.4l1.2 1M709.6 1619.3l-0.8 0.4M632.8 1578.3l0.6 0.3M615.2 1582.4l0.6 0.8M684.8 1490.8l0.5 1M532 1488.5l-0.1 1.2M735.2 1522l-0.3 0M601.2 1557.4l0.1 0.2M598.8 1495.3l0.9 1.2M643.2 1628.8l-0.7 0.8M567.3 1669.7l1.5 0.3M577.5 1559.6l-0.5 0.7M663.9 1580.2l-0.2 0M699.2 1530.4l-0.1 1M712.7 1545.8l-0.9 0.5M661.2 1591.5l1.5 0.1M688.6 1691.9l-0.3 0.7M530.2 1651.8l0.6 0.1M722 1624.5l-0.1 1.4M700.7 1589.8l-0.2 0.2M723.5 1600.5l-0.5 0.1M616.3 1510.6l-0.7 1.1M710.4 1572.9l-0.7 1M628.7 1471l0.7 0.5M546.7 1471.1l0 0M735.5 1640.7l1.3 0.5M635.6 1607.2l0 0.5M610.3 1499.4l-1.2 0.9M567.4 1588.3l0.1 0.3M725 1586.2l1 0.7M589.9 1571.1l-1 1.2M673.5 1692.5l0.3 1.2M615.1 1474.8l-1.1 0.6M681.7 1617.2l-0.7 0.2M563.7 1471.6l-0.1 0M587.3 1547l-0.2 0.4M734.6 1570.6l-0.3 0.2M618 1599l1.2 0.3M631.8 1486.4l-0.3 0.2M653.3 1693.3l-0.1 0M615.1 1591.3l-1.1 0.5M523.2 1615.2l-0.1 1.4M738.5 1611.1l1 0.8M687.3 1539.5l-0.7 0.3M662.1 1529.9l-0.4 1.1M584.3 1512.7l0.3 0.6M614 1612.2l0.6 0.3M723.3 1528.8l0.5 1M699.7 1669.2l-0.2 1.4M650.7 1541.3l-0.3 1.4M512.5 1637.2l-0.1 0.4M617.1 1537l-1.3 0.8M663.7 1617l0.7 0.2M577.9 1513.6l-0.4 0.6M591.2 1598l0.1 0.8M646 1596.8l-0.1 1.4M684.2 1519.7l0.5 0.4M628.1 1684.5l0 0M731.9 1460.9l0.1 0.1M717.2 1608.3l-1 0.5M553.5 1592.8l0 0M633.9 1505.3l0.8 1.1M655.8 1549.1l0.2 0.5M593.3 1553.4l-0.5 0.4M628.3 1610.4l-0.2 0.1M682 1687.8l-0.4 1.2M520.8 1578l-0.9 0.2M703.6 1514l0.9 0.4M631.4 1695.2l0 0M635.2 1683.3l-1.3 0.7M564.8 1581.7l-0.9 0.2M676.8 1459.8l1.2 0.8M685.2 1509.9l0.1 1.2M589.4 1510.4l-1.3 0.4M612.5 1580.1l0.3 0.1M516.5 1622.3l0 0.8M710.7 1648.3l-0.7 0.6M653.7 1520.5l-0.7 0.6M642.6 1591.5l0 0M705 1657.8l-1 0.7M607.9 1483.3l1.4 0.8M522.1 1654.8l0.8 0.6M638.1 1671.5l-0.8 0.9M546.7 1695.3l0.8 0.7M711.3 1464.7l0.2 0.6M584.8 1621.4l0.2 0.1M613.7 1678.4l-0.6 0.7M613.5 1628.9l0 0M620.6 1509.2l-0.2 0M569.3 1589.1l1 0.8M713.3 1673.6l-0.3 0.9M677.6 1570l0.3 1.5M680.2 1629.2l0.2 0.3M725.7 1546l0.1 0.4M621.1 1498.9l-0.2 0.8M574.3 1592.9l0.3 0.4M505 1495.5l-0.1 0.1M543.1 1683.1l0 0M542.9 1467.3l0 1.3M699.6 1635.1l1.1 0.2M642.5 1603.3l0.2 0.8M622.5 1607.1l-0.3 0M648.5 1684.7l-0.4 0.1M501.6 1572l-0.1 1.5M656.2 1562.1l-0.3 0.4M556.8 1651.6l0 0.3M573 1539.7l0.1 0.1M727.1 1697.7l-0.8 1M607.4 1649.2l-0.6 0.8M588.4 1561.5l-1 0.2M512.9 1471.6l-0.6 0.4M699.2 1674.6l-1.3 0.5M526.8 1605.1l-0.9 0.1M638.9 1695.1l0.7 0.4M702.1 1457.5l0.2 0.1M511 1461.7l0.2 0.2M580.8 1495.7l-0.4 1.5M548.6 1561.3l-1.1 0.5M586.6 1686.8l0.4 0.4M686.6 1603.4l0.2 1.3M728.6 1633.3l-0.2 1M623.3 1514.9l0.4 0.8M555.9 1666.6l1.4 0.3M721.4 1503.3l0.7 0.8M709.9 1685.6l0 0M559.6 1691.1l-1 1.1M508.4 1679.7l-0.6 0.1M692.9 1464.6l0 0.5M698.6 1541.7l0.9 0.5M597.1 1523.2l0 0.1M695.1 1478l0 1.4M738 1494.9l-0.4 0.2M709.4 1458.8l-1.4 0.1M597.5 1683.8l-0.7 0.5M682 1526.2l-0.1 0.4M654.4 1669.6l-1.3 0.1M666.7 1530.5l0.1 0.3M508.2 1669.7l-0.1 0.6M613 1539.7l0.2 1.2M508.8 1508l1.2 0.1M727.6 1610.8l0.2 0.6M516.5 1607.5l0.6 0.2M611.6 1555.8l0.4 0.5M632.3 1604.5l0.2 0.2M504.8 1477l0.3 1M617.3 1553.9l-0.4 0.1M598.5 1609.6l-0.9 0.4M629.3 1484.2l0.4 0.3M520.6 1651.5l1.1 0.4M728.2 1474l1 0.1M649.9 1602.5l0 0.1M548.3 1582.6l1.2 1M662 1667l0 0.1M582.7 1460.1l0.7 0.3M540.3 1657.3l0 0.1M677 1576.2l-0.4 0.2M586.8 1608.9l-0.4 0.4M642.5 1566.3l-0.9 0.2M618.2 1681.3l0.6 0.2M597.1 1537.4l0.9 0.8M608.7 1485l0.8 0.5" stroke="#40468A" stroke-width="3.6" stroke-linecap="round" opacity="0.85" fill="none"/></g><rect x="650" y="1682.1" width="80.7" height="4.6" fill="#000"/><clipPath id="tc3"><rect x="750.3" y="1455" width="241.7" height="243"/></clipPath><g clip-path="url(#tc3)"><rect x="750.3" y="1455" width="241.7" height="243" fill="#D8CEE3"/><rect x="750.3" y="1455" width="241.7" height="243" fill="#9C8CC0" filter="url(#mot)" opacity="0.45"/><ellipse cx="790" cy="1480" rx="40" ry="20" fill="#CCC0DC"/><ellipse cx="960" cy="1480" rx="30" ry="30" fill="#CCC0DC"/><ellipse cx="780" cy="1680" rx="30" ry="20" fill="#CCC0DC"/><rect x="750.3" y="1455" width="241.7" height="243" fill="#FBFAFB" filter="url(#hol)" opacity="0.65"/><rect x="750.3" y="1455" width="241.7" height="243" fill="#7E6CAA" filter="url(#mem0)" opacity="0.5"/><ellipse cx="872" cy="1590" rx="94" ry="106" fill="#FAF9FB"/><clipPath id="tf3_1"><ellipse cx="877" cy="1588" rx="86" ry="99" fill="none"/></clipPath><g clip-path="url(#tf3_1)"><rect x="750.3" y="1455" width="241.7" height="243" fill="#A896C8"/><rect x="750.3" y="1455" width="241.7" height="243" fill="#FBFAFB" filter="url(#hol)" opacity="0.45"/><rect x="750.3" y="1455" width="241.7" height="243" fill="#6A58A0" filter="url(#mem0)" opacity="0.85"/></g><ellipse cx="872" cy="1590" rx="94" ry="106" fill="none" stroke="#4E3E80" stroke-width="2.4"/><path d="M767.6 1626.3l0.9 0.8M752.3 1604.5l0.1 0M833.9 1619.6l-1.1 0.6M953 1597.2l-0.2 0.3M963.9 1478.9l-0.2 0M948.8 1579.8l-0.1 0.6M908.6 1557.1l-0.3 0.2M859.7 1510.4l-0.2 0.7M818.9 1478.4l-1 0.2M883 1570.5l1 0.4M860 1579.6l0.7 0.6M988.7 1502.6l0.1 0.3M931.9 1469.4l-0.1 1M923.5 1549.1l0.7 0.1M797 1517.9l1.1 0.5M935.9 1570.3l-1.4 0.7M962.7 1521.7l0.3 0.1M929.5 1537.6l-0.1 0.5M932 1681.7l0.6 1.2M972.8 1666.5l0.5 0.2M827.2 1574l-0.5 0.1M864.2 1628.3l0.4 0.1M991.2 1567.1l0.1 0.1M941.5 1555.9l-0.2 1.3M980 1475.9l0.5 0.4M903.9 1620.4l-0.8 0M895 1496.1l-0.3 0.4M943.7 1608.5l-1.4 0.1M973.7 1487l-0.8 0.1M873.2 1596.3l-0.1 1.5M910.6 1666.2l-0.1 1M870.4 1680.4l0.1 0.2M792.5 1504.1l-0.3 0M811.2 1602.6l1.5 0.3M901 1541.9l0.3 0.1M754.5 1648.5l-1.1 0.3M879.9 1498.3l0.8 0.9M868.3 1468.3l0 0.3M856.9 1502.6l0.2 0.4M872.7 1655.9l-0.1 0.3M916.9 1525.3l0.1 0M842.6 1469.9l0 0.5M808.6 1628.3l0.2 0.8M950 1552.2l-1.1 0.3M805 1624.2l0.3 0.3M868.1 1555.6l-0.2 1.3M855 1603.1l-0.6 0.8M773 1506.6l-0.2 0.3M882.5 1632.8l-0.3 0.7M929.4 1559.5l-0.4 0.2M927.2 1618.3l0.2 0M840.7 1630.8l0.8 0.3M840 1646.4l-0.3 0.6M862.1 1515.1l-1.3 0.1M830.9 1650.9l-0.4 0M770.6 1649.5l0.3 0.3M818.6 1628.6l0.2 0.1M921 1657.2l-0.5 0.4M891.6 1576.3l0.4 0.2M985.5 1531.2l-0.2 0M980.5 1523.9l0.2 0.1M924.7 1578.5l-1 0M961.5 1686.4l0 0.4M946.7 1599l0.4 0.6M821 1567.7l-0.3 0.4M837.6 1463.3l0.6 0.9M898.8 1607.2l-0.6 0.8M837.1 1636.5l0.9 0.2M875.7 1681.7l1.4 0.6M922.9 1560.9l-1.2 0.7M830.9 1590.9l0.1 0.5M897.4 1520.2l-0.4 1.5M967.8 1686.1l0.5 0.6M933.7 1696.5l-0.4 1.4M761.5 1617.8l0 0M779.3 1695.7l-0.1 0.3M798.2 1482.9l0 0.2M858 1511l-1.1 0.2M849 1620.9l0.9 1.1M759.9 1508.8l0.2 0.2M893.2 1507.9l-0.1 0.1M986.4 1489.1l-1 0.5M847.8 1560.2l-0.2 1.2M823.7 1561.9l0.5 0.6M902 1586.1l0.5 1.1M905.5 1628.4l-0.1 0.2M817.2 1498.8l-0.3 1.3M900.4 1577.1l0.4 0.1M972.3 1500.5l-0.2 1M866.2 1621.5l-1 0.4M988.8 1634.5l0.4 0.2M810.5 1564.8l1 0.3M797 1517.6l-1.1 0.8M820.6 1649.6l-0.2 0.1M841.6 1573.8l-0.8 1M864.1 1627.6l-0.4 0.4M828 1571l0.1 0.1M875.7 1672l-1.3 0.8M885.1 1511.2l-0.5 1M931.8 1591.4l0.4 1M911.4 1516.5l-0.1 0M946 1455.1l-1.1 0.6M901.4 1619.6l1.1 0.5M862.9 1531.9l0.2 0.2M854.6 1608.9l1 0M922 1602.2l0 0M948.5 1630.6l-0.6 0.3M863.9 1545.6l0.8 0.7M902.1 1553.9l0.1 0.4M911.1 1552.2l-0.2 0.1M863.9 1675.6l-0.4 1.4M893.1 1500.6l1.3 0.8M984.2 1562.7l0.3 0.3M869.2 1517.5l-0.5 0.9M974.7 1491.2l-0.9 1M863.3 1571.3l0.3 0.4M959.9 1504.9l0 0.2M775.6 1577.9l-1 0.9M837.9 1602.2l-0.2 1.1M909.3 1602.4l0.4 0.4M848.2 1497l-0.3 0.2M905.4 1560.3l1.4 0.4M941.6 1539.9l0 0.2M969.5 1583.7l-0.4 0M877.7 1626.8l0 0M814.2 1536.4l-1.2 0.7M828.2 1532.2l0.7 0M982 1503.8l0 0.8M905.4 1579.2l-0.8 1.1M897.7 1572.7l0.1 0.9M943.1 1500.6l0.1 0M859.5 1656.1l0 0M812.1 1589.7l-0.1 0.1M886.5 1637.4l0.7 1.1M954 1693.7l-0.7 0.5M933.2 1550.8l0.2 1.4M964.5 1637.3l-1.4 0.3M802.4 1597.1l0.1 0M893.3 1563l-0.8 0.1M953.4 1676.9l0.2 0.3M857.3 1672.1l0.5 1.1M753.2 1647.8l0 0.1M754 1561.9l0 0M937.5 1624.4l1.2 0.1M845.8 1508.1l0.6 1M870 1646.8l-1.3 0.1M806.2 1571.1l0 0M932.7 1609.7l-0.4 1M825.6 1519.7l1.1 0.9M862.3 1503.8l0.2 0.6M876.2 1530.7l0.2 1.3M828.4 1613.2l0.5 0.5M888 1570.5l-0.5 0.3M918.1 1536.4l-0.3 0.8M785 1686.6l-0.3 0.4M829.3 1691.3l0 0M925.6 1611.2l-0.4 1.1M775.9 1456.8l-0.6 0.5M987.1 1610.6l-0.1 0M766.1 1677.3l-0.8 0.3M825.3 1584.9l0.3 0.3M865.4 1586.7l0.7 0.3M828.9 1556l-0.2 0.9M869.9 1557.9l0.2 0.2M948.3 1612.2l0.2 0M857.7 1646.9l-0.3 0.2M926.3 1625.4l0.4 1.4M932.3 1622.9l0.1 0.2M805 1620.6l-0.4 0.4M884.4 1596.9l-0.1 0.2M794.1 1523.7l0.7 0.3M944.4 1563l-0.7 1M884.5 1660.6l-0.3 0.4M965.4 1558.5l-0.5 1.3M771.3 1505.1l-1.2 1.1M823.1 1566.3l0.1 0.5M848.9 1615.8l-0.9 0.8M822.4 1630.8l-0.1 0.2M762.2 1475.4l-0.6 0.8M966.2 1670.6l0.4 0.4M990.6 1600.5l-0.3 0.6M843.3 1634.4l0 0M936 1650.2l-0.2 1.3M853.6 1677.1l-0.8 1.3M869.7 1635.7l-1.4 0.2M972.5 1646l0 1.1M794.5 1605.2l-0.2 0.1M916.3 1637.4l-0.2 0.2M881.5 1646.5l-0.6 0.6M920 1552l-0.9 0.1M814 1568.6l1.4 0.4M921 1477.9l-1.5 0.3M908.4 1554.6l-0.9 0.1M839.5 1602.5l0 0.3M840.9 1591.6l-0.4 0.5M988.9 1468.6l0 0.3M825.9 1651.2l-0.9 0.3M829.4 1485.3l0.2 0.1M886.3 1638l0.3 0.6M788 1489.2l-0.8 0.4M801.2 1600.6l0.2 0.3M852.4 1507.6l-0.8 0.9M824.5 1636.5l-0.1 0.1M927.5 1603.2l-0.1 0M882.4 1504.8l-0.2 0.1M751.5 1589.6l0.6 0.7M796.1 1657.7l-0.9 0.8M839.3 1629l1.3 0.9M851.6 1588.9l-0.2 0.4M947.1 1542.7l-0.4 0.2M840.9 1511.9l0.4 0.9M882.7 1617.7l1.1 0.3M806.1 1683.7l0.1 0M900.5 1543.8l0 0.1M931.2 1597.4l0.4 0.3M908.6 1665.1l-0.4 0.3M923.1 1576.2l1.1 0.5M926.5 1654.2l0.4 0.2M775.4 1652.4l-1.3 0.6M874.6 1505.8l0 0M841.9 1573.2l-0.9 0.3M831 1509.5l-0.4 0.7M895.3 1585.4l0.7 0.9M850.7 1607l-0.6 0.9M922.4 1570.9l-1.1 0.8M898.6 1645.8l0.1 0.1M886.9 1648.6l0 0.7M847.7 1657.5l0 1.5M847.4 1486.2l0.1 0M862.2 1606l0.1 0.6M849.1 1558.4l0.4 0.4M866.5 1467.8l0.4 0.8M929 1645.2l0.9 1.3M892.6 1549.8l1.1 0.5M765.9 1458.4l0 0.4M794.4 1526.2l-0.9 0.7M914.2 1535.7l0 0.9M894 1472.9l0.2 0.2M857.3 1526.6l-0.5 0.4M953.9 1610.3l0.2 0.3M829.6 1530.9l0.5 0.6M825.6 1579.5l0.4 0.1M797.7 1671.8l-0.4 0.3M988.3 1548.4l-0.8 0.5M857.8 1460.8l0.4 0.6M963.9 1463.4l0.1 0M851 1665.7l0.1 0.5M909.1 1575.2l-0.3 0.2M915.1 1554.2l-0.2 0.1M866.7 1511.3l0.6 1.3M880.2 1581.8l-1.1 0.8M970.8 1688.1l0.6 1.3M803.1 1606.6l1.4 0.1M913 1621.8l0.7 0.4M821.5 1586.1l0.5 1.1M854.4 1632.1l-0.3 0.5M853.9 1651.5l-0.3 0.1M796.6 1604l0.7 0.4M828 1659.5l0.6 0.8M939.7 1568.7l0.1 0.3M943.5 1494.4l0.6 0.5M885 1567.5l-1.2 0.5M985.1 1525.1l-0.3 0.1M810.5 1588.9l0.2 0M805.3 1475.2l-0.6 0.8M941.8 1483.4l0.5 0.1M896.1 1670l-0.4 0.2M900.4 1661.3l0.1 1M907.4 1628.2l0 1.4M832.9 1625.6l0.7 0.6M915.6 1547.3l1.2 0M940 1641.1l-0.5 0.3M845.1 1668.8l0 0.6M765.6 1521l-1.4 0.2M884.1 1526.7l-0.1 0.3M867.5 1497.8l0.2 0.3M988.4 1667.9l0.2 0.3M840.2 1566.4l0.5 0.3M981.5 1544.5l0.1 1.4M990.9 1591.1l0.3 0.2M751.3 1520.2l0.4 1.5M938.1 1602l0.9 0.2M955.4 1603.5l1.2 0.5M908.6 1645.7l-0.3 0.1M870.9 1631l-0.2 0.1M888 1653.9l0 0M821.7 1660.4l0.1 1.3M759.3 1657.4l0.4 1.4M805.5 1566.3l0.2 0.6M885.2 1512.2l-0.6 0.7M815.3 1622.8l0 1.3M911.8 1586l-0.4 0.4M952.3 1583.7l1 1M935.4 1581.4l-0.3 0.5M778.8 1634.5l-1.3 0.2M920.3 1640.7l-0.4 0.3M858 1516.6l-0.3 1.2M843.2 1508.6l0.1 0.4M868.1 1591l-0.5 0.1M840.3 1616.6l-0.5 0.5M818.8 1519.4l0.9 0.5M973.9 1567.3l-0.1 0.2M892.9 1590.2l0.3 0.1M769.8 1656.2l0.6 0.3M974.3 1525l-0.1 0.3M888.9 1555.5l0.2 0.2M829.6 1588.8l-0.6 1.3M871.7 1664.7l0 0M850.1 1531.9l-0.3 0.3M880.3 1591.4l0.1 0M954.3 1552.3l-1.4 0.4M939.8 1546.5l-0.9 0.1M863.7 1513.4l-0.5 0.7M987.5 1497l-0.1 1.2M877.2 1663.3l0.1 0.6M769.8 1688.6l0.6 0.2M917.7 1471.5l0.6 1.1M851.5 1605.7l0 0.2M876 1501.9l0 0M891.7 1581.9l0.9 0M828.9 1517.1l0.4 0.6M982 1468.2l-1.1 0.3M919.1 1516.5l-0.4 1.2M815.8 1608.3l-0.1 0.2M911.3 1636.6l-0.3 0.1M825.2 1609.2l-1.5 0.6M920.3 1598.6l0.5 0M958.5 1579.4l1.4 0.2M959.2 1499.4l0.9 1.3M823.7 1628.6l-0.7 1.4M905.4 1599.1l0.9 1M972 1496l0 0.8M950.7 1544l0.5 0.9M931.1 1578.6l-0.2 0.2M913.5 1592l-0.5 0.1M870.9 1545.2l-0.5 0.6M814.8 1479.5l0.3 0M765.5 1534.5l0.5 0.8M867.2 1509.7l0 0.1M858.9 1551.5l-0.6 1.1M924.2 1590.2l-0.3 0.3M964.6 1664l0.2 0.1M768.7 1478.9l0.2 0M895.4 1622.4l-1.1 0.4M778.5 1571.3l0.6 0.1M943.2 1587.4l0 0M864.6 1671.8l-0.5 1.3M945.5 1582.7l-0.1 0M865 1683.5l0.3 1.5M761.8 1547.2l-1.1 0.3M884.2 1518.3l0.2 1.5M986.7 1629.6l-1.5 0M880.9 1667.3l0.4 0.1M901.7 1613l-1.4 0.4M909.9 1668.2l0.8 0.9M853.3 1525.4l0.7 1.1M943.2 1532.8l0.2 0.4M826.6 1662.7l-0.6 1.3M790.6 1679.9l0.1 0.2M930.6 1618.2l-1.3 0.7M799.4 1604.6l0.2 0.9M861.3 1662.2l0 0.7M891.4 1495.1l-0.6 0.3M755.2 1513l-0.9 0.2M886.5 1607.3l-1 0.4M848.8 1560.9l-0.6 0.5M892.3 1628l0.3 0M961.5 1631.7l0.5 0.7M943.2 1620.4l-0.6 0.3M851 1661.7l-0.4 0.6M864.2 1634.1l0.1 0.1M914.3 1481.7l-0.1 0.1M835.5 1536.5l0.4 0.5M883.1 1559.6l0 1.1M770.1 1614.5l-0.4 0.3M957.1 1593.9l-1.3 0.2M895.7 1591.6l-0.6 0.7M867.7 1529.1l-1 0.5M902 1480.6l-0.1 0.4M895.1 1599.4l0.4 0M977 1559.3l0.2 0.8M897.7 1509.3l0 0.4M852.7 1638.5l0.7 0.4M817.3 1630.8l0.5 0.9M930.8 1467.4l-1.1 0.9M800.5 1493.9l0.1 0.1M857.1 1502l0 0.4M846.2 1649.6l0.1 0.3M819.8 1584.8l-0.4 0.5M951.5 1568.1l-0.2 1.3M758.9 1626.1l0.4 0.5M909.6 1523.8l-0.5 0.1M967 1462.6l-0.1 0.6M810.9 1693.6l-0.7 0.8M924 1656.3l1.5 0M882.6 1660.6l-0.9 1.3M842.5 1512.3l-0.7 0.9M926.7 1697.2l0.1 0.3M929.9 1603.5l-0.2 1.3M752 1556.3l0.6 0.7M896.9 1633.2l0.9 0.2M910.6 1486.5l-1.1 0.7M868 1561.2l-0.3 0.2M914.5 1551l-0.1 1.1M789.1 1657.3l0.6 0.5M794.7 1522.6l0.6 1.2M862.5 1571.7l-1 0.9M937 1476.4l1.4 0.7M941.1 1648.4l-0.3 0M927 1579.7l0.1 0.3M856 1617.5l-0.4 0.2M969.5 1560.3l0.1 0.1M982.4 1596l0.5 1.4M907.7 1535.2l0.2 0.2M940 1547.1l0.3 0.8M771.5 1483.9l0.5 0.5M807.9 1689.2l-1 0.8M841.5 1651.6l0.8 0.8M910 1658.3l0.7 0.1M850.3 1521.3l0.4 0M925.5 1528.9l0 0M900 1568l0.2 0.1M968.4 1525.2l-0.6 1M807.2 1535.3l0.5 0.6M895.7 1536.5l-0.4 1.5M920.7 1593.4l0.1 0.8M764.4 1526.7l0.4 0.1M798.2 1665.4l0.1 0.4M764.7 1630.4l1.4 0.4M882.9 1630.5l-0.1 0.2M850.5 1625.2l0 0M937 1593.4l0.3 0.4M775.7 1653.7l-0.3 1.1M773.7 1501.3l0.5 0.2M772.4 1552l-0.6 1M833.1 1669.8l-0.5 0.6M822.2 1683.5l-0.8 1.4M753 1488.2l0.6 0.9M771.9 1515.9l-0.4 0.3M826 1515.2l1.5 0.2M899 1607.6l0 0.5M797.2 1468.3l-0.3 1M942 1641l0.9 0.6M848.3 1552.9l0.5 0.8M910.7 1515.5l0.3 0.1M895.4 1515.2l0 0.4M944.5 1615.7l1.4 0M915.6 1641.1l0.5 0.5M923.1 1515.6l-0.3 0.5M897.9 1463.2l1 0.3M862.2 1494.3l-0.3 0.2M893.9 1554.8l0 0.1M860 1512.6l-1.2 0.5M946.1 1606.4l0.7 0.1M984.8 1583.9l0.4 0.5M832.6 1513.5l0.1 0.7M938.6 1599.5l0.9 0.1M755.6 1566.3l1.2 0.2M847.8 1613l-0.5 0.2M760.8 1634.4l0.6 0.2M819.7 1524.8l-0.2 0.5M904.5 1519.8l1.3 0.9M928.6 1567.2l0 0.5M769.5 1579.9l0 0.4M828 1595l-0.3 0.7M819.8 1461l0 0.1M865.7 1551.1l0.3 0.2M764.8 1556.8l-0.7 0.5M921.5 1545.9l-0.1 0.1M878.5 1527.1l0 0.1M887.8 1697.6l-0.5 0.4M898 1657.2l-0.5 0M918.8 1554l-1.1 0.5M968.2 1611.4l0.2 0.1" stroke="#2E2B6C" stroke-width="3.6" stroke-linecap="round" opacity="0.8" fill="none"/></g><rect x="900.2" y="1682.1" width="80.2" height="4.6" fill="#000"/><clipPath id="tc4"><rect x="1000.5" y="1455" width="241.7" height="243"/></clipPath><g clip-path="url(#tc4)"><rect x="1000.5" y="1455" width="241.7" height="243" fill="#C4B8DA"/><rect x="1000.5" y="1455" width="241.7" height="243" fill="#8A7CBC" filter="url(#mot)" opacity="0.55"/><rect x="1000.5" y="1455" width="241.7" height="243" fill="#FBFAFB" filter="url(#hol)" opacity="0.15"/><rect x="1000.5" y="1455" width="241.7" height="243" fill="#7868AC" filter="url(#mem0)" opacity="0.55"/><path d="M1136 1504 C1180 1515 1215 1545 1222 1600 C1228 1640 1205 1668 1170 1674 C1150 1676 1125 1670 1110 1664 C1125 1640 1140 1615 1160 1590 C1175 1570 1178 1550 1156 1532 Z" fill="#FAF9FB"/><path d="M1226 1540 L1242.2 1530 L1242.2 1698 L1205 1698 L1224 1660 Z" fill="#FAF9FB" opacity="0.9"/><clipPath id="tf4_2"><path d="M1168 1580 C1190 1570 1212 1590 1212 1625 C1210 1650 1190 1662 1170 1660 C1158 1640 1160 1610 1168 1580 Z" fill="none"/></clipPath><g clip-path="url(#tf4_2)"><rect x="1000.5" y="1455" width="241.7" height="243" fill="#D4CCE6"/><rect x="1000.5" y="1455" width="241.7" height="243" fill="#FBFAFB" filter="url(#hol)" opacity="0.45"/><rect x="1000.5" y="1455" width="241.7" height="243" fill="#8878B8" filter="url(#mem0)" opacity="0.85"/></g><path d="M1009.7 1577.5l-0.4 1.6M1029.9 1562.4l0.2 1.2M1000.6 1697.8l1.2 0.3M1025 1572.4l1.4 0.4M1184.3 1460.6l0.6 0.7M1051.7 1674l-0.2 0.1M1183.7 1627.5l0.2 0.1M1021.5 1642.7l-0.2 0.4M1198.6 1691.7l-0.2 1.4M1074.5 1676l-0.3 1.1M1029.6 1675.3l1.1 1.1M1026.3 1460l0 0.1M1238.1 1530.2l0.2 0.7M1024.6 1490.1l0.1 0.1M1144.6 1673.8l-0.2 0.5M1122.9 1586.8l0.9 0.9M1124.7 1666.1l-0.2 0.3M1112 1478.3l1.1 0.4M1022 1551l-0.6 0.5M1088.2 1508.1l0 0M1095.2 1532.1l0 1.1M1202 1664.1l0 0.2M1132.4 1527.6l0.1 0.1M1167 1677.6l0.2 1.1M1046.7 1477.9l-1 0.9M1022.2 1661.2l0.4 0.1M1084.2 1672.2l1.4 0.3M1143 1510.5l-0.1 1M1081 1598.9l-1.5 0.3M1054.2 1656.3l-0.1 0M1048.9 1458.8l0.5 0.3M1135.9 1492.4l-0.8 0.4M1056.6 1542.4l0.4 0.1M1018.7 1609l-1.1 0.3M1135.6 1660.3l-1.5 0.3M1062.3 1572.6l1.3 0.6M1120.5 1540.3l-0.1 0.2M1110.2 1659.8l0.1 0.4M1002.4 1675.4l-0.3 0.1M1077.3 1632.9l0.1 0.4M1135 1597.6l-0.1 0.6M1074.5 1550.6l-0.3 0.3M1213.4 1502.1l1.3 0.8M1080 1568.7l0 0M1203.2 1481.9l-1.3 0.5M1195.5 1470.6l-0.3 0M1033.2 1502.7l0.9 1.3M1220.6 1661.8l0.1 1.5M1115.7 1529.9l-1.5 0.2M1045 1651.3l-1 0.8M1150.1 1662.4l-0.8 0.4M1025.3 1500.6l0.9 0.8M1030.4 1569.9l-0.5 0.3M1043.9 1553.2l0.3 0.2M1057.8 1493.3l0.1 0.5M1071 1579.5l-0.1 0.4M1053 1686.2l-0.5 1.3M1092 1657.7l0.3 0.1M1127.5 1551.8l0.1 0.1M1181.6 1500.8l-0.5 0.6M1065.1 1632.3l-0.5 0.7M1157 1496.2l1.1 0.1M1040.5 1510.6l0.6 0M1036.2 1612.3l-0.2 1M1093.7 1664.4l0 0.2M1055.2 1637.9l0.6 0.7M1203.2 1615.4l0.2 0.1M1125.3 1581.7l-0.5 0.2M1155 1473.1l0.1 0.1M1104.6 1518.7l0.6 0.4M1023.8 1636.4l0 0M1045 1631.8l-0.2 1.5M1239.4 1462.2l0.5 0.4M1056.3 1662.2l0.4 0.6M1007.2 1542.8l-0.2 1.4M1241.2 1497l0.7 0.4M1194.4 1484.4l-1.4 0.6M1060.5 1665.9l-0.3 1.2M1230 1512.2l0.6 0.3M1060.3 1644l-0.6 0.4M1041 1591.6l0.1 0.1M1090.7 1487.7l0.3 0M1060.9 1513l0 0M1078.9 1497.3l-0.1 0.2M1159.6 1665.3l-0.7 1M1218.9 1489.8l0 1.1M1131.7 1536.9l-0.3 1.1M1233.6 1507l-1.5 0M1063.4 1530.9l0 0.9M1175.7 1484.2l0.7 1M1170.2 1476.4l-0.1 0.1M1094.9 1543.8l-0.3 0.8M1140.3 1461.1l-1.3 0.7M1144.3 1651.2l-0.9 0.3M1097.2 1462.7l0 0.1M1199.8 1662l0.2 1.3M1113.4 1655.5l1 1.1M1167.5 1482.7l-0.3 0.8M1064.4 1460.9l1.3 0.7M1238.5 1524.8l-1.3 0.3M1068 1557.7l-0.6 0.7M1235.4 1537.9l0.1 0M1126 1482.3l-0.4 0.5M1031.2 1511l1 0.3M1023.8 1596.5l0 0M1133.5 1676.8l0.7 1.3M1058.7 1518l0 0M1058.9 1476l-0.2 1M1052.7 1572.5l-1.1 0.7M1092.9 1532.3l-1.3 0.6M1135.6 1608.1l0.4 1.2M1062.4 1610.5l-1.1 0.9M1026.8 1697.3l-0.7 1.4M1218 1697.2l-0.9 0.6M1048.4 1556.6l-1 0.7M1125 1501l1.1 0.6M1051.9 1679.6l-0.1 0M1058.4 1680.8l-0.3 0.6M1109.8 1559.2l-0.3 0.9M1036.9 1462.3l-0.9 0.3M1217.7 1637.1l-0.1 0.1M1126 1607.4l0.1 0.6M1133.7 1660.1l1 0.4M1106.4 1686.3l0.2 1.1M1017.3 1641.7l-0.1 0.1M1085.8 1485.5l1.5 0.3M1181.3 1599.3l-0.6 0M1041.9 1681l-0.2 0.3M1065.3 1565.9l0.3 0.4M1114.6 1472l0.1 1.4M1016.1 1607.6l0.6 0.5M1041 1567.1l0.1 0.4M1083.9 1570.6l0.9 1.1M1060.1 1628.7l0.5 1M1115.5 1579.3l0.6 0.1M1038.3 1504.1l-0.4 0.5M1121.1 1465.2l-0.7 0.1M1155.4 1493l-0.8 1M1016.1 1516.9l0.8 0.7M1001.9 1499.8l-0.3 0M1219.7 1500.8l0.5 0.3M1116.5 1695.1l0 0M1229.1 1510.5l-0.3 0.3M1003.6 1610.8l0.4 0M1045.8 1569.9l0.2 0.6M1003.9 1562.2l-0.2 0.1M1100.8 1636.9l-0.5 1M1018.5 1589.3l-0.4 0.4M1239.8 1459.4l0 0M1075.9 1595.6l-1 0.4M1072.1 1591.4l0.2 0.2M1151.2 1693.6l-0.8 1.1M1069.6 1545.5l-0.8 0.5M1195.7 1467.7l1.5 0.3M1163.4 1688.2l-0.3 1.2M1143.6 1687.2l0.1 0.6M1059.3 1490.4l0.1 0.5M1029.5 1460.3l0.1 0M1005.7 1571.6l-1 0.8M1096.3 1609.9l-0.4 1.2M1165.4 1492.6l-0.8 0.1M1131.6 1509l1 0.2M1124.7 1675.7l0.7 0.4M1047.7 1668.6l-1.2 0.2M1220 1487.2l-0.2 1.3M1110.1 1479.9l-1.3 0.6M1121.4 1487.2l-1.2 0.8M1193.3 1491l-0.6 0.2M1058.3 1621.6l-0.5 0.4M1167.2 1467.3l0 0.1M1098.8 1570l1.2 0M1134.3 1672.7l0.7 1.2M1030.6 1469.9l0 0.1M1241 1509.7l0.5 0.7M1008.9 1563.5l0 0M1185.8 1688l0.1 0.2M1005.1 1627.6l-0.3 0.2M1046.5 1488l1.4 0.2M1053.9 1673.1l-0.9 0.5M1026.9 1655.3l0.3 1.4M1187.8 1695l0.1 0.9M1063.8 1504.2l0 0.3M1125.7 1577.9l-0.5 1.1M1161.8 1482.8l0.9 0.1M1178.8 1487.4l0 0M1097.4 1658l0 0.1M1089.2 1600.6l0 0M1030.2 1501.2l-1.1 1.1M1225.1 1542.7l-1.3 0.2M1212.1 1530l0.4 0.1M1226.3 1463.7l0.1 0M1013 1568.6l1 1.1M1085.4 1609.9l0 0.2M1010.6 1690.4l-0.7 0.5M1147.3 1484.7l-0.5 0.9M1167.3 1667.9l-0.1 0.3M1000.5 1582.8l0.2 0.9M1194.8 1668.5l-0.6 0M1174.5 1613l-0.4 0.3M1097.5 1537.5l0.1 0.2M1116 1502.8l-0.1 0.3M1071.7 1673.5l-0.7 0.2M1086.4 1503.9l0.2 1.6M1049.8 1647.3l0.7 0.6M1098.5 1594.3l-0.1 0.2M1054.4 1502.2l0.3 1M1190.7 1650.4l-0.8 0.4M1215 1473.2l1.4 0.2M1131.1 1660.6l0 0M1172.6 1479.3l-0.1 1.3M1115.1 1532.8l0 0M1197.2 1497.9l0.1 1.1M1236.8 1500.7l-1.4 0.3M1016.7 1625.1l0 0.2M1177.5 1509.2l0.8 0.6M1092.5 1687.7l-0.3 0.6M1161.3 1677.8l0.1 0.7M1210.3 1480.7l0.1 1.6M1122.2 1624.7l-0.3 0M1051.2 1513.4l-1 1M1041.2 1532.1l-0.2 0.4M1206.5 1463.2l0.7 0.9M1101 1583.6l0.6 0.1M1047.8 1561.6l1.1 1.1M1017.9 1541.3l-1 0M1013.9 1522l-0.4 1.2M1095.9 1636.2l-0.4 0.3M1183.8 1496.2l-1 0.4M1054.5 1570.2l0 0.2M1104.2 1548.2l-1 1.2M1037.6 1509.7l-0.1 0.2M1009.4 1482.3l0.3 0.1M1077.5 1542.9l1.1 0.8M1102.2 1697.8l0.6 1.2M1234.2 1531.3l-0.1 1.1M1110.9 1615.3l0.8 0.2M1083.9 1572.7l0.4 0.6M1081.2 1522.5l-0.3 1.5M1041.7 1649.3l0.2 0.5M1038.1 1640.1l0.3 1.2M1129 1683.9l-0.6 0.1M1013.3 1588.4l0.3 0.5M1202.2 1680.4l0.3 0.5M1173.5 1673.7l0.9 0.1M1192.5 1470.6l-0.7 0.3M1107.1 1653.3l0.2 0.2M1221.3 1463.9l-1 0.7M1215.8 1666.8l0.9 1M1004.7 1461.6l0 0.1M1215.7 1479.7l-0.9 0.6M1078.2 1657.7l-0.8 1.2M1165 1691l-0.6 1.3M1120.6 1613.2l-0.1 1M1028.3 1662.1l0.8 0.1M1093.9 1468.1l0.1 0.1M1126.5 1695.4l0.1 0.8M1132 1623.4l0.1 0.4M1024.3 1657.1l-0.6 0.9M1012.2 1663.3l1.3 0M1196.7 1461.8l-0.1 0.8M1181.4 1636.1l-0.9 1.2M1075.5 1612.3l-0.2 0.2M1086.8 1546.1l0.7 0.9M1125.1 1556.4l-0.3 0.7M1061.3 1659.4l0.9 0.6M1193.7 1595.2l0 0M1120 1547.2l0.7 1.2M1051.1 1534.7l-0.4 0.5M1168.4 1476.4l0.5 0M1125.5 1664.1l-0.3 1.4M1011.8 1458.2l-0.4 0.3M1025.1 1688.7l0 0.1M1009.8 1673.9l0.2 0.1M1045.3 1520.5l-0.9 0.5M1108.4 1665.4l0 0M1226.4 1543.8l-0.1 1.5M1035.3 1674l-0.3 0.3M1092.6 1655.8l-0.5 0.3M1113.1 1461.1l0.1 0.9M1236.7 1476.2l0.4 0.1M1009.1 1543.3l1 0.2M1118.6 1637.9l0.4 1.1M1098 1679.6l1.3 0.4M1186.8 1614.2l-0.5 0.4M1137 1632.7l-1.1 1M1023.3 1577.4l0.1 0.2M1155.4 1494.8l-1.4 0.2M1178.9 1478l0.1 0M1107.9 1495.7l-0.5 0.7M1014.7 1692.1l-0.7 1.3M1198.2 1502.4l0.1 0M1095.1 1581.5l0 1.3M1067.1 1485.7l-0.3 0.2M1114 1492.6l-0.1 0.1M1100.2 1609.9l0.8 0.6M1000.5 1558.5l1.4 0.5M1122.7 1586.1l1.2 0.7M1221.6 1527.6l-0.5 0.9M1090 1461.5l-1.3 0.8M1110.1 1552l0.8 0.2M1091.2 1526.8l0.1 0M1028.6 1618.8l-0.3 0.1M1004.4 1489.3l0.2 0.9M1118.8 1487.3l0.4 0.6M1032.8 1504.2l0.1 0.1M1061.7 1482.4l0.2 1.3M1043.8 1474.5l1 0.4M1159.2 1479.8l-0.2 0.7M1032.8 1614.4l-1.2 0.7M1115.1 1603.8l0.1 0.2M1052.9 1696.4l-0.6 0.1M1198.1 1645.4l-0.5 1.4M1052 1661.9l0.2 0.2M1084.3 1681.6l-0.6 1.3M1223.6 1688.5l0.6 1.4M1172.7 1697.7l0.8 0M1028.7 1697l-0.1 0M1089.4 1522.2l0 0M1097.3 1542.7l1.1 0.8M1117.6 1524.5l0.4 0.2M1026.8 1546.4l0 0.2M1101.1 1694.4l0.1 1.1M1130 1647.7l0.3 0.2M1089.2 1641l-0.4 0.1M1114 1668.5l0.7 0.9M1049.4 1471.6l0 0M1115.8 1679.4l1 1.2M1000.5 1678.8l0 0.2M1106 1539.1l0.8 0.8M1046.9 1651.8l-0.1 0.3M1190 1455.9l0.5 0.3M1074.3 1594.8l1.1 0.9M1150.6 1455.1l0.7 0M1059.4 1506.1l0.9 0.2M1057.7 1619.1l1 1M1048.3 1515.2l1.1 1M1042.7 1504.7l0.8 0.1M1062.1 1657.7l1 1M1159.9 1687l0.2 0.2M1042.8 1679l0.4 1M1197.9 1602.8l-0.4 0.4M1141 1647.3l0.6 1.1M1120.3 1574.4l0.7 1.4M1109 1594.5l0.1 1.5M1048 1501.7l-0.8 0M1053.1 1534.2l0.6 0.2M1044.8 1547.3l-0.6 0.1M1111.3 1479.3l-0.8 0.6M1048.8 1603.4l-1.5 0.3M1024.6 1643l-0.3 0.2M1078.4 1544l0.3 0.1M1209.3 1694.2l0 1.1M1065.4 1559.7l-0.1 1.5M1075.6 1506.1l-0.1 0.2M1062.4 1466.6l-1.3 0.3M1034.8 1604.3l0.8 0.7M1124.9 1475.8l-0.2 0.7M1059.7 1640.5l0.8 0M1221.1 1553.6l-0.7 0.7M1193.9 1671l-0.4 0.1M1228.6 1505.5l0 0M1060.7 1475.7l0.3 0.1M1001.5 1456.1l0.2 0.3M1017.8 1481.5l1.1 0.4M1082.3 1582.6l-1.4 0.7M1118.2 1488.4l0 0.4M1075.9 1603.7l-1.2 0.2M1202.7 1669.1l1.2 0.3M1127 1535.8l-0.7 0.7M1036 1473.9l0.2 0.2M1076.7 1680.7l0 0M1054.7 1459.6l0 0.1M1174.4 1632.9l-0.5 0.8M1019.4 1582.3l0.2 0.1M1089.2 1597.4l-0.2 0.5M1184.2 1476.6l-0.4 1.1M1066.5 1489.8l-0.6 0.4M1001.2 1660.8l-0.9 1M1072.3 1625.1l-1.1 0.5M1067.5 1480.4l1 0.1M1231 1466.1l-0.1 0M1048.6 1582.1l-0.2 1.3M1123.9 1578.8l-0.1 0M1188.4 1637.1l0.2 0.1M1194 1614.1l-0.7 0.2M1215.8 1499l0.8 0.6M1040.9 1513.5l0.1 0.1M1003.1 1476.5l0.2 0.2M1056.2 1527.8l0 0.3M1059.7 1579.1l-0.9 0.4M1005.4 1585.7l0 0.1M1182.1 1594.8l-0.1 0.6M1131.9 1608.8l0.9 1.2M1035.2 1597.3l0 0.1M1120.7 1682.3l1 0.8M1016.8 1688.2l-0.2 0M1088 1577.3l-0.2 0.4M1126.5 1495.8l1.1 0.4M1006.4 1519l0 1M1147 1519.9l-0.5 0.6M1185.9 1494.3l-0.8 1M1113.8 1589.7l-0.2 0.3M1078.3 1643.1l0 1.6M1108.7 1643.8l-0.4 0.3M1075.2 1632.9l1.2 0M1072.9 1484.8l0.9 1.1M1139.9 1643.1l1.2 0.3M1205 1513.9l0.1 0M1188.8 1630.9l-0.2 0.3M1121.1 1509.3l-0.2 0M1039.5 1610l-1.1 0.5M1214.9 1650.4l0.2 0M1014.9 1645.8l0.8 0.5M1012.1 1510.5l0.1 0.1M1048.1 1613.4l0 0.9M1062.4 1567.7l-0.1 0.7M1175.3 1671.4l-0.6 0.8M1189.1 1462.8l0.3 0.2M1154.3 1673.7l0.1 0.2M1119.2 1474.5l0.1 0.5M1009.8 1477.8l-0.3 0.4M1002.4 1650.9l0.4 0.6M1107.6 1615.6l-1 0.4M1123.3 1545.7l0.5 0.6M1152.5 1479.4l-0.9 0.8M1140.4 1683.5l-1.4 0.7M1111.7 1537.6l-0.4 1.2M1151.9 1466.1l0.3 0.8M1075.8 1654.2l-0.8 1.2M1057.7 1611.8l-0.5 0.7M1071.6 1513.1l0.5 1.2M1216.8 1472.1l0.4 0.6M1002.6 1580.7l0.1 1.5M1201.3 1662.2l0 1.3M1127.4 1591.8l-0.9 0.5M1062.4 1554.4l0.4 1.3M1030.2 1493.8l0 0M1058.3 1493.9l0.2 0.5M1030.8 1618.3l-0.9 0.9M1106.4 1459.7l1.5 0.2M1105 1569.8l0 0.4M1123.4 1626.2l-0.5 0.2M1106.9 1660.7l0.2 0.1M1213.7 1477.6l0 0.1M1008.9 1664.4l1 0.5M1115 1571.3l-1.3 0.3M1012.4 1500.2l0.2 0.6M1085.3 1659.8l-0.1 0.7M1057 1692.8l-0.6 0.8M1148.6 1667.7l-0.1 0.4M1124.3 1640.7l-0.7 0M1123.5 1524.9l0.3 0.7M1186.3 1691.3l-0.1 0M1115.2 1556.5l-0.6 0.1M1087.5 1665.9l-0.1 0.1M1226.1 1507.2l0 1.1M1065 1622.1l-0.1 0.2M1028.1 1520.2l0.8 0.9M1030.3 1456.3l-1.3 0.3M1119.6 1693l-0.8 0.2M1082.6 1560.5l0.1 1.2M1063.3 1696.3l0.9 0.1M1055.3 1688l-0.1 0.2" stroke="#34356F" stroke-width="3.6" stroke-linecap="round" opacity="0.72" fill="none"/></g><rect x="1150.5" y="1682.1" width="80.2" height="4.6" fill="#000"/><clipPath id="tc5"><rect x="1251.3" y="1455" width="240.7" height="243"/></clipPath><g clip-path="url(#tc5)"><rect x="1251.3" y="1455" width="240.7" height="243" fill="#E6DEE4"/><rect x="1251.3" y="1455" width="240.7" height="243" fill="#C4A8C2" filter="url(#mot)" opacity="0.4"/><ellipse cx="1290" cy="1680" rx="30" ry="20" fill="#D8CCD6"/><ellipse cx="1460" cy="1670" rx="30" ry="25" fill="#D8CCD6"/><rect x="1251.3" y="1455" width="240.7" height="243" fill="#FBFAFB" filter="url(#hol)" opacity="0.25"/><rect x="1251.3" y="1455" width="240.7" height="243" fill="#B47AB2" filter="url(#mem0)" opacity="0.45"/><ellipse cx="1369.6" cy="1573" rx="88" ry="80" fill="#FAF9FB"/><clipPath id="tf5_1"><path d="M1300 1560 C1300 1520 1340 1500 1380 1503 C1420 1506 1440 1530 1438 1565 C1436 1600 1420 1620 1400 1635 C1390 1650 1360 1655 1350 1640 C1345 1620 1330 1610 1310 1600 C1300 1590 1298 1575 1300 1560 Z" fill="none"/></clipPath><g clip-path="url(#tf5_1)"><rect x="1251.3" y="1455" width="240.7" height="243" fill="#D6A6D2"/><rect x="1251.3" y="1455" width="240.7" height="243" fill="#FBFAFB" filter="url(#hol)" opacity="0.45"/><rect x="1251.3" y="1455" width="240.7" height="243" fill="#A050A0" filter="url(#mem0)" opacity="0.9"/></g><ellipse cx="1369.6" cy="1573" rx="88" ry="80" fill="none" stroke="#C88AC6" stroke-width="2.8" opacity="0.9"/><path d="M1433.1 1485.4l0.3 0.3M1436.4 1639.4l0 0M1259.3 1680.7l-0.7 1.2M1275.3 1577l1.4 0.6M1473 1668.5l-0.4 0.1M1440.8 1485.5l0.2 0.1M1408.6 1552.8l-0.6 0.3M1367.2 1632.6l1.3 0.1M1257.4 1618.2l0.1 0.6M1391.7 1569.5l1 0.4M1480.6 1574.7l-0.2 0.3M1425.9 1664.2l-0.9 1.1M1369.2 1565.1l0.1 0M1338.3 1693.1l-1.4 0.4M1277.3 1492.6l0.8 0.2M1440.7 1671.2l1.1 0.1M1447.4 1461.9l0.7 0.4M1486.7 1569.2l-0.6 0.7M1306.5 1673.7l-1.5 0.2M1462.8 1478.1l0.2 0.7M1285.1 1665.7l-0.1 0.1M1413 1564.6l-0.2 0.5M1466.9 1565.5l-0.1 0M1285.6 1689.1l-0.7 0.9M1273 1624.7l-0.2 0.9M1396.2 1494.9l0.2 0.9M1265.5 1537.4l0.2 1.5M1352.3 1597.5l0.8 0.3M1383.8 1661.3l-1.2 0.4M1277.5 1564.4l-0.1 0.6M1473.1 1629.5l0 0.5M1258 1469.6l0.3 0.9M1291.6 1472.7l0.3 0M1482.1 1549.5l-0.9 0.3M1313.1 1639.8l-0.3 0.6M1423.5 1677.6l-0.8 0.5M1260.3 1654.4l0.3 1M1419.9 1547.6l0.8 1.3M1435.7 1500.5l-0.4 0.4M1377.9 1625l-0.1 0.1M1260 1612.6l0.4 1.1M1450.3 1508.2l0 0M1458.3 1480.4l0.2 0.3M1489.4 1660.8l-0.8 1.3M1468.5 1651.4l0.6 0.1M1259.9 1485.2l-0.2 1.5M1461.4 1466.2l1.2 0.3M1403.1 1658.6l0.4 0M1363.3 1470.3l-1.5 0.1M1315 1490.9l-1.4 0.1M1354.9 1661.8l-0.1 0.3M1473.9 1655.7l0.3 0.7M1295.1 1637l-0.4 0.4M1371.3 1672.3l0.4 0.1M1374.3 1687.2l0.1 0M1443.4 1697.4l0.6 0.4M1370.4 1510.3l0.5 0.4M1398.8 1577.8l1 1.1M1348.9 1571.6l-0.4 0.5M1341.5 1676.7l0 0.3M1407.1 1576l0.1 0.6M1313.2 1582l0.5 1.3M1299.4 1513.3l-0.5 0M1488.5 1484.8l1.3 0.5M1390.2 1691.3l-1 0.3M1279.7 1541.9l-0.7 0.3M1412.7 1486.8l-0.7 0.7M1486 1510.4l0.4 0.8M1381.1 1675.4l-0.4 0.7M1345 1477.7l0 0.2M1349.9 1686.2l0.6 0.1M1339.7 1531.7l0.5 1.3M1442.1 1506.7l0.1 0M1414.4 1471l-0.6 0.6M1313.1 1509.8l-0.2 0.6M1453.3 1497.7l0 0.1M1281 1480l-0.5 0.7M1418.1 1564.3l0.8 0.2M1261.6 1460.9l0 0.9M1277.6 1652.9l-0.2 0.5M1317.1 1592.3l-0.1 0.2M1475.5 1509.7l-0.4 1.1M1337.6 1667.9l-0.6 1.3M1374.4 1571.6l0.1 0.6M1365.6 1589.5l-0.5 0.9M1424.4 1587.3l0.5 0.8M1348.9 1564.4l0.6 0.5M1260.5 1530.5l0.5 0M1398.8 1479.1l1 0.3M1485.8 1468.9l0.2 0.1M1298.4 1680.9l-0.4 1.1M1482.7 1574l0.5 1.4M1444 1480.1l-0.2 0.4M1425.5 1683.3l0.4 0.8M1328.5 1568.5l0.7 0.1M1376.6 1584.2l0.5 1M1450.5 1626.1l-0.7 0.8M1304.8 1633l-0.7 0.4M1390 1563.2l-0.3 0.5M1446.3 1636.3l0.4 0.1M1292.1 1631.6l0.1 1.5M1369.8 1487.7l0.2 0.1M1402.4 1537l0.8 0.3M1416.7 1654.2l-0.2 1M1368.6 1580l0.5 1.3M1317.1 1573.1l-0.1 0M1353.6 1629.7l-1.1 0.8M1338.4 1546l-0.4 0.9M1358.6 1472.2l1.1 0.5M1270.4 1502.1l0.3 0.1M1358.8 1536.7l1.3 0.9M1391.7 1490.9l-1.5 0.1M1280.2 1571.5l1.3 0.5M1407.4 1586.2l0 0M1323.9 1585.5l0.6 0.1M1255.4 1557.4l0.9 0.4M1329.4 1576.4l0.9 0.7M1477.3 1589.8l0.6 0.3M1262.7 1580.7l-0.6 0.9M1353.1 1622.2l-0.5 1.1M1302.1 1692.3l0 1.4M1490.3 1663.9l1.2 0.6M1406.9 1469.3l0 0M1317.2 1483.1l0.4 0.7M1343.1 1587.3l0.3 0.1M1460.4 1518.2l0.2 0.4M1339.7 1464.9l0.8 0.2M1399 1591.1l-0.5 0.8M1294.3 1641.6l-0.1 1.4M1300.6 1479.3l-0.9 0.8M1386.9 1524.8l0.3 0.9M1376.9 1673.9l-0.1 0.1M1421.9 1483.7l1.4 0.2M1431.1 1651.8l-0.1 0.3M1387.3 1516.4l-1.2 0.6M1484.1 1517l-0.3 0.4M1454.3 1507.9l0.8 0.5M1372 1531.7l-0.6 0.5M1281.7 1591.5l-1.1 0.4M1388.4 1483.9l0.9 0.5M1424.5 1637l-0.5 0.1M1371.7 1480.8l0.5 0.3M1339.1 1556.5l-0.4 0.2M1461.2 1592.3l1.4 0.5M1342.5 1595.8l0.1 0.6M1258.3 1688.7l-0.5 0.2M1483.7 1489.7l0 0M1445.1 1689.2l-0.2 1.1M1314 1501l-0.3 0.2M1259.4 1597l-0.5 0.6M1413.7 1541.2l0.4 0.7M1336.9 1679.2l-0.9 0.8M1295.6 1679.7l1 0M1341.9 1536.5l-0.4 0.4M1418.3 1477.5l-0.1 0.1M1372.9 1550.6l-0.1 0.4M1262.7 1592.7l-1 0.7M1412.3 1588.3l-1 0.6M1293.6 1613.9l-0.2 0.1M1361.2 1564l0 0M1287.1 1609.9l-0.5 0.7M1255.3 1519.1l0.5 0.3M1452.4 1466.4l-0.6 0.2M1384.3 1468l-0.1 0.1M1380 1520.6l1.2 0.8M1282 1497.1l-0.7 1.1M1482.4 1595.9l-0.9 0.2M1468.1 1505.3l1.5 0.3M1378 1687.1l0.4 0M1389.5 1623.7l-0.6 1M1349.8 1545.8l0.2 0.5M1316.1 1495.6l-1.2 1M1326.6 1541.7l-0.1 0.5M1393.6 1605.1l0.8 1.1M1339.5 1476.8l-0.1 0.2M1396.6 1657.5l0.1 0.3M1430.8 1676.9l0.1 1.4M1463.6 1486.1l-0.1 0M1275.7 1680.6l0 0.2M1258 1654.5l0 0M1456.7 1558.4l-0.9 0.5M1414 1598.6l0.2 1.5M1271 1661.9l-0.1 0M1276 1607l0.2 0.1M1434.7 1513.7l-0.1 0M1487.6 1579.4l0 0M1357.2 1467.4l0.2 0.1M1304.2 1638.8l0 0.1M1467.2 1461.5l-1.6 0.1" stroke="#6A6470" stroke-width="3.6" stroke-linecap="round" opacity="0.7" fill="none"/></g><rect x="1400.2" y="1682.1" width="80.3" height="4.6" fill="#000"/><clipPath id="tc6"><rect x="1500.5" y="1455" width="241.8" height="243"/></clipPath><g clip-path="url(#tc6)"><rect x="1500.5" y="1455" width="241.8" height="243" fill="#E2BCDA"/><rect x="1500.5" y="1455" width="241.8" height="243" fill="#C888C0" filter="url(#mot)" opacity="0.45"/><ellipse cx="1494.1" cy="1443.9" rx="21.8" ry="18.8" fill="#EFD8EA" stroke="#C068B6" stroke-width="2.2" transform="rotate(38.68955344111831 1494.1 1443.9)"/><ellipse cx="1494.1" cy="1443.9" rx="5.5" ry="4.3" fill="#F8F0F6" transform="rotate(110.0417595298165 1494.1 1443.9)" opacity="0.9"/><ellipse cx="1538.8" cy="1442.2" rx="20.3" ry="20" fill="#EFD8EA" stroke="#C068B6" stroke-width="2.2" transform="rotate(15.072605043685773 1538.8 1442.2)"/><ellipse cx="1538.8" cy="1442.2" rx="8" ry="5.5" fill="#F8F0F6" transform="rotate(6.6199243801184675 1538.8 1442.2)" opacity="0.9"/><ellipse cx="1582.8" cy="1449.3" rx="19" ry="17.9" fill="#EFD8EA" stroke="#C068B6" stroke-width="2.2" transform="rotate(29.685998434751223 1582.8 1449.3)"/><ellipse cx="1582.8" cy="1449.3" rx="5.8" ry="4.7" fill="#F8F0F6" transform="rotate(81.34366029068731 1582.8 1449.3)" opacity="0.9"/><ellipse cx="1633" cy="1451.8" rx="21" ry="18" fill="#EFD8EA" stroke="#C068B6" stroke-width="2.2" transform="rotate(64.49859693276481 1633 1451.8)"/><ellipse cx="1633" cy="1451.8" rx="7.4" ry="4" fill="#F8F0F6" transform="rotate(178.3918119674516 1633 1451.8)" opacity="0.9"/><ellipse cx="1674.8" cy="1444.8" rx="22.3" ry="20.3" fill="#EFD8EA" stroke="#C068B6" stroke-width="2.2" transform="rotate(92.62936317848187 1674.8 1444.8)"/><ellipse cx="1674.8" cy="1444.8" rx="5.1" ry="4.9" fill="#F8F0F6" transform="rotate(86.25434826115882 1674.8 1444.8)" opacity="0.9"/><ellipse cx="1721.8" cy="1448.5" rx="19.6" ry="21.5" fill="#EFD8EA" stroke="#C068B6" stroke-width="2.2" transform="rotate(3.098386869760279 1721.8 1448.5)"/><ellipse cx="1721.8" cy="1448.5" rx="5.2" ry="3.5" fill="#F8F0F6" transform="rotate(61.74899505733122 1721.8 1448.5)" opacity="0.9"/><ellipse cx="1514.4" cy="1492.6" rx="22.6" ry="19.4" fill="#EFD8EA" stroke="#C068B6" stroke-width="2.2" transform="rotate(151.46963965952713 1514.4 1492.6)"/><ellipse cx="1514.4" cy="1492.6" rx="5.4" ry="4.6" fill="#F8F0F6" transform="rotate(90.79907234324378 1514.4 1492.6)" opacity="0.9"/><ellipse cx="1553.3" cy="1488.7" rx="19.4" ry="18.2" fill="#EFD8EA" stroke="#C068B6" stroke-width="2.2" transform="rotate(1.1858043933281959 1553.3 1488.7)"/><ellipse cx="1553.3" cy="1488.7" rx="5.2" ry="4.1" fill="#F8F0F6" transform="rotate(116.42824346215235 1553.3 1488.7)" opacity="0.9"/><ellipse cx="1652.6" cy="1492.2" rx="20.2" ry="18" fill="#EFD8EA" stroke="#C068B6" stroke-width="2.2" transform="rotate(81.41170364427211 1652.6 1492.2)"/><ellipse cx="1652.6" cy="1492.2" rx="7.2" ry="4.8" fill="#F8F0F6" transform="rotate(125.8779703577088 1652.6 1492.2)" opacity="0.9"/><ellipse cx="1699.8" cy="1493.5" rx="20.2" ry="19.2" fill="#EFD8EA" stroke="#C068B6" stroke-width="2.2" transform="rotate(92.45805249509435 1699.8 1493.5)"/><ellipse cx="1699.8" cy="1493.5" rx="4" ry="3.9" fill="#F8F0F6" transform="rotate(64.66829218006403 1699.8 1493.5)" opacity="0.9"/><ellipse cx="1737.1" cy="1492.7" rx="21.7" ry="17.4" fill="#EFD8EA" stroke="#C068B6" stroke-width="2.2" transform="rotate(44.861669117592065 1737.1 1492.7)"/><ellipse cx="1737.1" cy="1492.7" rx="7.6" ry="4.3" fill="#F8F0F6" transform="rotate(46.88172499076182 1737.1 1492.7)" opacity="0.9"/><ellipse cx="1494.4" cy="1535.5" rx="22.1" ry="21.5" fill="#EFD8EA" stroke="#C068B6" stroke-width="2.2" transform="rotate(98.09595900961112 1494.4 1535.5)"/><ellipse cx="1494.4" cy="1535.5" rx="4.6" ry="5.1" fill="#F8F0F6" transform="rotate(168.39137667069713 1494.4 1535.5)" opacity="0.9"/><ellipse cx="1535" cy="1537.9" rx="23.4" ry="17.8" fill="#EFD8EA" stroke="#C068B6" stroke-width="2.2" transform="rotate(140.8428700295185 1535 1537.9)"/><ellipse cx="1535" cy="1537.9" rx="5.9" ry="4.7" fill="#F8F0F6" transform="rotate(166.36523731559046 1535 1537.9)" opacity="0.9"/><ellipse cx="1722.4" cy="1536.2" rx="19.4" ry="19.6" fill="#EFD8EA" stroke="#C068B6" stroke-width="2.2" transform="rotate(80.78437796445925 1722.4 1536.2)"/><ellipse cx="1722.4" cy="1536.2" rx="5.8" ry="3.8" fill="#F8F0F6" transform="rotate(65.7380148830552 1722.4 1536.2)" opacity="0.9"/><ellipse cx="1516.1" cy="1578.1" rx="23.3" ry="20.5" fill="#EFD8EA" stroke="#C068B6" stroke-width="2.2" transform="rotate(135.42875904284512 1516.1 1578.1)"/><ellipse cx="1516.1" cy="1578.1" rx="5.6" ry="3.5" fill="#F8F0F6" transform="rotate(1.7409664534264557 1516.1 1578.1)" opacity="0.9"/><ellipse cx="1747" cy="1580.9" rx="23.3" ry="21.8" fill="#EFD8EA" stroke="#C068B6" stroke-width="2.2" transform="rotate(114.67648994720301 1747 1580.9)"/><ellipse cx="1747" cy="1580.9" rx="4" ry="4.9" fill="#F8F0F6" transform="rotate(88.80051684768374 1747 1580.9)" opacity="0.9"/><ellipse cx="1493.5" cy="1622.3" rx="22.5" ry="18.8" fill="#EFD8EA" stroke="#C068B6" stroke-width="2.2" transform="rotate(105.12089120352451 1493.5 1622.3)"/><ellipse cx="1493.5" cy="1622.3" rx="5.8" ry="3.6" fill="#F8F0F6" transform="rotate(57.6559572974985 1493.5 1622.3)" opacity="0.9"/><ellipse cx="1530.8" cy="1625.5" rx="23.5" ry="20" fill="#EFD8EA" stroke="#C068B6" stroke-width="2.2" transform="rotate(30.613295150120678 1530.8 1625.5)"/><ellipse cx="1530.8" cy="1625.5" rx="6.2" ry="3.8" fill="#F8F0F6" transform="rotate(69.03412471798738 1530.8 1625.5)" opacity="0.9"/><ellipse cx="1724.6" cy="1628.2" rx="22.4" ry="20.5" fill="#EFD8EA" stroke="#C068B6" stroke-width="2.2" transform="rotate(167.67248416132512 1724.6 1628.2)"/><ellipse cx="1724.6" cy="1628.2" rx="6.7" ry="4.8" fill="#F8F0F6" transform="rotate(26.71981820605567 1724.6 1628.2)" opacity="0.9"/><ellipse cx="1509.8" cy="1664.6" rx="19.2" ry="19.1" fill="#EFD8EA" stroke="#C068B6" stroke-width="2.2" transform="rotate(8.272972633201874 1509.8 1664.6)"/><ellipse cx="1509.8" cy="1664.6" rx="7.6" ry="4.9" fill="#F8F0F6" transform="rotate(60.037206694973285 1509.8 1664.6)" opacity="0.9"/><ellipse cx="1556.2" cy="1670.8" rx="23.5" ry="22" fill="#EFD8EA" stroke="#C068B6" stroke-width="2.2" transform="rotate(15.1315736563354 1556.2 1670.8)"/><ellipse cx="1556.2" cy="1670.8" rx="5.8" ry="5.9" fill="#F8F0F6" transform="rotate(105.68472277340888 1556.2 1670.8)" opacity="0.9"/><ellipse cx="1655.5" cy="1673.6" rx="20.3" ry="18.7" fill="#EFD8EA" stroke="#C068B6" stroke-width="2.2" transform="rotate(75.33643748171752 1655.5 1673.6)"/><ellipse cx="1655.5" cy="1673.6" rx="7.9" ry="3.2" fill="#F8F0F6" transform="rotate(109.2334157763269 1655.5 1673.6)" opacity="0.9"/><ellipse cx="1697.9" cy="1671.2" rx="19.4" ry="17.8" fill="#EFD8EA" stroke="#C068B6" stroke-width="2.2" transform="rotate(142.43122475961778 1697.9 1671.2)"/><ellipse cx="1697.9" cy="1671.2" rx="7.8" ry="4.6" fill="#F8F0F6" transform="rotate(92.7055210488868 1697.9 1671.2)" opacity="0.9"/><ellipse cx="1745.5" cy="1664.4" rx="23.1" ry="17.1" fill="#EFD8EA" stroke="#C068B6" stroke-width="2.2" transform="rotate(113.24028105195566 1745.5 1664.4)"/><ellipse cx="1745.5" cy="1664.4" rx="7.4" ry="3.4" fill="#F8F0F6" transform="rotate(64.90022546879474 1745.5 1664.4)" opacity="0.9"/><rect x="1500.5" y="1455" width="241.8" height="243" fill="#FBFAFB" filter="url(#hol)" opacity="0.2"/><rect x="1500.5" y="1455" width="241.8" height="243" fill="#B860AE" filter="url(#mem2)" opacity="0.5"/><clipPath id="tf6_0"><ellipse cx="1618" cy="1582" rx="64" ry="76" fill="none"/></clipPath><g clip-path="url(#tf6_0)"><rect x="1500.5" y="1455" width="241.8" height="243" fill="#DCA8D4"/><rect x="1500.5" y="1455" width="241.8" height="243" fill="#FBFAFB" filter="url(#hol)" opacity="0.45"/><rect x="1500.5" y="1455" width="241.8" height="243" fill="#A848A4" filter="url(#mem2)" opacity="0.85"/></g><path d="M1570 1560 Q1590 1510 1640 1512 Q1680 1520 1672 1560 Q1630 1590 1580 1596 Z" fill="#FAF9FB"/><path d="M1572 1625 Q1590 1615 1605 1628 Q1600 1645 1575 1642 Z" fill="#FAF9FB"/><clipPath id="tf6_3"><ellipse cx="1636" cy="1600" rx="40" ry="40" fill="none"/></clipPath><g clip-path="url(#tf6_3)"><rect x="1500.5" y="1455" width="241.8" height="243" fill="#C478C2"/><rect x="1500.5" y="1455" width="241.8" height="243" fill="#FBFAFB" filter="url(#hol)" opacity="0.45"/><rect x="1500.5" y="1455" width="241.8" height="243" fill="#9A3898" filter="url(#mem1)" opacity="0.9"/></g><ellipse cx="1618" cy="1582" rx="64" ry="76" fill="none" stroke="#A040A0" stroke-width="3.4" opacity="0.9"/><path d="M1609.5 1658.6l0 1.5M1731.4 1480.2l0 0.7M1683.7 1585.1l1.1 0.6M1560.6 1497.5l0.9 0.7M1529.8 1674.3l0.3 0.4M1683.7 1522.1l0.1 0.1M1594.6 1506.7l0.2 1.4M1680.4 1694.7l1.1 0.1M1561.5 1670.6l0 0M1712.2 1547.7l-1.1 0.8M1501.5 1522.1l-0.4 0.7M1592.9 1621.1l0.4 1.4M1710.4 1457.2l-0.9 0.9M1584.4 1620.6l0 0.3M1630.7 1659.2l0.1 0.6M1507 1522.8l1.2 0.1M1645.9 1686.7l0.3 0M1724.5 1661.7l0 0.7M1610.9 1461.9l-0.1 0.3M1579.5 1651.5l1.1 0.6M1684.2 1515.1l-0.3 0.6M1508.8 1571.1l-0.9 0.2M1504.9 1501.1l0 0M1523.7 1468.4l0.5 0.2M1611.7 1631.8l0.7 0.3M1567.4 1497.3l1.3 0.1M1598.1 1529.3l1.2 0.7M1696.9 1606l-1 1.1M1519.7 1688.5l-0.2 0.1M1656.5 1655.4l0.1 1M1613.1 1683.7l-0.2 0.3M1644.8 1617.4l0 1M1561.6 1602.9l0.1 0.5M1543.2 1610.3l1.2 1.1M1617.2 1487.6l0.9 0.6M1666 1655.2l0.4 1.1M1563.6 1539.6l0.5 0.4M1659.4 1475.4l-0.5 0.3M1552.7 1679.3l-0.8 0.2M1530.6 1690.4l-0.5 0M1561.5 1491.7l0 1.1M1529.3 1664.4l0.7 0.1M1550.2 1673.9l0.4 1.1M1632.7 1508.9l0.3 1.6M1604.6 1661.4l1.6 0.1M1574.3 1525.6l1.3 0.2M1531.2 1464.9l0.7 0.1M1697 1591.8l-0.3 1.4M1552.8 1542.8l-0.5 0.4M1554.4 1595.1l0 0.4M1612.1 1488.7l-0.9 1.3M1544.2 1563.4l0.3 0.3M1551.8 1581.3l-0.6 1.2M1641.1 1658.7l-0.4 0.7M1697.5 1573.3l1.4 0.1M1676.2 1649.4l0.9 0.8M1694.1 1622l0.3 0.5M1518.4 1655.4l-0.1 1.2M1689 1670.8l0.3 0.2M1727.3 1608.3l-0.1 0.9M1711 1647.2l-0.1 0.7M1574.3 1632.8l-0.4 0M1587.2 1643.5l-0.3 0M1515.7 1484.6l-0.1 0.1M1710 1675.5l-0.7 0.4M1568.3 1624.5l-0.1 0.3M1675 1598l0.4 0.2M1514.2 1585.7l-0.7 0.8M1708.4 1569.6l-0.2 1.4M1507.8 1683.4l-1.3 0.6M1527.2 1596l-0.1 0.9M1721.1 1475l-0.4 1.1M1591.2 1638.5l1 0.7M1630.9 1696.2l-0.2 0.2M1699.5 1501.7l0.6 0.6M1576.7 1676.5l-0.5 0.4M1653 1585.1l0.2 0.2M1670.2 1639.5l0 0.4M1634.7 1645.1l0 0.7M1534.3 1551.6l0.8 0.4M1684.2 1586.2l-0.5 0.3M1542.7 1540.6l0 1M1668 1467.9l0.1 0.2M1652.6 1464.1l-1.3 0.9M1680.7 1692.1l-0.7 0.8M1726.4 1600.6l0.7 0.2M1664.3 1483.2l0.2 0.3M1732.8 1686.4l-0.2 0.5M1586.5 1583l-0.6 0.3M1567.2 1527.2l0 0M1648.1 1675.8l0.5 1.4M1740.7 1644.6l0.6 0.9M1612.5 1524.3l-0.4 0.8M1702 1596.7l0.1 0M1527.5 1622.1l-0.5 1.4M1583.4 1510.6l0 0M1693.6 1561.7l-1.5 0.1M1528.1 1633.4l0.1 0.6M1692.4 1604.6l-0.9 0M1638.5 1626.7l0 0.1M1574.2 1553.2l0.4 0.5M1738.3 1556.1l0.4 0.5M1577.9 1619.2l-0.4 0.6M1740.5 1507.5l-0.5 1.1M1629.7 1470.2l1 0.2M1671 1459.6l-0.9 0.3M1641.6 1616.3l0.7 1.3M1571.2 1532.7l0.3 0M1672.2 1612.1l-1 1M1679.5 1486.4l-0.7 0.9M1711 1459l-1 0.8M1655.1 1579.6l-0.1 0.1M1666.9 1657.7l-1 0.1M1609.6 1466.5l-0.3 1.4M1721.2 1538.4l0.5 0.7M1715.9 1519.9l1 0M1707 1665.4l-1.3 0.2M1644.4 1687.5l-0.3 0.4M1595.8 1501.6l-1.5 0.1M1721.4 1694.1l0.5 0.8M1538.7 1587.9l0.2 0.1M1711.3 1540.8l-0.3 0.3M1672 1603.9l-1 0.5M1724.4 1678.7l-0.6 1.3M1536.2 1473.2l-1 0.6M1735.8 1654.6l-0.1 0.1M1588.3 1498.6l0.3 0.3M1576.5 1469.6l-1 0.2M1716.1 1505.4l1.4 0.7M1501.5 1547.9l0.1 0.7M1722.3 1668.4l0 0M1507.3 1497.2l0.2 0.8M1517.6 1671.9l0.1 0.3M1510.4 1602l0.3 1.6M1694.5 1508.5l-0.5 1.1M1601.9 1587l-0.4 0.7M1543.7 1569.8l1.5 0.4M1578.5 1484.4l0.3 0.3M1621.3 1605.3l0.4 0.8M1550.2 1606.2l0.1 1.1M1535 1578.6l-0.3 1.4M1680.9 1624.7l0 0M1536.3 1495.7l-0.1 0M1505.9 1556.3l0.2 0.6M1651.9 1618.3l0.1 0M1656.8 1492.9l-0.2 0.8M1729.3 1570.6l-1.3 0.5M1503.8 1584.3l0 0M1693 1670.6l0 0.1M1697.9 1646l0.6 0M1524.3 1501.6l-0.3 0.4M1599.7 1467.2l-0.6 0.4M1693.9 1628l-1.2 0.7M1591.9 1527.7l-0.8 1.4M1684.8 1597.7l1.1 1.1M1562.3 1679.1l0.1 0M1663.4 1633.8l0.5 0.4M1694 1611.1l0 0.1M1720 1648.7l-1.4 0.3M1524.4 1644.6l0.4 0.2M1558 1580.8l-1.1 0.1M1702.7 1559.6l0 0.2M1725.5 1588.2l-0.1 0M1537.9 1626.7l0.9 0.2M1580.1 1536.6l0.5 0.2M1729.4 1539.4l-0.1 0.2M1623.6 1670l-0.2 0.4M1510.4 1569.3l-1.4 0.3M1603.2 1652.6l0.3 0.3M1670.6 1524.7l0 0M1736 1473.5l-0.4 0.9M1728.2 1491.6l-0.2 0.1M1664.1 1606.3l1.3 0.1M1598.4 1595.3l0.7 1.4M1576.1 1577.8l-0.1 0.1M1510.1 1504.3l-0.2 0.1M1568.7 1647.3l1.1 0.5M1734.3 1551.7l0.1 1.4M1519.7 1580.6l0 0.5M1670.9 1683.7l-1.5 0.4M1534.1 1666.7l0 0M1502 1597.2l0.7 0.6M1681.5 1535.7l0.3 0.3M1642.3 1660.9l0.5 0.1M1551.3 1645.7l-0.6 1M1507 1523.3l-0.3 0.3M1670.6 1544l-0.6 1.1M1705 1565.5l-0.7 1.3M1686.3 1608.7l-0.3 0.8M1689.4 1635l1.3 0.6M1619.9 1482.9l-0.3 0.1M1736.8 1501l0.6 1.3M1680.5 1459.4l-0.4 0.1M1714.6 1469.8l1.4 0.2M1576.9 1467.6l1 0.3M1519.7 1647.4l-0.6 0.1M1641.8 1630.6l0.4 0.2M1552.2 1636.2l-0.5 1M1538 1584.9l1 0.4M1528.2 1648.9l0 0.1M1592.4 1654.9l-0.5 1.3M1717.9 1598.8l-1.4 0.7M1563.4 1636.8l-1.3 0.1M1551.3 1574.2l1 1M1627.2 1646.5l0.4 0.8M1635.5 1513.1l-1.5 0.2M1522 1614l0 0.6M1733.5 1590l0.7 0.3M1719.6 1671.1l-0.5 0.2M1690 1542.6l0.7 0.2M1572 1601l0 0.1M1574.4 1558.2l1.4 0M1720.5 1653.8l-0.2 0.4M1608.1 1627.2l0 0.4M1630.3 1660.5l1 0.4M1583.4 1460l-0.2 0M1604.8 1675.4l-0.2 0.4" stroke="#6A5C6C" stroke-width="3.6" stroke-linecap="round" opacity="0.75" fill="none"/></g><rect x="1650" y="1682.1" width="81.2" height="4.6" fill="#000"/><clipPath id="tc7"><rect x="1751.3" y="1455" width="240.7" height="243"/></clipPath><g clip-path="url(#tc7)"><rect x="1751.3" y="1455" width="240.7" height="243" fill="#C2ACD8"/><rect x="1751.3" y="1455" width="240.7" height="243" fill="#8E74BA" filter="url(#mot)" opacity="0.5"/><ellipse cx="1790" cy="1570" rx="42" ry="95" fill="#A898C8"/><rect x="1751.3" y="1455" width="240.7" height="243" fill="#FBFAFB" filter="url(#hol)" opacity="0.15"/><rect x="1751.3" y="1455" width="240.7" height="243" fill="#9264B2" filter="url(#mem0)" opacity="0.5"/><ellipse cx="1880" cy="1578" rx="62" ry="65" fill="#B898D2"/><clipPath id="tf7_1"><ellipse cx="1876" cy="1582" rx="48" ry="52" fill="none"/></clipPath><g clip-path="url(#tf7_1)"><rect x="1751.3" y="1455" width="240.7" height="243" fill="#9E7EC4"/><rect x="1751.3" y="1455" width="240.7" height="243" fill="#FBFAFB" filter="url(#hol)" opacity="0.45"/><rect x="1751.3" y="1455" width="240.7" height="243" fill="#7A50A8" filter="url(#mem0)" opacity="0.8"/></g><path d="M1905 1535 Q1930 1560 1925 1600 Q1915 1625 1895 1630 Q1915 1600 1910 1570 Z" fill="#FAF9FB" opacity="0.95"/><path d="M1845 1605 Q1860 1625 1880 1630 L1878 1636 Q1855 1632 1840 1610 Z" fill="#FAF9FB" opacity="0.95"/><ellipse cx="1880" cy="1578" rx="62" ry="65" fill="none" stroke="#8456AE" stroke-width="3" opacity="0.9"/><path d="M1920.6 1548.6l0 0.5M1778.5 1587.2l-1.1 0.1M1799.2 1492.5l-0.6 0.7M1960 1598.2l-0.4 0.2M1768.3 1622.3l0 0M1926.8 1509l-0.4 0.9M1756.1 1532.7l-0.6 0.5M1767.1 1636.7l0 0M1799.2 1565.5l-0.1 0.1M1782.3 1550.5l-0.5 1.5M1869 1485l-1.2 0.8M1772.8 1555.8l-1.2 0.7M1809 1589.1l-1.1 0.3M1766.1 1548.2l-1.2 0.6M1956.1 1606.9l0 0M1786 1588.1l-0.2 0.2M1861.2 1458.9l1.1 0.1M1801.2 1580.5l0.2 0M1793.3 1570.9l1 0.8M1970.3 1561.5l0.3 0.5M1850.9 1620.5l-0.4 0.5M1808 1521.5l0 0M1959.8 1664.8l-0.3 0.2M1973.6 1470l0.2 0.6M1796.5 1590.1l-0.3 1.1M1819.3 1546.5l0.3 0.4M1783 1641.7l0.3 0.2M1858.7 1505.8l1.1 0.7M1919.4 1487.1l1.2 0.1M1983.5 1488.7l-0.4 0.5M1780.2 1596.5l-0.8 0.6M1957.8 1534l0.2 0.2M1851.6 1664l0.3 0.1M1783.2 1539.5l0 0M1823.3 1605.1l0.1 0.1M1849.6 1470.2l1.3 0.5M1957 1592.4l-0.1 0.1M1784.4 1458.7l-1.1 0.9M1790.8 1608.1l0.5 1M1899.8 1655.9l-0.1 0.1M1773.7 1516.9l-0.6 1M1779.3 1681.1l0.7 0.6M1784.4 1527.5l1.4 0.7M1911.5 1688.8l0.4 0.2M1846.1 1607.4l0.2 0.4M1867.4 1536.5l-0.5 1.3M1769.4 1584.6l-1.4 0.4M1764 1675.3l-0.6 0.8M1802.1 1573.9l-0.6 0.5M1836.3 1594.3l-0.4 0.7M1887.8 1522.1l0 0M1935.9 1658.1l-1.5 0.4M1830.8 1628.6l0.5 0.4M1783.3 1517.3l0.6 0.2M1974.3 1514.4l-1.2 0.2M1889.9 1489l0.2 0.3M1966.2 1694.3l0 0M1770.2 1538.2l-0.1 0M1784.7 1558.4l1.2 0.8M1759.8 1546.8l-0.3 0.3M1758.2 1569.9l-1.2 0.4M1928.6 1558.3l0.2 1.5M1952.1 1564.9l-0.8 0.5M1803.6 1645.2l-0.3 0.4M1982.2 1608.1l0.2 0M1760 1664.9l-0.2 0.1M1776.2 1568.4l-0.2 0.1M1781.9 1482.6l1.2 0.1M1876.5 1685.1l0.2 0.3M1894.2 1627.8l0 0M1840.1 1560.6l-0.5 0.3M1896.2 1675.9l1.1 0.9M1762.1 1627.5l-1 0.5M1894.7 1598.8l0.6 1.3M1760.6 1649.9l-0.3 0M1895.8 1615l0.2 0.5M1760.8 1696.6l0.6 1.1M1797.1 1642l1.4 0.1M1796.7 1562.7l0.4 0.5M1858.6 1608.5l0.5 0.2M1976.6 1484.5l1.5 0.5M1904.2 1692.7l1 0.5M1779.9 1532.1l1.5 0.4M1794.8 1499.1l0 0M1879.1 1694.8l0 0M1854.3 1534.7l-0.5 0.5M1958.7 1492.7l-0.4 0.4M1854.7 1520.4l-1.4 0.4M1816.4 1566.7l-0.8 0.9M1797 1588.6l-1 0.9M1959.9 1556.5l0.2 0.4M1852.4 1597.5l-0.1 0.3M1932.3 1535.7l-0.2 0.1M1822.2 1555.9l0 0.4M1952.3 1524.5l0.5 1M1930.5 1632.7l-0.8 0.7M1858.8 1647.1l0.9 0.4M1885.3 1632l-0.1 0M1851.7 1683.2l-0.3 0.2M1923.4 1650.1l1 0.1M1755.8 1618.5l-0.5 0M1834.8 1544l0.5 0.5M1810.1 1523.7l0.2 0.2M1882.6 1479.4l-0.1 0.9M1792.6 1630.8l1 0.5M1790.4 1486.8l0.4 1.5M1787.9 1480.7l-1.4 0.2M1949.4 1609.1l-0.1 0.8M1958.8 1544.3l-0.1 0M1839.7 1619.6l0.1 0.3M1920.5 1494.9l1.2 0.7M1848.1 1643.6l0.8 0.6M1879.6 1666.3l1.2 1.1M1752.7 1544.8l0 0M1840.6 1494.8l1.5 0.3M1858.6 1585.9l-0.1 0.2M1798.3 1521.8l-0.1 0.5M1790.5 1606.5l0.1 0.1M1839.1 1611.9l-0.4 0.5M1830.1 1657.4l0.2 0.5M1825.7 1602.6l-0.2 0M1799.5 1567.7l-0.8 0.1M1793.9 1651l0.5 0.6M1892 1562l-0.2 1.1M1913.5 1665l-0.2 0.1M1780.8 1612.7l-1.1 0.4M1897.4 1527.4l0.3 0.8M1931.6 1660.5l0.3 0.3M1826.2 1613.6l0.3 1M1811.3 1557.5l0.2 0.8M1873.2 1544.2l0.3 0.6M1850 1495.8l-0.1 0.5M1805 1685.6l0.4 1.5M1908.3 1527.4l-0.5 0.7M1804 1523.8l0 0.1M1795.9 1540.1l0 0.4M1773.8 1510.8l0 0M1822 1563.8l-0.8 0.5M1894.8 1572.8l-1.4 0.5M1773.7 1582.9l-0.7 0.2M1890.3 1639.9l0.4 1.4M1890.3 1657.7l1.1 0.9M1841.1 1592.4l-0.9 0.2M1793.2 1576.2l-0.5 1.1M1962.3 1485.6l0.4 0.5M1764.7 1528.9l0 0M1777.6 1640.6l-0.1 0.1M1884.3 1691.6l-0.8 0.2M1787 1659.1l0.5 1.1M1782.1 1529.6l-0.2 1M1875.5 1680.3l1.1 0.9M1968.8 1556.6l0.4 1.5M1819.2 1589.9l0.2 0.5M1771.4 1636.6l0.2 0.8M1756.9 1467l0.1 0.5M1858.7 1480.3l-1.1 0.5M1825.5 1629.4l-0.1 0.6M1797.3 1588.9l-0.5 0.4M1910.7 1534.2l0.8 0.2M1813.2 1515.9l-1.2 0.3M1897.1 1585.7l-0.4 1.2M1765.8 1465.2l0.7 1M1769.4 1680.1l1.2 0.2M1976.4 1484.9l1.1 0M1980 1569.8l0.2 0.4M1908.8 1547.3l0.3 1.4M1837.2 1474l-0.1 1.2M1970.3 1497.9l-1 1.1M1802 1585.8l0.2 0.1M1789.7 1645l-0.1 0.1M1764.6 1502l0.1 0.3M1767.5 1521.4l0.5 0.7M1926.7 1631.3l-0.4 0.1M1814.3 1480.2l1.3 0.3M1950.9 1639.4l1 0.9M1783.8 1675.5l-0.9 0.3M1890.2 1612.6l0.5 0.9M1786.3 1556.4l-0.5 1.5M1781.8 1506.7l-0.1 0.1M1931.8 1462.3l0.4 0.2M1780.1 1577.7l0 0.5M1817.5 1612.4l0.4 0.6M1795.8 1520.9l-0.4 0.4M1972.2 1643.9l-0.7 1M1938.9 1607.5l0.8 0.7M1812.1 1550.5l0 0M1787.8 1472.1l0.7 0M1785 1464.3l-0.7 1M1865.1 1661.1l-0.5 1.5M1786.4 1636.9l-0.5 0.4M1844.4 1502.2l-1.2 0.8M1921.6 1457l0.1 0M1975.3 1466.3l0.6 0.5M1760.5 1571l-0.4 0.5M1787.6 1591.1l-0.8 0.6M1984.9 1496.7l0.4 0.5M1757.1 1550.5l-0.2 0.2M1863.6 1490.3l0.1 0.1M1963.2 1499.9l0 0.2M1782.9 1648.4l0.5 0M1793.9 1513.8l-0.2 0.4M1790.3 1489.6l1 0.6M1781.1 1495.9l-0.8 0.2M1910.6 1459.6l0.2 0.4M1920.9 1679.3l-0.7 0.1M1848.4 1474.9l0.8 0.2M1838.6 1670.7l-0.2 0.7M1788.9 1563.2l0.8 1.2M1864.3 1636.2l-0.1 0.2M1989.3 1626.4l-0.8 1.1M1884.8 1590.4l-0.2 0.6M1950 1515.1l0.1 0.7M1801.5 1518.5l-0.8 0.8M1901.7 1536l0 1.4M1944.9 1597.9l0 0M1826.7 1521.5l-0.7 0.7M1815.2 1570.4l-1.4 0M1863.7 1536.3l0.4 1.1M1780.3 1481l0 0M1836.3 1633.8l-0.1 0.1M1928.7 1583l-1.3 0.4M1791.8 1546.5l-0.1 0.1M1788.3 1537.3l0 0M1797 1658.1l-0.7 0.3M1876.8 1579.3l-1.2 1M1758.8 1506.1l0.1 0.7M1843.9 1531.1l1.2 0.3M1884.5 1627.1l0.2 0.5M1984.4 1510l-1.4 0.8M1847.9 1697.2l-0.9 1.3M1752.4 1556.5l-0.1 0.5M1776.6 1602.1l0.2 0.3M1816.9 1626l0.5 0M1757.7 1621.8l-0.2 1M1792.3 1682.3l0.4 0.7M1793.9 1567l-0.3 0.3M1781.2 1520.7l0.3 0.2M1968.8 1571.6l-0.6 1.2M1861.6 1667.9l0.4 0.8M1859.3 1682.6l0.1 0.2M1978.7 1574.1l0.2 0.1M1794.4 1502.4l1 0.1M1770.6 1661.1l0.4 0.4M1813.5 1525.3l0 0M1755.1 1578.9l-0.3 0.7M1815.3 1563.5l0.9 0.1M1947.2 1498.6l-0.9 0.9M1922.9 1592l0.8 0.3M1779.8 1528.3l0.9 0.6M1867.1 1589.9l-0.1 1.3M1858.9 1568.9l0.4 1.1M1769.4 1602.3l0.8 0.7M1799.6 1650.5l-0.8 0.2M1923.3 1466.7l0.2 0.3M1781.9 1628.5l0 0M1759 1558l1.5 0.4M1930.2 1694.6l0.9 1M1870.9 1611.1l-1.4 0.5M1823.4 1679l-0.1 0.7M1981.1 1681.8l-0.2 0.1M1942.8 1516.5l0.5 0.1M1903.7 1495.2l-0.5 0.7M1985.6 1614.7l-0.1 0.8M1863 1642.2l0.1 0.1M1876 1617.6l0.1 0M1810.9 1502.6l0.6 0.3M1937.9 1596.7l0.1 1.3M1966 1514.3l0.2 1M1809.2 1624.7l0.1 1.1M1781.8 1514.9l0.6 0.4M1810.6 1668.3l0 0.1M1823.9 1569.4l-0.1 0.5M1900.7 1625.1l-0.4 0.4M1981.4 1552.5l0 0M1799.1 1543.6l-0.6 0.7M1858.3 1510.5l-0.4 0.9M1818.8 1610.2l-0.8 0M1985.5 1460.9l-0.5 0.1M1785.3 1498.2l-0.1 0.5M1978.9 1465.8l-0.4 0.1M1922.5 1695l0.8 0.4M1937 1655.9l-1.5 0.2M1772.3 1517.5l-1.1 0.6M1798.9 1519.8l0.4 0.7M1948.2 1603.1l-0.5 0.6M1858.5 1547.4l1.5 0.3M1900 1510.5l-1 1.1M1845.7 1457.2l-1.5 0.4M1787.5 1508.7l-0.7 0.6M1863.5 1579l0.5 0.6M1988.2 1696.2l-1.2 1M1808.8 1643.7l0.1 0.6M1806.5 1540.9l0.7 0.6M1777.5 1610.3l-1.2 1M1851.6 1510.1l-1.4 0.5M1809.3 1513.4l0 0.1M1952.8 1520.4l-1.4 0.7M1957.5 1695.7l0.1 0.2M1788.3 1468.2l0.4 0.4M1778.7 1506.5l1.4 0.2M1778.7 1667.8l-0.5 0.2M1759.6 1522.7l-1.2 0.2M1752.3 1632.3l1.1 1.2M1800.5 1628.1l0.1 0.1M1908.7 1465.4l-0.1 1.4M1804.9 1618.2l1.3 0.3M1890.7 1568l0.2 0.4M1810.7 1557.2l0.9 1.2M1926.3 1643.4l0.2 1.1M1781.1 1501.1l0 0M1807.4 1525.9l0 0M1791.8 1546.8l0.2 1.6M1927.2 1687.4l-0.3 0M1898.7 1525.2l0.4 0M1896.7 1601.7l-0.6 0.2M1901.5 1620l-0.8 0.8M1886.3 1588.5l0 0.5M1814.2 1634.4l0.7 0.8M1983.8 1525.8l0.8 1.4M1898.4 1641l1.1 1.1M1961.5 1574.6l1.4 0.2M1753.2 1618.8l-0.9 0.5M1973.4 1595.2l0 0M1895.2 1663.2l0.1 0.1M1815.1 1561.4l-1.3 0.1M1756 1606.5l0 0M1759.9 1555l0.8 0.2M1889.7 1658.1l0.5 0M1907.2 1475.1l-0.7 0.1M1890.3 1536.8l1.2 0.9M1856.3 1618.6l0.2 0.7M1799.2 1685.2l0.4 0.9M1935.9 1542.5l-0.6 0.9M1760.8 1582.2l0.6 0.3M1813.5 1626l0.5 0.6M1791.9 1601.9l0 0.2M1808.3 1625.8l-0.9 0.2M1989.5 1596.8l0.2 0.2M1777.1 1598l0.3 0.1M1760.8 1659.4l-0.2 0.2M1959.6 1583.5l0.1 0.1M1862.9 1470.3l1.1 0.9M1810 1484l0 0M1782.8 1481.7l-0.7 0.3M1961.1 1640.6l0.1 0.2M1815.6 1552.9l-0.2 0.5M1796.4 1592.3l-0.8 0.3M1940.7 1689.3l0.1 0.2M1927 1526.1l-0.5 0.7M1754.2 1572l0.8 0.4M1890.3 1610.9l-0.2 0.8M1974.9 1636.6l-0.4 0.9M1841.2 1634l0.2 0.5M1874.1 1679.2l-0.3 0.4M1856.3 1694.3l0.7 0.3M1795.5 1625.7l1.1 0.9M1895.8 1611.2l-0.3 1.2M1948.5 1607.2l0.2 0.3M1781.1 1521l-0.3 0.7M1977.6 1518l0.4 0.4M1777.2 1539.1l0.2 0M1885.7 1642.5l-1.1 0.1M1784.1 1534.4l-0.3 0.5M1978.5 1540l-0.4 1.1M1783.7 1564.6l0 0M1915.7 1595.7l-0.6 0.7M1864.6 1557.8l0.3 0.2M1942 1549.4l-0.2 0.6M1824 1559l0.3 0.1M1808.5 1537.8l0.1 0.3M1819.7 1580.8l0.5 0.8M1809.5 1519.9l0.1 0.5M1902.1 1488.5l-0.5 0.5M1793.3 1638.2l0.5 1.3M1850 1625.8l-1.3 0.3M1875.5 1612.8l0.3 1.5M1936.2 1661.1l0.3 0M1925 1662.1l-0.4 0.5M1877.3 1545.2l1 0.5M1795.3 1575.2l1.2 0.2M1785.5 1455.3l1 0.6M1771.8 1608.2l-0.5 0.5M1920.2 1647.7l0.4 1.2M1925.7 1468.8l-0.4 0.4M1785.1 1630.4l0 0.3M1938.3 1479.6l0.7 0.2M1768.2 1686.1l0 0.1M1797.7 1510.6l0.3 1.2M1769.3 1519.2l-0.3 0.4M1785 1650.3l0.2 0.5M1804.6 1568.8l1.1 0.9M1958.4 1662.8l-0.1 0.5M1901.9 1651.6l-0.4 0.2M1949 1638.1l0.9 0.5M1771.7 1589.1l-0.1 0.1M1807 1460.8l-0.3 1M1787.5 1578l0.2 1M1765 1639l0.2 1.3M1846.6 1640.7l0.8 0.7M1872 1587.4l-0.3 0.2M1792.5 1504.7l0 0.1M1830.6 1496.3l0.2 0.4M1960.8 1545.8l-0.1 0.9M1826.9 1603.1l0.7 1.2M1915.6 1654.6l-0.1 0.2M1856.4 1641.3l0.4 0.8M1791.8 1496.4l-1 0.7M1952.7 1559.6l-0.6 0M1888.7 1634.3l-0.3 0.2M1786.8 1518.5l0 0.5M1835.2 1578.5l0 0M1896.6 1498.8l0.1 0.2M1973.3 1535.7l1.5 0.5M1888.3 1579.2l0.6 0.3M1976.4 1653.1l-0.3 1.2M1823.5 1590.9l0 0.8M1761.5 1571.6l-0.2 0.9M1827.5 1621.5l-0.1 0.4M1812.6 1546.9l-1.4 0.3M1828.1 1594.9l-0.1 0.7M1791.6 1629.6l0.5 0.1M1770.3 1455.7l0 0.7M1815.2 1497.5l1.5 0.3M1812.9 1568.5l0 0M1807.7 1580.4l0.1 0.2M1928.5 1514.7l-1.2 0.7M1769.4 1493l-0.6 0.8M1832.4 1464l0.2 0.3M1822.9 1546.2l-0.2 0.3M1858.7 1553.5l0.5 0.3M1870.8 1579.2l-0.5 0.3M1971.9 1518.9l0.3 0.2M1783.5 1524.4l-0.9 0.3M1777.1 1469.3l-1.5 0.2M1792.8 1585.3l-1 0.1M1787.8 1606.4l-0.7 1.2M1839.3 1612.2l0.3 0.1M1817.5 1571.5l-0.3 0.7M1981.8 1672.8l-0.3 1M1806 1648.4l0.2 0.3M1753.3 1507.7l-0.1 0.3M1914.9 1489.4l0.3 0.4M1816.8 1610.9l-0.4 1.3M1790.7 1553.2l0 0M1838.2 1693.3l1.3 0.4M1962.4 1513.4l1 1.1M1769.5 1507l1.2 0.3M1769.4 1615.3l-1.5 0M1760.9 1615.4l-0.1 0.3M1951.2 1516.1l-1.3 0.8M1896.2 1579l-0.1 0.1M1788.3 1485.7l-0.4 1.2M1793.4 1511.5l0.9 0.6M1845.2 1658.7l-0.3 0.2M1944 1476.9l0.7 0.4M1871.1 1487.4l-0.9 0.6M1987 1489.5l0.1 1.4M1811.7 1633.1l-1.5 0.5M1806.8 1458.2l-0.3 0.2M1813.8 1522.6l-0.4 1.4M1942.9 1587.7l0.5 0.1M1877.2 1610.4l1.2 0.7M1972.5 1672.2l-0.7 1.1M1820.5 1566.6l-0.9 0.4M1839.8 1547.1l-0.2 0.5M1985.6 1504l0.5 1.5M1844.2 1512.2l-1.2 0.2M1782.9 1597.1l-0.2 0.8M1773 1464.4l0 0.1M1800.9 1633.9l-1.4 0.5M1827.6 1648.6l-0.5 0.1M1759.9 1625.7l0.8 1.1M1883.1 1681.1l-0.1 0.1M1783.3 1651.6l-0.1 1.6M1850.2 1507.7l-0.1 0.1M1790.1 1503.4l1 0M1810.3 1513.2l1.3 0.2M1809.5 1643l-1.3 0.6M1929.9 1462.1l0.2 0.2M1757.8 1538.1l0.1 0.4M1885.5 1668.1l0.2 0.1M1964.7 1530.3l-1 0.8M1986.2 1525.7l-1.1 0.8M1912.2 1670.7l0.7 0.5M1855.1 1539.4l0 0.6M1804.3 1471.3l1 0.4M1758.4 1515.7l-0.2 1.3M1829 1542l0.7 0.3M1828.9 1470.3l0.5 0.2M1788.3 1619.2l0.5 0.8M1757.2 1568.1l-0.4 0.8M1878.7 1626.7l0 0M1859.4 1567.4l-0.7 0.3M1775.6 1623.5l0.5 0.1M1876.3 1616.5l-0.3 1.4M1921.4 1582.3l0 0.1M1773.5 1583.5l0.9 0.3M1805.1 1590.4l0.2 0.1M1958.5 1600.8l0.4 1.2M1761.6 1473l0.2 0.1M1850.2 1464.3l0 0.5M1777 1532.1l0.1 0.7M1981.1 1567l1.3 0.3M1826 1680.4l0.2 0.2M1914.6 1551.4l0.2 0.3M1852 1568.9l-0.7 0.3M1801.2 1605.2l0.2 1.2M1802 1620.5l-0.7 0.6M1936.6 1520.2l0.3 0.4M1815.6 1581.4l-0.3 0.6M1753.6 1563l0.1 0.3M1751.3 1495.7l-0.5 0.1M1839 1614l0.7 0.1M1832.8 1684.8l0.3 0.3M1919.4 1549.4l0 0M1969.2 1692.6l0.1 0.5M1954.9 1616.6l0 0.6M1820.2 1517.4l0.6 0.1M1761.2 1522.6l0.4 1.5M1822.8 1477l-0.5 1M1778.1 1573.8l0.1 0.4M1803 1615l0.4 0.3M1833.8 1639.4l-0.2 0M1928.5 1597.4l0.6 0M1880.3 1697l-0.6 1.4M1909.7 1464.1l0.4 0.3M1969.9 1472.1l0.2 0.5M1824.4 1572.3l1.2 0.9M1986.4 1693.3l0 0M1780.1 1511.1l1 0.2M1907.5 1584.2l-0.3 1.3M1892 1533.4l0 0M1952 1655l0.6 0.4M1800.8 1558.7l-1.1 0.4M1893.6 1583.7l-0.3 0.1M1758.3 1676.2l-1 0.9M1962.7 1574.3l-1 1.1M1969.4 1500.4l1.4 0.2M1807.9 1604.5l0 0.1M1790.7 1559.7l0.2 0.5M1901.6 1594.2l0.3 0.2M1801.6 1660.2l0 0M1884.6 1461.1l0 1" stroke="#2E2C68" stroke-width="3.6" stroke-linecap="round" opacity="0.75" fill="none"/></g><rect x="1900.7" y="1682.1" width="80.3" height="4.6" fill="#000"/></svg></body></html>
